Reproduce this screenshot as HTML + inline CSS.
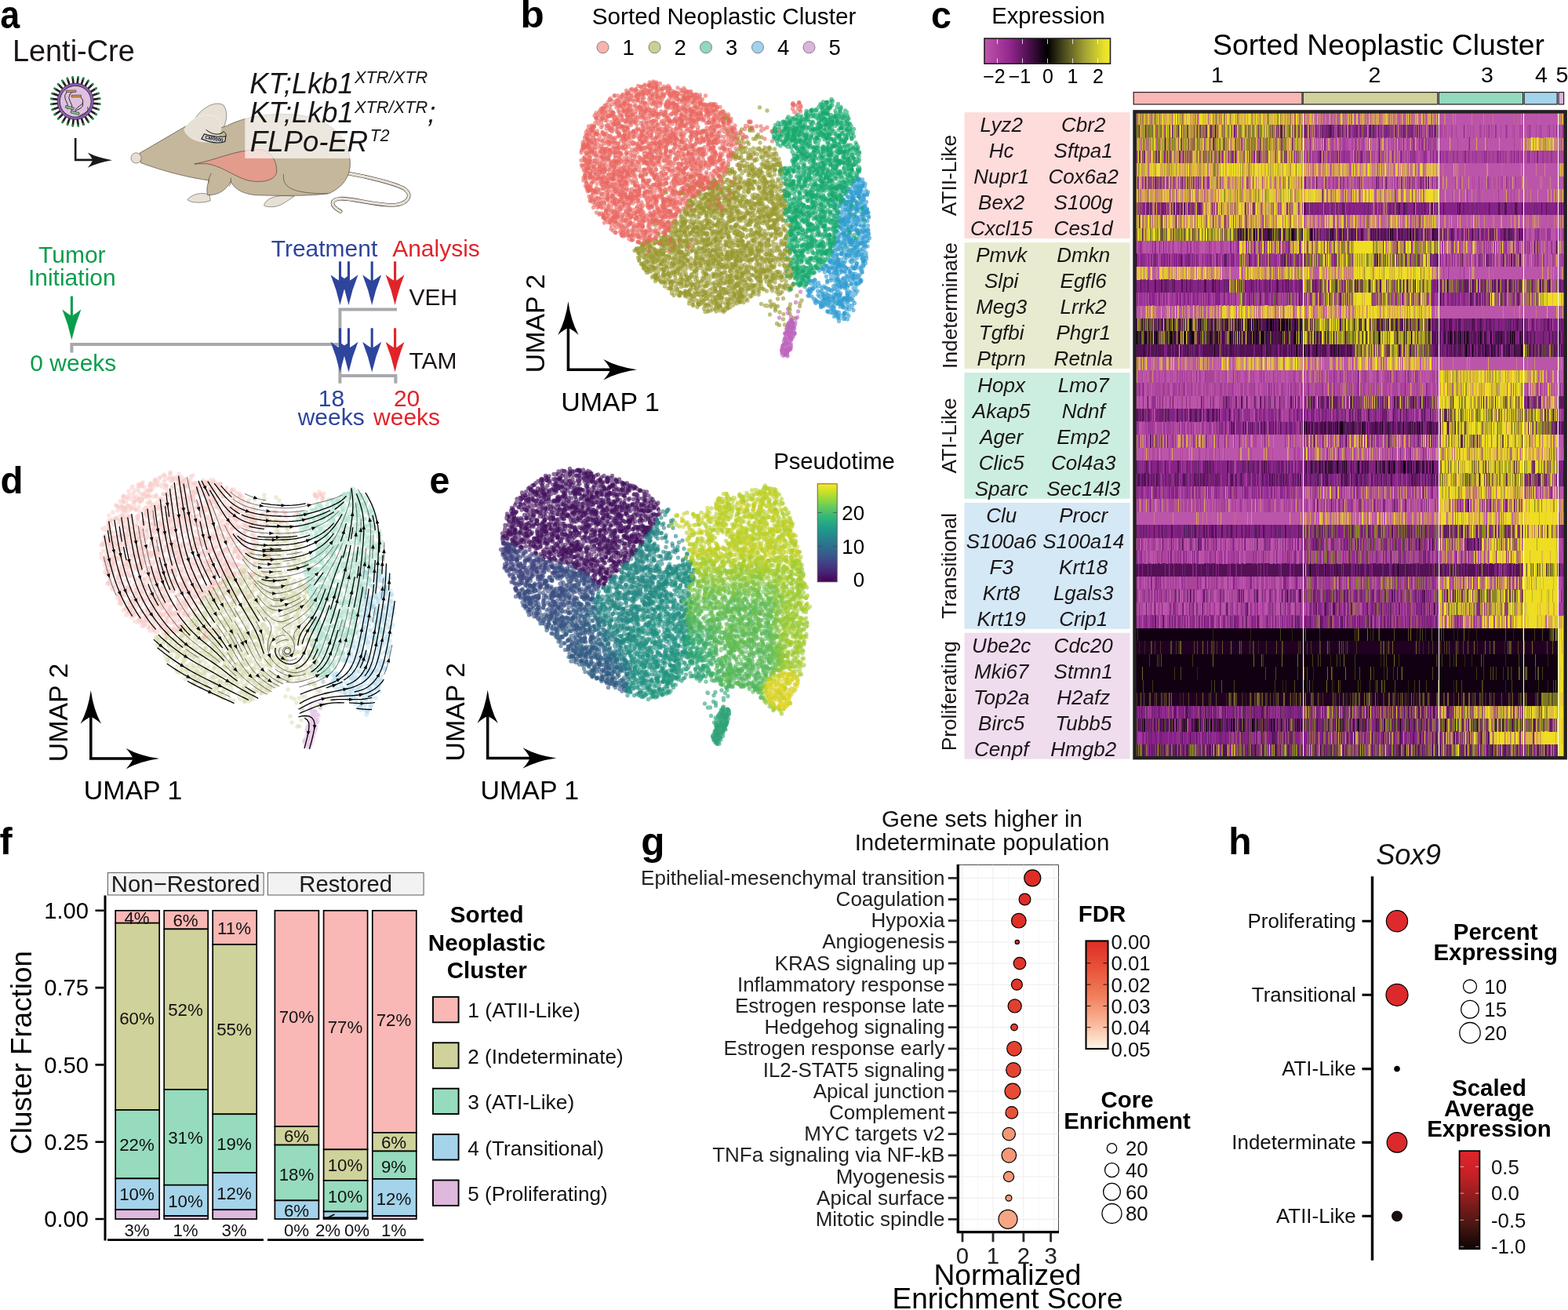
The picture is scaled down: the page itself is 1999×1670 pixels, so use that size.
<!DOCTYPE html>
<html lang="en"><head><meta charset="utf-8"><title>Figure</title>
<style>html,body{margin:0;padding:0;background:#fff}body{width:1999px;height:1670px}svg{display:block;font-family:"Liberation Sans",sans-serif}</style></head>
<body>
<svg width="1999" height="1670" viewBox="0 0 1999 1670">
<rect width="1999" height="1670" fill="#fff"/>
<g id="pa"><text transform="translate(0.2 35.6) scale(0.9 1)" font-size="49.8" font-weight="bold">a</text><text x="15.9" y="78.2" font-size="37.9" fill="#1a1416">Lenti-Cre</text><path d="M120.1 131.9L127.2 132.7M118.9 137.2L125.7 139.5M116.5 142.0L122.7 145.8M113.2 146.2L118.3 151.3M109.0 149.6L112.9 155.7M104.2 151.9L106.6 158.7M98.9 153.1L99.8 160.3M93.6 153.2L92.8 160.3M88.3 152.0L86.0 158.8M83.5 149.6L79.7 155.8M79.3 146.3L74.2 151.4M75.9 142.1L69.8 146.0M73.6 137.3L66.8 139.7M72.4 132.0L65.2 132.9M72.3 126.7L65.2 125.9M73.5 121.4L66.7 119.1M75.9 116.6L69.7 112.8M79.2 112.4L74.1 107.3M83.4 109.0L79.5 102.9M88.2 106.7L85.8 99.9M93.5 105.5L92.6 98.3M98.8 105.4L99.6 98.3M104.1 106.6L106.4 99.8M108.9 109.0L112.7 102.8M113.1 112.3L118.2 107.2M116.5 116.5L122.6 112.6M118.8 121.3L125.6 118.9M120.0 126.6L127.2 125.7" stroke="#231f20" stroke-width="2.7" stroke-linecap="round" fill="none"/><path d="M126.3 132.6L127.6 132.8M124.8 139.2L126.0 139.7M121.9 145.4L123.0 146.1M117.7 150.7L118.6 151.6M112.4 154.9L113.1 156.0M106.3 157.9L106.7 159.1M99.7 159.4L99.8 160.7M92.9 159.4L92.7 160.7M86.3 157.9L85.8 159.1M80.1 155.0L79.4 156.1M74.8 150.8L73.9 151.7M70.6 145.5L69.5 146.2M67.6 139.4L66.4 139.8M66.1 132.8L64.8 132.9M66.1 126.0L64.8 125.8M67.6 119.4L66.4 118.9M70.5 113.2L69.4 112.5M74.7 107.9L73.8 107.0M80.0 103.7L79.3 102.6M86.1 100.7L85.7 99.5M92.7 99.2L92.6 97.9M99.5 99.2L99.7 97.9M106.1 100.7L106.6 99.5M112.3 103.6L113.0 102.5M117.6 107.8L118.5 106.9M121.8 113.1L122.9 112.4M124.8 119.2L126.0 118.8M126.3 125.8L127.6 125.7" stroke="#1f9a4a" stroke-width="2" stroke-linecap="round" fill="none"/><circle cx="96.2" cy="129.3" r="23.2" fill="#8c5eb5" stroke="#231f20" stroke-width="0.7"/><circle cx="96.2" cy="129.3" r="19.9" fill="#dfc1df" stroke="#231f20" stroke-width="0.8"/><g fill="none" stroke="#1f1a1c" stroke-width="0.9"><path d="M85.2 117.30000000000001q-4 4 -2 9q4 6 3 13"/><path d="M95.2 116.80000000000001q-4 0.5 -6 3q-3 5 0 9q4 5 2 12"/><path d="M102.7 123.80000000000001q5 4 2 9q-8 5 -9 8"/><path d="M105.2 130.3q2 5 -3 8q-5 2 -7 4"/><path d="M111.7 136.3q2 5 -4 8q-4 2 -7 4"/></g><g stroke="#1f1a1c" stroke-width="0.6"><rect x="84.60000000000001" y="115.10000000000001" width="12.2" height="2.4" fill="#e3a24e" transform="rotate(-1 90.2 116.30000000000001)"/><rect x="91.2" y="121.30000000000001" width="12.2" height="2.5" fill="#e3a24e" transform="rotate(-1 97.2 122.30000000000001)"/><rect x="83.4" y="135.9" width="10.8" height="2.7" fill="#7fd09b" transform="rotate(14 89.2 137.3)"/><rect x="90.2" y="142.3" width="10.8" height="2.7" fill="#7fd09b" transform="rotate(14 95.2 143.60000000000002)"/></g><path d="M96.2 176V203.9H120" stroke="#1a1a1a" stroke-width="2.6" fill="none"/><path d="M143 204.2Q124 207.4 111.8 213.8Q116.5 208.3 118.2 204.2Q116.5 200 111.8 194.6Q124 201 143 204.2Z" fill="#1a1a1a"/><path d="M443.8 221.0 C469.7 225.5 501.2 233.3 514.7 240.1 C528.2 249.1 519.2 260.4 501.2 261.5 C476.4 261.5 449.4 252.5 433.7 253.2 C420.1 254.7 421.3 262.6 434.1 269.4 " fill="none" stroke="#3a3530" stroke-width="4.6" stroke-linecap="round"/><path d="M443.8 221.0 C469.7 225.5 501.2 233.3 514.7 240.1 C528.2 249.1 519.2 260.4 501.2 261.5 C476.4 261.5 449.4 252.5 433.7 253.2 C420.1 254.7 421.3 262.6 434.1 269.4 " fill="none" stroke="#e7e0d4" stroke-width="3.4" stroke-linecap="round"/><path d="M246.8 154.6 C255.8 136.5 276.1 127.5 285.1 134.3 C291.8 143.3 288.5 159.1 281.7 168.1 C267.1 165.8 255.8 161.3 246.8 154.6 Z" fill="#e7e0d4" stroke="#3a3530" stroke-width="0.5"/><path d="M336.9 260.4 C341.4 251.4 352.6 248.0 375.1 250.2 C366.1 255.9 359.4 262.6 348.1 263.7 C341.4 263.7 335.7 263.7 336.9 260.4 Z" fill="#e7e0d4" stroke="#3a3530" stroke-width="0.5"/><path d="M238.9 254.7 C244.6 246.9 258.1 244.6 267.1 248.0 L268.2 255.9 C258.1 259.2 244.6 259.2 238.9 254.7 Z" fill="#e7e0d4" stroke="#3a3530" stroke-width="0.5"/><path d="M178.1 195.1 C201.8 181.6 224.3 168.1 240.0 159.1 C258.1 165.8 276.1 165.8 289.6 160.2 C312.1 148.9 341.4 143.7 375.1 146.0 C408.9 148.9 433.7 164.7 442.7 188.3 C450.5 210.8 447.2 233.3 420.1 246.4 C397.6 250.2 352.6 249.6 325.6 248.7 C307.6 246.9 298.6 240.1 294.1 231.1 C289.6 240.1 280.6 249.1 264.8 248.7 C262.6 240.1 264.8 233.3 267.1 230.0 C240.0 226.6 206.3 217.6 179.3 207.5 Z" fill="#c5b79c" stroke="#3a3530" stroke-width="0.6"/><path d="M361.6 222.1 C359.4 237.8 370.6 246.9 417.9 246.9 " fill="none" stroke="#3a3530" stroke-width="0.6"/><path d="M269.3 221.0 C267.1 225.5 265.9 228.8 265.3 233.3 " fill="none" stroke="#3a3530" stroke-width="0.6"/><path d="M294.1 226.6 C295.2 231.1 294.1 233.3 292.3 237.8 " fill="none" stroke="#3a3530" stroke-width="0.6"/><path d="M247.9 209.0 C276.1 204.1 296.3 191.7 330.1 190.6 C345.9 191.7 353.7 206.3 352.6 219.8 C350.4 231.1 330.1 234.5 312.1 228.8 C294.1 222.1 280.6 210.8 262.6 208.6 Z" fill="#e39b8c" stroke="#3a3530" stroke-width="0.6"/><circle cx="173.6" cy="201.4" r="6.6" fill="#e7e0d4" stroke="#3a3530" stroke-width="0.5"/><path d="M235.1 165.8 C240.0 150.0 262.6 143.3 276.1 148.9 C285.1 156.8 282.8 170.3 273.8 179.3 C260.3 183.8 240.0 179.3 235.1 165.8 Z" fill="#e7e0d4" stroke="#f4f0ea" stroke-width="0.8"/><path d="M260.3 170.8 C269.3 173.7 278.3 175.3 287.8 173.7 L286.9 180.4 C278.3 183.4 267.1 181.6 256.9 177.1 Z" fill="#c9cbcd" stroke="#111" stroke-width="1.1"/><path d="M262.6 165.4 C271.6 172.6 280.6 172.6 285.1 167.6 C288.5 170.3 288.5 172.6 287.8 173.7 " fill="none" stroke="#111" stroke-width="1"/><text x="272.7" y="178.9" font-size="6.2" font-weight="bold" text-anchor="middle" transform="rotate(10 272.7 178.9)" fill="#111">CM0000</text><rect x="312.3" y="100" width="134.7" height="101.9" fill="#fff" fill-opacity="0.68"/><text x="318.2" y="118.5" font-size="36.3" font-style="italic" fill="#1a1416">KT;Lkb1</text><text x="452" y="105.9" font-size="21.3" font-style="italic" fill="#1a1416" textLength="93.3" lengthAdjust="spacingAndGlyphs">XTR/XTR</text><text x="318.2" y="156.3" font-size="36.3" font-style="italic" fill="#1a1416">KT;Lkb1</text><text x="452" y="143.7" font-size="21.3" font-style="italic" fill="#1a1416" textLength="93.3" lengthAdjust="spacingAndGlyphs">XTR/XTR</text><text x="545.2" y="156.3" font-size="36.3" font-style="italic" fill="#1a1416">;</text><text x="318.8" y="192.8" font-size="36.3" font-style="italic" fill="#1a1416" textLength="150.5" lengthAdjust="spacingAndGlyphs">FLPo-ER</text><text x="471.8" y="180.2" font-size="21.3" font-style="italic" fill="#1a1416">T2</text><path d="M91.4 449.4V438.9H433.4M433.4 488.8V394.4H506M433.4 479.1H504.4V488.8" stroke="#a7a9ac" stroke-width="4" fill="none"/><text x="91.8" y="334.5" font-size="30" text-anchor="middle" fill="#0a9d4c">Tumor</text><text x="91.8" y="363.8" font-size="30" text-anchor="middle" fill="#0a9d4c">Initiation</text><text x="93.3" y="472.5" font-size="30" text-anchor="middle" fill="#0a9d4c">0 weeks</text><path d="M91.4 377.6V403.9" stroke="#0a9d4c" stroke-width="3.1" fill="none"/><path d="M91.4 433.4Q87.2 414 79.4 394.6Q86 399.9 91.4 402.9Q96.8 399.9 103.4 394.6Q95.6 414 91.4 433.4Z" fill="#0a9d4c"/><path d="M433.5 333.3V359.5" stroke="#2e459d" stroke-width="3.1" fill="none"/><path d="M433.5 389Q429.3 369.6 421.5 350.2Q428.1 355.5 433.5 358.5Q438.9 355.5 445.5 350.2Q437.7 369.6 433.5 389Z" fill="#2e459d"/><path d="M444.5 333.3V359.5" stroke="#2e459d" stroke-width="3.1" fill="none"/><path d="M444.5 389Q440.3 369.6 432.5 350.2Q439.1 355.5 444.5 358.5Q449.9 355.5 456.5 350.2Q448.7 369.6 444.5 389Z" fill="#2e459d"/><path d="M474.2 333.3V359.5" stroke="#2e459d" stroke-width="3.1" fill="none"/><path d="M474.2 389Q470 369.6 462.2 350.2Q468.8 355.5 474.2 358.5Q479.6 355.5 486.2 350.2Q478.4 369.6 474.2 389Z" fill="#2e459d"/><path d="M503.6 333.3V359.5" stroke="#e1242a" stroke-width="3.1" fill="none"/><path d="M503.6 389Q499.4 369.6 491.6 350.2Q498.2 355.5 503.6 358.5Q509 355.5 515.6 350.2Q507.8 369.6 503.6 389Z" fill="#e1242a"/><path d="M433.5 418.3V445" stroke="#2e459d" stroke-width="3.1" fill="none"/><path d="M433.5 474.5Q429.3 455.1 421.5 435.7Q428.1 441 433.5 444Q438.9 441 445.5 435.7Q437.7 455.1 433.5 474.5Z" fill="#2e459d"/><path d="M444.5 418.3V445" stroke="#2e459d" stroke-width="3.1" fill="none"/><path d="M444.5 474.5Q440.3 455.1 432.5 435.7Q439.1 441 444.5 444Q449.9 441 456.5 435.7Q448.7 455.1 444.5 474.5Z" fill="#2e459d"/><path d="M474.2 418.3V445" stroke="#2e459d" stroke-width="3.1" fill="none"/><path d="M474.2 474.5Q470 455.1 462.2 435.7Q468.8 441 474.2 444Q479.6 441 486.2 435.7Q478.4 455.1 474.2 474.5Z" fill="#2e459d"/><path d="M503.6 418.3V445" stroke="#e1242a" stroke-width="3.1" fill="none"/><path d="M503.6 474.5Q499.4 455.1 491.6 435.7Q498.2 441 503.6 444Q509 441 515.6 435.7Q507.8 455.1 503.6 474.5Z" fill="#e1242a"/><text x="413.5" y="327" font-size="30" text-anchor="middle" fill="#2e459d">Treatment</text><text x="556" y="327" font-size="30" text-anchor="middle" fill="#e1242a">Analysis</text><text x="521.5" y="389" font-size="30" fill="#1a1416">VEH</text><text x="521.5" y="470.3" font-size="30" fill="#1a1416">TAM</text><text x="422.5" y="518.1" font-size="30" text-anchor="middle" fill="#2e459d">18</text><text x="422.2" y="541.6" font-size="30" text-anchor="middle" fill="#2e459d">weeks</text><text x="518.6" y="518.1" font-size="30" text-anchor="middle" fill="#e1242a">20</text><text x="518.6" y="541.6" font-size="30" text-anchor="middle" fill="#e1242a">weeks</text></g>
<g id="pb"><text transform="translate(663.6 35.4) scale(1.03 1)" font-size="48" font-weight="bold">b</text><text x="923" y="31.3" font-size="29.7" text-anchor="middle">Sorted Neoplastic Cluster</text><circle cx="768.5" cy="60.3" r="7.5" fill="#f8b3ae" stroke="#808080" stroke-width="1"/><text x="793.5" y="70" font-size="27.5">1</text><circle cx="834.5" cy="60.3" r="7.5" fill="#cdcf92" stroke="#808080" stroke-width="1"/><text x="859.5" y="70" font-size="27.5">2</text><circle cx="900" cy="60.3" r="7.5" fill="#90d9bb" stroke="#808080" stroke-width="1"/><text x="925" y="70" font-size="27.5">3</text><circle cx="966" cy="60.3" r="7.5" fill="#9fd2ee" stroke="#808080" stroke-width="1"/><text x="991" y="70" font-size="27.5">4</text><circle cx="1031.5" cy="60.3" r="7.5" fill="#ddb4de" stroke="#808080" stroke-width="1"/><text x="1056.5" y="70" font-size="27.5">5</text><g fill="none" stroke-linecap="round" stroke-width="5.3" stroke-opacity=".6"><path d="M928 153.5h0m28 9h0m4 4h0m3.5 10.5h0m2-2.5h0m2 .5h0m-23.5 15.5h0m7-2h0m24-.5h0m-41.5 9h0m20.5 2h0m22-.5h0m.5-3h0m-37.5 4.5h0m4 1.5h0m3.5 3h0m18-2h0m.5 1h0m6-2.5h0m2 3h0m12.5 0h0m-40 7.5h0m10 1h0m3-3h0m14.5-.5h0m1.5 0h0m1.5 4.5h0m1-6.5h0m1.5 2.5h0m.5 0h0m6.5.5h0m4.5-.5h0m1.5-1.5h0m2 1h0m1 2h0m-61 4.5h0m3.5 4h0m14.5-2h0m5-1.5h0m4.5-2.5h0m.5 6h0m8-4.5h0m2.5 5h0m7-4h0m3-2.5h0m13.5 2h0m1.5-1h0m-73.5 8.5h0m7.5-1.5h0m23 2h0m10-2h0m4.5 5.5h0m2.5-2h0m3.5 0h0m6.5-3h0m.5 1.5h0m12.5-1h0m-82.5 10h0m11 0h0m9.5-1h0m2 1h0m9 .5h0m2 .5h0m9.5-1.5h0m7-.5h0m13.5 1.5h0m0-4.5h0m13.5 5h0m-99.5 1h0m17 5.5h0m4-3.5h0m5.5-1h0m14 2.5h0m7.5-2.5h0m2.5 0h0m2.5 1.5h0m1.5 2h0m.5-2.5h0m2.5 2h0m2.5 1.5h0m5-4.5h0m1 5.5h0m1-6h0m2.5 1h0m1 3.5h0m9 1.5h0m7-5.5h0m3.5 2.5h0m6.5.5h0m2.5-2h0m-125 10h0m44 1.5h0m14.5 0h0m6.5-5h0m7.5 3.5h0m5-2h0m1-3h0m0 .5h0m12 .5h0m.5 2.5h0m15-1.5h0m6.5 5h0m1-1h0m4.5-1h0m1-1.5h0m.5-3h0m-97.5 8.5h0m9 4h0m6-2h0m1.5 3h0m7.5-6h0m3 5.5h0m.5.5h0m12-2h0m3.5.5h0m10 .5h0m3.5-4.5h0m8.5 0h0m9-1h0m.5 4.5h0m0-.5h0m6-1h0m.5-2.5h0m0 4h0m3.5-2h0m6.5 1h0m8-3.5h0m11 6h0m3.5-5.5h0m-120 7h0m1 0h0m1.5 5h0m1.5 0h0m5.5-.5h0m5-3h0m19.5 0h0m7 1.5h0m2.5-.5h0m1 2.5h0m3-2h0m1 2h0m5 0h0m0-4h0m2.5 4h0m2.5-1h0m6-4h0m9.5.5h0m4.5 0h0m1.5-1h0m10.5 4.5h0m4 0h0m8.5-3h0m1.5 0h0m10 1h0m2.5 1.5h0m-128 9h0m5.5-1h0m4-4h0m8 5h0m8-3.5h0m4.5-1h0m.5 0h0m5.5-.5h0m1.5-.5h0m1.5 3h0m2-4h0m1.5 4.5h0m2-4h0m4 .5h0m2 2h0m4-1.5h0m4 1h0m2.5 4h0m1-4h0m2 2h0m5 2.5h0m2-6.5h0m11.5 2h0m11 3h0m10.5-1.5h0m6.5-3h0m5 4.5h0m2.5-1.5h0m2-1h0m13-1.5h0m.5 1.5h0m-132.5 9h0m.5 1.5h0m4-5.5h0m3 .5h0m4 4.5h0m11.5.5h0m1.5-3h0m1.5-2.5h0m6 5h0m6.5-1.5h0m14-2h0m5.5-.5h0m5-1h0m2 2.5h0m6.5-1.5h0m8.5.5h0m5.5-.5h0m2.5 1.5h0m2.5-3h0m.5 6h0m.5-.5h0m13-.5h0m2-2.5h0m9.5 1.5h0m5-.5h0m1.5 1.5h0m3-.5h0m-142.5 8.5h0m10-1h0m12.5 0h0m8-1.5h0m9.5 2.5h0m9-3h0m3 3h0m0-1.5h0m7.5-4h0m5 3h0m3.5.5h0m3 1h0m7.5-5h0m3.5 1.5h0m1 1h0m8-.5h0m.5 2.5h0m3-4.5h0m3 0h0m1.5 6h0m6.5-2h0m4.5-2h0m8-2h0m.5 5.5h0m1.5-1h0m3.5-.5h0m5.5.5h0m0-5h0m6 4h0m4.5-1.5h0m7 1h0m-144 8.5h0m2.5 0h0m3.5-3.5h0m7.5 2h0m3-3.5h0m2.5 3.5h0m.5-3h0m10.5.5h0m12 4h0m3-.5h0m5.5 2h0m5.5-2.5h0m4-1.5h0m.5-1h0m8 2.5h0m1 0h0m3.5-3h0m9.5 4.5h0m1.5-2h0m.5-1h0m6 4h0m7.5-5.5h0m4.5 2h0m8.5 0h0m2 1.5h0m15 2h0m1 0h0m4-4h0m-131.5 10h0m5.5-5h0m4 3.5h0m1.5 0h0m6 2h0m7.5.5h0m5-5h0m1 3.5h0m2-4h0m.5 2.5h0m3.5 2h0m1-2.5h0m6-3h0m1.5 6.5h0m1 .5h0m8.5-1.5h0m1 1h0m.5-1.5h0m8.5-.5h0m6-4h0m4.5 3.5h0m3-4h0m.5 3.5h0m0-.5h0m24 3.5h0m0-4h0m6.5 3h0m4 1h0m20-5h0m3 1.5h0m1.5-2h0m3 5.5h0m2.5-4.5h0m8 2.5h0m.5 1.5h0m-159 4h0m.5 3h0m5.5-.5h0m8-2.5h0m3.5 3h0m9-2.5h0m.5 3h0m16.5-6h0m10 3.5h0m2 .5h0m15 2h0m1 0h0m10-1h0m1.5 1h0m9-4.5h0m20.5-.5h0m8.5 1h0m4-2h0m1.5 5.5h0m.5-4h0m9-1.5h0m7-.5h0m4.5 2.5h0m-172.5 11.5h0m5-2h0m8-4h0m0 4h0m8.5-2.5h0m4.5.5h0m5.5 0h0m1 1h0m3.5-2h0m1 4.5h0m15-3h0m.5 3.5h0m4.5-2.5h0m.5-2.5h0m6.5 3h0m9-4.5h0m2.5 0h0m3 0h0m.5 5h0m2 .5h0m2.5 0h0m6-6h0m1 2.5h0m2.5 3.5h0m3-5h0m9.5 3h0m14.5 1.5h0m3.5-2.5h0m12-1.5h0m12 4h0m9-4h0m18.5 3h0m1 1.5h0m1-5h0m1.5 3h0m-190 8.5h0m1.5-.5h0m6-1.5h0m5.5 2.5h0m1.5-3h0m8 2.5h0m13-.5h0m3-5h0m11.5 3h0m4.5-.5h0m3 0h0m8-1h0m0 1h0m.5.5h0m7 2.5h0m11.5 0h0m2.5-3h0m20 3.5h0m7.5-4.5h0m11-.5h0m4.5.5h0m3.5-.5h0m0 6h0m3.5-4.5h0m0 2.5h0m3-3.5h0m25.5 0h0m3-.5h0m.5-.5h0m22.5 4h0m-194 3.5h0m6.5 2.5h0m.5 3h0m3-1h0m1-5h0m3 6.5h0m2.5-6.5h0m11 3h0m5-1.5h0m1 3h0m2.5 1h0m.5-1h0m21-1.5h0m3-.5h0m6 3.5h0m7-6h0m5.5 3.5h0m2-3h0m7 1.5h0m2.5-2h0m7.5 6.5h0m1.5-6.5h0m4.5 0h0m3.5 5.5h0m.5 0h0m3-.5h0m8-2.5h0m3.5 3h0m2-5h0m7.5.5h0m.5 0h0m3.5 0h0m9.5 2h0m.5-.5h0m2 2.5h0m.5-1h0m2.5-4h0m5.5.5h0m2 4h0m0 1.5h0m3.5-4.5h0m6.5 3.5h0m4-4.5h0m2 2h0m1 4h0m9.5-.5h0m3-2h0m6.5-3.5h0m-190 9h0m0 0h0m1 2.5h0m7.5-2h0m.5-2.5h0m6.5 1.5h0m9 2.5h0m2.5-1.5h0m2.5-3h0m.5 5h0m2-3.5h0m2 4h0m11.5-1.5h0m15-2h0m14-2.5h0m6.5 5h0m8.5 0h0m1.5-1h0m1 0h0m.5.5h0m5.5 1h0m4.5-5h0m3.5 5h0m6-1.5h0m1-3.5h0m1 1.5h0m6.5 1h0m4 3h0m2-5h0m0 2.5h0m4 3.5h0m1.5-2h0m5.5 1h0m1-5.5h0m4.5 5h0m6.5-2h0m9 .5h0m4 1h0m1.5.5h0m8 .5h0m8-2.5h0m7.5-2.5h0m5 4h0m-186 5.5h0m1 2.5h0m3-4.5h0m7.5 0h0m11 2.5h0m6.5 2.5h0m1-2.5h0m9 1.5h0m3.5.5h0m1 0h0m1.5-4.5h0m7.5 2.5h0m.5.5h0m3.5-4h0m2 5h0m2 0h0m6.5-2.5h0m14.5-2.5h0m3 5.5h0m2-3h0m2.5-2h0m6 2.5h0m14-2h0m4 3h0m3.5 0h0m7-3h0m27.5.5h0m.5 4h0m5.5-5h0m.5-.5h0m3 0h0m2 5.5h0m5-.5h0m.5-3h0m1-1.5h0m5 4h0m13-4h0m-184 10.5h0m1-1h0m6 3h0m3.5-5.5h0m10.5 2.5h0m1.5 2h0m1-5h0m.5 3.5h0m13-2h0m1.5 2h0m3 0h0m0-1h0m5-.5h0m7-1.5h0m4.5 2h0m5.5 3h0m18.5-3h0m16-2h0m2.5 0h0m7.5 5.5h0m3.5-4.5h0m10 1.5h0m8-1.5h0m1.5-2h0m0 6.5h0m1.5-3h0m2.5-1h0m3 0h0m9.5 1h0m3.5.5h0m5.5-1h0m6.5-1.5h0m5.5 5.5h0m10-2h0m3-2.5h0m.5-1.5h0m-178 6.5h0m9.5 5h0m9-2.5h0m.5 2h0m3-.5h0m3.5-4h0m2 5.5h0m0-3.5h0m3 0h0m2-2h0m8.5 6.5h0m7-1h0m11.5.5h0m13.5-3.5h0m.5-.5h0m8.5 4h0m0-4h0m5 1h0m.5.5h0m.5 1h0m2 .5h0m3.5-3.5h0m.5 3.5h0m5.5-.5h0m5 .5h0m2.5-4.5h0m3.5-.5h0m2 1.5h0m6.5 2h0m13.5 0h0m4.5-4h0m3.5.5h0m2 5.5h0m2.5-4.5h0m3-1h0m0 3h0m2 3h0m12.5-1.5h0m19.5 0h0m-172.5 4h0m3 1h0m3 2h0m3 1.5h0m8.5-1h0m5 1h0m11.5-3.5h0m16 .5h0m3 3h0m6-5.5h0m1.5 2h0m2.5 2h0m15-2.5h0m2.5 3.5h0m2-4.5h0m0 5h0m7-2h0m2-2.5h0m.5 3h0m3-4h0m.5-1h0m8 2h0m2.5-1h0m7.5 5h0m4.5-5h0m1 2h0m9-1.5h0m4 3h0m13.5 1.5h0m.5 0h0m3-4.5h0m2.5-1h0m0 6h0m8.5-2.5h0m2.5-2.5h0m3 3.5h0m-138.5 3h0m5 4h0m0-3.5h0m6.5 2.5h0m4-1h0m1.5 1h0m7 1.5h0m2-1h0m.5-.5h0m.5-.5h0m8.5 1h0m1.5-2.5h0m0-2h0m5.5 1h0m3.5 1h0m1 5h0m13.5-6.5h0m15.5 1h0m1.5 0h0m2-1.5h0m.5 5.5h0m3-3h0m1 4h0m3.5-6h0m5.5 2h0m6.5.5h0m17-1h0m1 1.5h0m19 2.5h0m2-4.5h0m-147.5 5.5h0m8.5 6.5h0m.5-6h0m0 1h0m0 1h0m2.5 2.5h0m7 1h0m5.5-2h0m2.5-3h0m4 4.5h0m3-3.5h0m1.5 1.5h0m0-2h0m2 2h0m1 1h0m3-2.5h0m1.5 1h0m11-3h0m2.5 4.5h0m2-3.5h0m.5 3h0m6-2.5h0m.5-1h0m5 6h0m1-4h0m15.5 1.5h0m2.5-2h0m5-2h0m4.5 1.5h0m7 3.5h0m7.5-.5h0m1-4h0m15 .5h0m1 2h0m7.5-1h0m5 2.5h0m-138 4.5h0m6.5-.5h0m8.5-.5h0m7 4.5h0m16-3h0m3-2h0m0 6h0m1-1h0m13-2h0m0 2h0m4.5-4h0m1 4h0m1-2.5h0m9-3h0m7.5.5h0m5 5h0m.5-4h0m1.5-1h0m.5 0h0m3 3.5h0m44 2.5h0m1-6h0m23.5 2h0m-125.5 10h0m24 1h0m3-1.5h0m.5-4h0m10.5 5h0m2-3.5h0m2 .5h0m1.5-1.5h0m5 4h0m1.5-2h0m.5-3h0m4 2h0m25.5 3.5h0m11.5-3.5h0m-65 10h0m1-3h0m57.5-1.5h0m2.5.5h0m10.5 3.5h0m3-3h0m-78.5 6.5h0m5-1h0m63.5 5h0m17.5-.5h0m-.5 6.5h0m-5 7.5h0" stroke="#96962a"/><path d="M828 105h0m5.5.5h0m2 0h0m1-.5h0m.5.5h0m-26.5 8.5h0m16.5-5h0m5.5 3.5h0m3.5-1h0m7 2h0m3-3h0m2.5.5h0m5 2h0m16.5 2.5h0m2-3h0m-78 8h0m16.5-2h0m1.5 3h0m2-.5h0m9.5-2h0m3-1.5h0m4.5 4.5h0m3.5-2.5h0m12 1h0m13-2h0m3.5 4h0m7.5-.5h0m3.5-3.5h0m3.5 2.5h0m2 0h0m3.5 0h0m3.5-.5h0m-99 7.5h0m10.5.5h0m0-5.5h0m2.5 5.5h0m6-2h0m2-2h0m.5 2.5h0m2 1h0m2.5-3.5h0m5.5 1.5h0m2-1h0m8-.5h0m8.5-1h0m4 1h0m14.5.5h0m2.5-2h0m13 .5h0m.5 3.5h0m1.5-2.5h0m2.5 4.5h0m4.5-6.5h0m4.5 4h0m4-3.5h0m3 3.5h0m1.5 2.5h0m-120.5 5h0m6.5-.5h0m5-.5h0m2.5 0h0m1 3h0m2.5-4h0m4 4h0m.5-4h0m7 2h0m2 .5h0m5 1h0m12-5h0m10.5 2.5h0m17.5 2.5h0m4.5-.5h0m5.5-3.5h0m1 4.5h0m1-.5h0m4.5 1h0m8-1h0m12-.5h0m7.5-2.5h0m1.5.5h0m6.5 2.5h0m5-3h0m4.5 3h0m102.5-1.5h0m8 2.5h0m-252 1.5h0m.5-.5h0m2 5.5h0m14.5-6h0m2 1h0m5.5-.5h0m.5 3.5h0m6 1.5h0m4-3h0m11-3h0m2 3h0m7.5 1h0m3.5-1.5h0m20.5 4.5h0m15-3h0m4.5 0h0m.5-3.5h0m0 4h0m7 1.5h0m.5-5h0m3 4h0m1 .5h0m3.5 0h0m17.5-4h0m1.5 5h0m3.5-1.5h0m3.5-1h0m2-3h0m10 5h0m91 0h0m8-.5h0m-262.5 5.5h0m2 1h0m1.5-2h0m2.5-2.5h0m5 4h0m0-3.5h0m.5-1h0m9.5 3.5h0m1.5-.5h0m0-2h0m1.5-.5h0m22 6.5h0m1.5-2.5h0m4.5-2.5h0m3.5 4h0m2.5-2h0m.5-1.5h0m1.5 2h0m11.5.5h0m2.5-1h0m4-2h0m.5 2h0m4.5-2h0m5 1h0m4.5 3h0m5.5-4.5h0m4.5 0h0m7.5 1h0m12.5-.5h0m5.5 2.5h0m2 .5h0m0-3.5h0m5 0h0m25-.5h0m5 5.5h0m2-2.5h0m3.5 1h0m86-4.5h0m-252.5 9.5h0m4.5 2h0m2-5h0m5.5 3.5h0m10.5 2h0m1.5 1.5h0m.5-2.5h0m1-2.5h0m6 .5h0m5.5 0h0m5 1.5h0m4.5-3.5h0m1 .5h0m0 5h0m3-3h0m11.5 3.5h0m7-2h0m12 2h0m3.5-3.5h0m1.5-1h0m5 1.5h0m1-.5h0m5.5.5h0m3.5 2.5h0m4-5h0m3 3h0m9-2.5h0m4 .5h0m.5 0h0m2 .5h0m0 0h0m4-.5h0m2.5-1.5h0m2.5 0h0m9 4.5h0m1 .5h0m5-1.5h0m0-4h0m12 4h0m.5 0h0m0-2h0m1 2.5h0m6-.5h0m3 1h0m22.5-.5h0m-199 6.5h0m12.5-1.5h0m5 4h0m3.5-.5h0m5-5h0m12 3h0m5.5 0h0m20.5-.5h0m4 1h0m2.5 1h0m1 1h0m11.5-5.5h0m.5 4.5h0m2 1h0m1-6h0m15 0h0m10.5 3.5h0m1.5-3.5h0m3.5 3h0m7.5-3h0m1.5 4h0m24 .5h0m2 1h0m3.5-1.5h0m10.5 0h0m2.5.5h0m2 1.5h0m6.5 0h0m18-3.5h0m2 0h0m17.5.5h0m-220.5 4.5h0m1 0h0m2-.5h0m1 0h0m1.5 1.5h0m6 4h0m12-.5h0m14-1.5h0m2.5 2h0m7-3.5h0m0 4h0m7-.5h0m3 .5h0m2-1h0m4.5-5h0m4.5 3h0m4-2h0m4 1.5h0m24.5-2h0m12-.5h0m27 5h0m.5-4h0m3.5 1.5h0m0 1.5h0m3.5-1.5h0m6 4h0m3-5.5h0m.5 5h0m.5-5h0m0 1.5h0m.5 4h0m.5 0h0m2.5-4.5h0m15.5-2.5h0m9 4.5h0m49.5-1.5h0m0 0h0m-238.5 11h0m0-3.5h0m.5 1h0m2.5-3h0m7.5 4h0m.5-1h0m0-.5h0m19 2h0m1.5-2.5h0m.5-1.5h0m1 0h0m2 2.5h0m1.5.5h0m7-3.5h0m.5-.5h0m4 4.5h0m3-1.5h0m.5 2h0m3.5-1.5h0m18 .5h0m.5 1h0m0-2.5h0m12.5.5h0m16-1.5h0m.5 4.5h0m1.5-3.5h0m3 .5h0m2-1h0m2.5-2.5h0m1 5.5h0m.5-5h0m1.5 3h0m1 2.5h0m7.5-4.5h0m11.5.5h0m14 2h0m2.5 2h0m5-6h0m1.5 4.5h0m8.5 2h0m11.5-4h0m5.5-3h0m-180 8h0m2.5 1h0m4.5 0h0m2.5-2h0m.5 4.5h0m11.5-3.5h0m6.5 0h0m3.5 2.5h0m2.5-.5h0m13-1h0m3 3.5h0m.5-4.5h0m4-.5h0m1.5.5h0m2 1.5h0m.5 3h0m11.5-2h0m9.5 1h0m2.5 0h0m3.5-.5h0m1-.5h0m.5-1h0m.5 2.5h0m22.5-2.5h0m2.5 4h0m.5-5h0m8 1h0m1.5-.5h0m0 .5h0m4 4.5h0m5-1.5h0m8-3h0m.5-1h0m.5-1.5h0m6.5 2h0m2.5-.5h0m4.5-1h0m7.5 1h0m1.5 1.5h0m11.5-2h0m6 5h0m6-5.5h0m3 4.5h0m4.5-1h0m-199 4h0m.5 2.5h0m5.5-3h0m1.5 2.5h0m3.5 1.5h0m0-2.5h0m1 3.5h0m11-4.5h0m6.5 2.5h0m2.5 3.5h0m9-3h0m9-2.5h0m19.5-.5h0m1 .5h0m3 1h0m1 .5h0m3.5 0h0m8 2.5h0m10-4.5h0m7 0h0m13.5 2.5h0m9.5 1.5h0m8.5-1h0m2 1h0m3-.5h0m0-3.5h0m2.5 5.5h0m4.5 0h0m0-2h0m1.5.5h0m7-3h0m8.5 1.5h0m3-1h0m8 1h0m5 1h0m7.5 1h0m7.5-1.5h0m-197 5h0m6.5.5h0m3.5-1h0m9 5.5h0m5-5.5h0m1 4.5h0m.5-5.5h0m2.5 2.5h0m.5-2.5h0m5.5-.5h0m2.5 5.5h0m.5-5.5h0m6.5 6.5h0m.5-3.5h0m4.5-.5h0m16.5 2h0m2-3h0m1.5 4h0m3-4h0m14.5 2h0m2 1h0m.5 1.5h0m1.5-3h0m.5 1h0m3-4h0m2.5 1.5h0m.5-1h0m17 3.5h0m1-3h0m2 1h0m4.5 3h0m2.5-3h0m5.5-1.5h0m2.5 5h0m4.5 1h0m1-5.5h0m4 4h0m.5 0h0m10-1h0m.5-1.5h0m3 2.5h0m0 1.5h0m12-3h0m3 1.5h0m1.5 0h0m6-2h0m10 3.5h0m-183 4h0m2.5 2.5h0m1-1h0m12.5-4.5h0m0 2h0m9-1.5h0m0 3.5h0m1 1.5h0m15.5-.5h0m9 1h0m4-.5h0m4-6h0m12 5h0m.5-3h0m2.5 2h0m2 3h0m7-6.5h0m2 3.5h0m.5-3.5h0m3.5 1h0m3-.5h0m1.5 5.5h0m2.5-4.5h0m9.5 2h0m.5-2.5h0m27-1.5h0m2 6.5h0m5-3.5h0m5.5.5h0m16.5-.5h0m4 .5h0m.5-2.5h0m5.5 3.5h0m21-4.5h0m20 2.5h0m-216.5 8.5h0m.5 0h0m7 2h0m2.5-5.5h0m4.5 5h0m1-4h0m1.5 2h0m3.5-1.5h0m3 3h0m2.5-4h0m1.5 2h0m10 .5h0m1 2h0m.5-2h0m2.5 2.5h0m0-5.5h0m15.5 0h0m12 3h0m3-3h0m10.5 0h0m1.5 2h0m.5-1.5h0m2 2h0m1 1.5h0m.5-2.5h0m1.5 5h0m19-6h0m4 2h0m.5-2.5h0m1.5 0h0m9 1.5h0m0 5h0m2.5-2h0m6.5-3h0m.5-.5h0m1.5 5h0m5-2.5h0m8-3.5h0m4.5.5h0m0 4h0m5.5-1.5h0m10-2h0m3 2h0m7.5 0h0m9-.5h0m-184 8h0m2.5 0h0m.5-2h0m12 .5h0m1.5 3.5h0m1-4.5h0m3 1h0m.5 4h0m4.5-4.5h0m2 1h0m5.5-.5h0m4 2.5h0m0 0h0m9.5 1.5h0m.5-6h0m2 5.5h0m3-3.5h0m13.5 1h0m7 2.5h0m5.5-3.5h0m6.5 1.5h0m7.5-1.5h0m6.5 4h0m11-5.5h0m1 2h0m2.5 4h0m10-4h0m3 2.5h0m1.5.5h0m1.5-4.5h0m8 .5h0m2.5-2h0m.5.5h0m3 1h0m23.5 2.5h0m6-.5h0m9.5 1.5h0m1.5-2h0m-176 5h0m0 6h0m5 0h0m0-1.5h0m1.5-3.5h0m5-1h0m3.5 5.5h0m14.5 0h0m.5-6.5h0m5.5 2h0m0 0h0m4-.5h0m2 5.5h0m7.5-5.5h0m7 3h0m8-1h0m2.5-1.5h0m0-1.5h0m13 0h0m2.5 5.5h0m4-4h0m2.5 3h0m4.5-2h0m11-.5h0m4 4.5h0m11-6h0m6.5 0h0m1 .5h0m3 1h0m8-1h0m4 5.5h0m6-1.5h0m17.5-2h0m-173 6h0m2.5.5h0m7.5 3h0m4.5-5h0m14 5.5h0m1.5-4.5h0m.5 1.5h0m.5 0h0m2.5-3h0m12.5 3h0m5 0h0m11-1h0m14 0h0m8 0h0m12.5.5h0m.5-2.5h0m0 6.5h0m6.5-.5h0m.5-4.5h0m1 3.5h0m7 .5h0m4-4.5h0m3.5 4.5h0m9-1h0m3 1.5h0m1.5-5h0m14 5h0m3-4.5h0m2 2h0m3-2h0m3-2h0m.5 5h0m5.5 1h0m-159 5.5h0m.5-.5h0m3.5-2.5h0m16 4.5h0m.5-2h0m3 2.5h0m2.5-3.5h0m3 .5h0m6.5 2h0m0-5h0m2 5.5h0m.5-3.5h0m3.5-.5h0m5-1.5h0m2 0h0m12.5 2h0m2 2h0m1.5 1.5h0m7-1.5h0m11.5-3h0m2 5h0m2.5-6h0m0 1h0m9.5 0h0m8.5 3h0m1.5 0h0m1.5.5h0m2.5-3h0m11 3.5h0m1.5 1.5h0m1-6.5h0m1 .5h0m6 4.5h0m2-.5h0m2 1h0m2-5.5h0m3.5 1.5h0m3.5-1.5h0m1.5 0h0m.5 1h0m1.5 3h0m.5-1.5h0m1-1h0m1-.5h0m9-1h0m1 5h0m23.5-4h0m7.5 2.5h0m-190 4.5h0m8.5-1h0m1.5 4h0m1.5-3.5h0m.5-.5h0m11.5 0h0m12.5 3h0m5 3.5h0m2-2.5h0m3.5 0h0m1.5-4.5h0m10.5 1.5h0m14.5.5h0m4.5 1.5h0m3.5-.5h0m0 0h0m2 3.5h0m1.5-5h0m0 1h0m8.5-1h0m1.5 4h0m.5-.5h0m4-1.5h0m2-3.5h0m4 1.5h0m3 5h0m8-1h0m3.5-2.5h0m7.5-1h0m2 1h0m10 0h0m2 3.5h0m17.5-2.5h0m-158 5h0m4.5 2.5h0m15-2h0m1.5 0h0m3 2.5h0m15.5-4.5h0m2 4.5h0m6-2.5h0m4 1.5h0m4-3.5h0m4.5 1.5h0m.5.5h0m5.5-1.5h0m3 0h0m9 4.5h0m.5-2.5h0m.5-2.5h0m1-.5h0m5 7h0m2-3h0m10 1.5h0m3 1h0m19 0h0m10-2h0m33-2.5h0m-159 6h0m2 1.5h0m1-1.5h0m1.5 4.5h0m8.5-2.5h0m3.5 0h0m13-2h0m0 2.5h0m6-2h0m5.5.5h0m1.5 1.5h0m1 1.5h0m7-4.5h0m9-.5h0m12.5 3.5h0m6 2.5h0m13 .5h0m2-6h0m0 0h0m1.5 5h0m2.5-5h0m.5-.5h0m.5 5.5h0m3.5-4h0m0 1h0m2-1.5h0m4 3h0m2-2.5h0m51 3.5h0m15-5h0m-156 12.5h0m2.5-.5h0m20-4.5h0m1 0h0m4 3.5h0m11.5-3h0m.5 6h0m4-.5h0m0-1h0m11-5h0m6.5 6h0m4.5-1.5h0m7.5-.5h0m1-1h0m12.5 0h0m21-3.5h0m-112.5 12h0m5.5 0h0m9-1.5h0m1 2.5h0m3-5.5h0m6 6h0m4-3h0m3 1h0m1.5 0h0m4.5 1h0m4.5-2.5h0m1 3.5h0m4.5-4.5h0m.5 2h0m2.5-1.5h0m2.5 3h0m11.5-1h0m9.5 1.5h0m2-5.5h0m1.5 5.5h0m7.5-5.5h0m3 3h0m6-2h0m-90.5 7.5h0m10.5-1.5h0m11 4.5h0m2 .5h0m2-1.5h0m4.5-.5h0m1.5 3.5h0m6.5-5.5h0m2 1h0m2.5 1.5h0m7.5-1h0m2.5 1h0m2.5 1h0m5 1.5h0m1-1h0m1 .5h0m6.5 0h0m8-5.5h0m10 5h0m1-5h0m1 2.5h0m-59 7.5h0m7 2.5h0m2-1h0m2.5-2.5h0m28.5-1.5h0m2.5 5h0m.5-3.5h0m2 0h0m1.5.5h0m4 3.5h0m-73 2h0m15.5 5h0m6.5-2.5h0m6 1h0m.5-2h0m12 1.5h0m2 1.5h0m13.5-1.5h0m11.5 2h0m1-3h0m-52.5 7h0m7 0h0m5-1h0m3.5 1h0m1-1h0m1.5-.5h0m3.5 1.5h0m2-1.5h0m3 2h0m6.5 2h0m2.5-5.5h0m5 4h0m3.5-1h0m-37 3.5h0m2 1h0m9.5 3h0m7.5-2h0m4.5 2.5h0m3-2.5h0m.5.5h0m2.5-1h0m20.5 5h0m-7 1.5h0" stroke="#e9645e"/><path d="M1061.5 129h0m-17.5 7h0m10.5-5.5h0m-20 10.5h0m6.5 0h0m.5-2h0m7.5 3h0m1.5 1h0m1.5-.5h0m.5-.5h0m1.5 0h0m4.5-4.5h0m19 3.5h0m2 2h0m-66.5 7h0m2.5-1.5h0m12-2h0m10.5 1.5h0m5.5-1.5h0m12-2h0m7.5 4h0m1.5 1h0m1-5h0m4.5-.5h0m3.5 4.5h0m-81.5 8h0m7-1.5h0m5 2.5h0m2.5-3.5h0m9-3h0m4.5 5.5h0m.5-.5h0m4.5-3.5h0m8 3h0m10-5h0m3.5 3.5h0m2.5 0h0m1-1h0m.5 1.5h0m.5-2h0m3-.5h0m3.5 1h0m1.5-.5h0m2 .5h0m5.5 3.5h0m6 .5h0m0 .5h0m6.5-2h0m-87 3h0m9 6h0m1.5-5h0m1.5 3h0m7 .5h0m2-3.5h0m1.5 0h0m0 4h0m1-.5h0m.5-4.5h0m7 4.5h0m13 1h0m2 .5h0m3.5-1.5h0m2.5-5h0m1 5.5h0m2.5-2h0m2.5-1h0m.5 3h0m5-5.5h0m2.5 6h0m1-1h0m1.5-1h0m4-3.5h0m.5 2h0m7 2.5h0m5.5-2h0m1.5 3h0m1-2.5h0m0-1.5h0m-93.5 7h0m4.5 0h0m.5-2h0m5 2.5h0m9 1h0m2-4h0m5 1.5h0m1.5.5h0m3.5 1.5h0m1 2.5h0m.5.5h0m1-1.5h0m2.5-4h0m0 1h0m0 2h0m33.5 1.5h0m2 1h0m3-4h0m8-1h0m10.5-.5h0m3 4h0m3 1.5h0m-93 6h0m4.5-5.5h0m5 1h0m1.5 2.5h0m1 2.5h0m4.5.5h0m1-6h0m1.5 1h0m4.5 2.5h0m2.5.5h0m2 1.5h0m6-3.5h0m0-1h0m1 2.5h0m14.5.5h0m5-3.5h0m1 .5h0m2-.5h0m4.5 3h0m4.5 2h0m7.5-2.5h0m4-2h0m0 2h0m6.5-1h0m.5-1h0m1.5 2h0m.5 1.5h0m5.5-2.5h0m-93.5 10h0m8-3h0m1.5-.5h0m11.5-1h0m2 3h0m10-3h0m5.5 4.5h0m27 1h0m14.5-3.5h0m.5-1.5h0m.5 0h0m2 1h0m3-1h0m14.5 4.5h0m-88 2.5h0m1.5 0h0m7-1.5h0m3 3.5h0m6.5-2h0m10.5 1h0m4.5 1h0m4.5-.5h0m3 .5h0m3.5 1.5h0m1.5-.5h0m.5-2h0m.5-1h0m4.5 2h0m1 3h0m.5-5.5h0m1 4.5h0m4-4.5h0m3 0h0m3.5 2h0m9-1h0m6 3h0m4.5-.5h0m2-3h0m3.5 3.5h0m-76.5 6h0m2.5-3h0m3 3h0m1 1.5h0m10 .5h0m0-2h0m4-2.5h0m0 0h0m1 0h0m1 5h0m18.5-1h0m10-4h0m2 .5h0m0-1h0m3.5 0h0m2.5 0h0m.5 5.5h0m1.5-6h0m9 4.5h0m9-3.5h0m-84.5 9.5h0m3 .5h0m5-3.5h0m2.5 2.5h0m1-2.5h0m1 2h0m1.5 1.5h0m3.5-3h0m4 2.5h0m4.5-1.5h0m10-2h0m18.5 4h0m3.5 1h0m2.5 0h0m5-4h0m4 3.5h0m0-2h0m12.5 3.5h0m1.5 0h0m.5-6.5h0m.5 4.5h0m-77.5 9.5h0m7-1.5h0m20.5-4h0m2.5 0h0m1.5 2.5h0m11.5-2h0m9 0h0m4.5-1h0m7.5 4h0m3.5.5h0m4-5.5h0m0 3h0m-93 9h0m5-4h0m3 4h0m0-2.5h0m7 1h0m.5 1.5h0m9 2h0m9-6.5h0m1.5 1.5h0m2 1.5h0m3-2.5h0m.5 3.5h0m4.5-2h0m8-.5h0m12 .5h0m20-2h0m2 1.5h0m2.5 0h0m7.5 1.5h0m2.5-1h0m-99.5 6.5h0m.5 4.5h0m1.5-1.5h0m2.5-2.5h0m7.5 1.5h0m9.5 1.5h0m2 0h0m4-2h0m2.5-.5h0m1-1.5h0m0 4.5h0m1-4.5h0m3.5-1h0m1.5 5.5h0m8-4h0m1.5-1.5h0m2 2.5h0m2 3h0m6-3h0m0 3h0m1.5-1h0m1.5 0h0m11-5h0m1 1h0m9.5 0h0m2.5 4.5h0m2.5-2.5h0m1.5-2h0m2.5 5.5h0m-84 3h0m8.5 3h0m.5-1.5h0m8 1.5h0m1-4.5h0m7 3.5h0m10.5 2h0m1-3h0m0-.5h0m8-2h0m.5 3h0m3-2h0m.5 2.5h0m2 2h0m3.5-3.5h0m3.5-.5h0m5-2h0m4 6h0m1-2.5h0m4.5.5h0m.5 2h0m.5 0h0m9-3h0m1.5-3h0m0 .5h0m-84.5 6h0m4.5 1h0m3.5.5h0m1-1h0m8 0h0m7.5-.5h0m12.5.5h0m10.5 2.5h0m15 1.5h0m2 1.5h0m1-5.5h0m7 2h0m.5.5h0m.5 2h0m11-4.5h0m-83 12h0m10-3h0m6 3h0m9-4h0m1.5 2.5h0m4-3.5h0m1 6h0m22.5-5.5h0m15 2.5h0m0-3h0m3.5 5.5h0m-69.5 1h0m1 5h0m5.5 0h0m7.5 1.5h0m6-4.5h0m2 1.5h0m1.5 2h0m5.5-2h0m4.5-2.5h0m1 3.5h0m7-1h0m2.5-1.5h0m3 3h0m1.5 0h0m2.5-1.5h0m2.5-1.5h0m1-1h0m4.5 1.5h0m1.5-.5h0m2 3h0m3.5.5h0m.5-3.5h0m14 3h0m8-3h0m-94.5 5.5h0m5.5 5h0m11.5-4h0m.5 5.5h0m5-2.5h0m2 1.5h0m11.5-4h0m1.5 3h0m2.5-3.5h0m6.5 4h0m10.5-1.5h0m4-.5h0m2 2h0m8-4.5h0m1-.5h0m1.5 1.5h0m-70 9h0m12 1h0m1.5-1h0m3.5 2h0m4-5.5h0m5 1.5h0m3 2h0m4.5-2h0m1.5 1h0m25.5 2.5h0m-60.5 2.5h0m8.5 1.5h0m3 2h0m3-1.5h0m3.5-2h0m1.5 4.5h0m4.5 1h0m4.5-1h0m7-3h0m1 .5h0m7 .5h0m0-2.5h0m2 3h0m1.5-1.5h0m1.5-.5h0m10 3.5h0m39-5h0m-100 11.5h0m8.5-.5h0m3.5-2.5h0m12 2h0m1-3.5h0m1 5h0m12-4h0m4.5 4h0m6.5-5h0m2.5 4.5h0m12.5-2h0m.5 1h0m8.5-1h0m-63.5 7.5h0m1-2.5h0m1 1.5h0m.5 2h0m4-2.5h0m12.5 1.5h0m4-.5h0m2.5 1.5h0m2.5 2h0m3-6h0m.5 5.5h0m4.5-6h0m3.5 4.5h0m2 1.5h0m0-1.5h0m11.5-2.5h0m3 2.5h0m-56.5 6h0m3.5-2h0m4-1h0m9.5 4h0m0 1h0m3.5-3.5h0m3.5.5h0m0 1h0m2-2h0m8 4h0m8.5-1h0m3-2.5h0m5.5 0h0m4 4h0m1.5-2.5h0m-64.5 9.5h0m7-5h0m20.5 4h0m28-3.5h0m6 4h0m.5-4h0m25.5 4.5h0m-78.5 4h0m3 .5h0m17-2h0m0 3.5h0m6-1h0m2-1.5h0m8 0h0m8.5 2h0m2-2.5h0m1 4.5h0m-55 3h0m5.5-2h0m2 6.5h0m1-3h0m15 2h0m0-4h0m2.5 3h0m6-5h0m9 .5h0m2 .5h0m3.5 2h0m11-1h0m2.5-1.5h0m-48.5 11.5h0m3-4h0m4 3h0m.5 2h0m1-5h0m12.5 3h0m.5 0h0m6-1.5h0m9.5 1.5h0m.5-1h0m1.5-2h0m0 2.5h0m2.5-2h0m0 1.5h0m0 1.5h0m4.5-3h0m25.5-1h0m-74.5 12.5h0m5.5-.5h0m1.5-4h0m2 4h0m2 .5h0m2-4h0m2 2.5h0m7-1h0m5-.5h0m3.5 3h0m-31 2h0m2 1h0m2.5-1.5h0m0 4h0m17 .5h0m7 1.5h0m2-5h0m3 0h0m-41.5 11.5h0m8-2.5h0m4.5-3h0m0 .5h0m.5 5.5h0m1.5-2h0m4-4h0m1 5.5h0m2-5.5h0m9.5 2h0m7-1h0m5 0h0m-31 10.5h0m3 1h0m0-5.5h0m3 5h0m5-1.5h0m1 1h0m2.5 1h0m1-3h0m1 2h0m.5-4h0m-14.5 12.5h0m0-3.5h0m1 1h0m1.5.5h0m.5-1.5h0m1 1.5h0m2.5-.5h0m-8 3.5h0m2.5 3h0m1.5-3.5h0m2 2.5h0" stroke="#10a669"/><path d="M1099 234h0m1-.5h0m.5 1h0m-30 3h0m19.5 1.5h0m.5.5h0m.5-2h0m4.5-.5h0m-17 11h0m2-3h0m2-.5h0m3 1.5h0m.5-2h0m1.5 2.5h0m3.5-2h0m.5 0h0m2-1.5h0m2 2.5h0m0 5h0m6 4h0m0-5.5h0m-23.5 11h0m3.5-3h0m1.5 4.5h0m3-5.5h0m1.5 0h0m5.5 4h0m-8.5 3.5h0m1 4h0m1.5-3h0m1.5 2h0m.5-.5h0m4.5-2h0m.5 1h0m7-.5h0m0 4.5h0m3.5-3h0m1 .5h0m-33 4h0m6.5 3.5h0m5.5 0h0m5-1h0m10.5.5h0m6.5-2h0m1 4.5h0m-37.5 2h0m1 2.5h0m1.5 2h0m5 0h0m.5-4h0m2 3.5h0m12-3.5h0m1.5 0h0m5.5.5h0m7 2.5h0m-35 7h0m2.5-3h0m1 0h0m2.5 1h0m4.5 2h0m.5 1.5h0m3.5-1h0m12-1h0m4-1.5h0m-28 6h0m1.5 4h0m2.5-2.5h0m3.5-1h0m1 1.5h0m4-1h0m5.5-1h0m4.5 1.5h0m3 3h0m5.5-3.5h0m2 0h0m.5.5h0m-38 9.5h0m6.5 1h0m19.5-5h0m7 2.5h0m1.5-1h0m5 2.5h0m-40 4.5h0m4.5 2h0m10-4h0m2.5 1.5h0m5 1.5h0m7 1h0m3 0h0m-16 8h0m8-3h0m7.5 2h0m.5-.5h0m0-4.5h0m1.5 5.5h0m.5-5.5h0m1 2h0m-42.5 10h0m6 1h0m5.5-1.5h0m6.5 2h0m4.5 0h0m8.5-4.5h0m7 4h0m-12 4.5h0m4-3.5h0m0 0h0m13.5.5h0m-52.5 12h0m5.5-4.5h0m7 2h0m3.5-1h0m3 4h0m3 .5h0m3.5-6.5h0m15 3h0m10-3.5h0m-52 8.5h0m5.5 4.5h0m0-3h0m5.5-1.5h0m2.5 4.5h0m1 .5h0m1-1.5h0m7-4.5h0m4 6h0m2-4h0m5 3.5h0m6.5-3.5h0m-27.5 5.5h0m33 3h0m3-3.5h0m-62.5 11.5h0m2.5-1.5h0m27.5-1.5h0m.5 2h0m2.5 1.5h0m9.5 0h0m1.5-2h0m0-1h0m7.5-2.5h0m4 0h0m3 1h0m2 5h0m-57.5 1.5h0m3.5 4h0m2-.5h0m27.5-1h0m4.5 1h0m2 1.5h0m1-.5h0m.5.5h0m7.5 1.5h0m3-2.5h0m-57 7h0m.5-3h0m19 4.5h0m10.5-5h0m7.5 5.5h0m8.5-3h0m2.5.5h0m8.5-2h0m2 1.5h0m-63 6h0m21-1.5h0m3.5 6h0m2 0h0m6.5-5.5h0m.5-1h0m1.5 3.5h0m1.5-2.5h0m.5 5.5h0m.5-1.5h0m2.5-1h0m9.5 1.5h0m1-4h0m-37 8.5h0m3 3.5h0m3.5-4.5h0m0 1.5h0m5-2.5h0m1-.5h0m.5 0h0m1 2.5h0m12.5-2h0m4 .5h0m.5 3h0m.5-5h0m3 .5h0m1 4.5h0m2.5-3.5h0m3.5-1.5h0m-38 10h0m1.5-1.5h0m7-.5h0m.5.5h0m6 .5h0m.5 4h0m20-5.5h0m-27.5 8h0m11 5.5h0m1-5h0m9.5 2.5h0m-13 3.5h0m6.5 3.5h0m-.5 2.5h0" stroke="#2a99d0"/><path d="M1020.5 372h0m-6 13.5h0m-6 23.5h0m-5 7h0m2-4h0m2-2h0m4 2.5h0m2 2h0m-10 6.5h0m3-3.5h0m1 2h0m0 1h0m.5 2.5h0m3-4.5h0m.5 2.5h0m.5-2.5h0m-10 10h0m0-4h0m2.5 5h0m.5-1.5h0m3-.5h0m.5-1.5h0m1-1h0m2 1h0m1-2h0m-10.5 13h0m2.5-5.5h0m3.5.5h0m2-1.5h0m-12.5 11.5h0m1-1.5h0m4-.5h0m0 2.5h0m1-4h0m2 .5h0m0 2.5h0m2-1h0m-10.5 7.5h0m2-1h0m.5 4h0m0-1h0m3.5-4.5h0m2.5 1h0m1-.5h0m-6 6h0" stroke="#bb60bb"/><path d="M945.5 165h0m-5 12.5h0m4.5 2.5h0m8 1h0m-10.5 9.5h0m.5-2h0m36.5.5h0m-40 4h0m0 2h0m5.5.5h0m9 0h0m4 1.5h0m.5 1h0m1.5-4h0m1 2.5h0m26.5-.5h0m-50 6.5h0m16.5-.5h0m8.5 2h0m27.5 0h0m-50 6.5h0m9.5 2.5h0m9-2h0m14.5 1.5h0m14.5 0h0m2.5-5.5h0m-56 12h0m8.5-4h0m12 5.5h0m4.5-5.5h0m5 1h0m5.5 4.5h0m12-6.5h0m7 2h0m-71.5 8.5h0m10.5-3.5h0m17 6h0m16-2h0m12.5 1h0m6.5-2.5h0m-70.5 9.5h0m8.5-2h0m2.5 0h0m17.5 3h0m2-6h0m9.5 3.5h0m7.5 3h0m22.5-2h0m5-.5h0m-104.5 7.5h0m23 0h0m0-.5h0m7.5-3h0m6 2.5h0m4.5 2.5h0m14.5-4.5h0m7.5 2.5h0m2 0h0m6-3.5h0m2.5 1.5h0m12.5-2h0m1.5 5h0m7-3h0m7.5-1.5h0m4.5 1.5h0m5 1h0m5-1h0m-148 8.5h0m21.5 0h0m23.5 0h0m7.5 2h0m4.5 0h0m3.5-3.5h0m8.5 3h0m3-2h0m4.5-2h0m4-.5h0m.5 5.5h0m1.5-5h0m1.5.5h0m1.5 1.5h0m20.5 0h0m.5-3h0m.5 2h0m7 4h0m9.5-1.5h0m3.5-3.5h0m3 2h0m5-1.5h0m-97 8.5h0m4.5-2.5h0m1.5 1.5h0m.5-2.5h0m3 5h0m1.5-5h0m.5 1h0m9.5 2h0m1 2h0m0-2.5h0m.5 2.5h0m6.5-5h0m6 3.5h0m.5.5h0m13 .5h0m.5-3.5h0m1.5 4.5h0m1.5-1h0m8 .5h0m1.5-2h0m18-2.5h0m.5 1.5h0m.5-1.5h0m4.5 4h0m.5-.5h0m4.5.5h0m4-4h0m3 5h0m.5-2h0m1-3h0m6.5 0h0m.5 6h0m1.5-.5h0m.5-1h0m2-1.5h0m4.5-2h0m4.5-1.5h0m-127 7.5h0m2 0h0m3 1h0m9.5 5h0m5-2h0m4-.5h0m1-2.5h0m3 0h0m5.5 1.5h0m3 3h0m15.5-3.5h0m0 3h0m8.5-4.5h0m4-.5h0m2.5.5h0m0 3h0m6.5.5h0m1-1h0m4-2.5h0m3.5 3h0m2 0h0m4 1.5h0m.5-.5h0m.5 1h0m1.5-2.5h0m.5 3.5h0m.5 0h0m2-4.5h0m15 3h0m4 0h0m2.5-1.5h0m3 2h0m0-5.5h0m6 5.5h0m-126.5 3.5h0m10.5 2h0m10.5-1h0m1.5 3.5h0m4.5-6h0m2.5 1.5h0m1 1h0m3.5 2.5h0m5.5 0h0m4.5-6h0m2 6.5h0m5.5-.5h0m7.5-3.5h0m1.5.5h0m2-1h0m2.5 4.5h0m7-6h0m4.5 0h0m2 5h0m4-5.5h0m.5 2.5h0m8-2.5h0m2.5 5h0m7.5-2h0m1 3h0m10-1h0m.5-1h0m2-1.5h0m1 .5h0m8.5 3h0m2 .5h0m4.5-2.5h0m-131.5 9.5h0m3-3.5h0m7 0h0m1-1h0m.5-1.5h0m2.5 5.5h0m8-3.5h0m6 1h0m1-1.5h0m0-1h0m3.5 5h0m.5-3.5h0m8.5-2h0m5.5 5h0m9-2h0m1-2h0m0 3.5h0m0 .5h0m7 1h0m2-.5h0m10.5.5h0m4.5-4.5h0m1 0h0m14-.5h0m0 2h0m1.5 1.5h0m8-1h0m0-2h0m.5 4h0m5-3.5h0m1 0h0m.5-1h0m2-.5h0m.5 2.5h0m.5-3.5h0m7.5 7h0m3.5-4.5h0m1-2h0m-164.5 11.5h0m51-.5h0m2.5-3.5h0m5 6h0m7-5h0m1 3h0m2.5.5h0m10.5-1h0m15.5.5h0m1.5-1h0m1.5 0h0m8-2h0m3 2.5h0m1.5-4h0m3 1.5h0m6 5h0m2-.5h0m4-1.5h0m3.5 1.5h0m.5-5.5h0m2.5 1.5h0m13 2h0m5 1.5h0m2-1.5h0m3.5-1h0m5.5 1h0m-161.5 6.5h0m26.5-2h0m6.5-2h0m.5 5h0m3.5-3.5h0m0 5.5h0m4-1h0m3.5-3.5h0m1 3.5h0m2-2.5h0m4.5 3h0m.5-1h0m.5.5h0m.5-3.5h0m3.5-1h0m3 4.5h0m2.5-1h0m3.5-3h0m5 3h0m1-1.5h0m5 0h0m4.5 2.5h0m.5-.5h0m7.5-2.5h0m6.5 2.5h0m.5 1.5h0m5-2h0m16-2h0m9.5 2.5h0m4.5-4.5h0m16.5 4h0m3-1.5h0m11.5 1.5h0m4-4h0m2 2.5h0m-151.5 6.5h0m1-1.5h0m3.5-.5h0m4 4h0m3.5.5h0m4.5 0h0m3-.5h0m11-2h0m1-1.5h0m14 5.5h0m8.5-4h0m1-1.5h0m8 4.5h0m4.5-4h0m5.5-.5h0m11 4.5h0m6.5.5h0m5-4.5h0m1 0h0m2.5 1h0m5 0h0m4.5 3.5h0m18.5-5.5h0m5-1h0m3 0h0m7 7h0m6.5-3.5h0m-155 8.5h0m6.5 2h0m0-1.5h0m1 .5h0m0-2h0m1.5-1.5h0m9.5.5h0m4-.5h0m4.5-.5h0m11.5 3h0m4-5h0m.5 1.5h0m10.5 0h0m1 .5h0m6.5-2h0m5.5 6.5h0m5-4.5h0m2 2.5h0m2.5-2.5h0m.5 2h0m4.5-2.5h0m8.5-1.5h0m4.5 1.5h0m4.5 3h0m8.5-2h0m3-1h0m4 2h0m5.5-3.5h0m0 0h0m1 0h0m16 3.5h0m5-3h0m13.5 5h0m.5.5h0m1-2h0m-164 7h0m2 2h0m1.5-2.5h0m.5 2.5h0m6-5.5h0m6 6h0m1.5-5h0m2.5 1h0m1 2.5h0m2-3.5h0m4 2.5h0m.5-.5h0m.5 2h0m2-3h0m0-1h0m3 4.5h0m1.5-2.5h0m2 2.5h0m1-5h0m9.5-1h0m12 2h0m1 4h0m3.5-4.5h0m4.5 3.5h0m2.5-2.5h0m1 1h0m5.5-2h0m9.5 3h0m1.5 2h0m6-1.5h0m7.5-3h0m5.5 3.5h0m8.5 0h0m6.5-4.5h0m1.5 2h0m5 1.5h0m.5 2h0m6 .5h0m1.5-1.5h0m19.5 1h0m-183.5 6.5h0m2.5.5h0m1.5 0h0m2.5-2.5h0m.5-3h0m.5 2.5h0m2.5 3.5h0m7-2.5h0m14.5 0h0m.5-4.5h0m2.5 2h0m4.5 2.5h0m4 .5h0m2-2h0m1.5 4h0m2.5-6.5h0m5.5 5h0m1.5-5.5h0m1 0h0m1.5 3h0m2.5-1.5h0m1.5 0h0m1 4.5h0m1.5-.5h0m6-2.5h0m8.5 1h0m10.5-2.5h0m2.5 5.5h0m25.5-4.5h0m4.5 2h0m7-2.5h0m3.5 2.5h0m.5-1.5h0m3-.5h0m.5 3.5h0m.5-1.5h0m2-2.5h0m4.5 3.5h0m4-2.5h0m12-.5h0m19.5 1.5h0m10-4h0m-187.5 10h0m.5 1h0m14-3h0m7 5h0m1.5-5.5h0m.5 6h0m11-5h0m4.5 0h0m2.5-1h0m5.5 0h0m2.5 4.5h0m2.5-1.5h0m6.5 3.5h0m5.5-1.5h0m5-4.5h0m5 2.5h0m12.5-1.5h0m4 0h0m3.5-1h0m3.5-.5h0m8.5 2h0m7.5 3.5h0m6-3h0m0 0h0m2 3.5h0m2.5-4h0m5.5 2h0m.5-4.5h0m4 3.5h0m2.5-2.5h0m6.5 3h0m0-1h0m7 3h0m5-5h0m7 5h0m1 0h0m6.5 1h0m7.5-6h0m4 1h0m.5 3h0m6-1.5h0m0-2.5h0m5.5 1.5h0m-191 7h0m0-.5h0m11.5 1.5h0m4.5-3.5h0m3.5 3.5h0m3 2.5h0m12-5h0m1 5h0m2.5-3.5h0m9-2h0m0 6h0m2-1h0m2.5-5h0m0 0h0m8 5h0m11 .5h0m3.5-.5h0m15.5-4h0m1.5 5h0m3.5-4.5h0m5-1h0m1 .5h0m7.5-.5h0m5.5 3.5h0m3-.5h0m.5-2.5h0m.5-1h0m5 2.5h0m.5 3.5h0m2-5.5h0m4.5 5.5h0m1.5-4.5h0m1.5 3h0m3.5-4h0m6.5 5.5h0m5.5-5h0m19.5 1h0m2.5 3h0m0-1.5h0m1-1h0m-169 8h0m2.5.5h0m1-2h0m4 3h0m1.5-5h0m4.5 5h0m2-4h0m4-1h0m7.5 0h0m9.5 2.5h0m5 1.5h0m4.5-3.5h0m2.5 0h0m6.5 5.5h0m0-4.5h0m.5 4h0m.5-.5h0m15.5-3h0m4 1h0m5.5-2.5h0m4 4h0m2.5-5h0m4.5 3.5h0m0-3h0m7.5 2h0m11 3.5h0m6.5-.5h0m2.5-4.5h0m1.5 3.5h0m1.5-3.5h0m16 1h0m11 2.5h0m2 1h0m13-3.5h0m17.5 3h0m4.5.5h0m-176 5.5h0m0 1.5h0m7.5-3.5h0m9.5 1.5h0m1.5 3h0m11 0h0m16.5-1.5h0m11 1.5h0m1-6h0m.5 0h0m.5 3h0m1 2.5h0m4-4h0m3 .5h0m6 1h0m12-3.5h0m3.5.5h0m4 .5h0m3 5h0m2.5-4.5h0m4.5 4.5h0m1-.5h0m11.5-3.5h0m5.5 0h0m5 4.5h0m4-6h0m0 0h0m10.5 0h0m1 6h0m4-3h0m.5 3.5h0m3-2h0m1.5-.5h0m3-.5h0m0 2.5h0m2.5-5.5h0m6 6h0m11-6.5h0m6 3h0m3 0h0m.5-1h0m-175.5 9h0m3 2h0m1-2.5h0m.5 0h0m8.5-.5h0m5-.5h0m7.5-3h0m6.5 3h0m8-.5h0m1 3.5h0m5.5-2h0m7-1.5h0m11 0h0m5 2.5h0m19-4.5h0m7.5 4h0m7.5 1h0m1.5 0h0m0 1.5h0m5-7h0m1 7h0m1-3.5h0m1-2.5h0m4.5 3h0m2.5-2.5h0m7 3.5h0m2 1.5h0m7.5-6h0m6 5.5h0m0 .5h0m3-5h0m5 3h0m8-1.5h0m.5 1.5h0m2.5.5h0m7-2h0m.5 3h0m-172 1h0m4 5h0m7.5 1.5h0m4.5-.5h0m9-.5h0m11-3h0m7 2h0m2 0h0m.5-4.5h0m18 4h0m26-2h0m1.5 0h0m1.5 4.5h0m0-3h0m6.5 2h0m0 .5h0m4-1.5h0m13-1h0m8.5-1.5h0m10 0h0m2 0h0m9 3.5h0m4-1.5h0m3.5-2h0m1-1h0m21.5 0h0m-145.5 11h0m7-5h0m7 3h0m2.5-2h0m5 4h0m2-2.5h0m0 4h0m14.5-2h0m2.5-4.5h0m10 2.5h0m1 1.5h0m15 2h0m2.5.5h0m.5 0h0m6.5-1h0m1-4.5h0m1.5 1h0m0 .5h0m.5 1h0m12.5 3.5h0m2.5-.5h0m4.5-2.5h0m34-1h0m5.5.5h0m11.5-1h0m-154.5 11h0m0-2h0m2-1.5h0m3-2h0m2 .5h0m3.5 3.5h0m7-.5h0m3.5-.5h0m34-1.5h0m6 2.5h0m0 1.5h0m5.5-5.5h0m3.5 4.5h0m3-5h0m12.5 5.5h0m3 1h0m15-1.5h0m12-5h0m29.5 0h0m7 0h0m-130 6.5h0m1.5 1.5h0m4.5 2h0m14-1h0m6.5-1h0m6.5 3h0m3 1h0m1-.5h0m1-3h0m1 .5h0m1 2.5h0m2.5.5h0m11 1h0m3.5-4h0m.5 2.5h0m6.5 2h0m2-3.5h0m22.5-2.5h0m-88 8h0m4.5 2h0m3.5-3h0m2.5 3.5h0m5-3.5h0m5.5 5.5h0m3-.5h0m2.5-3h0m.5 0h0m5.5-2.5h0m3 5h0m7-1.5h0m6 1h0m.5 1.5h0m12-6h0m13 1h0m-62 5.5h0m6.5 5h0m14.5.5h0m1-4.5h0m3 3h0m2-2h0m4 3h0m5.5-.5h0m55.5-4.5h0m-58.5 7h0m64 .5h0m12 18h0" stroke="#96962a"/><path d="M822 108h0m15-1h0m4.5-.5h0m-37.5 8h0m9.5-5h0m9.5 4.5h0m.5-5.5h0m4.5 0h0m7 3h0m1.5 2h0m12-1h0m15.5-.5h0m-71 10h0m7-3h0m5 2h0m7 1h0m1.5-1h0m1.5 1h0m1.5-.5h0m3-4h0m0 2.5h0m8.5-4h0m3.5 5.5h0m13-1.5h0m1.5 1.5h0m5.5-4.5h0m2 4h0m2.5 1h0m2.5-4h0m1-1h0m7.5 3h0m10-3h0m1.5 5h0m2.5-4h0m1 3.5h0m10.5-.5h0m-112.5 7h0m10-2.5h0m4 1.5h0m2.5-1.5h0m1 1.5h0m5-1.5h0m4.5 3.5h0m12-4h0m15 3.5h0m1.5-2.5h0m7.5-1.5h0m1 2.5h0m8.5.5h0m13 1h0m3 .5h0m4-4.5h0m4 1.5h0m2 3h0m5 0h0m3.5-4.5h0m1.5 1h0m7 1h0m-120.5 4h0m8.5 0h0m8.5 4.5h0m5-3h0m.5 2.5h0m1.5-2h0m.5 2.5h0m.5-2.5h0m10 1h0m6.5-3h0m17-1h0m5 1h0m4.5 1h0m5.5 2h0m3 3h0m2-4.5h0m5 1h0m2.5 0h0m2 .5h0m3.5-3.5h0m7.5 1h0m4 3h0m5-4h0m4 6.5h0m5-5h0m8 2h0m9 .5h0m.5-1.5h0m101.5 1.5h0m6 .5h0m1.5-2h0m2 2h0m-254 4h0m1.5 2h0m4.5-1.5h0m2.5 3h0m2 1h0m19-1h0m2.5 1h0m2-5h0m1 5h0m1.5-3.5h0m3 1h0m8-3.5h0m3.5.5h0m2.5 3h0m10 2.5h0m6.5-1h0m10.5 1h0m17.5-4.5h0m1 2h0m8-1.5h0m5.5 1h0m6 2h0m4.5-5h0m7 3h0m5 3h0m11-3h0m1.5-3.5h0m96.5 2h0m-246 9.5h0m2.5-2h0m2.5-1h0m2.5-1h0m0 6h0m1.5-1.5h0m3.5-2h0m.5-.5h0m5.5 3h0m1 1h0m3 0h0m3-3h0m3 .5h0m6.5 1.5h0m4.5-3h0m2.5-.5h0m14 2.5h0m.5 2h0m1-5h0m4 2.5h0m1 3h0m12.5-1h0m7.5-2h0m2.5-1.5h0m2 1h0m15 3.5h0m2.5-3h0m11 .5h0m2.5-3.5h0m6 3h0m5.5-1.5h0m3.5 2.5h0m3.5-4.5h0m1.5 1h0m2 .5h0m17 3h0m1 1.5h0m3-1.5h0m0-1h0m3-1.5h0m-168.5 5h0m7.5 0h0m12 4.5h0m3.5-2.5h0m2-2.5h0m3.5 6.5h0m9-1h0m2.5-2h0m4 3h0m3-1.5h0m10 1h0m10-2.5h0m9.5 1.5h0m7-1h0m10 1.5h0m10.5-2h0m4 3h0m2-5h0m3.5-1h0m2.5.5h0m1 3.5h0m3-2h0m1.5.5h0m1.5.5h0m2-1h0m1.5 2.5h0m1.5-1h0m2-2.5h0m5 1h0m2 .5h0m14 1.5h0m7-2.5h0m1 0h0m3 4h0m8-2h0m26 1h0m1-.5h0m-206.5 6h0m1.5 1h0m3 .5h0m1.5 2h0m1-3h0m5.5-3.5h0m3.5 4.5h0m7-2.5h0m1 0h0m1.5-.5h0m5 4.5h0m2.5-5.5h0m9.5 2.5h0m3.5 2.5h0m2.5.5h0m13 0h0m1.5.5h0m4-6.5h0m13 5.5h0m1.5 0h0m14.5-5h0m0-.5h0m2 4.5h0m4-1.5h0m9 3h0m3.5 0h0m2-4.5h0m3-.5h0m3 1h0m8.5 1h0m2 .5h0m24-.5h0m.5-3.5h0m6.5 3h0m21 3h0m22.5 1h0m20-2h0m-229 8.5h0m3 0h0m3-4.5h0m4 4h0m9-2h0m17.5-2.5h0m2.5 3.5h0m11-1.5h0m1 2.5h0m7.5-3h0m11-.5h0m11.5-1.5h0m6.5 2.5h0m2.5-2h0m1.5 5.5h0m7.5-2h0m10-3.5h0m1 5h0m5.5-1.5h0m2.5 2h0m2-4h0m11 0h0m4.5 1h0m1.5 3h0m1-2.5h0m5.5.5h0m3-2h0m4 1.5h0m0-2h0m17.5 1h0m2.5-1.5h0m4 1.5h0m.5-2.5h0m3.5 1h0m2.5-.5h0m.5 2h0m13.5 0h0m41-1h0m-237.5 7.5h0m16-2.5h0m.5 2h0m0 2h0m.5 1.5h0m.5-5h0m1.5 5.5h0m4-6h0m1 3h0m.5-.5h0m12.5 1h0m6-3h0m3 2h0m2-1.5h0m.5 5.5h0m6.5-3.5h0m12.5 1.5h0m3.5-4.5h0m5.5 2h0m1-2h0m1.5 1h0m3 0h0m8 2.5h0m3.5 1.5h0m3.5-3.5h0m0 3.5h0m5 .5h0m2.5.5h0m1.5-6h0m3.5 4h0m2.5 2h0m.5-3.5h0m2.5-3h0m1 5.5h0m6 .5h0m12 .5h0m1-5h0m.5-.5h0m3 1h0m2-.5h0m.5 3.5h0m8 1.5h0m2.5-1h0m3-5.5h0m13 5h0m1-2h0m21.5.5h0m37.5 2h0m-231 8h0m3-.5h0m1-.5h0m2.5-5h0m3.5 3h0m22.5 1h0m0-1h0m7.5.5h0m11 1.5h0m17.5-.5h0m.5 2h0m7.5-4h0m2-1.5h0m13.5 3h0m3.5-1h0m2.5 2.5h0m2-3h0m4-.5h0m2.5 3h0m0-.5h0m4-4h0m11.5 5h0m3.5-3.5h0m13.5 4h0m9.5-3h0m10 2h0m2-3.5h0m0 0h0m3 1h0m2 3.5h0m3.5-2.5h0m1-3.5h0m2 2h0m5 3.5h0m.5-1h0m11 .5h0m-189.5 3h0m5 1h0m2 1.5h0m3.5 2h0m4.5-4h0m.5 0h0m9 2h0m1 0h0m9 1.5h0m5-2h0m6-1h0m1 1h0m6 1h0m6-3h0m13-1h0m.5 3.5h0m2 1.5h0m8.5-2h0m3 1.5h0m9.5.5h0m2.5 0h0m.5-3.5h0m8 4.5h0m0-3.5h0m0-1h0m10 2.5h0m6.5 2.5h0m1.5-1.5h0m6.5-2h0m1 1h0m4.5-3h0m3.5-1h0m10 4h0m2-.5h0m11.5 0h0m2.5 1.5h0m14.5-2h0m1 1h0m-176.5 8h0m4.5-5h0m3 1.5h0m10-1.5h0m5.5 2.5h0m1-2.5h0m5 4.5h0m4.5-2.5h0m10.5-.5h0m7.5.5h0m8 4h0m2 0h0m12-3h0m2 3h0m2-4h0m3.5 0h0m7-2h0m6 1h0m7 0h0m6.5-.5h0m12 2h0m1.5 2.5h0m2 1h0m7-2h0m3-.5h0m17-3.5h0m14.5 2h0m5 3h0m2 1h0m12.5-4h0m-186.5 10h0m.5-5h0m1 4h0m1-3.5h0m4.5 3.5h0m.5-3.5h0m6 4h0m9-4.5h0m1 .5h0m3.5.5h0m2 2h0m2.5 2h0m13.5 1h0m3-2h0m3-2.5h0m2.5-1.5h0m14 6.5h0m2 0h0m0-6.5h0m1 1.5h0m7.5.5h0m.5-2.5h0m3.5 5h0m1-.5h0m3.5 2h0m1.5-6h0m1 4h0m0-1.5h0m12.5 2h0m2.5 0h0m5-3.5h0m0-1h0m6.5 2.5h0m9-1.5h0m0 1h0m1.5-1h0m9 2h0m1.5 1.5h0m2-1.5h0m21 1.5h0m0-3.5h0m2.5 5.5h0m1.5-1.5h0m3.5 1h0m4.5-1.5h0m12 1.5h0m.5-4.5h0m2.5 1.5h0m-181 7h0m7 2.5h0m7-.5h0m3-2h0m5 0h0m3.5 2h0m2-5h0m2 6h0m4.5-6.5h0m1.5 5h0m2-4.5h0m4.5-.5h0m3.5 4.5h0m7.5 1.5h0m1.5-4h0m18-2h0m1 1.5h0m2 2h0m5-1.5h0m1.5 0h0m.5 0h0m6.5 0h0m1.5 1.5h0m16.5 1h0m11-1.5h0m.5 1h0m8 .5h0m2.5-3h0m2 1h0m3.5-1.5h0m14.5-.5h0m4.5 5h0m0-4.5h0m16.5 1.5h0m21.5 2h0m-192 3.5h0m4.5 3.5h0m12.5-1h0m.5-2.5h0m3 4h0m12 1h0m1-3.5h0m.5 3.5h0m4-1.5h0m12 0h0m0 2h0m3-5.5h0m2 3.5h0m1.5-1h0m.5-2.5h0m4-1h0m15 2h0m0 4h0m3-3h0m.5 2h0m1.5-1.5h0m3 1h0m.5 1.5h0m1.5-3h0m11.5-1h0m3-1h0m3 3.5h0m10-4h0m7.5 5h0m0-3.5h0m20 1.5h0m9.5 2.5h0m3-5h0m6.5 4h0m6-4h0m1.5 1.5h0m1.5-.5h0m3.5 2.5h0m2.5-3h0m-179.5 8h0m.5 2.5h0m6 .5h0m1-3h0m9.5 3h0m7.5-.5h0m4 .5h0m2-3h0m6.5-.5h0m6 0h0m.5 5h0m5.5-3.5h0m3-.5h0m6-.5h0m1 .5h0m4.5-.5h0m1 1h0m7 1.5h0m14-3h0m5 0h0m0 4h0m2.5-.5h0m6 1h0m2-3h0m2.5-2.5h0m14 4h0m1.5-2.5h0m2 1.5h0m.5-3h0m1 5h0m5-1.5h0m1.5-2.5h0m7 3h0m4-1h0m1.5-4h0m6.5 3h0m4 3.5h0m9-5.5h0m12 5h0m-171 7h0m9-2.5h0m.5-3.5h0m4 1h0m7.5 4h0m5.5.5h0m7-4.5h0m1.5 0h0m6.5.5h0m3 1h0m.5-2h0m3.5 5.5h0m1.5-1h0m.5.5h0m8 0h0m1.5-.5h0m12.5-3h0m3.5 4h0m3.5-3h0m8.5-2h0m1.5 4.5h0m8.5-5.5h0m12.5 3.5h0m1.5 1h0m0-2.5h0m1 0h0m13-1h0m12 2h0m.5 0h0m.5 1.5h0m4 .5h0m.5-1h0m.5-4h0m2 5.5h0m3-4.5h0m6 2h0m8.5-1h0m4 3h0m5-4h0m12 3.5h0m-185.5 5h0m4.5-.5h0m1 3h0m1-1h0m1 3h0m6.5-2h0m8 .5h0m2.5-1h0m9-4h0m3.5 5.5h0m3-.5h0m3.5-5.5h0m4.5 4h0m1-3.5h0m3.5 4h0m0 .5h0m1 2h0m15-.5h0m.5-1h0m0-2.5h0m2.5 0h0m9.5 1h0m9-2.5h0m2-1h0m1.5 3.5h0m1-3h0m1 2h0m18 1.5h0m9.5 1h0m10 0h0m1-1h0m2-.5h0m.5 3h0m9.5-3.5h0m4.5 2h0m6-1h0m1-1.5h0m4 2h0m6 1.5h0m6.5-6.5h0m-170.5 7.5h0m0 0h0m7 1.5h0m2 .5h0m6.5-2.5h0m6.5 4h0m2.5 1h0m10-2.5h0m6 1h0m1.5-2.5h0m1 6h0m.5-6h0m8.5 0h0m1.5 4.5h0m6 0h0m0-3.5h0m5.5 3.5h0m.5-2h0m6 3h0m3.5-3h0m4.5 0h0m29-2.5h0m2.5.5h0m4.5 2.5h0m2.5-3h0m6.5 4.5h0m.5-2h0m3.5 0h0m0 2.5h0m1.5 0h0m1.5-1h0m2-4.5h0m5 2.5h0m1.5-1.5h0m6.5-1h0m-144.5 13h0m1.5-4.5h0m11.5 1.5h0m9.5 1.5h0m6-1.5h0m.5-2.5h0m8.5 5h0m7-5.5h0m2 5h0m3-3h0m2 .5h0m2 2h0m6.5-4h0m13 3h0m9-1h0m1-.5h0m1 2.5h0m1.5-4h0m6 0h0m2.5 4h0m3 1h0m12-1h0m14.5-4.5h0m7.5 1.5h0m20.5 4.5h0m32-2.5h0m-183.5 3.5h0m9.5 5.5h0m1.5-1.5h0m2.5-.5h0m11-2h0m2-.5h0m3.5-.5h0m1.5-.5h0m2 4.5h0m2.5-5h0m8 5h0m6-.5h0m8.5-3.5h0m.5-1h0m1.5.5h0m13 1.5h0m.5 4.5h0m0-4.5h0m9.5 1.5h0m1.5-1.5h0m8.5-1h0m.5 5h0m4.5-5.5h0m3.5.5h0m5 5.5h0m8.5-2h0m48.5-3.5h0m-159.5 8h0m5.5 0h0m.5-1.5h0m13-.5h0m13.5 4h0m12.5-2h0m2.5 2h0m5 1h0m2.5-2h0m1 1.5h0m4 0h0m10-4.5h0m0 2h0m4-.5h0m16 3.5h0m1 0h0m4.5 1h0m1 1h0m68-6h0m-160.5 7.5h0m4 1h0m2 0h0m9.5 3.5h0m6 .5h0m.5-3h0m1 0h0m1-3h0m4 5.5h0m.5-3h0m1-1h0m4 2h0m7-.5h0m9.5-2h0m5-.5h0m2.5 4h0m12 .5h0m10.5-5.5h0m9 1h0m3 4.5h0m2-5h0m.5.5h0m2.5 4.5h0m4.5-2h0m4-3h0m-95.5 7.5h0m7 5.5h0m.5-2.5h0m0-3.5h0m4 4.5h0m1.5-4h0m1 5.5h0m14-1.5h0m13-4.5h0m7 5.5h0m.5-5h0m13.5 1h0m1 0h0m10 4h0m1.5-5.5h0m-74.5 7h0m5-.5h0m8.5 3h0m3.5-2h0m1.5.5h0m2.5.5h0m1 4h0m0-2h0m15 1.5h0m10.5-4.5h0m0 2h0m1.5 2.5h0m27.5-1h0m3.5-1h0m1-3h0m-61 11.5h0m3-2.5h0m1.5 0h0m17.5 4.5h0m2-2.5h0m4.5 1h0m5.5 0h0m10-1.5h0m1-1.5h0m.5 4.5h0m9-1h0m4.5-4.5h0m2.5 2h0m-48.5 6h0m9.5-1.5h0m1 2.5h0m0 1h0m2.5 1.5h0m4-5h0m1 3.5h0m.5 2h0m0-1.5h0m0-2h0m16.5-2.5h0m9 .5h0m-32.5 10h0m7-3h0m1.5 0h0m.5-.5h0m5 1.5h0m11.5 4h0m14-5h0m11.5 1.5h0m17-.5h0m-28.5 14h0" stroke="#e9645e"/><path d="M1059 129.5h0m-9.5.5h0m9.5 4h0m9.5-1.5h0m3.5 4h0m-37 5.5h0m5-1.5h0m7.5-3.5h0m5 3.5h0m1 .5h0m1.5-3h0m1 2.5h0m14.5-2h0m0 1.5h0m-65.5 9h0m15.5 1h0m7-5h0m1.5 4h0m5.5-.5h0m2-4h0m0-.5h0m9.5 4.5h0m3.5-3h0m1-1.5h0m4 1h0m4 4.5h0m5.5.5h0m6-1h0m5-3.5h0m5.5 4.5h0m-82.5 5.5h0m9 2h0m2-6.5h0m1.5 4.5h0m6-3h0m1.5 4.5h0m4.5-4.5h0m1 3.5h0m1-4h0m2.5 2.5h0m3.5-2h0m5.5 2.5h0m8 2h0m3-4.5h0m4.5-1.5h0m8 5.5h0m3-2h0m2.5-4h0m1.5 3h0m5.5 3.5h0m2.5-.5h0m2.5-5h0m1 5h0m-89.5 3h0m6-1h0m.5-1h0m1.5.5h0m5 5.5h0m0-4.5h0m12.5 5h0m1-.5h0m4.5-4h0m4 2h0m4 1h0m6.5-4h0m8 .5h0m.5 2.5h0m3-1.5h0m1 3.5h0m6.5-4.5h0m2.5-1.5h0m7 0h0m8.5 6h0m6-5.5h0m3.5.5h0m-94.5 11.5h0m.5 1.5h0m1-7h0m1 2.5h0m8 .5h0m5-.5h0m1.5.5h0m8 1.5h0m2.5-1.5h0m12 3.5h0m1-6h0m1 0h0m9.5 5h0m.5-4.5h0m0-.5h0m5 1h0m.5 3.5h0m4-2.5h0m1-.5h0m2 1.5h0m1.5-2h0m2.5 4h0m2.5-1.5h0m1-3.5h0m2.5 5.5h0m2-4h0m1 1h0m1.5 3h0m0-1h0m11-3.5h0m7.5 1h0m-95.5 8h0m1-3h0m5.5 1h0m.5 5.5h0m7-.5h0m.5-3.5h0m1-3h0m1.5 3h0m2 .5h0m7-3h0m0 3.5h0m10.5-1.5h0m2.5-1.5h0m2 1h0m0 4.5h0m1-1.5h0m5-1.5h0m3.5 2.5h0m3.5-2h0m2.5-3h0m8 2.5h0m3.5 1h0m1-2h0m12.5-1.5h0m7.5 5.5h0m2.5-2.5h0m7 1.5h0m2.5-3h0m-81.5 9.5h0m3.5-3.5h0m4 .5h0m6-1.5h0m.5 3.5h0m1.5-1h0m3.5 1h0m1-2.5h0m12 .5h0m16 0h0m1 .5h0m7-1.5h0m1.5-.5h0m16.5 6h0m-66 3.5h0m4 2.5h0m5.5-2h0m9-3.5h0m5 2h0m2 4h0m15.5-3.5h0m4.5.5h0m3.5-2.5h0m9 1.5h0m20 3h0m0-.5h0m-72 3.5h0m4 5h0m.5-2.5h0m1.5-2h0m2-1h0m14 1h0m6.5-.5h0m5.5-1h0m1 5h0m1 .5h0m3.5 0h0m0-4.5h0m1.5 1.5h0m2 4h0m4-3h0m2-2h0m.5-.5h0m.5 1h0m6-1h0m5 5.5h0m8-4h0m1-1h0m-78.5 12h0m3.5-4.5h0m10.5.5h0m1.5 2h0m0-3h0m9.5 3.5h0m6-2h0m4.5 3.5h0m.5-1h0m1.5-4.5h0m2.5 5h0m1.5-.5h0m4-1.5h0m.5-1.5h0m9.5 3.5h0m6.5 1h0m2-6h0m5 1h0m6.5.5h0m-70.5 9h0m15-4h0m3.5 2.5h0m1 3h0m0-4h0m6 1h0m2 3.5h0m4.5-6.5h0m.5 2.5h0m2.5 1h0m5.5-1.5h0m.5-.5h0m3.5 5h0m2.5-1h0m1-.5h0m1 .5h0m3.5-2.5h0m9.5-2.5h0m2 0h0m6.5 3.5h0m-87.5 9h0m0-1h0m5.5 0h0m0 .5h0m.5-5h0m2 3h0m2.5 2h0m4-5.5h0m3 3.5h0m15-2h0m.5 3h0m.5 2.5h0m.5-1h0m5-3h0m1.5-1.5h0m2 3h0m2-2h0m3 1h0m2-2.5h0m3 5.5h0m1.5-3h0m12-1.5h0m3.5 3h0m8 1h0m2.5-1h0m.5 1.5h0m5-4h0m8.5 2.5h0m-92.5 2.5h0m4 2h0m.5 4h0m13.5-2h0m4.5-2h0m14 2h0m8-.5h0m2.5-3h0m1.5.5h0m2.5 3h0m4 2h0m2-4h0m9-2.5h0m2 .5h0m.5 5h0m2 .5h0m1.5 0h0m6.5-3.5h0m12 .5h0m-86.5 6.5h0m6 1h0m5.5-.5h0m.5 2.5h0m0-3.5h0m8 2.5h0m4.5-3.5h0m1.5 1h0m13.5 1h0m3 1.5h0m8.5-.5h0m2-1.5h0m1 4h0m2-1h0m13.5-4.5h0m1.5 3h0m2.5-1.5h0m9 1h0m0-1.5h0m-83 5.5h0m2.5-.5h0m5 1h0m0 4h0m1.5-1h0m1-1.5h0m1-1h0m5.5 1h0m.5 4h0m2.5-4h0m10.5 1h0m2.5-1.5h0m4 .5h0m3.5 1.5h0m4-.5h0m1 2.5h0m7-4h0m2.5 1.5h0m1 2h0m2.5-2.5h0m4 .5h0m3 0h0m1.5-1.5h0m6 3.5h0m4 .5h0m-81.5 2.5h0m5.5 3.5h0m2-.5h0m11.5-.5h0m5-2.5h0m1 1.5h0m4 3.5h0m0-.5h0m5-3h0m1 1.5h0m2-4h0m4.5 0h0m14.5 6h0m4.5-2h0m2.5 1h0m1-1.5h0m2.5-2.5h0m7.5.5h0m3.5-.5h0m-77.5 9.5h0m17.5-.5h0m5.5-.5h0m10.5-2h0m1 5h0m4-5h0m2 3h0m4 3h0m1.5-1.5h0m0-2.5h0m.5.5h0m1 2.5h0m3.5-2.5h0m6 3h0m5-1.5h0m0 .5h0m3.5-1h0m2.5 1.5h0m2.5-.5h0m4.5.5h0m-67 5.5h0m16.5 2h0m10-3h0m1.5 0h0m0 1h0m8 0h0m2.5 1h0m5-5h0m1.5 1.5h0m5 5h0m17.5-6.5h0m2 3.5h0m2.5-2h0m-73.5 5.5h0m6 5h0m1.5-3.5h0m2.5.5h0m12-1.5h0m4 1h0m1.5-2h0m6.5.5h0m8.5 4.5h0m1.5-3.5h0m4.5 3.5h0m7.5-3h0m4.5-.5h0m17 1h0m-82 9h0m11.5-4h0m1.5 6h0m5-5.5h0m4 3h0m6-2.5h0m1 .5h0m.5 4h0m4-4h0m6 5h0m10-2h0m6.5-3h0m-54 9h0m1-2h0m2.5 2h0m2.5-2.5h0m0 4.5h0m1-2h0m2-1h0m1 1.5h0m1-4.5h0m8 4h0m2.5 3h0m1.5-3.5h0m19.5-2h0m5 1.5h0m1.5 3h0m1.5 0h0m2-5.5h0m2 4.5h0m7.5 2h0m2-.5h0m-50.5 2h0m.5 5.5h0m0-5.5h0m11 .5h0m1 3h0m6-1.5h0m7.5 3h0m1.5-6h0m.5 3.5h0m2.5-4h0m.5 4h0m.5 1.5h0m1.5-.5h0m0-2.5h0m.5-.5h0m7.5-1.5h0m3 3.5h0m2.5 2h0m2.5-4.5h0m-62.5 12.5h0m8.5-5.5h0m.5-1h0m3 4h0m6.5-1.5h0m6.5-1.5h0m2 .5h0m5.5 0h0m1-1h0m5.5-.5h0m19.5 5h0m3.5-1.5h0m-59 5h0m4 2h0m2 3h0m1-3.5h0m8-1.5h0m11.5 1.5h0m7-2.5h0m4 0h0m2.5.5h0m4 2h0m0 0h0m3.5 3h0m2.5-4.5h0m.5 3.5h0m.5 1h0m4-3.5h0m2.5 2h0m-55.5 3.5h0m9.5.5h0m5.5-1.5h0m8.5 6h0m3-5.5h0m6 2.5h0m7.5 2h0m11.5 1.5h0m2.5-3.5h0m-52.5 10h0m2-3.5h0m1-1.5h0m2.5.5h0m6-.5h0m9 0h0m4 1h0m6-1h0m0 .5h0m3.5-.5h0m1 2h0m1.5-1h0m10 4h0m20-3.5h0m8-2.5h0m-78.5 7h0m0 0h0m6.5 1.5h0m6.5-.5h0m4.5.5h0m5.5 1h0m5-2h0m.5.5h0m2.5 3h0m9.5-4h0m.5 5h0m4.5-1.5h0m2-2.5h0m-38.5 12.5h0m0-5.5h0m19 2h0m12 3h0m8-4h0m-40 7h0m7-1h0m7.5-1.5h0m2.5 1h0m2 5.5h0m6 .5h0m3.5-3h0m3.5 0h0m0-1h0m2 1.5h0m-33 6.5h0m7.5 2.5h0m9.5 0h0m1 0h0m1.5-1.5h0m5.5-2.5h0m-37.5 10h0m5 0h0m5-4h0m2 1.5h0m9 3h0m5.5-5.5h0m7.5 1h0m-24 6.5h0m2 1.5h0m15.5 3h0m-14 3h0m3.5 0h0m7 1h0m.5-2.5h0" stroke="#10a669"/><path d="M1089 234h0m4.5-5.5h0m1 .5h0m7 4.5h0m1.5 1h0m-15.5 3.5h0m1-3.5h0m4.5 1.5h0m2 1h0m1.5 3h0m0-1h0m.5-.5h0m0 3h0m5.5-4h0m-10 8.5h0m2.5-2.5h0m1 3h0m9.5 2h0m-21.5 5.5h0m1.5-4h0m3 2.5h0m7-1.5h0m-10.5 6h0m.5 3h0m6 1h0m1.5 1.5h0m-28 1.5h0m12.5 3h0m7.5-.5h0m1.5-3h0m2 .5h0m3.5 2.5h0m6.5-1.5h0m6.5 2h0m-35.5 4h0m14.5.5h0m20.5-.5h0m-27.5 12.5h0m.5-2.5h0m4.5 2.5h0m0-5.5h0m7 2.5h0m2 1.5h0m1-5.5h0m3.5 6h0m3-.5h0m3.5-1.5h0m-31.5 9.5h0m2-5.5h0m2.5 3h0m4.5 1h0m7.5-2h0m5 0h0m3.5 0h0m5 2h0m-24.5 7h0m1.5-5h0m6 5h0m9.5.5h0m8-2.5h0m2 3.5h0m3.5-4.5h0m-35.5 8.5h0m1.5-1.5h0m3.5 2h0m5-1h0m21.5 1.5h0m5-3.5h0m-39 9h0m9.5-2h0m.5-.5h0m5.5 4h0m0-4.5h0m.5 5h0m0-3.5h0m15.5 3h0m.5-4.5h0m2 2.5h0m2 .5h0m-35.5 9.5h0m2.5-3.5h0m6.5-1.5h0m2.5 2h0m8 2h0m1 0h0m5.5-4h0m1.5 6h0m5-4h0m-40 7h0m4.5-2h0m6.5 4.5h0m1-.5h0m14.5 0h0m5 1.5h0m2-3h0m-32.5 5h0m6 4h0m14.5-4h0m16.5 4h0m-40.5 3h0m7 1.5h0m2.5 1h0m3.5 3h0m1.5-4h0m28-1.5h0m2 2h0m-51 10h0m12 .5h0m2-5h0m15.5 1.5h0m5.5-1h0m7-.5h0m2.5 2.5h0m-45.5 3.5h0m2 5.5h0m5.5-2.5h0m3.5 3h0m1-4h0m0-1.5h0m3-.5h0m7-.5h0m5.5 5h0m5-3.5h0m4 3.5h0m2 1.5h0m2.5-.5h0m1.5-.5h0m-55.5 5h0m16 1h0m0 2h0m5-5h0m.5-.5h0m11 5h0m4-4.5h0m2.5 0h0m15-1.5h0m3 5.5h0m1.5 0h0m-53.5 1.5h0m19 4.5h0m4.5 0h0m.5-1h0m2.5 1h0m8.5-2h0m7-.5h0m6.5-1h0m3-1h0m-63.5 10h0m.5 2.5h0m5-5.5h0m16 0h0m4 1h0m20.5-1h0m7.5 5.5h0m4.5-1.5h0m1.5 3h0m-56 3.5h0m9.5 0h0m1 .5h0m2 1.5h0m3 1h0m4-4.5h0m1.5 1.5h0m1 0h0m5.5 2h0m4-5h0m4.5 1.5h0m4 4h0m5 .5h0m.5-5h0m5.5 4h0m2-3h0m-48 9.5h0m1.5-2h0m4 1.5h0m11 2h0m2-1h0m.5-2.5h0m3 1.5h0m1.5-2h0m3.5 3.5h0m2-2.5h0m1-.5h0m2.5 0h0m.5 2h0m9.5-4h0m-36 8.5h0m14-1h0m10.5 1h0m4 1h0m0-1h0m4 3h0m7-2.5h0m.5-2h0m-29.5 8.5h0m2.5.5h0m0-2.5h0m6.5 3.5h0m0 2.5h0m5 0h0m-2.5 3h0m0 .5h0m6.5-2.5h0m3 3.5h0m2.5.5h0m1.5-4h0" stroke="#2a99d0"/><path d="M1004.5 394h0m3.5 14h0m6.5-2h0m-9 8h0m2-2h0m.5-1.5h0m.5 3.5h0m2 1h0m0 .5h0m3.5-4.5h0m-8 12h0m.5-6h0m2.5 1h0m3.5.5h0m-12 6.5h0m1-.5h0m3 .5h0m0-1.5h0m1 0h0m1 3.5h0m0-1.5h0m1 4.5h0m.5-4.5h0m2.5 1h0m1 2h0m1.5-3h0m-12.5 6h0m1 6h0m6.5-4.5h0m0 1.5h0m.5-2.5h0m-8.5 6.5h0m2.5 0h0m3.5 5.5h0m1 0h0m-10.5 2.5h0m1-.5h0m5.5 1h0m1-.5h0m0-2h0m-2 8h0m1 .5h0m.5 0h0m0-1.5h0m.5 2.5h0" stroke="#bb60bb"/><path d="M968.5 137h0m-46 13.5h0m5.5 17h0m28-1h0m4.5 10.5h0m4-3h0m-16 8h0m20.5 0h0m-24.5 4h0m2 2h0m21 2h0m4.5 2h0m9-4h0m6.5 2h0m-52.5 8h0m12.5-4.5h0m14.5 1.5h0m3.5 1.5h0m5 3h0m0-5.5h0m4.5 1.5h0m4.5-1.5h0m0-.5h0m1.5 4.5h0m3.5-1.5h0m-39.5 3.5h0m4 4.5h0m5-3h0m3-1h0m5 4.5h0m10.5-5.5h0m5.5 5.5h0m10-2h0m-60 9.5h0m14-3.5h0m3-1.5h0m0 2.5h0m4 1h0m5 2.5h0m17-4h0m5 1h0m2 2h0m8-1.5h0m8.5-3.5h0m.5 4.5h0m-63 6.5h0m11.5-3.5h0m11-.5h0m2.5 5.5h0m1.5-4h0m5.5 4.5h0m3.5-2h0m2 .5h0m9 1h0m3.5-1h0m2-1.5h0m.5-2h0m3 2h0m7 2h0m.5-2h0m0 1.5h0m2.5 1h0m-76 5.5h0m14.5-4.5h0m23.5.5h0m3.5-.5h0m4.5 2h0m0 .5h0m20-1h0m-82 11h0m5-2h0m15.5.5h0m2 1.5h0m.5-4h0m1.5 2.5h0m5.5 0h0m1 .5h0m6 0h0m10.5 0h0m.5 0h0m2 .5h0m0-3.5h0m5.5 3.5h0m0-2h0m7.5.5h0m1-1h0m2 2.5h0m0 .5h0m.5-1.5h0m3.5-3h0m.5 3.5h0m.5 1h0m6.5-2.5h0m2.5-1h0m7 .5h0m2.5 3.5h0m1-1.5h0m6.5 2h0m-109.5 3h0m3.5 3h0m9 .5h0m5-3.5h0m5-1.5h0m0 3.5h0m4-2h0m2.5 1.5h0m6 .5h0m2.5-2h0m12 2h0m10-4.5h0m6-.5h0m9.5 4h0m6 3h0m3.5-1h0m7-4.5h0m1.5 5h0m3-1.5h0m5 1h0m-102.5 5h0m7.5 3h0m4.5-1.5h0m1-2h0m4-3.5h0m7.5 4.5h0m2-2.5h0m.5-2h0m1.5 2.5h0m4 4h0m7.5-2h0m6.5-1h0m10.5-.5h0m24.5 4h0m1.5-3.5h0m2.5 3h0m5.5-3.5h0m1 1h0m.5-1.5h0m.5.5h0m5.5 0h0m0-2h0m-106.5 8h0m15 1.5h0m.5-2h0m.5.5h0m6.5 3h0m4 .5h0m2 0h0m5-1.5h0m6-3.5h0m4 6h0m5-3h0m5-1h0m8.5-1.5h0m15.5 2.5h0m7.5 3h0m11 .5h0m.5-2h0m8.5 0h0m4.5-4.5h0m0 5h0m-112.5 2h0m1 6h0m2-1.5h0m8-2.5h0m.5.5h0m1 1h0m6.5-1h0m4.5 1.5h0m1 .5h0m0-4h0m12 2.5h0m12.5 2.5h0m16.5.5h0m1.5-4.5h0m1.5 2.5h0m1-2h0m2-1.5h0m1.5 2h0m6.5 3.5h0m2-2h0m3.5-.5h0m5 0h0m14.5-.5h0m3 .5h0m1.5 2.5h0m8-1h0m-120.5 7.5h0m2 .5h0m0-6h0m1 3h0m7 1h0m2-4h0m1 6.5h0m3.5-3.5h0m3.5 0h0m.5 2h0m6.5-1h0m11-1.5h0m5 2.5h0m4.5 0h0m6-3h0m1.5 1.5h0m2.5-1.5h0m7.5 4h0m15.5-4.5h0m4 1h0m5.5 3h0m0-1h0m6 .5h0m.5-1h0m5-1.5h0m2.5 1h0m1.5 2h0m3-2.5h0m1.5 1h0m3-2h0m4 4h0m4-5h0m2.5-1h0m-127.5 6.5h0m3.5 4h0m1.5-4h0m6.5 6h0m15.5-4.5h0m4.5-1h0m6 0h0m8.5 4h0m14-3h0m9.5 1.5h0m11-.5h0m6-.5h0m2.5 3h0m0-1h0m0 1h0m15 2h0m.5-3h0m1.5-2h0m2.5.5h0m4.5 0h0m-116 8h0m5 1.5h0m4 .5h0m.5.5h0m18.5-1h0m3 .5h0m19-4h0m8 4.5h0m1 0h0m7.5-3h0m1-.5h0m2.5 1h0m4.5-1.5h0m3.5-1.5h0m9 0h0m0 2.5h0m1 3h0m6.5-2h0m1 3h0m.5-5h0m8-1.5h0m5 1h0m3.5 1h0m1 1h0m5.5 3h0m6.5-4.5h0m-131.5 5.5h0m4 6.5h0m3.5-6.5h0m0 1h0m14-1.5h0m3 6.5h0m3-.5h0m3-3.5h0m9-1h0m5-1h0m4 3h0m2.5 3h0m3-4.5h0m4.5 4h0m16-1.5h0m3 1h0m12.5-2.5h0m1.5-2h0m8 2h0m8.5-2h0m1 0h0m3 0h0m2.5 2h0m.5 1h0m1 2.5h0m2-1.5h0m1.5-.5h0m-123 9.5h0m3.5-4h0m3 0h0m6 3h0m.5-3h0m2-2.5h0m7 4h0m1-2.5h0m7 3h0m3-1h0m1 .5h0m1.5-3h0m.5 5.5h0m1.5 0h0m7-6h0m3.5 4h0m6 2h0m2-2h0m2.5 1h0m2-5.5h0m4 .5h0m.5 3.5h0m.5 2h0m2.5-.5h0m11-2.5h0m3 2h0m4.5-5h0m16 6h0m5.5-5h0m2 .5h0m19 1h0m3.5-1.5h0m7.5 0h0m-160.5 6h0m3.5 5h0m14.5-1.5h0m2.5-3h0m19.5.5h0m13.5 2h0m3-3.5h0m5.5 0h0m6.5 2.5h0m1.5 2h0m2 0h0m8-4h0m.5 4h0m8-.5h0m.5 2h0m9.5-1h0m1-3h0m5 1.5h0m2 0h0m0-3h0m18 3.5h0m2 1.5h0m5.5-2.5h0m3.5.5h0m.5.5h0m0-2.5h0m7.5 1h0m5.5 2h0m3.5-2h0m10 .5h0m-182 11h0m4.5-1h0m8 .5h0m8-1h0m1.5-4h0m1 4h0m2.5.5h0m2-3h0m6 .5h0m3-1.5h0m9 3.5h0m.5-4.5h0m.5 4h0m5-1.5h0m2.5-.5h0m1 .5h0m3 3h0m2.5-6h0m9.5 3h0m2.5 1.5h0m2-2h0m1 3h0m1 0h0m8-5.5h0m0 0h0m2 .5h0m5 5h0m.5-4.5h0m18 1.5h0m10.5 1.5h0m4-2.5h0m15.5 0h0m11-1h0m5.5 4h0m.5-3h0m2 2h0m.5-3.5h0m5.5 3h0m10.5-1h0m-173 8h0m4.5-2.5h0m2.5 1.5h0m24 3.5h0m0-5h0m1 .5h0m4 2.5h0m3 2h0m.5-3h0m.5 1h0m1.5 2.5h0m1.5-6h0m9.5 2.5h0m14.5 2.5h0m4.5-.5h0m7.5 2h0m.5-.5h0m.5-6.5h0m11 3h0m0-1.5h0m.5.5h0m9.5 4.5h0m1.5-6h0m5 3h0m1-1.5h0m.5-1h0m9-.5h0m12 .5h0m1.5 2h0m10.5 1.5h0m3.5-4h0m2.5 1h0m1 5.5h0m-161 0h0m12 5h0m3-.5h0m2 .5h0m1-1.5h0m4 2h0m2 0h0m0-5h0m0 4.5h0m2-1h0m2 2.5h0m1-5.5h0m2.5 0h0m.5 0h0m1.5 4.5h0m1 0h0m8 1h0m4.5-5h0m8.5 2h0m2-1h0m1.5 2.5h0m9-3h0m1.5 0h0m6-.5h0m1.5 4h0m2.5 0h0m3 .5h0m4.5-2h0m3 2.5h0m3.5-2.5h0m4-3.5h0m3 5.5h0m2-.5h0m1.5-2h0m0-2.5h0m11 2h0m7 2h0m1 0h0m4-4h0m1 1.5h0m5 1.5h0m.5 2.5h0m11.5-6h0m1 5h0m1.5-1.5h0m.5-2h0m7-1h0m.5 5h0m4-6h0m11 6h0m17.5 0h0m5-4h0m2.5 3.5h0m-175 6h0m2-1h0m1-3h0m5.5 1h0m17.5 3h0m.5 2h0m9.5-4.5h0m1 1.5h0m1.5 3.5h0m0-6.5h0m2 1.5h0m8.5 2h0m.5 0h0m6.5-2h0m3.5 1.5h0m4.5 1h0m16.5 1h0m3 1.5h0m.5-4.5h0m4 2h0m6.5-3h0m2 .5h0m2 2.5h0m13-3h0m16.5 3.5h0m5.5 2h0m3.5-4.5h0m2.5.5h0m8.5 2.5h0m12-.5h0m2 1.5h0m3.5-3h0m5 1.5h0m-187 2h0m3 4.5h0m24.5 0h0m3-.5h0m10.5 2.5h0m.5 0h0m1 0h0m.5-4h0m10-2.5h0m1 6h0m1-2.5h0m8-3h0m2.5 2h0m5 1.5h0m3 3h0m3-4.5h0m1.5 3.5h0m7 .5h0m.5-2h0m1-1h0m1-2h0m13 3h0m1-3h0m0 3.5h0m3-.5h0m2.5 1h0m3-2h0m12.5 3h0m1-6h0m11 4.5h0m4-5h0m13.5 4.5h0m7.5-3h0m3 5h0m29.5-1h0m-186.5 4h0m3 2.5h0m.5-2h0m2.5.5h0m5-2.5h0m2.5 4h0m3-2h0m2.5 3.5h0m1.5-3h0m5.5 1.5h0m4-3h0m0 1.5h0m13.5.5h0m.5 3h0m.5-4.5h0m39.5 2h0m1-1h0m11.5 1h0m13.5-3h0m6 0h0m.5 1h0m3 4h0m10.5-1h0m10.5-2h0m2.5 2.5h0m0-4h0m11 4.5h0m4.5-1h0m8-4.5h0m-151.5 13h0m1-6h0m10 6h0m15-6h0m3 .5h0m18 1.5h0m0 3h0m13.5-5.5h0m1 2h0m.5 4h0m.5-2.5h0m12 2h0m.5-2.5h0m7 1.5h0m2-2.5h0m5.5-1.5h0m2.5 5.5h0m2 .5h0m8-.5h0m5.5-2.5h0m.5-1h0m.5 2.5h0m3-.5h0m1.5-3.5h0m9 2.5h0m10 1h0m16 1h0m2.5-2h0m2.5 1.5h0m4.5-5h0m1.5 0h0m2 5.5h0m3.5-3.5h0m7 1.5h0m-169 4h0m3 2.5h0m1-3.5h0m4 .5h0m6.5 1.5h0m2 5h0m6.5-6.5h0m15 3.5h0m3-3h0m9.5-.5h0m1.5 4.5h0m1 1h0m21 .5h0m3.5.5h0m3-3h0m11.5 1h0m3 .5h0m4-5h0m4 6.5h0m0-6h0m2.5 1h0m3 .5h0m3.5 2h0m1.5-2.5h0m6.5 2.5h0m11.5 1.5h0m6-4.5h0m14 0h0m3-1h0m-145 11h0m1-3.5h0m3.5 6h0m3-1.5h0m.5-2.5h0m.5 3h0m10-4.5h0m2-1h0m14.5 1h0m9.5 3h0m10-1h0m8-3.5h0m1 6.5h0m4.5-5h0m.5 2h0m1.5.5h0m13-3.5h0m5.5 3h0m2 0h0m3.5 0h0m8.5 0h0m5 2h0m4.5-.5h0m0-2h0m10.5-.5h0m.5 2h0m14 2h0m4-.5h0m6-1.5h0m3 1h0m14.5-3.5h0m-143.5 11h0m5.5 0h0m3.5.5h0m10.5 0h0m6.5-.5h0m1.5-2h0m4 1.5h0m21.5 1h0m1-5.5h0m12 4.5h0m1-5.5h0m9 1h0m1 2.5h0m.5-2.5h0m10.5 0h0m5 3h0m.5 0h0m3.5-3.5h0m1 2h0m0-.5h0m11 1.5h0m17.5 3h0m12-5.5h0m-141 8.5h0m8.5-.5h0m4-1.5h0m5 2.5h0m2-1.5h0m0 1.5h0m1-1.5h0m4-.5h0m2-1h0m3 1h0m12.5-.5h0m9 1.5h0m1 3.5h0m1-.5h0m12-.5h0m1.5-1h0m6.5-1.5h0m.5 2.5h0m4.5-4.5h0m1.5 5h0m1-1.5h0m10-1.5h0m0 1.5h0m5.5-3h0m36.5 5.5h0m-120 6.5h0m4-5h0m.5 6.5h0m7-.5h0m5-2.5h0m.5-1h0m1-.5h0m14 1h0m0 1.5h0m2.5-2.5h0m14 0h0m1.5-1.5h0m14.5 3h0m-44.5 4.5h0m3.5 1h0m1.5-1.5h0m12.5 1h0m2-1h0m4 6h0m5.5-3.5h0m.5 1h0m60.5-2.5h0m18 1.5h0m13-1.5h0m-117 6.5h0m3-1h0m88.5 2h0m13 2h0m4.5 5.5h0m-21 7h0" stroke="#96962a"/><path d="M829 108h0m2-2.5h0m2-1.5h0m2 2.5h0m-36.5 9h0m19-4.5h0m.5 0h0m10 3h0m1-3.5h0m2-1.5h0m0-.5h0m5.5 1.5h0m15.5-.5h0m-69 12.5h0m15-2.5h0m2.5.5h0m1-.5h0m3 3h0m3-6.5h0m5.5.5h0m2.5 1h0m.5-1h0m2.5-1h0m1.5 5h0m7 .5h0m11-5h0m.5 5h0m4.5-.5h0m1-5h0m10 4h0m2-4h0m5.5 2.5h0m2.5 1h0m8.5-.5h0m4-1.5h0m7.5 4.5h0m15.5.5h0m-122.5 5.5h0m9 .5h0m14.5-4.5h0m2 4h0m10.5-1h0m0 1.5h0m17.5 0h0m8-4.5h0m.5 0h0m7 0h0m12.5 6h0m3.5-3h0m1-4h0m.5 3.5h0m5 .5h0m3.5-1.5h0m2 1.5h0m1-1.5h0m1.5-1h0m1.5 1h0m.5 1h0m8.5 0h0m.5 3h0m-110.5 7h0m9.5-4h0m1.5 3h0m1.5-5.5h0m5.5 2h0m24-1h0m3 3h0m1.5 1h0m2 1h0m0-3.5h0m3-1h0m2.5.5h0m2.5-1.5h0m2.5 3h0m2.5 2.5h0m3-1h0m0-2h0m8-1.5h0m4.5-.5h0m3 1h0m4 2.5h0m10-1h0m1.5 0h0m10-2h0m6-1.5h0m.5 5.5h0m1-2h0m2.5.5h0m3.5-1h0m1 0h0m1 1h0m5 .5h0m0 0h0m1.5 2h0m5.5-2h0m100.5-1h0m8.5-2h0m-254.5 10h0m4-3h0m13 5h0m13.5-3.5h0m4 0h0m5 3.5h0m.5 0h0m6-1h0m8.5 0h0m4.5 0h0m1-.5h0m.5-3.5h0m4 2.5h0m3-.5h0m11 2h0m11-4.5h0m4.5 6h0m.5-6.5h0m1 4.5h0m2.5-4.5h0m7.5 1h0m4.5 3.5h0m6 1h0m.5-3h0m8-2.5h0m3.5 6h0m2-6h0m5.5.5h0m0 4.5h0m1.5-4h0m.5 4.5h0m5-6h0m2.5 6h0m4-2.5h0m1-3h0m2 6h0m101-4h0m2 1h0m-259.5 10h0m0-6h0m14.5 4.5h0m4-1h0m3.5-3.5h0m8-.5h0m1.5 2h0m7.5 1.5h0m2 1h0m15.5-4h0m.5 5.5h0m.5.5h0m1-.5h0m13-4h0m2.5-1.5h0m1.5 2.5h0m2.5-1h0m9.5.5h0m8.5 0h0m6 3.5h0m.5-4.5h0m10.5 3h0m17-2.5h0m.5-1h0m10 2h0m9.5-1h0m3 1.5h0m.5-1.5h0m1.5.5h0m.5 4h0m5.5-5h0m-155 7.5h0m1-1.5h0m4.5 2.5h0m13 1h0m3.5 2h0m7.5-3.5h0m2.5 1h0m0 1h0m12.5.5h0m9 1h0m2-2h0m2.5 2h0m9-2.5h0m4-2h0m16-.5h0m.5 2.5h0m5 .5h0m1.5-2h0m1 2.5h0m7-4h0m1.5 4.5h0m5.5 1.5h0m5.5-1h0m.5-5.5h0m0 1.5h0m2 4.5h0m7.5-5h0m7 1h0m3 4.5h0m2.5-6.5h0m.5 6h0m7.5-3.5h0m5 2.5h0m1.5-4h0m5 5.5h0m1.5-6h0m6 2h0m26.5 3h0m-199 5h0m22.5 2h0m6-2.5h0m2 1h0m4 0h0m8.5 1h0m11.5-3.5h0m14 4h0m.5-3h0m4.5 2h0m.5-1.5h0m1.5-1.5h0m.5 2.5h0m4.5-2h0m10 5h0m2.5-4.5h0m4.5 4h0m8-4h0m2.5 2.5h0m2.5 1h0m8 1h0m30-.5h0m.5.5h0m7.5-5.5h0m3 1.5h0m12-2.5h0m1 3.5h0m2.5.5h0m4.5-2h0m21.5 3.5h0m15.5 1h0m-227 6h0m.5-2.5h0m3 1.5h0m2-2h0m1-2h0m6 4.5h0m9-1h0m2.5 2.5h0m6-6h0m3.5 2h0m15-.5h0m7.5 2h0m4-1h0m0 0h0m5 2.5h0m6 0h0m.5 1h0m2.5-1h0m11.5-4h0m11.5 1.5h0m7-2h0m6 3.5h0m12 1h0m12.5 0h0m1.5-2h0m4.5 0h0m2 .5h0m5.5.5h0m4.5-1.5h0m2-1h0m6 3h0m1-2h0m1.5-1h0m0-1h0m6 3.5h0m17.5-2.5h0m2 2h0m3.5.5h0m5.5 0h0m5-5h0m21 2h0m24 0h0m-245.5 11.5h0m1 0h0m8.5 0h0m18-4.5h0m2 2h0m2 1h0m14-3h0m1.5 2.5h0m11-2h0m0 .5h0m3.5-2.5h0m1.5 1.5h0m3.5 3h0m.5-1h0m.5-2.5h0m0 5h0m7-.5h0m1.5-1.5h0m1.5 0h0m1-1.5h0m.5 0h0m2.5-3h0m1.5 7h0m4.5-3.5h0m17.5 1h0m4.5-4.5h0m2.5 5h0m11-4.5h0m0 0h0m9 3.5h0m13.5-3.5h0m6 2h0m3 4.5h0m4-5h0m4.5 3h0m0-2.5h0m2.5 3h0m.5-3h0m17 .5h0m15-3h0m5 3.5h0m-207.5 8.5h0m5 .5h0m1 1h0m.5-5.5h0m22 3h0m3.5 2h0m1.5-3h0m1.5-.5h0m4.5-2h0m3.5 4h0m1 1.5h0m19-2h0m12.5-2h0m14 1.5h0m6.5 0h0m1-1.5h0m3 2h0m2-4h0m.5 2.5h0m3.5 0h0m.5 3h0m2.5-2.5h0m1-1h0m6 3.5h0m6-4h0m19.5 5h0m18-1.5h0m5-1.5h0m1.5-2.5h0m.5-.5h0m3 3h0m18.5-2.5h0m1.5 5.5h0m10 .5h0m40.5-5.5h0m-241.5 9.5h0m2-2.5h0m1.5.5h0m24 2.5h0m11-3h0m4.5.5h0m.5-1.5h0m1 4.5h0m10.5-.5h0m7.5 1h0m5.5 0h0m7-1h0m4-2h0m4-2h0m3.5 1h0m8 2h0m3-1h0m9 3h0m14-4h0m9.5 1h0m1 1.5h0m10-1.5h0m.5 1.5h0m0 1h0m1-5h0m7.5 6h0m4.5 0h0m5.5-.5h0m.5-1.5h0m2.5-1h0m3.5.5h0m11 0h0m12-3h0m-181.5 10h0m3-1.5h0m.5-1h0m4.5 2h0m0 1h0m14-.5h0m11.5-2.5h0m1.5 1h0m6.5 2.5h0m5.5-1.5h0m23.5-2.5h0m21.5 4.5h0m4-1h0m.5 2h0m1-.5h0m1.5-5.5h0m22 4h0m6-2h0m6-.5h0m3 .5h0m3-2h0m5 .5h0m.5 4.5h0m0-2h0m1.5 2h0m0-4h0m14 4h0m.5-4.5h0m.5 3h0m9 1h0m2.5-4.5h0m4.5 5.5h0m.5-2.5h0m4 3h0m-191.5 6h0m3-2.5h0m2.5 2h0m5 1h0m17-1h0m1.5-1.5h0m4.5-2.5h0m1.5 2h0m6.5 3h0m4 .5h0m3-5h0m9 5.5h0m2.5-.5h0m5.5-.5h0m12.5-1.5h0m4-3.5h0m1-.5h0m6.5 6h0m1-5h0m6.5 1.5h0m2 4h0m0-2h0m1-3h0m5 4h0m.5-4.5h0m5-.5h0m9 4h0m1.5-2h0m1.5-2h0m11.5 4h0m4.5-1h0m2.5-.5h0m5 3h0m17-2.5h0m2.5 0h0m0-2h0m1 5h0m.5-3.5h0m3-2h0m6.5.5h0m1 3h0m-173 7h0m2-2h0m3.5-2h0m14 6h0m6 .5h0m12.5-1.5h0m5-5h0m1 2h0m6 4h0m3.5-5.5h0m1 3h0m1.5-3h0m3.5 2.5h0m10 1h0m7.5-4h0m11 3h0m19-1h0m0 0h0m12.5 0h0m3.5.5h0m10-3h0m4.5 6.5h0m2-6h0m2 4.5h0m5-2h0m.5 2.5h0m.5-5.5h0m1 3h0m2.5 0h0m2-2h0m1 .5h0m5 3h0m2-1h0m2-1h0m6.5-2.5h0m6 7h0m2-5h0m2 3.5h0m0 0h0m-177 3.5h0m0 2.5h0m.5.5h0m2-4.5h0m5 4h0m2-2h0m.5 3.5h0m5-3.5h0m4.5 2.5h0m2-2.5h0m1.5 4h0m13-3h0m4.5 1h0m6 .5h0m1.5-1h0m7-1.5h0m1.5 2.5h0m1 1h0m1-1h0m1 2h0m6-3.5h0m1.5-2.5h0m5.5 2h0m7-2h0m16.5-.5h0m1.5 5h0m7-3.5h0m0 .5h0m5.5 1.5h0m8.5-.5h0m3.5.5h0m1.5 2.5h0m2.5-6h0m8 1.5h0m11 3h0m3-4h0m18 0h0m2 2h0m1-.5h0m.5 1.5h0m1 .5h0m3.5 2h0m3-3.5h0m1 2h0m-182 8h0m1 0h0m1-3h0m0 1.5h0m6.5-.5h0m.5-4h0m27 6.5h0m0-5h0m2 4h0m1-3h0m2-1h0m.5 3.5h0m6.5-1.5h0m.5-3.5h0m5 5.5h0m2.5-5.5h0m.5 1h0m2 3h0m14-.5h0m2.5.5h0m2.5-3h0m1.5 0h0m12 3h0m0 2h0m0 .5h0m8.5-6.5h0m0 1h0m5.5 0h0m3 5h0m8-2.5h0m3-1.5h0m1.5-.5h0m15.5 4h0m1.5-1.5h0m0 1h0m3.5-2h0m1-1h0m6 1h0m6.5 3h0m10-.5h0m4.5-5h0m2.5 4h0m0-1h0m1.5-.5h0m19.5 3.5h0m-188.5 6.5h0m7-1h0m9-5h0m2 4h0m2-2h0m0-.5h0m2 3.5h0m3.5 1h0m9.5-6h0m15 4.5h0m11 .5h0m2-4h0m8.5 5.5h0m.5-3.5h0m4.5 3.5h0m14-4.5h0m11.5 4.5h0m9-4.5h0m.5-1.5h0m2 1.5h0m1.5 4.5h0m1-6h0m0 4h0m2.5 2h0m.5-3.5h0m.5-.5h0m2.5 3.5h0m3.5-5.5h0m.5 1h0m9 3h0m7-.5h0m5.5 1h0m1.5-3h0m6 4h0m10-1.5h0m5-2.5h0m-169.5 7.5h0m18.5-1.5h0m7.5 2.5h0m7.5 1h0m12-2.5h0m11.5 4.5h0m4-4.5h0m4 .5h0m2 3.5h0m5.5-4.5h0m1 2h0m3-2h0m4.5 5h0m4-5.5h0m5 4h0m3-5h0m6.5 6.5h0m11.5-6h0m4.5-.5h0m12 1.5h0m9.5 1.5h0m.5-1.5h0m7.5 5.5h0m2-7h0m2.5 7h0m5.5-3h0m1.5-3.5h0m2 2h0m0 2h0m4-3.5h0m7.5 5.5h0m-169.5 2h0m.5 1h0m4.5-2h0m2 6h0m1-1.5h0m2-2.5h0m3.5 1h0m4.5 2.5h0m9-4.5h0m7.5-.5h0m3 1.5h0m0 0h0m1.5 4h0m9.5-.5h0m8.5-3h0m5.5-.5h0m1.5 3.5h0m1-2.5h0m7.5 0h0m5-1.5h0m15-2h0m1.5 5.5h0m14.5-2h0m1.5-.5h0m9.5 2h0m.5-1h0m1.5 1h0m.5-4h0m4.5 5.5h0m1 0h0m1-6h0m4.5 1.5h0m2 2.5h0m46 .5h0m-176 8.5h0m4.5-.5h0m2.5-1.5h0m3.5 1h0m3 .5h0m3 1h0m3-1h0m1.5-4.5h0m5.5 0h0m3 3h0m9.5-2h0m7 2.5h0m2-2.5h0m4.5 3.5h0m1-4h0m23 3.5h0m2-3h0m3 4h0m0-3.5h0m5-2.5h0m4 5h0m7.5-3h0m2 3h0m4.5 1h0m15-5.5h0m1 3h0m12-3.5h0m39 2h0m-162 8.5h0m6-3h0m1 4h0m9 2h0m1.5-5.5h0m6 3h0m2 1.5h0m3 .5h0m1 0h0m.5-2.5h0m8.5 2.5h0m5-3h0m7 .5h0m4 2.5h0m2 0h0m17-.5h0m9-3.5h0m1.5.5h0m1-2h0m7 4h0m.5-3.5h0m4 1.5h0m14.5-2h0m2.5 5h0m29.5 0h0m-143 1.5h0m3 .5h0m5.5 2h0m4 .5h0m.5-3h0m2 2.5h0m1.5 2.5h0m.5 1h0m5-4.5h0m1.5-1h0m4.5.5h0m1 2h0m33-3.5h0m2.5 3.5h0m.5-.5h0m1-2h0m2 .5h0m7 2.5h0m6.5-1.5h0m4-1h0m0 0h0m4.5 5.5h0m9.5-2h0m.5-2h0m7.5 0h0m10.5 2h0m38.5-.5h0m-156 6.5h0m5.5 2h0m3-5h0m11 6h0m3.5-4h0m11.5-2.5h0m3.5 3.5h0m1.5-2h0m1-1.5h0m.5 6.5h0m20-2h0m3.5-3h0m2 2.5h0m4-.5h0m5-2h0m8.5 0h0m0-.5h0m13 2h0m-91.5 5h0m.5 0h0m9.5 3h0m7.5-3.5h0m3.5 2.5h0m3-2h0m1.5 2.5h0m4-3h0m16 5.5h0m4-.5h0m.5 0h0m3.5-6h0m9 4h0m1.5 1.5h0m2-5.5h0m1.5 6.5h0m1-2.5h0m5 1h0m3.5 1h0m2.5-6h0m4.5 1h0m-76 6h0m7 0h0m4 3h0m4.5 1.5h0m10-2.5h0m5-.5h0m6.5 5h0m1.5-4.5h0m.5 3.5h0m1.5 0h0m1.5-1.5h0m8.5-1.5h0m0 3.5h0m4.5-3.5h0m3.5-1.5h0m3 0h0m2.5 4.5h0m5.5.5h0m7.5-3.5h0m2 0h0m-72 10.5h0m8.5-2.5h0m4-3h0m.5 5h0m2-4.5h0m6 2h0m1 3.5h0m0-2h0m5-1.5h0m12 4h0m.5-2.5h0m2 1h0m4-2.5h0m18.5 1.5h0m1-4h0m1 2h0m-58 6.5h0m6.5-1h0m9 1h0m16.5-1.5h0m2.5 4h0m-21.5 4h0m19.5 2h0m0 .5h0m1-3h0m5.5 0h0m.5-.5h0m27.5 5.5h0m-2 5.5h0m21-1h0" stroke="#e9645e"/><path d="M1048 133.5h0m5-1.5h0m.5-1.5h0m0 5.5h0m0-5.5h0m6 5h0m1.5-1.5h0m-33 7.5h0m7-1.5h0m1.5 0h0m13.5-3h0m2.5.5h0m4 .5h0m15 4h0m.5-3.5h0m-42.5 9.5h0m.5.5h0m1-1.5h0m6.5 1h0m2-1.5h0m1 3.5h0m4.5-.5h0m3.5-4.5h0m2.5-1h0m2 0h0m5 6.5h0m1.5-4h0m1 2h0m5 0h0m2.5 2h0m0-1.5h0m1.5-2.5h0m7.5 1h0m-76.5 9.5h0m.5-.5h0m6-.5h0m4-4.5h0m10 1.5h0m7.5-2h0m.5 2h0m7.5 3.5h0m.5.5h0m6-5h0m1 4h0m4-4h0m1.5-1h0m1 6h0m2.5-4h0m6 .5h0m2 1h0m6.5.5h0m0 .5h0m.5-3.5h0m3 1h0m1 0h0m8.5 1h0m2 3.5h0m-95 6h0m1 0h0m10.5-4.5h0m.5 5h0m2.5-2h0m4-3h0m1 3h0m1-2h0m2.5 2h0m1 0h0m5.5 1.5h0m3-1h0m4.5-2h0m7 2.5h0m.5 1h0m3-4.5h0m13 0h0m5-1.5h0m.5 3.5h0m.5 1.5h0m4-1.5h0m2.5-3h0m7.5 0h0m5.5 4.5h0m6.5 1h0m2-1h0m1-5h0m1 6.5h0m-78.5 2.5h0m0 1h0m4.5-1h0m3.5 1h0m.5 2.5h0m4 1h0m2-3.5h0m0 1h0m3.5 2h0m5.5-1h0m4.5-5h0m4-.5h0m1.5.5h0m2 2.5h0m.5 1.5h0m2.5-4.5h0m3 4.5h0m3 2h0m3-5.5h0m20.5 4h0m14 0h0m-99 7.5h0m2.5-1.5h0m5.5-1.5h0m8 0h0m.5-1.5h0m1 1h0m4.5.5h0m3 4.5h0m8.5-7h0m5.5 3.5h0m1.5 1.5h0m3.5 1h0m1.5-3h0m5.5 2.5h0m1-3h0m4 4.5h0m9.5-2h0m3-5h0m2 5h0m10.5-2.5h0m3 3.5h0m6-.5h0m3-5h0m4 4.5h0m-86.5 6h0m2.5 2.5h0m2.5-3h0m.5-2.5h0m3.5-.5h0m10.5 1.5h0m7.5 5h0m4-.5h0m.5-1.5h0m2-1h0m7.5-.5h0m3 1h0m.5-3.5h0m19.5.5h0m3 3h0m3.5.5h0m7-2h0m-81.5 4.5h0m14 2.5h0m2.5-2h0m5.5 6h0m6-2h0m.5 1h0m12.5-3.5h0m1 .5h0m1 3.5h0m4.5-6.5h0m7 3.5h0m1.5.5h0m2.5-1h0m0 1.5h0m8.5-3.5h0m1-1h0m3 6.5h0m.5-6.5h0m4.5 4h0m5.5-4h0m2 5.5h0m1.5-5h0m1.5 5h0m6.5-2.5h0m-76 10h0m5.5 1h0m0-7h0m4 4h0m1-2.5h0m4.5 2.5h0m1.5 3h0m4-1.5h0m2.5-.5h0m2.5 1.5h0m9.5-1.5h0m1.5 2h0m1-4h0m0 2h0m3.5-4h0m1.5 4h0m1-2.5h0m3.5 1h0m13.5-3.5h0m2.5 3.5h0m5.5-1.5h0m5.5 3.5h0m1 1.5h0m6-3h0m2.5-1.5h0m-85.5 10.5h0m5-2.5h0m1.5-.5h0m6.5-1h0m14 3.5h0m19-2.5h0m1 1h0m2.5 1h0m4.5-.5h0m3-3.5h0m4 5h0m3.5-5.5h0m0 1.5h0m7 1.5h0m2 2.5h0m6-3h0m.5 2.5h0m2.5-2.5h0m1 2h0m-82 4h0m1 2.5h0m8.5-4h0m3 3h0m10 2.5h0m5.5-3.5h0m6 4.5h0m3-6h0m1.5 3.5h0m9.5-.5h0m6-.5h0m.5 2.5h0m1.5-4.5h0m4.5-1h0m4 1h0m5 2.5h0m2.5-2h0m3.5 1.5h0m1.5 0h0m3-3.5h0m0 2.5h0m-95 7h0m4-1.5h0m4 5h0m1 .5h0m7.5-2.5h0m10.5-4h0m2.5 4.5h0m12 2.5h0m1-2.5h0m2 0h0m1 2h0m0-2h0m5 0h0m1 1.5h0m7.5 0h0m2 0h0m7.5-4.5h0m6 3.5h0m3.5.5h0m.5-.5h0m1-4h0m0 3.5h0m10-1h0m9.5 1.5h0m-94 9h0m14-2.5h0m1.5-4.5h0m4.5 6.5h0m10-2h0m6.5-4h0m15 4h0m0 2h0m1-1.5h0m6-3.5h0m1.5 2.5h0m1-3.5h0m3.5 6h0m6-3h0m.5-1.5h0m0 2.5h0m11 0h0m.5 0h0m7.5-.5h0m1.5-3.5h0m-93 12.5h0m1.5-4.5h0m6.5 1.5h0m2 .5h0m1 .5h0m7.5-.5h0m6.5-1.5h0m1.5 0h0m.5 0h0m21.5 4h0m12-4h0m20 2.5h0m1.5-4.5h0m-78.5 9.5h0m3.5-.5h0m3.5 3.5h0m1-5h0m10.5 4.5h0m.5-1h0m7-1h0m0-1h0m10-1h0m7 1.5h0m.5 3.5h0m5-3h0m2.5 2h0m4-.5h0m3.5 2h0m4.5-.5h0m.5-1h0m7.5.5h0m3-3h0m1.5-1.5h0m-77.5 12.5h0m3-2.5h0m1.5 2.5h0m6.5 0h0m4-5h0m2 1.5h0m1.5 3h0m8.5-.5h0m5-2.5h0m.5-.5h0m2.5 1.5h0m5 2.5h0m2.5-5.5h0m5 0h0m11 0h0m1 3.5h0m.5 2.5h0m.5-4.5h0m4 3h0m9.5-3.5h0m2.5 2h0m-74.5 5h0m.5-1.5h0m1.5 1h0m8.5 1h0m3.5 3.5h0m2.5-1.5h0m0-3.5h0m12 2.5h0m3-1h0m10-1.5h0m1 1.5h0m7 3.5h0m5.5.5h0m8-3h0m4.5-2.5h0m-67 7h0m7 3h0m3.5 1.5h0m2-4h0m4 2h0m8.5-3h0m20 3h0m7 2h0m5.5 1h0m3.5-1h0m7-3h0m4-2h0m-69.5 13.5h0m0-4.5h0m4 3h0m1.5-2.5h0m3.5 2h0m6-2.5h0m5 3.5h0m1.5-2.5h0m2.5-2h0m5 2h0m2-1.5h0m7 2h0m2 .5h0m3.5-4h0m.5 6.5h0m1.5-6.5h0m6.5 0h0m5.5 2h0m3.5 3.5h0m1 .5h0m-58 5.5h0m1-1h0m2.5-3h0m0 6h0m0-4.5h0m4-1.5h0m5 2h0m2.5-1.5h0m6 1h0m0-1.5h0m13.5 6h0m6 0h0m2-6.5h0m5 0h0m1-.5h0m4.5 4.5h0m4-3.5h0m.5 1.5h0m14-1.5h0m10-.5h0m-85.5 6.5h0m2 5h0m4-3.5h0m1.5 2.5h0m4.5-3.5h0m2.5 2.5h0m.5 0h0m8.5 3.5h0m.5-4.5h0m9.5-1.5h0m2 1.5h0m1.5 2h0m3.5-2.5h0m1.5 2.5h0m7.5-.5h0m6 1.5h0m.5-1.5h0m1.5-2.5h0m2.5 6h0m-58 5h0m0-2.5h0m6.5.5h0m2 3h0m3.5-1h0m11-1.5h0m2.5-1.5h0m17.5 2.5h0m12.5 1.5h0m0-6h0m-55.5 10h0m13 2h0m9-1h0m9-1.5h0m12-1h0m30 .5h0m-73.5 7h0m2-1h0m8-.5h0m3.5 6h0m2.5-6h0m3 4h0m3.5 1h0m5 .5h0m2-1h0m5-2.5h0m11.5 0h0m4 0h0m5 4.5h0m.5-1h0m13.5-4h0m17-2h0m-80.5 7.5h0m1.5-.5h0m13 3.5h0m1 2.5h0m5.5-3h0m4 1.5h0m0-2.5h0m8 4h0m12-1.5h0m0-1.5h0m4 2.5h0m-56 1.5h0m.5 3h0m2-2h0m0 1.5h0m13.5 1.5h0m3-1.5h0m.5-2.5h0m2 3h0m1.5.5h0m3.5-.5h0m11.5-1.5h0m5.5 2.5h0m7-3h0m2 3h0m-51.5 6.5h0m5.5-1h0m2.5 2h0m1-1h0m1.5 2.5h0m2 0h0m2-2.5h0m1 2.5h0m1-6h0m21.5 1.5h0m1.5 4.5h0m1.5-3.5h0m.5 1.5h0m1-3.5h0m4 4.5h0m-50 5.5h0m7 .5h0m2.5-2.5h0m10-1h0m8.5 3.5h0m5.5 2.5h0m4.5-6.5h0m0 6h0m2.5-2.5h0m4.5.5h0m-41 9h0m2.5.5h0m8-4h0m3-2h0m7 1.5h0m23-1.5h0m-39.5 7.5h0m4 2h0m1-.5h0m.5-2h0m1 6h0m6-1h0m4-3h0m1 .5h0m13.5-.5h0m-32.5 7h0m9-2h0m8.5 4.5h0m2.5-1h0m8-3.5h0m-24.5 6.5h0m10 2h0m0-.5h0m6.5-.5h0m-24 12.5h0m5-5.5h0m9-.5h0m7.5 1h0" stroke="#10a669"/><path d="M1094.5 230h0m0-2.5h0m1.5 1h0m3.5.5h0m-22 11h0m6 1h0m11-1.5h0m4.5-1.5h0m-13 8h0m3.5.5h0m5-1h0m3.5-1.5h0m2 4h0m2-2.5h0m2-2.5h0m1 4.5h0m-29.5 7.5h0m6-4h0m5.5-2.5h0m0 3h0m1 2h0m8.5.5h0m2.5 0h0m2-1.5h0m-38.5 4.5h0m13.5 3.5h0m1-3h0m3 0h0m4 3h0m.5-3h0m7.5 3h0m.5-2.5h0m5 3h0m.5-3.5h0m5 4h0m1.5-4h0m-24 10h0m1-4.5h0m9.5 1.5h0m3 3h0m1-.5h0m4.5-4.5h0m0 2.5h0m1 2h0m5 1.5h0m-39.5 7h0m7.5-1h0m.5 1h0m1-.5h0m5.5 1h0m2.5-2h0m14-4h0m1.5 5.5h0m1.5.5h0m2.5-4h0m4.5-1h0m-34 10.5h0m1-4h0m7 5.5h0m1.5-6h0m12 3.5h0m.5-3.5h0m-18 9h0m9 4.5h0m4-1h0m1-2.5h0m11.5 1.5h0m4-1h0m-24.5 5h0m1 .5h0m6-.5h0m4.5 1h0m3 2h0m7-1.5h0m3.5 3.5h0m-33.5.5h0m6.5 6h0m.5-3h0m3.5-1.5h0m1.5 3h0m13 0h0m7.5-.5h0m-38.5 8h0m2 1h0m2.5-3h0m4 0h0m5.5-1h0m.5 0h0m.5 1.5h0m5-1h0m4-1.5h0m3.5-1.5h0m.5 5.5h0m4-3.5h0m3 4.5h0m0-2h0m-28 8h0m5.5 1h0m8.5-6h0m1.5.5h0m1 3.5h0m-15 4h0m2.5 4.5h0m2.5-5h0m2 2h0m10.5-2h0m6 5.5h0m4.5-2.5h0m-47 9h0m5-1h0m1-1h0m3.5-1h0m13 0h0m10 4h0m3-3.5h0m5-3h0m1 3h0m5-.5h0m1 1.5h0m-51 9h0m.5 0h0m8.5-3h0m2.5 3.5h0m.5-4.5h0m.5-1h0m2 4.5h0m.5-5.5h0m2 4.5h0m5.5-2h0m8-2.5h0m7.5 4.5h0m.5-2h0m8-1h0m1 4.5h0m-52.5 4h0m8 2h0m0-1.5h0m3-1h0m6-1h0m1 3h0m4.5-1h0m3.5.5h0m3-3.5h0m0 6h0m1-4.5h0m8-2h0m2.5 1h0m9.5-1.5h0m-31.5 10.5h0m13.5 2h0m2.5-5h0m1 5h0m5.5-3h0m1.5.5h0m-23 6.5h0m7.5-1h0m11.5 0h0m3 2.5h0m.5.5h0m0 1h0m7.5-1.5h0m-61.5 9.5h0m3-1.5h0m8.5 1.5h0m5 0h0m12-4h0m7.5 2.5h0m3-5h0m1.5.5h0m8.5.5h0m8.5.5h0m-64.5 8h0m6.5-1.5h0m9.5 4h0m9.5-4.5h0m1.5 1.5h0m4.5 0h0m8 2.5h0m-37.5 5h0m11.5-1h0m6-1h0m2 5h0m3-1h0m3-2.5h0m3 1.5h0m2 1.5h0m3.5-4h0m2.5 2.5h0m2.5-1h0m6.5 4h0m6-3.5h0m-43 5h0m12 5.5h0m3-4.5h0m14.5 3h0m1.5 1.5h0m6.5-6h0m10 1.5h0m-40 5.5h0m26.5 1h0m8.5 4.5h0m-18 4.5h0m5-.5h0m6.5 1.5h0m4 0h0" stroke="#2a99d0"/><path d="M1009.5 408.5h0m7-4h0m-11.5 10.5h0m2.5.5h0m1.5 0h0m1-4h0m1 4.5h0m-8.5 3.5h0m2.5 3h0m0 0h0m1.5-5.5h0m.5 4h0m1.5 1.5h0m.5-1h0m-7.5 4.5h0m1-1h0m0 1.5h0m1.5 2h0m-4.5 6h0m0 1h0m1.5-3.5h0m1-1h0m1 4h0m1 1h0m0-2h0m.5-1.5h0m1 4.5h0m0-6h0m.5 6h0m.5-6.5h0m.5 0h0m-9 13h0m1.5-4.5h0m1.5 4h0m1-5h0m-5 13.5h0m4.5-3h0m0-3.5h0m1.5 2.5h0m1 .5h0m1-2h0m3-1h0m-9.5 8.5h0m5-1h0" stroke="#bb60bb"/><path d="M978 141h0m-50.5 9.5h0m28.5 14.5h0m10.5 6.5h0m-30 3h0m5.5-2h0m5 3h0m24-.5h0m-31.5 6.5h0m15 2h0m-6.5 5h0m8 2.5h0m4.5-2h0m4.5 1h0m3-1h0m1 2h0m5 .5h0m8-1.5h0m-47 7h0m.5-1.5h0m3 3h0m12-5h0m6 3.5h0m19-4h0m4 6h0m10-3.5h0m.5 2h0m-54.5 3h0m5-.5h0m1.5 1.5h0m38.5-1h0m4.5-.5h0m2.5 0h0m5.5 2.5h0m-40.5 6h0m.5 1.5h0m24 3.5h0m4-6h0m1 3.5h0m9-.5h0m1.5-1h0m-62 7h0m0 1h0m2.5 1h0m11-1.5h0m4.5 1.5h0m11-1h0m8-.5h0m0 0h0m2.5 1h0m10-3.5h0m7.5 1.5h0m7 3h0m.5-1.5h0m-114.5 8.5h0m56.5-1h0m0 2.5h0m5-3h0m4-3.5h0m10 2h0m3 2h0m3.5-2h0m3.5 1.5h0m.5 0h0m17 .5h0m-76.5 8h0m3.5-4h0m1 2.5h0m15-2.5h0m10.5-.5h0m7 .5h0m5 4.5h0m5-4h0m.5 3.5h0m2.5-3h0m1-.5h0m5 2h0m9-.5h0m1 .5h0m.5-4h0m4.5 4.5h0m14-3.5h0m-112.5 7.5h0m24 4h0m10-3h0m11 2.5h0m12 1.5h0m4.5-1h0m2-1h0m11.5-1h0m1 1.5h0m4 0h0m1 1h0m8.5-2h0m5.5.5h0m7.5-1h0m-111 8.5h0m29 1h0m4 1h0m6-2h0m1 1h0m0-2h0m.5-2h0m2-1.5h0m6 3h0m11-2.5h0m4.5 4.5h0m2-4.5h0m4.5 5.5h0m12-4.5h0m20 .5h0m11 1.5h0m11-2h0m5.5 1h0m-104.5 9.5h0m3-3h0m3 0h0m1 3h0m1-1.5h0m1-3.5h0m2.5 1h0m.5 0h0m3.5-.5h0m.5 3h0m3-3.5h0m.5 4.5h0m9.5-2.5h0m3.5-2h0m.5 0h0m1.5 4.5h0m5-2.5h0m1 .5h0m3 .5h0m6.5 2h0m4 1h0m12-2.5h0m10 2.5h0m5-1.5h0m6.5-4.5h0m0 3.5h0m1 2.5h0m4-4.5h0m7.5 1.5h0m.5-.5h0m-121 9.5h0m7.5-2h0m3.5-2.5h0m13 5.5h0m7.5-3.5h0m1-2h0m2.5 4.5h0m5.5-1h0m7-4h0m6 0h0m12.5 6.5h0m1-4h0m12.5 2.5h0m6.5 0h0m4-3.5h0m1.5-1.5h0m17.5 2h0m10.5 3h0m1 .5h0m1.5-2.5h0m3-2.5h0m-119.5 12h0m6.5-2.5h0m2-1.5h0m.5 0h0m1.5-.5h0m1-1h0m1 0h0m4 6h0m3-5.5h0m1.5 1.5h0m7.5-2h0m1.5 5h0m1 .5h0m.5-1h0m10 .5h0m16.5-2h0m18-.5h0m16-2h0m13.5 0h0m.5 4.5h0m1.5 1h0m3.5-5h0m-119 7.5h0m1 .5h0m6.5 2h0m2-.5h0m8.5-1.5h0m9 2.5h0m9-4.5h0m2.5 4h0m4-1.5h0m3.5-1.5h0m2.5 2.5h0m10 1h0m8.5-4.5h0m4 1.5h0m6.5 2.5h0m1.5-4h0m14 .5h0m3.5 1h0m1.5-1.5h0m3 6h0m4.5-1h0m2 .5h0m2-1.5h0m3.5-3.5h0m2-.5h0m3 1.5h0m.5 5h0m6.5-3.5h0m-139 10.5h0m.5-1.5h0m8-5.5h0m0 4.5h0m2-.5h0m2-1h0m0 2h0m1 .5h0m38-4h0m3.5-1.5h0m14 .5h0m1 2.5h0m.5-1h0m1.5 3.5h0m1.5-5.5h0m9 1h0m4 0h0m9 3.5h0m13-4.5h0m6.5 6h0m4 .5h0m13-2h0m-130 8h0m8 .5h0m2-5.5h0m7 5h0m5-3.5h0m3.5 4h0m14.5-4h0m14.5-2h0m5 1h0m6.5 3.5h0m2 1h0m8-1h0m0-.5h0m1-1h0m1.5-.5h0m10 2.5h0m18 2h0m10.5-3.5h0m4 3h0m3.5-1h0m1-4.5h0m3 3.5h0m1-2h0m16 1.5h0m-149 8.5h0m3 .5h0m7.5-5h0m2 2.5h0m6 1h0m.5-3.5h0m6 4h0m2-5h0m1.5 7h0m4-6.5h0m5.5 3h0m.5-1h0m4.5-2h0m11 5h0m1-1.5h0m3 2.5h0m1-1.5h0m1-1h0m7 2h0m12 .5h0m.5-3h0m3.5 1h0m8.5-3.5h0m.5-.5h0m15 3h0m1.5-2h0m1.5 5.5h0m.5-3.5h0m6.5.5h0m14 0h0m.5 2.5h0m-144.5 5.5h0m4.5-2h0m17 0h0m1 2h0m.5-2.5h0m9 .5h0m3-3h0m4.5 1h0m4.5 3.5h0m6.5-3h0m1-1h0m18 3.5h0m14 .5h0m1-1.5h0m14.5 3h0m3-3h0m.5-.5h0m4 2.5h0m5.5-2h0m12.5-.5h0m10-2h0m9 6h0m-171.5 6.5h0m8-3h0m10 2.5h0m1.5-3h0m6.5-.5h0m3.5.5h0m2.5 3.5h0m2-4h0m5.5-2h0m2.5 5h0m12-2.5h0m17-1.5h0m.5 1h0m.5 4h0m.5-1h0m4.5-5h0m.5 3.5h0m.5-.5h0m3-.5h0m3-.5h0m1-1h0m3.5 5.5h0m6-5.5h0m.5 1h0m6 2.5h0m7-1.5h0m10 2.5h0m.5-3h0m1.5 2h0m5-2.5h0m5 1h0m1 3h0m6-1.5h0m6-1.5h0m2.5 3.5h0m.5-6h0m6 6h0m0-.5h0m10.5-4h0m10 5h0m11.5-1h0m-185 6h0m3.5-4h0m9.5 1h0m.5 3h0m2 .5h0m13.5-4.5h0m13.5 3h0m1 1.5h0m24.5-5h0m11 6.5h0m2.5-1.5h0m0-1.5h0m4-3h0m5.5 1h0m5 1h0m4.5 2h0m1.5-1.5h0m3.5-2h0m3-.5h0m23-.5h0m2.5 2h0m0-.5h0m.5 3h0m2 0h0m5.5-4h0m0 5h0m7-2h0m.5 1.5h0m3-2.5h0m.5-2h0m8 3h0m1 1h0m2.5-3.5h0m5-.5h0m1.5 3.5h0m2 .5h0m4 2h0m0-3h0m4.5-3.5h0m-183.5 10.5h0m4.5-1.5h0m.5-1h0m9.5 1h0m3.5-1h0m6 3.5h0m1.5.5h0m3-4h0m1 1h0m1 2.5h0m.5-4.5h0m1 2.5h0m12 1h0m3.5 1h0m3-2.5h0m4 .5h0m5 3h0m1.5-3.5h0m18.5-.5h0m1-1.5h0m9.5 5.5h0m1.5-2h0m0 1.5h0m1.5 1.5h0m5.5-4h0m.5 1h0m7 2h0m9-3.5h0m4-1h0m1.5 3h0m2.5.5h0m1 .5h0m1.5.5h0m7-2h0m2.5 1.5h0m0-2h0m11.5 1h0m4.5-4h0m1 1h0m2.5-1h0m8.5 1.5h0m3 3.5h0m0-1.5h0m4-3.5h0m2.5 1h0m0 0h0m14-1h0m5.5.5h0m-185.5 8.5h0m3-1.5h0m1 5.5h0m2-6.5h0m4.5 1.5h0m0 0h0m.5 3h0m.5-2.5h0m0 1.5h0m0 2h0m8 1.5h0m6.5-1h0m3-5h0m.5.5h0m3.5 2h0m6-1.5h0m2.5 2h0m5.5 1.5h0m1-1h0m2.5-1h0m5.5 2.5h0m11.5-2.5h0m5.5-.5h0m.5 1.5h0m2-2.5h0m.5 3.5h0m0 0h0m.5-3.5h0m2-.5h0m11 2h0m4 3.5h0m4.5-6.5h0m4 5h0m4.5 0h0m2-5h0m3.5 1h0m3-.5h0m4 4h0m1.5-2h0m.5 2.5h0m2 .5h0m6-5.5h0m2.5.5h0m3 2h0m.5 3h0m3.5-.5h0m4-4h0m2.5 5h0m4.5-2h0m5.5 1h0m2.5-3.5h0m.5 0h0m.5 1h0m.5 0h0m4 3.5h0m6-3h0m7 1h0m.5-3h0m1 5.5h0m1.5-2h0m3 1h0m5 0h0m-186 7.5h0m5.5-5h0m2 5.5h0m5.5-4.5h0m1.5-1.5h0m3 5h0m4-2.5h0m4.5-3h0m9.5 2.5h0m3.5 0h0m6.5 1h0m2-3h0m1 2h0m.5.5h0m10 2.5h0m.5 0h0m4.5-5h0m0 2.5h0m8-3h0m.5 4.5h0m0-5h0m1.5 2h0m1 1h0m0-1h0m7 3.5h0m1-.5h0m5-1.5h0m10 3h0m0-1.5h0m3.5 1h0m3.5.5h0m6.5-2.5h0m2 2h0m3.5-1.5h0m1 2.5h0m3 0h0m3.5-1h0m18-1.5h0m17.5-3h0m2.5 5h0m16-.5h0m-179.5 2.5h0m6 .5h0m6.5 1.5h0m16.5-3h0m5.5 1h0m8 5h0m3.5-2.5h0m1-2.5h0m13.5-1h0m4.5 6h0m2.5-2h0m10 2h0m2-2h0m.5 0h0m8-4h0m5 5.5h0m1-2.5h0m11.5-3h0m5.5 2.5h0m1.5-.5h0m7 3h0m4-4h0m8.5 0h0m12.5 3.5h0m4.5-1h0m2.5 2.5h0m3-1h0m8 0h0m19.5-5h0m10 4.5h0m-188 3h0m8.5 4.5h0m3-1h0m9.5-1h0m5.5-1.5h0m2 2.5h0m4-3h0m3-.5h0m.5 3h0m9 0h0m1-3.5h0m1.5 3h0m28.5 0h0m9.5 1h0m3 .5h0m.5-5h0m0 3h0m4.5-1h0m14.5 3h0m.5.5h0m13.5-3.5h0m4.5-1.5h0m13 5.5h0m1-5.5h0m1.5 4.5h0m2 .5h0m1-2h0m9.5 3h0m6-4.5h0m10.5 5h0m12-1h0m.5-5h0m1.5 2.5h0m-174 4.5h0m11 4.5h0m3-2h0m7.5 1.5h0m4-.5h0m3 0h0m1.5 1.5h0m4.5-3.5h0m6 0h0m4-2.5h0m.5 5.5h0m13.5.5h0m6-5.5h0m4.5 2.5h0m23 3h0m4.5-3h0m7-3h0m6 6h0m21.5 0h0m3-5.5h0m1 3h0m0 1.5h0m10.5 0h0m3.5-.5h0m-130.5 3.5h0m2.5 2h0m15.5 1h0m1-.5h0m0-2.5h0m9.5 1.5h0m3.5-.5h0m10.5 1.5h0m20-1h0m1.5 1h0m3-2.5h0m6-1h0m2.5 3.5h0m3-.5h0m.5-1h0m4 3h0m1 0h0m15-2.5h0m9 1h0m5.5-1h0m13 .5h0m1.5 1h0m1.5.5h0m8 2h0m13-2.5h0m5 0h0m-154.5 3.5h0m16.5 6h0m1.5-1.5h0m.5-1.5h0m1 1.5h0m5-3h0m8.5-1.5h0m1 6h0m8.5-1.5h0m1 .5h0m.5.5h0m3-2h0m3-2h0m1 2.5h0m7-.5h0m5.5 1h0m.5-4.5h0m4 4h0m5 .5h0m3-1.5h0m3-3.5h0m.5 2.5h0m0-1h0m1.5 4h0m.5 0h0m1.5-2h0m6-1.5h0m1.5 0h0m4 2.5h0m1.5.5h0m9.5-4.5h0m13.5 1h0m16 3h0m16-2h0m-139 6.5h0m6.5 1h0m2.5 1h0m4-3h0m9.5 0h0m4 2.5h0m8.5 3h0m.5-2.5h0m1-1h0m5 2h0m1.5 0h0m6-3.5h0m10 5h0m1 .5h0m9.5-4h0m6 1h0m4-1h0m.5-.5h0m3-.5h0m1.5 4.5h0m0-5.5h0m6.5 2h0m-67 6h0m2.5 4h0m2.5-2h0m1.5-3h0m10.5-.5h0m.5 3h0m3.5.5h0m.5-1.5h0m13 4h0m4.5 0h0m7-3h0m6-.5h0m5 1h0m.5-2h0m.5 0h0m37.5 4.5h0m21 0h0m12.5-1.5h0m2-3.5h0m-138 6.5h0m5 2h0m11.5-2.5h0m6 1h0m2 4.5h0m4-2.5h0m1.5-.5h0m12 0h0m5 0h0m3-3h0m.5.5h0m48.5 2h0m24 4h0m-108 2.5h0m3.5-1.5h0m20 1.5h0" stroke="#96962a"/><path d="M805.5 113.5h0m5 .5h0m6.5-3.5h0m4.5-1h0m0 4h0m2 1.5h0m4.5-5.5h0m2-.5h0m2 2h0m6.5 1.5h0m.5-2h0m.5 1.5h0m5 1h0m8.5-.5h0m.5-.5h0m14.5 2.5h0m1 1h0m4.5-.5h0m-89.5 7h0m3.5 0h0m12.5-3h0m1.5-1h0m9.5 4h0m4.5-2h0m.5-1h0m3.5 0h0m.5-2h0m.5 2.5h0m4.5-1h0m5.5 0h0m0-2.5h0m1.5 6h0m4.5-4.5h0m1 5h0m0-4h0m2-3h0m10.5 3h0m1.5-3h0m2.5 3h0m3.5 1h0m3.5 1h0m2.5-2h0m11.5-1.5h0m5.5-.5h0m7.5 4h0m-110 5h0m0 1h0m14-3h0m21.5 4h0m14-1h0m4-1.5h0m7.5 3.5h0m2.5 1h0m9 0h0m4-7h0m6 1.5h0m2 1h0m2 1.5h0m5 2h0m3-2h0m0-4h0m6 2.5h0m4-.5h0m9.5-.5h0m-121 10.5h0m1 1h0m19-.5h0m5.5-3.5h0m.5 1.5h0m6 2h0m13 .5h0m3.5 0h0m3-4h0m12.5 0h0m1 3.5h0m13.5-.5h0m.5 2h0m3-5h0m.5.5h0m3 .5h0m6.5 1.5h0m23-3h0m7-1h0m4 4h0m7.5-.5h0m2 2.5h0m4-2.5h0m2-.5h0m5.5 3.5h0m93-5h0m7.5-1h0m-251 11h0m11-1.5h0m10 1.5h0m7.5 1h0m4-2.5h0m11.5-1.5h0m4 2h0m0 .5h0m0 0h0m6.5-3.5h0m.5 5h0m1-3h0m10.5 2h0m2-4h0m13.5 2.5h0m8.5-1.5h0m1.5 3.5h0m2.5.5h0m2-1h0m7.5-2.5h0m9.5-.5h0m2.5 3.5h0m0-4h0m2.5-.5h0m2.5 4h0m4.5-1.5h0m7.5-.5h0m2.5 3.5h0m2.5-3.5h0m3 2h0m.5.5h0m11.5 0h0m1.5 0h0m-146.5 5.5h0m1 1h0m4.5-1.5h0m0-3h0m1.5 5.5h0m.5 1h0m1-2h0m8.5.5h0m6-3h0m3 3.5h0m5-3h0m4.5 3.5h0m9.5-4.5h0m7.5-1.5h0m4.5 2.5h0m6.5-1h0m4-.5h0m26 1h0m1.5 1h0m2-3h0m2 3h0m1-.5h0m6 .5h0m2.5-.5h0m4-2.5h0m5.5 5h0m0-4h0m9.5 2.5h0m1-1h0m2-1.5h0m6 2h0m1.5 3.5h0m4-3.5h0m6.5-2.5h0m-165 12h0m25.5-5.5h0m6 3h0m12 3h0m1-.5h0m.5-5.5h0m3.5 2.5h0m15.5-2.5h0m6.5 5h0m1.5 1.5h0m2.5-3.5h0m16.5 0h0m.5-3h0m4.5 4h0m5.5-3h0m1.5.5h0m5 .5h0m2 .5h0m5.5-2h0m10.5 3.5h0m17.5 1.5h0m1-1h0m3-2.5h0m4-2h0m10.5.5h0m1.5 2h0m.5 4h0m4.5 0h0m1.5-4.5h0m3-1.5h0m-177.5 8.5h0m.5 4h0m1-1.5h0m18.5-2.5h0m2 1.5h0m6-3.5h0m5 5.5h0m.5-3h0m2-1.5h0m2.5 4.5h0m1 .5h0m2-2.5h0m9-2h0m15.5 2h0m15 .5h0m.5 1.5h0m8 .5h0m3-6h0m21 .5h0m4.5 1.5h0m3-.5h0m6.5 4h0m3-4h0m3 .5h0m1-1.5h0m.5 3.5h0m1 0h0m11 1h0m8.5-4.5h0m3 3.5h0m2 0h0m2.5-1h0m6-1h0m.5-2h0m35.5 4.5h0m5.5-1.5h0m-208 6.5h0m4.5 3.5h0m.5-4h0m8 4h0m9.5-4.5h0m10 2.5h0m11.5-4h0m7.5 2h0m3-.5h0m6-1.5h0m3.5.5h0m5.5 4h0m4-2h0m.5 1.5h0m7.5-4h0m1.5.5h0m2.5 3h0m4.5-2h0m1 1.5h0m2 3.5h0m.5-3h0m5 0h0m5.5 2.5h0m0-1.5h0m13.5-1h0m1-1.5h0m3.5-2.5h0m1.5 3h0m2 4h0m15-5h0m10.5 4.5h0m4-6h0m1.5 6h0m14 0h0m6.5-5h0m3.5-1h0m1 6h0m-189.5 6h0m.5 0h0m4 1h0m0-3.5h0m1.5-1.5h0m3.5-1h0m30.5 2h0m1-1h0m7 0h0m1.5 4.5h0m2-2.5h0m1-1.5h0m7 1h0m9-1h0m3 0h0m3 2.5h0m12.5 1h0m2-5.5h0m2 1.5h0m12.5-1h0m3 3h0m7 1h0m.5 1h0m8-4h0m.5 2h0m4 3.5h0m9-6h0m3.5.5h0m.5 4h0m4.5 1h0m3-1.5h0m7-2h0m3.5-.5h0m1 0h0m5 3.5h0m.5-5.5h0m6 1.5h0m10 1h0m0 2.5h0m2-1.5h0m1.5-1.5h0m.5-2h0m4 5h0m4 0h0m6.5-.5h0m3-2.5h0m-207 10h0m0-2.5h0m2 3h0m5 .5h0m5-2.5h0m4.5 1h0m1-2.5h0m1.5-1.5h0m.5-.5h0m.5 5.5h0m4.5-4h0m1.5 3h0m5.5-3h0m13.5 2.5h0m3.5-3.5h0m12 3.5h0m7 0h0m5 2h0m0-4.5h0m1 4.5h0m1.5-2h0m6.5-2h0m6 2h0m5 2h0m5-3.5h0m1.5 3h0m0 0h0m9-5h0m.5 2h0m4.5 1.5h0m4 1h0m1-1.5h0m7-3h0m4 5h0m.5-2h0m1.5 2.5h0m5.5-4.5h0m7.5 2.5h0m1-1h0m4.5-1.5h0m5-1.5h0m6 3.5h0m0 2.5h0m.5-3h0m3-3h0m.5 4h0m11.5-3h0m6 2h0m1 2h0m1-2h0m0-2h0m1.5.5h0m-187 11h0m4.5-4h0m.5-1h0m5.5 2h0m6.5 1.5h0m4-2h0m4.5 2h0m5 2h0m3-1.5h0m2.5.5h0m10.5-3h0m5 .5h0m3-1h0m1.5-.5h0m12 3h0m5-1h0m0-3h0m.5 3.5h0m1 .5h0m1-2.5h0m10 0h0m1-2h0m2.5 6h0m2-1.5h0m1 .5h0m.5-4h0m8.5 3h0m0 1.5h0m2-3h0m4.5.5h0m0 4h0m0-5h0m18.5 0h0m2 2h0m2.5.5h0m10-3.5h0m8.5 5h0m4.5-1.5h0m11 2h0m17-5h0m4.5 3.5h0m-181 3h0m1 1.5h0m8.5-2h0m1 4h0m1.5-.5h0m.5-3h0m2 4h0m6.5-3.5h0m10-1.5h0m0 .5h0m.5 1h0m4.5-.5h0m1 0h0m0 1h0m0-1h0m5 .5h0m1 5h0m1.5-2h0m9.5-2h0m2.5-.5h0m23 2h0m4.5-.5h0m7.5 2h0m4.5-2h0m6 1.5h0m0 0h0m.5.5h0m6-5.5h0m6 2.5h0m5 4.5h0m11-4h0m5.5 3h0m0-2h0m2 1.5h0m4.5-1h0m1.5-.5h0m5-.5h0m1 0h0m3.5 0h0m9-3.5h0m3 2h0m19.5 2h0m0 2.5h0m2.5-4.5h0m-182.5 5.5h0m1.5 5.5h0m3.5-.5h0m7 1h0m3-5h0m9 1.5h0m4 4h0m4-2h0m1 1h0m0-5.5h0m5 1h0m1.5 3.5h0m8.5-1.5h0m1 .5h0m4 1h0m5-1h0m11.5 2h0m.5-5.5h0m5 .5h0m.5 0h0m13 4.5h0m2-5h0m12 6h0m10-3.5h0m6.5 2h0m3.5-1.5h0m16.5-2.5h0m.5 1h0m5.5 2h0m9 3h0m.5-2.5h0m2-4.5h0m10 1h0m4 4h0m-179.5 8.5h0m.5-1.5h0m4-2.5h0m6-1h0m1.5 4.5h0m5.5-5.5h0m1 0h0m2.5 0h0m16.5 2.5h0m5-1h0m22 1.5h0m0-1.5h0m13-.5h0m5 .5h0m10.5 0h0m0 3h0m12.5.5h0m.5.5h0m11.5-4.5h0m10 0h0m4.5-1h0m13 2h0m4.5 3h0m8 0h0m8-4h0m1.5-1.5h0m12 6.5h0m1-6h0m-177.5 8h0m2 5h0m3.5-5h0m2.5-1h0m10.5 6h0m1-1h0m6.5-4h0m5 2h0m13-.5h0m0-1h0m1.5 2.5h0m2.5-2.5h0m1.5 3.5h0m.5-2h0m4.5 2h0m1-5h0m6 4.5h0m3-2.5h0m12 1h0m8.5 2.5h0m.5-.5h0m29.5-3.5h0m2.5 2h0m1-1h0m2-1.5h0m8-1h0m9.5 4.5h0m4-1.5h0m6-3h0m-146.5 11.5h0m3-4.5h0m.5 0h0m1 3.5h0m3.5 1h0m5-3.5h0m2.5 5h0m1.5-3h0m.5 2.5h0m4-4.5h0m1.5 3.5h0m2 1.5h0m4-4h0m1.5-1h0m2 4.5h0m3.5-3h0m8 1.5h0m2.5.5h0m4 2h0m2.5-5h0m20 3h0m4-3h0m8.5-2h0m2 4h0m27.5-.5h0m11 3h0m4-2h0m1.5-.5h0m3 1h0m9.5-1.5h0m.5 1h0m4.5-1h0m5.5-2h0m.5 3h0m1.5.5h0m6.5-1.5h0m4.5-3h0m-167 7h0m14 6h0m5-2.5h0m2-3.5h0m2 1.5h0m3.5 1.5h0m2.5-1.5h0m0 5h0m1-1h0m4.5-4h0m5.5 1.5h0m3 .5h0m4.5-2.5h0m3.5-1h0m0 1h0m2.5-1h0m1.5 2h0m10 3h0m10.5-2.5h0m1.5-.5h0m.5.5h0m1.5 3.5h0m17-3h0m6 2h0m1-5h0m14 2.5h0m3 3h0m2-3h0m2.5 1.5h0m.5 0h0m7.5-1.5h0m2 3h0m1.5-2h0m2-3h0m3 5.5h0m1-.5h0m1 1h0m2.5-6h0m7-.5h0m1 1.5h0m1 1.5h0m1.5 1.5h0m3-2h0m5.5 3h0m-163.5 6.5h0m4-.5h0m14.5-5h0m4.5.5h0m7 3h0m1.5-1h0m2.5-2h0m2.5-.5h0m6.5 0h0m.5 3.5h0m3.5 3.5h0m5-7h0m10.5 1h0m19.5 3h0m10.5-2h0m6-2h0m7.5 5h0m18 1.5h0m.5-1.5h0m2.5 1h0m1.5-3h0m1.5 4h0m4.5-4h0m2-1h0m.5-1.5h0m.5 5h0m0 1h0m2-5.5h0m4 1.5h0m3.5-2.5h0m4.5 5h0m12.5-4.5h0m-160.5 7.5h0m3 .5h0m1 0h0m0 2.5h0m11 1.5h0m1.5 0h0m7 .5h0m5-3.5h0m.5 2.5h0m2 1h0m8-2.5h0m.5-3h0m.5 4.5h0m1.5-4.5h0m1 4.5h0m9.5 1h0m1 .5h0m0-1.5h0m8.5-1h0m.5-.5h0m.5 3.5h0m1-5h0m7 3h0m19-3h0m1-2h0m5.5 1.5h0m8.5 5h0m2.5-4h0m2 1.5h0m1-1h0m4 2h0m1.5-1h0m11-1h0m9 2.5h0m3.5-2.5h0m-130 7.5h0m15.5-1h0m2.5.5h0m6 2h0m7.5-4.5h0m2 3.5h0m4.5-1h0m0-.5h0m4 1h0m1.5 1.5h0m.5-2h0m1 3h0m2.5-2h0m1.5-.5h0m4.5 1.5h0m8.5-2.5h0m1.5.5h0m0 2.5h0m0-5h0m1.5.5h0m.5 2h0m8 .5h0m7.5-.5h0m2.5 0h0m9 2h0m2 1h0m.5-1h0m0-.5h0m5-4h0m5.5 2h0m2 4h0m3-2h0m11.5-3.5h0m33.5 5h0m-157.5 3h0m2.5-1h0m.5 0h0m21.5 3h0m6-3h0m4.5-.5h0m.5 1h0m5.5 1h0m2.5-.5h0m2 .5h0m14 0h0m12-1h0m5 1.5h0m2.5-2h0m6 5.5h0m2-4h0m7.5 4h0m.5-.5h0m7-3.5h0m3.5.5h0m1-.5h0m2.5 0h0m5.5 1.5h0m-108 3.5h0m2.5 2h0m5 3.5h0m11 .5h0m7.5-5h0m0 3h0m0-1.5h0m6.5 3h0m3.5.5h0m2.5-1.5h0m10.5 2h0m2-4.5h0m1-2h0m1 2h0m12-2.5h0m7.5 2h0m4 1h0m5.5-.5h0m4 4h0m.5.5h0m3.5-1h0m3-5.5h0m.5 1h0m4.5-1h0m2.5 4.5h0m51-4h0m-146.5 8.5h0m3.5-.5h0m4.5 0h0m2.5-2h0m7 6h0m20.5-3h0m1.5-1h0m6 4.5h0m4-6.5h0m1 1.5h0m7.5 5h0m2.5-4h0m3 1.5h0m.5-3h0m4.5 1.5h0m1.5 3.5h0m3.5-5h0m1 3h0m5 0h0m5.5-.5h0m.5 3.5h0m4-1.5h0m2.5.5h0m-93 1.5h0m3.5 3.5h0m2-1.5h0m4 1.5h0m1.5 3h0m1-5h0m4 3h0m1.5-4.5h0m17.5.5h0m6 2h0m2.5-2h0m6.5 1h0m2.5 3.5h0m5.5-2.5h0m1 3.5h0m2-5h0m1 5h0m1.5.5h0m4-3.5h0m8-2.5h0m7.5 5.5h0m-72.5 4.5h0m5 3h0m5-.5h0m7.5-1.5h0m2-3.5h0m0 2h0m5-2h0m0-1.5h0m8.5 5h0m3-1.5h0m4 2h0m7-.5h0m.5-2.5h0m4-2.5h0m8 .5h0m4.5 3h0m4 0h0m0-.5h0m0-.5h0m7-2h0m-73 10h0m3.5 2.5h0m15.5 0h0m17-3.5h0m5.5 1h0m4.5-1.5h0m1 .5h0m9.5 3h0m2-3.5h0m13-1h0m-61 7h0m1 2h0m4-.5h0m0-1h0m2.5 1h0m5 1.5h0m.5 0h0m9 1h0m14.5-1.5h0m7.5 2h0m12-5.5h0m-41 7.5h0m0 .5h0m6 3h0m7 2h0m1.5-.5h0m20 0h0m12.5-4h0m-27 14h0" stroke="#e9645e"/><path d="M1060 126.5h0m-14 6h0m3.5 2.5h0m4.5-4.5h0m0 2.5h0m13 3.5h0m-36.5 6.5h0m2.5-1h0m.5-1h0m14.5-2h0m.5 4.5h0m8-6h0m8.5 3.5h0m-47.5 5.5h0m4.5 1.5h0m6 2h0m2-6.5h0m1.5 2h0m2-1h0m12 1h0m.5-1.5h0m3.5 5.5h0m3-3.5h0m3 0h0m10 1.5h0m10.5 2.5h0m4.5-2.5h0m-78 7.5h0m1-3.5h0m3.5 3.5h0m7-2h0m2 3.5h0m3.5-2h0m35.5.5h0m2 0h0m4 .5h0m6.5-1h0m.5 2.5h0m6.5-6.5h0m7.5.5h0m-88 11h0m8.5 1.5h0m2.5.5h0m14.5-6.5h0m.5 3h0m5 2h0m1.5-3.5h0m1 2.5h0m3 1h0m14.5-1h0m8-3h0m3.5 2h0m3-2h0m12.5 4.5h0m1-2.5h0m10.5-2.5h0m1.5 2.5h0m-95 8.5h0m1 1.5h0m2.5 1h0m6.5-2.5h0m5.5 2.5h0m5.5-5.5h0m1 5.5h0m.5-1.5h0m1-2.5h0m3.5-2.5h0m1 0h0m1 4.5h0m0-4h0m3 .5h0m12 1h0m.5-.5h0m1-.5h0m11 3.5h0m19 1.5h0m7.5-1h0m2 1h0m3.5 0h0m1.5-5h0m5.5-1h0m3-.5h0m-102 10.5h0m6.5-2.5h0m9 5.5h0m0-1h0m8 .5h0m2-2.5h0m6.5-2.5h0m10.5 0h0m5 0h0m8 3.5h0m3-4.5h0m4 3h0m.5-2.5h0m1.5 6h0m0-.5h0m2.5-2.5h0m.5-2.5h0m7.5 5h0m1.5 0h0m5-3.5h0m1.5-.5h0m.5 4h0m.5-5.5h0m-80 8h0m7 0h0m1 3.5h0m.5-2h0m16 3h0m3-4.5h0m0-1h0m2.5.5h0m1.5 2h0m1.5 1.5h0m3-4h0m1.5 3h0m4.5-2.5h0m22.5 3.5h0m.5-.5h0m6 2h0m4-1.5h0m.5 1.5h0m3.5-.5h0m4-4.5h0m2.5 2h0m8.5 3.5h0m6.5-3h0m-78.5 3.5h0m3 1h0m3.5 1.5h0m4 0h0m1 3h0m2 0h0m3.5-3.5h0m12 1h0m1 4h0m6.5-5.5h0m.5 3h0m1 0h0m6.5.5h0m1.5 0h0m11.5.5h0m.5-4h0m1.5 3.5h0m13-2h0m6 2.5h0m3-3.5h0m-84 6h0m1.5 2h0m4 3.5h0m7-2.5h0m4 1h0m0 0h0m1.5 1h0m.5-3h0m3.5 3.5h0m5.5-5.5h0m1.5 4h0m2-3h0m4.5 4.5h0m1-3h0m0-1h0m12 2h0m1-2h0m0 3h0m11-3h0m4.5-1.5h0m1 1.5h0m1.5.5h0m2 1h0m1-2.5h0m1.5-.5h0m3 .5h0m-72 8h0m.5 3.5h0m20.5-4h0m6 0h0m7.5.5h0m5 1.5h0m3.5 2h0m1-1h0m7-2h0m0 3h0m2.5-5h0m.5 5h0m2-.5h0m1 1h0m8-2h0m6-2h0m0 4h0m4-4.5h0m-76 10h0m0-3.5h0m3.5 0h0m10 1.5h0m11.5-3h0m.5 5h0m2 1h0m.5-1.5h0m4.5 1.5h0m6.5-4.5h0m1.5 0h0m1-1.5h0m4.5 4h0m4 2.5h0m5-2h0m10 .5h0m2.5-2h0m.5 0h0m4-1.5h0m.5 5h0m10 0h0m-100.5 4.5h0m9.5.5h0m6-4h0m0 1h0m1 1h0m8-1.5h0m5 2.5h0m2 2h0m.5-3h0m1.5-1.5h0m3.5 2.5h0m.5 2h0m17.5-5h0m.5 2h0m0 4.5h0m2.5-6h0m3.5 1h0m4 3h0m5.5-2h0m11-2h0m5 1h0m2.5-1h0m2 2h0m3 3.5h0m5-4.5h0m2-1.5h0m-93.5 7.5h0m28.5 4.5h0m.5 0h0m0-4h0m11.5-.5h0m.5 1h0m3 .5h0m9.5-2.5h0m.5 3.5h0m.5 3.5h0m6-6.5h0m2.5 3.5h0m4.5-3.5h0m1 0h0m1 0h0m12.5.5h0m1 2h0m2.5 2.5h0m2 1.5h0m-80 6.5h0m15.5-.5h0m1.5-2.5h0m1-3.5h0m2.5 1.5h0m5 0h0m4.5 4.5h0m3.5-5h0m3 1h0m2.5.5h0m.5 2.5h0m1.5-4.5h0m3 5.5h0m4-2.5h0m15 2h0m4-.5h0m7.5-.5h0m.5 1.5h0m0-2h0m2.5-.5h0m5.5-3h0m-89.5 13.5h0m3-1.5h0m2 0h0m2.5 1h0m0 .5h0m5.5-3.5h0m4.5.5h0m5-1.5h0m8-2.5h0m3 4h0m4 2.5h0m1-5h0m2 3h0m1 .5h0m1.5-3.5h0m0 4.5h0m8.5-2.5h0m3.5 2h0m2.5 0h0m0-4h0m3 3.5h0m3.5 1h0m2.5-4h0m2.5 3h0m0-2h0m2.5 1h0m4.5-1h0m2-2.5h0m-82 8h0m1.5 4.5h0m1.5-4.5h0m.5-.5h0m26 5.5h0m1-3h0m2.5 3h0m11-2h0m2-1h0m1.5-.5h0m.5-2h0m2.5 6h0m2-5.5h0m.5 0h0m6 4.5h0m3-2h0m19-2.5h0m-78 6h0m2 .5h0m5.5 6h0m2.5-1.5h0m25.5-3.5h0m6-.5h0m6 4.5h0m10.5 0h0m1.5-3.5h0m2.5 4.5h0m.5-5h0m1 5h0m5-7h0m2 7h0m.5-4h0m-62.5 10.5h0m.5.5h0m1.5-4h0m6 3h0m3 0h0m3 0h0m6-5.5h0m5 1.5h0m.5 5h0m3-4.5h0m1.5 2.5h0m6 0h0m9.5-4h0m10 3h0m5 1h0m15 1h0m5-5h0m-89.5 11h0m2.5 1.5h0m3.5-4.5h0m.5 4.5h0m6.5-2h0m2 2h0m7-2.5h0m17 2.5h0m5.5 0h0m0-4h0m.5 0h0m1.5 3h0m19 1.5h0m3.5-6.5h0m28.5 2.5h0m-98.5 6h0m2-2h0m6.5 1h0m9.5 5h0m3.5-5.5h0m6 2.5h0m.5-1h0m0 2.5h0m6.5 0h0m2-3.5h0m8 3h0m4-3h0m9 2h0m1-1h0m9 .5h0m1 4.5h0m19-.5h0m.5 0h0m-81.5 2h0m3.5 2.5h0m2.5-3h0m2.5 5.5h0m7-1h0m1 .5h0m6.5-1.5h0m7-2h0m3.5 0h0m6-.5h0m1-2h0m11 7h0m2-2.5h0m8.5-1h0m32.5-.5h0m-87.5 10.5h0m18-5h0m.5 2h0m9 2.5h0m.5-1.5h0m4-3.5h0m3.5 4h0m19 0h0m-61 7h0m.5-5h0m.5 5.5h0m3-3.5h0m.5 5h0m6 0h0m2.5-6h0m3 1h0m10-1.5h0m1.5 4h0m.5 2.5h0m7.5-3h0m8 3h0m1-3h0m0 2.5h0m5-5.5h0m5-.5h0m3 3.5h0m18 2h0m-75.5 7.5h0m.5-1.5h0m6 0h0m13.5-5h0m.5 2.5h0m6 2h0m11.5-2h0m0 0h0m1.5.5h0m2 2h0m5-3h0m3 4.5h0m0-3h0m32-1.5h0m2.5 4.5h0m-85.5 2.5h0m.5 1h0m5.5-3h0m5 5h0m7 2h0m10-5h0m1-1.5h0m1 6h0m11.5-.5h0m1.5-2h0m9 1h0m1.5.5h0m3.5-2.5h0m1.5 1h0m-56.5 8h0m7.5-2.5h0m1.5 0h0m4.5-1h0m7 4h0m.5-5.5h0m2 5.5h0m1.5-5.5h0m2.5 3h0m1.5-3h0m3.5 2.5h0m1.5 2h0m3.5-3h0m7-1h0m6.5 3.5h0m-45 4h0m8 3h0m21 0h0m0-3.5h0m4.5 3h0m3.5-.5h0m1.5 2h0m3.5-3.5h0m1.5 0h0m1.5 0h0m1 1h0m-41.5 7.5h0m3 1.5h0m.5-4h0m.5 2.5h0m11 2.5h0m7.5-3h0m3 4h0m2-1.5h0m7 .5h0m6-5h0m-49.5 9.5h0m21.5-.5h0m17-.5h0m2-1h0m-38.5 8.5h0m4 4h0m1-5.5h0m5 2h0m4-1.5h0m1 4h0m4-3.5h0m2.5 3h0m4-2.5h0m2.5-1h0m-23 7h0m3 4.5h0m0-1.5h0m.5.5h0m3.5-3.5h0m2 2.5h0m.5-1h0m2.5-2h0m.5 5.5h0m6-5h0m1 .5h0m-13.5 8h0m1 3.5h0m4-2h0m1.5-4h0m1-.5h0m2.5 3.5h0m-12.5 6.5h0m6.5 2h0m-18 3.5h0" stroke="#10a669"/><path d="M1090 231h0m4.5 1h0m1-3h0m1 2h0m-4.5 8.5h0m6 2h0m1.5-5h0m-14.5 8h0m5-2h0m16.5 2.5h0m-26 6h0m6.5.5h0m4.5-2.5h0m1.5 1h0m4 3h0m4-3h0m-29.5 12h0m16.5-6.5h0m9 3h0m2.5-1h0m3 5h0m-28 4.5h0m1-1.5h0m3-3h0m2 4.5h0m1 0h0m11 1h0m-16 2h0m7.5 4h0m1.5-.5h0m2 0h0m2 1.5h0m9.5-1.5h0m4 1h0m2-4.5h0m-34 13h0m4.5-2h0m1.5-2.5h0m6 1h0m2-.5h0m0 1h0m1 2.5h0m.5-2.5h0m.5.5h0m0 .5h0m2.5 2h0m13.5-.5h0m4.5-5.5h0m-22.5 11.5h0m7-4h0m-23.5 11.5h0m4-5h0m6 6h0m13.5-2.5h0m7.5-1.5h0m1 2.5h0m-31.5 4h0m7.5-.5h0m4.5 3h0m.5-1.5h0m12.5-2.5h0m-26.5 7h0m8 6h0m2-.5h0m5.5-1.5h0m.5-1.5h0m1 4h0m1.5-5.5h0m1 1h0m.5 1h0m6 1h0m4 1h0m9-3h0m-42.5 6h0m.5 4h0m2-2h0m1.5.5h0m.5 2h0m4-1.5h0m17.5-1h0m3-2.5h0m13 1.5h0m-42 9h0m3.5 1.5h0m4.5-5h0m1 4.5h0m0-5.5h0m6.5 6h0m2.5-4.5h0m3 3.5h0m1.5 0h0m2-1h0m0-3h0m.5 5h0m3-.5h0m2.5-2.5h0m.5 3.5h0m4-5h0m1 1h0m-41 10.5h0m4.5 1h0m4.5-2h0m3 1h0m1.5-.5h0m4-3h0m9 4h0m3.5-6.5h0m11.5 3.5h0m-46.5 10.5h0m6-4h0m10.5 2h0m1.5-4.5h0m4 6h0m10-4.5h0m5.5 4.5h0m9-1h0m0-5.5h0m-56 12.5h0m5-2h0m8.5-2.5h0m3 1h0m7-1.5h0m4 5.5h0m17-3h0m2-2.5h0m7 2h0m1 1.5h0m-41.5 3.5h0m10.5 5.5h0m.5-2.5h0m2-2h0m13.5 5h0m3.5-3.5h0m11.5-2.5h0m-68 13h0m3-1h0m1-.5h0m20.5 0h0m4-1h0m4.5 0h0m1.5 0h0m4.5-.5h0m3.5.5h0m4.5 2.5h0m6-2.5h0m3.5-1.5h0m9.5 1h0m-64 4h0m3 1h0m14.5 3h0m17.5-4h0m1 3.5h0m1-2.5h0m1.5 5h0m2-2h0m2-4h0m0 4.5h0m2-1h0m3.5-1h0m9.5-2h0m-59 11h0m1-4.5h0m.5 1h0m9.5 2h0m5-.5h0m1 2h0m11-1.5h0m7-1h0m.5-.5h0m13 4h0m-42.5 7.5h0m12-4.5h0m2 4.5h0m3.5-.5h0m7 0h0m15-1h0m4.5.5h0m-43 1.5h0m.5 3h0m9.5 0h0m4 1.5h0m6-4.5h0m4 2h0m2.5 2.5h0m2 .5h0m2.5-4h0m2 5h0m1.5-5h0m1-.5h0m6.5 2.5h0m9 2h0m-39.5 3.5h0m9.5 3h0m2 1.5h0m2-2.5h0m11.5-.5h0m5 0h0m-25 5.5h0m6.5 1.5h0m2-2.5h0m13.5 2.5h0m11-3h0m-19.5 7.5h0m7 3.5h0m1.5-1h0" stroke="#2a99d0"/><path d="M1004.5 399h0m13-2h0m-24 8h0m15-1h0m-3 8h0m1 4h0m2-5.5h0m.5 5h0m.5-5.5h0m1 1.5h0m.5 4h0m-7 2.5h0m5.5.5h0m0 4.5h0m-5.5.5h0m2.5.5h0m0 0h0m1 5h0m1-3.5h0m4.5-1h0m0 .5h0m-12 8.5h0m.5 2h0m2 0h0m4.5-4.5h0m1 1.5h0m-11 8h0m8 .5h0m1.5 0h0m.5-2h0m0 3h0m.5 0h0m0-3h0m0 0h0m-11.5 6.5h0m.5 3.5h0m2.5 1.5h0m.5-1h0m.5-3h0m.5.5h0m1 3h0m1-.5h0m3.5-4.5h0m-6.5 6.5h0" stroke="#bb60bb"/></g><path d="M724.4 414.2V471.2H781.9" stroke="#000" stroke-width="3.5" fill="none" stroke-linejoin="miter"/><path d="M724.4 384.2Q727.6 408.2 737.6 426.9Q730.4 420.2 724.4 417.9Q718.4 420.2 711.2 426.9Q721.2 408.2 724.4 384.2Z"/><path d="M811.9 471.2Q787.9 474.4 769.2 484.4Q775.9 477.2 778.2 471.2Q775.9 465.2 769.2 458Q787.9 468 811.9 471.2Z"/><text x="715.3" y="523.5" font-size="33.9">UMAP 1</text><text x="694.4" y="475.3" font-size="33.9" transform="rotate(-90 694.4 475.3)">UMAP 2</text></g>
<g id="pc"><text transform="translate(1187 36.3) scale(0.97 1)" font-size="48" font-weight="bold">c</text><text x="1336.5" y="30" font-size="29.2" text-anchor="middle">Expression</text><defs><linearGradient id="gex" x1="0" x2="1" y1="0" y2="0"><stop offset="0" stop-color="#c055ab"/><stop offset="0.2" stop-color="#93278f"/><stop offset="0.38" stop-color="#3f0c42"/><stop offset="0.5" stop-color="#000"/><stop offset="0.62" stop-color="#44441c"/><stop offset="0.8" stop-color="#a3a336"/><stop offset="0.95" stop-color="#e6e128"/><stop offset="1" stop-color="#f0e92e"/></linearGradient></defs><rect x="1255" y="49" width="160.5" height="32.2" fill="url(#gex)" stroke="#231f20" stroke-width="1.6"/><path d="M1271.5 50V56M1271.5 74.5V80.4M1303.5 50V56M1303.5 74.5V80.4M1335.5 50V56M1335.5 74.5V80.4M1367.5 50V56M1367.5 74.5V80.4M1399.5 50V56M1399.5 74.5V80.4" stroke="#fff" stroke-width="0.8" fill="none"/><text x="1267.5" y="105.5" font-size="25" text-anchor="middle">−2</text><text x="1300" y="105.5" font-size="25" text-anchor="middle">−1</text><text x="1336" y="105.5" font-size="25" text-anchor="middle">0</text><text x="1367.5" y="105.5" font-size="25" text-anchor="middle">1</text><text x="1400" y="105.5" font-size="25" text-anchor="middle">2</text><text x="1757.5" y="70" font-size="37.3" text-anchor="middle">Sorted Neoplastic Cluster</text><text x="1552" y="104.8" font-size="28.5" text-anchor="middle">1</text><text x="1752.5" y="104.8" font-size="28.5" text-anchor="middle">2</text><text x="1896" y="104.8" font-size="28.5" text-anchor="middle">3</text><text x="1965" y="104.8" font-size="28.5" text-anchor="middle">4</text><text x="1991.5" y="104.8" font-size="28.5" text-anchor="middle">5</text><rect x="1445.2" y="117.6" width="214.8" height="15.4" fill="#f9b8b5" stroke="#231f20" stroke-width="1.2"/><rect x="1661.2" y="117.6" width="171.6" height="15.4" fill="#cfd29a" stroke="#231f20" stroke-width="1.2"/><rect x="1834.3" y="117.6" width="107.3" height="15.4" fill="#94dabd" stroke="#231f20" stroke-width="1.2"/><rect x="1943.2" y="117.6" width="42.0" height="15.4" fill="#a4d4ec" stroke="#231f20" stroke-width="1.2"/><rect x="1987" y="117.6" width="6.6" height="15.4" fill="#dcb4de" stroke="#231f20" stroke-width="1.2"/><rect x="1229.5" y="143.2" width="211" height="160.8" fill="#fddcdb"/><text x="1219.5" y="223.6" font-size="26.3" text-anchor="middle" fill="#1a1416" transform="rotate(-90 1219.5 223.6)">ATII-Like</text><text x="1276.7" y="167.9" font-size="26" text-anchor="middle" font-style="italic" fill="#1a1416">Lyz2</text><text x="1381.2" y="167.9" font-size="26" text-anchor="middle" font-style="italic" fill="#1a1416">Cbr2</text><text x="1276.7" y="200.95" font-size="26" text-anchor="middle" font-style="italic" fill="#1a1416">Hc</text><text x="1381.2" y="200.95" font-size="26" text-anchor="middle" font-style="italic" fill="#1a1416">Sftpa1</text><text x="1276.7" y="234" font-size="26" text-anchor="middle" font-style="italic" fill="#1a1416">Nupr1</text><text x="1381.2" y="234" font-size="26" text-anchor="middle" font-style="italic" fill="#1a1416">Cox6a2</text><text x="1276.7" y="267.05" font-size="26" text-anchor="middle" font-style="italic" fill="#1a1416">Bex2</text><text x="1381.2" y="267.05" font-size="26" text-anchor="middle" font-style="italic" fill="#1a1416">S100g</text><text x="1276.7" y="300.1" font-size="26" text-anchor="middle" font-style="italic" fill="#1a1416">Cxcl15</text><text x="1381.2" y="300.1" font-size="26" text-anchor="middle" font-style="italic" fill="#1a1416">Ces1d</text><rect x="1229.5" y="309.1" width="211" height="160.8" fill="#e8ebcf"/><text x="1219.5" y="389.5" font-size="26.3" text-anchor="middle" fill="#1a1416" transform="rotate(-90 1219.5 389.5)">Indeterminate</text><text x="1276.7" y="333.8" font-size="26" text-anchor="middle" font-style="italic" fill="#1a1416">Pmvk</text><text x="1381.2" y="333.8" font-size="26" text-anchor="middle" font-style="italic" fill="#1a1416">Dmkn</text><text x="1276.7" y="366.85" font-size="26" text-anchor="middle" font-style="italic" fill="#1a1416">Slpi</text><text x="1381.2" y="366.85" font-size="26" text-anchor="middle" font-style="italic" fill="#1a1416">Egfl6</text><text x="1276.7" y="399.9" font-size="26" text-anchor="middle" font-style="italic" fill="#1a1416">Meg3</text><text x="1381.2" y="399.9" font-size="26" text-anchor="middle" font-style="italic" fill="#1a1416">Lrrk2</text><text x="1276.7" y="432.95" font-size="26" text-anchor="middle" font-style="italic" fill="#1a1416">Tgfbi</text><text x="1381.2" y="432.95" font-size="26" text-anchor="middle" font-style="italic" fill="#1a1416">Phgr1</text><text x="1276.7" y="466" font-size="26" text-anchor="middle" font-style="italic" fill="#1a1416">Ptprn</text><text x="1381.2" y="466" font-size="26" text-anchor="middle" font-style="italic" fill="#1a1416">Retnla</text><rect x="1229.5" y="475.0" width="211" height="160.8" fill="#cceee0"/><text x="1219.5" y="555.4" font-size="26.3" text-anchor="middle" fill="#1a1416" transform="rotate(-90 1219.5 555.4)">ATI-Like</text><text x="1276.7" y="499.7" font-size="26" text-anchor="middle" font-style="italic" fill="#1a1416">Hopx</text><text x="1381.2" y="499.7" font-size="26" text-anchor="middle" font-style="italic" fill="#1a1416">Lmo7</text><text x="1276.7" y="532.75" font-size="26" text-anchor="middle" font-style="italic" fill="#1a1416">Akap5</text><text x="1381.2" y="532.75" font-size="26" text-anchor="middle" font-style="italic" fill="#1a1416">Ndnf</text><text x="1276.7" y="565.8" font-size="26" text-anchor="middle" font-style="italic" fill="#1a1416">Ager</text><text x="1381.2" y="565.8" font-size="26" text-anchor="middle" font-style="italic" fill="#1a1416">Emp2</text><text x="1276.7" y="598.85" font-size="26" text-anchor="middle" font-style="italic" fill="#1a1416">Clic5</text><text x="1381.2" y="598.85" font-size="26" text-anchor="middle" font-style="italic" fill="#1a1416">Col4a3</text><text x="1276.7" y="631.9" font-size="26" text-anchor="middle" font-style="italic" fill="#1a1416">Sparc</text><text x="1381.2" y="631.9" font-size="26" text-anchor="middle" font-style="italic" fill="#1a1416">Sec14l3</text><rect x="1229.5" y="640.9" width="211" height="160.8" fill="#d4e8f5"/><text x="1219.5" y="721.3" font-size="26.3" text-anchor="middle" fill="#1a1416" transform="rotate(-90 1219.5 721.3)">Transitional</text><text x="1276.7" y="665.6" font-size="26" text-anchor="middle" font-style="italic" fill="#1a1416">Clu</text><text x="1381.2" y="665.6" font-size="26" text-anchor="middle" font-style="italic" fill="#1a1416">Procr</text><text x="1276.7" y="698.65" font-size="26" text-anchor="middle" font-style="italic" fill="#1a1416">S100a6</text><text x="1381.2" y="698.65" font-size="26" text-anchor="middle" font-style="italic" fill="#1a1416">S100a14</text><text x="1276.7" y="731.7" font-size="26" text-anchor="middle" font-style="italic" fill="#1a1416">F3</text><text x="1381.2" y="731.7" font-size="26" text-anchor="middle" font-style="italic" fill="#1a1416">Krt18</text><text x="1276.7" y="764.75" font-size="26" text-anchor="middle" font-style="italic" fill="#1a1416">Krt8</text><text x="1381.2" y="764.75" font-size="26" text-anchor="middle" font-style="italic" fill="#1a1416">Lgals3</text><text x="1276.7" y="797.8" font-size="26" text-anchor="middle" font-style="italic" fill="#1a1416">Krt19</text><text x="1381.2" y="797.8" font-size="26" text-anchor="middle" font-style="italic" fill="#1a1416">Crip1</text><rect x="1229.5" y="806.8" width="211" height="160.8" fill="#efddee"/><text x="1219.5" y="887.2" font-size="26.3" text-anchor="middle" fill="#1a1416" transform="rotate(-90 1219.5 887.2)">Proliferating</text><text x="1276.7" y="831.5" font-size="26" text-anchor="middle" font-style="italic" fill="#1a1416">Ube2c</text><text x="1381.2" y="831.5" font-size="26" text-anchor="middle" font-style="italic" fill="#1a1416">Cdc20</text><text x="1276.7" y="864.55" font-size="26" text-anchor="middle" font-style="italic" fill="#1a1416">Mki67</text><text x="1381.2" y="864.55" font-size="26" text-anchor="middle" font-style="italic" fill="#1a1416">Stmn1</text><text x="1276.7" y="897.6" font-size="26" text-anchor="middle" font-style="italic" fill="#1a1416">Top2a</text><text x="1381.2" y="897.6" font-size="26" text-anchor="middle" font-style="italic" fill="#1a1416">H2afz</text><text x="1276.7" y="930.65" font-size="26" text-anchor="middle" font-style="italic" fill="#1a1416">Birc5</text><text x="1381.2" y="930.65" font-size="26" text-anchor="middle" font-style="italic" fill="#1a1416">Tubb5</text><text x="1276.7" y="963.7" font-size="26" text-anchor="middle" font-style="italic" fill="#1a1416">Cenpf</text><text x="1381.2" y="963.7" font-size="26" text-anchor="middle" font-style="italic" fill="#1a1416">Hmgb2</text><g fill="none" stroke-width="16.76" shape-rendering="crispEdges"><path stroke="#da4" d="M1447 150.7h214m326 0h9M1943 183.7h43M1447 200.1h214M1447 216.6h107m108 0h172m153 0h9M1543 233h118M1447 249.5h107m0 0h107m326 0h9M1533 265.9h128M1447 282.4h214M1447 348.2h111m22 0h81m164 0h9M1662 397.6h64M1558 463.5h103M1987 661h9M1835 743.3h54M1835 792.7h54m80 0h17m1 0h9M1856 907.9h86M1943 940.8h22"/><path stroke="#b5a" d="M1662 150.7h172m1 0h107m1 0h43M1835 167.2h107m1 0h43m1 0h9M1662 183.7h172m1 0h107m45 0h9M1835 216.6h107m1 0h43M1662 233h172m1 0h107m1 0h43m1 0h9M1835 249.5h107m1 0h43M1662 282.4h172m1 0h107m1 0h43m1 0h9M1943 298.9h43m1 0h9M1447 315.3h133m255 0h107m1 0h43M1835 331.8h107m1 0h43m1 0h9M1558 348.2h22m82 0h64m109 0h107m1 0h43m1 0h9M1447 397.6h111m267 0h9m1 0h107m1 0h43m1 0h9M1447 463.5h111m104 0h64m99 0h9m1 0h107m1 0h43m1 0h9M1447 479.9h214m304 0h21m1 0h9M1943 496.4h43m1 0h9M1447 512.9h107M1447 562.2h107m0 0h107m326 0h9M1447 578.7h214m1 0h172m153 0h9M1987 628.1h9M1662 644.5h172m12 0h96M1447 661h214m1 0h172M1447 693.9h214M1987 743.3h9M1447 759.8h214m326 0h9M1447 776.2h214"/><path stroke="#882" d="M1447 167.2h214M1447 183.7h214M1447 298.9h128M1580 331.8h8m160 0h77M1726 364.7h99M1580 381.2h8m355 0h22M1662 414.1h64M1662 430.6h163M1726 447h99M1883 677.5h59M1977 809.1h9M1965 891.4h21M1835 924.4h107m1 0h43"/><path stroke="#828" d="M1662 167.2h172M1447 265.9h86m129 0h172m1 0h107m1 0h43m1 0h9M1835 298.9h107M1447 331.8h133m8 0h73m164 0h9M1447 364.7h120m21 0h73m1 0h64m99 0h9m1 0h107m1 0h43m1 0h9M1447 381.2h133m8 0h73m1 0h64m22 0h77m0 0h9m1 0h59m0 0h48M1825 414.1h9m1 0h107m1 0h43M1943 430.6h43M1447 529.3h107m0 0h107M1554 545.8h107M1447 595.2h214m53 0h120m153 0h9M1447 611.6h214m1 0h172m109 0h43m1 0h9M1447 677.5h214m1 0h172m1 0h48m104 0h9M1662 693.9h172M1662 759.8h172M1662 776.2h172M1662 792.7h172M1447 907.9h214m1 0h172m1 0h21M1662 924.4h172M1447 940.8h118m0 0h96m1 0h172M1943 957.3h43"/><path stroke="#a49" d="M1662 200.1h172m1 0h107m1 0h43m1 0h9M1447 233h96M1662 479.9h172M1447 496.4h214m1 0h172M1554 512.9h107M1987 529.3h9M1447 545.8h107M1662 562.2h172M1662 628.1h172m109 0h43M1447 644.5h214M1987 693.9h9M1447 710.4h214m1 0h172m1 0h64m88 0h9M1447 743.3h214M1987 776.2h9M1447 792.7h214"/><path stroke="#ed2" d="M1554 216.6h107M1662 249.5h17m0 0h138m0 0h17M1580 315.3h8m0 0h73m1 0h64m0 0h22m0 0h86M1662 331.8h64m0 0h22M1726 348.2h99M1726 381.2h22m217 0h21m1 0h9M1558 397.6h103m65 0h99M1726 463.5h99M1835 479.9h107m1 0h22M1835 496.4h107M1835 512.9h107M1835 529.3h24m0 0h83m1 0h43M1835 545.8h107m1 0h43M1835 562.2h107m1 0h43M1835 578.7h107m1 0h43M1835 595.2h107m1 0h43M1835 611.6h107M1835 628.1h32m0 0h75M1943 644.5h43M1835 661h107m1 0h43M1943 677.5h43M1835 693.9h32m22 0h53m1 0h43M1899 710.4h43m1 0h43M1943 726.8h43M1943 743.3h9m0 0h8m0 0h26M1835 759.8h107m1 0h43M1835 776.2h107m1 0h43M1889 792.7h53m1 0h26M1987 809.1h9M1987 825.6h9M1987 842.1h9M1987 858.5h9M1987 875h9M1987 891.4h9M1943 907.9h43m1 0h9M1987 924.4h9M1899 940.8h43m23 0h21m1 0h9M1987 957.3h9"/><path stroke="#515" d="M1575 298.9h86m8 0h165M1567 364.7h21M1447 414.1h128m0 0h86m65 0h99M1447 430.6h128m0 0h86m164 0h9m1 0h107m45 0h9M1447 447h214m1 0h64m99 0h9m1 0h32m0 0h75m1 0h43m1 0h9M1662 512.9h172m109 0h22m22 0h9M1662 545.8h172M1662 595.2h52M1447 726.8h214m1 0h172m1 0h107M1447 924.4h214M1835 940.8h64M1447 957.3h214m1 0h172m1 0h107"/><path stroke="#ba2" d="M1662 298.9h7"/><path stroke="#c86" d="M1987 315.3h9"/><path stroke="#727" d="M1987 414.1h9M1987 726.8h9"/><path stroke="#db4" d="M1965 512.9h21M1835 644.5h11"/><path stroke="#939" d="M1662 529.3h172M1447 628.1h214M1662 743.3h172m55 0h53"/><path stroke="#626" d="M1987 545.8h9M1867 693.9h22"/><path stroke="#c87" d="M1987 644.5h9"/><path stroke="#101" d="M1447 809.1h214m1 0h60m0 0h112m1 0h107m1 0h34M1447 842.1h214m1 0h172m1 0h107m1 0h43M1447 858.5h214m1 0h172m1 0h107m1 0h43M1447 875h214m1 0h172m1 0h107m1 0h43"/><path stroke="#202" d="M1447 825.6h214m1 0h172m1 0h107m1 0h43M1447 891.4h64m0 0h54m0 0h96m1 0h172m1 0h107m1 0h22"/><path stroke="#964" d="M1447 150.7h1m8 0h1m50 0h1m60 0h1m76 0h1m11 0h1M1462 167.2h1m12 0h1m2 0h1m44 0h1m18 0h1m3 0h1m11 0h1m28 0h2m40 0h1m30 0h1M1520 183.7h1m8 0h1m77 0h1M1493 200.1h1m24 0h1m50 0h1m76 0h1M1547 216.6h1M1451 249.5h1m75 0h1M1565 265.9h1m3 0h1M1466 282.4h1m12 0h1m115 0h1m1 0h1m47 0h1M1449 298.9h1m7 0h1m2 0h1m31 0h1m81 0h1M1765 447h2M1716 496.4h1m30 0h1M1906 644.5h1M1678 677.5h1m10 0h1m29 0h1m23 0h1m4 0h1m6 0h1m17 0h1m8 0h2m36 0h1M1690 693.9h1m42 0h1m36 0h1m10 0h1M1674 710.4h1m15 0h1m4 0h1m35 0h1M1697 743.3h1m21 0h1m43 0h1m3 0h1m6 0h1m30 0h1M1668 759.8h1m3 0h1m38 0h1m47 0h1m19 0h1m49 0h1M1726 776.2h1m6 0h1m21 0h1M1693 792.7h1m4 0h1m99 0h1m6 0h1M1460 907.9h1m40 0h1m162 0h1m2 0h1m9 0h1m9 0h1m78 0h1m3 0h1m14 0h2m14 0h1m14 0h1M1498 924.4h1m15 0h1m183 0h1m8 0h1m20 0h1m6 0h1m11 0h1m69 0h1m3 0h1M1572 940.8h1m8 0h1m31 0h1m21 0h1m6 0h1m26 0h2m1 0h1m14 0h2m4 0h2m43 0h1m16 0h1m9 0h1m16 0h1m13 0h1m11 0h1m15 0h1m8 0h1M1571 957.3h1m3 0h1m123 0h1m127 0h1m100 0h1"/><path stroke="#ed3" d="M1448 150.7h1m50 0h1m44 0h1m28 0h1m75 0h1M1472 183.7h1m149 0h1M1532 200.1h1M1466 216.6h1m1 0h1m7 0h2m46 0h1m16 0h1m14 0h3m46 0h1m18 0h1m161 0h1m32 0h1m5 0h1M1490 233h1m114 0h1m34 0h2M1457 249.5h1m7 0h1m27 0h1m48 0h1m67 0h1m68 0h1m4 0h1m106 0h1m34 0h1M1601 265.9h1M1488 282.4h1m107 0h1m1 0h1m38 0h1m9 0h2m104 0h1m75 0h1M1470 298.9h1m67 0h1M1771 315.3h1m24 0h1m5 0h1M1536 348.2h2m191 0h1m38 0h1m20 0h2m12 0h1M1740 381.2h1M1551 397.6h1m11 0h1m14 0h1m166 0h1m5 0h1m15 0h1m5 0h1m2 0h1m46 0h1M1461 463.5h1m70 0h1m77 0h2m121 0h1M1885 479.9h2m33 0h1m11 0h1m20 0h1M1837 496.4h1m35 0h1m54 0h1M1865 512.9h1m18 0h1m45 0h1m10 0h1M1845 529.3h1m12 0h1m60 0h1M1873 545.8h1m48 0h1M1728 562.2h1m9 0h1m98 0h1m79 0h2m65 0h1M1665 578.7h1m177 0h1m9 0h1m47 0h2m25 0h1M1845 595.2h1M1924 628.1h1M1914 644.5h2M1711 661h1m141 0h2m4 0h1m78 0h1m45 0h1M1951 677.5h1M1894 710.4h1M1894 743.3h2m59 0h1M1961 776.2h2M1953 792.7h1m3 0h2M1988 891.4h1M1990 907.9h1M1879 940.8h2"/><path stroke="#b69" d="M1449 150.7h1m44 0h1m198 0h2m17 0h2m9 0h1m29 0h1m20 0h1m6 0h1m21 0h1m131 0h1m26 0h1M1820 167.2h1M1464 183.7h1m119 0h1m87 0h1m34 0h1m59 0h1m20 0h1m17 0h1m26 0h1M1664 200.1h1M1540 216.6h1m156 0h1m2 0h1m40 0h1m9 0h1m12 0h1m5 0h1m1 0h1m27 0h1m8 0h1m4 0h2M1665 233h1m45 0h1m33 0h1m14 0h1m9 0h1m132 0h1m41 0h2M1458 249.5h1m1 0h1m2 0h1m43 0h1m35 0h1m264 0h1m40 0h1m12 0h1m18 0h1m35 0h1M1517 282.4h1m64 0h1m25 0h1m56 0h1m96 0h1m1 0h2m22 0h1m5 0h2m99 0h1M1512 348.2h1m28 0h1m361 0h1M1513 397.6h1m25 0h1m124 0h1m51 0h1m218 0h1M1707 463.5h1m243 0h1M1457 479.9h1m289 0h1m216 0h1M1893 562.2h1M1758 628.1h1M1546 661h1m160 0h1m36 0h1m30 0h1m152 0h1"/><path stroke="#a67" d="M1450 150.7h1M1545 167.2h1m65 0h1m126 0h1M1569 183.7h1m378 0h1M1493 233h1m10 0h1m4 0h1m82 0h1m33 0h1M1517 249.5h1M1465 265.9h1m56 0h1m48 0h1m61 0h1m13 0h1m21 0h1M1519 282.4h1M1681 298.9h1M1706 315.3h1m11 0h1m95 0h1M1845 331.8h1m4 0h1m12 0h1M1778 364.7h1M1631 381.2h1m62 0h1m204 0h1m54 0h2M1672 496.4h1M1773 512.9h1M1966 529.3h1M1677 578.7h1m133 0h1m113 0h1m54 0h1M1975 611.6h1M1536 628.1h1m147 0h1m61 0h1m187 0h1M1469 644.5h1m433 0h1M1873 677.5h1m82 0h1M1741 693.9h1M1846 710.4h1m14 0h1m15 0h1m55 0h1M1680 743.3h1m162 0h1m48 0h1m12 0h1M1798 759.8h1M1844 776.2h1m33 0h1m19 0h1M1885 792.7h2M1727 907.9h1m148 0h1m15 0h1M1759 940.8h1m88 0h2m34 0h1m10 0h1"/><path stroke="#db4" d="M1452 150.7h1m10 0h2m9 0h1m59 0h1m1 0h1m6 0h1m28 0h1m10 0h2m3 0h1m10 0h1m18 0h1m27 0h1m74 0h1m2 0h1m62 0h1m16 0h1m2 0h1M1571 167.2h1m59 0h1M1456 183.7h1m115 0h1m15 0h1m73 0h1m298 0h1m7 0h1M1454 200.1h1m5 0h1m117 0h2m62 0h1m15 0h1M1459 216.6h1m10 0h2m23 0h1m13 0h1m23 0h1m33 0h1m15 0h1m1 0h1m4 0h1m29 0h1m1 0h1m5 0h1m30 0h1m18 0h1m25 0h1m3 0h2m3 0h1m29 0h1m3 0h1m44 0h1m9 0h2m19 0h2M1449 233h1m50 0h1m28 0h1m20 0h1m10 0h2m5 0h1m16 0h1m2 0h1m13 0h1m10 0h1m9 0h1m20 0h1m5 0h1M1483 249.5h1m17 0h1m6 0h1m19 0h2m10 0h1m21 0h2m11 0h1m2 0h1m6 0h1m7 0h1m12 0h1m14 0h1m4 0h1m12 0h1m14 0h1m9 0h1m12 0h2m4 0h1m4 0h1m37 0h1m2 0h2m72 0h1m13 0h1m9 0h2M1535 265.9h1m4 0h2m14 0h1m1 0h1m11 0h1m11 0h1m21 0h1m11 0h1m2 0h1m8 0h1m5 0h1m2 0h3m2 0h1M1459 282.4h1m14 0h1m2 0h1m4 0h1m21 0h1m1 0h1m17 0h2m3 0h1m18 0h1m3 0h1m4 0h1m11 0h2m3 0h1m3 0h1m33 0h1m85 0h1m31 0h1m42 0h1m7 0h1M1585 315.3h1m33 0h1m2 0h1m24 0h1m12 0h1m1 0h1m7 0h1m37 0h1m48 0h1m173 0h1M1586 331.8h1m140 0h1m6 0h1m36 0h1m42 0h1M1462 348.2h1m20 0h2m11 0h1m3 0h1m47 0h1m7 0h2m71 0h2m26 0h1m4 0h1m1 0h1m19 0h2m11 0h1m25 0h1m6 0h1m17 0h1m2 0h2m8 0h2m8 0h1m1 0h1m25 0h1m19 0h1M1941 364.7h1m35 0h1M1711 381.2h1m16 0h1m7 0h1m49 0h1m10 0h1m5 0h1m175 0h1M1472 397.6h1m87 0h1m28 0h1m26 0h1m27 0h1m14 0h1m22 0h1m30 0h1m12 0h1m1 0h1m27 0h1m3 0h2m3 0h1m4 0h1m16 0h1m3 0h1m4 0h1m7 0h1m10 0h2M1750 447h1M1493 463.5h1m93 0h1m8 0h2m2 0h1m2 0h2m38 0h2m67 0h1m18 0h2m18 0h1m27 0h1m10 0h2m15 0h1m1 0h1m2 0h1M1840 479.9h1m1 0h1m8 0h1m13 0h1m6 0h2m1 0h1m7 0h2m10 0h1m15 0h1m12 0h1m14 0h1m18 0h1M1860 496.4h1m14 0h2m4 0h2m36 0h1m14 0h1m2 0h2m13 0h1M1666 512.9h1m31 0h1m95 0h1m37 0h1m13 0h1m40 0h1m12 0h1M1877 529.3h1m61 0h1M1850 545.8h1m1 0h1m38 0h2m32 0h2M1781 562.2h1m2 0h1m55 0h1m17 0h1m65 0h1m29 0h3M1680 578.7h1m151 0h1m41 0h1m49 0h1m7 0h1m15 0h1m34 0h1M1921 595.2h1m28 0h1M1882 611.6h2m45 0h1M1706 628.1h1m135 0h1m29 0h1m20 0h1m9 0h2m30 0h1m1 0h1M1884 644.5h1m3 0h1m34 0h1m21 0h1m11 0h1m4 0h1m8 0h1M1718 661h1m26 0h1m39 0h1m60 0h2m32 0h1m1 0h2m9 0h1m10 0h2m6 0h2m5 0h1m6 0h1m12 0h1M1880 677.5h1m57 0h1m11 0h1m3 0h1M1865 693.9h1m30 0h1m18 0h1m11 0h1m8 0h1M1852 710.4h1m33 0h1m21 0h1m3 0h1m2 0h2m48 0h2M1854 743.3h1m2 0h1m49 0h1m4 0h1m33 0h1m9 0h1m10 0h1M1835 776.2h2m24 0h1m10 0h1m2 0h1m28 0h1m2 0h2m15 0h2m17 0h2m15 0h1m12 0h1M1836 792.7h1m122 0h1m5 0h1M1838 907.9h2m1 0h1m26 0h1m10 0h1m15 0h2m21 0h2m8 0h1m2 0h1m19 0h1m18 0h1m3 0h6M1867 924.4h1m46 0h1m76 0h1M1775 940.8h1m70 0h1m18 0h1m27 0h1m8 0h1m1 0h2m24 0h1m5 0h1m10 0h2m2 0h1m39 0h1M1565 957.3h1m72 0h1m156 0h1m118 0h1m80 0h1"/><path stroke="#a85" d="M1453 150.7h1M1625 200.1h1M1447 216.6h1m81 0h1M1630 315.3h1M1913 562.2h1"/><path stroke="#992" d="M1454 150.7h1m20 0h1m141 0h1M1584 216.6h1M1601 249.5h1M1754 315.3h1M1649 331.8h1m152 0h1M1691 381.2h2m91 0h1m29 0h1M1710 414.1h1m81 0h1M1813 512.9h1M1954 529.3h1M1862 545.8h1M1962 562.2h1M1887 611.6h1M1865 677.5h1M1952 743.3h1M1912 907.9h1M1551 957.3h1"/><path stroke="#c87" d="M1457 150.7h1m181 0h1m74 0h1m64 0h1m53 0h1m153 0h1M1818 167.2h1M1470 183.7h1m65 0h1m113 0h1m22 0h1m86 0h1m7 0h1m212 0h1m1 0h2m9 0h1M1563 200.1h1m201 0h1M1473 216.6h1m36 0h1m23 0h1m142 0h1m9 0h1m5 0h1m17 0h1m57 0h1m23 0h2m4 0h1m17 0h2m12 0h1m24 0h1m112 0h1M1454 233h1m76 0h1m12 0h1m38 0h1m9 0h2m9 0h1m19 0h1m24 0h1m2 0h1m24 0h1m86 0h1m20 0h1m54 0h1m3 0h1m74 0h1m8 0h1m47 0h1M1474 249.5h1m5 0h1m14 0h1m30 0h1m19 0h1m36 0h1m66 0h1m45 0h1m22 0h1m21 0h1m24 0h2m2 0h1m24 0h1m8 0h1m71 0h1m83 0h1M1550 265.9h1M1450 282.4h1m46 0h1m88 0h1m4 0h1m34 0h1m25 0h1m26 0h1m13 0h2m4 0h1m27 0h1m26 0h2m68 0h1m5 0h2m81 0h1m27 0h1m17 0h1M1607 315.3h1m301 0h1M1906 331.8h1m45 0h1M1482 348.2h1m38 0h1m86 0h1m2 0h2m1 0h1m38 0h1m6 0h1m8 0h1m16 0h2m11 0h1m14 0h1m114 0h1m3 0h1m2 0h1m39 0h1M1716 381.2h1m49 0h1M1465 397.6h1m60 0h1m16 0h1m31 0h1m22 0h2m1 0h2m12 0h1m60 0h1m1 0h1m2 0h1m19 0h2m3 0h1m56 0h1m17 0h1M1468 463.5h1m23 0h1m17 0h1m6 0h1m7 0h1m19 0h1m16 0h2m5 0h1m31 0h1m10 0h2m6 0h1m30 0h1m18 0h1m7 0h1m1 0h2m16 0h1m39 0h1m38 0h1m19 0h1m15 0h2m3 0h2m10 0h1m39 0h1M1565 479.9h1m104 0h1m132 0h1m44 0h1m54 0h1m8 0h1m35 0h1m5 0h1m10 0h1M1698 496.4h1m163 0h1m2 0h1m11 0h1m78 0h2m9 0h1m8 0h2m1 0h1M1966 512.9h2m3 0h1m4 0h1M1535 562.2h1m48 0h1m103 0h1m31 0h1m57 0h1m1 0h1m103 0h1m11 0h1M1516 578.7h1m125 0h1m38 0h1m73 0h1m4 0h1m45 0h1m81 0h1m18 0h1m52 0h2m26 0h1M1724 628.1h1m81 0h1m143 0h1M1607 644.5h1m244 0h2m47 0h1M1495 661h1m94 0h1m71 0h1m29 0h2m16 0h1m3 0h1m23 0h1m44 0h1m2 0h1m6 0h1m7 0h1m4 0h3m7 0h1m11 0h1m3 0h2m17 0h1m11 0h1m35 0h1m31 0h2m58 0h1M1918 693.9h1m22 0h1M1768 743.3h1m71 0h1M1851 792.7h1m122 0h1"/><path stroke="#b94" d="M1458 150.7h1m62 0h1m103 0h1M1456 167.2h1m15 0h1m8 0h1m82 0h1m13 0h1m20 0h1M1449 183.7h1m50 0h1m15 0h1m11 0h1m107 0h1M1489 200.1h1m61 0h1m84 0h1M1455 216.6h1m74 0h1m60 0h1M1466 249.5h1M1596 265.9h1M1461 282.4h1m9 0h1M1560 298.9h1M1775 315.3h1M1604 348.2h1m37 0h1M1934 512.9h1M1869 545.8h1m26 0h1m1 0h1M1978 578.7h1M1850 595.2h1m13 0h1M1850 611.6h1M1961 644.5h1M1909 776.2h1M1937 907.9h1m23 0h1"/><path stroke="#ed2" d="M1459 150.7h1m16 0h1m4 0h1m14 0h2m2 0h1m1 0h1m7 0h2m1 0h1m1 0h2m12 0h4m5 0h1m6 0h1m13 0h1m2 0h1m1 0h2m5 0h1m17 0h1m2 0h2m7 0h1m6 0h2m11 0h1m4 0h1m3 0h2m3 0h1m4 0h1m11 0h1m72 0h1m69 0h1M1471 167.2h1m20 0h2m11 0h1m1 0h1m20 0h1m11 0h1m27 0h1m8 0h1m6 0h1m15 0h1m9 0h1m2 0h1m25 0h1m6 0h1m11 0h1M1468 183.7h1m30 0h1m3 0h1m9 0h1m20 0h1m18 0h1m13 0h1m75 0h1m102 0h1m205 0h2m2 0h1m2 0h2m11 0h1m1 0h1m5 0h1M1451 200.1h1m9 0h1m5 0h1m1 0h1m9 0h1m42 0h1m1 0h1m21 0h1m14 0h1m11 0h1m14 0h1m5 0h1m22 0h2m11 0h2m9 0h1m6 0h1M1450 216.6h1m23 0h2m2 0h1m4 0h1m8 0h1m12 0h1m6 0h1m2 0h1m6 0h1m156 0h1m11 0h1m2 0h1m15 0h1m12 0h1m2 0h1m5 0h1m11 0h2m19 0h2m44 0h2m8 0h1m7 0h1m2 0h1M1563 233h1m6 0h1m16 0h1m7 0h2m3 0h1m2 0h1m8 0h1m3 0h2m3 0h1m17 0h1M1449 249.5h1m9 0h1m22 0h1m3 0h1m2 0h1m8 0h1m22 0h2m28 0h1m2 0h2m3 0h1m4 0h1m5 0h1m20 0h1m4 0h1m5 0h1m4 0h2m11 0h1m1 0h1m1 0h1m13 0h1m1 0h2m1 0h1m4 0h2m7 0h1M1508 265.9h1m27 0h1m5 0h1m10 0h1m7 0h1m18 0h2m13 0h1m6 0h1m2 0h1m19 0h1m9 0h2m12 0h1m9 0h1M1454 282.4h2m7 0h2m5 0h1m12 0h1m1 0h1m6 0h1m22 0h2m1 0h1m2 0h1m5 0h1m2 0h1m9 0h2m16 0h1m8 0h2m2 0h1m1 0h1m2 0h1m7 0h2m33 0h1m8 0h2m1 0h4m5 0h1m12 0h2m5 0h1m28 0h1m2 0h1m10 0h1m7 0h1m14 0h1m14 0h1m32 0h1m17 0h1m28 0h1m114 0h1M1448 298.9h1m2 0h1m13 0h1m5 0h1m5 0h1m10 0h2m14 0h1m9 0h1m3 0h1m11 0h2m3 0h1m1 0h1m4 0h1m11 0h1m4 0h1m10 0h1m20 0h1m42 0h1m28 0h1M1837 315.3h1m16 0h1m23 0h1m27 0h1m8 0h1m11 0h1M1584 331.8h1m165 0h1m6 0h1m12 0h1m2 0h1m4 0h2m35 0h2m2 0h1M1447 348.2h1m2 0h1m1 0h1m4 0h1m1 0h1m7 0h1m13 0h1m3 0h1m1 0h1m15 0h1m5 0h1m3 0h1m12 0h2m1 0h1m19 0h1m4 0h1m25 0h2m10 0h1m2 0h2m52 0h1m15 0h1m1 0h2m14 0h1m11 0h1m15 0h1M1568 364.7h1m7 0h1m85 0h1m23 0h1m8 0h2m19 0h1m8 0h1m17 0h1m6 0h2m11 0h1m1 0h2m2 0h1m1 0h1m15 0h1m4 0h1m3 0h1m3 0h1m4 0h2m1 0h1m3 0h1m3 0h1m26 0h1m150 0h1M1582 381.2h1m97 0h1m12 0h1m11 0h1m7 0h1m53 0h1m30 0h1m12 0h2m2 0h1m1 0h1m82 0h1m1 0h3m46 0h1m10 0h2M1461 397.6h1m5 0h1m22 0h1m7 0h1m170 0h2m9 0h1m11 0h1M1483 414.1h1m27 0h1m10 0h1m62 0h1m88 0h1m8 0h2m1 0h1m1 0h1m6 0h2m1 0h1m4 0h1m2 0h1m6 0h1m2 0h2m12 0h1m11 0h3m3 0h1m22 0h1m17 0h1m24 0h2M1470 430.6h1m37 0h1m3 0h1m64 0h1m10 0h1m75 0h1m20 0h2m4 0h1m6 0h1m3 0h1m26 0h2m3 0h1m3 0h1m1 0h1m3 0h2m14 0h1m2 0h1m6 0h1m1 0h5m6 0h1m13 0h1m4 0h1m7 0h1m3 0h1m9 0h1M1728 447h1m8 0h1m4 0h1m10 0h1m7 0h3m9 0h1m4 0h1m1 0h1m6 0h1m4 0h1m1 0h1m148 0h1M1530 463.5h1m27 0h1m5 0h2m27 0h1m8 0h1m15 0h1m2 0h1m12 0h1m5 0h3m6 0h1m2 0h2M1967 479.9h1M1973 496.4h1M1720 512.9h1m28 0h1m20 0h1m14 0h1m194 0h1M1721 562.2h1m4 0h1m4 0h1m5 0h1m3 0h1m75 0h1M1724 578.7h1m56 0h1M1965 611.6h1m12 0h1m1 0h1m4 0h1M1742 628.1h1m210 0h1m2 0h1m23 0h1m2 0h1M1835 644.5h1m1 0h1m1 0h2m8 0h2m15 0h1m6 0h1m33 0h1m4 0h1M1736 661h1m19 0h1m6 0h1m2 0h1m11 0h1m32 0h1M1866 677.5h1m7 0h1m1 0h1m19 0h1m11 0h1m18 0h1m4 0h2m5 0h1M1879 710.4h1M1846 743.3h1m30 0h1m6 0h2m12 0h1m11 0h1m8 0h1m21 0h1M1837 792.7h1m7 0h2m126 0h1m6 0h2m10 0h2M1747 907.9h1m32 0h1m73 0h1m27 0h1m8 0h1m2 0h1m2 0h2m24 0h2M1846 924.4h1m10 0h1m41 0h1m3 0h1m81 0h1M1747 940.8h1m209 0h1M1570 957.3h1m2 0h1m44 0h1m53 0h1m36 0h1m49 0h1m6 0h1m73 0h1m17 0h2m11 0h1"/><path stroke="#a84" d="M1460 150.7h1m116 0h1m18 0h1m9 0h1m27 0h1m6 0h1M1448 167.2h1m39 0h1m58 0h1m11 0h1M1531 183.7h1M1501 200.1h1m4 0h1m5 0h1m39 0h1M1645 216.6h1M1482 233h1M1462 249.5h1m15 0h1M1552 265.9h1M1711 298.9h1M1785 315.3h1M1714 331.8h1M1575 364.7h1m131 0h1m213 0h1M1698 381.2h1M1514 414.1h1m6 0h1m163 0h1m118 0h1m14 0h1M1525 430.6h1m30 0h1m222 0h1m20 0h1m2 0h1M1755 447h1M1904 545.8h1M1874 611.6h1m32 0h1M1893 677.5h1M1843 759.8h1m10 0h1M1797 907.9h1m27 0h1M1870 924.4h1M1811 957.3h1m97 0h1"/><path stroke="#a93" d="M1461 150.7h1m15 0h2m26 0h1m2 0h1m40 0h1M1483 167.2h1m25 0h1m47 0h1m14 0h1m9 0h2m21 0h1m11 0h1m5 0h1m11 0h1m16 0h1M1489 183.7h1m20 0h2m105 0h1M1450 200.1h1m30 0h2m101 0h1m12 0h1m14 0h1M1458 216.6h1m160 0h1M1653 249.5h1M1487 282.4h1M1485 298.9h1m67 0h1m15 0h1M1722 315.3h2m86 0h1M1591 348.2h1M1573 364.7h1m309 0h1m75 0h1M1526 414.1h1M1596 430.6h1m73 0h1m55 0h1M1976 447h1M1856 479.9h1m13 0h1m25 0h1m1 0h1m1 0h1m1 0h1M1868 496.4h1m42 0h1M1913 512.9h1m19 0h1M1932 529.3h1M1888 545.8h1m62 0h1M1746 562.2h1m104 0h1m1 0h1m19 0h1m72 0h1M1857 578.7h1m69 0h1M1854 595.2h1m74 0h1m55 0h1M1842 611.6h1m75 0h2M1860 628.1h1m2 0h1M1761 743.3h1M1913 776.2h1m16 0h2M1943 907.9h1M1862 924.4h1M1855 940.8h1M1666 957.3h1m226 0h1"/><path stroke="#c77" d="M1462 150.7h1m17 0h1m75 0h1m6 0h1m92 0h1m11 0h1m3 0h1m12 0h2m2 0h2m17 0h1m26 0h1m4 0h1m5 0h2m29 0h2m6 0h1m14 0h1m1 0h1m8 0h1m15 0h1m14 0h1m12 0h1m47 0h1M1743 167.2h1M1605 183.7h1m61 0h1m18 0h1m7 0h1m244 0h1m6 0h1m41 0h1M1513 216.6h1m4 0h1m20 0h1m12 0h1m112 0h1m2 0h1m14 0h1m2 0h1m41 0h2m12 0h1m10 0h1m24 0h1m3 0h2m32 0h1m22 0h1m27 0h1M1471 233h1m66 0h1m62 0h1m104 0h1m27 0h1m28 0h1m99 0h1m77 0h1M1481 249.5h1m9 0h1m13 0h1m8 0h1m9 0h1m7 0h1m3 0h1m16 0h1m144 0h1m26 0h1m19 0h1m27 0h1m19 0h1m2 0h1m14 0h1m52 0h1m78 0h1m45 0h1M1460 265.9h1m50 0h1m31 0h1m3 0h1m12 0h1m33 0h1m183 0h1m43 0h1M1460 282.4h1m70 0h1m17 0h1m14 0h1m25 0h1m16 0h1m6 0h1m49 0h1m7 0h1m18 0h1m16 0h1m14 0h2m18 0h1m8 0h1m7 0h1m14 0h1m2 0h1m34 0h1m4 0h1m51 0h1m75 0h1m1 0h1m32 0h1m6 0h2M1815 298.9h1M1697 315.3h1m182 0h1m80 0h1m32 0h2M1944 331.8h1M1508 348.2h1m11 0h1m97 0h1m82 0h1m14 0h1m278 0h1M1454 397.6h2m18 0h1m47 0h1m144 0h1m18 0h1m271 0h1m35 0h1M1506 463.5h1m67 0h2m6 0h1m24 0h1m52 0h1m166 0h1m119 0h1M1523 479.9h1m49 0h1m90 0h1m18 0h1m90 0h2m184 0h1M1965 496.4h1M1453 562.2h2m5 0h1m4 0h1m50 0h2m78 0h1m53 0h1m6 0h1m23 0h1m58 0h1m212 0h1M1738 578.7h1m31 0h1m74 0h1m5 0h1M1705 644.5h1m43 0h1m56 0h1m24 0h1M1665 661h2m1 0h1m10 0h1m52 0h1m9 0h1m4 0h1m54 0h1m14 0h1m3 0h1m1 0h2"/><path stroke="#b93" d="M1465 150.7h1m109 0h1m19 0h1m32 0h1M1511 167.2h1m77 0h1M1466 183.7h1m12 0h1m8 0h1m4 0h1m15 0h1m52 0h1m69 0h1M1592 200.1h1m26 0h1M1488 216.6h1m10 0h1M1635 233h1M1600 249.5h1M1550 282.4h1M1452 298.9h1m8 0h1m55 0h1M1654 348.2h1M1945 364.7h1M1696 430.6h1m51 0h2M1933 479.9h1M1889 496.4h1M1935 512.9h1M1905 529.3h1m27 0h1M1870 545.8h1m86 0h1m10 0h1M1908 578.7h1M1905 595.2h1M1879 611.6h1m42 0h1M1918 628.1h1M1983 677.5h1M1887 776.2h2m7 0h2M1676 907.9h1m7 0h1m35 0h1m54 0h1m107 0h1m33 0h1m7 0h1M1939 924.4h1M1789 940.8h1M1745 957.3h1m106 0h1"/><path stroke="#c96" d="M1466 150.7h1m12 0h1m4 0h1m18 0h1m24 0h1m41 0h1m19 0h1m52 0h2m9 0h1m5 0h1m3 0h2m7 0h1m6 0h1m1 0h1m28 0h1m30 0h1m8 0h2m2 0h1m8 0h1m7 0h2m48 0h1M1629 183.7h1m26 0h1m27 0h1m60 0h1m69 0h1m16 0h1m60 0h1m17 0h1m42 0h1m7 0h1m8 0h1M1528 200.1h1m95 0h1m43 0h1m56 0h1m42 0h1m14 0h1M1480 216.6h1m30 0h1m34 0h1m142 0h2m8 0h1m3 0h1m1 0h1m6 0h1m4 0h2m16 0h3m8 0h1m5 0h1m4 0h1m5 0h1m3 0h1m22 0h1m29 0h1m9 0h1m65 0h1m93 0h2M1549 233h1m15 0h1m8 0h1m1 0h2m40 0h2m51 0h1m16 0h1m101 0h1m33 0h1m18 0h1m28 0h1m22 0h1M1475 249.5h1m21 0h1m4 0h1m27 0h1m6 0h2m5 0h1m88 0h1m2 0h1m10 0h1m61 0h1m52 0h1m11 0h1m17 0h1m60 0h1m134 0h1m2 0h1M1568 265.9h1m17 0h1M1543 282.4h1m43 0h1m30 0h1m3 0h1m44 0h1m22 0h1m30 0h2m63 0h1m6 0h1m31 0h1m16 0h1m7 0h1m34 0h1m40 0h1m27 0h1m6 0h1M1594 315.3h1m28 0h1m29 0h1m33 0h1m11 0h1m112 0h2m7 0h1m68 0h1m98 0h1M1876 331.8h1m58 0h1m4 0h1m25 0h1M1449 348.2h1m16 0h1m35 0h1m25 0h1m39 0h1m55 0h1m21 0h2m11 0h1m12 0h2m24 0h1m8 0h2m1 0h1m4 0h1m4 0h2m151 0h1m3 0h2m112 0h1M1688 381.2h1m68 0h1m55 0h1M1463 397.6h1m30 0h1m12 0h1m6 0h1m1 0h1m8 0h1m4 0h1m62 0h2m12 0h1m9 0h1m9 0h1m4 0h2m3 0h1m28 0h1m38 0h1m65 0h1m25 0h1m5 0h1m26 0h1m1 0h2m103 0h1M1459 463.5h2m17 0h2m15 0h1m15 0h2m53 0h1m21 0h1m16 0h2m12 0h1m25 0h3m10 0h1m12 0h2m22 0h2m12 0h2m34 0h1m29 0h1m41 0h1M1449 479.9h1m142 0h1m97 0h1m22 0h1m166 0h1m65 0h1M1714 496.4h1m135 0h1m111 0h1M1752 512.9h1m216 0h1m13 0h1M1486 562.2h1m108 0h1m82 0h1m25 0h1m22 0h1m116 0h1m118 0h1M1448 578.7h1m132 0h1m9 0h1m77 0h1m26 0h1m127 0h1m55 0h1m33 0h1M1539 628.1h1m151 0h1m73 0h1m16 0h1m2 0h1m115 0h1M1473 644.5h1m7 0h1m37 0h1m46 0h1m279 0h1m20 0h1m25 0h1m33 0h1m59 0h1M1527 661h1m24 0h1m42 0h1m93 0h1m9 0h1m28 0h1m40 0h1m6 0h1m11 0h1m23 0h1m17 0h1m34 0h1m40 0h1m1 0h1m20 0h2m63 0h1M1899 693.9h1M1866 710.4h1m3 0h1M1864 743.3h1m31 0h2m25 0h1M1849 792.7h1m127 0h1"/><path stroke="#b59" d="M1467 150.7h1m195 0h1m68 0h1M1681 167.2h1M1671 183.7h1m30 0h1M1696 216.6h1m101 0h1M1535 249.5h1m174 0h1m11 0h1M1670 282.4h1m127 0h1m10 0h1"/><path stroke="#b76" d="M1468 150.7h1M1535 167.2h1m82 0h1m35 0h1M1499 200.1h1m31 0h1m33 0h1m42 0h2m22 0h1m6 0h1M1477 233h1m326 0h1m124 0h1M1499 249.5h1M1453 265.9h1m15 0h1m143 0h1m6 0h2m24 0h1m116 0h1M1627 282.4h1m10 0h1M1674 298.9h1m106 0h1m21 0h1m10 0h1m90 0h1M1625 315.3h1m11 0h1M1719 364.7h1M1685 381.2h1m62 0h1m28 0h1m183 0h1M1982 529.3h2M1683 578.7h1M1665 628.1h1m14 0h1m85 0h1m107 0h1m9 0h1M1690 644.5h1m94 0h1M1931 677.5h1M1863 693.9h1M1873 710.4h1m48 0h2M1760 743.3h1m113 0h1m33 0h1M1863 776.2h1m36 0h2m10 0h1M1852 792.7h2m22 0h1m6 0h1m8 0h1m24 0h1m8 0h2M1843 907.9h1m40 0h1m19 0h1m2 0h2m5 0h1m5 0h1m43 0h1M1973 924.4h2M1751 940.8h1m99 0h1m25 0h2m39 0h1m25 0h1M1761 957.3h1m218 0h1"/><path stroke="#c86" d="M1469 150.7h1m28 0h1m168 0h1m80 0h2m11 0h1m43 0h1m35 0h1m10 0h1m86 0h1m48 0h2M1777 167.2h1M1492 183.7h1m24 0h1m107 0h1m25 0h1m48 0h1m30 0h1m162 0h1m68 0h1M1515 200.1h1m175 0h1m14 0h1m70 0h1M1456 216.6h1m6 0h1m89 0h1m113 0h1m12 0h1m7 0h1m30 0h1m68 0h1m69 0h1m80 0h1M1455 233h1m7 0h1m82 0h1m292 0h1m24 0h1m52 0h1M1456 249.5h1m54 0h1m246 0h1m12 0h1m29 0h1m134 0h1m14 0h1m32 0h1M1502 282.4h1m9 0h1m169 0h2m53 0h1m103 0h1m5 0h1m27 0h1m3 0h1m2 0h1m9 0h1m11 0h1M1668 315.3h1m177 0h1m75 0h1m42 0h1m2 0h1M1918 331.8h1M1546 348.2h2m3 0h1m15 0h1m120 0h1m28 0h1m180 0h1m78 0h1m2 0h1M1921 381.2h1M1464 397.6h1m45 0h1m34 0h2m62 0h1m81 0h1m85 0h1m16 0h1M1449 463.5h1m20 0h2m47 0h1m8 0h1m11 0h2m132 0h2m112 0h1m49 0h1m117 0h1m30 0h1m2 0h1M1448 479.9h1m14 0h1m5 0h1m190 0h1m15 0h1m84 0h1m188 0h2M1712 496.4h1m100 0h1m139 0h1m29 0h1M1742 512.9h1m231 0h1M1449 562.2h1m6 0h1m44 0h1m31 0h2m28 0h1m44 0h1m55 0h1m69 0h1m16 0h1m64 0h1M1478 578.7h1m68 0h1m44 0h1m91 0h1m43 0h1m8 0h1m67 0h1m1 0h1m137 0h1M1669 628.1h1m74 0h1m58 0h1m14 0h2m140 0h1M1567 644.5h1m27 0h1m29 0h1m43 0h1m12 0h1m6 0h1m60 0h1m66 0h1m107 0h1m6 0h1m62 0h1M1663 661h1m33 0h2m7 0h1m5 0h1m12 0h1m1 0h1m27 0h1m26 0h1m32 0h1m2 0h2m25 0h1m12 0h1m13 0h1m3 0h1m58 0h1M1846 693.9h1m11 0h1M1841 710.4h1m6 0h1m41 0h1M1750 743.3h1m19 0h1m31 0h1m30 0h1m55 0h1m1 0h1m24 0h1M1868 792.7h1m1 0h1m1 0h1"/><path stroke="#dc3" d="M1470 150.7h1m17 0h2m24 0h1m20 0h1m16 0h1m13 0h2m1 0h1m24 0h1m79 0h1m34 0h1m19 0h1M1524 167.2h1M1630 183.7h1m318 0h1M1510 200.1h1m124 0h1M1453 216.6h2m30 0h1m11 0h2m3 0h1m16 0h1m18 0h1m60 0h1m25 0h1m8 0h1m16 0h1m3 0h2m12 0h1M1523 233h1m121 0h1M1477 249.5h1m26 0h1m74 0h1m6 0h2m30 0h2m50 0h2m33 0h1m38 0h1m27 0h1M1491 265.9h1m21 0h1m35 0h1m42 0h2m17 0h1m12 0h1m25 0h2M1447 282.4h2m71 0h1m7 0h1m3 0h2m5 0h1m52 0h1m10 0h1m26 0h1m8 0h1m1 0h1m4 0h1m48 0h1m51 0h1m32 0h1m15 0h1m19 0h1M1726 331.8h1m20 0h1M1468 348.2h1m26 0h1m93 0h1m49 0h2m3 0h2m36 0h1m9 0h2m6 0h1m2 0h1m43 0h1m24 0h1m1 0h1m12 0h1m29 0h1M1727 381.2h1m9 0h1m256 0h2M1533 397.6h1m50 0h1m33 0h1m19 0h1m14 0h1m4 0h1m98 0h2m9 0h1m19 0h1m12 0h1m8 0h1m7 0h1M1456 463.5h1m80 0h1m41 0h1m35 0h1m15 0h1m7 0h1m15 0h1m84 0h1m37 0h1m21 0h1M1864 479.9h1m4 0h1m17 0h1m26 0h2m18 0h2m4 0h1M1855 496.4h1m59 0h1m14 0h1m10 0h1M1874 512.9h1m29 0h1M1897 545.8h1M1902 562.2h1m25 0h1m42 0h1m13 0h1M1791 578.7h1m77 0h1m8 0h1m6 0h2m8 0h1m19 0h2m56 0h1M1892 595.2h1m7 0h1m1 0h1M1894 611.6h1M1696 628.1h1m140 0h1m7 0h1m7 0h1m31 0h1m10 0h1M1928 644.5h2m29 0h1m16 0h1M1676 661h1m180 0h1m9 0h2m18 0h3m30 0h1M1943 677.5h1M1882 710.4h1m6 0h1m14 0h1m1 0h1M1870 743.3h1m49 0h1m42 0h1M1864 776.2h1m106 0h1m13 0h1M1840 792.7h1m59 0h1m11 0h1m20 0h2m12 0h2m15 0h1m2 0h1m15 0h2M1989 891.4h1M1707 907.9h1m134 0h1m29 0h1m42 0h1m23 0h1m15 0h2M1725 940.8h1m90 0h1m23 0h1m120 0h1M1547 957.3h1m5 0h1"/><path stroke="#993" d="M1471 150.7h1m51 0h1M1463 167.2h1m35 0h1m136 0h1M1462 183.7h1m19 0h1m129 0h1m36 0h1M1484 216.6h1m8 0h1M1582 249.5h1m31 0h1m1 0h1m15 0h1M1546 298.9h1M1764 348.2h1M1893 479.9h1M1840 578.7h1M1908 611.6h2M1936 628.1h1M1958 743.3h1M1939 776.2h1"/><path stroke="#a83" d="M1472 150.7h1m105 0h1M1648 167.2h1M1467 183.7h1m122 0h1m6 0h1M1471 200.1h1m138 0h1m43 0h1M1609 298.9h1M1902 512.9h1M1844 545.8h1m4 0h1M1969 595.2h1M1737 907.9h1m54 0h1m18 0h1M1904 957.3h1"/><path stroke="#882" d="M1473 150.7h1m27 0h1m44 0h1m3 0h1m3 0h1m5 0h1m68 0h1M1973 183.7h1m11 0h1M1547 200.1h1m5 0h1m74 0h1m31 0h1M1451 216.6h1m64 0h1m31 0h1m43 0h1m59 0h1M1581 233h1m56 0h1m3 0h1M1561 249.5h1m15 0h1m26 0h1m8 0h1m31 0h1M1576 298.9h1m9 0h2m5 0h1m1 0h1m4 0h1m7 0h1m15 0h2m9 0h1m3 0h4m2 0h1m7 0h1m2 0h1m1 0h1m3 0h1M1667 315.3h1m26 0h1m5 0h1m6 0h1m3 0h2m42 0h1m20 0h1m12 0h1m15 0h2m4 0h1m4 0h1m3 0h1m2 0h2M1631 331.8h1m33 0h1m4 0h2m4 0h1m6 0h1m20 0h1m2 0h1m11 0h1m10 0h1m5 0h1m5 0h3M1623 348.2h1m4 0h1m14 0h1m7 0h1m3 0h1m83 0h1m10 0h1m60 0h1m3 0h1M1580 364.7h2m88 0h1m13 0h1m12 0h5m10 0h1m9 0h1m125 0h1m7 0h1m44 0h1m10 0h1m9 0h1m6 0h1m1 0h1m23 0h1m27 0h1M1603 381.2h1m41 0h1m5 0h1m10 0h1m6 0h1m20 0h1m27 0h1m4 0h1m34 0h2m4 0h2m3 0h1m1 0h2m9 0h2m8 0h1m147 0h1M1451 414.1h1m5 0h1m5 0h1m23 0h1m4 0h1m7 0h2m6 0h1m4 0h1m21 0h1m1 0h2m8 0h1m3 0h1m3 0h1m4 0h1m5 0h2m4 0h2m81 0h1m71 0h1m4 0h1m6 0h1m14 0h1m22 0h2m3 0h1m8 0h1m18 0h3m4 0h1m6 0h1M1457 430.6h1m23 0h1m50 0h2m13 0h1m108 0h1M1975 447h1M1843 479.9h1m8 0h1m83 0h1M1845 496.4h1m6 0h1m16 0h1m37 0h1m24 0h1m7 0h1M1695 512.9h1m59 0h1m107 0h2m2 0h1m15 0h1m17 0h1m17 0h1M1851 529.3h1m1 0h1m1 0h1m3 0h1m3 0h2m3 0h1m4 0h1m7 0h2m1 0h1m12 0h2m1 0h1m30 0h1m24 0h1m7 0h2m11 0h1M1839 545.8h1m14 0h1m3 0h1m4 0h1m37 0h1m29 0h1m1 0h1m3 0h1m1 0h1m21 0h2m1 0h1m10 0h2m8 0h1M1846 562.2h2m2 0h1m8 0h1m6 0h2m2 0h1m4 0h2m2 0h2m27 0h2M1889 578.7h1m19 0h1m16 0h1m48 0h1m5 0h1M1849 595.2h1m26 0h2m7 0h1m7 0h1m17 0h2m10 0h1m1 0h1m5 0h1m11 0h1m2 0h1m14 0h1M1836 611.6h1m1 0h2m22 0h1m6 0h2m4 0h1m27 0h1m24 0h1m4 0h1m1 0h1m2 0h2m24 0h1M1847 628.1h1m11 0h1m28 0h1m10 0h1M1956 644.5h1m8 0h1M1663 677.5h1m4 0h2m17 0h1m10 0h1m14 0h1m7 0h1m6 0h2m1 0h2m9 0h1m9 0h2m7 0h1m1 0h2m36 0h1m6 0h1m29 0h1m19 0h1m85 0h1m19 0h1m20 0h1M1707 693.9h1m21 0h1m6 0h1m6 0h1m14 0h1m70 0h1m13 0h1m50 0h1m16 0h1m4 0h1m12 0h2M1668 710.4h1m8 0h1m20 0h1m10 0h1m69 0h1M1852 726.8h1m2 0h1m33 0h1m61 0h2m9 0h1m3 0h1m5 0h3m2 0h3M1667 743.3h1m2 0h1m44 0h1m13 0h1m10 0h1m1 0h1m1 0h1m8 0h1m25 0h2m27 0h1M1698 759.8h1m42 0h1m22 0h1m27 0h1m46 0h1m30 0h1m10 0h1m13 0h1m6 0h6m4 0h2m20 0h1M1853 776.2h1m3 0h2m47 0h1m15 0h1m17 0h1M1695 907.9h1m32 0h1m136 0h3m2 0h1m35 0h1m9 0h1m4 0h1m27 0h1m2 0h1m18 0h2M1477 924.4h1m56 0h1m48 0h1m54 0h1m7 0h1m22 0h1m33 0h1m59 0h1m2 0h2m4 0h2M1447 957.3h2m2 0h1m3 0h1m20 0h1m16 0h1m23 0h1m2 0h1m2 0h2m11 0h1m17 0h1m2 0h2m8 0h1m13 0h1m11 0h1m13 0h2m12 0h2m16 0h1m7 0h1m4 0h2m3 0h1m27 0h1m21 0h1m17 0h1m11 0h1m2 0h1m12 0h1m20 0h2m10 0h2m12 0h1m5 0h1m15 0h1m15 0h1m3 0h1m8 0h1m5 0h1m19 0h2m2 0h1m9 0h1m16 0h1m31 0h1m4 0h1m2 0h1m5 0h1m7 0h1"/><path stroke="#ec3" d="M1482 150.7h1m42 0h1m50 0h1m8 0h1m5 0h1m31 0h2m28 0h1m17 0h1m73 0h1m21 0h1M1501 183.7h1m118 0h1M1527 200.1h1m101 0h1M1448 216.6h1m12 0h1m7 0h1m31 0h1m35 0h1m16 0h1m32 0h1m8 0h2m12 0h2m18 0h1m10 0h1m5 0h2m91 0h1m38 0h1m4 0h1M1606 233h1m22 0h1m4 0h1m13 0h1M1503 249.5h1m69 0h1m41 0h1m12 0h1m15 0h1m174 0h1m9 0h1M1584 265.9h2M1508 282.4h1m302 0h1M1582 315.3h1m3 0h2m41 0h1m63 0h1m89 0h1m43 0h1m31 0h1M1478 348.2h3m17 0h1m2 0h1m12 0h1m8 0h2m9 0h1m5 0h1m47 0h1m18 0h1m81 0h1m95 0h1m9 0h1M1985 381.2h1M1554 397.6h1m84 0h1m64 0h1m5 0h1m23 0h1m20 0h1m58 0h1m4 0h1M1638 463.5h1m160 0h1m22 0h1M1863 479.9h1m15 0h1m17 0h1m54 0h1M1880 496.4h1m23 0h1m20 0h1M1841 512.9h1m50 0h1m38 0h1M1874 529.3h1M1923 545.8h1M1868 562.2h1m42 0h1m27 0h1m34 0h2M1758 578.7h1m99 0h1m71 0h1M1865 595.2h1m6 0h1m40 0h1m18 0h1M1840 611.6h1m4 0h1m13 0h1m74 0h1M1687 628.1h1M1845 644.5h1m92 0h1m38 0h1m1 0h1M1683 661h1m1 0h1m23 0h1m36 0h1m43 0h1m118 0h1m7 0h2m21 0h1m4 0h1m2 0h1m21 0h1m8 0h1M1958 677.5h1M1927 710.4h1M1891 776.2h1M1893 792.7h2m77 0h1M1890 940.8h1m26 0h1m3 0h1m44 0h1"/><path stroke="#cb2" d="M1485 150.7h1m141 0h1M1489 167.2h1M1569 216.6h1m51 0h1M1468 298.9h1M1758 315.3h2M1679 331.8h1m142 0h1M1786 348.2h1M1752 364.7h2m3 0h1m3 0h2M1450 414.1h1m218 0h1M1704 430.6h1m59 0h1m36 0h1M1807 447h1M1888 479.9h1M1849 496.4h1m3 0h1m24 0h1m26 0h1M1838 512.9h1m39 0h2m28 0h2m14 0h1M1861 529.3h1m72 0h1m25 0h2M1875 545.8h1m79 0h1M1936 562.2h1M1900 578.7h1M1844 595.2h1m21 0h1m43 0h1m16 0h1M1867 611.6h1m46 0h1M1912 677.5h1m61 0h1m6 0h2M1859 693.9h1m75 0h1m48 0h1M1975 726.8h1M1909 759.8h2m33 0h1m20 0h1m6 0h1M1860 776.2h1M1665 907.9h1M1900 924.4h1"/><path stroke="#c97" d="M1512 150.7h1M1817 282.4h1M1497 348.2h1M1807 381.2h1M1792 463.5h1M1965 578.7h1M1701 661h1"/><path stroke="#c95" d="M1517 150.7h1m102 0h1M1671 167.2h1m64 0h1m45 0h1M1748 183.7h1M1560 200.1h1m6 0h1m213 0h1M1452 216.6h1m70 0h1m3 0h1m142 0h1m21 0h1M1469 233h1m84 0h1m221 0h1M1520 249.5h1m20 0h1m153 0h1m68 0h1M1609 265.9h1M1458 282.4h1m37 0h1m102 0h1m4 0h1m44 0h1m19 0h1m3 0h1m55 0h1M1646 315.3h1m234 0h1m43 0h1M1673 331.8h1m74 0h1M1696 348.2h1M1898 364.7h1m45 0h1M1719 381.2h1M1696 397.6h1M1811 479.9h1M1711 512.9h1m80 0h1m166 0h1M1943 545.8h2M1532 562.2h1M1799 578.7h1M1954 611.6h1m18 0h1M1757 628.1h1m199 0h1M1839 677.5h1m38 0h1M1838 693.9h1m27 0h1M1934 710.4h1M1867 743.3h3m56 0h2M1867 759.8h2m39 0h1m6 0h1m10 0h1M1903 776.2h1M1835 792.7h1m53 0h1M1692 907.9h1m240 0h2M1898 924.4h1m59 0h2M1681 940.8h1m33 0h1m13 0h1m144 0h1M1624 957.3h1m56 0h1"/><path stroke="#b84" d="M1524 150.7h1m75 0h1M1517 167.2h1m47 0h1M1459 183.7h1m13 0h1m104 0h1m45 0h1m17 0h1M1447 200.1h1m42 0h1m92 0h1M1464 249.5h1m31 0h1m52 0h1M1473 282.4h1m10 0h1m104 0h1m11 0h1m14 0h1"/><path stroke="#a74" d="M1526 150.7h1m34 0h1M1483 200.1h1m51 0h1M1491 216.6h1M1494 249.5h1m44 0h1"/><path stroke="#b5a" d="M1527 150.7h1m462 0h1M1667 167.2h1m33 0h1m42 0h1m69 0h1m1 0h1m15 0h1M1474 183.7h1m3 0h1m125 0h1m26 0h1m312 0h1M1590 200.1h1m72 0h1m7 0h2m15 0h2m32 0h1m31 0h2m6 0h1m25 0h1m5 0h1m14 0h1m10 0h2m16 0h1m83 0h1m22 0h1m5 0h1m6 0h1M1464 216.6h1m208 0h2m20 0h1m11 0h1m12 0h3m2 0h1m23 0h1m5 0h2m4 0h1m15 0h1m26 0h2m1 0h2m178 0h1m6 0h1M1465 233h1m59 0h1m11 0h1m20 0h1m12 0h1m48 0h1m15 0h1m6 0h1M1473 249.5h1m18 0h1m7 0h1m15 0h1m8 0h1m48 0h1m17 0h1m34 0h1m23 0h1m39 0h2m4 0h1m4 0h1m11 0h2m2 0h1m4 0h1m4 0h1m3 0h1m1 0h1m1 0h1m15 0h3m25 0h2m4 0h1m27 0h2m174 0h1m4 0h1M1457 282.4h1m4 0h1m6 0h1m16 0h1m22 0h1m13 0h1m2 0h1m28 0h1m19 0h1m33 0h1m3 0h1m9 0h1m11 0h1M1838 298.9h1m6 0h1m10 0h1m9 0h1m19 0h1M1588 315.3h1m35 0h1m3 0h1m50 0h1m15 0h2m20 0h1m49 0h1m6 0h1m25 0h2m2 0h1m2 0h1m24 0h1m157 0h1m1 0h1M1462 331.8h1m6 0h1m76 0h1m1 0h2m6 0h1m17 0h1m81 0h1M1458 348.2h1m4 0h3m3 0h4m3 0h2m12 0h1m8 0h1m25 0h1m29 0h1m27 0h2m5 0h1m29 0h1m4 0h2m4 0h1m199 0h2M1960 364.7h1m20 0h1M1451 381.2h1m38 0h1m15 0h1m49 0h1m14 0h1m4 0h1m1 0h1m55 0h1m7 0h1m3 0h1m7 0h1m11 0h1m106 0h1m1 0h1m45 0h1m58 0h1m7 0h1m33 0h1m9 0h1m5 0h1M1566 397.6h1m9 0h1m11 0h1m15 0h1m21 0h1m2 0h1m5 0h2m12 0h2m1 0h1m4 0h1m7 0h1m8 0h2m3 0h1m7 0h2m1 0h1m12 0h1m4 0h2m9 0h2m4 0h1m33 0h1M1979 414.1h1M1567 463.5h2m2 0h3m10 0h1m4 0h1m9 0h1m8 0h1m5 0h1m10 0h1m1 0h2m25 0h1m74 0h1m14 0h1m2 0h2m7 0h1m3 0h2m1 0h2m2 0h1m14 0h1m2 0h1m1 0h1m8 0h1m13 0h2m9 0h1M1663 479.9h1m1 0h1m2 0h1m2 0h2m2 0h1m1 0h1m3 0h1m5 0h3m2 0h3m1 0h1m1 0h1m6 0h3m7 0h2m2 0h1m3 0h2m2 0h1m1 0h1m4 0h2m7 0h1m1 0h2m1 0h2m1 0h1m6 0h3m2 0h1m7 0h1m4 0h1m6 0h1m1 0h2m1 0h1m1 0h1m1 0h2m5 0h3m6 0h2m4 0h2m1 0h6m1 0h1m20 0h1m116 0h1M1455 496.4h1m3 0h3m3 0h1m1 0h2m1 0h1m9 0h1m5 0h1m4 0h4m6 0h1m3 0h1m5 0h2m4 0h1m3 0h2m2 0h2m4 0h3m2 0h1m4 0h1m1 0h2m1 0h1m4 0h1m1 0h1m5 0h1m4 0h1m8 0h1m2 0h2m1 0h2m3 0h2m4 0h2m8 0h4m2 0h2m2 0h1m1 0h1m2 0h2m2 0h1m2 0h1m3 0h1m3 0h3m5 0h1m1 0h2m1 0h2m2 0h1m8 0h2m5 0h1m1 0h1m4 0h1m3 0h2m11 0h2m3 0h1m9 0h1m8 0h1m3 0h1m2 0h1m6 0h1m11 0h1m3 0h1m1 0h1m5 0h1m8 0h1m3 0h1m6 0h1m4 0h1m7 0h3m16 0h1m2 0h1m6 0h2m1 0h4m6 0h2m4 0h2m19 0h1m57 0h1m11 0h1m4 0h1m2 0h1M1577 512.9h1m3 0h1m4 0h2m3 0h3m2 0h1m6 0h3m10 0h1m3 0h1m1 0h2m3 0h2m1 0h1m7 0h3m8 0h2m1 0h2m3 0h2m4 0h1m82 0h1m86 0h1m138 0h1m9 0h1m1 0h1M1471 529.3h1m43 0h1m40 0h1m13 0h1m13 0h1m14 0h1m35 0h1m61 0h1m28 0h1m46 0h1m29 0h1m5 0h1m15 0h1m6 0h1m162 0h1M1447 545.8h1m4 0h4m6 0h1m4 0h1m4 0h3m6 0h2m3 0h1m10 0h1m1 0h1m2 0h1m1 0h2m5 0h2m4 0h1m4 0h3m2 0h1m2 0h2m3 0h1m9 0h2m18 0h1m23 0h2m14 0h1m53 0h1M1683 562.2h3m4 0h1m7 0h2m13 0h1m9 0h1m5 0h1m5 0h1m11 0h1m10 0h1m6 0h1m2 0h1m4 0h1m2 0h1m8 0h2m39 0h1m4 0h2m68 0h1m47 0h2m29 0h2M1873 578.7h1m47 0h1m16 0h1m45 0h1M1649 595.2h1M1556 611.6h1m127 0h1m36 0h1m89 0h1M1448 628.1h1m56 0h1m117 0h1m21 0h1m14 0h1m1 0h2m17 0h1m4 0h1m1 0h3m2 0h1m6 0h1m10 0h2m5 0h2m18 0h4m7 0h1m4 0h1m7 0h1m1 0h1m9 0h1m12 0h2m2 0h2m14 0h1m3 0h1m10 0h1m4 0h2m1 0h1m124 0h1m5 0h1m5 0h1m16 0h1M1448 644.5h2m2 0h1m2 0h1m1 0h4m2 0h2m3 0h1m2 0h2m1 0h3m1 0h1m3 0h2m1 0h1m2 0h2m7 0h2m9 0h2m3 0h2m3 0h1m3 0h1m6 0h1m2 0h1m1 0h1m1 0h3m1 0h2m4 0h1m1 0h2m2 0h1m2 0h1m6 0h2m4 0h2m3 0h1m2 0h2m1 0h1m4 0h3m1 0h1m7 0h1m7 0h3m2 0h1m11 0h1m2 0h1m1 0h1m5 0h2m1 0h2m1 0h1m2 0h1m3 0h3m3 0h1m4 0h2m2 0h1M1844 661h1m7 0h1m2 0h1m36 0h1m1 0h2m14 0h2m2 0h1m72 0h2M1688 693.9h1m6 0h1m30 0h1m27 0h1m65 0h2m2 0h1m15 0h2m20 0h1m1 0h1m21 0h1m53 0h1m46 0h1m2 0h1m4 0h1M1451 710.4h1m4 0h1m1 0h1m2 0h2m3 0h4m1 0h2m1 0h1m4 0h1m10 0h1m4 0h1m10 0h2m5 0h1m2 0h1m1 0h2m1 0h1m2 0h1m3 0h4m1 0h2m5 0h1m9 0h2m7 0h2m2 0h2m9 0h1m4 0h3m3 0h3m14 0h1m3 0h1m8 0h1m3 0h4m2 0h2m2 0h2m2 0h1m13 0h1m5 0h3m7 0h1m5 0h1m15 0h2m10 0h1m7 0h1m56 0h1m18 0h1m46 0h1m7 0h3m1 0h1m12 0h1m10 0h1m10 0h1m4 0h1m3 0h2m101 0h1M1450 743.3h2m4 0h1m1 0h2m1 0h1m3 0h2m2 0h2m9 0h1m1 0h1m2 0h2m4 0h1m1 0h1m3 0h1m2 0h1m2 0h3m7 0h1m18 0h4m2 0h2m2 0h1m9 0h1m1 0h2m4 0h5m1 0h2m1 0h2m6 0h1m1 0h1m1 0h2m1 0h2m1 0h1m8 0h1m3 0h2m3 0h3m3 0h2m3 0h1m2 0h1m6 0h5m3 0h2m7 0h4m1 0h1m6 0h1m1 0h2m10 0h1m9 0h1m31 0h2m12 0h1m7 0h1m104 0h2m9 0h2m28 0h1m24 0h1m16 0h1M1684 759.8h1m61 0h1m6 0h1m52 0h1M1663 776.2h1m3 0h1m11 0h1m14 0h1m10 0h1m10 0h1m8 0h1m1 0h1m6 0h1m64 0h1m195 0h1M1456 792.7h1m21 0h1m7 0h1m25 0h1m2 0h1m8 0h1m5 0h1m3 0h1m7 0h1m6 0h1m5 0h2m49 0h1m1 0h1m22 0h1m1 0h1m4 0h1m42 0h1m25 0h1m7 0h1m24 0h1m17 0h1m84 0h1m25 0h1m101 0h1"/><path stroke="#cc2" d="M1533 150.7h1m5 0h1m58 0h1m3 0h1m30 0h1M1486 167.2h2m8 0h1m57 0h1m7 0h2m21 0h1M1652 183.7h1M1536 216.6h1m105 0h1M1617 249.5h1M1450 298.9h1m4 0h1m7 0h1m14 0h1m72 0h1m13 0h1m5 0h1M1698 315.3h1m53 0h1m20 0h1m52 0h1M1604 331.8h1m91 0h1m38 0h1m5 0h1m75 0h1M1621 348.2h1M1741 364.7h1m40 0h2m37 0h1m1 0h1m49 0h1m8 0h1m3 0h1m74 0h1M1725 381.2h1m243 0h1M1494 414.1h1m241 0h1m69 0h1M1655 430.6h1m17 0h2m36 0h1m10 0h1m16 0h1m65 0h1M1746 447h1m9 0h1M1899 496.4h1M1873 512.9h1M1892 529.3h1m13 0h1m19 0h1m22 0h1m12 0h1m8 0h1M1910 545.8h1m45 0h1M1860 562.2h1m51 0h1m22 0h1m31 0h1M1976 578.7h1M1874 595.2h1m32 0h2m39 0h1m14 0h1M1906 611.6h1m19 0h1M1858 628.1h1m71 0h1M1837 677.5h1m114 0h1m6 0h1M1898 693.9h1m10 0h2M1968 726.8h1M1847 759.8h1m32 0h1m13 0h1m19 0h1m7 0h2m3 0h1m9 0h1M1867 776.2h1m22 0h1m11 0h1m7 0h2m4 0h1M1693 907.9h1m251 0h2m10 0h1m22 0h1m2 0h1M1909 924.4h1m43 0h1m29 0h1M1710 957.3h1m145 0h1"/><path stroke="#da6" d="M1537 150.7h1m157 0h1m110 0h1M1645 183.7h1m330 0h2M1714 216.6h1m15 0h2m16 0h1m77 0h1M1557 233h1m2 0h1m66 0h1m23 0h1M1484 249.5h1m21 0h1m98 0h1m145 0h1m7 0h1m25 0h1M1653 265.9h1M1544 282.4h1m123 0h1m99 0h1M1756 315.3h1M1504 348.2h1m17 0h1m75 0h1m105 0h1M1694 397.6h2M1496 463.5h1m94 0h2m16 0h1m142 0h1M1892 479.9h1m78 0h1M1927 496.4h1M1744 512.9h1M1673 562.2h1m308 0h2M1896 578.7h1M1667 628.1h1M1841 644.5h1M1715 661h1m51 0h1M1895 693.9h1"/><path stroke="#b68" d="M1540 150.7h1m159 0h2m68 0h2m158 0h1M1714 167.2h1m48 0h1m44 0h1M1611 183.7h1m63 0h2m56 0h1m27 0h1m9 0h1m217 0h1M1753 200.1h1m13 0h1m4 0h1m17 0h1m34 0h1M1682 216.6h1m93 0h1m18 0h1M1461 233h2m35 0h2m75 0h1m49 0h1m40 0h1m20 0h1m33 0h2m48 0h1m29 0h1m36 0h1m68 0h1m79 0h1M1476 249.5h1m288 0h1m13 0h1m7 0h2m16 0h1m84 0h1m13 0h1m32 0h1M1455 265.9h1m36 0h1m97 0h1m96 0h1m68 0h1m66 0h1M1553 282.4h1m134 0h1m74 0h1m71 0h1m55 0h1m30 0h1m11 0h1m29 0h1m8 0h1M1931 298.9h1M1991 315.3h1M1973 331.8h1m11 0h1M1518 348.2h1m94 0h1m61 0h1m43 0h1m2 0h1m103 0h1M1722 381.2h1m203 0h1m20 0h1M1485 397.6h2m33 0h1m19 0h1m38 0h1m45 0h1m22 0h1m75 0h1m165 0h1M1462 463.5h1m10 0h2m161 0h2m25 0h1m72 0h1M1559 479.9h1m33 0h1m84 0h1m74 0h1m207 0h1M1709 496.4h1m36 0h1m12 0h1M1468 562.2h1m14 0h1m13 0h1m26 0h1m138 0h1m119 0h1m21 0h1m82 0h1M1503 578.7h1m181 0h1m53 0h1m2 0h1m2 0h1m30 0h1M1535 628.1h1m10 0h1m17 0h1m20 0h1m20 0h1m45 0h1m64 0h1m153 0h1m28 0h1m6 0h1m35 0h1m25 0h1m1 0h1m7 0h1M1545 644.5h1m279 0h1m52 0h1m8 0h1m3 0h1m32 0h1m6 0h1m9 0h1M1575 661h1m95 0h1m44 0h1m42 0h1m10 0h1M1855 693.9h1M1859 710.4h1m35 0h1M1666 743.3h1m5 0h1m58 0h1M1881 792.7h1"/><path stroke="#b77" d="M1551 150.7h1M1827 167.2h1M1580 200.1h1m197 0h1M1501 233h1m57 0h1m164 0h1m105 0h1M1490 249.5h1M1865 315.3h1m27 0h1M1978 331.8h1M1790 381.2h1m31 0h1m116 0h1M1680 479.9h1M1724 496.4h1m74 0h1M1705 562.2h1M1703 578.7h1M1481 628.1h1m40 0h1m21 0h1m156 0h1m167 0h1M1505 644.5h1m210 0h1m29 0h1M1893 693.9h1M1843 710.4h1m16 0h1m27 0h1M1836 743.3h1m23 0h2m40 0h1m12 0h1m22 0h1M1884 792.7h1"/><path stroke="#aa2" d="M1557 150.7h1M1512 167.2h1m88 0h2m13 0h1m28 0h1M1452 183.7h1m200 0h1M1543 200.1h1M1555 216.6h1m25 0h1m16 0h1m30 0h1M1560 249.5h1m8 0h1m10 0h1M1469 298.9h1m49 0h1m20 0h1m62 0h1m29 0h1m30 0h1M1724 315.3h1m103 0h1M1677 331.8h1m8 0h1m35 0h1m10 0h1m12 0h1m2 0h1m32 0h1m11 0h1m1 0h1M1802 348.2h1M1583 364.7h1m81 0h1m58 0h1m7 0h1m162 0h1m69 0h1M1703 381.2h1M1515 414.1h1m178 0h1m36 0h1m18 0h1m49 0h1M1484 430.6h1m79 0h1m98 0h1m23 0h1m7 0h1m9 0h2m28 0h2m13 0h1m34 0h1M1749 447h1M1835 479.9h1m26 0h1m96 0h1M1848 496.4h1m52 0h1m37 0h1M1724 512.9h1m39 0h1m133 0h2m39 0h1M1865 529.3h1m4 0h1m7 0h1m64 0h1m34 0h1M1866 545.8h1m14 0h1m11 0h3m4 0h1m10 0h4m15 0h1m32 0h1M1938 562.2h1M1837 578.7h1m41 0h1m13 0h1M1882 595.2h1m7 0h1m23 0h2m2 0h3m13 0h1m9 0h1m28 0h1m3 0h1m1 0h1M1851 611.6h1m25 0h2m2 0h1m14 0h2m18 0h2m6 0h2m26 0h1m14 0h1M1839 628.1h1m3 0h1m11 0h1m39 0h1M1949 644.5h1M1979 677.5h1M1959 693.9h1M1980 726.8h2M1869 759.8h1m17 0h1m4 0h1m23 0h1m57 0h1M1849 776.2h2m29 0h2m46 0h1M1698 907.9h1m202 0h1m34 0h1M1890 924.4h2m45 0h1M1734 957.3h1"/><path stroke="#dc4" d="M1558 150.7h1m15 0h1m6 0h1m32 0h1m4 0h1m90 0h1m19 0h1m81 0h1m10 0h1M1615 167.2h1M1538 183.7h1m224 0h1m187 0h1m27 0h1M1463 200.1h1m30 0h1M1514 216.6h1m73 0h1m18 0h1m24 0h2m32 0h1m87 0h1m25 0h2m19 0h1m4 0h1M1598 233h1m8 0h2m1 0h1M1518 249.5h2m38 0h1m52 0h1m22 0h2m1 0h1m35 0h1m16 0h1m44 0h1m12 0h2m66 0h1m13 0h2M1579 265.9h1m9 0h1m62 0h1M1451 282.4h1m41 0h2m6 0h1m9 0h1m99 0h1m24 0h1m60 0h1m18 0h1m109 0h1m51 0h1M1840 315.3h1m4 0h1m23 0h1m9 0h1M1456 348.2h1m4 0h1m80 0h1m74 0h1m30 0h1m14 0h1m48 0h1m14 0h1m10 0h1m2 0h1m21 0h1M1791 381.2h1M1501 397.6h1m60 0h1m14 0h1m2 0h1m59 0h2m4 0h1m91 0h1m67 0h1M1447 463.5h1m137 0h2m11 0h1m17 0h1m15 0h2m14 0h1m1 0h1m71 0h1m12 0h1m26 0h1m8 0h1m48 0h1M1908 479.9h1M1835 512.9h1M1852 529.3h1m51 0h1M1763 562.2h1m50 0h1m8 0h1m113 0h1m27 0h1M1836 578.7h1m11 0h3m40 0h1m39 0h1m9 0h1M1940 595.2h1M1695 628.1h1m116 0h1m38 0h1m63 0h2m31 0h1M1682 661h1m54 0h1m122 0h1m36 0h2m42 0h1M1858 710.4h1m73 0h1m50 0h1M1844 743.3h2M1845 776.2h1m77 0h1m21 0h2M1865 792.7h1m96 0h1m16 0h1M1989 858.5h1M1990 891.4h1M1910 907.9h1M1927 940.8h1m34 0h1"/><path stroke="#d96" d="M1586 150.7h1m88 0h1m104 0h1M1568 183.7h1M1675 216.6h2m85 0h1M1680 249.5h1M1478 282.4h1m266 0h1m168 0h1M1766 315.3h1m103 0h1M1553 348.2h1M1721 397.6h1m57 0h1M1662 463.5h1M1878 479.9h1M1677 562.2h1m274 0h1M1830 578.7h1m74 0h1M1876 628.1h1m37 0h1m7 0h1m18 0h1M1882 644.5h2M1702 661h1m71 0h1"/><path stroke="#da5" d="M1597 150.7h1m50 0h1m85 0h1M1693 183.7h1m47 0h1m20 0h1m184 0h1m27 0h1M1480 200.1h1M1525 216.6h2m157 0h2m38 0h1m2 0h1m47 0h1m15 0h1m30 0h1M1485 233h1m31 0h1m62 0h1m52 0h1m188 0h1M1461 249.5h1m220 0h1m100 0h1m23 0h1M1534 265.9h1M1579 282.4h1m3 0h1m141 0h1m46 0h1m11 0h1M1729 298.9h1M1597 315.3h1m73 0h1m89 0h1m96 0h1m53 0h1M1674 331.8h1m37 0h1M1451 348.2h1m1 0h1m37 0h1m107 0h1M1969 364.7h1M1667 381.2h1M1567 397.6h2m50 0h2m47 0h1m4 0h1m49 0h1M1448 463.5h1m173 0h2m113 0h1m8 0h1m10 0h1m36 0h1M1859 479.9h1m63 0h1M1830 512.9h1m154 0h1M1668 562.2h1m37 0h1m113 0h1m60 0h1m96 0h1M1679 578.7h1m9 0h1m132 0h1m136 0h1m11 0h2m1 0h1M1705 628.1h1m232 0h1M1877 644.5h1m3 0h1m40 0h1M1694 661h1m140 0h2m36 0h2M1856 693.9h1m44 0h1m32 0h1M1914 743.3h1m20 0h1M1839 792.7h1m26 0h1"/><path stroke="#cb3" d="M1607 150.7h1M1539 167.2h1m46 0h1m3 0h1m18 0h1M1472 216.6h1M1512 233h1M1512 249.5h1M1567 265.9h1M1476 282.4h1m306 0h1M1497 298.9h1m57 0h1m40 0h1M1821 331.8h1M1570 364.7h1m100 0h1M1595 414.1h1m125 0h1M1583 430.6h1m183 0h1M1804 447h1M1679 512.9h1m35 0h1m55 0h1m40 0h1M1893 529.3h2m30 0h1M1919 562.2h1M1905 611.6h1M1664 726.8h1M1740 907.9h1m19 0h1m43 0h1M1706 940.8h1m21 0h1m42 0h1M1927 957.3h1"/><path stroke="#c94" d="M1610 150.7h1m48 0h1M1465 183.7h1m57 0h1m32 0h1m71 0h1m31 0h1M1564 200.1h1M1482 216.6h1m152 0h1M1594 282.4h1"/><path stroke="#d95" d="M1612 150.7h1m9 0h1"/><path stroke="#c78" d="M1615 150.7h1m46 0h1m3 0h1m10 0h1m5 0h1m15 0h1m16 0h2m21 0h1m19 0h1m2 0h1m25 0h1m3 0h1m35 0h1m1 0h1m45 0h1m14 0h1m101 0h1M1675 167.2h1M1453 183.7h2m41 0h1m180 0h1m1 0h1m15 0h1m95 0h1m5 0h2m26 0h1m119 0h1m32 0h1m3 0h1M1472 200.1h1M1449 216.6h1m54 0h1m166 0h1m9 0h1m51 0h2m33 0h1m5 0h1m10 0h1m69 0h1m39 0h1m62 0h1m36 0h1M1486 233h1m65 0h1m11 0h1m4 0h1m45 0h1m16 0h1m43 0h1m14 0h1m106 0h1m128 0h1m35 0h1m1 0h1M1453 249.5h1m14 0h1m76 0h1m38 0h1m24 0h1m52 0h1m45 0h1m2 0h1m8 0h2m53 0h2m17 0h1M1495 282.4h1m40 0h2m9 0h1m17 0h1m89 0h1m20 0h1m1 0h1m56 0h2m13 0h1m15 0h1m20 0h1m2 0h2m35 0h1m129 0h1m26 0h1M1684 315.3h1m101 0h2m54 0h1m58 0h1M1474 348.2h2m18 0h1m36 0h3m4 0h2m3 0h3m14 0h1m21 0h1m3 0h2m45 0h1m1 0h2m13 0h1m15 0h1m3 0h2m9 0h1m8 0h2m21 0h1m165 0h1m112 0h2M1941 381.2h1M1460 397.6h1m9 0h1m16 0h1m27 0h1m11 0h2m26 0h1m8 0h1m17 0h1m7 0h1m14 0h2m70 0h1m6 0h1m22 0h1m19 0h1m14 0h1m42 0h1m23 0h1m2 0h1m16 0h1m86 0h1M1503 463.5h1m10 0h1m16 0h1m14 0h1m4 0h1m2 0h1m15 0h1m24 0h1m68 0h1m20 0h1m1 0h1m39 0h2m1 0h1m8 0h1m26 0h1m9 0h1m75 0h1m20 0h1m59 0h1m60 0h1M1830 479.9h1m75 0h1m48 0h1M1753 496.4h1m109 0h1M1507 562.2h1m6 0h1m24 0h1m83 0h1m18 0h1m57 0h1m17 0h1m56 0h1m13 0h1m87 0h1m54 0h1m24 0h1m8 0h1M1559 578.7h1m133 0h1m10 0h1m17 0h1m78 0h2m28 0h1m6 0h1m32 0h1m4 0h1m13 0h1m75 0h1m10 0h1M1664 628.1h1m55 0h1m31 0h1m46 0h1m8 0h1m142 0h1m18 0h1m3 0h1m6 0h2M1487 644.5h1m331 0h1m43 0h1m129 0h2M1471 661h1m61 0h1m4 0h1m147 0h1m52 0h1m11 0h1m29 0h1m40 0h1m8 0h1m53 0h2m20 0h1m19 0h1m62 0h1M1737 743.3h1m99 0h1m4 0h1m13 0h1m43 0h1m29 0h1M1844 792.7h1m125 0h1"/><path stroke="#973" d="M1616 150.7h1M1473 167.2h1m2 0h1m23 0h1m18 0h1m28 0h1M1486 183.7h1m28 0h1m10 0h1m36 0h1m27 0h1m1 0h1m5 0h2m18 0h1m19 0h1m19 0h1M1487 200.1h1m42 0h1m102 0h1M1480 298.9h1m60 0h1m135 0h1M1946 381.2h1M1691 677.5h1m62 0h1m38 0h1m38 0h1M1759 693.9h1m34 0h1m66 0h1M1707 710.4h1m89 0h1M1745 743.3h1m16 0h1m3 0h1m17 0h1m4 0h1M1670 759.8h1M1668 907.9h1m41 0h1M1706 924.4h1m53 0h2m67 0h1M1585 957.3h1m165 0h1m138 0h1"/><path stroke="#a75" d="M1632 150.7h1M1634 183.7h1m13 0h1M1551 216.6h1M1687 249.5h1M1456 282.4h1m41 0h1m4 0h1m50 0h1m253 0h1M1717 298.9h1m26 0h1M1672 315.3h1m5 0h1M1555 447h1M1868 512.9h1M1853 545.8h1M1479 562.2h1m402 0h1M1856 611.6h1"/><path stroke="#ba4" d="M1638 150.7h1M1460 183.7h1m97 0h1m28 0h1M1590 249.5h1M1783 348.2h1M1944 479.9h1m4 0h1M1935 529.3h1M1887 562.2h1M1954 578.7h1"/><path stroke="#ca4" d="M1642 150.7h1M1531 167.2h1M1585 183.7h1m8 0h1M1468 200.1h1m33 0h1M1462 216.6h1m153 0h1m43 0h1M1548 233h1M1508 298.9h1m48 0h1M1603 315.3h1m41 0h1m107 0h1m28 0h1M1617 331.8h1m143 0h2M1603 348.2h1M1764 364.7h1m26 0h1m116 0h1M1699 381.2h1m257 0h1M1841 479.9h1M1891 496.4h1M1826 512.9h1M1945 545.8h1M1676 578.7h1m205 0h1M1901 611.6h1M1705 743.3h1M1837 776.2h2m23 0h1m74 0h1M1833 907.9h1m3 0h1m18 0h3m21 0h2m6 0h1m33 0h1m35 0h1M1874 924.4h1M1922 940.8h1M1886 957.3h1m81 0h1"/><path stroke="#a57" d="M1650 150.7h1M1474 167.2h1m86 0h1m8 0h1m95 0h1M1526 200.1h1m116 0h1m5 0h1M1518 233h1m36 0h1m153 0h1M1451 265.9h1m27 0h1m9 0h1m54 0h1m46 0h1m39 0h1m11 0h1m12 0h1M1453 282.4h1M1771 298.9h1M1605 315.3h1m28 0h2m12 0h1m215 0h1m11 0h1M1660 331.8h1m188 0h1M1585 364.7h2M1923 381.2h2M1682 512.9h1m6 0h1m94 0h1M1972 529.3h1M1761 562.2h1M1664 578.7h1M1531 628.1h2m38 0h1m130 0h1m260 0h1M1926 644.5h1M1926 677.5h1m20 0h2m35 0h1M1924 693.9h1M1824 710.4h1m17 0h1m28 0h1M1752 743.3h1m33 0h1m66 0h1m71 0h1M1848 759.8h2m13 0h1m74 0h1M1889 776.2h1M1838 792.7h1m8 0h1m8 0h1m21 0h1m18 0h1m7 0h1M1755 907.9h1m74 0h1m5 0h1m3 0h1m37 0h1m10 0h1m15 0h1M1667 940.8h1m74 0h1m31 0h1m72 0h1m27 0h2m6 0h1m47 0h1m11 0h1M1501 957.3h1m227 0h1"/><path stroke="#975" d="M1651 150.7h1M1586 183.7h1m381 0h1M1751 512.9h1M1833 562.2h1M1839 578.7h1M1694 693.9h1m137 0h1m95 0h1M1734 710.4h1M1765 743.3h1"/><path stroke="#da4" d="M1669 150.7h2m8 0h1m23 0h1m14 0h2m16 0h3m11 0h1m3 0h1m1 0h2m5 0h1m1 0h2m1 0h2m28 0h1m14 0h1m2 0h1m3 0h2m4 0h1m4 0h1M1453 167.2h1m4 0h1m39 0h1m4 0h1m16 0h1m12 0h1m7 0h1m9 0h1m1 0h1m66 0h1m28 0h1m3 0h1m14 0h1m4 0h1M1450 183.7h1m29 0h1m6 0h1m19 0h1m16 0h1m8 0h1m5 0h3m1 0h1m1 0h1m5 0h1m12 0h1m1 0h1m3 0h2m1 0h1m2 0h1m4 0h1m19 0h2m5 0h2m30 0h2m2 0h1m1 0h1m8 0h1m1 0h1m16 0h1m12 0h1m17 0h1m37 0h1m37 0h1m22 0h1m43 0h1m33 0h1m109 0h1M1685 200.1h1m61 0h1m12 0h1m12 0h1M1562 216.6h2m8 0h1m2 0h1m2 0h1m7 0h1m2 0h1m3 0h3m8 0h1m3 0h1m3 0h2m9 0h1m2 0h1m4 0h1m8 0h1m2 0h2m208 0h1M1452 233h2m4 0h1m35 0h1m8 0h1m28 0h1m3 0h1m5 0h1m164 0h1m29 0h1m81 0h1m37 0h1m82 0h1M1668 249.5h1m24 0h1m9 0h1m2 0h1m9 0h2m22 0h1m14 0h3m10 0h2m12 0h1m6 0h1m7 0h1m1 0h1m6 0h1m3 0h1m1 0h1m29 0h1m17 0h1m7 0h1m51 0h1m52 0h1m3 0h1m3 0h1M1474 265.9h1m23 0h1m25 0h1m226 0h1m75 0h1M1666 282.4h1m4 0h1m5 0h1m24 0h1m4 0h1m1 0h2m21 0h1m15 0h2m1 0h1m6 0h2m16 0h2m1 0h1m22 0h1m3 0h1m8 0h1m7 0h1m8 0h1m25 0h1m2 0h1m69 0h1m24 0h1m35 0h2M1458 298.9h1m3 0h1m31 0h1m30 0h2m20 0h1m2 0h1m16 0h1m340 0h1M1620 315.3h1m30 0h1m13 0h1m9 0h2m8 0h1m5 0h1m12 0h2m3 0h1m5 0h1m44 0h1m7 0h1m1 0h1m1 0h1m11 0h1m45 0h1m13 0h1m21 0h1m126 0h1M1738 331.8h1m154 0h1m90 0h1M1709 348.2h1m8 0h1m6 0h1m7 0h1m3 0h1m20 0h1m16 0h1m18 0h1m3 0h1m5 0h1m8 0h1m7 0h1m144 0h1m6 0h1M1739 381.2h1m22 0h1m42 0h1m184 0h2M1468 397.6h2m10 0h1m7 0h1m13 0h1m39 0h1m1 0h1m2 0h1m8 0h1m16 0h1m9 0h1m11 0h2m13 0h1m1 0h1m9 0h3m3 0h1m13 0h1m2 0h1m5 0h1m78 0h1m1 0h2m2 0h2m5 0h1m2 0h1m3 0h1m13 0h1m4 0h1m2 0h1m1 0h2m7 0h1m6 0h1m2 0h1m8 0h1m4 0h1m3 0h1m5 0h1m3 0h2m149 0h1m11 0h1m7 0h1M1503 447h1M1451 463.5h3m26 0h2m6 0h2m12 0h1m32 0h1m21 0h1m107 0h2m17 0h1m12 0h1m5 0h3m2 0h1m10 0h2m20 0h1m7 0h2m7 0h2m5 0h1m2 0h1m1 0h1m3 0h1m18 0h1m1 0h1m2 0h1m3 0h2m1 0h2m1 0h1m6 0h1m81 0h1M1733 479.9h1m112 0h1m11 0h1m2 0h1m6 0h1m8 0h1m21 0h1m21 0h2m3 0h1m4 0h1m15 0h1m18 0h1m12 0h2m4 0h1M1693 496.4h1m39 0h1m27 0h1m36 0h1m36 0h2m3 0h2m4 0h2m8 0h1m4 0h1m9 0h1m2 0h1m10 0h4m3 0h1m9 0h2m13 0h1m37 0h1m18 0h1M1937 512.9h1m32 0h1m10 0h1M1847 529.3h1m69 0h1m19 0h1M1838 545.8h1M1471 562.2h1m10 0h1m19 0h3m3 0h1m3 0h2m11 0h1m2 0h3m16 0h2m23 0h1m15 0h1m28 0h1m25 0h1m47 0h2m2 0h1m5 0h1m40 0h1m10 0h1m36 0h2m4 0h1m15 0h1m26 0h1m14 0h1m17 0h1m12 0h1m58 0h1m27 0h1m3 0h1M1461 578.7h1m32 0h1m24 0h1m62 0h1m28 0h1m2 0h1m26 0h1m24 0h1m11 0h1m19 0h1m14 0h1m22 0h1m6 0h1m5 0h1m69 0h1m21 0h1m4 0h1m14 0h1m3 0h1m4 0h1m1 0h1m10 0h1m3 0h1m10 0h2m3 0h1m8 0h2m9 0h1m9 0h1m3 0h1m2 0h1m8 0h3m1 0h1m1 0h1m2 0h1m3 0h2m5 0h1m12 0h1m2 0h1m7 0h1M1855 595.2h1m33 0h1m19 0h1m18 0h1M1849 611.6h1m50 0h1m3 0h1M1468 628.1h1m93 0h1m165 0h1m7 0h1m35 0h1m20 0h1m52 0h1m14 0h2m5 0h1m1 0h1m6 0h1m1 0h1m1 0h1m10 0h1m5 0h1m9 0h1m4 0h1m11 0h1m1 0h1m4 0h2m5 0h1m6 0h1m15 0h1m2 0h1m7 0h1M1453 644.5h1m7 0h1m40 0h1m32 0h1m64 0h1m51 0h1m24 0h1m36 0h1m22 0h1m48 0h1m35 0h1m24 0h1m6 0h1m1 0h1m19 0h1m3 0h1m59 0h1m5 0h1m44 0h1M1525 661h1m30 0h1m87 0h1m13 0h1m5 0h1m5 0h1m13 0h1m5 0h2m12 0h2m7 0h1m3 0h1m1 0h1m1 0h1m11 0h1m7 0h1m6 0h1m8 0h1m2 0h2m9 0h1m5 0h1m2 0h1m8 0h1m10 0h1m28 0h1m19 0h1m29 0h1m1 0h1m8 0h2m4 0h1m3 0h2m31 0h2m8 0h1m18 0h1M1953 677.5h1M1839 710.4h1m4 0h1m38 0h1m7 0h1m4 0h1m6 0h1m1 0h1m15 0h1m6 0h2m8 0h1m1 0h1m9 0h1m25 0h1m8 0h1M1701 743.3h1m16 0h1m54 0h1m21 0h1m97 0h1m23 0h2m12 0h2m14 0h1m1 0h1m30 0h1M1840 776.2h1m29 0h2m21 0h1m40 0h2m2 0h1m24 0h1m10 0h1m5 0h2M1895 792.7h1m12 0h2m18 0h1m10 0h2m2 0h2m15 0h1M1990 809.1h1M1991 825.6h1M1993 875h1M1992 891.4h1M1844 940.8h1m5 0h1m9 0h1m7 0h1m2 0h1m28 0h1m6 0h1m3 0h1m7 0h1m6 0h1m8 0h1m47 0h1"/><path stroke="#db5" d="M1775 150.7h1m17 0h1M1530 183.7h1M1481 216.6h1m62 0h1m5 0h1m113 0h1m73 0h2m31 0h1m38 0h1m2 0h1M1543 233h1m3 0h1m51 0h1m54 0h1M1552 249.5h1m59 0h1m39 0h1m124 0h1M1545 282.4h1m59 0h1m45 0h1m44 0h1m15 0h1m87 0h1m18 0h1M1652 315.3h1m141 0h1m108 0h1m36 0h1M1511 348.2h1m4 0h2m187 0h1M1700 381.2h1M1521 397.6h1m16 0h1m159 0h1M1487 463.5h1m95 0h1m45 0h1m49 0h1m136 0h1M1908 496.4h1m1 0h1m2 0h1m35 0h1M1669 562.2h1m303 0h1M1702 578.7h1m8 0h1m19 0h1m14 0h1m192 0h1M1776 628.1h1m191 0h1M1894 644.5h1m39 0h2M1843 661h1M1903 743.3h1"/><path stroke="#c68" d="M1808 150.7h2m9 0h1M1758 216.6h1m155 0h1M1947 249.5h1M1563 282.4h1m175 0h1m162 0h1m27 0h1M1584 315.3h1M1473 348.2h1m153 0h1m217 0h1M1549 397.6h1m147 0h1m232 0h1M1507 463.5h2m40 0h1M1954 496.4h1m6 0h1M1973 512.9h1M1689 562.2h1M1458 578.7h1m5 0h1m49 0h1m345 0h1M1524 644.5h1m109 0h1m119 0h1m32 0h1m200 0h1M1573 661h1m126 0h1m215 0h1M1882 743.3h1"/><path stroke="#974" d="M1447 167.2h1M1548 183.7h1m421 0h1M1548 200.1h1M1644 282.4h1m125 0h1M1475 298.9h1M1713 315.3h2m65 0h1m36 0h1m13 0h1M1650 331.8h1m24 0h1M1619 348.2h1m38 0h1M1688 364.7h1m69 0h1m137 0h1m3 0h1m12 0h1m26 0h1m2 0h1m7 0h1M1664 381.2h1M1524 414.1h1m107 0h1m29 0h1m49 0h1M1478 430.6h1m4 0h1m88 0h1m80 0h1M1732 447h1m14 0h1m63 0h1m3 0h1m1 0h1m2 0h2M1857 479.9h1M1857 496.4h1M1741 512.9h1m133 0h1m27 0h1m21 0h1m34 0h1M1957 529.3h1m5 0h1M1835 545.8h1m11 0h1M1843 562.2h1M1934 578.7h1M1836 595.2h1m47 0h1M1835 611.6h1m28 0h1m46 0h1M1873 628.1h1M1746 693.9h1m30 0h1m13 0h1m55 0h1m12 0h1m60 0h1M1718 710.4h1M1963 726.8h1M1699 743.3h1M1897 924.4h1m48 0h1M1886 940.8h1M1744 957.3h1"/><path stroke="#855" d="M1450 167.2h1m75 0h1M1456 200.1h2m18 0h1m1 0h1m13 0h1m26 0h1m95 0h1m21 0h1M1526 233h1m260 0h1m21 0h1M1694 298.9h1m48 0h1m11 0h1m40 0h1m39 0h1M1615 331.8h1m90 0h1m14 0h1m69 0h1M1690 364.7h1m65 0h1m177 0h2M1636 381.2h1m77 0h1m9 0h1m83 0h1m7 0h1m77 0h1m20 0h2M1961 447h1M1761 512.9h1M1945 529.3h2m26 0h1M1549 562.2h1M1837 595.2h1m21 0h1m116 0h1M1885 611.6h1m16 0h1M1933 644.5h1M1722 677.5h1m75 0h1m5 0h2m27 0h1m96 0h1m35 0h1m6 0h1M1911 726.8h1M1703 743.3h1M1833 759.8h1m65 0h1m20 0h2m10 0h1m6 0h2M1694 907.9h1m68 0h1m88 0h1m21 0h1m51 0h1M1536 924.4h1m108 0h1m58 0h1m136 0h1m24 0h1m4 0h1M1674 957.3h2m32 0h1m93 0h2m51 0h1m42 0h1m23 0h1m24 0h1m3 0h1m5 0h1"/><path stroke="#515" d="M1452 167.2h1m49 0h1m3 0h1m42 0h1m24 0h1m57 0h2m30 0h1m4 0h1m16 0h1m8 0h2m3 0h1m5 0h1m4 0h1m23 0h1m1 0h1m9 0h1m9 0h1m72 0h1M1447 183.7h1m37 0h1m20 0h1m40 0h1m99 0h1M1459 200.1h1m145 0h1m34 0h1m42 0h1M1450 233h1m13 0h1m63 0h1m135 0h1m13 0h1m132 0h1m6 0h1M1454 265.9h1m27 0h1m13 0h2m11 0h2m18 0h1m132 0h3m47 0h1m64 0h1m5 0h2m4 0h2m11 0h2m12 0h1m8 0h2m13 0h1m17 0h1m1 0h2m36 0h1m11 0h2m6 0h3m10 0h3m6 0h1m24 0h1m5 0h1m18 0h1M1481 282.4h1m17 0h1m61 0h1m26 0h1m221 0h1M1447 298.9h1m8 0h1m24 0h1m355 0h1m3 0h1m1 0h1m6 0h2m24 0h2m21 0h1m17 0h3m3 0h2m11 0h2m1 0h1m1 0h1M1763 315.3h1m17 0h1m174 0h1m3 0h1m23 0h1M1449 331.8h1m56 0h1m55 0h1m29 0h1m25 0h1m18 0h1m115 0h1m1 0h2m26 0h1m8 0h1m37 0h1m1 0h1m31 0h1m20 0h1m9 0h1m30 0h1m3 0h1m7 0h1M1454 364.7h1m8 0h1m8 0h2m6 0h2m4 0h1m10 0h1m8 0h2m4 0h1m4 0h1m17 0h3m7 0h3m1 0h1m4 0h1m11 0h1m28 0h1m23 0h1m7 0h3m5 0h1m3 0h1m2 0h1m30 0h1m3 0h1m5 0h1m44 0h1m1 0h1m5 0h1m9 0h1m7 0h1m4 0h2m28 0h1m3 0h1m10 0h1m40 0h1m21 0h1m2 0h1m3 0h1m3 0h1m23 0h1m2 0h1m4 0h2m7 0h2m3 0h2m4 0h1m6 0h1m1 0h1m23 0h1m2 0h1m8 0h1m13 0h1M1592 381.2h1m13 0h1m49 0h1m38 0h1m12 0h1m127 0h1m37 0h2m10 0h1m11 0h1m36 0h1M1664 414.1h1m5 0h1m37 0h2m116 0h1m4 0h1m1 0h1m6 0h3m1 0h1m2 0h4m5 0h1m2 0h3m14 0h4m4 0h1m1 0h3m6 0h1m2 0h1m1 0h1m24 0h1m3 0h1m3 0h3m4 0h1m13 0h1m9 0h1m4 0h1m3 0h2m3 0h1m12 0h1M1667 430.6h1m4 0h1m5 0h3m2 0h2m15 0h1m2 0h1m11 0h1m30 0h1m70 0h1m128 0h2m3 0h1m4 0h1m10 0h1m7 0h1m3 0h1M1745 447h1m37 0h2m12 0h2m17 0h1M1463 512.9h1m99 0h1m18 0h2m5 0h1m17 0h1m4 0h1m18 0h1m13 0h2m4 0h1m200 0h1m32 0h1m5 0h1m3 0h1m10 0h1M1449 529.3h2m2 0h1m2 0h1m1 0h1m1 0h1m3 0h1m16 0h1m3 0h1m3 0h1m10 0h2m8 0h1m6 0h2m5 0h2m3 0h2m3 0h1m4 0h2m4 0h3m3 0h1m2 0h1m12 0h1m86 0h1m17 0h1m1 0h1m11 0h1m34 0h1m9 0h1m12 0h2m16 0h1m1 0h1m2 0h1m8 0h1m8 0h1m6 0h1m19 0h1m2 0h1m7 0h1m17 0h2m3 0h1m122 0h1m10 0h1M1570 545.8h1m1 0h2m11 0h1m2 0h1m2 0h1m1 0h1m2 0h1m7 0h1m3 0h1m2 0h2m5 0h1m4 0h1m2 0h1m5 0h1m6 0h1m18 0h1m1 0h1m175 0h1m8 0h2m8 0h1m92 0h1m34 0h2m2 0h1m3 0h2M1466 562.2h1m195 0h1m12 0h1m40 0h1m26 0h1m26 0h1m37 0h1m53 0h1m1 0h1m13 0h1m4 0h1m56 0h1M1461 595.2h1m14 0h1m8 0h1m15 0h2m31 0h1m1 0h1m2 0h1m2 0h1m3 0h1m17 0h2m3 0h1m21 0h1m5 0h1m4 0h1m1 0h1m4 0h1m1 0h2m1 0h1m2 0h1m12 0h1m3 0h1m8 0h1m86 0h1m6 0h1m1 0h2m3 0h1m17 0h1m5 0h1m4 0h3m2 0h1m4 0h1m1 0h4m7 0h3m7 0h1m1 0h3m11 0h1m56 0h1m14 0h1m61 0h1m36 0h1M1450 611.6h3m3 0h1m1 0h3m2 0h2m3 0h1m2 0h1m2 0h2m10 0h1m11 0h1m1 0h1m1 0h1m5 0h3m6 0h1m4 0h1m1 0h1m2 0h1m2 0h1m3 0h2m1 0h1m1 0h1m10 0h1m1 0h1m2 0h1m8 0h1m4 0h3m3 0h1m6 0h1m26 0h1m8 0h2m1 0h2m1 0h1m3 0h1m4 0h1m2 0h1m2 0h1m8 0h1m5 0h2m1 0h2m6 0h1m4 0h1m6 0h1m1 0h1m1 0h1m5 0h1m2 0h3m16 0h3m2 0h4m4 0h1m5 0h3m4 0h1m4 0h1m7 0h2m6 0h1m4 0h1m5 0h1m5 0h2m24 0h3m1 0h2m1 0h1m3 0h1m6 0h1m6 0h1m1 0h1m1 0h1m2 0h1m41 0h1m12 0h1m8 0h1m2 0h1m21 0h1m10 0h1m18 0h1m10 0h2m30 0h1M1679 644.5h1m17 0h1m173 0h2m22 0h1m4 0h1m29 0h1M1471 677.5h1m5 0h1m3 0h1m11 0h2m20 0h1m7 0h2m9 0h2m2 0h1m3 0h1m1 0h3m2 0h2m6 0h2m10 0h2m5 0h1m6 0h1m4 0h1m3 0h1m8 0h1m3 0h1m4 0h2m14 0h1m11 0h2m15 0h1m6 0h1m18 0h1m38 0h1m3 0h1m11 0h1m7 0h1m14 0h1m14 0h2m16 0h1m1 0h1m4 0h1m12 0h1m4 0h1m22 0h1m2 0h1m2 0h1m2 0h1m6 0h1m6 0h2m18 0h1m22 0h1m21 0h1m62 0h1m1 0h2M1482 693.9h1m24 0h1m10 0h1m8 0h1m8 0h1m140 0h1m39 0h1m13 0h1m15 0h1m30 0h1m30 0h2m11 0h1m3 0h1m43 0h2m7 0h2m3 0h2M1773 710.4h1m41 0h1m1 0h1M1960 726.8h1m10 0h1m15 0h1M1517 759.8h1m16 0h1m44 0h1m5 0h1m17 0h1m15 0h1m18 0h1m1 0h2m6 0h1m7 0h3m54 0h1m4 0h1m31 0h1m7 0h1m6 0h1m8 0h2m29 0h1m7 0h1m1 0h2m28 0h1m9 0h1m8 0h1m6 0h1m12 0h1m1 0h1M1472 776.2h1m23 0h1m36 0h1m56 0h1m87 0h1m10 0h2m8 0h3m20 0h1m20 0h1m39 0h1m28 0h1m3 0h1m5 0h1m5 0h2M1473 792.7h1m9 0h1m51 0h1m10 0h1m56 0h1m43 0h1m3 0h1m18 0h1m12 0h2m1 0h1m9 0h2m13 0h1m15 0h1m5 0h1m14 0h1m15 0h1m7 0h1M1455 907.9h1m21 0h1m19 0h2m12 0h3m16 0h1m13 0h1m17 0h1m32 0h1m3 0h1m8 0h2m5 0h1m32 0h1m17 0h1m4 0h1m34 0h1m6 0h1m9 0h1m10 0h1m26 0h1m21 0h1m11 0h2m11 0h2m2 0h1m11 0h1m2 0h2m16 0h2M1662 924.4h1m3 0h1m32 0h1m2 0h1m9 0h2m7 0h1m8 0h1m3 0h1m5 0h2m12 0h2m1 0h1m25 0h1m18 0h2m8 0h1m5 0h2m13 0h1m15 0h1m5 0h1m8 0h1m7 0h1m5 0h1m8 0h1m1 0h1m37 0h2m11 0h1m14 0h2m20 0h1m6 0h1M1507 940.8h1m9 0h1m7 0h1m57 0h1m38 0h2m1 0h1m11 0h1m72 0h1m7 0h1m35 0h1m8 0h1m21 0h2m15 0h1m8 0h1m14 0h1m3 0h2M1950 957.3h1m1 0h1m7 0h2m8 0h2m3 0h1"/><path stroke="#b85" d="M1454 167.2h1m139 0h1M1544 183.7h1M1542 200.1h1m38 0h1M1520 233h1M1449 265.9h1m20 0h2m23 0h1m152 0h1m155 0h1M1703 298.9h1m41 0h1m126 0h1M1613 315.3h1m49 0h1m158 0h1M1640 331.8h1M1672 364.7h1m32 0h1M1759 447h1M1889 545.8h1m30 0h1m44 0h1M1809 578.7h1M1841 611.6h1M1715 628.1h1M1727 644.5h1m69 0h1M1969 677.5h1M1932 693.9h1M1883 759.8h1m13 0h1M1851 776.2h1m80 0h1M1914 792.7h2M1663 907.9h1m154 0h1m128 0h1M1848 924.4h1m37 0h1M1862 940.8h1M1977 957.3h1"/><path stroke="#ba3" d="M1455 167.2h1m14 0h1M1656 200.1h1M1515 233h1M1525 265.9h1M1615 282.4h1M1566 298.9h1M1788 315.3h1M1706 364.7h1m65 0h1m198 0h1M1453 414.1h1m246 0h1m44 0h1m50 0h1m5 0h1M1500 430.6h1m136 0h1m27 0h1m47 0h1M1744 447h1M1866 512.9h1m61 0h1M1866 529.3h1m56 0h1M1730 562.2h1M1848 595.2h1m126 0h1M1915 677.5h1M1724 907.9h1M1873 924.4h1m61 0h1m8 0h1m18 0h1M1697 940.8h1m183 0h2M1669 957.3h1m197 0h1"/><path stroke="#873" d="M1457 167.2h1m78 0h1M1484 183.7h1m27 0h1m90 0h1M1585 200.1h1m61 0h1M1556 233h1M1524 298.9h1M1852 364.7h1m127 0h1M1801 381.2h1M1752 414.1h2M1754 447h1m191 0h1M1948 611.6h1M1833 693.9h1M1672 710.4h1m5 0h1m9 0h1M1820 743.3h1M1663 759.8h1M1856 776.2h1m11 0h1M1764 907.9h1m95 0h1M1647 924.4h1m100 0h1m43 0h1m158 0h1M1453 957.3h1m265 0h2"/><path stroke="#727" d="M1460 167.2h1m30 0h1m52 0h1m31 0h1m95 0h1m47 0h2m44 0h2m20 0h4m14 0h1m15 0h1m3 0h1m6 0h1M1453 200.1h1m57 0h1m223 0h1m23 0h1M1470 233h1m53 0h1m183 0h1m24 0h1m21 0h1M1467 265.9h1m12 0h1m4 0h1m19 0h3m8 0h1m3 0h1m5 0h1m145 0h2m3 0h1m1 0h2m7 0h2m15 0h1m19 0h1m24 0h1m28 0h1m12 0h1m18 0h1m1 0h2m2 0h1m10 0h1m13 0h1m25 0h1m7 0h2m15 0h1m5 0h1m12 0h1m2 0h1m8 0h1m48 0h1m1 0h1m7 0h1m3 0h1M1678 298.9h2m12 0h1m12 0h1m9 0h1m10 0h1m14 0h1m7 0h1m13 0h1m3 0h2m10 0h1m5 0h1m18 0h1m8 0h1m38 0h1m10 0h1m6 0h2m19 0h1m8 0h2m11 0h1m2 0h1m12 0h2M1612 315.3h1M1471 331.8h1m13 0h1m19 0h1m16 0h1m28 0h1m9 0h1m31 0h1m65 0h1m164 0h1m6 0h1m89 0h1M1457 364.7h1m6 0h1m22 0h1m21 0h1m18 0h1m1 0h1m9 0h1m9 0h1m42 0h1m7 0h1m4 0h1m7 0h2m24 0h2m3 0h2m27 0h1m102 0h1m49 0h3m6 0h1m23 0h1m4 0h1m5 0h1m4 0h1m17 0h1m2 0h1m8 0h1m2 0h1m8 0h1m8 0h1m40 0h1m23 0h1M1598 381.2h1m53 0h1m4 0h1m187 0h1m41 0h1M1851 414.1h1m2 0h2m6 0h1m8 0h1m11 0h1m5 0h1m6 0h1m4 0h1m3 0h1m12 0h2m12 0h1m5 0h1m7 0h2m5 0h1m4 0h1m3 0h1m22 0h1M1831 430.6h1m11 0h2m32 0h1m18 0h1m8 0h1m14 0h1m3 0h1m8 0h2m13 0h3m1 0h2m6 0h1m4 0h1m5 0h1m6 0h1m2 0h1m3 0h1M1506 447h1m9 0h1m4 0h1m10 0h1m41 0h1m2 0h1m20 0h2m21 0h1m12 0h1m13 0h1m23 0h1m8 0h1m2 0h1m6 0h2m15 0h1m7 0h1m54 0h1m18 0h1m31 0h1m2 0h2m1 0h1m8 0h1m4 0h1m5 0h1m3 0h1m26 0h1m19 0h2m7 0h1m2 0h1m13 0h2m1 0h2m32 0h1m2 0h1m8 0h1M1791 479.9h1M1546 512.9h1m18 0h1m118 0h1m5 0h2m7 0h2m2 0h1m4 0h1m16 0h2m2 0h1m13 0h1m1 0h1m37 0h1m2 0h1m2 0h2m13 0h1m9 0h1m146 0h2M1462 529.3h1m7 0h1m2 0h1m1 0h2m9 0h1m24 0h1m7 0h2m16 0h1m5 0h1m13 0h1m20 0h1m22 0h1m57 0h1m6 0h2m13 0h1m8 0h1m13 0h2m18 0h1m28 0h1m23 0h1m1 0h1m9 0h2m2 0h1m158 0h1m17 0h1m14 0h1M1558 545.8h1m8 0h1m8 0h1m1 0h1m5 0h1m17 0h1m11 0h1m4 0h3m11 0h1m6 0h1m29 0h2m2 0h2m14 0h1m7 0h1m31 0h1m26 0h1m5 0h3m15 0h1m5 0h1m2 0h2m1 0h1m11 0h1m5 0h1m4 0h1m4 0h1m4 0h1m6 0h1m145 0h1M1467 562.2h1m1 0h1m11 0h1m6 0h1m178 0h1M1453 595.2h1m2 0h1m46 0h1m13 0h1m4 0h2m20 0h1m33 0h1m11 0h1m4 0h1m17 0h1m5 0h2m2 0h1m4 0h2m3 0h1m1 0h1m11 0h1m3 0h1m5 0h2m20 0h2m7 0h1m3 0h1m10 0h1m4 0h1m1 0h1m6 0h1m5 0h2m17 0h1m4 0h1m2 0h1m1 0h2m4 0h1m2 0h1m17 0h1m20 0h2m10 0h1m11 0h1m5 0h2m160 0h1M1447 611.6h1m18 0h1m21 0h3m1 0h1m8 0h1m9 0h1m7 0h1m5 0h2m1 0h1m11 0h1m3 0h3m6 0h1m3 0h1m33 0h2m33 0h1m4 0h1m2 0h1m2 0h1m4 0h1m6 0h2m11 0h2m7 0h2m29 0h1m3 0h1m20 0h1m5 0h1m2 0h1m1 0h1m15 0h1m3 0h1m4 0h2m7 0h1m9 0h1m5 0h1m5 0h2m6 0h1m2 0h1m7 0h1m7 0h2m9 0h1m111 0h1m15 0h1m2 0h1M1723 644.5h1m196 0h1M1449 677.5h1m3 0h1m28 0h1m15 0h1m1 0h6m7 0h2m1 0h1m13 0h1m1 0h1m4 0h1m9 0h1m5 0h1m9 0h1m3 0h2m2 0h2m9 0h1m4 0h1m7 0h1m6 0h2m8 0h2m4 0h1m2 0h1m9 0h1m3 0h1m6 0h1m1 0h2m4 0h1m5 0h2m17 0h1m10 0h1m7 0h1m7 0h2m11 0h2m23 0h1m6 0h1m32 0h2m2 0h1m10 0h1m27 0h1m2 0h1m15 0h1m1 0h1m25 0h2m16 0h1m33 0h1M1572 693.9h1m71 0h1m39 0h1m35 0h1m21 0h1m46 0h2m5 0h2m10 0h1m3 0h1m2 0h1m9 0h1m2 0h1M1667 710.4h1m117 0h1m5 0h1m17 0h1m10 0h1M1463 726.8h1m43 0h1m13 0h1m16 0h1m14 0h1m11 0h1m9 0h1m6 0h1m20 0h1m3 0h1m7 0h1m33 0h1m30 0h1m15 0h1m2 0h1m33 0h1m5 0h3m31 0h1m31 0h1m20 0h1m17 0h1m25 0h1m17 0h1m1 0h1m14 0h2m3 0h1m9 0h2m5 0h1M1472 759.8h1m25 0h1m19 0h1m3 0h1m12 0h1m44 0h1m53 0h2m10 0h1m32 0h1m14 0h2m11 0h1m13 0h1m6 0h2m66 0h1m10 0h1m45 0h1m4 0h1m37 0h1M1491 776.2h1m97 0h1m61 0h1m18 0h1m3 0h2m26 0h1m4 0h2m4 0h2m34 0h2m2 0h1m6 0h1m6 0h1m11 0h1m16 0h1m9 0h1M1498 792.7h1m18 0h1m55 0h1m10 0h1m19 0h1m17 0h1m18 0h1m11 0h2m17 0h1m3 0h1m40 0h1m6 0h1m5 0h1m38 0h2m10 0h1m14 0h2m14 0h1m6 0h1m10 0h1M1452 907.9h1m5 0h1m12 0h1m13 0h1m7 0h1m12 0h1m1 0h2m5 0h2m12 0h1m4 0h1m4 0h2m12 0h1m5 0h1m1 0h1m9 0h2m3 0h1m3 0h1m10 0h1m13 0h2m11 0h1m4 0h1m16 0h1m4 0h1m8 0h1m23 0h3m4 0h1m10 0h1m41 0h1m35 0h1m24 0h1m2 0h1m20 0h1m24 0h1M1460 924.4h1m29 0h1m9 0h3m13 0h1m14 0h3m37 0h1m15 0h1m52 0h1m39 0h4m3 0h1m13 0h1m13 0h1m13 0h1m32 0h1m18 0h2m4 0h1m20 0h1m87 0h1m14 0h1M1479 940.8h1m25 0h1m27 0h1m3 0h1m47 0h2m14 0h1m9 0h1m28 0h1m36 0h1m29 0h1m8 0h2m28 0h1m9 0h1m20 0h2m16 0h1m1 0h1m17 0h1m40 0h2m14 0h1m12 0h1M1469 957.3h1m2 0h1m7 0h1m19 0h1m27 0h1m9 0h1m11 0h1m37 0h2m14 0h1m40 0h1m9 0h1m21 0h1m86 0h1m2 0h1m5 0h1m40 0h1m4 0h1m3 0h1m17 0h1m5 0h2m12 0h1m2 0h3m8 0h2m29 0h1m14 0h1m7 0h1m13 0h2m14 0h1"/><path stroke="#753" d="M1464 167.2h1M1514 183.7h1M1517 200.1h1m18 0h1M1627 298.9h1M1673 315.3h1M1751 331.8h1M1571 364.7h1m110 0h1m30 0h1m61 0h1m25 0h2m12 0h1m74 0h1M1452 414.1h1m36 0h2m61 0h2m119 0h1m77 0h1m8 0h1m2 0h1m4 0h1M1482 430.6h1m23 0h2m16 0h1m143 0h2M1793 447h1M1888 512.9h1m43 0h1M1850 529.3h1m99 0h1m28 0h1M1851 545.8h1m121 0h2M1955 595.2h1M1880 611.6h1M1772 677.5h1m18 0h1m23 0h1M1751 693.9h1M1976 726.8h1M1689 759.8h1M1528 924.4h1m144 0h1m14 0h1m33 0h2m9 0h1m110 0h1m49 0h1M1473 957.3h1m1 0h1m6 0h1m81 0h1m1 0h1m12 0h1m11 0h1m139 0h1m140 0h1m9 0h1m49 0h1"/><path stroke="#763" d="M1469 167.2h1m121 0h1M1626 183.7h1M1534 200.1h1M1510 298.9h1m5 0h1m39 0h1m6 0h1m19 0h1m83 0h1M1791 315.3h1M1718 331.8h1m57 0h1m8 0h1M1740 364.7h1m3 0h1m68 0h2m49 0h1m34 0h1m32 0h1m34 0h1M1625 381.2h1m71 0h1M1462 414.1h1m2 0h1m1 0h1m7 0h1m12 0h1m17 0h1m13 0h1m21 0h1m27 0h1m85 0h1m92 0h1m9 0h1m23 0h2m14 0h1m13 0h1M1447 430.6h1m47 0h1m66 0h1m56 0h1m51 0h1m47 0h1m22 0h1M1729 447h1m4 0h1m25 0h1m28 0h1m10 0h1m144 0h1m2 0h1m19 0h1M1670 512.9h1m157 0h1m31 0h1M1901 529.3h1m12 0h1m14 0h1M1859 545.8h1m49 0h1m59 0h1M1835 562.2h1M1897 595.2h1m8 0h1M1855 611.6h1m56 0h1m28 0h1m17 0h1M1704 677.5h1m22 0h1m10 0h1m32 0h1m7 0h1m8 0h1m1 0h1m37 0h1m50 0h1m18 0h1m41 0h1M1691 710.4h1M1914 726.8h1m23 0h1M1809 759.8h1M1703 907.9h1m102 0h1M1663 924.4h1m3 0h1m7 0h1m187 0h1m40 0h1m8 0h1m29 0h1m4 0h2m11 0h2M1454 957.3h1m7 0h1m42 0h1m12 0h2m60 0h1m122 0h1m85 0h1m70 0h1m12 0h1m62 0h1m12 0h1m16 0h1m11 0h1"/><path stroke="#bb2" d="M1477 167.2h1m37 0h2m1 0h1m48 0h1m44 0h1M1451 183.7h1m31 0h1m20 0h1m20 0h1m6 0h1M1455 200.1h1m167 0h1M1494 216.6h1m64 0h1m57 0h1M1628 233h1m31 0h1M1568 249.5h1m73 0h1M1453 298.9h2m19 0h1m74 0h1m54 0h1m63 0h1M1680 315.3h1m39 0h1m4 0h1m43 0h1m25 0h1m37 0h1M1728 331.8h1m3 0h1m6 0h1m80 0h1M1822 348.2h1M1567 364.7h1m141 0h1m29 0h1m8 0h1m50 0h1m75 0h1M1675 381.2h1M1682 414.1h1m18 0h1m2 0h1m32 0h2M1523 430.6h1m119 0h1m66 0h1m36 0h1m17 0h2m45 0h1M1854 479.9h1m27 0h1m24 0h1m2 0h1M1858 496.4h2M1842 512.9h2m7 0h1m1 0h1m8 0h1m27 0h1m2 0h2M1885 529.3h1m1 0h1m11 0h1m24 0h1M1860 545.8h1m11 0h1m9 0h2m24 0h1M1951 562.2h1M1847 578.7h1m70 0h1M1856 595.2h1m5 0h1m4 0h1m31 0h1m4 0h1m19 0h1m37 0h1m7 0h1m9 0h1M1860 611.6h1m11 0h1m3 0h1m99 0h2M1838 628.1h1M1859 677.5h1m37 0h1m82 0h1M1945 726.8h1m12 0h2M1835 759.8h1m20 0h2m7 0h1m8 0h1m15 0h1m42 0h1m19 0h1M1854 776.2h1M1959 907.9h1M1860 924.4h2M1793 957.3h1m30 0h1m3 0h1"/><path stroke="#956" d="M1480 167.2h1m27 0h1m138 0h1m8 0h1M1614 200.1h1m116 0h1M1492 233h1M1537 265.9h1M1756 381.2h1M1757 496.4h1M1747 512.9h1M1733 677.5h1M1662 693.9h1m45 0h1m94 0h1m7 0h1m2 0h1m98 0h1M1671 710.4h1m1 0h1m27 0h1m19 0h1m110 0h1M1682 743.3h1m114 0h1M1742 759.8h1M1721 776.2h1M1742 792.7h1m68 0h1M1554 907.9h1m19 0h1m116 0h1M1820 924.4h1M1570 940.8h1m5 0h1m20 0h1m61 0h1m16 0h1m24 0h1m7 0h1m27 0h1m69 0h1m4 0h1m7 0h2m3 0h1M1586 957.3h1m339 0h1m8 0h1"/><path stroke="#dc2" d="M1482 167.2h1m21 0h1m50 0h2m38 0h1m29 0h1M1471 183.7h1m85 0h1M1658 216.6h1M1557 249.5h1M1464 298.9h1m7 0h1m17 0h2m20 0h2m15 0h1m4 0h1m119 0h1M1683 315.3h1m2 0h1M1767 331.8h1m16 0h1M1615 348.2h1M1691 364.7h2m146 0h1M1823 381.2h1m87 0h1m59 0h1M1586 414.1h1m81 0h1m53 0h1M1505 430.6h1m281 0h1m6 0h2m20 0h1M1855 479.9h1M1922 512.9h1M1899 545.8h1m38 0h1M1855 562.2h2m72 0h2M1929 578.7h1M1873 595.2h1m13 0h1m13 0h1m43 0h1m21 0h1M1846 611.6h1m7 0h1m68 0h1M1856 628.1h1M1984 644.5h1M1877 677.5h1m67 0h1m30 0h1M1904 693.9h1M1983 726.8h1M1954 743.3h1M1873 759.8h1m4 0h1m85 0h1M1915 776.2h1"/><path stroke="#b66" d="M1484 167.2h1M1655 233h1M1448 265.9h1m38 0h1m16 0h1M1897 298.9h1M1750 628.1h1m39 0h1m103 0h1M1863 792.7h1M1885 907.9h1"/><path stroke="#828" d="M1485 167.2h1m8 0h1m19 0h1m19 0h1m17 0h1m20 0h1m30 0h1m25 0h1m20 0h1m7 0h1m175 0h1m30 0h1M1670 183.7h1m17 0h2m9 0h1m32 0h1m25 0h1m30 0h1m12 0h1m6 0h1m4 0h1m6 0h1m2 0h1M1466 200.1h1m17 0h2m2 0h1m2 0h1m17 0h1m4 0h1m39 0h1m3 0h1m7 0h1m3 0h1m27 0h2m2 0h1m23 0h1m42 0h1m11 0h2m4 0h1m6 0h1m4 0h1m4 0h2m7 0h1m16 0h1m3 0h1m23 0h1m2 0h1m24 0h1m11 0h1m3 0h1m13 0h1m10 0h1m3 0h1m3 0h1m3 0h1m27 0h2m3 0h1m19 0h1m1 0h1m14 0h1m20 0h1m4 0h1m23 0h2M1447 233h1m24 0h1m6 0h1m34 0h1m1 0h1m5 0h1m7 0h1m8 0h1m11 0h1m45 0h1m114 0h1m41 0h1m26 0h1m38 0h1m10 0h1m88 0h1M1548 265.9h1m2 0h1m5 0h1m16 0h1m12 0h2m8 0h3m8 0h1m20 0h1m10 0h2m13 0h1m4 0h1M1669 298.9h1m14 0h4m1 0h2m15 0h1m7 0h1m15 0h1m1 0h3m3 0h2m19 0h1m17 0h1m2 0h1m11 0h1m6 0h2m8 0h1m9 0h1m2 0h2m9 0h1m126 0h1m12 0h1M1454 315.3h1m17 0h1m5 0h1m4 0h1m11 0h1m73 0h1m8 0h1m10 0h1m8 0h2m6 0h1m14 0h1m4 0h1m4 0h1m10 0h2m12 0h1m181 0h1m12 0h1m53 0h1m29 0h1m5 0h1m36 0h1M1583 331.8h1m1 0h1m86 0h1m25 0h1m1 0h3m55 0h1m39 0h1m4 0h1m3 0h1m28 0h1m7 0h1m6 0h1m28 0h1m43 0h1m35 0h1m30 0h1M1727 364.7h1m3 0h1M1585 381.2h2m363 0h1m8 0h1M1992 414.1h1m1 0h1M1837 430.6h1m1 0h1m12 0h2m9 0h1m4 0h1m14 0h1m1 0h1m4 0h2m5 0h3m2 0h2m14 0h2m12 0h1m2 0h2m53 0h2m1 0h1M1462 447h1m4 0h1m16 0h2m1 0h1m5 0h1m13 0h1m20 0h1m28 0h1m52 0h1m1 0h2m15 0h2m10 0h1m28 0h2m21 0h2m40 0h1m16 0h1m4 0h1m27 0h1m19 0h1m27 0h1m1 0h1m2 0h1m1 0h1m2 0h1m2 0h1m19 0h1m4 0h1m2 0h2m6 0h2m4 0h1m3 0h1m14 0h1m4 0h1m2 0h2m1 0h1m33 0h2m3 0h1m2 0h1m19 0h1m7 0h2m4 0h1M1572 479.9h1m422 0h1M1452 496.4h1m4 0h1m51 0h1m107 0h1m50 0h1m17 0h1m14 0h1m29 0h1m59 0h1m26 0h1m145 0h1m24 0h1M1470 512.9h1m61 0h1m29 0h1m37 0h1m54 0h1m6 0h1m17 0h1m7 0h1m20 0h1m7 0h2m11 0h1m19 0h1m2 0h1m11 0h2m21 0h1m11 0h1m14 0h1m13 0h1m113 0h1m44 0h1m4 0h1M1662 529.3h2m14 0h1m3 0h1m1 0h1m3 0h2m1 0h1m1 0h1m5 0h2m2 0h1m7 0h2m2 0h1m9 0h1m4 0h1m1 0h1m9 0h1m8 0h1m2 0h1m2 0h1m1 0h2m2 0h1m1 0h1m3 0h1m11 0h1m12 0h2m3 0h1m1 0h1m15 0h1m6 0h1m4 0h1m161 0h1M1466 545.8h1m1 0h1m34 0h1m14 0h1m32 0h1m129 0h1m10 0h1m13 0h1m28 0h1m5 0h2m1 0h2m28 0h1m2 0h1m1 0h2m18 0h1m1 0h1m12 0h2m1 0h1m11 0h1m124 0h1m4 0h1m29 0h1M1452 562.2h1m32 0h1m45 0h1m29 0h1m18 0h1m31 0h1m31 0h1m51 0h1m11 0h1m6 0h1m20 0h1m2 0h1m5 0h1m10 0h1m49 0h1m18 0h1m4 0h1M1692 578.7h1m13 0h1m68 0h1m9 0h1m12 0h1m15 0h1M1662 595.2h2m2 0h2m2 0h1m3 0h1m12 0h1M1450 628.1h1m4 0h2m6 0h1m7 0h4m2 0h2m3 0h1m7 0h2m1 0h4m1 0h4m11 0h1m6 0h2m3 0h1m2 0h1m9 0h1m1 0h1m9 0h1m17 0h2m6 0h1m7 0h1m1 0h3m1 0h1m5 0h1m2 0h1m1 0h1m2 0h2m2 0h1m6 0h1m4 0h2m2 0h1m7 0h2m1 0h1m1 0h1m3 0h2m1 0h1m1 0h1m1 0h1m1 0h1m52 0h2m5 0h1m18 0h2m1 0h1m4 0h1m56 0h1m18 0h2m2 0h1m7 0h2m150 0h1M1466 644.5h1m232 0h1m32 0h1m18 0h2m22 0h1m5 0h1m9 0h1m127 0h1m1 0h1M1886 677.5h1m7 0h1m4 0h2m6 0h1m12 0h1m14 0h1m25 0h1m10 0h1m5 0h1M1452 693.9h1m2 0h1m49 0h1m23 0h1m17 0h1m8 0h1m60 0h1m20 0h1m8 0h1m3 0h1m3 0h1m4 0h1m191 0h1m1 0h1m12 0h2m8 0h2m3 0h2m24 0h1m22 0h1m1 0h1M1448 710.4h1m6 0h1m33 0h1m2 0h2m11 0h1m3 0h1m2 0h1m7 0h1m1 0h1m4 0h1m21 0h1m11 0h1m11 0h1m4 0h1m22 0h1m8 0h1m16 0h1m13 0h1m1 0h1m6 0h2m7 0h1m4 0h1m5 0h1m12 0h1m3 0h1m14 0h2m8 0h1m6 0h1m4 0h1m1 0h1m2 0h1m7 0h1m5 0h1m10 0h1m8 0h1m2 0h2m22 0h1m11 0h1m8 0h1m9 0h2m3 0h1m4 0h1m1 0h1m1 0h1m20 0h1m6 0h1m3 0h1m4 0h1m34 0h1m12 0h1m5 0h1m8 0h1M1451 726.8h1m4 0h1m28 0h1m4 0h1m5 0h1m23 0h1m4 0h1m24 0h1m17 0h1m7 0h1m34 0h1m21 0h1m10 0h2m19 0h1m22 0h1m21 0h1m11 0h1m1 0h1m1 0h1m19 0h1m2 0h1m21 0h1m60 0h1m2 0h1m11 0h1m18 0h1m14 0h2m14 0h1m9 0h1m4 0h2m4 0h2m8 0h1m11 0h2m48 0h2M1467 743.3h2m4 0h2m1 0h1m2 0h1m46 0h1m10 0h1m13 0h1m13 0h1m6 0h2m20 0h2m40 0h4m12 0h2m10 0h1m6 0h1m1 0h1m1 0h4m28 0h2m12 0h1m13 0h1m5 0h1m1 0h1m20 0h1m13 0h1m4 0h1m1 0h1m7 0h2m4 0h1m14 0h1m3 0h1m7 0h2m1 0h1m42 0h1m5 0h1m45 0h1m8 0h1m3 0h1m1 0h1m52 0h1M1480 759.8h1m32 0h1m7 0h1m33 0h2m20 0h1m5 0h1m37 0h1m29 0h1m189 0h1m2 0h1m7 0h1m24 0h1m20 0h1m32 0h1m58 0h1M1467 776.2h1m13 0h1m18 0h1m6 0h1m18 0h1m15 0h1m34 0h1m10 0h1m68 0h1m181 0h1m43 0h4m5 0h1m25 0h1m2 0h1M1447 792.7h1m4 0h1m6 0h1m1 0h2m3 0h1m1 0h3m5 0h1m13 0h2m5 0h1m4 0h2m3 0h1m2 0h1m2 0h1m8 0h1m2 0h1m3 0h1m1 0h1m1 0h1m3 0h1m1 0h2m2 0h1m9 0h2m4 0h3m3 0h1m4 0h1m4 0h4m16 0h3m1 0h2m31 0h1m4 0h1m1 0h1m3 0h1m12 0h2m1 0h1m195 0h1m1 0h2m3 0h1m1 0h1M1929 907.9h2m4 0h1m2 0h1M1450 924.4h1m2 0h1m7 0h1m3 0h1m1 0h1m2 0h1m2 0h2m11 0h1m10 0h1m5 0h1m1 0h1m9 0h1m1 0h2m10 0h1m16 0h1m12 0h1m14 0h1m19 0h1m5 0h1m21 0h1m3 0h2m1 0h1m1 0h1m4 0h2m19 0h1m207 0h1m3 0h1m25 0h1m6 0h1m17 0h1m8 0h1m15 0h1m14 0h1m7 0h1m6 0h1m2 0h1M1835 940.8h2m21 0h2m3 0h1m39 0h1m33 0h2m15 0h2M1463 957.3h2m1 0h2m39 0h1m2 0h1m5 0h1m8 0h1m3 0h1m4 0h1m5 0h1m11 0h1m2 0h2m11 0h2m2 0h1m3 0h1m21 0h1m7 0h1m10 0h1m2 0h1m2 0h1m34 0h2m2 0h2m1 0h1m5 0h1m8 0h1m8 0h2m9 0h1m10 0h1m1 0h1m9 0h1m4 0h1m12 0h1m7 0h1m27 0h1m1 0h1m8 0h1m5 0h1m1 0h1m12 0h1m19 0h2m12 0h1m40 0h2m6 0h1m1 0h2m16 0h2m19 0h1m3 0h3m1 0h1"/><path stroke="#654" d="M1495 167.2h1m125 0h1m22 0h1M1568 298.9h1M1841 364.7h1M1624 381.2h1M1589 414.1h1m174 0h2M1612 430.6h1m75 0h1m82 0h1m50 0h2M1786 447h1m14 0h2m163 0h1M1886 562.2h1M1788 693.9h1M1931 726.8h1M1875 924.4h1M1888 957.3h1"/><path stroke="#a66" d="M1510 167.2h1m129 0h1m152 0h1M1610 183.7h1m16 0h1m322 0h1M1533 200.1h1M1549 216.6h1M1594 249.5h1M1533 265.9h1m110 0h2M1475 282.4h1M1593 315.3h1m21 0h1M1589 331.8h1M1572 364.7h1m278 0h1M1611 381.2h1m17 0h1m46 0h1m231 0h1m22 0h1m16 0h1M1755 496.4h1M1972 545.8h1M1952 595.2h1M1518 628.1h1m128 0h1m85 0h1M1839 693.9h1M1765 710.4h1m21 0h1M1855 743.3h1M1719 759.8h1M1778 776.2h1m97 0h1m17 0h1M1852 924.4h1m127 0h2M1711 940.8h1m33 0h1m179 0h1M1577 957.3h1m380 0h1"/><path stroke="#745" d="M1513 167.2h1m195 0h1M1546 183.7h1m88 0h1M1473 200.1h1m130 0h1m62 0h1M1521 233h1M1685 249.5h1M1610 282.4h1m131 0h1M1816 298.9h1M1608 315.3h1M1836 529.3h1M1474 562.2h1m297 0h1M1936 595.2h1M1853 611.6h1M1889 644.5h1M1849 907.9h1m3 0h1M1845 940.8h1"/><path stroke="#854" d="M1525 167.2h1m1 0h1M1544 200.1h1M1597 298.9h1M1669 364.7h1m19 0h1M1734 414.1h1M1645 430.6h1m158 0h1m10 0h1M1854 529.3h1m28 0h1M1798 562.2h1M1847 677.5h1m13 0h1M1828 726.8h1M1751 907.9h1M1455 924.4h1m153 0h1m106 0h1m42 0h1m53 0h1m36 0h2m95 0h1M1632 940.8h1m17 0h1m51 0h1m5 0h1M1605 957.3h1m38 0h1m77 0h1m13 0h1"/><path stroke="#534" d="M1529 167.2h1m8 0h1M1474 200.1h1M1651 298.9h1M1799 315.3h1M1678 331.8h1M1703 364.7h2m5 0h1m34 0h1m123 0h1m84 0h1M1712 381.2h1M1474 414.1h1m48 0h1m5 0h1m46 0h1M1589 430.6h1m191 0h2m28 0h1M1671 512.9h1m14 0h1m231 0h1M1843 529.3h2m17 0h1M1863 562.2h1M1933 595.2h1M1683 677.5h1m123 0h1M1924 759.8h1M1459 957.3h1m37 0h1m8 0h1m208 0h2m63 0h1m202 0h1"/><path stroke="#644" d="M1530 167.2h1m88 0h1M1448 183.7h1m157 0h1M1634 200.1h1M1496 298.9h1m6 0h1m16 0h1m7 0h1m7 0h1m2 0h1m33 0h1m1 0h1m1 0h1m2 0h1m57 0h1M1701 315.3h1M1663 331.8h2m38 0h1m104 0h1M1734 364.7h1m46 0h1m3 0h1m128 0h1m23 0h1M1717 381.2h1m195 0h1M1459 414.1h1m6 0h1m1 0h1m3 0h1m5 0h2m17 0h2m6 0h1m4 0h1m14 0h1m5 0h4m5 0h1m5 0h1m61 0h1m37 0h1m19 0h1m5 0h1m20 0h1m79 0h1m21 0h1M1462 430.6h2m15 0h1m10 0h1m22 0h2m105 0h1m61 0h1m34 0h1M1730 447h1m39 0h1m52 0h2m131 0h1m21 0h1M1754 512.9h1m25 0h1m15 0h1m119 0h1M1835 529.3h1m3 0h1M1867 545.8h1m114 0h1M1846 595.2h1m121 0h1M1972 611.6h1M1785 677.5h1m1 0h1m62 0h1m44 0h1M1742 710.4h1M1839 726.8h1m19 0h1m24 0h1m61 0h1M1748 759.8h1m111 0h1m67 0h1M1669 907.9h1m44 0h1m3 0h1m98 0h1M1601 924.4h1m28 0h1m4 0h1m28 0h1m52 0h1m33 0h1m25 0h1m17 0h1m9 0h1m70 0h1m35 0h1m69 0h1M1522 957.3h1m88 0h1m18 0h1m20 0h1m40 0h4m37 0h1m22 0h2m95 0h1m8 0h1m17 0h1m19 0h1m4 0h1m9 0h1"/><path stroke="#635" d="M1532 167.2h1m144 0h1M1575 183.7h1M1452 200.1h1M1558 298.9h1m230 0h1M1688 315.3h1M1922 562.2h1M1699 677.5h1m102 0h1m24 0h1m17 0h1m8 0h1M1680 693.9h1M1747 759.8h1M1461 907.9h1m260 0h1m44 0h1m23 0h1M1744 924.4h1M1618 940.8h1M1628 957.3h1"/><path stroke="#744" d="M1537 167.2h1m12 0h1m86 0h1m12 0h1m4 0h1M1522 183.7h1M1719 315.3h1M1772 331.8h1m28 0h1M1879 364.7h1m11 0h1m70 0h1m21 0h1M1682 381.2h1M1715 414.1h1m104 0h1M1731 430.6h1M1726 447h2m39 0h2m43 0h1M1668 512.9h1m156 0h1M1907 529.3h1m40 0h1M1868 545.8h1m58 0h1M1972 595.2h1M1892 611.6h1m75 0h2M1855 644.5h1M1816 677.5h1m4 0h1m107 0h1M1683 693.9h1M1712 726.8h1m272 0h1M1677 759.8h1m10 0h1m7 0h1m36 0h1m6 0h1m3 0h1m11 0h1m38 0h1m123 0h1m5 0h1M1457 924.4h1m236 0h1M1568 940.8h1m25 0h1m15 0h1m132 0h1m26 0h1M1479 957.3h1m338 0h1"/><path stroke="#626" d="M1543 167.2h1m90 0h1m30 0h1m25 0h1m1 0h2m2 0h2m17 0h1m12 0h2m8 0h1m5 0h2m3 0h2m9 0h1m11 0h1m4 0h1m7 0h1m22 0h1m18 0h1M1633 183.7h1M1572 200.1h1m1 0h1m18 0h1m44 0h1m68 0h1M1460 233h1m12 0h1m33 0h1m26 0h1m155 0h1m66 0h1m9 0h1m18 0h1m10 0h1m16 0h1m6 0h1M1778 249.5h1M1462 265.9h3m1 0h1m34 0h2m18 0h1m5 0h1m139 0h1m2 0h1m27 0h1m4 0h1m7 0h1m8 0h1m23 0h1m26 0h2m8 0h2m26 0h1m2 0h1m8 0h1m2 0h1m40 0h2m60 0h1m6 0h1m21 0h1M1452 282.4h1m93 0h1M1683 298.9h1m4 0h1m6 0h1m14 0h1m36 0h1m4 0h1m12 0h1m24 0h1m44 0h1m17 0h1m10 0h1m19 0h1m4 0h1m12 0h2m10 0h1m7 0h1m2 0h1m8 0h1M1468 331.8h1m4 0h1m41 0h1m90 0h1m34 0h2m2 0h1m9 0h1m124 0h1m28 0h1m13 0h1m38 0h1m34 0h1m18 0h2m9 0h1m9 0h1M1448 364.7h1m10 0h1m16 0h1m1 0h1m5 0h2m2 0h2m4 0h2m17 0h1m5 0h1m32 0h1m7 0h2m2 0h1m37 0h1m2 0h1m6 0h2m4 0h1m33 0h1m5 0h2m134 0h1m38 0h1m10 0h1m16 0h1m15 0h1m6 0h1m4 0h1m3 0h1m70 0h1m11 0h1m18 0h1M1621 381.2h1m6 0h1m30 0h1m179 0h2m14 0h1m4 0h1m20 0h3m8 0h1m21 0h1m3 0h1M1827 414.1h1m8 0h3m27 0h5m1 0h3m5 0h1m9 0h1m8 0h1m3 0h2m5 0h2m2 0h1m5 0h1m1 0h1m3 0h1m14 0h1m1 0h2m22 0h1m4 0h1M1857 430.6h2m6 0h1m8 0h2m6 0h1m12 0h1m20 0h1m5 0h1m6 0h1m13 0h2m10 0h1m7 0h1m5 0h1m4 0h1m7 0h3M1448 447h1m17 0h1m2 0h1m2 0h1m39 0h1m5 0h2m2 0h2m37 0h1m3 0h2m12 0h1m43 0h1m18 0h1m11 0h2m2 0h1m5 0h1m1 0h1m28 0h1m19 0h1m7 0h3m43 0h1m66 0h1m4 0h1m9 0h1m4 0h3m4 0h3m14 0h1m90 0h1m11 0h2M1731 479.9h1M1472 512.9h1m22 0h1m35 0h1m28 0h1m14 0h2m22 0h1m6 0h1m10 0h1m1 0h1m28 0h1m38 0h1m14 0h1m18 0h1m1 0h1m32 0h2m2 0h1m1 0h1m19 0h1m27 0h1m5 0h1m14 0h1m114 0h2m6 0h1m32 0h1m3 0h1m3 0h1M1451 529.3h1m5 0h1m20 0h2m3 0h1m3 0h1m2 0h1m25 0h1m5 0h2m3 0h1m22 0h1m11 0h1m3 0h1m12 0h1m50 0h1m65 0h1m17 0h1m5 0h1m2 0h1m3 0h1m5 0h2m78 0h1m2 0h1m9 0h1M1562 545.8h1m6 0h1m17 0h1m19 0h1m38 0h1m4 0h1m68 0h1m8 0h1m1 0h1m15 0h1m20 0h1m14 0h1m1 0h2m31 0h2M1538 562.2h1m147 0h1m65 0h1m60 0h1m8 0h1M1448 595.2h2m12 0h1m4 0h2m6 0h1m49 0h1m11 0h2m1 0h1m2 0h1m40 0h3m1 0h1m5 0h1m4 0h1m8 0h1m27 0h1m2 0h2m27 0h2m5 0h1m8 0h1m15 0h1m14 0h1m2 0h1m10 0h1m25 0h1m1 0h1m2 0h1m11 0h1m19 0h1m32 0h1m3 0h1m124 0h1m35 0h1M1457 611.6h1m12 0h1m5 0h3m3 0h1m8 0h1m5 0h1m14 0h2m9 0h1m8 0h2m9 0h1m3 0h1m20 0h1m7 0h1m6 0h1m9 0h1m5 0h2m2 0h1m9 0h1m13 0h1m2 0h1m4 0h1m4 0h2m22 0h1m18 0h1m2 0h1m6 0h1m19 0h1m4 0h3m5 0h1m7 0h1m4 0h1m4 0h1m8 0h1m11 0h1m3 0h1m15 0h1m10 0h2m10 0h2m2 0h1M1734 644.5h1m28 0h1m1 0h1m11 0h1m14 0h1m55 0h1m13 0h1m76 0h1M1454 677.5h1m2 0h2m6 0h1m19 0h1m1 0h1m34 0h1m5 0h2m35 0h1m24 0h1m13 0h1m25 0h1m27 0h2m7 0h1m17 0h1m7 0h1m13 0h1m37 0h1m16 0h1m33 0h2m11 0h1m71 0h1m59 0h1m47 0h1M1493 693.9h1m9 0h1m4 0h1m22 0h1m55 0h1m14 0h1m12 0h1m58 0h2m2 0h2m70 0h1m29 0h1m25 0h1M1692 710.4h1m27 0h1m9 0h1m52 0h1M1467 726.8h1m23 0h1m18 0h1m20 0h1m14 0h1m59 0h1m23 0h1m1 0h1m34 0h1m10 0h1m50 0h2m32 0h1m15 0h1m12 0h1m7 0h1m5 0h1m2 0h1m12 0h1m17 0h2m14 0h1m37 0h1m21 0h1m20 0h1m1 0h1m48 0h1M1448 759.8h1m9 0h1m44 0h1m5 0h1m28 0h1m63 0h1m23 0h1m18 0h1m4 0h1m20 0h1m2 0h3m15 0h1m10 0h2m9 0h1m20 0h1m78 0h1m3 0h1M1461 776.2h1m36 0h1m9 0h1m12 0h1m33 0h1m7 0h1m58 0h1m9 0h1m44 0h1m10 0h1m4 0h1m1 0h1m22 0h1m4 0h1m30 0h1m6 0h1m10 0h1m41 0h1M1472 792.7h1m9 0h1m45 0h1m39 0h1m5 0h1m13 0h2m36 0h1m82 0h2m28 0h1m7 0h1m5 0h1m50 0h1m11 0h1M1449 907.9h1m3 0h1m14 0h1m72 0h1m6 0h2m8 0h1m14 0h1m11 0h3m5 0h1m8 0h1m7 0h2m20 0h1m2 0h1m2 0h1m5 0h1m1 0h1m28 0h1m14 0h1m24 0h1m5 0h1m49 0h1m5 0h1m1 0h1m10 0h1m2 0h1m4 0h1m14 0h1m15 0h1M1466 924.4h1m8 0h1m13 0h1m31 0h1m23 0h1m4 0h1m9 0h1m1 0h1m17 0h1m7 0h1m1 0h1m13 0h3m5 0h2m2 0h2m14 0h1m22 0h1m21 0h2m6 0h2m3 0h1m19 0h1m15 0h2m43 0h1m2 0h2m8 0h1m26 0h1m164 0h1M1464 940.8h1m2 0h1m5 0h1m6 0h1m81 0h1m28 0h1m10 0h1m5 0h1m12 0h1m2 0h1m1 0h2m16 0h4m20 0h1m9 0h1m6 0h2m35 0h2m25 0h2m1 0h1m16 0h1m31 0h1m8 0h1m30 0h2m21 0h1m31 0h1M1460 957.3h1m9 0h2m11 0h1m25 0h1m35 0h2m40 0h1m8 0h2m5 0h1m15 0h1m22 0h1m3 0h1m20 0h1m10 0h1m12 0h1m46 0h1m30 0h1m1 0h2m31 0h1m7 0h2m2 0h1m99 0h2m6 0h1m38 0h1m15 0h1m4 0h2"/><path stroke="#773" d="M1566 167.2h1M1527 183.7h1M1655 298.9h1M1710 315.3h1M1948 364.7h1M1460 414.1h1m93 0h1m165 0h1M1723 430.6h1M1787 512.9h1m133 0h1M1940 529.3h1M1842 595.2h1M1921 677.5h1M1848 726.8h1M1930 759.8h1M1859 924.4h1m21 0h1M1544 957.3h1m92 0h1m11 0h2m79 0h1m158 0h1m74 0h2"/><path stroke="#a92" d="M1575 167.2h1M1567 233h1M1581 249.5h1M1523 298.9h1M1750 315.3h1m27 0h1m24 0h1M1708 331.8h1m86 0h1M1687 364.7h1m102 0h1m7 0h1m8 0h1M1967 381.2h1M1728 414.1h2M1566 430.6h1m8 0h1m4 0h1m127 0h1m9 0h1m67 0h1M1866 479.9h1m52 0h1M1848 512.9h1M1891 529.3h1m26 0h1m22 0h1m39 0h1M1842 578.7h1M1865 611.6h2M1929 628.1h1M1960 644.5h1m19 0h2M1905 693.9h1M1874 776.2h1M1674 907.9h1m294 0h1m15 0h1M1838 924.4h1"/><path stroke="#864" d="M1581 167.2h1m40 0h1M1541 200.1h1m61 0h1m12 0h1M1733 249.5h1m26 0h1m39 0h1M1517 265.9h1M1566 282.4h1M1611 315.3h1M1608 331.8h1m1 0h1m71 0h1m71 0h1m4 0h2M1735 364.7h1m59 0h1m1 0h1m42 0h1m6 0h1M1599 381.2h1m195 0h1m22 0h2M1582 414.1h1m93 0h1m2 0h1m67 0h1M1635 430.6h1M1736 447h1m2 0h1m204 0h1M1712 512.9h1m90 0h1m45 0h2m29 0h1m45 0h1M1849 529.3h1m36 0h1m23 0h1m25 0h1m7 0h1m8 0h1M1958 545.8h1m11 0h2m5 0h1M1965 595.2h1m15 0h1M1844 611.6h1m76 0h1M1936 644.5h1M1760 677.5h1m15 0h1m29 0h1m60 0h1m57 0h1M1667 693.9h1m1 0h1m181 0h1M1700 710.4h1m98 0h1M1684 743.3h1m43 0h1m43 0h1m37 0h1M1709 759.8h1m78 0h1m8 0h1m40 0h1m3 0h1m57 0h1M1846 776.2h2m66 0h1M1709 907.9h1m93 0h1m71 0h1m14 0h1M1491 924.4h1m50 0h1m133 0h1m20 0h1m137 0h2m47 0h2m2 0h1m28 0h1M1852 940.8h1M1461 957.3h1m25 0h2m32 0h1m9 0h2m4 0h1m95 0h2m5 0h1m38 0h1m2 0h1m4 0h1m10 0h1m25 0h1m14 0h1m18 0h1m6 0h1m2 0h1m51 0h2m28 0h1m32 0h1m88 0h1"/><path stroke="#874" d="M1597 167.2h1M1540 200.1h1M1713 331.8h1m55 0h1M1717 364.7h2m231 0h1M1583 381.2h1m222 0h1m142 0h1m8 0h1m5 0h1M1956 611.6h1M1664 677.5h1m103 0h1m61 0h1M1756 693.9h1M1767 759.8h1M1696 924.4h1m22 0h1m23 0h1m62 0h2m19 0h1M1612 957.3h2m1 0h1m314 0h1"/><path stroke="#846" d="M1624 167.2h1M1538 200.1h1m116 0h1M1478 233h1M1830 265.9h1M1580 282.4h1M1619 331.8h2m46 0h2m97 0h1m10 0h1M1584 364.7h1m274 0h1M1584 381.2h1m164 0h2M1803 447h1m6 0h1M1748 512.9h1M1673 677.5h1m40 0h1m41 0h1m130 0h1M1665 693.9h1M1722 710.4h1M1791 743.3h1M1862 759.8h1M1962 907.9h1M1463 924.4h1m326 0h1m3 0h1m20 0h1m136 0h1M1486 957.3h1m161 0h1m129 0h1m36 0h1m21 0h1m1 0h1m133 0h1"/><path stroke="#947" d="M1627 167.2h1M1508 200.1h1M1467 233h1m6 0h2m4 0h1M1519 265.9h1m25 0h2m159 0h1m61 0h1M1879 298.9h1M1794 381.2h1M1666 496.4h1M1701 693.9h1M1696 710.4h1m240 0h1M1689 743.3h1m100 0h1M1776 759.8h1M1919 776.2h1M1679 792.7h1m36 0h1m5 0h1m32 0h1m6 0h1m79 0h1m7 0h1m3 0h1m49 0h1m15 0h2m3 0h1M1620 907.9h1m3 0h1m94 0h1m74 0h1m15 0h1m11 0h1m40 0h2m100 0h1M1469 924.4h1m358 0h1M1575 940.8h1m17 0h1m1 0h1m53 0h1m172 0h2m4 0h1M1504 957.3h1m242 0h1"/><path stroke="#847" d="M1628 167.2h1M1681 331.8h1m41 0h2m27 0h1m33 0h2m9 0h1M1835 364.7h1m21 0h2m64 0h1m12 0h1M1752 381.2h2m56 0h1M1970 447h1M1980 545.8h1M1953 595.2h1m20 0h1M1949 611.6h1M1672 677.5h1m1 0h1m20 0h1m30 0h1m87 0h1m16 0h1m70 0h1m8 0h1m25 0h1M1718 693.9h2M1715 710.4h1M1917 726.8h1M1792 743.3h1M1664 759.8h1m220 0h1M1771 776.2h1m101 0h1m8 0h1m37 0h1M1521 907.9h1m194 0h1m14 0h1m18 0h1m68 0h1m51 0h1m5 0h1m31 0h1m30 0h2M1448 924.4h1m126 0h1m16 0h1m125 0h1m231 0h1m16 0h1m11 0h1M1630 940.8h1m17 0h1M1494 957.3h1m16 0h1m82 0h1m21 0h1m14 0h1m3 0h2m33 0h1m46 0h2m23 0h2m10 0h2m6 0h1m7 0h1m64 0h1m84 0h1"/><path stroke="#ba2" d="M1641 167.2h1M1481 183.7h1m134 0h1M1582 200.1h1M1655 249.5h1M1533 298.9h1M1725 331.8h1m63 0h2M1777 348.2h1M1817 364.7h2m3 0h1M1673 381.2h2m21 0h1m269 0h1m5 0h1M1470 414.1h1m28 0h1m69 0h1m129 0h1m23 0h1m42 0h1M1662 430.6h1m3 0h1m94 0h1m46 0h1M1743 447h1M1874 479.9h1m81 0h1M1912 529.3h2M1899 611.6h1m32 0h1M1848 677.5h1M1846 759.8h1m35 0h1m96 0h1M1865 776.2h2M1887 907.9h1m44 0h1m27 0h1m2 0h1M1746 957.3h1m52 0h1"/><path stroke="#737" d="M1662 167.2h1m29 0h1m32 0h1m43 0h1m11 0h1m43 0h1M1800 200.1h1M1476 233h1m6 0h1m316 0h1m1 0h1m22 0h1M1878 298.9h1m41 0h1M1692 315.3h1m97 0h1m153 0h1M1472 331.8h1m46 0h1m24 0h1m351 0h1m4 0h1M1795 479.9h1M1457 512.9h1m76 0h1m8 0h1m23 0h1m56 0h2m43 0h1m6 0h1m29 0h1m120 0h1M1502 529.3h1m77 0h1m125 0h1m28 0h1m11 0h1m30 0h1M1779 562.2h1m47 0h1M1541 595.2h1M1703 611.6h1m55 0h1m58 0h1M1702 644.5h1m9 0h1m65 0h1M1450 693.9h1m177 0h1m6 0h1M1788 710.4h1M1499 759.8h1m14 0h1m28 0h1m16 0h1m40 0h1m7 0h1m126 0h1m66 0h1m26 0h1M1525 776.2h1m68 0h1m25 0h1m17 0h1m5 0h1m103 0h1m20 0h1m37 0h1m3 0h1M1521 792.7h1m280 0h1M1659 907.9h1"/><path stroke="#939" d="M1663 167.2h1m6 0h1m13 0h1m2 0h1m11 0h1m4 0h1m10 0h1m7 0h2m23 0h1m5 0h1m10 0h1m10 0h1m6 0h2m25 0h1m4 0h1m8 0h1m73 0h1m7 0h2m12 0h1m28 0h1m14 0h1m10 0h1m8 0h1m2 0h1m4 0h1M1708 183.7h1m4 0h1m14 0h1m8 0h1m9 0h1m9 0h1m1 0h1m34 0h1m1 0h1m15 0h2m3 0h1m8 0h1m2 0h1M1449 200.1h1m14 0h1m85 0h1m24 0h1m19 0h1m54 0h1m2 0h1m8 0h1m7 0h1m2 0h1m5 0h2m3 0h1m7 0h1m3 0h2m4 0h1m7 0h3m1 0h7m23 0h2m11 0h1m16 0h3m5 0h1m2 0h1m1 0h1m1 0h1m13 0h2m9 0h2m1 0h2m4 0h2m1 0h1m9 0h2m5 0h3m6 0h2m3 0h2m6 0h1m11 0h1m2 0h1m1 0h1m6 0h1m8 0h1m4 0h1m4 0h1m1 0h1m1 0h2m2 0h1m2 0h1m6 0h2m5 0h1m5 0h1m1 0h1m5 0h4m5 0h1m9 0h2m4 0h1m4 0h2M1456 233h2m29 0h1m1 0h1m5 0h1m1 0h1m4 0h1m37 0h2m48 0h1m18 0h1m89 0h1m4 0h1m13 0h1m8 0h1m34 0h1m3 0h1m10 0h1m16 0h1m90 0h1m10 0h2m28 0h1m5 0h1M1870 249.5h1M1854 298.9h1m5 0h1m1 0h1m12 0h1m6 0h1m27 0h2m31 0h2m12 0h2m2 0h2m12 0h2m8 0h1m1 0h1M1452 315.3h1m16 0h1m3 0h1m12 0h1m18 0h1m7 0h2m2 0h2m3 0h1m18 0h1m14 0h1m11 0h1m3 0h1m4 0h1m1 0h1m15 0h1m4 0h1m3 0h1m9 0h1m21 0h1m2 0h2m17 0h1m182 0h1m49 0h2m7 0h1m12 0h1m4 0h3m8 0h1m13 0h1m3 0h1m14 0h1m9 0h1m12 0h1M1447 331.8h1m5 0h1m4 0h1m5 0h2m1 0h1m6 0h1m7 0h1m15 0h1m10 0h2m13 0h1m1 0h1m9 0h3m1 0h2m12 0h1m9 0h2m9 0h2m11 0h1m1 0h1m6 0h1m23 0h4m1 0h1m2 0h1m21 0h1m5 0h2m31 0h1m134 0h1m3 0h1m9 0h1m3 0h1m3 0h1m6 0h1m3 0h1m15 0h1m23 0h2m3 0h1m9 0h3m13 0h1m1 0h2m1 0h1m22 0h1m9 0h2m3 0h1m6 0h1m9 0h1M1846 348.2h1m19 0h1M1609 364.7h1m348 0h1M1448 381.2h1m3 0h5m1 0h2m7 0h2m3 0h3m5 0h1m3 0h1m6 0h1m1 0h3m2 0h2m3 0h1m3 0h2m2 0h1m1 0h1m6 0h1m2 0h3m3 0h1m9 0h1m2 0h2m2 0h2m9 0h1m1 0h1m6 0h2m4 0h1m1 0h1m14 0h1m3 0h2m5 0h1m1 0h1m1 0h1m3 0h1m8 0h2m3 0h1m12 0h1m2 0h1m1 0h1m22 0h1m4 0h1m20 0h1m12 0h1m77 0h1m4 0h1m10 0h1m33 0h2m3 0h1m5 0h1m14 0h1m1 0h1m3 0h1m1 0h1m3 0h3m25 0h1m56 0h1M1961 414.1h1m3 0h1M1507 479.9h1m10 0h1m6 0h1m3 0h1m6 0h1m69 0h1m1 0h1m2 0h1m11 0h1m25 0h1m32 0h1m12 0h1m1 0h1m2 0h2m16 0h1m9 0h1m11 0h1m28 0h1m35 0h1m1 0h1M1456 496.4h1m26 0h1m6 0h1m4 0h1m1 0h1m5 0h1m14 0h1m37 0h1m14 0h1m11 0h1m15 0h1m11 0h1m6 0h1m1 0h1m3 0h1m9 0h1m7 0h1m2 0h2m4 0h1m7 0h1m36 0h1m26 0h1m6 0h1m7 0h1m15 0h1m64 0h1m127 0h1m12 0h1m17 0h1M1468 512.9h2m96 0h1m23 0h1m24 0h1m10 0h1m9 0h2m16 0h1m10 0h1m7 0h1m23 0h1m7 0h1m22 0h1m8 0h1m21 0h1m15 0h1m32 0h2m9 0h1m132 0h1m2 0h1m1 0h1m6 0h1m3 0h1M1468 529.3h1m29 0h2m28 0h1m3 0h1m2 0h1m17 0h1m4 0h1m4 0h1m8 0h1m4 0h1m3 0h2m2 0h2m1 0h2m1 0h1m1 0h1m2 0h1m6 0h1m3 0h1m5 0h2m1 0h1m2 0h1m7 0h1m8 0h1m8 0h2m1 0h1m4 0h1m1 0h1m1 0h2M1448 545.8h4m9 0h1m1 0h2m6 0h1m8 0h1m2 0h2m2 0h1m1 0h1m1 0h1m4 0h1m10 0h1m2 0h1m3 0h1m6 0h1m10 0h3m3 0h1m2 0h3m3 0h1m9 0h1m1 0h1m1 0h1m1 0h1m4 0h1m13 0h2m2 0h1m5 0h1m7 0h1m16 0h1m6 0h1m6 0h1m3 0h1m2 0h1m3 0h1m5 0h1M1462 562.2h1m31 0h2m2 0h1m7 0h1m2 0h1m11 0h1m51 0h1m18 0h1m45 0h1m43 0h1m49 0h1m21 0h1m2 0h1m11 0h1m1 0h1m2 0h1m19 0h1m7 0h2m5 0h1m1 0h1M1663 578.7h1m50 0h1m12 0h1m69 0h1m20 0h1M1452 595.2h1m1 0h1m2 0h1m8 0h1m23 0h1m35 0h1m6 0h1m16 0h1m38 0h1m11 0h1m19 0h1m15 0h2m5 0h1M1472 611.6h1m6 0h3m5 0h1m6 0h1m1 0h1m17 0h1m3 0h1m47 0h2m5 0h1m4 0h1m7 0h1m2 0h1m11 0h1m3 0h2m22 0h1m14 0h1m8 0h1m2 0h1m25 0h1m2 0h1m8 0h1m6 0h1m2 0h2m44 0h1m11 0h1m5 0h1m10 0h1m12 0h2m25 0h1M1673 628.1h1m2 0h2m4 0h1m42 0h3m19 0h1m15 0h1m7 0h1m5 0h1m5 0h1m16 0h1m3 0h2m9 0h1m8 0h1m124 0h1m28 0h1M1456 644.5h1m22 0h1m6 0h1m38 0h1m4 0h1m2 0h1m27 0h1m19 0h1m35 0h2m18 0h1m12 0h1m15 0h1m7 0h1m1 0h1m4 0h1m9 0h1m27 0h1m1 0h1m11 0h1m19 0h1m5 0h1m4 0h1m15 0h1m17 0h1m8 0h1m3 0h2m17 0h1m26 0h1m6 0h1m4 0h2m4 0h1m23 0h1m11 0h1m1 0h1m23 0h1M1463 693.9h1m6 0h1m1 0h1m14 0h1m8 0h1m19 0h1m22 0h1m4 0h1m26 0h1m1 0h1m12 0h1m32 0h1m6 0h1m15 0h1m16 0h1m16 0h1m5 0h1m20 0h1m1 0h1m6 0h1m3 0h1m20 0h1m10 0h1m4 0h1m6 0h1m7 0h1m10 0h1m22 0h1m15 0h1m17 0h1m32 0h1m121 0h1M1449 710.4h2m1 0h3m4 0h1m15 0h1m4 0h2m16 0h1m2 0h2m5 0h1m16 0h2m15 0h2m10 0h1m1 0h2m8 0h1m2 0h1m1 0h1m3 0h1m21 0h2m36 0h1m10 0h1m5 0h1m4 0h1m21 0h1m14 0h1m4 0h1m8 0h1m16 0h1m6 0h1m3 0h1m3 0h1m5 0h1m9 0h1m7 0h1m19 0h1m1 0h1m2 0h1m3 0h1m1 0h1m16 0h1m3 0h1m32 0h1m5 0h1m20 0h1m4 0h1m15 0h1m95 0h2M1447 743.3h1m1 0h1m3 0h1m10 0h1m13 0h1m4 0h1m8 0h1m6 0h1m6 0h2m2 0h1m3 0h1m12 0h1m2 0h1m5 0h1m4 0h1m34 0h1m1 0h1m14 0h1m8 0h1m5 0h1m1 0h1m4 0h1m9 0h1m15 0h2m8 0h1m196 0h1m16 0h1m17 0h1m106 0h1m4 0h1M1449 759.8h2m9 0h1m1 0h1m11 0h1m10 0h2m6 0h1m17 0h1m20 0h1m3 0h1m9 0h1m12 0h1m10 0h1m41 0h2m4 0h1m5 0h1m6 0h1m1 0h1m10 0h1m10 0h1m4 0h1m8 0h1m3 0h1m4 0h1m7 0h1m19 0h1m18 0h1m12 0h1m33 0h2m6 0h1m8 0h1m4 0h1m5 0h2m17 0h1m6 0h2m163 0h1M1452 776.2h1m39 0h1m19 0h1m5 0h1m16 0h1m12 0h1m19 0h1m1 0h2m10 0h2m11 0h1m3 0h2m1 0h1m6 0h1m7 0h1m7 0h1m15 0h3m14 0h1m6 0h2m2 0h1m2 0h1m12 0h2m25 0h1m2 0h1m1 0h1m21 0h2m18 0h1m3 0h2m1 0h1m1 0h1m6 0h3m2 0h2m21 0h1m16 0h1m11 0h1m156 0h1m2 0h1M1448 792.7h2m3 0h3m1 0h2m1 0h1m3 0h1m2 0h1m3 0h1m3 0h1m4 0h1m4 0h1m2 0h1m3 0h1m3 0h1m4 0h1m7 0h1m1 0h1m2 0h1m3 0h2m12 0h1m3 0h1m1 0h1m2 0h1m3 0h1m5 0h1m5 0h1m11 0h1m1 0h1m7 0h1m3 0h1m9 0h1m4 0h1m3 0h1m8 0h1m1 0h2m1 0h1m1 0h2m9 0h1m5 0h1m8 0h3m2 0h1m21 0h1m1 0h3m11 0h1m7 0h1m23 0h1m6 0h1m5 0h1m1 0h1m14 0h1m4 0h1m1 0h1m2 0h1m16 0h1m10 0h1m7 0h1m5 0h1m4 0h1m10 0h1m7 0h1m3 0h1m29 0h1m19 0h1m2 0h1m4 0h1M1454 907.9h1m8 0h1m2 0h1m15 0h1m1 0h1m2 0h1m2 0h1m4 0h1m31 0h1m10 0h1m13 0h1m4 0h1m24 0h1m13 0h1m16 0h1m13 0h2m1 0h1m5 0h1m10 0h1m1 0h1M1450 940.8h2m1 0h1m1 0h1m7 0h1m12 0h1m12 0h1m5 0h1m4 0h1m2 0h1m4 0h1m4 0h1m10 0h1m2 0h1m2 0h1m10 0h1m3 0h1m1 0h1m1 0h1m21 0h1m12 0h1m49 0h1m4 0h1m18 0h1m37 0h1m38 0h1m37 0h1m32 0h1m20 0h1"/><path stroke="#a58" d="M1676 167.2h1m33 0h1m6 0h1m44 0h1m9 0h1m1 0h1m38 0h1M1461 183.7h1m121 0h1m198 0h1m40 0h1M1668 233h1M1606 265.9h1m25 0h1m69 0h1m12 0h1M1562 282.4h1M1853 331.8h1M1763 381.2h1M1669 496.4h1m138 0h1m149 0h1M1748 578.7h1M1954 628.1h1M1761 710.4h1m13 0h2M1823 743.3h1M1666 759.8h1m123 0h1M1871 792.7h1"/><path stroke="#a49" d="M1679 167.2h1m32 0h1m9 0h1m8 0h2m22 0h2m1 0h1m1 0h1m26 0h1m15 0h1m7 0h1m7 0h1m17 0h2m2 0h1m1 0h1m6 0h2m4 0h1m14 0h1m2 0h1m3 0h1m7 0h3m3 0h1m2 0h1m1 0h1m3 0h1m11 0h1m5 0h1m1 0h1m8 0h1m6 0h1m1 0h1m1 0h1m5 0h1m3 0h1m6 0h1m3 0h1m10 0h1m6 0h1m8 0h1m1 0h1m1 0h1M1663 183.7h1m14 0h1m6 0h1m10 0h2m6 0h1m6 0h2m1 0h2m1 0h1m5 0h2m4 0h1m5 0h1m2 0h1m1 0h1m1 0h1m1 0h1m19 0h1m5 0h1m3 0h1m1 0h1m2 0h2m2 0h2m1 0h1m12 0h2m2 0h1m3 0h1m3 0h1m4 0h1m1 0h2m2 0h1m4 0h2m1 0h2m26 0h1m13 0h1m22 0h1m34 0h1M1458 200.1h1m3 0h1m7 0h1m36 0h1m21 0h1m15 0h1m11 0h1m18 0h1m34 0h1M1566 233h1m17 0h1m4 0h1m69 0h1m2 0h2m5 0h2m2 0h3m3 0h1m5 0h1m8 0h2m4 0h1m1 0h2m1 0h1m7 0h2m2 0h1m5 0h1m6 0h1m1 0h1m2 0h2m7 0h1m4 0h2m1 0h1m3 0h1m2 0h1m1 0h1m6 0h1m6 0h1m19 0h2m10 0h2m1 0h1m2 0h1m3 0h1m5 0h1m2 0h1m2 0h1m7 0h1m4 0h1m12 0h1m5 0h2m36 0h1m4 0h1m5 0h1m3 0h2m6 0h1m12 0h1m3 0h1M1835 249.5h1m16 0h1m10 0h1m20 0h1m1 0h1m23 0h1m11 0h1m3 0h1m3 0h1M1842 298.9h1m12 0h1m13 0h1m22 0h1m5 0h1m33 0h1m12 0h1m3 0h3m4 0h1m2 0h1m4 0h6m2 0h1m1 0h1m16 0h2M1447 315.3h1m5 0h1m1 0h2m5 0h1m3 0h1m1 0h1m1 0h1m9 0h1m8 0h3m10 0h1m3 0h2m1 0h1m14 0h5m8 0h1m1 0h1m2 0h3m4 0h1m7 0h2m5 0h1m10 0h2m19 0h1m21 0h1m13 0h1m5 0h1m2 0h1m2 0h1m132 0h1m72 0h1m1 0h2m1 0h1m4 0h2m13 0h1m7 0h1m1 0h3m1 0h1m4 0h2m1 0h2m3 0h1m4 0h1m3 0h1m2 0h1m2 0h1m3 0h1m1 0h1m6 0h1m1 0h3m1 0h1m9 0h1m17 0h1m2 0h1m9 0h1m4 0h2M1450 331.8h1m1 0h1m7 0h1m5 0h1m10 0h3m6 0h1m2 0h1m2 0h2m1 0h1m5 0h1m6 0h1m9 0h1m2 0h1m6 0h1m1 0h3m1 0h2m9 0h1m7 0h1m3 0h1m1 0h1m7 0h2m10 0h1m16 0h1m1 0h1m3 0h1m4 0h1m4 0h2m2 0h1m13 0h1m12 0h1m3 0h1m21 0h1m10 0h1m8 0h1m5 0h1m139 0h1m2 0h1m3 0h1m3 0h1m1 0h1m10 0h2m4 0h1m3 0h3m9 0h1m4 0h1m1 0h1m5 0h1m10 0h1m1 0h2m14 0h1m12 0h1m2 0h1m3 0h1m3 0h2m4 0h1m1 0h2m1 0h2m1 0h2m1 0h1m15 0h2m12 0h2M1840 348.2h1m20 0h1M1603 364.7h1m16 0h1m28 0h1m296 0h1m23 0h1m7 0h1M1449 381.2h1m7 0h1m2 0h2m1 0h2m10 0h2m2 0h1m1 0h2m2 0h2m1 0h1m3 0h1m3 0h2m14 0h1m3 0h1m1 0h2m8 0h1m1 0h1m1 0h2m1 0h2m1 0h1m5 0h2m2 0h1m9 0h1m3 0h3m3 0h2m3 0h1m3 0h1m1 0h1m8 0h1m7 0h1m4 0h1m3 0h1m3 0h2m8 0h2m2 0h1m8 0h1m4 0h1m11 0h2m2 0h1m1 0h1m16 0h1m4 0h1m3 0h1m69 0h1m24 0h1m12 0h1m9 0h2m3 0h1m24 0h1m2 0h2m4 0h1m3 0h2m4 0h1m12 0h1m11 0h1m5 0h1m11 0h1m3 0h1m1 0h1m11 0h1m7 0h1m10 0h1m14 0h1M1948 414.1h2m1 0h1m5 0h1m5 0h1M1456 479.9h1m5 0h1m1 0h1m1 0h2m3 0h1m1 0h1m4 0h1m2 0h1m2 0h3m5 0h1m1 0h1m5 0h2m2 0h2m4 0h1m1 0h2m8 0h1m1 0h1m5 0h1m6 0h11m3 0h1m1 0h2m3 0h1m1 0h1m1 0h2m10 0h1m2 0h2m1 0h1m7 0h2m4 0h2m1 0h1m17 0h1m2 0h1m6 0h1m2 0h1m1 0h1m1 0h1m5 0h1m4 0h1m1 0h1m1 0h1m2 0h2m4 0h3m315 0h1m12 0h1m6 0h1M1945 496.4h1m13 0h1m6 0h1m1 0h1m22 0h2M1452 512.9h1m18 0h1m4 0h1m2 0h1m1 0h1m10 0h1m8 0h1m4 0h1m9 0h2m8 0h1m12 0h1m7 0h2m145 0h1m12 0h1m8 0h1m2 0h1m11 0h1m1 0h1m2 0h1m1 0h1m28 0h1m1 0h1m4 0h1m4 0h1m17 0h1m8 0h2m16 0h1m120 0h1m29 0h1M1459 529.3h1m9 0h1m2 0h1m36 0h1m23 0h1m2 0h1m28 0h1m5 0h1m3 0h1m18 0h2m1 0h2m5 0h1m4 0h1m14 0h1m3 0h2m3 0h2m2 0h6m4 0h1m3 0h1m25 0h1m5 0h1m14 0h1m14 0h1m2 0h3m3 0h1m13 0h2m2 0h2m16 0h1m9 0h1m1 0h3m10 0h1m3 0h1m3 0h1m8 0h1m9 0h2m10 0h1m5 0h1m1 0h2m1 0h1M1555 545.8h1m4 0h1m5 0h1m7 0h2m39 0h2m11 0h1m23 0h1m1 0h2M1447 562.2h1m2 0h1m13 0h1m5 0h1m1 0h2m1 0h1m1 0h2m1 0h1m3 0h1m4 0h1m1 0h2m3 0h1m13 0h1m4 0h1m11 0h1m9 0h1m2 0h1m11 0h1m12 0h2m12 0h1m9 0h1m8 0h1m1 0h2m7 0h1m6 0h1m30 0h1m3 0h1M1447 578.7h1m9 0h1m7 0h1m3 0h1m1 0h1m3 0h2m3 0h1m9 0h1m13 0h1m8 0h1m14 0h2m7 0h1m4 0h1m1 0h1m1 0h1m2 0h1m4 0h1m5 0h1m18 0h1m15 0h1m21 0h1m31 0h3m2 0h1m1 0h1m3 0h1m6 0h2m2 0h1m3 0h1m12 0h1m1 0h1m10 0h1m3 0h1m10 0h1m6 0h1m10 0h1m9 0h1m9 0h1m1 0h2m4 0h1m3 0h1m1 0h2m2 0h1m4 0h1m1 0h1m7 0h1m5 0h1m1 0h2m3 0h1m14 0h3m5 0h1m1 0h1m3 0h1M1465 595.2h1m17 0h1m7 0h1m14 0h1m2 0h1m8 0h1m12 0h1m41 0h3m30 0h1m34 0h1m11 0h1M1448 611.6h1m146 0h1m112 0h1m36 0h1m1 0h1m33 0h1m5 0h1m42 0h1M1447 628.1h1m10 0h2m16 0h1m2 0h1m6 0h1m5 0h1m4 0h1m4 0h3m3 0h2m9 0h1m3 0h2m1 0h2m5 0h2m2 0h1m7 0h1m1 0h1m7 0h4m6 0h1m4 0h1m1 0h1m4 0h7m8 0h4m4 0h1m1 0h2m6 0h1m7 0h2m2 0h1m3 0h1m1 0h2m1 0h1m4 0h1m1 0h2m3 0h1m5 0h1m1 0h1m2 0h2m1 0h1m222 0h1m1 0h1m14 0h1m33 0h1m55 0h2M1662 644.5h1m1 0h2m7 0h1m6 0h1m2 0h3m1 0h1m4 0h1m1 0h3m4 0h1m6 0h1m2 0h1m1 0h1m1 0h1m1 0h2m1 0h1m1 0h1m1 0h1m11 0h1m2 0h2m2 0h2m2 0h2m6 0h1m1 0h1m10 0h1m4 0h1m2 0h1m2 0h1m4 0h1m3 0h3m8 0h1m1 0h1m3 0h1m7 0h1m18 0h2m24 0h2m1 0h1m3 0h1m13 0h1m6 0h1m5 0h1m5 0h1m5 0h1m11 0h1M1451 693.9h1m4 0h2m2 0h1m3 0h2m2 0h2m1 0h1m5 0h3m4 0h1m5 0h3m1 0h2m2 0h2m2 0h1m7 0h1m1 0h1m4 0h1m7 0h1m16 0h1m2 0h2m1 0h2m10 0h1m5 0h1m1 0h3m4 0h1m2 0h3m12 0h1m2 0h1m3 0h1m6 0h1m2 0h2m2 0h1m9 0h2m6 0h1m6 0h1m1 0h1m1 0h1m1 0h2m1 0h1m19 0h1m23 0h2m2 0h1m5 0h1m3 0h1m4 0h1m27 0h1m9 0h1m7 0h1m11 0h1m4 0h1m25 0h1m6 0h1m22 0h1m11 0h1m2 0h1m2 0h1m32 0h1m10 0h1m4 0h1m16 0h1M1668 743.3h1m19 0h1m7 0h1m3 0h1m1 0h1m3 0h1m2 0h1m3 0h1m8 0h3m1 0h2m2 0h1m5 0h1m11 0h1m5 0h2m31 0h2m7 0h1m1 0h1m1 0h2m13 0h1m9 0h1m2 0h1m1 0h2m19 0h2m5 0h1m3 0h1m3 0h1m8 0h1m23 0h1m1 0h1m4 0h1m80 0h1m6 0h1M1454 759.8h1m10 0h2m4 0h1m4 0h1m2 0h1m1 0h4m9 0h3m9 0h1m9 0h1m3 0h1m3 0h2m7 0h1m5 0h2m3 0h2m5 0h4m9 0h1m2 0h2m2 0h1m6 0h1m2 0h1m2 0h1m6 0h1m3 0h1m1 0h2m1 0h1m7 0h1m1 0h2m27 0h1m3 0h1m5 0h1m4 0h1m30 0h1m16 0h1m20 0h1m8 0h1m10 0h1m1 0h1m6 0h1m8 0h2m20 0h2m14 0h1m17 0h1m7 0h1m166 0h2M1449 776.2h2m4 0h2m7 0h2m5 0h1m4 0h3m10 0h1m3 0h2m2 0h1m4 0h1m2 0h1m8 0h1m2 0h1m1 0h1m8 0h1m1 0h1m1 0h1m5 0h3m6 0h1m8 0h2m4 0h1m6 0h1m5 0h2m2 0h1m1 0h1m2 0h3m4 0h1m18 0h2m4 0h1m2 0h1m3 0h1m2 0h1m6 0h1m1 0h3m1 0h1m5 0h1m4 0h1m1 0h4m3 0h2m3 0h1m3 0h1m4 0h1m13 0h1m8 0h2m11 0h1m10 0h1m9 0h1m5 0h1m7 0h1m1 0h1m38 0h1m2 0h2m2 0h2m7 0h1m2 0h1m8 0h1m3 0h2m4 0h2m1 0h1M1682 792.7h1m16 0h2m28 0h1m16 0h1m4 0h1m5 0h1m9 0h1m3 0h1m7 0h1m10 0h1m2 0h1m9 0h1m3 0h1m20 0h1m4 0h1m27 0h1m13 0h1m4 0h1m7 0h1M1464 907.9h1m2 0h1m26 0h1m15 0h1m34 0h1m9 0h2m6 0h1m14 0h1M1452 940.8h1m1 0h1m4 0h1m71 0h1m7 0h1m40 0h1m22 0h2m1 0h1m22 0h1m8 0h1"/><path stroke="#957" d="M1682 167.2h1M1497 200.1h1M1494 265.9h1m338 0h1M1715 282.4h1M1742 298.9h1m75 0h1M1692 331.8h1M1982 364.7h1M1824 381.2h1M1734 496.4h1M1704 693.9h1m27 0h1M1666 710.4h1m17 0h1m21 0h1m41 0h1m54 0h1M1665 743.3h1m8 0h1m39 0h1m60 0h1m1 0h1M1768 759.8h1M1729 776.2h1M1763 792.7h1M1689 940.8h1m77 0h1"/><path stroke="#736" d="M1683 167.2h1m111 0h1M1873 183.7h1M1780 265.9h1M1721 298.9h1"/><path stroke="#838" d="M1685 167.2h1m16 0h1m49 0h1m68 0h1M1582 183.7h1M1571 200.1h1M1466 233h1M1744 282.4h1m56 0h1M1840 298.9h1M1657 315.3h1M1456 331.8h1m435 0h1m7 0h1M1853 381.2h2m2 0h1m5 0h1m7 0h1m38 0h1M1708 479.9h1m47 0h1m23 0h1m23 0h1M1482 512.9h1m76 0h1m4 0h1m4 0h1m140 0h1m16 0h1m90 0h1m2 0h1M1526 529.3h1m98 0h1m103 0h1m18 0h1m35 0h1m42 0h1M1577 545.8h1m23 0h1m4 0h1m18 0h1m31 0h1M1461 562.2h1m60 0h1m30 0h1m155 0h1m1 0h1m38 0h1m67 0h1m5 0h1M1455 595.2h1m25 0h1m74 0h1m6 0h1M1505 611.6h1m10 0h1m48 0h1m110 0h1m1 0h1m91 0h1M1706 644.5h1M1520 693.9h1m19 0h1m42 0h1m29 0h1m4 0h1m52 0h1m37 0h1m20 0h1m14 0h1m9 0h1m36 0h1M1738 710.4h1m10 0h1m5 0h1m16 0h1m41 0h1M1487 759.8h1m154 0h1m24 0h1m42 0h1m26 0h1m25 0h1M1520 776.2h1m66 0h1m30 0h1m57 0h1m113 0h2m27 0h1M1505 792.7h1m146 0h1m38 0h1m46 0h1m34 0h1M1476 907.9h1m56 0h1m55 0h1m32 0h1m8 0h1m7 0h1M1660 940.8h1"/><path stroke="#a59" d="M1703 167.2h1M1519 233h1"/><path stroke="#c85" d="M1718 167.2h1M1475 200.1h1m10 0h1m208 0h1m75 0h1M1649 315.3h1m304 0h1M1793 381.2h1M1905 644.5h1M1869 776.2h1M1929 792.7h1"/><path stroke="#746" d="M1749 167.2h1M1686 249.5h1M1450 265.9h1M1572 282.4h1m141 0h1M1746 298.9h1m64 0h1"/><path stroke="#526" d="M1764 167.2h1M1503 200.1h1M1714 265.9h1m76 0h1m1 0h1M1682 298.9h1m36 0h2m4 0h1m159 0h1m40 0h2M1560 331.8h1m2 0h1m70 0h1m3 0h1m189 0h1M1569 364.7h1m27 0h1m87 0h1m160 0h1m21 0h1M1837 381.2h1M1829 414.1h2m92 0h1m7 0h1M1835 430.6h2m8 0h1M1475 447h1m5 0h1m14 0h1m50 0h1m6 0h1m32 0h1m37 0h1m366 0h1M1447 529.3h1m93 0h1M1701 545.8h1m12 0h3m55 0h2M1513 595.2h1m13 0h1m144 0h1m52 0h1M1453 611.6h1m1 0h1m125 0h1m15 0h1m12 0h1m4 0h1m16 0h1m42 0h1m13 0h1m33 0h1m67 0h1m28 0h1m4 0h1m163 0h1m2 0h1M1461 677.5h1m47 0h2m1 0h1m4 0h1m2 0h1m43 0h1m34 0h2m19 0h1m3 0h1m7 0h1m43 0h2m10 0h1m7 0h1m60 0h1m83 0h1m68 0h1M1723 726.8h1m184 0h1M1599 759.8h1m178 0h1M1494 792.7h1m160 0h1m8 0h1m78 0h2m79 0h1m6 0h1M1514 907.9h1m21 0h2m207 0h2m9 0h1M1485 924.4h1m22 0h1M1540 940.8h1m14 0h1m170 0h2m56 0h1m88 0h1m23 0h1M1495 957.3h2m334 0h2m30 0h1m33 0h1m25 0h1"/><path stroke="#938" d="M1780 167.2h1M1847 298.9h1m85 0h1M1772 512.9h1m18 0h1m159 0h1M1544 529.3h1m156 0h1M1546 562.2h1m127 0h1m113 0h1M1763 693.9h1M1682 710.4h1M1456 759.8h1m313 0h1M1719 776.2h1m66 0h1m8 0h1m19 0h1M1504 792.7h1m100 0h1m71 0h1m26 0h1m18 0h1M1592 907.9h1M1502 940.8h1"/><path stroke="#948" d="M1785 167.2h1m6 0h1m9 0h1M1615 183.7h1m185 0h1M1555 200.1h1m40 0h1m9 0h2m5 0h1m43 0h1m43 0h1M1488 233h1m17 0h1m203 0h1m20 0h1m59 0h1m20 0h1M1532 265.9h1m162 0h1M1799 282.4h1M1821 298.9h1m22 0h1m16 0h1m25 0h1m19 0h1m27 0h1M1779 315.3h1M1577 331.8h1m295 0h1m30 0h1m15 0h1M1872 381.2h1m12 0h1M1486 512.9h1m20 0h1m72 0h1m52 0h2m141 0h1M1461 529.3h1m22 0h1m98 0h1m31 0h1M1564 545.8h1M1511 562.2h1m14 0h1m143 0h1m5 0h1m48 0h1m18 0h1M1511 595.2h1M1503 611.6h1M1738 644.5h1m17 0h1m59 0h1M1485 693.9h1m52 0h1m131 0h1m148 0h1M1757 710.4h1m55 0h1M1928 743.3h1M1489 759.8h2m11 0h1m54 0h2m14 0h1m127 0h1m52 0h1m67 0h1M1731 776.2h1M1617 792.7h1m44 0h1m49 0h1m15 0h1m60 0h1M1835 907.9h1"/><path stroke="#735" d="M1797 167.2h1M1504 200.1h1M1829 315.3h1"/><path stroke="#728" d="M1799 167.2h2M1835 265.9h1m50 0h1M1810 298.9h1M1887 331.8h1M1483 364.7h1M1993 414.1h1M1838 430.6h1m155 0h1M1497 447h1m31 0h2m174 0h1M1799 512.9h1M1495 529.3h1m310 0h1M1727 545.8h1M1451 595.2h1m146 0h1m49 0h1m345 0h1M1449 611.6h1m17 0h1m263 0h2m13 0h1M1707 644.5h1M1484 677.5h1m265 0h1m185 0h1M1530 693.9h1m273 0h2m17 0h1M1524 726.8h1m398 0h1m69 0h1M1464 759.8h1m117 0h1m107 0h2M1784 776.2h1M1703 792.7h1M1546 907.9h1m78 0h1m152 0h1M1566 924.4h1m1 0h1m181 0h1M1619 940.8h1m268 0h1M1664 957.3h1m37 0h1m98 0h1"/><path stroke="#965" d="M1805 167.2h1M1559 200.1h1m92 0h1M1700 249.5h1M1495 298.9h1m208 0h1m35 0h1m105 0h1M1958 315.3h1M1666 331.8h1m32 0h1m15 0h1M1715 381.2h1m45 0h1m19 0h1m125 0h1m4 0h1M1689 496.4h1m32 0h1m33 0h1M1758 512.9h1M1777 562.2h1M1881 595.2h1M1745 644.5h1M1724 693.9h1m68 0h1m4 0h1m51 0h1M1689 710.4h1m38 0h1m4 0h1m10 0h1m26 0h1m22 0h1M1832 743.3h1M1720 759.8h1m3 0h1M1680 792.7h1m69 0h1m48 0h1M1583 907.9h1m86 0h1M1731 940.8h1m106 0h2m51 0h2M1727 957.3h1m183 0h1"/><path stroke="#b67" d="M1831 167.2h1M1709 183.7h1M1505 200.1h1m7 0h1m308 0h1M1491 233h1m16 0h1m18 0h1m63 0h1m19 0h1m103 0h1M1868 315.3h1m55 0h1M1710 331.8h1m150 0h1m10 0h1m37 0h1m14 0h1M1957 364.7h1m21 0h1M1669 479.9h1M1773 496.4h1m36 0h1M1782 562.2h1m32 0h1M1710 578.7h1m50 0h1M1699 628.1h1M1500 644.5h1m359 0h1M1850 710.4h2M1769 743.3h1m110 0h2m40 0h1"/><path stroke="#b4a" d="M1847 167.2h1m55 0h1m24 0h1m9 0h1m11 0h1M1666 183.7h1m49 0h1m1 0h1m73 0h1M1784 200.1h1m12 0h1m9 0h2m19 0h1m4 0h1m128 0h1M1496 233h1m196 0h1m183 0h1m11 0h1m16 0h1m6 0h1m4 0h1m2 0h1m15 0h1M1983 298.9h2M1450 315.3h2m59 0h2m34 0h2m10 0h2m1 0h1m392 0h1M1476 331.8h1m46 0h1m5 0h1m98 0h1m248 0h1m44 0h1m5 0h1M1489 381.2h1m12 0h1m88 0h1M1451 479.9h1m20 0h1m3 0h2m25 0h1m5 0h1m22 0h1m43 0h1m9 0h2m10 0h2m10 0h1m88 0h1m50 0h1m13 0h1m13 0h1m34 0h1m2 0h1M1472 496.4h1m101 0h2m32 0h2m70 0h1m10 0h1m12 0h1m37 0h1m27 0h1m1 0h1m14 0h1m4 0h1m2 0h1m30 0h1M1504 512.9h1m32 0h1m4 0h1m35 0h1m9 0h1m58 0h1m30 0h1M1457 545.8h2m60 0h1m16 0h2M1493 562.2h1m42 0h1m60 0h1m1 0h1m80 0h1m16 0h1m5 0h1m83 0h1M1470 578.7h1m20 0h1m101 0h1m61 0h1m41 0h1m17 0h1m76 0h1m15 0h1m3 0h1M1588 611.6h1m70 0h1M1630 628.1h1m22 0h1m31 0h1m49 0h1m20 0h1M1454 644.5h1m87 0h2m27 0h1m6 0h1m8 0h1m4 0h1m15 0h1m22 0h1m17 0h1m59 0h2m18 0h2m84 0h1M1467 693.9h1m15 0h1m51 0h1m15 0h2m6 0h1m1 0h1m96 0h1m127 0h1m150 0h1m50 0h1M1460 710.4h1m26 0h2m43 0h1m19 0h2m4 0h1m9 0h1m62 0h2m77 0h2m33 0h1m28 0h1m79 0h1m137 0h1M1511 743.3h1m59 0h1m14 0h1m30 0h1m270 0h1m45 0h1m54 0h1M1477 759.8h1m52 0h1m59 0h1m2 0h2m9 0h1m12 0h1M1553 776.2h1m18 0h1m23 0h2m3 0h1m4 0h2m48 0h1m5 0h1m35 0h1m12 0h1m23 0h1m46 0h1m47 0h1M1487 792.7h1m124 0h1m8 0h1m38 0h1m114 0h1m84 0h1"/><path stroke="#883" d="M1455 183.7h1"/><path stroke="#754" d="M1491 183.7h1M1538 282.4h1M1487 298.9h1m17 0h1m55 0h1m82 0h1M1639 331.8h1m57 0h1M1767 364.7h2M1925 381.2h1M1577 414.1h1m64 0h1m24 0h1M1530 430.6h1m247 0h1M1748 447h1m2 0h1M1920 512.9h1M1895 529.3h1m15 0h1m26 0h1M1890 545.8h1m75 0h2M1891 595.2h1M1752 693.9h1m34 0h1M1751 776.2h1m5 0h1M1678 792.7h1m95 0h1M1704 907.9h1M1494 924.4h1m146 0h1m149 0h1m129 0h1m32 0h1M1763 957.3h1"/><path stroke="#837" d="M1502 183.7h1m32 0h1M1742 200.1h1M1712 249.5h1M1505 282.4h1m194 0h1M1652 331.8h1m9 0h1m226 0h1M1600 364.7h1M1630 381.2h1m27 0h1m274 0h1M1955 414.1h1M1691 479.9h1m80 0h1M1478 512.9h1m12 0h1m20 0h1m201 0h1m20 0h1m86 0h1M1709 529.3h2m17 0h1m23 0h1M1627 545.8h1M1719 562.2h1m46 0h1M1570 595.2h1M1757 611.6h1M1675 644.5h1m12 0h1m132 0h1m46 0h1M1851 677.5h1M1524 693.9h1m37 0h1m40 0h1m77 0h1m40 0h1m60 0h1m32 0h1M1693 710.4h1M1751 743.3h1M1475 759.8h1m2 0h1m18 0h1m94 0h1m122 0h1M1565 776.2h1m37 0h1m80 0h1m21 0h1m91 0h1m3 0h1m28 0h1M1520 792.7h1m181 0h1m17 0h1m63 0h1m30 0h1M1465 907.9h1m85 0h1m65 0h1m118 0h1M1737 924.4h1M1592 940.8h1m81 0h1m20 0h1m17 0h2M1798 957.3h1"/><path stroke="#b58" d="M1508 183.7h1m192 0h1m103 0h1M1729 200.1h1m11 0h1m8 0h1M1796 496.4h1M1610 644.5h1m120 0h1"/><path stroke="#634" d="M1542 183.7h1m17 0h1M1477 200.1h1M1818 331.8h1M1676 364.7h1m93 0h1M1930 381.2h1M1469 414.1h1m205 0h1m93 0h1m28 0h1m17 0h1m1 0h1M1476 430.6h2m67 0h1m168 0h1M1972 447h2m5 0h1M1805 512.9h1m130 0h1M1935 545.8h1m42 0h1M1915 562.2h1M1930 595.2h1M1868 611.6h1M1723 677.5h1m65 0h1m29 0h1m98 0h2m3 0h2M1691 693.9h1m5 0h1m101 0h1M1857 726.8h1m96 0h1M1941 759.8h1M1773 776.2h1m20 0h1M1741 792.7h1M1741 907.9h1M1449 924.4h1m164 0h1m138 0h1m2 0h1m200 0h1M1609 940.8h1m162 0h1M1449 957.3h1m27 0h1m13 0h1m86 0h1m122 0h1m79 0h2m50 0h1m76 0h1"/><path stroke="#984" d="M1574 183.7h1M1800 331.8h1M1536 430.6h1M1788 447h1m125 0h1M1767 562.2h1m106 0h1m56 0h1M1984 595.2h1M1868 924.4h1"/><path stroke="#a68" d="M1580 183.7h1M1677 315.3h1m73 0h1M1591 331.8h1M1634 348.2h1M1905 381.2h1m39 0h1M1977 562.2h1M1854 578.7h1M1857 693.9h1"/><path stroke="#865" d="M1595 183.7h1M1525 200.1h1m42 0h1M1480 282.4h1M1684 331.8h2m113 0h1M1667 364.7h2m12 0h1m167 0h2M1639 381.2h1m67 0h1m70 0h1M1741 447h1M1795 512.9h1M1974 529.3h1M1953 545.8h1M1878 628.1h1M1680 677.5h1m49 0h1m10 0h1m71 0h1m89 0h1M1689 693.9h1m31 0h1m40 0h1m156 0h1M1778 710.4h1M1732 743.3h1m83 0h1M1769 759.8h1m21 0h1m39 0h1m19 0h1m14 0h1m24 0h1M1788 907.9h1M1513 924.4h1m177 0h1m88 0h1m44 0h2m52 0h1m44 0h1M1489 957.3h1m84 0h1m93 0h1m36 0h2m147 0h1m76 0h1m21 0h1"/><path stroke="#ca3" d="M1658 183.7h1M1498 200.1h1m128 0h1m31 0h1M1465 282.4h1m140 0h1m221 0h1M1459 298.9h1M1578 364.7h1m84 0h1M1772 414.1h1M1606 430.6h1M1940 512.9h1M1893 611.6h1M1904 677.5h2M1730 940.8h1"/><path stroke="#a48" d="M1727 183.7h1M1516 200.1h1m186 0h1M1505 233h1M1623 265.9h1m125 0h1m9 0h1m4 0h1"/><path stroke="#b78" d="M1755 183.7h1m22 0h1"/><path stroke="#955" d="M1448 200.1h1m100 0h1M1700 677.5h1m85 0h1m85 0h1M1771 693.9h1m1 0h1M1827 710.4h1M1734 743.3h1m41 0h1M1712 759.8h1M1724 776.2h1m31 0h1m5 0h1m58 0h1M1778 792.7h1m4 0h1m48 0h1M1489 907.9h1m38 0h1m65 0h1m17 0h1m86 0h1m29 0h1m27 0h1m7 0h1m6 0h1m32 0h1M1504 924.4h1m72 0h1m71 0h1m15 0h1m80 0h1M1567 940.8h1m32 0h1m11 0h1m62 0h1m27 0h1m30 0h1m18 0h1m14 0h1m10 0h1m1 0h1m1 0h1m10 0h1m34 0h1M1714 957.3h1m6 0h1"/><path stroke="#b86" d="M1523 200.1h1m13 0h1m113 0h1M1489 216.6h1M1576 265.9h2m25 0h1m13 0h1m4 0h1m7 0h1m134 0h1m1 0h1M1718 298.9h1m105 0h1m14 0h1M1933 331.8h1M1664 364.7h1M1754 381.2h1m13 0h1M1764 447h1M1457 562.2h1M1672 628.1h1m87 0h1m28 0h1m96 0h1m30 0h1M1869 677.5h1m14 0h2m23 0h1m55 0h1M1925 693.9h1M1887 743.3h1m48 0h1M1933 776.2h1M1896 792.7h1m13 0h2m20 0h1M1873 907.9h1m29 0h1M1901 924.4h1M1843 940.8h1m25 0h1m70 0h1"/><path stroke="#966" d="M1562 200.1h1M1792 710.4h1M1685 743.3h1m127 0h1M1731 759.8h1m96 0h1"/><path stroke="#856" d="M1586 200.1h1m87 0h1M1720 331.8h1m42 0h1m29 0h1m10 0h1m8 0h1M1854 364.7h1m73 0h1M1647 381.2h1m62 0h1m195 0h1M1799 447h1M1713 512.9h1m26 0h1M1943 611.6h1m22 0h1M1697 677.5h1m39 0h1m27 0h2m43 0h2m40 0h2M1725 693.9h1m18 0h1m56 0h1m118 0h1M1824 743.3h1M1683 759.8h1m204 0h2M1879 776.2h1m19 0h1M1697 907.9h1M1689 924.4h1m2 0h1m75 0h3m69 0h1m4 0h1m46 0h1m17 0h1M1817 957.3h1m50 0h1m56 0h1"/><path stroke="#726" d="M1727 200.1h1M1666 315.3h1m282 0h1M1893 381.2h1M1656 512.9h1M1748 562.2h1M1468 759.8h1"/><path stroke="#627" d="M1736 200.1h1M1739 265.9h1m26 0h1m40 0h1m63 0h1m10 0h1m76 0h1M1701 298.9h2m55 0h1m49 0h1m59 0h1m4 0h1m54 0h1M1591 315.3h1M1496 364.7h1m30 0h1m35 0h1m92 0h2m174 0h1m141 0h1M1876 381.2h2M1894 414.1h1m42 0h1m14 0h1m36 0h2M1945 430.6h1m34 0h1M1486 447h1m22 0h1m135 0h1m5 0h1m306 0h1M1683 512.9h1m139 0h1M1465 529.3h1m40 0h2m258 0h1M1554 545.8h1m1 0h1m87 0h2m18 0h1m96 0h1m70 0h1m148 0h1M1447 595.2h1m15 0h1m107 0h2m10 0h1m8 0h1m34 0h1m73 0h1m36 0h1m256 0h1M1473 611.6h1m57 0h1m17 0h1m64 0h1m36 0h2m27 0h1m14 0h1m1 0h1m44 0h1m17 0h1m194 0h1M1818 644.5h1M1629 677.5h1M1528 693.9h1m21 0h1m61 0h1m41 0h1m58 0h1m53 0h1M1540 726.8h1m26 0h1m180 0h1m13 0h1m9 0h1m18 0h1m53 0h1m7 0h1m8 0h2M1777 759.8h1M1516 776.2h1m47 0h1M1544 792.7h1m70 0h1m18 0h1m125 0h1M1503 907.9h1m13 0h1m46 0h1m19 0h1m12 0h1m35 0h1m8 0h1m12 0h1m1 0h2m46 0h1m36 0h2m70 0h1M1539 924.4h1m21 0h1m63 0h1M1557 940.8h1m133 0h2m46 0h1m97 0h1M1485 957.3h1m44 0h1m125 0h1m29 0h1m9 0h1m51 0h1"/><path stroke="#ca5" d="M1533 233h1M1614 265.9h1M1848 315.3h1m28 0h1M1721 381.2h1M1772 447h1M1982 611.6h1M1683 628.1h1m132 0h1M1885 644.5h1m16 0h1M1900 693.9h1M1940 743.3h1M1867 940.8h1"/><path stroke="#cb4" d="M1545 233h1M1739 512.9h1"/><path stroke="#a76" d="M1631 233h1M1454 249.5h1M1602 315.3h1m205 0h2m5 0h1M1603 331.8h1m206 0h2M1985 364.7h1M1950 512.9h1M1767 628.1h1M1840 759.8h1M1895 776.2h1"/><path stroke="#b49" d="M1803 233h1m75 0h1M1867 298.9h1M1454 479.9h1m60 0h2M1658 496.4h1m109 0h1m24 0h2M1494 512.9h1m40 0h1m141 0h1M1507 578.7h1m114 0h1m59 0h1M1523 644.5h1m79 0h1M1562 710.4h1M1452 743.3h1m75 0h1M1545 776.2h1"/><path stroke="#b95" d="M1600 265.9h1M1601 315.3h1M1950 496.4h1M1662 578.7h1M1849 693.9h1M1879 759.8h1M1905 776.2h1M1879 957.3h1"/><path stroke="#653" d="M1479 298.9h1m29 0h1m12 0h1M1720 364.7h2m62 0h1m162 0h1M1461 414.1h1m203 0h1m128 0h1M1758 447h1m59 0h2M1734 512.9h1M1848 529.3h1m72 0h1m5 0h1M1916 562.2h1M1901 677.5h1M1751 759.8h1M1515 957.3h1m10 0h2m54 0h2m30 0h1m229 0h1"/><path stroke="#313" d="M1578 298.9h1m2 0h2m5 0h2m28 0h2m3 0h1m25 0h1m85 0h1m28 0h1m33 0h1m3 0h1M1448 414.1h1m37 0h1m94 0h1m11 0h2m48 0h1m6 0h1m3 0h1m2 0h1m1 0h1m110 0h1m8 0h1m21 0h1M1453 430.6h2m36 0h1m10 0h1m1 0h1m24 0h1m1 0h1m17 0h1m19 0h1m20 0h2m1 0h2m16 0h1m18 0h1m1 0h1m3 0h1m9 0h1m2 0h1m10 0h1m31 0h1m66 0h1m86 0h1m23 0h1m17 0h1m4 0h1m19 0h2m6 0h1M1569 447h1m38 0h1m5 0h1m5 0h1m25 0h1m5 0h1m9 0h1m6 0h1m26 0h1m12 0h1m157 0h2m1 0h1m1 0h1m37 0h1m29 0h2M1669 545.8h1m24 0h1m9 0h1m8 0h1m10 0h1m1 0h1m12 0h2m12 0h2m27 0h1m1 0h1m21 0h1m6 0h1m6 0h1m1 0h2M1665 595.2h1m7 0h1m19 0h1m2 0h2m24 0h1m8 0h1m4 0h1m6 0h1m15 0h1m3 0h3m47 0h3m3 0h1m7 0h1M1704 726.8h1m16 0h1m54 0h1m16 0h1m39 0h1M1454 924.4h1m4 0h1m47 0h1m11 0h1m10 0h1m4 0h1m62 0h2m33 0h1m5 0h1m8 0h1m30 0h1m13 0h1m44 0h1m26 0h1m12 0h1m14 0h1m113 0h1"/><path stroke="#321" d="M1592 298.9h1m50 0h1M1495 414.1h2m47 0h1m181 0h1M1459 430.6h1m9 0h1m39 0h1m33 0h1m82 0h1m48 0h1m114 0h1m30 0h1M1546 809.1h1m47 0h1m152 0h1m58 0h1m10 0h1m40 0h1m13 0h1m9 0h1M1696 842.1h1m63 0h1m106 0h1m8 0h1m42 0h1m53 0h1M1526 858.5h1m147 0h1m89 0h1m21 0h1m140 0h1M1635 875h1m3 0h1m33 0h1m60 0h1m27 0h1m94 0h1m61 0h1m53 0h1M1906 924.4h1m8 0h1m22 0h1"/><path stroke="#212" d="M1598 298.9h1m17 0h2m130 0h1m26 0h1m51 0h1M1626 414.1h1m8 0h1m8 0h1M1475 430.6h1m105 0h1m20 0h2m30 0h1m106 0h1m16 0h1m91 0h1m8 0h1m9 0h1m16 0h2m50 0h1M1458 447h1m9 0h1m194 0h1m37 0h1m20 0h1m207 0h1M1672 545.8h1m35 0h1m60 0h1m30 0h1M1682 595.2h1m31 0h1M1537 924.4h2m30 0h2m137 0h1m16 0h1m10 0h1m59 0h1"/><path stroke="#101" d="M1599 298.9h1m47 0h2m11 0h1m10 0h2m26 0h1m72 0h1m24 0h1M1456 414.1h1m7 0h1m26 0h1m24 0h3m11 0h1m47 0h1m12 0h1m7 0h1m2 0h2m11 0h2m2 0h3m1 0h1m6 0h2m2 0h1m1 0h1m3 0h2m9 0h1m141 0h1m28 0h1M1448 430.6h2m10 0h2m3 0h1m5 0h1m1 0h2m17 0h3m1 0h1m6 0h1m6 0h2m7 0h3m20 0h1m1 0h1m6 0h1m16 0h1m7 0h1m18 0h1m1 0h2m2 0h1m5 0h4m31 0h1m7 0h2m2 0h1m82 0h1m61 0h1m49 0h1m4 0h1m12 0h1m3 0h1m28 0h1m24 0h1m2 0h1m1 0h1M1548 447h1m104 0h1m24 0h1m27 0h1m162 0h1m7 0h1m15 0h1m7 0h1m15 0h1m21 0h1M1665 545.8h1m23 0h1m15 0h1m3 0h3m25 0h1m24 0h1m26 0h1m19 0h1M1671 595.2h1m32 0h2m10 0h1m15 0h1m21 0h1m15 0h2m5 0h1m11 0h3m7 0h1m5 0h1m1 0h1m18 0h1M1670 726.8h1m111 0h1M1978 809.1h1m2 0h1M1456 924.4h1m1 0h1m33 0h1m2 0h1m3 0h1m9 0h1m2 0h1m14 0h1m15 0h2m10 0h1m16 0h2m8 0h1m13 0h2m23 0h1m2 0h1m29 0h1m1 0h1m2 0h1m45 0h1m26 0h1m52 0h1m56 0h1m40 0h1"/><path stroke="#414" d="M1605 298.9h1m103 0h1m116 0h1M1447 414.1h1m6 0h1m57 0h1m35 0h2m8 0h1m2 0h1m30 0h1m4 0h1m8 0h2M1467 430.6h1m80 0h1m29 0h1m3 0h1m17 0h1m3 0h1m17 0h1m10 0h1m206 0h2m34 0h1m15 0h1m8 0h1m5 0h1m29 0h1M1473 447h1m216 0h1m211 0h1m35 0h1M1662 545.8h2m20 0h2m7 0h1m31 0h1m30 0h1m3 0h1m14 0h2m21 0h1m8 0h1M1686 595.2h1m7 0h2m45 0h1m34 0h1m25 0h1m15 0h1m4 0h1M1711 726.8h1M1447 924.4h1m4 0h1m95 0h2m73 0h1m4 0h1m135 0h1m72 0h1m5 0h1m14 0h1"/><path stroke="#872" d="M1622 298.9h1M1588 414.1h1M1466 430.6h1M1973 891.4h1m1 0h1"/><path stroke="#542" d="M1626 298.9h1m2 0h2M1604 414.1h1m170 0h1M1468 430.6h1m104 0h1m233 0h1M1727 809.1h1m49 0h1m17 0h1m14 0h1m26 0h1m81 0h1m46 0h1M1504 825.6h1m17 0h1m3 0h1m12 0h1m5 0h1m51 0h1m84 0h1m27 0h1m1 0h1m4 0h1m45 0h1m72 0h1m7 0h1m2 0h1m17 0h1m59 0h2m8 0h1m7 0h1m28 0h1M1505 858.5h1m120 0h1m106 0h1m34 0h1m12 0h1m44 0h1m118 0h1m11 0h1m2 0h1M1650 875h1m127 0h1m110 0h1M1465 891.4h1m6 0h1m42 0h1m52 0h2m23 0h1m5 0h2m12 0h1m5 0h1m28 0h1m1 0h1m22 0h1m33 0h1m16 0h2m50 0h2m7 0h1m5 0h1m10 0h1m37 0h2m48 0h1m13 0h1m9 0h1m8 0h1m50 0h1M1484 924.4h1m71 0h1m50 0h1m101 0h1m76 0h1m52 0h1m90 0h1"/><path stroke="#772" d="M1628 298.9h1M1489 430.6h1m191 0h1m27 0h1m88 0h1M1980 891.4h1"/><path stroke="#432" d="M1652 298.9h1M1583 414.1h1m183 0h1M1464 430.6h1m36 0h1m291 0h1M1985 809.1h1M1468 825.6h1m3 0h1m6 0h1m19 0h1m44 0h1m6 0h1m41 0h1m4 0h1m15 0h1m20 0h1m19 0h1m1 0h1m8 0h1m4 0h1m11 0h1m10 0h1m34 0h1m38 0h1m40 0h1m11 0h1m19 0h1m63 0h1M1449 891.4h1m41 0h1m16 0h1m16 0h1m40 0h1m5 0h1m34 0h1m6 0h2m10 0h2m30 0h1m3 0h1m23 0h1m14 0h1m19 0h1m6 0h1m14 0h1m4 0h1m14 0h2m10 0h1m17 0h1m11 0h1m7 0h1m7 0h2m8 0h1m21 0h1m9 0h1m14 0h1m8 0h1m1 0h1m11 0h1m37 0h1m17 0h1m2 0h1M1547 924.4h1m60 0h1m6 0h1m95 0h1m170 0h1m51 0h1"/><path stroke="#213" d="M1696 298.9h1m59 0h1M1658 414.1h1m74 0h1m1 0h1M1517 430.6h2m27 0h1m24 0h1m42 0h1m3 0h1m2 0h1m35 0h2m92 0h1m90 0h1m18 0h2m47 0h1M1697 447h1m225 0h2M1697 545.8h1M1689 595.2h2M1483 924.4h1m118 0h1m7 0h1m120 0h1"/><path stroke="#636" d="M1700 298.9h1"/><path stroke="#314" d="M1766 298.9h1M1528 414.1h1m10 0h1m24 0h2m9 0h1m20 0h1m8 0h1m8 0h1m18 0h1m187 0h1M1450 430.6h1m7 0h1m100 0h1m130 0h1m157 0h1m68 0h1M1553 447h1m146 0h1m16 0h1m176 0h2m9 0h1m26 0h1M1702 545.8h1m94 0h1m27 0h1M1711 595.2h1m82 0h2M1487 924.4h1m91 0h1m5 0h2m237 0h1m91 0h1"/><path stroke="#949" d="M1909 331.8h1M1462 512.9h1m12 0h1m477 0h1M1836 562.2h1M1599 693.9h1M1575 759.8h1m146 0h1M1453 776.2h1M1636 792.7h1"/><path stroke="#b87" d="M1687 381.2h1M1898 710.4h1"/><path stroke="#a39" d="M1844 381.2h1M1786 496.4h1M1509 545.8h1M1829 644.5h1"/><path stroke="#ec4" d="M1714 397.6h1"/><path stroke="#662" d="M1455 414.1h1m101 0h1m218 0h1M1455 430.6h1m233 0h1m106 0h1M1970 891.4h1M1779 924.4h1m73 0h1m79 0h1"/><path stroke="#552" d="M1509 414.1h1m150 0h1M1486 430.6h1m50 0h2m2 0h1m183 0h1M1664 809.1h1m93 0h1m66 0h1m115 0h1M1467 825.6h1m25 0h1m88 0h1m44 0h1m136 0h1m93 0h1m40 0h1m22 0h1m56 0h1M1480 842.1h1m407 0h1M1903 858.5h1m18 0h1m21 0h1m16 0h1M1557 875h1m111 0h1m139 0h1m173 0h1M1458 891.4h1m7 0h1m7 0h1m5 0h1m62 0h1m6 0h1m25 0h1m94 0h2m56 0h1m14 0h1m26 0h1m166 0h1m20 0h1m18 0h2M1801 924.4h1m123 0h1"/><path stroke="#762" d="M1536 414.1h1m61 0h1M1456 430.6h1m96 0h1m11 0h1m93 0h1m37 0h1M1731 809.1h1m11 0h1m54 0h1m67 0h1m113 0h1M1505 825.6h1m27 0h1m35 0h1m10 0h1m111 0h1m14 0h1m52 0h1m9 0h1m4 0h1m29 0h1m50 0h1m22 0h1m13 0h1m10 0h1m19 0h1m28 0h1M1546 842.1h1m51 0h1m9 0h1m25 0h1m19 0h1m58 0h1m63 0h1m78 0h1m100 0h1M1456 858.5h1m205 0h1m29 0h1m4 0h1m17 0h1m31 0h1m39 0h1m148 0h1m9 0h1M1691 875h1m14 0h1m48 0h1m5 0h1m71 0h1M1454 891.4h1m31 0h1m3 0h1m2 0h1m39 0h1m33 0h1m5 0h2m27 0h4m3 0h1m19 0h1m6 0h2m14 0h1m4 0h1m6 0h1m15 0h1m18 0h1m12 0h1m14 0h1m11 0h1m5 0h2m6 0h1m16 0h1m16 0h1m11 0h1m20 0h1m11 0h2m11 0h2m12 0h1m5 0h2m5 0h2m6 0h1m18 0h1m43 0h1m1 0h1m22 0h1m3 0h1m11 0h2M1832 924.4h1"/><path stroke="#202" d="M1637 414.1h1M1884 430.6h1M1668 447h1M1689 726.8h1M1524 924.4h2"/><path stroke="#332" d="M1645 414.1h1M1451 430.6h2m304 0h1M1584 924.4h1"/><path stroke="#442" d="M1714 414.1h1m94 0h1M1676 430.6h1m16 0h1M1813 809.1h1M1492 825.6h1m333 0h1M1475 842.1h1m204 0h1m83 0h1M1900 858.5h1M1457 875h1m115 0h1m406 0h1M1541 891.4h1m132 0h1m107 0h1m153 0h1M1506 924.4h1m86 0h1m286 0h1"/><path stroke="#652" d="M1805 414.1h1M1534 430.6h1m117 0h1m127 0h1M1984 809.1h1M1547 825.6h1m10 0h1m75 0h1m236 0h1M1484 891.4h1m109 0h1m50 0h1m86 0h2m8 0h1m66 0h2m3 0h2m70 0h1m41 0h1m53 0h1"/><path stroke="#982" d="M1480 430.6h1"/><path stroke="#525" d="M1872 430.6h1M1933 447h1M1481 924.4h1m171 0h1m177 0h1M1671 940.8h1"/><path stroke="#415" d="M1615 447h1M1581 924.4h1"/><path stroke="#755" d="M1876 529.3h1m25 0h1M1871 611.6h1"/><path stroke="#946" d="M1665 677.5h1m18 0h1m92 0h1M1813 693.9h1M1741 710.4h1m54 0h1m13 0h1M1692 743.3h1M1703 776.2h1m24 0h1m3 0h1m12 0h1m28 0h1m22 0h1m2 0h1M1721 792.7h1m23 0h1m39 0h1M1535 907.9h1m98 0h1m37 0h1m52 0h1m4 0h1m13 0h1m24 0h1m14 0h1M1578 924.4h1m10 0h1M1605 940.8h1m8 0h1m42 0h1m15 0h1m24 0h1m20 0h2M1602 957.3h1m26 0h1m216 0h1m60 0h1"/><path stroke="#958" d="M1681 710.4h1"/><path stroke="#431" d="M1450 809.1h1m281 0h1m17 0h1m89 0h1m115 0h1m18 0h1M1465 842.1h1m11 0h1m42 0h1m89 0h1m51 0h1m20 0h1m43 0h1m103 0h2m5 0h1m52 0h1M1497 858.5h1m156 0h1m43 0h1m28 0h1m48 0h1m105 0h1m24 0h1m18 0h1m10 0h1M1469 875h1m74 0h1m80 0h1m40 0h1m31 0h1m9 0h1m37 0h1m56 0h1m14 0h1m37 0h1m33 0h1"/><path stroke="#441" d="M1632 809.1h1M1673 842.1h1m30 0h1m62 0h1m168 0h1M1613 858.5h1m52 0h1m299 0h1M1548 875h1m182 0h1m33 0h1m97 0h1m63 0h1"/><path stroke="#221" d="M1647 809.1h1m205 0h1m75 0h1M1700 875h1m94 0h1m57 0h1"/><path stroke="#331" d="M1682 809.1h1m46 0h1m27 0h1m224 0h1M1708 842.1h1m74 0h1m64 0h1m4 0h1M1751 858.5h1m139 0h1m24 0h1M1753 875h1m10 0h1m196 0h1"/><path stroke="#322" d="M1452 825.6h1m6 0h1m42 0h2m100 0h1m110 0h1m98 0h1m68 0h1m34 0h1M1481 891.4h2m21 0h1m58 0h1m11 0h1m7 0h2m3 0h1m6 0h1m12 0h1m15 0h1m3 0h1m15 0h1m10 0h1m7 0h1m18 0h1m19 0h2m10 0h1m1 0h2m13 0h1m24 0h1m21 0h2m8 0h1m6 0h1m11 0h1m59 0h1m8 0h2m10 0h1m4 0h2m10 0h1m18 0h2m1 0h1m18 0h1m14 0h1M1552 924.4h1m115 0h1"/><path stroke="#422" d="M1623 891.4h1"/><path stroke="#643" d="M1595 924.4h1m48 0h1m94 0h1m64 0h1m5 0h1"/><path stroke="#543" d="M1776 924.4h1"/></g><path d="M1661.5 142.5V965.5M1834.5 142.5V965.5M1942.5 142.5V965.5M1986.5 142.5V965.5" stroke="#fff" stroke-width="1" fill="none" shape-rendering="crispEdges"/><rect x="1446.5" y="142.4" width="549.2" height="823.8" fill="none" stroke="#231f20" stroke-width="4.4"/></g>
<g id="pd"><text transform="translate(0.6 629.3) scale(1 1)" font-size="47.5" font-weight="bold">d</text><g fill="none" stroke-linecap="round" stroke-width="5.4" stroke-opacity=".35"><path d="M325 637h0m12-1h0m19 2h0m-30 12h0m-7 5h0m31 11h0m1-3h0m-12 8h0m14 4h0m12-2h0m-13 4h0m3 4h0m12-3h0m8 2h0m-34 7h0m11 2h0m12-5h0m4 4h0m4-2h0m4 3h0m-31 7h0m8-3h0m1-3h0m6 1h0m3-1h0m3 6h0m11 0h0m7-2h0m-48 3h0m15 4h0m2 1h0m7 0h0m7-1h0m1 0h0m12-4h0m-64 10h0m6 1h0m18 1h0m3 0h0m10-5h0m2 0h0m1 6h0m17-5h0m2 4h0m2-5h0m10 2h0m-70 7h0m0 0h0m10 3h0m5-2h0m3 2h0m11-1h0m3-2h0m2 1h0m7 3h0m9 0h0m5-6h0m5 3h0m3 3h0m1-3h0m10 3h0m-101 6h0m33-3h0m0 0h0m3-1h0m0 1h0m3-2h0m15 3h0m4 2h0m3-5h0m1 0h0m0 0h0m2 4h0m0-4h0m22 5h0m1-4h0m13-1h0m-103 11h0m2-4h0m18 2h0m3 3h0m1-3h0m10 4h0m28-3h0m1 3h0m1-4h0m5 3h0m3 1h0m11-4h0m7-1h0m-91 12h0m6-1h0m2 0h0m3-4h0m4 3h0m5-4h0m0 6h0m2-4h0m4 2h0m7 2h0m1-2h0m7 1h0m4-3h0m7 4h0m4-1h0m3-2h0m3 3h0m0-4h0m3 4h0m11-1h0m6-1h0m-133 5h0m49 2h0m1-1h0m1 0h0m2-3h0m2 1h0m0 1h0m8 2h0m1-4h0m1 0h0m2 3h0m7 0h0m0 1h0m3-2h0m0-1h0m4 3h0m3 0h0m6-1h0m2-3h0m1 4h0m4 0h0m3-3h0m0 3h0m2-3h0m7 1h0m4 3h0m8-3h0m3 2h0m1-4h0m6 4h0m9-3h0m1 2h0m7-3h0m-113 8h0m9 4h0m0-1h0m10-4h0m3 0h0m0 0h0m3 1h0m1 3h0m11 1h0m7-2h0m11-2h0m9 4h0m6-3h0m3-1h0m3 1h0m9 3h0m4-2h0m6 0h0m5 3h0m11-2h0m0 1h0m1-4h0m5 1h0m1 1h0m-128 6h0m7 3h0m2-3h0m0 1h0m1 0h0m2 3h0m4-2h0m1-3h0m8 2h0m8 2h0m2 0h0m1 1h0m6-5h0m0 4h0m2-4h0m6-1h0m1 1h0m2 1h0m4 4h0m0 0h0m2-4h0m3-1h0m11 0h0m8 2h0m1-2h0m3 1h0m1 4h0m2-5h0m2 5h0m7-3h0m1 1h0m7 1h0m5-5h0m5 3h0m1 2h0m7 0h0m8-3h0m-150 5h0m20 2h0m1 3h0m1-2h0m5 1h0m1 0h0m6 0h0m4-3h0m7 3h0m9-3h0m4 5h0m1-3h0m11 1h0m6-1h0m3-2h0m3 5h0m4-1h0m1-3h0m4-2h0m1 3h0m4 2h0m2-3h0m10 1h0m2 2h0m3 1h0m9-3h0m3-3h0m2 3h0m2-3h0m3 5h0m1-4h0m6-1h0m1 3h0m7-3h0m-131 9h0m10 0h0m3 1h0m1 2h0m5-3h0m6 4h0m6-1h0m2-2h0m1 2h0m3-2h0m1 1h0m4-3h0m12 1h0m8 2h0m2-4h0m0 4h0m1-1h0m7-1h0m9-1h0m5 3h0m2-2h0m6 4h0m3-3h0m1-2h0m3 0h0m4 2h0m10-1h0m2 2h0m2 2h0m0-4h0m5 1h0m8-3h0m1 6h0m1-6h0m2 2h0m-129 6h0m4 5h0m2-6h0m5 0h0m5 1h0m1 0h0m7 3h0m5 1h0m15 1h0m1-3h0m5 0h0m3 0h0m1-3h0m4 1h0m4 0h0m6 4h0m5-5h0m1 2h0m2 0h0m2 1h0m3-3h0m2 6h0m0 0h0m0 0h0m4-6h0m16 0h0m0 3h0m4 2h0m3-3h0m3 1h0m4-3h0m1 4h0m-147 4h0m12 2h0m5 0h0m7 2h0m2-4h0m1 2h0m7 0h0m9-2h0m4-1h0m3 0h0m13 4h0m1-4h0m4 2h0m3 4h0m13-1h0m1-4h0m2 5h0m2-6h0m11 2h0m2-2h0m2 6h0m17-5h0m7 5h0m1-6h0m2 5h0m10-1h0m2-1h0m2 2h0m1-2h0m0-3h0m0 3h0m15 2h0m-154 8h0m3-2h0m3-3h0m0 4h0m0-4h0m2 3h0m6-4h0m2 3h0m1-2h0m0 1h0m12 0h0m4 2h0m2-2h0m1 1h0m1 2h0m4-1h0m3-1h0m1-1h0m0 4h0m0-1h0m3-3h0m21 0h0m2 0h0m1 0h0m5 0h0m3-2h0m4 0h0m3 3h0m7-3h0m20 5h0m5 0h0m1-1h0m2-4h0m16 0h0m1 5h0m-148 8h0m14-3h0m0-2h0m1 5h0m2-2h0m0 1h0m0-5h0m9 5h0m5-4h0m22 2h0m6-3h0m1 2h0m1-1h0m1 1h0m1 3h0m1 1h0m5-4h0m1-2h0m11 1h0m1 4h0m1 1h0m0-5h0m13 3h0m3 0h0m3-3h0m1 0h0m2 2h0m2 3h0m12-1h0m2 1h0m12-1h0m1-4h0m3 4h0m6-5h0m3 4h0m1 2h0m8-1h0m-180 7h0m6 1h0m3-2h0m8 0h0m9 1h0m0-4h0m0 5h0m3-6h0m5 6h0m0-3h0m0-1h0m4 0h0m1 0h0m3 3h0m3-2h0m2 1h0m0-3h0m1 0h0m14 2h0m4 2h0m1-5h0m2 1h0m1 4h0m1-3h0m1 3h0m1-2h0m6 3h0m3-3h0m2-1h0m2 1h0m1-2h0m3 3h0m3 1h0m1-5h0m4 0h0m1 6h0m6 0h0m1-1h0m2 1h0m6-3h0m6-3h0m12 5h0m0-5h0m3 5h0m9-1h0m1-3h0m3-1h0m3 1h0m0 4h0m2-1h0m1-1h0m6 1h0m12-2h0m1 4h0m6-4h0m11 3h0m-199 5h0m1 2h0m0 0h0m3-1h0m7-4h0m1 4h0m3-2h0m4 3h0m1 1h0m12-4h0m4-2h0m0 2h0m5-1h0m8 2h0m3 3h0m9-2h0m6-1h0m0 0h0m1-1h0m0 4h0m1-2h0m0 2h0m9-4h0m1 0h0m8 0h0m9-2h0m2 3h0m11-2h0m2 0h0m3 4h0m3-4h0m2 1h0m1-1h0m2 1h0m1 0h0m2 1h0m5 0h0m1-1h0m1 4h0m5-6h0m1 5h0m4 1h0m4-2h0m2-2h0m7-1h0m3 5h0m0-1h0m14-2h0m1 1h0m4 0h0m5-3h0m2 0h0m-183 12h0m2-3h0m3 3h0m3-1h0m2-4h0m4 3h0m2 0h0m11-1h0m6-1h0m1 1h0m6 2h0m21-2h0m10 2h0m1-1h0m0-4h0m3 2h0m1 4h0m4-3h0m1-3h0m4 0h0m4 2h0m4-2h0m3 4h0m0-3h0m5 3h0m7 2h0m1-6h0m1 0h0m2 4h0m2-4h0m4 4h0m8 2h0m2-2h0m4-4h0m11 1h0m2 1h0m6-1h0m2-1h0m13 0h0m2 5h0m5-3h0m0-2h0m2 2h0m1-2h0m10 2h0m5-2h0m3 2h0m3 1h0m1 1h0m0-3h0m1 0h0m-197 8h0m5-2h0m1 4h0m7-4h0m10 0h0m3 4h0m3-4h0m2 0h0m4 0h0m0 0h0m4 5h0m2-1h0m4 1h0m3 1h0m5-3h0m7 0h0m1 3h0m6 0h0m0-1h0m4-4h0m4 2h0m3-3h0m12 4h0m1-1h0m1 3h0m0-2h0m1 2h0m1-1h0m2 0h0m0-4h0m14 0h0m5-1h0m3 5h0m1 0h0m5 0h0m5-3h0m0 1h0m2-1h0m2-1h0m8 2h0m0-2h0m1 0h0m4 2h0m11 1h0m1-1h0m9 3h0m1-2h0m1-2h0m0 0h0m1 0h0m4 4h0m12-2h0m-177 9h0m3-3h0m0-2h0m0 5h0m2-1h0m1-3h0m1 4h0m2-6h0m5 1h0m4 0h0m0 4h0m6 0h0m1-4h0m6 4h0m13-2h0m2 3h0m0 0h0m1-1h0m3-5h0m2 0h0m3 2h0m1 4h0m1-2h0m1 0h0m2-3h0m3 3h0m2 1h0m1-3h0m1 1h0m1-1h0m5 2h0m2 2h0m1 0h0m1-3h0m4-1h0m2 1h0m11-2h0m3 3h0m4 2h0m0-2h0m4-2h0m2 0h0m11 4h0m1-5h0m0 4h0m4 1h0m6 0h0m10 0h0m1-6h0m1 5h0m8 1h0m2-2h0m3 2h0m4 0h0m1-5h0m3 2h0m3-1h0m5-1h0m3 2h0m0-1h0m2-1h0m8 0h0m0-1h0m4 1h0m-186 9h0m2 1h0m7 2h0m4-5h0m10 5h0m2-3h0m10-3h0m2 0h0m5 0h0m8 0h0m9 6h0m0-2h0m1-4h0m5 2h0m2-1h0m0 4h0m1-2h0m2-3h0m12 5h0m1-4h0m0-1h0m14 6h0m2-4h0m2 2h0m0 2h0m1-3h0m3 3h0m2-4h0m9-1h0m4 4h0m10 1h0m2-3h0m3 2h0m7-4h0m4 2h0m0-1h0m5-1h0m1 5h0m24-4h0m8 1h0m1-2h0m-171 11h0m7-3h0m0 4h0m2-1h0m2 1h0m10-1h0m7 0h0m1-5h0m20 0h0m10 6h0m1-2h0m1-4h0m2 1h0m1 5h0m1-5h0m8 3h0m3 2h0m0-4h0m1 1h0m0 0h0m4 2h0m3-3h0m1 2h0m3 0h0m12 2h0m4-2h0m2-1h0m9 1h0m3-3h0m2 3h0m8 2h0m1-3h0m5 0h0m0 0h0m0-1h0m1-2h0m1 4h0m1-1h0m1-1h0m1-2h0m7 3h0m6 2h0m1 1h0m1-1h0m3 1h0m13-1h0m6-2h0m-177 8h0m4 2h0m1 0h0m8-2h0m13 1h0m5-5h0m7 4h0m4 1h0m5-2h0m0 3h0m1-5h0m5 4h0m5-4h0m0 3h0m2-2h0m3 4h0m6-4h0m1-1h0m3 2h0m1 2h0m3 0h0m5-3h0m2 0h0m4 4h0m3-1h0m5-4h0m2 4h0m3-4h0m1 0h0m16 2h0m1-2h0m16 4h0m6-4h0m6 3h0m0 2h0m2-1h0m1-1h0m4-3h0m3-1h0m0 0h0m0 2h0m2 2h0m4 2h0m10-1h0m-163 4h0m10 2h0m3 2h0m0-2h0m4-4h0m3 4h0m1-2h0m4-2h0m11 5h0m3 0h0m1-2h0m4-2h0m0 1h0m2 1h0m2-2h0m5 2h0m5 0h0m6-3h0m1 2h0m5 2h0m2 1h0m3-4h0m2 1h0m3 3h0m9 0h0m7 0h0m1-5h0m3 1h0m0 1h0m1 1h0m2 1h0m1 2h0m8-6h0m1 1h0m9 4h0m6-1h0m4 2h0m1-2h0m6-1h0m1 0h0m2-2h0m4 0h0m8 5h0m5-4h0m2 0h0m1-1h0m-150 12h0m5-5h0m0 4h0m1-2h0m0-3h0m9 4h0m0-2h0m2 2h0m9 2h0m1-1h0m5-1h0m2 0h0m8 2h0m3-1h0m4-3h0m5-1h0m2 4h0m14-3h0m4-2h0m3 3h0m1 3h0m6 0h0m0-5h0m1 3h0m1 0h0m5-2h0m12 0h0m3-1h0m1 3h0m5-4h0m8 3h0m4-2h0m7 1h0m2 0h0m15 4h0m3-2h0m-149 3h0m6 4h0m9-1h0m9 3h0m2-1h0m2 0h0m18-4h0m1-1h0m7 3h0m5 1h0m2-1h0m2-1h0m13 4h0m1-5h0m8 1h0m0 4h0m2-2h0m2-2h0m1 4h0m3-5h0m0 0h0m2 0h0m0 2h0m1 3h0m7-4h0m49-1h0m-135 6h0m7 0h0m1 0h0m7 5h0m4-3h0m20 2h0m4-4h0m2 5h0m2-1h0m0 2h0m2-5h0m5 3h0m2-3h0m4-1h0m2 2h0m5 3h0m2-1h0m6-1h0m26-3h0m35 0h0m6 2h0m8 3h0m-138 3h0m27 1h0m1 0h0m0 3h0m3 1h0m6-1h0m2-3h0m4 3h0m1-5h0m1 5h0m0-4h0m48 2h0m4 2h0m14-3h0m-77 5h0m5 1h0m67 2h0m1 9h0m0-2h0m23-3h0m0 2h0m-36 19h0m7 5h0" stroke="#c6c88a"/><path d="M217 602h0m-19 9h0m7-3h0m5-1h0m1 2h0m0 2h0m0-2h0m1 1h0m4-2h0m4 4h0m1-2h0m6 1h0m4-3h0m1 2h0m3 1h0m7 0h0m1-1h0m0-2h0m26 4h0m3 0h0m-95 5h0m5-2h0m9 4h0m1-3h0m7 0h0m4 2h0m2 0h0m2 1h0m4 0h0m14-1h0m2-1h0m4-2h0m3-1h0m1 5h0m4 0h0m1-2h0m3-2h0m0 3h0m5-2h0m8 2h0m5-3h0m4 0h0m0 3h0m0 1h0m3-2h0m2-3h0m7 4h0m4-1h0m-113 5h0m1-2h0m3 5h0m4-2h0m4-3h0m1 0h0m7 5h0m4 0h0m3-5h0m11 0h0m4 2h0m1 0h0m1 1h0m0-3h0m6 4h0m1-2h0m15 1h0m0 1h0m2-3h0m0 0h0m3 0h0m0 0h0m4 0h0m1 5h0m3 0h0m1-1h0m3-3h0m7 0h0m2-2h0m1 2h0m5 3h0m1-4h0m0-1h0m1 6h0m4-2h0m8-1h0m9-1h0m7 3h0m-139 7h0m0 0h0m26-2h0m5 2h0m2 1h0m9 0h0m10-3h0m5-3h0m1 0h0m1 4h0m14-4h0m17 5h0m0-1h0m5-3h0m2-1h0m1 1h0m2 4h0m6-3h0m3-1h0m0 3h0m1 0h0m2-1h0m1 2h0m8 0h0m1-3h0m5 4h0m8-5h0m1-1h0m8 1h0m5 4h0m95-2h0m1 2h0m4 0h0m0 0h0m1-5h0m0 0h0m2 4h0m-252 7h0m1 1h0m0 0h0m3-4h0m1-1h0m8 0h0m2 4h0m5-2h0m2 3h0m2-3h0m6-2h0m4 5h0m14-3h0m0 2h0m22-4h0m7 2h0m0 0h0m3 2h0m5 2h0m0-6h0m1 1h0m0 3h0m1-1h0m2-3h0m0 2h0m3 4h0m17-2h0m4-1h0m2 0h0m0 3h0m6-1h0m9 0h0m10-2h0m0 1h0m2-3h0m5 4h0m107-4h0m-263 9h0m3 2h0m5 0h0m2 1h0m1 0h0m2 0h0m0-6h0m2 4h0m2 0h0m4 1h0m2 1h0m0-2h0m0 1h0m0-3h0m6 3h0m9 1h0m2-6h0m6 6h0m1-4h0m8 3h0m1 0h0m2-1h0m6 1h0m7-3h0m7 0h0m3 1h0m4 1h0m0-1h0m3 0h0m16 3h0m2-6h0m1 3h0m1 0h0m2 2h0m9-4h0m9 0h0m0 4h0m0-1h0m8-1h0m3 1h0m3-1h0m5 3h0m2-6h0m1 1h0m0-1h0m5 5h0m7-3h0m2 3h0m4-5h0m7 6h0m-166 4h0m5 1h0m2-2h0m2-2h0m0 2h0m7-1h0m3 0h0m2 3h0m5-3h0m1 0h0m1 5h0m2-3h0m6 0h0m6-1h0m4-1h0m28-1h0m1 3h0m3 3h0m0-2h0m3-4h0m2 6h0m1-4h0m1-1h0m14 0h0m1-1h0m0 2h0m1-1h0m1 1h0m2-1h0m1 1h0m0-1h0m4 1h0m1 2h0m4-4h0m0 4h0m9-2h0m1 4h0m7-1h0m1 1h0m3-5h0m0 1h0m2 1h0m4 1h0m1 2h0m3-3h0m0-2h0m1-1h0m19 5h0m0-3h0m30 2h0m-204 9h0m8-5h0m0 5h0m0-6h0m1 4h0m2-4h0m2 4h0m1-1h0m5 0h0m8 2h0m2-3h0m10-1h0m4 5h0m1-4h0m2 3h0m3-5h0m1 0h0m2 2h0m14 1h0m4 0h0m1-3h0m11 5h0m1 0h0m1-3h0m1 2h0m1 0h0m0-2h0m4 0h0m0 2h0m1-3h0m0 5h0m3 0h0m3-2h0m4-1h0m7-3h0m1 2h0m8 4h0m3-4h0m0 4h0m6-5h0m5 4h0m1-4h0m14 1h0m3-1h0m2 5h0m4-1h0m10 0h0m3-3h0m0 4h0m4-3h0m2-2h0m2 5h0m1-4h0m2 2h0m0 2h0m5 0h0m4-6h0m4 4h0m18-1h0m5-1h0m2 3h0m11-3h0m-238 11h0m4-4h0m9 1h0m1-1h0m5 0h0m18 0h0m4 2h0m2 0h0m3 0h0m5 1h0m0 0h0m13-1h0m1 1h0m2 1h0m9 0h0m2-4h0m1 0h0m3-2h0m7 0h0m2 4h0m2-2h0m4 1h0m4-3h0m2 2h0m3 0h0m9 0h0m4-2h0m8 4h0m2-1h0m2-2h0m3 5h0m8-5h0m1 1h0m10 2h0m2-2h0m7-2h0m3 0h0m9 5h0m7-3h0m1 1h0m2 2h0m2-5h0m1 1h0m1 0h0m17 1h0m45 0h0m-248 9h0m5-4h0m13 4h0m7-1h0m9 0h0m1-1h0m2 2h0m4-4h0m2 0h0m10 0h0m0 0h0m4 2h0m11-1h0m1 0h0m1 4h0m10 0h0m2 1h0m2-2h0m4-2h0m0 0h0m5-2h0m12 1h0m5-1h0m4 1h0m1 1h0m0-1h0m0 0h0m2 2h0m1-2h0m15 4h0m2 1h0m3-3h0m1 0h0m4 3h0m2-4h0m4-2h0m0 2h0m7 2h0m0-4h0m1 5h0m6-2h0m2 0h0m4-3h0m5 2h0m3 0h0m13 4h0m3-6h0m4 2h0m4-2h0m-202 8h0m0 2h0m5 0h0m6-1h0m4 0h0m1 3h0m0-4h0m2 4h0m2-1h0m5-4h0m5 5h0m7-1h0m4-3h0m1 5h0m1-1h0m5-4h0m8 4h0m0-5h0m5 1h0m9 3h0m0-2h0m8-1h0m4 5h0m1-3h0m9 1h0m5-2h0m3-2h0m32 4h0m1 2h0m2 0h0m8 0h0m29-1h0m0-2h0m1-2h0m-178 6h0m1 6h0m5 0h0m4-4h0m2 1h0m2 3h0m0-5h0m4 0h0m1 0h0m7 1h0m0 1h0m2-3h0m1 0h0m0 3h0m1 2h0m9-3h0m1 0h0m1 3h0m1-2h0m9 2h0m0 1h0m5-4h0m4 4h0m6-3h0m12 0h0m14-3h0m3 1h0m0-1h0m9 2h0m10 0h0m2 1h0m5 2h0m2 1h0m3-5h0m1 0h0m1-1h0m1 6h0m0 0h0m0-2h0m0 0h0m3-4h0m3 0h0m2 4h0m3-4h0m0 1h0m7 5h0m1-2h0m3 0h0m6 0h0m1 0h0m5 2h0m10 0h0m3-2h0m14-4h0m2 2h0m-195 9h0m7-2h0m0-1h0m1 3h0m3 0h0m4-3h0m3 3h0m2-4h0m2 2h0m4 2h0m0 0h0m6-1h0m4-3h0m6 1h0m6 4h0m3-2h0m0-3h0m1 0h0m10 3h0m1-2h0m9 0h0m2 0h0m11 0h0m4 3h0m0-3h0m2 5h0m1-6h0m2 6h0m3 0h0m1 0h0m2 0h0m3-2h0m7-1h0m1-2h0m6 3h0m3-1h0m2 1h0m4 0h0m7-4h0m1 4h0m8-1h0m1-1h0m5 3h0m10-3h0m6 0h0m12-2h0m1 2h0m3-1h0m12 5h0m0-6h0m2 5h0m3-1h0m-187 9h0m0-5h0m2 2h0m1-2h0m6 3h0m3-1h0m1 0h0m5 2h0m1-2h0m5 0h0m2 3h0m10-6h0m3 4h0m2 2h0m1-4h0m3 2h0m13-3h0m1 4h0m2-3h0m1 1h0m2 0h0m1 2h0m3 0h0m2-5h0m3 0h0m1 5h0m1-2h0m5-2h0m2 4h0m4 0h0m1-1h0m2-4h0m3 6h0m8 0h0m4-3h0m2-2h0m5 3h0m9 1h0m2-4h0m4 4h0m1-4h0m1 3h0m2-2h0m3-1h0m7-1h0m4 4h0m3-1h0m11 3h0m0-3h0m1-2h0m1 4h0m3 0h0m12-2h0m3 2h0m3 0h0m-193 4h0m9 4h0m1 0h0m3 0h0m1-1h0m5-5h0m5 5h0m1 0h0m15-1h0m0-4h0m4 3h0m2-3h0m5 4h0m4 1h0m5-4h0m1 1h0m2 3h0m2-4h0m2 0h0m4 3h0m2-3h0m17 4h0m1-3h0m2 1h0m0-3h0m4 0h0m1 2h0m3 4h0m6-4h0m2 0h0m16-1h0m1 1h0m1 4h0m4-2h0m0-3h0m1-1h0m5 0h0m7 6h0m3-5h0m3 3h0m1-4h0m1 2h0m3 2h0m6-4h0m6 4h0m3-4h0m5 1h0m1 2h0m2-1h0m4 4h0m9-3h0m19-3h0m3 2h0m-213 5h0m4 5h0m0-4h0m3 3h0m7 0h0m0-4h0m4 0h0m2 2h0m2-2h0m6 5h0m7-1h0m11-4h0m4 0h0m1 6h0m3-2h0m9 2h0m4-1h0m5 1h0m8-5h0m2 1h0m3-1h0m6 5h0m6-4h0m0 0h0m0 4h0m1-6h0m1 5h0m1 1h0m3-1h0m9 0h0m1 0h0m0-4h0m0 2h0m0 3h0m3-4h0m1 0h0m0 2h0m3-2h0m9 1h0m8 1h0m6-1h0m1-3h0m6 6h0m1-4h0m1 1h0m6 2h0m4 1h0m5-6h0m7 0h0m1 0h0m9 4h0m1 0h0m9-3h0m22 2h0m-207 6h0m1 0h0m3 1h0m3-3h0m0 4h0m1-2h0m9 1h0m3 0h0m3-1h0m1 3h0m1-1h0m1-3h0m1 0h0m0 2h0m2 1h0m2 0h0m0-1h0m3 1h0m2 2h0m3-2h0m0-2h0m1 2h0m1 0h0m0-1h0m0-1h0m0 0h0m2 2h0m0-4h0m8 6h0m2-1h0m1 1h0m16 0h0m11-1h0m3 1h0m7 0h0m2 0h0m1-6h0m4 2h0m3 2h0m3 2h0m5-6h0m7 6h0m3-6h0m3 0h0m1 3h0m1-1h0m1 0h0m2 0h0m3 4h0m1-6h0m2 5h0m7-3h0m1 3h0m5-4h0m2 0h0m2 1h0m8 2h0m1-3h0m3 1h0m3 1h0m5 0h0m-174 8h0m2-1h0m0 1h0m2 0h0m1-1h0m1 1h0m5-1h0m2-2h0m5 2h0m4-3h0m6 6h0m13-6h0m4 2h0m7 2h0m4-4h0m3 5h0m5-3h0m0-1h0m0 2h0m4 2h0m0-2h0m2-1h0m2-1h0m6 4h0m1-4h0m1 5h0m3-2h0m4-2h0m3 0h0m7 0h0m22 1h0m10 1h0m5-2h0m2 0h0m4-1h0m1 4h0m3-2h0m2 0h0m6 3h0m1 0h0m3-4h0m0 1h0m1-3h0m2 0h0m0 0h0m15 6h0m-158 6h0m0-3h0m1 0h0m4-1h0m8 1h0m3 0h0m5 1h0m17 1h0m0 2h0m0 0h0m4-1h0m4-1h0m4 0h0m0 2h0m4-3h0m1 3h0m1-1h0m16 1h0m2-4h0m9 2h0m11-2h0m0 1h0m3-1h0m8 1h0m5 0h0m1-3h0m6 1h0m7 2h0m2-3h0m8 0h0m0 1h0m8-1h0m0 2h0m4 1h0m0-1h0m1-1h0m0 0h0m2-1h0m0 1h0m20-1h0m6 0h0m-188 12h0m2-1h0m0 2h0m1-5h0m0 3h0m13 0h0m4 2h0m15-6h0m11 0h0m0 1h0m0 2h0m1-1h0m3-1h0m1 1h0m7-1h0m2 4h0m1 0h0m1-2h0m9-2h0m1 4h0m4-5h0m2 3h0m2-1h0m4 2h0m2 2h0m7 0h0m4-2h0m6-4h0m4 0h0m2 0h0m3 4h0m12 2h0m10 0h0m1-3h0m2 1h0m0 1h0m12-4h0m19 3h0m1-4h0m0 5h0m-163 7h0m3-2h0m1 2h0m5-5h0m2 0h0m0 3h0m1 1h0m7-1h0m2 3h0m2-2h0m6 2h0m5-3h0m1-1h0m6 0h0m3 3h0m1-2h0m0 2h0m3-3h0m2 3h0m4 1h0m4-5h0m4 4h0m2-1h0m1 2h0m7 0h0m4-3h0m0-3h0m1 1h0m4 2h0m0-2h0m9 2h0m5-3h0m10 3h0m3-2h0m3 2h0m5-2h0m7 3h0m5-2h0m1 2h0m5-4h0m2 0h0m-129 11h0m0-1h0m2 1h0m4 1h0m3-2h0m2 3h0m0-1h0m1-1h0m3-2h0m7 0h0m1 3h0m3-5h0m3 0h0m0 2h0m2 1h0m11 1h0m2-3h0m2 5h0m10 0h0m11-5h0m4-1h0m7 5h0m3-4h0m4 1h0m2-1h0m0 0h0m5 0h0m12 2h0m5-1h0m3 0h0m1 0h0m12 3h0m2 1h0m18-6h0m10 3h0m8 2h0m-163 4h0m2 2h0m1 0h0m2-2h0m14 4h0m3 0h0m0-3h0m1 1h0m1-1h0m4 1h0m3 0h0m5 2h0m4-5h0m2 4h0m2-2h0m5 2h0m2-1h0m7-4h0m4 2h0m2-1h0m1 4h0m3 0h0m20-2h0m10-3h0m1 2h0m9-2h0m15 4h0m11-4h0m33 0h0m-165 9h0m3 2h0m0-4h0m4 0h0m3 2h0m5-1h0m3 3h0m9 1h0m4-4h0m0-1h0m3 2h0m3-1h0m2 1h0m2 3h0m0 1h0m1-2h0m3-2h0m2 0h0m4 3h0m6-3h0m18 1h0m1 1h0m4-1h0m3-2h0m2 0h0m0 4h0m10-4h0m9-1h0m-99 11h0m4-3h0m2 0h0m1 5h0m3-1h0m1-5h0m14 6h0m5-5h0m1 3h0m3 1h0m5-2h0m0-3h0m2 2h0m9-1h0m6 5h0m1-1h0m2 0h0m1-4h0m1-1h0m6 6h0m5-3h0m1-1h0m7 2h0m10 2h0m2-2h0m3-2h0m-84 11h0m1-3h0m1-3h0m16 2h0m1-2h0m0 1h0m0 3h0m5-1h0m1 3h0m3-3h0m7-1h0m2 1h0m3 0h0m6 3h0m1-6h0m4 1h0m1 3h0m1-2h0m1 2h0m1 0h0m4 0h0m1-3h0m11 3h0m2-4h0m-69 11h0m3 1h0m2 0h0m1-4h0m1 4h0m0-3h0m5 2h0m2-4h0m1 3h0m8-2h0m1 5h0m9-2h0m0-1h0m0 0h0m2 1h0m5 0h0m8-2h0m2 3h0m8-2h0m0-1h0m5 3h0m-51 4h0m5 3h0m7 0h0m0 1h0m1-2h0m4-4h0m1 1h0m2 4h0m3-5h0m1 3h0m3 1h0m0-4h0m10 6h0m8-2h0m3-2h0m1-2h0m17 2h0m11 0h0m-64 7h0m0-2h0m1 2h0m1 2h0m1-2h0m1 1h0m9-3h0m1 6h0m2-3h0m5-3h0m0 0h0m6 1h0m41 3h0m0-3h0m-54 12h0m49-5h0" stroke="#f3aea9"/><path d="M435 633h0m4-3h0m5-1h0m4 4h0m1-6h0m1 3h0m1 0h0m5 1h0m0 1h0m2 1h0m2-2h0m1 2h0m-43 6h0m1-2h0m3 1h0m8 0h0m2 1h0m5-5h0m1 4h0m5 0h0m1-4h0m7 4h0m3-1h0m3 1h0m6-2h0m3-2h0m0 6h0m2-2h0m0-2h0m-63 6h0m3 3h0m0-2h0m2 3h0m15-3h0m1 4h0m6-4h0m2-2h0m2 6h0m3-3h0m1 3h0m6-2h0m3-3h0m4-1h0m2 4h0m2-4h0m3 2h0m3 4h0m1-6h0m1 5h0m1-4h0m6 4h0m-82 7h0m7-3h0m5-1h0m11 5h0m6 0h0m5-1h0m3-5h0m8 6h0m1-5h0m2 1h0m1-1h0m7 3h0m1 0h0m1 1h0m3-5h0m5 4h0m3-4h0m5 5h0m5 0h0m2 1h0m3-4h0m-95 9h0m2-3h0m1 4h0m1-1h0m7-4h0m2 4h0m4 0h0m2-1h0m7 1h0m1 2h0m2-2h0m1 1h0m1-1h0m0-3h0m0 2h0m1-1h0m1 1h0m1 2h0m4-5h0m3 6h0m2-6h0m1 3h0m0-1h0m4 0h0m6-2h0m6 2h0m3-2h0m1 0h0m1 6h0m2-6h0m2 0h0m2 1h0m7 1h0m4 4h0m3 0h0m11-1h0m-94 3h0m12 3h0m1-2h0m1 3h0m5-5h0m5 6h0m2-1h0m15-4h0m3 0h0m6 4h0m3 1h0m7-5h0m5-1h0m0 0h0m15 6h0m12-5h0m2-1h0m-91 13h0m4 0h0m2-5h0m2 2h0m1 0h0m4-3h0m3 4h0m0-4h0m0 4h0m3-2h0m6 3h0m14 0h0m1-2h0m2 3h0m3-6h0m1 3h0m6 1h0m5-3h0m6 2h0m1-1h0m1 0h0m0 2h0m2-4h0m3 0h0m0 2h0m0 1h0m2-1h0m7 3h0m1-1h0m2-2h0m5-1h0m3 0h0m1 1h0m2 0h0m-91 5h0m5 4h0m13 1h0m3-3h0m1 0h0m3 4h0m0-4h0m2 2h0m2-1h0m1-2h0m7 0h0m1 1h0m10 3h0m2 1h0m0-3h0m1 0h0m14 0h0m5 3h0m2-6h0m0 6h0m5 0h0m3-4h0m4-1h0m6 1h0m3-2h0m2 3h0m-72 5h0m9 1h0m5 3h0m3-3h0m5-2h0m3 4h0m2-3h0m0 4h0m6-5h0m1 0h0m1 1h0m8 1h0m4 1h0m0 2h0m4-1h0m1-1h0m0 1h0m8-1h0m3 2h0m0-2h0m10-2h0m2 3h0m-79 5h0m0 3h0m1-5h0m3 4h0m8-1h0m2 2h0m1-5h0m1 3h0m7-3h0m1 0h0m2 5h0m1 0h0m8-4h0m4-1h0m0 4h0m12 0h0m2-4h0m1 1h0m6 1h0m3 3h0m2 0h0m1 1h0m1-2h0m0-4h0m7 3h0m4-1h0m0 1h0m-80 9h0m7-2h0m0 3h0m4-6h0m1 1h0m3 0h0m2 5h0m1 0h0m0-5h0m1 1h0m2 3h0m0 1h0m2-6h0m2 0h0m4 1h0m27 4h0m1 0h0m15-3h0m5-1h0m3 5h0m-87 4h0m1 2h0m7-1h0m0 2h0m2 0h0m0-3h0m1-2h0m2 0h0m2-1h0m4 6h0m1-6h0m4 1h0m2 3h0m0 1h0m4-3h0m9 2h0m2-2h0m3 0h0m6-1h0m1 2h0m6 0h0m4-2h0m2 0h0m11 3h0m3-3h0m8 2h0m-90 10h0m4 0h0m3-3h0m3 2h0m8-2h0m1 3h0m0-5h0m9 4h0m17-2h0m0-3h0m5 0h0m1 1h0m2 2h0m4 2h0m2-2h0m4-2h0m4 3h0m1 2h0m3-4h0m1 2h0m3-2h0m19-1h0m-96 11h0m0 0h0m1 0h0m0-4h0m8 5h0m14-4h0m1 1h0m4 3h0m7-4h0m1 0h0m0 0h0m5 0h0m7 2h0m0-3h0m2-1h0m6 6h0m0-1h0m3 0h0m6-4h0m7 0h0m1 5h0m2-5h0m1 1h0m0 0h0m0 1h0m0-1h0m2-2h0m4 6h0m3-3h0m2 3h0m5-5h0m-92 10h0m4-2h0m0 3h0m1-5h0m3 2h0m5 0h0m2 2h0m0-4h0m4 0h0m3 0h0m3 4h0m2-2h0m4-1h0m5 4h0m3-5h0m3 4h0m8-1h0m3-3h0m0 6h0m9-6h0m0 6h0m2-5h0m4 2h0m2-1h0m0 1h0m1 1h0m0 0h0m5-1h0m3 3h0m-71 5h0m1-2h0m0-2h0m8 4h0m3 0h0m1 1h0m3 1h0m6-6h0m2 0h0m1 0h0m16 6h0m1-4h0m3-1h0m1 5h0m4-4h0m6 4h0m1-5h0m2 5h0m1-5h0m4 3h0m1 2h0m0-1h0m0-1h0m9 1h0m8-5h0m1 2h0m-87 11h0m2-6h0m3 0h0m3 1h0m4 1h0m2-1h0m0-1h0m16 0h0m2 2h0m6 4h0m1 0h0m15-4h0m1 3h0m0-5h0m0 0h0m11 1h0m1 5h0m2-6h0m0 0h0m4 4h0m1 1h0m5-4h0m-80 10h0m1 0h0m2-4h0m3 5h0m0-2h0m0 0h0m2-1h0m2 2h0m6-2h0m2 0h0m2-1h0m2 4h0m6-3h0m0 0h0m2 1h0m7 3h0m4-5h0m2-1h0m7 1h0m8 2h0m1-1h0m4 2h0m2-2h0m1 0h0m2-1h0m4 4h0m1 0h0m1 1h0m-65 5h0m1-1h0m8 3h0m6-6h0m1 4h0m1 1h0m0 0h0m0 1h0m7-3h0m3 1h0m1 2h0m0-3h0m14-2h0m1 0h0m1 3h0m0 1h0m0 1h0m6-5h0m7 2h0m3-1h0m1-2h0m3 3h0m27-3h0m-96 8h0m1 4h0m6-1h0m2-1h0m0 1h0m4-1h0m2 2h0m3-2h0m2 2h0m2-4h0m4-1h0m4 3h0m3 1h0m1-2h0m0-2h0m20 3h0m5 0h0m4 3h0m0-6h0m0 5h0m-56 2h0m1 5h0m0 0h0m7-3h0m24 0h0m1 0h0m0 1h0m2-1h0m1-2h0m5 1h0m3 0h0m8 4h0m4-2h0m0-2h0m1 4h0m1 0h0m9-2h0m3 2h0m-75 5h0m2 3h0m0-1h0m6-3h0m5 4h0m0-5h0m5 5h0m1-2h0m2 1h0m1-2h0m4-2h0m0 4h0m0 0h0m0-2h0m7 3h0m11-1h0m8-1h0m0 2h0m6-3h0m2 2h0m2-3h0m14-2h0m-82 11h0m13 1h0m2-3h0m1 3h0m10-4h0m2 2h0m0-2h0m4 2h0m1-3h0m3 5h0m3-4h0m1 2h0m0-1h0m0 0h0m1 3h0m4-5h0m10 6h0m0-5h0m4 4h0m1-5h0m2 2h0m1 3h0m2-1h0m1 0h0m9-1h0m-69 10h0m4-4h0m4 4h0m0-1h0m12-3h0m1-1h0m4 0h0m3-1h0m3 4h0m0-4h0m7 4h0m1-3h0m10 5h0m5-6h0m1 6h0m30-1h0m-83 3h0m4-1h0m0 3h0m7 0h0m0 3h0m7-3h0m6 0h0m3-1h0m2 2h0m7-4h0m2 2h0m3 4h0m13-1h0m10 0h0m19 0h0m-83 2h0m6 0h0m0 3h0m3 0h0m4 3h0m1-6h0m6 2h0m8 1h0m5-1h0m5 4h0m1-4h0m4 4h0m1-1h0m1-2h0m3 3h0m1-4h0m2 3h0m2 0h0m1-3h0m-48 6h0m1 5h0m2-3h0m0 0h0m1-2h0m6 1h0m0 1h0m1-1h0m0 4h0m1 0h0m0 0h0m0-1h0m5-5h0m4 2h0m0 4h0m2-4h0m6-2h0m2 1h0m3 4h0m0 0h0m2-2h0m4 2h0m1-1h0m3-3h0m26 4h0m6-2h0m-88 4h0m5 0h0m2 1h0m1 1h0m7 4h0m2-1h0m11-5h0m4 6h0m8-1h0m2-2h0m2-1h0m3-1h0m1 3h0m1-2h0m4 2h0m0-1h0m1 0h0m-45 6h0m2 3h0m2-2h0m0 3h0m4-3h0m1 1h0m0 1h0m0 1h0m3-2h0m10 0h0m4-3h0m2 5h0m10-6h0m6 0h0m1 1h0m-53 11h0m4-5h0m2 6h0m2-2h0m1-4h0m3 3h0m4 0h0m15 3h0m1-1h0m7-1h0m4-1h0m7-3h0m-34 10h0m5-1h0m-14 8h0m1-3h0m1 0h0m6 5h0m4 1h0m2-6h0m2 0h0m3 3h0m3 0h0m0 2h0m-27 2h0m3 5h0m4-2h0m5-1h0m6 4h0m0-3h0m3 0h0m1 0h0m0 3h0m-18 3h0m4 1h0m3 2h0m3-1h0m1-4h0m2 0h0m0 2h0m-2 9h0" stroke="#84d2b1"/><path d="M472 728h0m12 1h0m1 2h0m1-5h0m-2 9h0m6 3h0m7-1h0m-17 6h0m1-4h0m0 2h0m3-2h0m4 2h0m-28 6h0m2 5h0m11-5h0m2 0h0m3 4h0m3-3h0m6 4h0m3-2h0m1 1h0m1-4h0m-28 10h0m5 0h0m8-3h0m2 2h0m0 1h0m6 2h0m0-3h0m2-2h0m0 5h0m1-2h0m0 1h0m5-1h0m5-4h0m1 4h0m0 2h0m-43 7h0m7-6h0m4 4h0m2 1h0m2-3h0m1 2h0m6-4h0m1 1h0m3 3h0m1 0h0m4-2h0m1 3h0m10 1h0m1 0h0m-35 5h0m1-3h0m8 1h0m2 3h0m1 1h0m1 0h0m6-5h0m-19 9h0m3 0h0m5-2h0m1-1h0m0 1h0m2 2h0m2 1h0m1-2h0m0 4h0m0-6h0m1 1h0m3 1h0m8-2h0m5 5h0m4-1h0m2-3h0m-41 11h0m7-1h0m2 2h0m0-4h0m1 2h0m0-3h0m2 4h0m15-3h0m2 0h0m0 4h0m1-1h0m7-5h0m1 4h0m4-4h0m-42 13h0m1-5h0m1 4h0m3-3h0m0 2h0m1 1h0m1-1h0m5-1h0m1-1h0m3-1h0m1 2h0m2 3h0m3-6h0m6 2h0m4 0h0m1 0h0m-22 7h0m12-2h0m10 5h0m1 0h0m0-4h0m1 3h0m1-3h0m2 2h0m0 3h0m3-4h0m-43 7h0m6-2h0m16 6h0m6-6h0m3 4h0m1-1h0m4 3h0m2-2h0m-37 9h0m3-1h0m1-2h0m2-2h0m2 5h0m1-2h0m0-2h0m9-1h0m16 4h0m2 0h0m-44 6h0m9-4h0m6 4h0m1-1h0m3 1h0m10-4h0m4 3h0m3 1h0m1-4h0m9 1h0m-46 6h0m6 5h0m3-5h0m2 5h0m7-3h0m13 0h0m1 1h0m1 2h0m11-2h0m-50 9h0m3-3h0m7 3h0m0 1h0m0-3h0m5-2h0m3 3h0m3-3h0m3 3h0m22-3h0m1-1h0m1 0h0m2 1h0m0 5h0m1-6h0m-58 12h0m5-1h0m1 1h0m1 1h0m11-4h0m6 0h0m0 1h0m4 2h0m1-5h0m1 2h0m2-1h0m0 3h0m11 0h0m2 0h0m0-1h0m1 3h0m-31 2h0m4 3h0m1-1h0m1-1h0m2-1h0m7 4h0m5-3h0m2 0h0m1-1h0m10 3h0m0-4h0m2 3h0m2-3h0m-67 13h0m25-3h0m3 2h0m7 0h0m1-4h0m8 4h0m6-1h0m4 0h0m4 0h0m7-2h0m1 0h0m2 1h0m0-2h0m-67 8h0m4 4h0m2-5h0m2 5h0m4 0h0m6-5h0m3 4h0m2-1h0m2-1h0m12 2h0m1-3h0m2 0h0m4 3h0m5-5h0m-48 10h0m22-3h0m4 1h0m0 0h0m4-1h0m8 3h0m1-3h0m0 0h0m8 6h0m1-4h0m3 1h0m0 0h0m2 0h0m3-2h0m4 2h0m1 0h0m-62 4h0m2 0h0m9 2h0m11 1h0m0-2h0m3 1h0m0-1h0m1 5h0m8 0h0m2-2h0m12-1h0m0-3h0m6 6h0m0-6h0m1 6h0m0-5h0m4 3h0m-50 5h0m3 1h0m4 2h0m0-2h0m1-3h0m1 1h0m3-1h0m1 4h0m10-4h0m7 6h0m8-6h0m1 6h0m3-5h0m-31 11h0m4-3h0m6 2h0m9 1h0m1-4h0m3 4h0m1-4h0m11 3h0m-24 6h0m5 3h0m1-4h0m2-2h0m10 6h0m0-1h0m0-3h0m1 2h0m-16 5h0m14-1h0m-4 6h0" stroke="#95cce9"/><path d="M412 869h0m-15 27h0m14 1h0m-26 6h0m11-1h0m1 11h0m0-6h0m0 6h0m1-2h0m1-2h0m0-2h0m1 2h0m0 3h0m1-3h0m1-2h0m0 4h0m1-1h0m2 1h0m-11 4h0m3 4h0m1-4h0m0 2h0m1-1h0m1 4h0m0 0h0m1-4h0m0 3h0m0 1h0m0-2h0m1-1h0m2 1h0m1 2h0m0-2h0m-12 8h0m0-1h0m0 1h0m1-2h0m0-2h0m1-1h0m2 0h0m1 3h0m0-1h0m1 2h0m0 0h0m1 2h0m1-4h0m1 4h0m-11 6h0m0-2h0m1-1h0m0 0h0m0 2h0m2 1h0m4 0h0m0-2h0m0 3h0m3-1h0m0-1h0m0 1h0m1-3h0m0-1h0m-9 8h0m1 3h0m1 1h0m1 0h0m1 0h0m2-2h0m-11 6h0m1 0h0m0-3h0m1 0h0m0 1h0m1 3h0m1 2h0m0-2h0m0 0h0m1-3h0m0 5h0m0 0h0m2-5h0m0 4h0m0-5h0m1 1h0m1 2h0m0 3h0m0-3h0m0 1h0m-5 4h0m2-1h0m1 3h0" stroke="#d9a5da"/><path d="M337 631h0m-20 7h0m35-4h0m-11 26h0m-16 5h0m13 1h0m8-1h0m1 1h0m4 0h0m4-2h0m1 4h0m10 0h0m-6 2h0m6-1h0m1 4h0m-33 7h0m21-2h0m-15 9h0m3-2h0m3 1h0m2 3h0m11-5h0m3 4h0m2-1h0m1 2h0m4-6h0m-42 13h0m3-1h0m5 1h0m12-2h0m8 0h0m21 1h0m-54 8h0m21-4h0m4 4h0m1-3h0m3 3h0m1-3h0m5 1h0m0-4h0m7 6h0m18-4h0m-64 8h0m4-3h0m8 4h0m5 1h0m2-2h0m2-1h0m4 3h0m2-5h0m3 0h0m12 4h0m18-3h0m-65 7h0m21 1h0m6-2h0m6 3h0m1-1h0m0 0h0m13-2h0m0 1h0m14 3h0m8-2h0m4 4h0m2-6h0m-75 10h0m0 3h0m4-5h0m0 2h0m7 2h0m9-3h0m20 0h0m4 1h0m11-1h0m2 2h0m5-1h0m5 1h0m9-4h0m3 4h0m-128 5h0m43-1h0m1 2h0m3-2h0m0 3h0m1-2h0m2-2h0m12 2h0m1 4h0m4-1h0m1-3h0m1 3h0m3-1h0m5 0h0m1 0h0m15 2h0m7-2h0m7-2h0m5-2h0m-118 9h0m32 3h0m1 1h0m23-5h0m0 4h0m3-1h0m4 0h0m9-2h0m7 4h0m1-5h0m2 0h0m3 1h0m15 2h0m11 0h0m-88 7h0m1 0h0m2-2h0m4 4h0m2-3h0m2-3h0m1 0h0m3 1h0m2-1h0m2 1h0m8 5h0m3-5h0m13 2h0m1 3h0m4-3h0m5 0h0m0 3h0m3 0h0m0-3h0m3 0h0m4 0h0m3 0h0m4-1h0m5-1h0m7 4h0m1-2h0m1 0h0m2-1h0m5 3h0m11 0h0m-132 4h0m23 3h0m4-1h0m4 2h0m2-2h0m3 0h0m3 1h0m10-1h0m2 2h0m3 0h0m1 0h0m2-6h0m6 3h0m1-1h0m1 2h0m1-2h0m1-2h0m0 1h0m5 2h0m2 1h0m1 2h0m5-3h0m2 0h0m17 0h0m11 3h0m0 0h0m3-1h0m3-5h0m3 2h0m1-2h0m13 4h0m3-3h0m1 2h0m0 3h0m2-6h0m-138 9h0m13 4h0m5-2h0m15 0h0m2 0h0m0-2h0m3-2h0m3 1h0m3 0h0m0 5h0m0-3h0m1-1h0m4 4h0m0-6h0m1 1h0m1-1h0m5 1h0m1-1h0m6 0h0m6 3h0m0-2h0m9 4h0m3-1h0m4-2h0m1 2h0m1-4h0m6 2h0m2 0h0m5-2h0m3 2h0m5 2h0m2-4h0m1 6h0m2-1h0m5-5h0m2 6h0m2-3h0m2-2h0m1 3h0m4-1h0m10-1h0m-132 9h0m10-1h0m1 1h0m2 0h0m4-1h0m4 2h0m1-4h0m1 3h0m12-4h0m5 6h0m13-5h0m4 1h0m2-1h0m2 0h0m5 4h0m5-2h0m0 2h0m8-1h0m12 0h0m2 2h0m5-4h0m1 2h0m1 1h0m2-4h0m1 0h0m1 1h0m4 1h0m2 3h0m2-5h0m1 0h0m1 4h0m5 0h0m2-4h0m8 0h0m1 2h0m-132 6h0m2 4h0m4-3h0m3 1h0m0-1h0m1 1h0m1-4h0m0 3h0m3-2h0m5 0h0m6 1h0m6 0h0m8-1h0m1 5h0m1-6h0m4 1h0m4 3h0m0-1h0m5 2h0m3-4h0m3 1h0m1 1h0m8-1h0m3-2h0m13 0h0m2 5h0m9-2h0m4 3h0m2 0h0m5-2h0m7-2h0m7 3h0m2 0h0m1-5h0m2 5h0m1-5h0m3 6h0m4-6h0m3 6h0m3-6h0m0 6h0m-149 4h0m10-3h0m2 6h0m3 0h0m2-5h0m0-1h0m5 4h0m1-1h0m4 1h0m7 1h0m3-5h0m7 2h0m0-1h0m3 3h0m5-4h0m13 2h0m4 3h0m1-4h0m2 1h0m5 4h0m1-4h0m3-1h0m3 4h0m4-3h0m3 2h0m0-2h0m6 3h0m0-5h0m1 2h0m2 1h0m2 2h0m9-3h0m5 0h0m5 3h0m4-2h0m6 2h0m4-3h0m3 1h0m1 0h0m5 1h0m3-1h0m1-1h0m-179 8h0m22 0h0m11 1h0m2 1h0m7 1h0m0-1h0m3-3h0m2 4h0m6-4h0m1 2h0m4-3h0m1 3h0m0 2h0m3-5h0m9 5h0m6-4h0m1 2h0m5-1h0m2-3h0m2 0h0m7 5h0m2-5h0m0 2h0m0 1h0m1-2h0m3 5h0m6 0h0m1-1h0m2-1h0m2-4h0m0 2h0m10-1h0m0-1h0m3 3h0m3 0h0m2-3h0m5 6h0m13-4h0m4 3h0m7 1h0m4-3h0m11-1h0m-146 8h0m1-1h0m0 2h0m5 0h0m2 2h0m1-2h0m1 2h0m1-2h0m1 0h0m3-1h0m1 0h0m4 3h0m6 0h0m7-5h0m4 5h0m1-1h0m2 1h0m7-2h0m4-3h0m1 2h0m1 1h0m2-1h0m10 2h0m14 1h0m1-1h0m1-5h0m3 2h0m2 2h0m8-2h0m6 1h0m2 2h0m2-5h0m0 1h0m1 5h0m3-5h0m1-1h0m3 5h0m5 1h0m3-1h0m0 1h0m1-5h0m1 4h0m3-4h0m13-1h0m0 2h0m1 4h0m1-4h0m-151 8h0m3 3h0m7-2h0m1-2h0m2 1h0m6-3h0m3 4h0m4 1h0m4 0h0m8 1h0m6-4h0m3-2h0m5 2h0m1-1h0m1 5h0m4-4h0m4 4h0m2-3h0m0 3h0m1-3h0m17 2h0m0 0h0m0 0h0m10-2h0m2 3h0m8-5h0m1 4h0m0-2h0m21-1h0m0 4h0m1-2h0m3-2h0m10-1h0m5 5h0m7 0h0m6-6h0m-176 13h0m16-3h0m4 0h0m0-2h0m9 1h0m1-2h0m10 6h0m1-5h0m2 0h0m4-1h0m1 3h0m3-3h0m6 5h0m6-4h0m2 3h0m0-4h0m16 4h0m2 2h0m0-3h0m4-2h0m0 0h0m2 3h0m4-3h0m3 3h0m4-1h0m0 2h0m11-2h0m2 0h0m6 3h0m1-5h0m6 0h0m2-1h0m0 1h0m2 4h0m2 0h0m16 0h0m1-3h0m6 2h0m9-2h0m0-2h0m3 4h0m15-3h0m-194 12h0m0-2h0m4 2h0m8-2h0m3 1h0m5 1h0m2-3h0m1 3h0m6 0h0m1-3h0m0 3h0m2-6h0m6 6h0m1-6h0m2 4h0m6 2h0m4-3h0m6 3h0m0-2h0m2 1h0m1-4h0m2 2h0m2-1h0m5 2h0m3 1h0m6-4h0m10-1h0m4 3h0m7 2h0m3-2h0m6 2h0m3-5h0m2 3h0m0 0h0m2-3h0m1 3h0m4-3h0m0 0h0m0 5h0m4-5h0m1 4h0m4 2h0m3-5h0m1 5h0m1-3h0m9-3h0m2 1h0m6 2h0m2 3h0m11-4h0m4 2h0m2 1h0m3-1h0m4-4h0m3 6h0m1-6h0m10 0h0m1 4h0m-191 4h0m7 1h0m10-1h0m0 4h0m2-4h0m2 2h0m13 2h0m2-2h0m3 1h0m5 1h0m2-4h0m3 2h0m5 0h0m2 1h0m5-3h0m8 4h0m4-1h0m1 0h0m1 2h0m2-3h0m3-1h0m11-2h0m0 2h0m4 3h0m2-4h0m0 0h0m1 3h0m8-2h0m1 2h0m2-1h0m7 1h0m3 1h0m4 0h0m9 0h0m10 0h0m10 0h0m0-2h0m1 3h0m6-4h0m3-2h0m11 0h0m1 5h0m4 0h0m1-5h0m2 4h0m2-3h0m-170 6h0m2 5h0m0-3h0m3 4h0m3-6h0m0 2h0m0 4h0m1-2h0m6 0h0m3-3h0m0 0h0m4-1h0m1 4h0m9-2h0m3 1h0m12 0h0m9-3h0m0 6h0m2-2h0m1-1h0m13 0h0m8 1h0m3 0h0m4-2h0m1 4h0m1-5h0m0 1h0m1 4h0m5-1h0m0-5h0m7 3h0m1-1h0m3-1h0m7-1h0m1 0h0m7 4h0m4 2h0m3-6h0m0 2h0m3 0h0m6 1h0m3 3h0m9-5h0m3 2h0m6-2h0m14 2h0m0 1h0m0 2h0m11-6h0m4 5h0m-176 6h0m1-3h0m6 2h0m1-2h0m4 4h0m1-3h0m5 1h0m6-1h0m4 0h0m4-2h0m4 3h0m1 1h0m4 2h0m1-3h0m8-3h0m1 0h0m4 0h0m1 0h0m1 0h0m1 6h0m7-3h0m3-2h0m4 2h0m0 1h0m6-2h0m4 4h0m6-3h0m9 2h0m0-3h0m1 2h0m1 2h0m10-4h0m10 3h0m9 1h0m7-1h0m1 0h0m1 0h0m9 0h0m3-1h0m2-1h0m2-1h0m15 0h0m-178 7h0m10 0h0m1-2h0m7 2h0m0 3h0m11-5h0m1 4h0m0-1h0m2-3h0m2 6h0m2 0h0m1-2h0m2 2h0m4-1h0m11-4h0m1 4h0m1 0h0m1-3h0m4 3h0m4-1h0m4-4h0m1 5h0m8 1h0m1-6h0m2 4h0m4-3h0m20 5h0m10-3h0m5-3h0m3 6h0m6-3h0m3-1h0m2 3h0m1 1h0m4 0h0m2-1h0m1-2h0m2 2h0m4-3h0m1 2h0m14-1h0m10 3h0m12-4h0m3 4h0m-190 1h0m17 3h0m8 2h0m3-2h0m2 0h0m8-2h0m0 5h0m8 0h0m2-5h0m4 5h0m7-5h0m1 5h0m0-5h0m3 0h0m9 4h0m5 1h0m10-3h0m6 1h0m1 1h0m3-3h0m4 1h0m3-1h0m6-2h0m2 2h0m10 3h0m6-3h0m1 1h0m3-2h0m6 4h0m2-4h0m10 0h0m13 5h0m9-2h0m4 1h0m-163 8h0m4-4h0m2 2h0m4-2h0m5-1h0m0 4h0m0-5h0m3 6h0m1-1h0m0-5h0m2 4h0m1-2h0m3 3h0m6-2h0m4 0h0m2 0h0m9-3h0m5 0h0m11 0h0m6 5h0m3-4h0m1 5h0m3 0h0m1 0h0m3-3h0m3 3h0m4-2h0m9-1h0m1 2h0m0-4h0m9 1h0m0 3h0m11 1h0m14-5h0m3 4h0m5-4h0m2 4h0m4 0h0m5-1h0m4-4h0m9 6h0m3-2h0m3 2h0m3-6h0m-160 9h0m4 3h0m4-5h0m2 4h0m1-2h0m6 4h0m0-5h0m0 4h0m1-3h0m5 3h0m0-4h0m8 5h0m2-1h0m7 0h0m7-1h0m9 1h0m2-4h0m5 2h0m0 3h0m3-5h0m4 3h0m1 1h0m0-3h0m1-2h0m5 0h0m3 1h0m2 2h0m4 1h0m5 1h0m4-3h0m2-2h0m5 2h0m1 3h0m4-2h0m0 3h0m7-2h0m11 2h0m8-4h0m3 1h0m4-3h0m10 2h0m0 0h0m16 1h0m0 0h0m-168 5h0m11 5h0m4-4h0m4 1h0m3-1h0m2 3h0m9 1h0m0-5h0m1 1h0m0-2h0m1 5h0m1-5h0m2 6h0m6-3h0m1 3h0m2-1h0m2 1h0m7-6h0m6 3h0m10 2h0m1-2h0m7 1h0m1-2h0m3 0h0m3 3h0m9 1h0m4-2h0m3-1h0m16 0h0m4 2h0m9-4h0m14-1h0m3 2h0m-127 8h0m4-1h0m1-1h0m10-1h0m3 5h0m1-2h0m2-2h0m6 3h0m1 2h0m0-5h0m3-1h0m3 5h0m2-5h0m0 5h0m7-5h0m10 5h0m3-4h0m14 1h0m3 3h0m1-4h0m1 4h0m1-2h0m7 2h0m4-1h0m4-4h0m45 0h0m6 0h0m1 0h0m3 6h0m-134 3h0m2 1h0m1 1h0m5 0h0m6-1h0m6-2h0m1 5h0m1-3h0m4-3h0m12 4h0m1-3h0m2 0h0m3 4h0m0-1h0m2 1h0m3-5h0m8 1h0m1 0h0m5 3h0m6-3h0m3 0h0m-59 9h0m0-2h0m1 3h0m2-1h0m7 2h0m19-2h0m7 0h0m0 3h0m1-2h0m44-2h0m17 2h0m4-2h0m17-1h0m17 5h0m-121 1h0m14 2h0m66 1h0m36 2h0m-12 2h0m-32 13h0m14 5h0m-2 8h0" stroke="#c6c88a"/><path d="M209 605h0m8-1h0m11 0h0m-25 6h0m13 1h0m1 1h0m2-1h0m1-2h0m2 3h0m1 0h0m2-4h0m3 3h0m0-2h0m0 1h0m8 2h0m10-6h0m13 6h0m-83 7h0m3 0h0m2-2h0m11 0h0m3 0h0m2-4h0m3 6h0m1-6h0m8 1h0m2 4h0m1 1h0m6-6h0m10 2h0m5-1h0m1 4h0m5 1h0m1-5h0m7 3h0m1 2h0m2-3h0m3 2h0m3 0h0m0-1h0m0 2h0m1-4h0m1 4h0m2-3h0m2 2h0m2-4h0m2 2h0m6-1h0m2 0h0m2 2h0m2 1h0m2 1h0m1-2h0m-117 9h0m20-5h0m6 4h0m1-5h0m3 4h0m26-4h0m8 4h0m1-1h0m1-1h0m5-2h0m17 0h0m0 0h0m0 4h0m9 2h0m7-2h0m3-3h0m0 0h0m3 5h0m1-1h0m4-4h0m3 5h0m6 0h0m8-2h0m2 0h0m-139 9h0m6-2h0m0-1h0m5-1h0m3 4h0m4-6h0m1 1h0m3 3h0m3 2h0m1-6h0m1 4h0m2 0h0m1-4h0m1 5h0m0-3h0m5 4h0m4-2h0m9-1h0m3 0h0m5 2h0m5-3h0m2 0h0m7-2h0m2 3h0m0 3h0m1 0h0m0-6h0m2 3h0m0 2h0m3-1h0m1 2h0m4-4h0m1 3h0m2 0h0m0-5h0m4 1h0m11 2h0m1 2h0m10 0h0m10-3h0m3 4h0m2-6h0m6 6h0m1-4h0m1 3h0m10 1h0m0-4h0m1 3h0m1 0h0m95-1h0m0 1h0m1-1h0m6-1h0m4-1h0m-260 10h0m4 1h0m0-6h0m7 2h0m2 0h0m4 4h0m4-2h0m2-2h0m1-1h0m1 5h0m3-3h0m0 1h0m22-2h0m4 1h0m3 0h0m1 0h0m1 3h0m6-3h0m4-1h0m3-1h0m2 1h0m2 4h0m2 0h0m2-1h0m1-5h0m1 1h0m7 1h0m6 2h0m14 2h0m4-5h0m0 4h0m6-3h0m1 3h0m2-5h0m22 0h0m10 6h0m2-6h0m1 4h0m94-3h0m7 3h0m1-4h0m-263 11h0m5 2h0m1-5h0m3 5h0m6-2h0m27 0h0m0-4h0m1 3h0m6 3h0m2-6h0m1 2h0m0 4h0m2 0h0m5 0h0m3-5h0m6 2h0m2-2h0m5 4h0m2-4h0m11 0h0m6 3h0m1-1h0m6 3h0m2-3h0m10 2h0m1-1h0m2-3h0m1 5h0m1-2h0m1-2h0m8-2h0m1 5h0m1 1h0m18-1h0m3-3h0m13 4h0m-168 6h0m6-2h0m1-3h0m3 1h0m5 2h0m0-1h0m1-2h0m8 0h0m5 2h0m13 1h0m2-3h0m1 4h0m2 1h0m5-3h0m10 2h0m10-4h0m2 2h0m1 2h0m3-2h0m7 1h0m3 3h0m0-6h0m10 5h0m4-5h0m1 4h0m10 0h0m4 0h0m22 2h0m1-2h0m6-4h0m2 5h0m8-3h0m3 3h0m1-2h0m2-1h0m1 3h0m1-2h0m3 1h0m6-3h0m32 3h0m13 0h0m2 2h0m15-1h0m-240 4h0m9 3h0m4 1h0m1-3h0m3 0h0m9 3h0m0-3h0m1 1h0m9-1h0m1 3h0m0-1h0m9-4h0m2 3h0m9 0h0m9-3h0m0-1h0m3 0h0m2 0h0m3 1h0m1 3h0m1-4h0m7 5h0m1-4h0m1 2h0m4 2h0m5-4h0m1 4h0m4-5h0m2 3h0m1 2h0m2-3h0m6 2h0m2-1h0m2-1h0m9 2h0m2 1h0m0-2h0m22-1h0m5 4h0m1-3h0m5 2h0m12-1h0m5-2h0m0 4h0m7 0h0m2-3h0m10 0h0m5 2h0m6-5h0m7 0h0m30 2h0m-242 10h0m0-2h0m0 2h0m0-4h0m1 2h0m3-3h0m9 0h0m4 5h0m3 1h0m1-2h0m0-4h0m1 2h0m1-2h0m0 6h0m1-6h0m3 5h0m2-3h0m1-1h0m0 4h0m14-3h0m0 3h0m11 0h0m3-4h0m1 3h0m0-4h0m7 0h0m0 5h0m1-1h0m2 0h0m1-4h0m3 2h0m4-1h0m0-1h0m1 4h0m1 0h0m3 2h0m1-6h0m1 3h0m3 3h0m2-3h0m0 0h0m11-3h0m3 2h0m4 2h0m3 2h0m3-2h0m2-1h0m3 1h0m12-2h0m3 0h0m2-2h0m8 6h0m3-5h0m5 5h0m1-3h0m0 3h0m4-2h0m6-3h0m0 5h0m0-1h0m1-5h0m4 1h0m14 4h0m0-2h0m4 0h0m3 3h0m18-4h0m12 1h0m3-1h0m-229 10h0m2 1h0m1-2h0m1 2h0m3 0h0m1-4h0m13-2h0m0 0h0m5 2h0m4 2h0m4 0h0m4 1h0m4-5h0m6 5h0m0 0h0m3 0h0m1 0h0m5-2h0m1 1h0m4 2h0m5-6h0m0 1h0m0 2h0m1 3h0m5-4h0m0 1h0m1 0h0m0-3h0m5 4h0m6-2h0m3 2h0m1-1h0m11 1h0m1 2h0m3-3h0m5-3h0m2 5h0m2 1h0m9-5h0m6 0h0m1 3h0m1-3h0m6 1h0m1 1h0m1-1h0m0-2h0m9 4h0m8-4h0m4 5h0m3 1h0m4-2h0m4-3h0m0-1h0m1 1h0m0 0h0m2 2h0m8-2h0m4 1h0m3 1h0m2 3h0m5-5h0m7 2h0m-192 6h0m20 4h0m2-4h0m0 3h0m2-1h0m4-3h0m3 4h0m3-3h0m4 1h0m8-3h0m1 5h0m6-4h0m4-1h0m1 3h0m3-2h0m4 2h0m2-3h0m1 1h0m3-1h0m1 5h0m5-2h0m0-3h0m26 4h0m1 1h0m2-2h0m2-1h0m4 2h0m0-3h0m1 0h0m1 2h0m1 1h0m8-1h0m13 2h0m1-5h0m0 5h0m9-5h0m3 0h0m1 5h0m3-5h0m1 4h0m4 2h0m4-1h0m2-2h0m7-1h0m3-2h0m6 5h0m2-2h0m-190 7h0m5 0h0m7-1h0m8-2h0m4 0h0m0 4h0m2 2h0m1-3h0m2-3h0m8 2h0m1 2h0m4 1h0m3-3h0m5-1h0m3 2h0m1-3h0m7 3h0m4 1h0m0 1h0m5-1h0m4 2h0m2-5h0m0 4h0m3-3h0m1 1h0m12 2h0m1-1h0m18 2h0m2-2h0m0-2h0m1 3h0m4 1h0m0-2h0m4-1h0m10-2h0m2 1h0m1 1h0m1 0h0m2-2h0m2 3h0m4-4h0m1 5h0m6-5h0m5 3h0m3-1h0m4-1h0m3 2h0m7 2h0m2-3h0m4 3h0m10-1h0m3 0h0m-196 8h0m2 0h0m0-3h0m8 2h0m1-3h0m1 3h0m4-2h0m1 4h0m3-1h0m4-1h0m7-4h0m0 4h0m1-2h0m7-1h0m3 5h0m8-6h0m13 5h0m2-4h0m0 4h0m2-3h0m0 3h0m2-5h0m8 4h0m7 1h0m4-5h0m5 2h0m9 1h0m1 3h0m7-2h0m0 1h0m9-1h0m4-4h0m1 3h0m2-3h0m1 0h0m3 4h0m3-3h0m17 0h0m3 3h0m7-4h0m6 6h0m6-5h0m9 4h0m2 1h0m2-2h0m13-3h0m-195 11h0m5-2h0m1 3h0m6-5h0m7 1h0m4 0h0m7-2h0m3 0h0m5 2h0m0-2h0m3 4h0m1 2h0m0-6h0m1 6h0m1-2h0m5-2h0m1 0h0m1-2h0m8 1h0m6 4h0m2-2h0m0-2h0m0 1h0m1 4h0m9 0h0m0-1h0m3-5h0m0 0h0m7 5h0m0-4h0m5-1h0m5 1h0m2 0h0m9 1h0m3-1h0m4 0h0m6 0h0m13 4h0m1-1h0m3 1h0m3 1h0m3-5h0m9 4h0m3-2h0m4 1h0m7 2h0m1-3h0m0 2h0m0 1h0m2-5h0m2 0h0m1 3h0m2 2h0m4-1h0m4-1h0m10-2h0m-189 8h0m0 2h0m0-4h0m2 0h0m1-1h0m7 6h0m2-5h0m0 5h0m6 0h0m2-2h0m2 1h0m8-1h0m4 0h0m5 1h0m2-2h0m0-2h0m1 3h0m2-2h0m4 3h0m2-2h0m4-1h0m0-2h0m2 0h0m2 5h0m1-2h0m3 0h0m0-2h0m5 1h0m2 2h0m12-4h0m7 2h0m1-2h0m4 0h0m1 1h0m0 4h0m3-2h0m1 0h0m6 3h0m6-6h0m7 2h0m0 2h0m5-4h0m6 3h0m1-2h0m3-1h0m10 4h0m3-3h0m4-1h0m0 0h0m5 6h0m13-1h0m14-4h0m-183 9h0m0-1h0m4 4h0m3-4h0m5 3h0m6-3h0m3-1h0m13 3h0m1-4h0m3 3h0m9 0h0m5 3h0m2-5h0m0-1h0m2 4h0m11-1h0m0-2h0m1 0h0m1 1h0m3 0h0m3 2h0m7 0h0m1 0h0m1 2h0m8-4h0m2-2h0m1 4h0m7-3h0m2 1h0m13 2h0m3-1h0m8 2h0m6-1h0m0-2h0m1 1h0m0-1h0m5 0h0m1 1h0m6 1h0m3-3h0m5 5h0m2-4h0m4 3h0m10-5h0m4 1h0m31 0h0m5 1h0m-211 8h0m4 1h0m2-1h0m2 3h0m0 0h0m1-5h0m9 5h0m8-4h0m2-2h0m2 2h0m3-1h0m6 5h0m1-3h0m1 2h0m2-4h0m4 1h0m2 2h0m0-4h0m7 6h0m5-4h0m6 3h0m1-1h0m1 1h0m0-4h0m2 2h0m0-1h0m11 2h0m2-1h0m2-3h0m8 0h0m15 1h0m3 2h0m1 0h0m2 2h0m2-3h0m1 0h0m2 1h0m0 1h0m1 0h0m2 0h0m7 2h0m1-5h0m5 3h0m14-1h0m2-1h0m6-2h0m5 2h0m1 0h0m2 4h0m4-5h0m20-1h0m-188 7h0m4 3h0m3-1h0m9 2h0m4 1h0m5-4h0m0 4h0m2 1h0m3-4h0m0-2h0m3 3h0m7-1h0m2-1h0m5 4h0m7 0h0m0-5h0m3 0h0m1 6h0m4 0h0m3-2h0m1 0h0m0 2h0m1 0h0m4 0h0m3-2h0m8-1h0m3 2h0m1-3h0m2 3h0m7-2h0m2 2h0m2 0h0m0-5h0m0 3h0m4 3h0m3 0h0m1-6h0m0 2h0m2 3h0m3-2h0m7-2h0m0 1h0m3-2h0m3 2h0m4 0h0m2 2h0m9 2h0m3-3h0m4-3h0m1 4h0m4-3h0m4 4h0m1-3h0m5 3h0m5 0h0m9-1h0m25 1h0m-201 2h0m4 5h0m4-4h0m7 5h0m1-1h0m0-3h0m6-1h0m8 1h0m14-1h0m1-1h0m3 6h0m13-3h0m2 3h0m3-5h0m4 1h0m0 2h0m1-2h0m1-2h0m2 6h0m1-1h0m2-2h0m10-2h0m1 0h0m7-1h0m1 6h0m2 0h0m3-2h0m10 2h0m1-6h0m2 4h0m2-1h0m1 1h0m2 1h0m12-1h0m4 2h0m1-3h0m2 0h0m11-2h0m3 0h0m4 2h0m0-1h0m27 3h0m4-4h0m-185 10h0m7 0h0m4-2h0m5 2h0m6-3h0m5 2h0m9-3h0m2 1h0m1 0h0m1 4h0m0-2h0m4 3h0m11-6h0m8 1h0m3-1h0m14 2h0m4 0h0m2-2h0m2 4h0m2 2h0m1-1h0m4 1h0m4-2h0m1-3h0m9 0h0m2 1h0m2 3h0m17 0h0m1-3h0m2 0h0m1 3h0m1-3h0m3 2h0m0 1h0m5-1h0m42 0h0m-180 4h0m2 0h0m17 2h0m4 3h0m0-2h0m5-4h0m3 4h0m9-1h0m1-3h0m2 5h0m12-4h0m7 4h0m3-4h0m9 2h0m11-2h0m2 2h0m4 2h0m0-2h0m1-2h0m2 0h0m3 4h0m2-2h0m2 2h0m5-4h0m1 5h0m4-6h0m1 6h0m3-1h0m4-1h0m4 1h0m0-3h0m2 1h0m4 3h0m9-4h0m4 1h0m-134 10h0m2-6h0m3 0h0m5 1h0m12 2h0m8-2h0m4 3h0m7-2h0m9-1h0m2 5h0m1-1h0m3 1h0m2-2h0m2-2h0m10-1h0m6 5h0m2-6h0m9 3h0m4 3h0m2-3h0m4-1h0m6 2h0m2-4h0m12 3h0m22 0h0m2-3h0m-139 11h0m2-4h0m0 3h0m1-3h0m9 6h0m3-2h0m0-2h0m0 2h0m9-4h0m3 2h0m3 4h0m1-5h0m1 2h0m7-3h0m4 1h0m1 5h0m1-3h0m2-2h0m4 1h0m0 3h0m6-4h0m5 5h0m9-6h0m2 6h0m2-2h0m4 2h0m1-1h0m5 1h0m5-3h0m1 0h0m4-3h0m5 1h0m5 1h0m26 1h0m14 3h0m3-2h0m-147 5h0m12 2h0m7-4h0m1 5h0m2-5h0m20 5h0m3 0h0m1-4h0m1 3h0m5-1h0m3-3h0m1 4h0m4 0h0m0-4h0m3 5h0m4 0h0m5 1h0m1-1h0m6-5h0m2 4h0m5-2h0m2 1h0m0-2h0m2 2h0m6 2h0m1-4h0m5 1h0m-96 7h0m1 0h0m3 0h0m2 3h0m0 0h0m1-2h0m2-2h0m4 1h0m8 3h0m7-1h0m5-2h0m3 0h0m1 2h0m1 1h0m1 1h0m1-2h0m4 0h0m1-2h0m4-2h0m1 1h0m4 0h0m0 1h0m3 2h0m11-2h0m3 2h0m2-2h0m5-2h0m-77 10h0m1-3h0m2 2h0m4 1h0m2-1h0m1-1h0m0 3h0m2-2h0m5-1h0m0 4h0m2-5h0m3 6h0m3-2h0m1 0h0m5-3h0m5 4h0m4 0h0m3-4h0m4 2h0m1-2h0m1 0h0m3-1h0m1 3h0m5-3h0m3 2h0m3-1h0m2 0h0m7 3h0m0-3h0m8 2h0m-65 6h0m2 1h0m1 1h0m3 1h0m4-3h0m2 4h0m9-4h0m4-2h0m10 0h0m2 4h0m4 2h0m4 0h0m1-1h0m2-3h0m1 1h0m13-1h0m-58 8h0m1 0h0m3-2h0m5-1h0m1 5h0m2-2h0m12 0h0m4-3h0m3 6h0m12-4h0m5 0h0m1 1h0m0 3h0m1-3h0m38 3h0m-78 3h0m2 0h0m3-1h0m10-1h0m7 1h0m1 5h0m7-3h0m0-2h0m5-1h0m35 6h0m2-3h0m-5 10h0m4-3h0m-31 5h0" stroke="#f3aea9"/><path d="M449 623h0m2 1h0m-12 6h0m1 0h0m5-1h0m3 3h0m7-4h0m1 1h0m3 3h0m1-1h0m0 1h0m-36 5h0m3 2h0m5-2h0m0 2h0m8-5h0m7 1h0m2 1h0m1-2h0m8 6h0m1-4h0m-55 10h0m4-1h0m9-1h0m6 3h0m0 0h0m2-4h0m1 0h0m2 3h0m2-3h0m1 2h0m3-3h0m0 2h0m12-1h0m5 3h0m4-4h0m1 3h0m0 2h0m6-4h0m0 0h0m2 1h0m1-2h0m-80 11h0m6 0h0m8-2h0m5-3h0m1 2h0m3 1h0m1-2h0m2 1h0m2-1h0m0 0h0m6-1h0m4 1h0m4 5h0m2-2h0m8-2h0m15 2h0m1 1h0m4-1h0m4-3h0m6 1h0m3 1h0m5 2h0m0-1h0m-91 6h0m0 1h0m16 2h0m6-3h0m4 3h0m0-2h0m0-2h0m1 3h0m1-5h0m1 5h0m0-1h0m4-2h0m7 3h0m1 1h0m7-4h0m1-2h0m7 5h0m5-1h0m5 2h0m2-1h0m1 0h0m1-4h0m3 4h0m1-3h0m2 2h0m1 1h0m9-5h0m1 0h0m2 2h0m3 0h0m2 0h0m0 2h0m-100 5h0m32-2h0m1 2h0m1-2h0m7 2h0m3 4h0m4-2h0m1 0h0m9-4h0m1 5h0m0-1h0m5-2h0m3 1h0m11 3h0m0-6h0m1 3h0m1 3h0m1-6h0m1 0h0m0 0h0m1 0h0m5 0h0m6 5h0m2-4h0m-92 7h0m1-1h0m4 3h0m2-3h0m1 3h0m1-1h0m7 4h0m1-2h0m5-3h0m2 2h0m2 3h0m3-3h0m2-1h0m5-1h0m2 5h0m7 0h0m0-2h0m10-3h0m3 4h0m3 0h0m2 1h0m11 0h0m3 0h0m0 0h0m2-1h0m1 0h0m4-3h0m2-1h0m0-1h0m5 1h0m4 2h0m-92 8h0m11 2h0m1-6h0m4 0h0m1 6h0m1-3h0m11-2h0m4 4h0m0 0h0m7-2h0m4-3h0m4 1h0m8-1h0m2 0h0m1 0h0m2 5h0m0-2h0m3-3h0m1 1h0m3 0h0m1 2h0m2-1h0m5-1h0m2 1h0m1 4h0m5-6h0m2 0h0m3 2h0m10-1h0m1 5h0m-90 4h0m5-1h0m3 0h0m1 0h0m5 2h0m5 2h0m1-6h0m0 1h0m2 4h0m9-1h0m5-1h0m1-1h0m4 4h0m1 0h0m0-2h0m5-1h0m15-2h0m1 3h0m8-2h0m3-2h0m4 6h0m0-5h0m-67 12h0m6-3h0m3 0h0m10-2h0m0 4h0m2 1h0m6 0h0m0-5h0m2 0h0m4 4h0m9-3h0m2-1h0m8 1h0m3 2h0m2 1h0m5-5h0m0 0h0m5 1h0m0 5h0m6 0h0m6-3h0m2-2h0m1 5h0m-82 7h0m3-2h0m1-1h0m2-2h0m3 3h0m1 1h0m2-5h0m5 6h0m3-5h0m1 2h0m8 0h0m0-1h0m3 3h0m3-5h0m1 0h0m19 2h0m7 0h0m6 1h0m2 0h0m4 0h0m6-3h0m-81 9h0m3 1h0m2-2h0m7 2h0m6-2h0m2 3h0m1 2h0m13-2h0m3-2h0m10 2h0m0-3h0m2 1h0m1-2h0m3 2h0m1 1h0m0-2h0m2 4h0m0-4h0m3-1h0m1 5h0m9 0h0m3 1h0m1-2h0m1-3h0m9 4h0m1-5h0m-92 11h0m5-3h0m1 4h0m3 1h0m2-3h0m1 3h0m2-2h0m7 2h0m5-3h0m0 3h0m5 0h0m3-5h0m1 5h0m18-5h0m2 3h0m3-4h0m9 0h0m0 4h0m5-4h0m3 5h0m0-3h0m3 0h0m7 1h0m0-3h0m-95 11h0m1-3h0m8 5h0m17-1h0m3 1h0m1-1h0m0-2h0m3 1h0m1-1h0m2 0h0m1-2h0m5 5h0m6 0h0m1-1h0m0-4h0m3 4h0m2-5h0m0 0h0m2 6h0m1-6h0m5 3h0m3 0h0m4 1h0m2-3h0m1-1h0m3 5h0m2-3h0m1 2h0m3-4h0m6 6h0m1-6h0m1 6h0m4-4h0m0-1h0m5 2h0m-92 8h0m5-3h0m1 1h0m4-1h0m10 4h0m0-2h0m13-1h0m2 4h0m2-3h0m1-1h0m7 2h0m2 0h0m1-4h0m1 2h0m7 3h0m1-1h0m1 0h0m9 2h0m0-6h0m2 5h0m4-1h0m4 0h0m3-2h0m1 3h0m0-5h0m2 0h0m1 5h0m6-3h0m2 4h0m-95 2h0m4 1h0m1-2h0m0 3h0m5-3h0m8 4h0m1 1h0m3-4h0m1 4h0m7-1h0m1 1h0m4-1h0m2-3h0m13 3h0m1-3h0m4 0h0m0 0h0m3 1h0m3 4h0m9-5h0m6-1h0m0 3h0m2 1h0m1 1h0m-77 3h0m4 5h0m2-5h0m1 5h0m3-5h0m3-1h0m5 1h0m7 3h0m0 2h0m4-6h0m0 3h0m4 0h0m3-2h0m5 1h0m4 1h0m2 0h0m1 3h0m14-1h0m3-2h0m5 2h0m9-5h0m-76 11h0m4-4h0m8 3h0m1-2h0m4 3h0m1-2h0m4 1h0m3 1h0m3 1h0m4 1h0m5-3h0m6-3h0m1 2h0m2-1h0m2 2h0m5 0h0m2-3h0m7 6h0m3 0h0m1-4h0m1-1h0m4-1h0m9 1h0m15 4h0m2-2h0m-98 5h0m1 3h0m1-3h0m2 5h0m0-4h0m2-1h0m1-1h0m1 3h0m2-2h0m0 3h0m6-2h0m0 3h0m5 1h0m1-2h0m4 1h0m4-3h0m2 1h0m0-1h0m2 1h0m0 3h0m1-3h0m6 3h0m0-3h0m14 0h0m11-1h0m1 4h0m1-6h0m2 0h0m-66 12h0m1-2h0m2 0h0m3-3h0m2 1h0m1 1h0m4 3h0m3-3h0m3 3h0m1 0h0m2-5h0m0 5h0m15 1h0m3-3h0m1 0h0m1 2h0m2-2h0m6 2h0m9-5h0m2 4h0m5 0h0m17 0h0m-87 9h0m3-4h0m1-2h0m4 4h0m5 2h0m0-3h0m4 1h0m1-3h0m0 4h0m16 0h0m5-3h0m5 0h0m4-1h0m0 0h0m0 4h0m3-5h0m1 4h0m3-3h0m0 4h0m3-4h0m2 4h0m5-5h0m16 6h0m13-1h0m-85 4h0m1-1h0m6 2h0m8-1h0m0-1h0m3 1h0m4 4h0m2-4h0m9-1h0m1 3h0m0-2h0m4-1h0m0 1h0m8-2h0m1 5h0m9 0h0m22 1h0m7-4h0m-92 11h0m1-6h0m0 3h0m0 3h0m27-2h0m3-2h0m6-2h0m0 4h0m2 0h0m3-1h0m3 0h0m1-2h0m2 1h0m4-1h0m1 0h0m0 0h0m1-1h0m3 6h0m0 0h0m1-5h0m26 2h0m-84 8h0m7-2h0m3 1h0m1 0h0m7-1h0m2 3h0m4 0h0m2-3h0m8-2h0m1 5h0m8 0h0m5-4h0m6 0h0m2 2h0m-54 8h0m3 2h0m0-6h0m3 0h0m3 3h0m0 3h0m2-5h0m6 4h0m1 1h0m5-2h0m4-1h0m1 2h0m5-5h0m2 5h0m5-1h0m12-2h0m1-1h0m4 1h0m31 4h0m5-5h0m-100 8h0m6-1h0m3 3h0m1-2h0m2-1h0m0 4h0m5-1h0m3 1h0m5-4h0m10 1h0m1 4h0m3 0h0m3 0h0m0-1h0m2-3h0m8 2h0m0 1h0m1-1h0m0-4h0m3 5h0m1-4h0m7 4h0m17-4h0m13 3h0m-83 8h0m1-3h0m4 4h0m2-6h0m2 3h0m3 0h0m3 2h0m1-4h0m11 3h0m0-3h0m2 1h0m5 4h0m3-4h0m0 0h0m2-2h0m9 1h0m37 0h0m-83 8h0m2 0h0m6-2h0m5 5h0m1-1h0m2-2h0m2 3h0m1-3h0m3 0h0m3 1h0m1 1h0m1 2h0m2-3h0m14-1h0m4-2h0m-53 7h0m2 2h0m1-2h0m4 1h0m2-1h0m11 4h0m0 0h0m3 2h0m1 0h0m2-1h0m3-4h0m3 4h0m2 1h0m1-4h0m11-1h0m1 1h0m-51 11h0m11-5h0m8 1h0m3 0h0m5-1h0m4-1h0m6 4h0m3-3h0m3 1h0m7 2h0m0-2h0m-42 9h0m1 2h0m5-6h0m10 1h0m1-1h0m1 5h0m7 1h0m5-3h0m0 2h0m2-1h0m4-3h0m2 1h0m-33 11h0m6-4h0m6 0h0m7 1h0m-23 9h0m4-5h0m4 4h0m0 0h0m1 0h0m1-1h0m6-3h0m0 1h0m0 5h0m1 0h0m7-6h0m0 0h0m-19 9h0m1 1h0m4 1h0m2-3h0" stroke="#84d2b1"/><path d="M472 722h0m-6 8h0m8-3h0m14 1h0m4 3h0m-28 1h0m4 5h0m17-2h0m6 0h0m0 2h0m-20 7h0m8-5h0m4 0h0m0 1h0m3 1h0m6-1h0m1 0h0m-7 9h0m1 1h0m4-1h0m-12 10h0m7-1h0m0-2h0m3 0h0m2-1h0m1-1h0m7 4h0m-30 4h0m0 4h0m0-4h0m5-1h0m2 1h0m0 0h0m4-2h0m7 0h0m0 3h0m5-3h0m2 5h0m1 0h0m-28 2h0m0 4h0m1-4h0m2 1h0m0 3h0m5 0h0m1-3h0m1 1h0m5 0h0m9 3h0m4-2h0m0 2h0m2-1h0m1-4h0m0 5h0m3-2h0m-34 8h0m1 1h0m3-3h0m6-2h0m2 1h0m7 4h0m4-2h0m2-3h0m2 1h0m7 1h0m-38 9h0m1-4h0m1 1h0m11 0h0m3 1h0m5-1h0m0 4h0m1-1h0m1-3h0m3 2h0m4-1h0m4 2h0m2-1h0m-34 9h0m5-5h0m2 1h0m7 4h0m3-4h0m1 2h0m0 3h0m5-6h0m0 6h0m1-5h0m8 2h0m-35 9h0m2-1h0m1-1h0m12 3h0m1-3h0m3-1h0m1 3h0m15 0h0m-35 5h0m3 3h0m1-1h0m6-3h0m2 3h0m10-1h0m5-1h0m-32 7h0m4 0h0m5 2h0m7-2h0m1 1h0m1-3h0m1-1h0m4 4h0m8 1h0m4-2h0m3 0h0m3-3h0m-42 10h0m2 3h0m0-4h0m10 1h0m2-1h0m8 1h0m1-2h0m3 5h0m1-2h0m7 1h0m2-2h0m1-1h0m2-2h0m-43 11h0m1-2h0m26 4h0m8-5h0m7 3h0m4-3h0m-51 11h0m9-4h0m10 4h0m1 0h0m9-3h0m1 1h0m5 2h0m0-5h0m4 3h0m6-1h0m4 0h0m-56 11h0m8-6h0m2 0h0m2 3h0m7 1h0m1-4h0m3 3h0m5 3h0m2-4h0m5 0h0m7-2h0m6 5h0m-39 8h0m0-6h0m8 2h0m3-1h0m1 2h0m1 3h0m0-1h0m1-1h0m1 1h0m10 0h0m8-4h0m2 5h0m0-4h0m5-2h0m4 0h0m-46 7h0m9 5h0m8-1h0m5 0h0m4-3h0m1 5h0m6-3h0m0-1h0m4 2h0m3-4h0m4 1h0m-65 11h0m0-1h0m2-4h0m1 5h0m4-2h0m0 2h0m12-3h0m2 4h0m1 0h0m1-2h0m4 0h0m0-4h0m10 3h0m0-2h0m6 4h0m2-2h0m2-3h0m3 6h0m0-5h0m2-1h0m4 4h0m4 0h0m-61 5h0m1 1h0m1 1h0m0 1h0m1-4h0m1 4h0m5 0h0m7 0h0m3 1h0m4-6h0m1 5h0m2-4h0m2 3h0m13-1h0m10 3h0m3-5h0m0 1h0m3 3h0m3-4h0m-63 6h0m3 3h0m3 2h0m0-4h0m4 5h0m6-1h0m6 0h0m2 1h0m1-6h0m1 3h0m1 3h0m8-6h0m0 4h0m4-3h0m2-1h0m5 5h0m0-3h0m3 3h0m1 1h0m8-6h0m1 5h0m1-2h0m1-3h0m0 1h0m-52 7h0m0 0h0m2 0h0m3-1h0m4 5h0m7 1h0m0-6h0m1 2h0m4 3h0m1 0h0m2-4h0m1 2h0m2 3h0m4-2h0m6 0h0m6 0h0m6-4h0m4 2h0m-36 5h0m3 4h0m8-4h0m1 0h0m6 5h0m7-1h0m1-1h0m1-1h0m-22 9h0m7 1h0m5 1h0m-8 4h0m3-3h0m0 5h0m5 0h0m4 1h0m4-6h0m-6 11h0m1-1h0" stroke="#95cce9"/><path d="M406 883h0m-4 11h0m5 2h0m-8 10h0m10-3h0m-12 10h0m0 0h0m1-6h0m2 3h0m0-3h0m1 0h0m1 0h0m0 3h0m0 1h0m3 1h0m0 0h0m0 0h0m1 0h0m-10 8h0m3-5h0m0 2h0m1 1h0m0-2h0m2-2h0m0 6h0m1-1h0m0-2h0m1-2h0m0 5h0m-12 7h0m2-1h0m0 1h0m1-1h0m2-1h0m0-3h0m0 2h0m1 2h0m1-1h0m1 0h0m0-4h0m1 0h0m1 0h0m1 5h0m0-5h0m-11 9h0m0 1h0m2 1h0m1 2h0m2-4h0m0 3h0m0-4h0m0 3h0m1-2h0m0 1h0m1 0h0m0 2h0m1 0h0m0-3h0m0-1h0m1 0h0m1 0h0m-11 9h0m2 1h0m1-3h0m2 0h0m2 5h0m1 0h0m1-4h0m-12 8h0m1-1h0m0 4h0m2-2h0m2 2h0m0-5h0m1 5h0m0-5h0m1 0h0m0 4h0m1 1h0m1-5h0m0 0h0m1 1h0m0-1h0m-8 7h0m0 1h0m0-2h0m1 2h0m2 2h0m2-4h0" stroke="#d9a5da"/></g><path d="M380.5 913.8L384.8 912.9L389.1 912.5L393.5 912.9L397.4 914.9L400.0 918.4L401.1 922.7L401.0 927.1L400.3 931.4L399.4 935.7L398.4 940.0L397.3 944.3L396.2 948.5L395.0 952.8L394.5 954.9M200.7 825.7L204.1 828.5L207.6 831.2L211.1 833.9L214.6 836.5L218.2 839.1L221.8 841.6L225.4 844.1L229.1 846.6L232.7 849.0L236.5 851.3L240.3 853.6L244.1 855.8L247.9 857.9L251.8 860.0L255.7 862.0L259.6 864.0L263.6 866.0L267.5 867.9L271.4 869.9L275.4 871.8L279.3 873.8L283.3 875.7L287.2 877.7L291.1 879.7L295.1 881.6L299.0 883.6L303.0 885.5L306.9 887.5L310.9 889.4L314.8 891.3L316.8 892.3M382.8 885.2L386.8 883.5L390.9 881.9L395.1 880.4L399.2 879.0L403.4 877.6L407.6 876.3L411.8 874.9L415.9 873.5L420.1 871.9L424.1 870.2L428.1 868.3L432.0 866.2L435.6 863.8L439.1 861.1L442.2 858.0L445.0 854.6L447.4 850.9L449.4 847.0L451.2 842.9L452.7 838.8L454.0 834.6L455.2 830.4L456.3 826.1L457.3 821.8L458.3 817.6L459.2 813.2L460.1 808.9L460.9 804.6L461.7 800.3L462.5 796.0L463.3 791.6L464.1 787.3L464.9 783.0L465.7 778.7L466.4 774.3L467.2 770.0L467.9 765.6L468.7 761.3L469.4 757.0L470.0 752.6L470.3 750.4M222.2 615.1L222.7 619.4L223.3 623.8L223.9 628.1L224.5 632.5L225.1 636.9L225.7 641.2L226.3 645.6L226.9 649.9L227.6 654.3L228.2 658.6L228.9 663.0L229.6 667.3L230.4 671.7L231.1 676.0L231.9 680.3L232.8 684.6L233.7 688.9L234.6 693.2L235.6 697.5L236.7 701.8L237.9 706.0L239.2 710.2L240.5 714.4L242.0 718.6L243.5 722.7L245.1 726.8L246.9 730.8L248.6 734.9L250.5 738.9L252.4 742.8L254.4 746.8L256.4 750.7L258.4 754.6M187.9 648.6L188.5 653.0L189.0 657.3L189.6 661.7L190.2 666.1L190.8 670.4L191.5 674.8L192.2 679.1L192.9 683.5L193.6 687.8L194.5 692.1L195.3 696.4L196.2 700.7L197.1 705.0L198.1 709.3L199.1 713.6L200.2 717.9L201.3 722.2L202.4 726.4L203.7 730.6L205.0 734.8L206.4 739.0L207.9 743.1L209.5 747.2L211.2 751.3L213.0 755.3L215.0 759.2L217.0 763.1L219.1 767.0L221.4 770.8L223.7 774.5L226.0 778.2M252.9 613.1L254.6 617.2L256.3 621.2L258.0 625.3L259.6 629.4L261.2 633.5L262.8 637.6L264.2 641.8L265.6 645.9L267.0 650.1L268.3 654.3L269.5 658.5L270.7 662.8L271.9 667.0L273.1 671.3L274.3 675.5L275.4 679.7L276.7 684.0L277.9 688.2L279.3 692.4L280.7 696.5L282.2 700.6L283.9 704.7L285.6 708.8L287.4 712.8L289.2 716.8L291.1 720.8L293.0 724.7L295.0 728.7L296.9 732.6L298.9 736.5L300.9 740.5L302.9 744.4L305.0 748.3L307.0 752.2L309.1 756.0L311.3 759.9L313.5 763.7L315.7 767.5L317.9 771.3L320.2 775.1L322.4 778.8L324.7 782.6L327.0 786.3L329.3 790.1L330.5 792.0M203.1 710.3L204.2 714.6L205.3 718.8L206.5 723.1L207.7 727.3L209.0 731.5L210.4 735.7L211.8 739.8L213.4 743.9L215.1 748.0L216.8 752.0M351.2 826.0L350.7 830.3L351.8 834.6L354.0 838.3L357.1 841.5L360.7 844.0L364.7 845.8L369.0 846.7L373.4 846.4L377.5 844.9L381.0 842.3L383.9 838.9L386.2 835.2L388.2 831.3L389.9 827.2L391.4 823.1L392.9 819.0L394.5 814.9L396.2 810.8L398.1 806.8L400.0 802.9L402.0 799.0L404.0 795.0L405.9 791.1L407.8 787.1L409.6 783.1L411.2 779.0L412.9 774.9L414.4 770.8L415.8 766.6L417.2 762.4L418.6 758.3L420.0 754.1L421.3 749.9L422.7 745.7L424.0 741.5L425.5 737.4L426.9 733.2L428.4 729.1L430.0 725.0L431.5 720.8L433.1 716.7L434.6 712.6L436.0 708.4M201.7 808.9L204.8 811.9L208.1 814.9L211.4 817.8L214.7 820.7L218.1 823.4L221.6 826.2L225.1 828.8L228.6 831.4L232.2 834.0L235.9 836.4L239.6 838.8L243.3 841.2L247.0 843.5L250.8 845.7L254.7 847.8L258.5 850.0L262.4 852.1L266.2 854.2L270.1 856.4L273.9 858.5L277.7 860.7L281.5 863.0L285.3 865.2L289.0 867.5L292.8 869.8L296.6 872.1L300.4 874.3L304.1 876.5L307.9 878.8L311.8 880.9L315.6 883.1L319.5 885.2L323.4 887.2L327.3 889.3L329.2 890.3M250.4 620.5L251.7 624.7L253.0 628.9L254.3 633.1L255.5 637.3L256.7 641.6L257.8 645.8L258.9 650.1L259.9 654.4L261.0 658.7L261.9 662.9L262.9 667.2L263.9 671.5L264.9 675.8L265.9 680.1L267.0 684.3L268.2 688.6L269.5 692.8L270.8 697.0L272.3 701.1L273.9 705.2L275.6 709.3L277.4 713.3L279.2 717.3L281.0 721.3L282.9 725.3L284.8 729.3L286.7 733.2L288.7 737.2L290.7 741.1L292.7 745.0L294.7 748.9L296.7 752.8L298.8 756.7L300.8 760.6L303.0 764.5L305.1 768.3L307.3 772.1L309.5 775.9L311.7 779.7L314.0 783.5L316.2 787.3L318.4 791.1L320.6 794.9L322.8 798.7L324.9 802.6L326.8 806.6L328.6 810.6L330.2 814.7L331.6 818.9L332.9 823.1L334.3 827.2L335.8 831.4L336.6 833.4M428.2 862.4L431.5 859.4L434.4 856.1L436.9 852.5L439.1 848.7L440.9 844.7L442.5 840.6L443.9 836.4L445.2 832.2L446.4 828.0L447.6 823.7L448.6 819.4L449.6 815.2L450.6 810.9L451.5 806.6L452.4 802.3L453.3 798.0L454.2 793.7L455.1 789.3L455.9 785.0L456.8 780.7L457.6 776.4L458.5 772.1L459.3 767.7L460.1 763.4L460.9 759.1L461.6 754.7L462.3 750.4L462.7 748.2M297.0 680.7L299.7 684.2L302.5 687.6L305.5 690.8L308.7 693.8L312.3 696.4L316.1 698.5L320.2 700.1L324.5 701.2L328.8 701.8L333.2 702.3L337.6 702.5L342.0 702.6L346.4 702.5L350.8 702.4L355.2 702.3L359.6 702.0L364.0 701.7L368.3 701.3L372.7 700.7L377.1 700.0L381.4 699.1L385.6 698.1L389.8 696.8L394.0 695.2L398.0 693.5L401.9 691.6L405.8 689.4L409.5 687.0L413.1 684.5L416.4 681.7L419.6 678.6L422.6 675.4L425.4 672.0L428.1 668.5L430.5 664.8L432.9 661.1L435.1 657.3L436.2 655.4M273.1 616.1L275.8 619.6L278.5 623.1L281.2 626.5L284.0 629.9L286.9 633.2L290.0 636.4L293.2 639.4L296.6 642.2L300.2 644.7L304.0 647.0L307.9 648.9L312.0 650.6L316.1 652.1L320.3 653.3L324.6 654.4L328.9 655.3L333.3 656.0L337.6 656.6L342.0 657.1L346.4 657.5L350.8 657.8L355.1 658.0L359.5 658.2L363.9 658.3L368.3 658.3L372.7 658.1L377.1 657.7L381.5 657.2L385.8 656.5L390.1 655.6L394.4 654.5L398.7 653.4L402.9 652.1L407.1 650.8L411.2 649.4L415.4 647.9L419.5 646.3L423.5 644.6L427.5 642.7L431.4 640.6L435.1 638.3L438.5 635.5L441.5 632.3M197.0 643.9L197.6 648.2L198.1 652.6L198.7 657.0L199.2 661.3L199.9 665.7L200.5 670.0L201.2 674.4L201.9 678.7L202.7 683.1L203.5 687.4L204.3 691.7L205.2 696.0L206.1 700.3L207.1 704.6L208.1 708.9L209.2 713.2L210.3 717.4L211.5 721.7L212.7 725.9L214.0 730.1L215.4 734.3L216.9 738.4L218.4 742.5L220.1 746.6L221.9 750.6L222.9 752.6M218.8 725.3L220.2 729.5L221.7 733.7L223.3 737.8L224.9 741.8L226.7 745.8L228.6 749.8L230.6 753.7L232.7 757.6L234.8 761.5L237.0 765.3L239.3 769.0L241.6 772.8L244.0 776.5L246.4 780.2L248.9 783.8L251.4 787.4L254.0 790.9L256.7 794.4L259.5 797.9L262.3 801.2L265.2 804.5L268.2 807.8L271.2 811.0L274.1 814.3L277.0 817.6L279.8 821.0L282.5 824.4L283.8 826.2M225.9 781.5L228.4 785.1L231.0 788.6L233.7 792.1L236.5 795.5L239.3 798.9L242.2 802.2L245.3 805.4L248.4 808.5L251.6 811.5L254.9 814.4L258.3 817.2L261.7 820.0L265.1 822.8L268.5 825.6L271.8 828.5L275.0 831.4L278.2 834.5L281.3 837.6L284.3 840.8L285.8 842.4M138.7 664.3L139.4 668.7L140.0 673.0L140.7 677.4L141.4 681.7L142.1 686.1L142.9 690.4L143.7 694.7L144.5 699.1L145.3 703.4L146.2 707.7L147.2 712.0L148.2 716.3L149.2 720.5L150.4 724.8L151.6 729.0L152.8 733.2L154.1 737.4L155.5 741.6L157.0 745.8L158.6 749.9L160.3 753.9L162.0 758.0L163.9 762.0L165.8 765.9L167.9 769.8L170.0 773.7L172.2 777.4L174.5 781.2L176.9 784.9L179.4 788.5M382.0 896.9L385.8 894.7L389.7 892.7L393.7 890.9L397.8 889.2L401.9 887.7L406.1 886.3L410.3 885.1L414.6 884.0L418.9 883.0L423.2 882.1L427.5 881.2L431.8 880.3L436.1 879.4L440.4 878.5L444.7 877.5L448.9 876.3L453.1 874.8L457.1 873.0L461.0 871.0L464.6 868.5L468.0 865.6L471.0 862.4L473.6 858.9L475.9 855.2L478.0 851.3L479.7 847.2L481.1 843.0L482.3 838.8L483.4 834.5L484.4 830.3L485.3 826.0L486.1 821.6L487.0 817.3L487.8 813.0L488.6 808.7L489.4 804.3L490.1 800.0L490.8 795.7L491.6 791.3L492.3 787.0L493.0 782.6L493.6 778.3L494.3 773.9L494.9 769.6L495.5 765.2L496.1 760.9L496.6 756.5L496.9 754.3M495.5 752.6L495.8 748.2L496.1 743.8L496.4 739.4L496.6 735.0L496.8 730.6M465.0 861.9L467.6 858.4L469.9 854.6L471.8 850.6L473.4 846.5L474.8 842.4L476.0 838.1L477.0 833.9L478.0 829.6L478.9 825.3L479.7 820.9L480.5 816.6L481.3 812.3L482.1 808.0L482.9 803.6L483.6 799.3L484.4 794.9L485.1 790.6L485.8 786.3L486.5 781.9L487.1 777.6L487.8 773.2L488.4 768.9L489.0 764.5L489.6 760.1L490.1 755.8L490.5 751.4L490.9 747.0L491.2 742.6L491.5 738.2L491.8 733.8L492.0 729.4L492.2 725.0L492.4 720.6L492.5 718.4M238.9 868.3L242.8 870.4L246.7 872.4L250.6 874.4L254.6 876.3L258.5 878.2L262.5 880.1L266.5 881.9L270.5 883.8L274.5 885.6L278.5 887.4L282.5 889.3L286.5 891.1L290.5 892.9L294.5 894.7L298.5 896.6M441.9 873.2L446.0 871.5L449.9 869.5L453.5 867.1L456.9 864.2L459.9 861.0L462.5 857.5L464.8 853.7L466.8 849.8L468.4 845.7L469.8 841.5L471.0 837.3L472.1 833.0L473.0 828.7L473.9 824.4L474.8 820.1L475.6 815.8L476.4 811.5L477.2 807.1L478.0 802.8L478.7 798.5L479.4 794.1L480.2 789.8L480.9 785.5L481.6 781.1L482.3 776.8L483.0 772.4L483.3 770.2M451.2 774.7L452.1 770.3L452.9 766.0L453.8 761.7L454.6 757.4L455.5 753.1L456.2 748.7L457.0 744.4L457.6 740.1L458.3 735.7L458.9 731.4L459.4 727.0L460.0 722.6L460.4 718.2L460.9 713.9L461.4 709.5L461.8 705.1L462.2 700.7L462.6 696.3L463.0 692.0L463.3 687.6L463.5 683.2L463.7 678.8L463.8 674.4L463.7 670.0L463.5 665.6L463.1 661.2L462.6 656.8L461.8 652.5L460.8 648.2L459.6 644.0L458.3 639.8L456.8 635.7L455.2 631.6L454.4 629.5M162.7 659.3L163.4 663.7L164.0 668.0L164.7 672.4L165.3 676.7L166.1 681.0L166.8 685.4L167.5 689.7L168.3 694.0L169.2 698.4L170.0 702.7L170.9 707.0L171.9 711.3L172.9 715.6L174.0 719.8L175.1 724.1L176.2 728.3L177.5 732.6L178.8 736.8L180.2 740.9L181.7 745.1L183.3 749.2L185.0 753.2L186.8 757.2L188.7 761.2L190.7 765.1L192.9 768.9L195.1 772.7L197.4 776.5L199.8 780.2L202.3 783.8L204.9 787.4L207.5 790.9L210.2 794.4L213.0 797.8L215.9 801.1L218.8 804.3L221.9 807.5L225.0 810.6L228.2 813.6L231.5 816.6L234.8 819.4L238.3 822.2L241.7 824.9L245.3 827.5L248.9 830.0L252.5 832.5L256.2 834.9L259.9 837.2L263.6 839.6L267.3 842.0L271.0 844.4L274.6 846.9L278.2 849.5L281.7 852.1L285.2 854.8L288.7 857.5L292.2 860.2L295.6 862.9L299.1 865.6L302.7 868.2M377.1 852.4L381.2 851.0L384.9 848.7L388.2 845.7L391.1 842.4L393.5 838.7L395.6 834.9L397.5 830.9L399.2 826.8L400.8 822.7L402.3 818.6L403.9 814.5L405.5 810.4L407.1 806.3L408.8 802.2L410.4 798.1L412.1 794.1L413.7 790.0L415.3 785.9L416.8 781.7L418.2 777.6L419.6 773.4L420.3 771.3M264.8 613.7L267.2 617.4L269.6 621.1L272.0 624.8L274.4 628.4L276.9 632.1L279.4 635.7L281.9 639.3L284.5 642.9L287.2 646.3L290.1 649.6L293.2 652.7L296.6 655.6L300.1 658.2L303.8 660.7L307.6 662.8L311.6 664.7L315.7 666.2L319.9 667.5L324.2 668.6L328.5 669.4L332.9 670.1L337.2 670.6L341.6 671.0L346.0 671.3L350.4 671.5L354.8 671.7L359.2 671.7L363.6 671.7L368.0 671.6L372.4 671.4L376.8 671.0L381.1 670.4L385.4 669.6L389.7 668.6L394.0 667.5L398.2 666.1L402.3 664.7L406.4 663.0L410.4 661.3L414.4 659.3L418.3 657.2L422.0 654.9L425.7 652.5M227.6 606.7L228.2 611.1L228.8 615.4L229.5 619.8L230.1 624.1L230.8 628.5L231.4 632.9L232.1 637.2L232.8 641.5L233.5 645.9L234.2 650.2L234.9 654.6L235.6 658.9L236.3 663.3L237.1 667.6L237.9 671.9L238.7 676.2L239.6 680.6L240.5 684.9L241.5 689.2L242.5 693.4L243.6 697.7L244.8 701.9L246.2 706.1L247.6 710.3L249.1 714.4L250.7 718.5L252.4 722.6L254.1 726.6L255.9 730.6L257.8 734.6L259.7 738.6L261.6 742.5L263.6 746.5M445.0 895.8L449.4 896.1L453.8 896.4L458.1 896.6L462.5 896.7L466.9 896.5L471.3 896.3L475.7 895.8L477.9 895.4M145.9 662.5L146.5 666.8L147.2 671.2L147.9 675.5L148.6 679.9L149.3 684.2L150.0 688.5L150.8 692.9L151.6 697.2L152.5 701.5L153.4 705.8L154.3 710.1L155.3 714.4L156.3 718.7L157.5 722.9L158.6 727.2L159.9 731.4L161.2 735.6L162.6 739.8L164.1 743.9L165.7 748.0L167.3 752.1L169.1 756.1L171.0 760.1L173.0 764.0L175.0 767.9L177.1 771.8L179.3 775.6L181.6 779.3L184.0 783.0L186.5 786.7L189.0 790.3L191.6 793.8L194.4 797.3L197.2 800.6L198.6 802.3M216.5 622.9L217.0 627.3L217.6 631.6L218.1 636.0L218.7 640.4L219.3 644.7L219.9 649.1L220.5 653.5L221.1 657.8L221.8 662.2L222.5 666.5L223.2 670.8L223.9 675.2L224.7 679.5L225.5 683.8L226.3 688.2L227.2 692.5L228.2 696.8L229.2 701.0L230.3 705.3L231.5 709.5L232.7 713.8L234.0 718.0L235.5 722.1L237.0 726.3L238.6 730.4L240.3 734.4L242.0 738.4L243.9 742.4L245.8 746.4L247.8 750.3L249.8 754.2L251.9 758.1L254.0 762.0L256.2 765.8L258.4 769.6L260.7 773.4L262.9 777.1L265.3 780.9L267.6 784.6L270.1 788.2L272.5 791.9L273.8 793.7M381.8 909.5L385.9 907.7L389.9 906.0L393.9 904.3L398.0 902.6L402.1 901.0L406.3 899.6L410.5 898.5L414.8 897.5L419.2 896.7L423.5 896.2L427.9 895.9L432.3 895.7L436.7 895.8L438.9 895.9M154.8 659.4L155.4 663.8L156.1 668.1L156.7 672.5L157.4 676.8L158.1 681.2L158.9 685.5L159.6 689.9L160.4 694.2L161.2 698.5L162.1 702.8L163.0 707.1L163.9 711.4L164.9 715.7L166.0 720.0L167.1 724.2L168.3 728.5L169.5 732.7L170.8 736.9L172.2 741.1L173.6 745.2L175.2 749.4L176.8 753.4L178.6 757.5L180.5 761.4L182.4 765.4L184.5 769.3L186.7 773.1L189.0 776.9L191.3 780.6L193.8 784.2L196.3 787.8L198.9 791.4L201.6 794.9L204.4 798.3L207.2 801.6L210.2 804.8L213.3 808.0L216.4 811.1L219.6 814.1L222.9 817.0L226.2 819.9L229.6 822.7L233.1 825.4M307.8 656.2L311.8 657.8L316.0 659.2L320.2 660.4L324.5 661.4L328.8 662.2L333.2 662.9L337.6 663.4L341.9 663.8L346.3 664.2L350.7 664.4L355.1 664.7L359.5 664.8L363.9 664.8L368.3 664.7L372.7 664.5L377.1 664.2L381.5 663.6L385.8 662.8L390.1 661.9L394.3 660.8L398.6 659.6L402.7 658.2L406.9 656.7L411.0 655.1L415.0 653.4L419.0 651.5L421.0 650.6M396.7 856.7L400.4 854.1L403.7 851.3L406.7 848.1L409.4 844.6L411.7 840.9L413.7 836.9L415.5 832.9L417.1 828.8L418.6 824.7L420.0 820.5L421.4 816.3L422.7 812.1L424.0 807.9L425.3 803.7L426.6 799.5L427.9 795.3L429.1 791.1L430.4 786.9L431.6 782.6L432.7 778.4L433.3 776.3M188.8 744.3L190.4 748.4L192.1 752.5L193.9 756.5L195.7 760.5L197.7 764.4L199.8 768.3L202.0 772.1M421.3 795.1L422.6 790.9L424.0 786.8L425.3 782.5L426.5 778.3L427.8 774.1L429.0 769.9L430.1 765.6L431.3 761.4L432.4 757.1L433.5 752.9L434.6 748.6L435.7 744.4L436.8 740.1L437.9 735.8L438.9 731.6L440.0 727.3L441.1 723.0L442.1 718.7L443.1 714.5L444.1 710.2L445.0 705.9L445.9 701.6L446.7 697.2L447.1 695.1M426.6 649.5L430.2 646.9L433.6 644.1L436.9 641.2L438.4 639.7M302.5 682.9L305.8 685.8L309.3 688.5L313.1 690.6L317.2 692.3L321.5 693.5L325.8 694.2L330.2 694.7L334.6 695.0L339.0 695.1L343.4 695.1L347.8 695.1L352.2 695.0L356.5 694.9L360.9 694.6L365.3 694.3L369.7 693.9L374.1 693.3L378.4 692.5L382.7 691.6L387.0 690.6L391.2 689.3L395.3 687.8L399.4 686.0L403.3 684.1L407.2 682.0L410.9 679.7L414.5 677.1L417.9 674.4L421.2 671.4L424.2 668.2L425.7 666.6M267.5 624.8L269.7 628.6L271.9 632.4L274.1 636.2L276.2 640.1L278.4 643.9L280.6 647.7L282.9 651.5L285.2 655.2L287.7 658.8L290.3 662.4L293.0 665.9L295.8 669.2L298.8 672.5L302.0 675.5L305.4 678.3L309.0 680.7L312.9 682.8L317.0 684.5L321.2 685.8L325.5 686.7L329.8 687.3L334.2 687.7L338.6 687.9L343.0 688.1L347.4 688.2L351.8 688.2L356.2 688.2L360.6 688.0L365.0 687.8L369.4 687.5L373.8 687.1L378.1 686.5L382.4 685.7L386.7 684.7L391.0 683.5L395.1 682.1M380.5 904.3L384.4 902.2L388.2 900.1L392.2 898.1L396.1 896.2L400.2 894.5L404.3 893.0L408.5 891.7L412.8 890.6L417.1 889.7L421.4 888.9L425.8 888.3L430.2 887.9L434.5 887.5L438.9 887.3L443.3 887.0L447.7 886.8L452.1 886.5L456.5 886.0L460.8 885.3L465.1 884.3L469.2 882.8L473.2 880.8L477.0 878.7L480.5 876.0L483.8 873.0L486.7 869.8L489.3 866.2M438.1 867.1L441.8 864.8L445.3 862.1L448.5 859.1L451.3 855.7L453.7 852.0L455.8 848.1L457.6 844.1L459.1 840.0L460.4 835.8L461.6 831.5L462.6 827.3L463.6 823.0L464.5 818.7L465.4 814.4L466.2 810.0L467.0 805.7L467.8 801.4L468.6 797.1L469.3 792.7L470.1 788.4L470.8 784.0L471.6 779.7L472.3 775.4L473.0 771.0L473.7 766.7L474.4 762.3L475.1 758.0L475.7 753.6L476.2 749.3L476.7 744.9M210.6 645.2L211.1 649.5L211.7 653.9L212.3 658.3L212.9 662.6L213.6 667.0L214.3 671.3L215.0 675.6L215.7 680.0L216.5 684.3L217.4 688.6L218.3 692.9L219.2 697.2L220.2 701.5L221.3 705.8L222.4 710.0L223.6 714.3L224.9 718.5L226.2 722.7L227.7 726.8L229.2 731.0L230.8 735.0L232.6 739.1L234.4 743.1L236.3 747.1L238.3 751.0L240.3 754.9L242.4 758.7L244.6 762.6L246.8 766.4L249.1 770.1L251.4 773.9L253.7 777.6L256.1 781.3L258.5 785.0L261.0 788.6L263.6 792.2L266.2 795.7L268.9 799.2M444.0 689.9L444.9 685.6L445.7 681.2L446.4 676.9L447.1 672.6L447.8 668.2L448.4 663.8L448.9 659.5L449.4 655.1L449.7 650.7L449.9 646.3L449.9 641.9L449.7 637.5L449.4 633.1L448.9 628.8L448.3 624.4L448.0 622.2M211.8 628.4L212.3 632.7L212.8 637.1L213.4 641.5L213.9 645.8L214.5 650.2L215.1 654.6L215.7 658.9M379.7 822.8L380.3 818.4L381.1 814.1L382.5 809.9L384.5 806.0L387.0 802.4L389.6 798.9L392.4 795.4L395.0 791.9L397.6 788.3L400.0 784.7L402.2 780.9L404.3 777.0L406.2 773.0L408.0 769.0L409.7 765.0L411.3 760.9L412.8 756.7L414.4 752.6L415.1 750.6M312.5 704.9L315.9 707.6L319.6 710.0L323.7 711.7L327.9 712.7L332.3 713.3L336.7 713.5L341.1 713.5L345.5 713.4L349.9 713.2L354.3 712.9L358.7 712.6L363.0 712.2L367.4 711.7L371.8 711.1L376.1 710.3L380.4 709.4L384.7 708.3L388.9 707.0L393.0 705.4L397.0 703.7L400.9 701.7L404.7 699.4L408.4 697.0L411.9 694.4L415.3 691.5L418.4 688.5L421.4 685.2L424.1 681.8L425.4 680.0M478.7 756.7L479.2 752.3L479.7 747.9L480.1 743.6L480.4 739.2L480.8 734.8L481.0 730.4L481.3 726.0L481.6 721.6L481.8 717.2L482.0 712.8L482.2 708.4L482.4 704.0L482.6 699.6L482.7 695.2L482.8 690.8L482.9 686.4L482.8 682.0L482.5 677.7L482.1 673.3L481.5 668.9L480.6 664.6L479.7 660.3L478.5 656.0L477.3 651.8L475.8 647.7L474.2 643.6L472.3 639.6L470.3 635.7L468.2 631.9L465.9 628.1M265.9 752.8L268.0 756.6L270.0 760.5L272.2 764.4L274.3 768.2L276.5 772.1L278.7 775.9L279.8 777.8M152.2 671.1L152.9 675.4L153.6 679.8L154.3 684.1L155.0 688.4L155.4 690.6M333.0 641.3L337.3 642.1L341.6 642.7L346.0 643.3L350.4 643.7L354.8 644.0L359.2 644.3L363.6 644.4L368.0 644.4L372.4 644.2L376.7 643.8L381.1 643.3L385.5 642.7L389.8 641.9M204.3 636.5L204.8 640.9L205.3 645.3L205.8 649.6L206.4 654.0L207.0 658.4L207.6 662.7L208.2 667.1L208.9 671.4L209.6 675.8L210.3 680.1L211.1 684.4L211.9 688.8L212.8 693.1L213.7 697.4L214.6 701.7L215.6 706.0L216.7 710.2L217.8 714.5L218.9 718.7L219.6 720.9M483.6 704.2L483.8 699.8L483.9 695.4L484.0 691.0L484.0 686.6L483.9 682.2L483.6 677.8M451.7 882.0L456.0 881.1L460.2 879.9L464.3 878.3L468.2 876.2L471.7 873.6L475.0 870.7L477.9 867.4L480.6 863.9L482.9 860.1L484.9 856.2L486.6 852.2L488.0 848.0L489.3 843.8L490.3 839.5L491.3 835.2L492.2 830.9L493.1 826.6L494.0 822.3L494.8 818.0L495.6 813.6L496.4 809.3L497.2 805.0L497.9 800.7L498.7 796.3L499.4 792.0L500.1 787.6L500.8 783.3L501.4 778.9L502.1 774.6L502.7 770.2L503.3 765.9M468.9 888.1L473.1 886.8L477.1 884.9L480.9 882.6L484.4 880.0M434.4 690.2L435.8 686.1L437.2 681.9L438.4 677.7L439.6 673.5L440.8 669.2L441.4 667.1M234.0 616.7L234.8 621.1L235.5 625.4L236.3 629.8L237.0 634.1L237.7 638.4L238.5 642.8L239.2 647.1L240.0 651.4L240.8 655.8L241.5 660.1L242.3 664.4L243.1 668.8L244.0 673.1L244.8 677.4L245.7 681.7L246.7 686.0L247.7 690.3L248.8 694.5L250.0 698.8L251.3 703.0L252.8 707.1L254.3 711.3L255.9 715.3L257.6 719.4L259.4 723.4L261.2 727.4L263.1 731.4L265.0 735.4L266.9 739.3L268.9 743.3L269.9 745.2M212.8 846.0L216.4 848.5L220.1 851.0L223.8 853.4L227.5 855.7L231.3 858.0L235.0 860.3L238.9 862.4L242.7 864.5L246.6 866.6L250.5 868.6L254.5 870.5L258.4 872.5L262.4 874.3L266.4 876.2L270.4 878.1M416.1 876.8L420.3 875.4L424.5 874.0L428.6 872.6L432.7 870.9L436.7 869.1M334.2 700.3L338.6 700.4L343.0 700.4L347.4 700.3L351.8 700.2L356.2 700.0L358.4 699.9M317.5 671.0L321.7 672.0L326.0 672.9L330.4 673.6L334.7 674.2L336.9 674.4M486.9 731.8L487.1 727.4L487.3 723.0L487.5 718.6L487.7 714.2L487.9 709.8L488.0 707.6M455.2 737.1L455.9 732.7L456.6 728.4L457.2 724.0L457.4 721.8M478.3 676.1L477.9 671.7L477.2 667.3L476.4 663.0L475.4 658.7L474.9 656.6M133.0 682.6L133.7 686.9L134.5 691.2L135.3 695.6L136.1 699.9L137.0 704.2L138.0 708.5L139.0 712.8L140.0 717.0L141.1 721.3L142.3 725.5L143.5 729.8L144.8 734.0L146.1 738.2L147.5 742.3L149.0 746.5L150.6 750.6L152.3 754.7L154.0 758.7L155.8 762.7L157.8 766.6L159.8 770.6L161.9 774.4L164.1 778.2L166.4 782.0L168.8 785.7M192.5 721.5L193.6 725.7L194.8 730.0L196.1 734.2L197.5 738.4L199.0 742.5L200.5 746.6L202.2 750.7L204.0 754.7L205.8 758.7L207.8 762.6L209.9 766.5L211.0 768.4M167.7 655.1L168.3 659.4L168.9 663.8L169.6 668.2L170.2 672.5L170.9 676.8L171.6 681.2L172.3 685.5L173.1 689.9L173.9 694.2L174.8 698.5L175.6 702.8L176.5 707.1L177.5 711.4L178.5 715.7L179.6 720.0L180.7 724.2L181.3 726.4M447.5 687.4L448.2 683.0L448.9 678.7L449.5 674.3L449.8 672.1M454.3 903.1L458.7 903.6L463.0 904.0L467.4 904.3L471.8 904.5L474.0 904.5M476.2 742.5L476.6 738.1L477.0 733.7L477.3 729.3L477.6 725.0L477.9 720.6L478.2 716.2L478.3 714.0M255.0 664.6L255.9 668.9L256.8 673.2L257.8 677.5L258.7 681.8L259.8 686.1L260.8 690.3L262.0 694.6L263.3 698.8L264.0 700.9M444.3 773.8L445.3 769.5L446.2 765.2L447.2 760.9L448.1 756.6L449.0 752.3L449.9 748.0L450.7 743.7L451.5 739.4L452.3 735.1M195.9 815.1L199.1 818.1L202.4 821.0L205.8 823.8L209.2 826.6L212.7 829.3L216.2 832.0M388.2 915.3L391.8 917.9L393.8 921.8L394.0 926.2L393.6 930.5L392.8 934.9L391.8 939.2L390.8 943.4L389.7 947.7L388.6 952.0L388.0 954.1M421.3 776.7L422.7 772.5L423.9 768.3L425.2 764.0L426.4 759.8L427.6 755.6L428.8 751.3L430.0 747.1L431.1 742.9M257.0 612.8L259.0 616.7L261.0 620.6L263.0 624.5L264.9 628.5L266.8 632.4M265.8 704.9L267.4 709.0L269.1 713.1L270.9 717.1L272.7 721.1L274.6 725.1L276.5 729.1L278.4 733.0L280.4 737.0M181.0 652.6L181.6 656.9L182.2 661.3L182.7 665.7L183.4 670.0M333.4 738.4L337.6 739.7L342.0 740.3L346.4 740.5L350.8 740.3L355.2 740.0L359.5 739.6L363.9 738.9L366.1 738.6M400.5 745.8L403.1 742.3L405.7 738.7L408.3 735.1L410.8 731.6L412.1 729.8M385.1 821.1L386.3 816.8L387.8 812.7L389.7 808.7L391.8 804.9L394.1 801.1L396.5 797.4L398.8 793.7L401.1 789.9L403.3 786.1M137.4 676.1L138.1 680.4L138.8 684.8L139.6 689.1L139.9 691.3M328.4 684.0L332.8 684.4L337.2 684.6L341.5 684.8L345.9 684.9L350.3 685.0L354.7 684.9L359.1 684.9L363.5 684.7L367.9 684.5L372.3 684.1L376.7 683.6L378.9 683.3M437.1 711.2L438.4 707.0L439.6 702.8L440.7 698.5L441.8 694.3M421.5 892.4L425.9 892.0L430.3 891.7L434.7 891.6L439.1 891.6L443.5 891.6L447.9 891.7L452.3 891.7L456.7 891.7L461.1 891.5L465.4 891.0L469.8 890.2L474.1 889.3M270.4 800.6L273.2 804.0L275.9 807.5L278.6 811.0L281.2 814.5L283.8 818.1L286.2 821.7L288.7 825.4L291.0 829.1M230.4 797.1L233.3 800.4L236.2 803.7L239.2 806.9L242.3 810.0M366.0 727.0L370.4 726.3L374.7 725.5L379.0 724.6L383.2 723.4L387.4 722.1L391.5 720.5L393.5 719.6M454.1 716.5L454.7 712.1L455.2 707.7L455.8 703.4L456.3 699.0L456.6 696.8M157.5 697.0L158.3 701.4L159.2 705.7L160.2 710.0L161.1 714.3M312.5 875.5L316.2 877.8L320.0 880.2L323.8 882.4L325.7 883.5M398.8 840.8L400.9 837.0L402.9 833.0L404.6 829.0L405.4 826.9M293.1 646.2L296.5 649.0L300.0 651.6L303.7 654.0L305.6 655.1M404.3 857.0L407.8 854.3L410.9 851.3L413.8 847.9L416.2 844.3L418.4 840.4L420.2 836.4L421.8 832.3L423.3 828.2L424.7 824.0L426.1 819.8L427.4 815.6L428.7 811.4L429.9 807.2L431.1 803.0M281.7 619.3L284.6 622.6L287.6 625.9L290.6 629.1L293.7 632.1L295.3 633.6M459.1 851.5L461.0 847.5L462.7 843.5L464.1 839.3L465.4 835.1L466.5 830.8L467.0 828.7" fill="none" stroke="#000" stroke-width="1.3" stroke-linejoin="round"/><path d="M364.9 826.5L362.2 829.8L364.1 833.5L368.3 833.6L370.5 829.9L368.4 826.3L364.1 826.6L361.8 830.2L364.0 833.9L368.2 834.1L370.9 830.7L370.4 826.5L366.5 824.6L362.4 826.0L360.0 829.6L361.0 833.8L364.4 836.4L368.7 836.7L372.4 834.4L374.6 830.6L375.5 826.3L375.3 821.9L374.1 817.7L372.1 813.8L369.4 810.3L366.3 807.2L362.9 804.4L360.7 801.8L360.2 800.9L360.0 800.6L363.7 798.2L367.4 795.9L371.2 793.6L375.0 791.3L378.7 789.0L382.4 786.6L385.9 784.0L389.3 781.1L392.5 778.1L395.4 774.8L398.1 771.3L400.5 767.7L402.7 763.9L404.7 760.0L406.6 756.0L408.5 752.0L410.3 748.0L412.1 744.0L414.0 740.0L415.9 736.0L417.9 732.1L419.9 728.2L422.0 724.3L424.0 720.4L426.1 716.5L428.1 712.6L430.0 708.6L431.8 704.6L433.6 700.6L435.2 696.5L436.6 692.4M286.5 669.9L288.5 673.8L290.5 677.7L292.6 681.6L294.7 685.4L296.9 689.2L299.2 693.0L301.5 696.7L304.0 700.4L306.5 704.0L309.1 707.5L311.9 710.9L314.9 714.2L318.1 717.2L321.6 719.8L325.5 721.9L329.7 723.3L334.0 724.0L338.4 724.3L342.8 724.3L347.2 724.1L351.6 723.8L355.9 723.4L360.3 723.0L364.7 722.4L369.0 721.8L373.4 721.0L377.7 720.0L381.9 718.9L386.1 717.5L390.2 716.0L394.3 714.3L398.2 712.3L402.0 710.1L405.7 707.7L409.2 705.1L412.6 702.3L415.9 699.3L418.9 696.1L421.8 692.8L424.4 689.3L426.9 685.6L429.1 681.8L431.1 677.9L433.0 673.9L434.7 669.9L436.4 665.8L438.0 661.7L439.6 657.6L441.2 653.5L442.7 649.4L444.1 645.2L445.3 641.0L446.2 636.7L446.8 632.3L447.1 627.9L447.1 623.5M267.0 636.8L268.8 640.8L270.4 644.9L272.1 649.0L273.6 653.1L275.2 657.2L276.7 661.4L278.2 665.5L279.6 669.7L281.1 673.8L282.6 677.9L284.1 682.1L285.6 686.2L287.2 690.3L288.9 694.4L290.6 698.4L292.4 702.5L294.2 706.5L296.1 710.4L298.1 714.4L300.1 718.3L302.1 722.2L304.1 726.1L306.2 730.0L308.3 733.9L310.4 737.7L312.5 741.6L314.7 745.4L316.9 749.2L319.2 753.0L321.5 756.7L323.8 760.5L326.1 764.2L328.5 767.9L331.0 771.5L333.6 775.1L336.3 778.5L339.2 781.9L342.3 785.0L345.6 787.9L349.2 790.4L353.2 792.2L357.5 792.8L361.9 792.0L366.0 790.5L370.0 788.7L374.0 786.8M223.7 758.9L225.8 762.8L228.0 766.6L230.3 770.3L232.6 774.1L235.0 777.8L237.5 781.4L240.0 785.0L242.6 788.6L245.2 792.1L247.9 795.5L250.8 798.9L253.7 802.2L256.7 805.4L259.8 808.5L263.0 811.6L266.2 814.6L269.3 817.7L272.5 820.8L275.5 824.0L278.4 827.2L281.3 830.6L284.1 834.0L286.9 837.4L289.6 840.8L292.4 844.2L295.2 847.6L298.0 851.0L300.9 854.3L303.9 857.5L307.0 860.7L310.1 863.7L313.4 866.7L316.8 869.5L320.2 872.3L323.7 874.9L327.4 877.4L331.0 879.8L334.8 882.1L338.6 884.3L340.6 885.3M465.2 763.1L465.9 758.8L466.6 754.4L467.2 750.1L467.8 745.7L468.3 741.4L468.8 737.0L469.3 732.6L469.7 728.2L470.1 723.8L470.4 719.5L470.8 715.1L471.1 710.7L471.4 706.3L471.7 701.9L471.9 697.5L472.2 693.1L472.4 688.7L472.5 684.3L472.6 679.9L472.5 675.5L472.3 671.1L471.9 666.7L471.3 662.4L470.5 658.1L469.5 653.8L468.4 649.5L467.0 645.3L465.4 641.2L463.6 637.2L461.7 633.3L459.6 629.4L457.4 625.5L456.4 623.6M338.2 786.9L340.9 790.3L343.5 793.8L345.5 797.8L345.9 802.1L345.0 806.4L343.7 810.6L342.4 814.8L341.6 819.1L341.3 823.5L341.6 827.9L342.4 832.2L343.9 836.4L346.1 840.2L348.7 843.7L351.8 846.8L355.2 849.6L358.8 852.1L362.7 854.2L366.7 855.9L371.0 857.1L375.4 857.6L379.7 857.2L384.0 856.2L388.1 854.5L391.9 852.3L395.4 849.7L398.6 846.7L401.5 843.4L404.0 839.8L406.2 835.9L408.2 832.0L409.9 828.0L411.5 823.9L413.0 819.7L414.5 815.6L415.9 811.4L417.4 807.3L418.8 803.1L420.2 798.9L420.9 796.8M355.5 785.9L359.8 785.1L364.0 783.7L368.1 782.1L372.2 780.4L376.1 778.5L380.0 776.4L383.7 774.0L387.2 771.4L390.6 768.5L393.6 765.3L396.4 761.9L398.9 758.3L401.2 754.6L403.4 750.8L404.5 748.9M281.9 735.1L283.8 739.1L285.8 743.0L287.8 746.9L289.8 750.8L291.9 754.7L293.9 758.6L296.0 762.5L298.1 766.3L300.3 770.2L301.4 772.1M294.0 627.2L297.4 630.1L300.9 632.7L304.6 635.1L308.5 637.2L312.5 639.0L316.6 640.6L320.8 641.9L325.0 643.1L329.3 644.1L333.6 644.9L338.0 645.6L342.3 646.2L346.7 646.7L351.1 647.1L355.5 647.4L359.9 647.6L364.3 647.7L368.7 647.7L373.1 647.4L377.4 647.0L381.8 646.4L386.1 645.6L390.4 644.7L394.7 643.8L399.0 642.8L403.3 641.7L407.6 640.6L411.8 639.5L416.1 638.4L420.3 637.1L424.5 635.8L428.6 634.4L432.7 632.7L436.6 630.7M309.0 712.7L311.5 716.3L314.2 719.8L317.0 723.2L319.9 726.5L323.2 729.4L326.7 732.0L330.6 734.1L334.8 735.5L339.1 736.2L343.5 736.5L347.9 736.4L352.3 736.1L356.7 735.6L361.0 735.1L365.4 734.4L369.7 733.6L374.0 732.7L378.3 731.6L382.5 730.3L386.6 728.8L390.6 727.0L394.5 725.0L398.4 722.8L402.0 720.4L405.6 717.8L408.9 715.0L412.2 712.0L415.3 708.9L418.3 705.6L421.1 702.2L423.7 698.7L425.0 696.9M176.2 670.3L176.9 674.6L177.6 679.0L178.3 683.3L179.1 687.7L179.9 692.0L180.7 696.3L181.6 700.6L182.5 704.9L183.5 709.2L184.5 713.5L185.5 717.8L186.6 722.0L187.7 726.3L188.9 730.5L190.2 734.7L191.6 738.9L193.0 743.1L194.6 747.2L196.3 751.2L198.1 755.3L200.0 759.2L202.0 763.1L204.1 767.0L206.3 770.8L208.6 774.5L211.0 778.2L213.5 781.9L216.0 785.5L218.7 789.0L221.4 792.5L224.1 795.9L226.9 799.3L229.8 802.6L232.8 805.8L235.9 808.9L239.1 812.0L242.3 815.0L245.7 817.8L249.1 820.6L252.6 823.3L256.1 825.9L259.7 828.4L263.3 831.0L266.9 833.5L270.4 836.2L273.9 838.9L277.3 841.7L280.6 844.5M238.3 607.9L239.2 612.2L240.1 616.5L241.0 620.9L242.0 625.2L242.9 629.5L243.8 633.8L244.6 638.1L245.5 642.4L246.3 646.7L247.2 651.0L248.0 655.4L248.8 659.7L249.7 664.0L250.5 668.3L251.4 672.6L252.3 676.9L253.2 681.2L254.2 685.5L255.2 689.8L256.3 694.1L257.5 698.3L258.9 702.5L260.3 706.6L261.9 710.8L263.5 714.8L265.2 718.9L267.0 722.9L268.9 726.9L270.8 730.9L272.7 734.8L274.6 738.8L276.6 742.7L278.6 746.7L280.6 750.6L282.6 754.5L284.6 758.4L286.7 762.3L288.8 766.1L290.9 770.0L293.1 773.8L295.3 777.6L297.5 781.4L299.7 785.2L300.8 787.1M299.2 792.0L301.4 795.8L303.6 799.6L305.7 803.4L307.8 807.3L309.9 811.2L311.9 815.1L313.9 819.0L315.8 823.0L317.8 826.9L319.7 830.9L321.8 834.8L323.9 838.6L326.1 842.4L328.6 846.1L331.2 849.6L334.0 853.0L337.1 856.1L340.4 859.1L343.8 861.8L347.4 864.4L351.1 866.8L354.9 869.0L358.9 870.9L360.9 871.7M336.6 838.9L339.2 842.4L342.1 845.8L345.2 848.9L346.8 850.4M436.1 773.7L437.2 769.4L438.3 765.2L439.3 760.9L440.4 756.6L441.3 752.3L442.3 748.0L443.3 743.8L444.2 739.5L445.1 735.1L446.0 730.8L446.9 726.5L447.7 722.2L448.5 717.9L449.3 713.5L450.0 709.2L450.7 704.9L451.4 700.5L452.0 696.2L452.6 691.8L453.1 687.4L453.7 683.1L454.1 678.7L454.5 674.3L454.8 669.9L455.0 665.5L455.1 661.1L455.0 656.7L454.7 652.3L454.3 647.9L453.7 643.6L453.4 641.4M381.4 875.9L385.6 874.7L389.8 873.3L394.0 872.0L398.2 870.6L402.3 869.1L406.4 867.4L410.4 865.6L414.3 863.6L418.0 861.2L421.4 858.5L424.5 855.3L427.3 851.9L429.6 848.2L431.6 844.2L433.3 840.2L434.9 836.1L436.4 832.0L437.7 827.8L439.0 823.5L440.2 819.3L441.3 815.1L442.4 810.8L443.5 806.5L444.5 802.2L445.5 798.0L446.5 793.7L447.5 789.4L448.4 785.1L449.4 780.8L450.3 776.5M328.1 759.0L330.7 762.6L333.3 766.1L336.2 769.4L339.4 772.4L342.9 775.1L346.9 776.9L351.2 778.0L355.6 778.3L359.9 777.7L364.2 776.6L368.3 775.2L372.4 773.5L376.4 771.6L380.2 769.5L383.9 767.1L387.4 764.5L389.1 763.0M311.9 629.3L315.9 631.2L320.0 632.9L324.1 634.4L328.3 635.6L332.6 636.7L336.9 637.6L339.1 638.0M276.4 796.4L278.9 800.0L281.4 803.6L283.9 807.3L286.2 811.0L288.6 814.7L290.8 818.5L293.0 822.3L295.2 826.2L297.4 830.0L299.5 833.8L301.8 837.6L304.0 841.4L306.4 845.1L308.9 848.7L311.4 852.3L314.2 855.7L317.0 859.1L319.9 862.4L323.0 865.5L326.3 868.5L329.7 871.2L333.2 873.9L336.8 876.4L340.6 878.7L344.4 880.9L346.4 881.9M315.3 728.4L317.9 732.0L320.5 735.5L323.3 738.9L326.2 742.2L329.3 745.4L332.5 748.4L335.9 751.2L339.6 753.6L343.6 755.4L347.8 756.4L352.2 756.6L356.6 756.2L360.9 755.4L365.2 754.3L369.4 753.0L373.5 751.5L377.6 749.8L381.6 748.1L385.6 746.1L389.3 743.8L393.0 741.3L396.5 738.7L399.8 735.8L403.0 732.7L406.1 729.6L409.0 726.4L411.9 723.0L414.7 719.7L417.4 716.2L420.1 712.7L422.6 709.1L425.0 705.4L427.3 701.6L429.4 697.8L431.4 693.8M332.9 728.6L337.3 729.1L341.7 729.3L346.1 729.1L350.5 728.9L354.9 728.5L359.2 728.0M260.7 758.8L262.9 762.6L265.0 766.4L267.2 770.2L269.5 774.0L271.7 777.8L274.0 781.6L276.4 785.3L278.7 789.0L281.1 792.7L283.5 796.4L285.8 800.1L288.2 803.8L289.3 805.7M236.7 827.4L240.2 830.0L243.9 832.4L247.5 834.9L251.2 837.2L253.1 838.4M271.3 748.6L273.3 752.5L275.4 756.4L277.4 760.3L279.5 764.2L281.7 768.0L283.8 771.9L286.0 775.7L288.2 779.5L290.4 783.3L292.7 787.1L294.9 790.9L296.0 792.8M486.2 763.1L486.8 758.7L487.3 754.3L487.7 750.0L488.1 745.6L488.4 741.2L488.7 736.8M298.5 775.4L300.7 779.2L303.0 783.0L305.2 786.8L307.4 790.6L309.6 794.4L311.8 798.2L313.9 802.1L316.0 806.0L318.0 809.9L320.0 813.8L321.9 817.7L323.8 821.7L325.6 825.7L327.5 829.7L329.4 833.7L331.5 837.5L332.7 839.4M357.4 825.0L355.5 828.9L355.8 833.3L358.0 837.0L361.4 839.9L365.4 841.7L369.8 842.1L374.1 841.2L378.0 839.2M363.7 810.1L359.3 809.9L355.1 811.0L351.2 813.2L347.9 816.1L345.4 819.7L343.9 823.8L343.5 828.2L343.7 830.4M463.0 738.4L463.5 734.0L464.0 729.6L464.4 725.3L464.9 720.9L465.3 716.5L465.7 712.1L466.0 707.7L466.4 703.3L466.7 699.0M307.5 672.8L311.5 674.6L315.7 676.1L319.9 677.2L324.2 678.1L328.6 678.7L333.0 679.2L337.3 679.5L341.7 679.8L346.1 679.9L350.5 680.0L354.9 680.0L359.3 680.0L363.7 679.8L368.1 679.7L372.5 679.3L376.9 678.9L381.2 678.2L385.6 677.4L389.8 676.3L394.0 675.1L398.2 673.6L402.3 672.0L406.3 670.2L410.2 668.2L414.1 666.0L417.8 663.7L421.3 661.1L424.8 658.3L428.1 655.4L431.2 652.4L432.8 650.8M475.0 793.9L475.7 789.6L476.4 785.2L477.1 780.9L477.8 776.5L478.2 774.4M291.7 807.6L293.8 811.4L296.0 815.2L298.0 819.1L300.1 823.0L302.1 826.9L304.2 830.8L306.3 834.7L308.4 838.5L310.6 842.4M324.4 744.1L327.2 747.5L330.0 750.9L332.9 754.1L336.0 757.3L339.4 760.1L343.1 762.5L347.0 764.5L351.3 765.5L355.7 765.6L360.0 765.0L364.3 764.0L368.5 762.6L372.6 761.0L376.6 759.2L380.5 757.1L384.2 754.9L387.8 752.3L391.3 749.6L394.5 746.6L396.1 745.1M132.0 708.9L133.0 713.2L134.1 717.5L135.2 721.7L136.4 726.0L137.6 730.2L138.9 734.4L140.3 738.6L141.7 742.8L143.2 746.9L144.8 751.0L146.4 755.1L148.1 759.1M182.2 673.6L182.9 677.9L183.6 682.3L184.3 686.6L185.1 690.9L186.0 695.2L186.8 699.5L187.8 703.9L188.7 708.1L189.7 712.4L190.7 716.7L191.8 721.0M326.2 792.0L328.3 795.8L330.4 799.7L332.2 803.7L333.8 807.8L334.9 812.1L335.7 816.4L336.4 820.7M458.9 690.7L459.3 686.4L459.6 682.0L459.9 677.6L460.1 673.2L460.2 668.8L460.2 664.4L460.1 662.2M489.1 715.5L489.3 711.1L489.5 706.7L489.6 702.3L489.8 697.9L489.9 693.5L489.9 691.3M365.1 869.3L369.4 869.9L373.8 870.0L378.2 869.7L382.6 868.9L386.8 867.9L391.1 866.6L395.2 865.2L399.3 863.6L403.3 861.8L407.2 859.7L411.0 857.4L414.5 854.8L417.7 851.8L420.5 848.4L423.0 844.8L425.1 840.9L427.0 836.9L428.6 832.8L430.1 828.7L431.4 824.5L432.7 820.3L433.9 816.1L435.1 811.8L436.3 807.6L437.4 803.3L438.6 799.1L439.6 794.8L440.7 790.6L441.8 786.3L442.8 782.0L443.8 777.7L444.3 775.6M318.8 704.8L322.9 706.3L327.2 707.2L331.6 707.7L336.0 707.9L340.4 708.0L344.8 708.0L349.2 707.9L353.6 707.7L358.0 707.4M297.2 636.4L300.8 638.9L304.5 641.2L308.4 643.2L312.5 644.9L316.6 646.4L320.8 647.7L325.1 648.8L329.4 649.7L333.7 650.5L338.1 651.2L342.5 651.7L346.8 652.1L351.2 652.5L355.6 652.8L360.0 652.9L364.4 653.0L368.8 652.9L373.2 652.7L377.6 652.3L382.0 651.8L386.3 651.0L388.5 650.6M328.7 718.3L333.0 719.0L337.4 719.3L341.8 719.3L346.2 719.2L350.6 719.0L355.0 718.7L357.2 718.5M350.7 853.0L354.3 855.5L358.2 857.7L362.1 859.5L366.3 861.0L370.6 861.9L375.0 862.0L379.4 861.7L383.7 860.9L387.9 859.7L390.0 858.9M432.3 804.5L433.5 800.3L434.7 796.0L435.8 791.8L436.4 789.6M474.7 712.0L475.0 707.6L475.2 703.2L475.5 698.8L475.7 694.4L475.9 690.0L476.0 685.6L476.0 681.2M375.1 815.5L374.5 811.2L375.3 806.9L377.6 803.2L380.3 799.7L383.4 796.5L386.6 793.5L389.7 790.4L392.7 787.2L394.2 785.5M312.2 839.2L314.4 843.0L316.8 846.8L319.3 850.4L321.9 853.9L324.8 857.2L327.8 860.4L331.0 863.5L334.3 866.4L337.8 869.1L341.3 871.7L345.0 874.0L348.8 876.2L350.8 877.2M328.3 740.1L331.8 742.8L335.5 745.1L339.6 746.8L343.9 747.8L348.2 748.2L352.6 748.1L357.0 747.6L361.4 746.9L365.7 746.0L369.9 745.0L374.2 743.8L378.4 742.4L382.5 740.9L386.5 739.2L390.5 737.2L394.2 735.0M344.7 771.7L349.0 773.0L353.3 773.2L357.7 772.6L362.0 771.5L366.2 770.2L370.3 768.7L374.3 766.9L378.2 764.9L382.0 762.7L383.9 761.5M489.4 860.1L491.2 856.1L492.7 852.0L494.0 847.8L495.2 843.6L496.2 839.3L497.2 835.0L498.1 830.7L499.0 826.4L499.8 822.1M194.9 650.8L195.4 655.1L196.0 659.5L196.6 663.8L197.2 668.2L197.5 670.4M280.9 781.2L283.2 785.0L285.5 788.7L287.8 792.5L290.1 796.3L292.3 800.0L294.5 803.8L296.7 807.7L298.8 811.6L300.8 815.4L302.8 819.3L304.8 823.3L306.8 827.2L308.8 831.1M277.5 881.0L281.5 882.8L285.5 884.7L289.5 886.6L293.4 888.4M338.6 669.8L343.0 670.2L347.4 670.4L351.8 670.6L356.2 670.7L360.6 670.7L365.0 670.7L369.3 670.6L373.7 670.3M327.6 777.3L330.1 781.0L332.5 784.6L335.0 788.3L337.5 791.9M343.3 749.3L347.7 749.9L352.1 749.9L356.5 749.5L360.8 748.9M199.4 688.1L200.2 692.4L201.1 696.8L202.0 701.1L202.5 703.2M365.2 707.0L369.5 706.5L373.9 705.8L378.2 705.0L382.5 704.1L384.6 703.5M368.3 816.1L364.0 815.6L359.7 816.5L355.7 818.4L352.0 820.7M302.7 807.2L304.7 811.1L306.7 815.0L308.7 819.0L310.7 822.9L312.6 826.8L314.6 830.8L316.6 834.7M360.8 715.3L365.2 714.8L369.5 714.2L373.9 713.5L378.2 712.7M286.3 848.2L289.5 851.3L292.7 854.3L295.9 857.3L299.2 860.3L300.8 861.7M348.5 762.8L352.9 763.5L357.3 763.3L361.6 762.5L363.7 762.0M343.3 854.5L346.7 857.3L350.2 859.9L353.9 862.3L357.7 864.5L361.7 866.4L365.8 867.8L368.0 868.4M290.2 832.3L292.7 836.0L295.1 839.6L297.6 843.2L300.2 846.8M334.3 860.3L337.6 863.2L341.1 865.9L344.6 868.4L348.3 870.8L352.2 873.0L356.2 874.8M250.7 636.5L251.7 640.8L252.7 645.0L253.7 649.3L254.6 653.6L255.5 657.9L256.0 660.1" fill="none" stroke="#000" stroke-width="0.55" stroke-linejoin="round"/><path d="M374.3 832.3L372.2 838.0L368.8 834.9ZM404.1 761.4L403.4 767.4L399.4 765.2ZM334.6 724.2L328.7 725.5L329.4 721.0ZM424.8 688.8L423.3 694.7L419.6 691.9ZM400.7 929.9L398.9 924.1L403.5 924.5ZM235.1 850.5L229.2 849.4L231.6 845.5ZM283.8 876.0L277.8 875.5L279.8 871.4ZM289.1 695.0L284.8 690.6L289.1 688.9ZM328.9 768.4L323.9 765.0L327.7 762.4ZM434.4 864.8L430.7 869.6L428.4 865.6ZM461.8 799.7L463.1 805.6L458.5 804.8ZM228.7 661.4L225.5 656.2L230.1 655.5ZM241.4 717.1L237.5 712.5L241.8 711.0ZM194.1 690.5L190.9 685.5L195.4 684.6ZM208.8 745.7L204.7 741.3L209.0 739.7ZM273.2 671.8L269.5 667.0L274.0 665.8ZM302.2 743.0L297.6 739.0L301.7 736.9ZM209.8 734.2L206.0 729.5L210.3 728.1ZM389.3 828.7L389.1 834.8L384.9 832.9ZM418.1 759.8L418.5 765.8L414.2 764.4ZM240.0 839.2L234.1 838.0L236.6 834.2ZM293.3 870.1L287.3 869.2L289.7 865.2ZM255.6 804.3L250.1 801.7L253.5 798.6ZM302.8 856.4L297.3 853.8L300.7 850.7ZM268.3 689.2L264.6 684.4L269.1 683.2ZM308.7 774.5L303.9 770.8L307.9 768.5ZM470.5 718.9L472.3 724.6L467.7 724.3ZM470.8 659.6L474.0 664.8L469.4 665.5ZM446.0 829.5L446.7 835.5L442.2 834.2ZM456.9 780.1L458.1 786.1L453.6 785.2ZM340.4 702.6L334.7 704.7L334.9 700.1ZM406.3 689.1L402.6 693.9L400.3 689.9ZM318.8 652.9L312.7 653.4L314.1 649.0ZM392.9 654.9L387.9 658.4L386.9 653.9ZM202.0 679.3L198.8 674.2L203.3 673.4ZM212.2 724.4L208.5 719.6L212.9 718.3ZM234.0 760.1L229.3 756.2L233.4 754.0ZM262.7 801.7L257.3 798.9L260.8 795.9ZM257.0 816.2L251.3 814.3L254.3 810.8ZM145.9 706.1L142.5 701.1L147.0 700.2ZM161.3 756.5L157.1 752.3L161.3 750.5ZM443.1 877.9L438.2 881.3L437.2 876.8ZM487.9 812.4L489.1 818.3L484.6 817.5ZM496.4 738.8L498.4 744.5L493.8 744.3ZM345.1 838.9L340.6 834.8L344.8 832.9ZM403.2 841.1L401.6 847.0L398.0 844.2ZM387.8 771.1L384.6 776.3L381.9 772.6ZM480.3 818.2L481.5 824.1L476.9 823.2ZM489.7 759.5L491.2 765.4L486.7 764.8ZM271.0 884.0L265.0 883.7L266.9 879.6ZM293.2 757.2L288.5 753.3L292.6 751.2ZM467.9 847.2L467.7 853.3L463.5 851.4ZM478.1 802.2L479.4 808.1L474.8 807.3ZM336.4 645.4L330.5 646.7L331.3 642.2ZM397.5 643.1L392.5 646.7L391.5 642.2ZM459.2 728.6L460.8 734.4L456.2 733.8ZM463.7 669.4L466.1 675.0L461.5 675.0ZM344.1 736.6L338.4 738.5L338.6 734.0ZM397.0 723.7L393.1 728.4L391.0 724.3ZM190.4 735.3L186.5 730.6L190.9 729.3ZM233.2 806.2L227.7 803.7L231.1 800.6ZM179.6 739.4L175.7 734.8L180.1 733.4ZM240.5 823.9L234.6 822.3L237.5 818.7ZM250.2 666.7L246.9 661.7L251.4 660.8ZM274.9 739.3L270.3 735.3L274.5 733.3ZM404.9 811.9L405.0 817.9L400.8 816.3ZM302.4 659.8L296.5 658.5L299.1 654.7ZM375.2 671.2L369.7 673.9L369.4 669.3ZM234.6 653.0L231.4 647.8L236.0 647.1ZM247.0 708.8L243.1 704.2L247.5 702.7ZM315.1 821.5L310.6 817.6L314.7 815.5ZM337.5 856.6L331.9 854.2L335.2 851.0ZM465.3 896.6L459.8 899.0L459.7 894.4ZM154.4 710.7L151.0 705.7L155.5 704.7ZM175.2 768.5L170.6 764.6L174.7 762.4ZM445.7 732.4L446.8 738.4L442.3 737.4ZM454.2 678.1L455.9 683.9L451.3 683.4ZM224.8 680.1L221.5 675.0L226.1 674.2ZM247.0 748.9L242.5 744.9L246.6 742.9ZM413.3 897.8L408.4 901.4L407.3 896.9ZM420.3 859.6L417.0 864.7L414.4 860.9ZM442.0 812.4L442.8 818.4L438.4 817.2ZM165.6 718.4L162.1 713.5L166.5 712.4ZM195.3 786.5L190.3 783.2L194.1 780.6ZM360.5 777.7L355.3 780.7L354.7 776.2ZM328.9 635.8L322.9 636.4L324.2 632.0ZM295.5 826.7L290.7 822.9L294.7 820.7ZM321.8 864.4L316.3 862.0L319.6 858.8ZM344.7 664.1L339.0 665.9L339.3 661.3ZM390.7 661.8L385.7 665.2L384.7 660.7ZM421.6 815.8L422.0 821.8L417.6 820.4ZM196.0 761.0L191.5 756.9L195.7 755.0ZM430.9 762.9L431.6 768.9L427.2 767.7ZM441.2 722.4L442.1 728.4L437.6 727.3ZM341.8 695.2L336.1 697.3L336.2 692.7ZM395.9 687.6L391.4 691.7L389.8 687.3ZM293.3 666.3L288.1 663.3L291.7 660.5ZM352.4 688.2L346.8 690.5L346.8 685.9ZM415.5 889.9L410.6 893.4L409.5 889.0ZM463.6 884.8L458.5 888.2L457.6 883.6ZM461.2 833.1L461.8 839.1L457.4 837.8ZM471.3 781.3L472.6 787.2L468.1 786.4ZM219.4 697.8L215.9 692.8L220.4 691.9ZM242.7 759.3L238.0 755.5L242.0 753.3ZM449.6 652.3L451.4 658.1L446.8 657.7ZM214.0 646.4L211.0 641.2L215.6 640.6ZM352.8 756.7L347.1 758.8L347.3 754.2ZM406.5 729.2L404.2 734.8L400.9 731.6ZM348.9 729.0L343.4 731.6L343.2 727.0ZM400.3 784.2L399.2 790.1L395.3 787.6ZM276.7 785.8L271.7 782.3L275.7 779.8ZM285.2 774.3L280.4 770.6L284.4 768.3ZM350.5 713.2L345.0 715.8L344.8 711.2ZM399.5 702.5L395.5 706.9L393.5 702.8ZM481.9 714.4L483.9 720.1L479.3 719.9ZM480.1 661.9L483.5 666.9L479.0 667.8ZM488.0 747.2L489.7 753.0L485.2 752.5ZM274.6 768.8L269.9 765.0L273.9 762.7ZM318.3 810.4L313.7 806.5L317.8 804.4ZM363.8 841.4L357.8 840.3L360.2 836.5ZM346.1 818.2L348.1 812.5L351.5 815.5ZM364.2 644.4L358.5 646.6L358.6 642.0ZM210.8 682.9L207.6 677.7L212.1 677.0ZM484.0 688.2L486.3 693.8L481.7 693.8ZM484.3 857.7L483.5 863.7L479.5 861.4ZM497.7 802.2L499.0 808.1L494.4 807.3ZM465.3 715.9L467.1 721.7L462.5 721.3ZM348.9 680.0L343.3 682.1L343.4 677.5ZM402.9 671.8L398.5 676.0L396.8 671.7ZM302.4 827.4L297.8 823.5L301.8 821.4ZM362.8 764.5L357.7 767.8L356.8 763.3ZM439.2 675.0L439.9 681.0L435.4 679.7ZM139.8 737.1L135.9 732.4L140.3 731.0ZM241.2 658.5L238.0 653.4L242.5 652.6ZM254.5 711.8L250.4 707.4L254.7 705.8ZM187.0 700.1L183.6 695.1L188.1 694.2ZM243.3 864.8L237.2 864.2L239.4 860.1ZM334.0 808.4L329.9 803.9L334.2 802.3ZM429.2 872.4L424.7 876.4L423.2 872.1ZM350.2 700.3L344.6 702.7L344.5 698.1ZM487.6 715.8L489.7 721.5L485.1 721.3ZM460.1 672.6L462.2 678.3L457.6 678.1ZM140.2 717.6L136.6 712.7L141.1 711.6ZM154.2 759.3L149.9 755.0L154.1 753.2ZM489.7 699.5L491.8 705.2L487.2 705.1ZM407.8 859.5L403.9 864.1L401.7 860.1ZM434.7 813.4L435.4 819.4L431.0 818.1ZM201.6 749.2L197.4 744.9L201.6 743.2ZM341.0 708.1L335.3 710.2L335.4 705.6ZM345.2 652.0L339.4 653.7L339.9 649.1ZM174.0 694.8L170.7 689.7L175.3 688.9ZM346.8 719.2L341.2 721.6L341.2 717.0ZM373.4 862.2L367.5 863.8L368.1 859.2ZM477.7 724.4L479.6 730.1L475.0 729.8ZM259.9 686.6L256.4 681.7L260.8 680.7ZM475.7 693.8L477.7 699.5L473.1 699.3ZM449.1 751.8L450.2 757.7L445.7 756.8ZM208.0 825.6L202.2 823.8L205.1 820.2ZM383.8 796.1L381.5 801.7L378.2 798.5ZM392.2 937.6L391.1 931.7L395.6 932.6ZM331.4 863.9L325.8 861.7L329.0 858.4ZM427.2 757.1L427.8 763.1L423.4 761.9ZM263.2 625.1L258.7 621.1L262.8 619.0ZM364.1 746.4L359.0 749.7L358.2 745.2ZM368.8 769.3L364.2 773.3L362.8 768.9ZM496.3 838.7L497.3 844.7L492.8 843.6ZM273.9 723.7L269.5 719.5L273.6 717.6ZM353.6 740.2L348.1 742.8L347.8 738.2ZM297.0 808.2L292.2 804.4L296.2 802.2ZM394.4 800.6L393.4 806.6L389.5 804.2ZM357.5 684.9L352.0 687.3L351.9 682.7ZM450.7 891.7L445.0 894.0L445.1 889.4ZM359.0 670.7L353.3 672.9L353.4 668.3ZM282.9 816.7L277.7 813.6L281.4 810.9ZM383.8 723.3L379.0 727.0L377.8 722.5ZM422.8 829.7L423.0 835.8L418.7 834.1ZM310.9 823.4L306.4 819.5L310.5 817.4ZM465.0 836.6L465.4 842.7L461.1 841.3ZM358.2 864.8L352.2 864.0L354.5 860.0ZM347.0 870.0L341.0 868.8L343.6 865.0ZM254.3 652.1L250.8 647.1L255.3 646.1Z" fill="#000"/><path d="M115.8 910.1V967.1H173.3" stroke="#000" stroke-width="3.5" fill="none" stroke-linejoin="miter"/><path d="M115.8 880.1Q119 904.1 129 922.8Q121.8 916.1 115.8 913.8Q109.8 916.1 102.6 922.8Q112.6 904.1 115.8 880.1Z"/><path d="M203.3 967.1Q179.3 970.3 160.6 980.3Q167.3 973.1 169.6 967.1Q167.3 961.1 160.6 953.9Q179.3 963.9 203.3 967.1Z"/><text x="106.7" y="1019.4" font-size="33.9">UMAP 1</text><text x="85.8" y="971.2" font-size="33.9" transform="rotate(-90 85.8 971.2)">UMAP 2</text></g>
<g id="pe"><text transform="translate(547.6 628.6) scale(0.97 1)" font-size="48" font-weight="bold">e</text><g fill="none" stroke-linecap="round" stroke-width="5.3" stroke-opacity=".6"><path d="M733.5 629h0m18 9h0m-48 14.5h0m116.5-1.5h0m-31.5 5h0m8.5-.5h0m-127 17.5h0m114 6.5h0m7-2.5h0m5.5 15.5h0m-42.5 19.5h0m34 4h0" stroke="#3f014d"/><path d="M706 604.5h0m3 0h0m10-4h0m7 .5h0m.5 4h0m12.5-5.5h0m0 1.5h0m5.5 3h0m1.5.5h0m1.5-2.5h0m2-1.5h0m0 4h0m2.5-3h0m-61.5 9h0m6.5 2h0m16-3h0m4-3h0m21-.5h0m6 3h0m13-1h0m3-2h0m5 6.5h0m13.5-3h0m1 .5h0m5.5 2.5h0m-95.5 3h0m11.5-.5h0m7 2h0m18 .5h0m13-.5h0m10.5 0h0m5-4h0m24-.5h0m0 0h0m1 .5h0m.5 1.5h0m1.5 3h0m0 .5h0m5-4h0m8.5 2h0m3.5 0h0m1 0h0m4.5 3h0m-127.5 5.5h0m0-1h0m3.5 3h0m12.5-3h0m1.5 2h0m3.5.5h0m9.5-1.5h0m9.5-4h0m15.5 2h0m4.5 2.5h0m6.5-.5h0m7-2h0m8 3.5h0m4-1h0m2.5 1h0m5.5-5h0m3 2h0m4-3h0m3.5-.5h0m2 4h0m.5-.5h0m4 2h0m14 0h0m1.5.5h0m.5-4h0m5.5.5h0m1-1.5h0m7 4.5h0m-146 2h0m5 2h0m9-1h0m1 4h0m1.5 1h0m5.5-4h0m.5-2h0m.5 2h0m0-2.5h0m1 5.5h0m2-4h0m3.5 5h0m18.5-1h0m0-4h0m8.5 1h0m3-2h0m3.5 4h0m1-2h0m4.5-.5h0m6 4h0m9 0h0m5.5-1.5h0m2.5-4.5h0m5 .5h0m1 4h0m5 1.5h0m1-2h0m0 3h0m4.5-4.5h0m.5 0h0m1 0h0m7 2h0m9 .5h0m3.5-3h0m8.5 2h0m3 0h0m2 1.5h0m8.5-2h0m3 1.5h0m2.5.5h0m-168 4h0m10.5-1.5h0m4.5 1.5h0m0 3h0m0-3h0m4.5-.5h0m8 .5h0m3 2h0m.5 2h0m9.5-6h0m7 5.5h0m1.5-1h0m3-3h0m3 1h0m14.5-1.5h0m3.5 5h0m5 0h0m7.5-5h0m.5 2.5h0m5-1.5h0m7-2.5h0m4.5 7h0m8-1h0m3-3h0m13 4h0m5-3h0m0 1.5h0m12-3.5h0m11.5-.5h0m8-.5h0m2 3h0m3.5 1h0m1.5-1.5h0m1-1.5h0m4 4.5h0m-176 1h0m6 2.5h0m18 1h0m37-1h0m7.5 3.5h0m4.5-1h0m3.5-5.5h0m1 4.5h0m1 2h0m1.5-1h0m4 .5h0m13-3.5h0m11-2h0m1 5h0m1.5-4h0m2.5-1h0m2 6h0m6-4h0m5.5.5h0m5 3h0m10-2.5h0m1 1h0m5.5-2h0m11.5.5h0m4 .5h0m11-1h0m-181 8h0m.5 1h0m4.5 2.5h0m8.5-4.5h0m.5-.5h0m5.5 1h0m.5-.5h0m7.5 1.5h0m4.5 0h0m4 1h0m.5 0h0m1.5 1.5h0m6-5.5h0m10-.5h0m4 3h0m3 2.5h0m.5-3.5h0m5.5 3.5h0m1-3.5h0m1 1.5h0m12 2.5h0m1-2h0m3-1.5h0m2.5 3.5h0m3.5 0h0m4 0h0m6.5.5h0m1-2h0m5.5.5h0m8-1.5h0m1 2.5h0m2.5-4h0m.5.5h0m3 0h0m5.5 1h0m.5 0h0m4.5-1.5h0m1.5 4h0m2-5h0m4 1.5h0m1.5-3h0m7.5 2.5h0m12.5.5h0m4-.5h0m4.5 3h0m3.5-1h0m13.5-2h0m-193 5h0m9 4h0m2.5 2.5h0m12.5-1h0m2-4h0m7 .5h0m.5-2h0m12.5 4.5h0m1-4h0m12 2h0m5-2h0m4.5 3h0m6.5-1.5h0m1 .5h0m2.5-.5h0m4 2.5h0m1.5-4.5h0m1 6h0m0-5.5h0m20.5 4h0m8.5 1.5h0m7.5-6h0m2 5.5h0m3.5-2h0m1.5-3h0m4.5 4.5h0m8-3.5h0m3 1.5h0m1.5 2.5h0m11.5-2h0m2.5 0h0m4.5-4h0m3 2.5h0m2 .5h0m17-1h0m4.5 0h0m.5.5h0m3.5-2h0m-186.5 11h0m6.5-.5h0m4.5-3h0m.5 1h0m11-1h0m.5 1h0m6 3.5h0m1-4h0m1 4.5h0m6-1.5h0m3-1.5h0m11.5-2.5h0m2.5 5.5h0m2.5 1h0m6-1h0m2.5-6h0m9 6h0m3.5-2.5h0m5-2.5h0m12 2.5h0m10-2.5h0m1 5.5h0m.5-2h0m1.5.5h0m.5 1h0m23.5-1h0m15.5-3h0m2 2.5h0m2-4.5h0m1.5 5.5h0m12-3.5h0m16.5-1h0m-182.5 9.5h0m3 2h0m0-5h0m3 .5h0m5.5 3h0m1.5 0h0m3-1.5h0m.5 2.5h0m2-4.5h0m4 1h0m14.5 5.5h0m3.5-3h0m1.5-2h0m.5 5h0m4.5-6.5h0m3 4.5h0m8-.5h0m9 1h0m.5-2.5h0m0-1h0m.5 3h0m8.5-1.5h0m3.5 0h0m2 3.5h0m3.5-3.5h0m2.5 1.5h0m.5-1.5h0m1.5-1h0m1 1.5h0m5-2.5h0m21 5h0m1-4h0m7.5-.5h0m9 1h0m1.5 3h0m3-4.5h0m8 3h0m7 1.5h0m7-2h0m.5-1h0m4 4h0m.5-4.5h0m1.5 3.5h0m2.5-1h0m1.5 1.5h0m5.5-3h0m-182 7h0m3 2h0m2.5-3h0m3 1h0m6.5.5h0m4.5 2h0m4 .5h0m22.5-5h0m1.5 1.5h0m1.5 2h0m2-.5h0m4.5 1.5h0m1.5-1.5h0m5.5.5h0m0-2.5h0m1-2.5h0m5 6h0m11-2h0m5.5-3.5h0m14 3h0m11 2.5h0m7-4h0m.5 4h0m7-2h0m8.5-1h0m3 .5h0m2-3h0m6.5.5h0m23.5 5h0m4.5.5h0m4-2h0m-184 6.5h0m1-2h0m6-1.5h0m1.5 0h0m19 6h0m18.5-3.5h0m1 1h0m0 0h0m2.5-.5h0m.5-3h0m5 1.5h0m2.5-.5h0m1.5 3h0m1.5 2h0m9.5-3.5h0m13-2.5h0m1 1.5h0m18.5 3.5h0m3.5-2.5h0m0-1.5h0m3.5 1.5h0m15.5-1.5h0m1.5 2h0m1.5-2.5h0m1.5 2h0m14-.5h0m.5 3h0m3-4h0m8-1h0m2 2h0m2.5 1h0m12.5 2.5h0m-158.5 2h0m3 2.5h0m10.5-1.5h0m13.5 5h0m1.5-5.5h0m3-1h0m2.5.5h0m7 1.5h0m12.5 1h0m2 2.5h0m.5.5h0m2-4.5h0m17 2.5h0m2-1h0m3.5 3.5h0m.5-5h0m8 2h0m2.5-3.5h0m8.5.5h0m8.5 1.5h0m1-2h0m2 1h0m2.5-.5h0m3-.5h0m1.5 4h0m9.5-2.5h0m1 0h0m1.5 1.5h0m23 3h0m3-5h0m5.5.5h0m.5-.5h0m1.5 2.5h0m1-2.5h0m-144 10h0m22-3.5h0m6 0h0m4 5h0m.5-1.5h0m.5-2.5h0m.5 4.5h0m.5-1h0m6 1h0m2-.5h0m2.5-4.5h0m1 4.5h0m8 .5h0m3.5-.5h0m.5-4h0m1.5-1.5h0m.5 4h0m4.5 0h0m2-3.5h0m5.5 1h0m2.5 1h0m13 0h0m2 2h0m4-2h0m4-3h0m5.5 6h0m2.5-4.5h0m27 1h0m.5-1h0m2 3h0m-127 3h0m9 4.5h0m9-5h0m16.5 3h0m4.5 3h0m2.5-5h0m3 1h0m1 2h0m35.5-1h0m10-1.5h0m3.5 0h0m2.5 5h0m2-5.5h0m7 .5h0m8.5 3h0m1-3.5h0m6.5-.5h0m5 0h0m-109 7h0m6 .5h0m9.5 2.5h0m2.5-3h0m1 6h0m2-1h0m8.5 1h0m.5.5h0m5-6.5h0m2.5 5h0m1-3.5h0m10 2.5h0m29-1.5h0m5.5 3h0m-47.5 3.5h0m4-1h0m5-.5h0m3.5 4.5h0m5.5-3.5h0m5-2h0m1 3.5h0m1.5-1h0m8 4h0m12-3.5h0m7-2h0m-46.5 8h0m4 1.5h0m4 1.5h0m3.5-4.5h0m1 1.5h0m5.5 3.5h0m2.5-1.5h0m2.5-2h0m10 4.5h0m1-5.5h0m1.5 2.5h0m3.5-2.5h0m1.5 2.5h0m4-1h0m2.5-.5h0m-40 5.5h0m8.5 2h0m.5-2h0m0 0h0m.5 2.5h0m0 3.5h0m11.5-1h0m6.5.5h0m3-2.5h0m-16.5 6.5h0m0 5.5h0m1-1.5h0" stroke="#400e5a"/><path d="M641.5 689h0m-.5 1h0m3.5 5.5h0m2.5-2.5h0m13.5 9.5h0m-19.5 5h0m10.5-2h0m7.5-1.5h0" stroke="#3e3476"/><path d="M650 696h0m6-1h0m-.5 6h0m8.5 2h0m0-5h0m.5 2.5h0m-22.5 5h0m3.5 0h0m2.5-1.5h0m4 5h0m4.5-1.5h0m2.5 2h0m8.5-3.5h0m-22.5 6h0m6.5 3.5h0m.5-.5h0m7-2.5h0m4-1.5h0m6 4.5h0m4.5-2h0m5.5 2h0m5.5-2h0m2.5-1h0m5.5 0h0m3.5 4h0m5-2.5h0m-58 10h0m9-6.5h0m3 2h0m4.5.5h0m4 3.5h0m1-1.5h0m1-1h0m2 2.5h0m11-4.5h0m.5.5h0m9 4.5h0m2.5-3h0m2.5-1h0m12.5.5h0m7 3.5h0m2-4.5h0m-63 6h0m7.5 2.5h0m4 0h0m10 2.5h0m4.5-4h0m7 1.5h0m.5-2.5h0m21.5 5h0m10.5-2h0m-60.5 9.5h0m6-1.5h0m2-3.5h0m2 0h0m1 4h0m.5-1h0m10-1.5h0m7.5 1h0m28-.5h0m-59.5 7h0m9.5-2.5h0m2.5 3.5h0m16 1h0m-25.5 6.5h0m.5-.5h0m.5 1.5h0m8.5-.5h0m10-4.5h0m21.5 1h0m-28.5 8h0" stroke="#3a407c"/><path d="M695.5 723.5h0m1-2.5h0m7.5 1.5h0m4.5 1.5h0m-15 5h0m10.5 1.5h0m5-1.5h0m11.5-1h0m3.5 0h0m0-1h0m5 2h0m1 2h0m5 .5h0m7-3h0m1 2h0m.5 0h0m-64.5 4h0m25 3.5h0m.5-3.5h0m7.5 0h0m6.5-1.5h0m4 2h0m2.5-1h0m15-.5h0m2 4.5h0m1.5 0h0m1-1h0m7-1h0m-79.5 5h0m24.5-1h0m21.5 2.5h0m.5 2h0m6.5-3h0m3.5-2h0m8 3.5h0m1 1.5h0m2.5-4h0m6 3.5h0m1-2.5h0m1-.5h0m-75.5 6.5h0m22 3h0m3-2h0m11.5 2h0m3.5 0h0m2.5-1h0m10 1h0m4 0h0m2.5-.5h0m1 0h0m0-3h0m6 5h0m11.5-4.5h0m1.5 1h0m4-2.5h0m1.5.5h0m.5 5.5h0m-82.5 3.5h0m6-2h0m1.5-1h0m21.5 5.5h0m.5-2.5h0m10.5 1.5h0m.5 1.5h0m1.5-5h0m1 4.5h0m3.5-5h0m4 5h0m8.5-5.5h0m1 1.5h0m11 3.5h0m6-3h0m-88.5 7.5h0m6.5 4h0m2-1.5h0m0-.5h0m1-1.5h0m0 3.5h0m2-1h0m3.5-2h0m5-2h0m2.5 1.5h0m10-1h0m7 .5h0m3-1.5h0m4.5 5h0m2.5-6h0m1 3.5h0m6.5-2h0m3-1.5h0m19.5 1.5h0m1.5-1h0m.5 1.5h0m5 1.5h0m3 1.5h0m3.5-1.5h0m-84.5 7.5h0m0-1.5h0m3.5.5h0m2-3h0m.5 2.5h0m2 3.5h0m5-6h0m1.5 3h0m.5 2h0m6.5.5h0m5.5-4h0m8.5 3h0m2.5-4h0m2 6h0m2-3h0m1.5 1h0m1.5-3.5h0m13.5 3.5h0m8.5-1h0m-69 5.5h0m2.5 1h0m1 1h0m11-.5h0m1 0h0m7-2h0m7 1.5h0m2 3.5h0m2-4h0m3.5 4h0m17-2h0m-40.5 7.5h0m6.5-1.5h0m13-2h0m2.5 0h0m5 0h0m-18 9.5h0m1-2h0m10-1.5h0m2.5 4h0m3.5-3h0m-15 6.5h0m4.5.5h0m16 3.5h0m-5 4h0" stroke="#364b7f"/><path d="M750.5 751h0m-6.5 7.5h0m-12.5 6h0m16.5-4h0m7 3.5h0m-20.5 9h0m13.5-2h0m3 0h0m5-3.5h0m.5 6h0m-49 7h0m27.5 0h0m1-7h0m3.5.5h0m6 2h0m-43 6h0m23-.5h0m6 3h0m3-3h0m1.5 3h0m3 1h0m-23.5 8.5h0m4-4h0m6 1.5h0m.5.5h0m2.5-2h0m11 1h0m8 2h0m1 1h0m-45 7.5h0m11.5-7h0m2 4h0m0-2h0m.5 5h0m3-6h0m8.5 0h0m5 1.5h0m1.5 1h0m8 0h0m3-3.5h0m-42.5 13h0m24.5-3h0m5.5 2.5h0m.5-4h0m5 5h0m.5 0h0m3-1.5h0m2.5 1h0m1.5-5h0m3.5 0h0m-41.5 9.5h0m3-.5h0m.5 0h0m1 2.5h0m4-1.5h0m4-3.5h0m3.5 6.5h0m.5-1h0m2.5-3.5h0m2.5-.5h0m2 3h0m8.5 0h0m-27 2h0m1 3h0m4 1.5h0m15-.5h0m2-2h0m9.5 0h0m-25 11h0m6.5-1.5h0m.5-4h0m7 2.5h0m12 2.5h0m.5 0h0m6 .5h0m2.5-1.5h0m4-1.5h0m-29.5 4h0m1 7h0m3-6.5h0m13.5 2h0m7 0h0m3 3.5h0m2.5-1.5h0m-33 3.5h0m1-.5h0m6.5 2.5h0m1 1h0m4 2h0m7-5.5h0m15 1.5h0m2.5-1.5h0m-13 10h0m11-.5h0m10-1h0m3 3h0m-19 5.5h0m7.5-1h0m1 2.5h0m-13 3.5h0m10.5 5h0m4.5-6.5h0m8.5 2.5h0m1.5 9h0m3.5-3h0m-2.5 6h0m6.5 1.5h0" stroke="#325581"/><path d="M756 778.5h0m2.5-3.5h0m1 1.5h0m-18 9.5h0m7-2h0m0 0h0m8 14.5h0m-4 5h0m5.5 0h0m5 5.5h0m-5.5 10h0m.5-.5h0m4.5 1h0m1-3.5h0m1 5.5h0m1-2.5h0m-10 8h0m12-4h0m-33 10.5h0m4-4h0m9 4h0m4.5-2.5h0m6.5 2.5h0m12 8h0m4.5-3.5h0m1.5 4h0m-42 2.5h0m8 3.5h0m.5-2.5h0m5 2h0m6-2.5h0m0-1h0m10 1.5h0m15 3h0m2.5 1h0m4.5 1h0m-13.5 1h0m1.5-1h0m9 5h0m0-4.5h0m7 5.5h0m-21.5 6h0m-.5 3h0m5.5 5.5h0m20.5-2.5h0m1.5 3h0m1 1h0m0 2h0" stroke="#2d6083"/><path d="M752.5 784.5h0m3.5-.5h0m.5-1h0m2.5 3h0m2.5 4.5h0m8 21.5h0m-1.5 8.5h0m6 7h0m8 6.5h0m5 15h0m2.5-.5h0m-3.5 2.5h0m6 1.5h0m3.5 11.5h0m4-1.5h0m-4 2.5h0m0 0h0m3.5 5.5h0" stroke="#296983"/><path d="M768.5 792.5h0m1.5 0h0m-2 13.5h0m1-3.5h0m.5 5.5h0m2.5-2.5h0m-.5 5.5h0m11 22.5h0m1.5-3.5h0m1 6h0m2.5 0h0m9 9.5h0m0 2h0m2.5 5h0m0 6.5h0" stroke="#257283"/><path d="M764 762h0m12.5 38h0m-2 4h0m4 4h0m-1.5 3.5h0m1.5-1h0m8.5-1h0m-2.5 10h0m.5-3h0m3.5 0h0m-5 6.5h0m.5 1.5h0m6 4h0m7 6.5h0m-2 4h0m1-1.5h0m0 3h0m3.5 5h0m4 2.5h0" stroke="#227b82"/><path d="M845 652h0m-5.5 14.5h0m6.5 1h0m12-4.5h0m-21 6h0m.5 2.5h0m.5 4h0m-8.5 2h0m3 1.5h0m6.5-2.5h0m-10.5 13h0m0-5h0m10 2h0m9.5-1h0m-15 9.5h0m-19 7h0m11.5-4h0m3.5 1h0m9.5-2.5h0m.5 4h0m10-3h0m13.5 4h0m-53.5 4h0m9 3h0m1.5-1.5h0m9-.5h0m.5-2.5h0m1 .5h0m12 4.5h0m7-4.5h0m0 4h0m1-.5h0m3-2.5h0m-48.5 7h0m7.5 2h0m0-1.5h0m3.5-.5h0m0 1h0m8-1.5h0m10 3h0m16-3.5h0m-54 12.5h0m6-2h0m2 2.5h0m7-6.5h0m.5 4.5h0m4-4h0m0 3.5h0m3-3.5h0m.5 1h0m3.5 4.5h0m15.5-3h0m1 3.5h0m13.5-1.5h0m21.5-3.5h0m-78 11.5h0m3.5-6h0m13 4.5h0m2-2.5h0m.5 2h0m.5-1.5h0m13.5 0h0m2-.5h0m.5 0h0m3 .5h0m2.5-1h0m2-1h0m19.5 5h0m5.5.5h0m9 0h0m-90 6.5h0m0-2h0m8.5 1.5h0m.5-1.5h0m.5.5h0m0 1h0m8.5-3.5h0m7.5 3h0m21.5-4.5h0m0 4.5h0m4.5-.5h0m6.5-.5h0m23.5.5h0m-85.5 3.5h0m4.5 4.5h0m8.5-2h0m11-1h0m4 0h0m3.5 1.5h0m5.5-3.5h0m3 .5h0m1 3h0m2.5-1.5h0m3-.5h0m7 1.5h0m13 2h0m4-5h0m-79.5 9h0m6 3h0m13.5-3.5h0m3 .5h0m5.5 0h0m6 4h0m0-1.5h0m5-2h0m3 1h0m5 2h0m2.5-5.5h0m2 0h0m2 2.5h0m4-.5h0m.5 4h0m1-1h0m11 1h0m-67.5 1h0m3.5.5h0m5 4.5h0m8.5-1.5h0m8.5 1.5h0m1-.5h0m3-2.5h0m6 2.5h0m.5-5h0m5 4.5h0m1.5-2.5h0m1.5-1.5h0m7 0h0m3 5.5h0m1.5 0h0m.5-6h0m4 6.5h0m11-3h0m-81 4.5h0m14 3h0m10.5-1h0m2 .5h0m1-2h0m4.5 1.5h0m1.5-2.5h0m1 3h0m8 1.5h0m2.5-2h0m2-3h0m12 3.5h0m9-3h0m10 1h0m3.5 5h0m-76 6h0m0-2h0m2 0h0m.5 0h0m11 1.5h0m3.5-.5h0m23.5-3.5h0m7.5 5.5h0m6-3.5h0m4.5 3h0m1.5-2h0m.5-1h0m-63.5 8.5h0m7.5.5h0m1-2.5h0m5-.5h0m5.5 3.5h0m4-3.5h0m7 1h0m14.5-1.5h0m6.5 1.5h0m11.5 0h0m4-.5h0m.5.5h0m-59.5 7.5h0m.5 3h0m.5-1h0m6.5 0h0m6-4.5h0m4 5.5h0m1-.5h0m4-2.5h0m4 3h0m2.5-5.5h0m.5 4.5h0m2-5h0m2.5 1.5h0m26 1.5h0m-63 7h0m2.5 2h0m2.5 1h0m5-3.5h0m13-1.5h0m6.5 3.5h0m1.5 1.5h0m4.5-3h0m.5-2h0m2 4.5h0m6-4h0m6.5 1h0m-46 4.5h0m5 3.5h0m5.5-.5h0m.5-1h0m3.5 1h0m7-.5h0m.5 1.5h0m4 0h0m.5 1.5h0m-18 3h0m.5-2h0m2 .5h0m1.5 0h0m21.5 1h0m6.5 0h0m-18 12.5h0m4.5-1.5h0m8.5-3h0m-11.5 14h0" stroke="#208480"/><path d="M872 699.5h0m4.5 7h0m-4 17h0m0-.5h0m3-1.5h0m-28.5 8h0m8-4h0m6.5 1h0m12.5 0h0m.5 4.5h0m.5-5.5h0m3.5 3h0m0-2h0m-35 12h0m21.5-6h0m2 1.5h0m0-2.5h0m12.5 6h0m3.5-3.5h0m-34.5 9h0m8-2h0m5.5-1.5h0m1-.5h0m7.5 2h0m10-.5h0m-41.5 9.5h0m1.5 1h0m6.5.5h0m12-5.5h0m16 1.5h0m-39.5 7h0m20.5 3.5h0m22-2h0m-44 4.5h0m17 2h0m2.5 3.5h0m3 0h0m4 0h0m12.5-1.5h0m5-4.5h0m2 3.5h0m-52 6.5h0m12.5 1h0m18 2h0m10.5-5.5h0m6.5 2h0m-65 5.5h0m.5-1h0m12.5 4.5h0m1.5 0h0m9-.5h0m7-2h0m6.5.5h0m12 4h0m-52 4h0m14.5 1.5h0m4.5-.5h0m1-.5h0m1.5-3.5h0m6 1h0m4.5 4h0m1.5-3h0m7 0h0m3-2h0m11 3.5h0m2.5-3h0m1 3h0m1 1h0m1-1h0m3.5 1h0m2-4h0m-61 11h0m20-1h0m12 .5h0m9.5.5h0m.5.5h0m4 .5h0m2-5.5h0m5 .5h0m.5 5.5h0m6-2.5h0m-47.5 4.5h0m2.5 5h0m1-6.5h0m6.5 1h0m6.5-1h0m4.5 3.5h0m15-2.5h0m1 4.5h0m2.5-4.5h0m6 2.5h0m.5 1h0m-69.5 2h0m13.5 1.5h0m2 2.5h0m4.5-.5h0m1.5-.5h0m9 1h0m.5-2.5h0m2 5.5h0m2-3h0m.5-3.5h0m2 5.5h0m10-.5h0m4.5-3h0m14.5 0h0m0-1h0m5 4.5h0m-69.5 3.5h0m1-1h0m2 4.5h0m9-5h0m4.5 3.5h0m21 .5h0m5-4h0m2.5 5h0m.5 0h0m0-.5h0m1-3.5h0m3 .5h0m2.5 1h0m2.5 0h0m1.5 1.5h0m1 1h0m17.5-4.5h0m-83 6.5h0m8.5 2.5h0m.5-2.5h0m9.5 5h0m5-1.5h0m4.5-2h0m2.5 0h0m12 .5h0m2 3h0m3.5-1h0m4-4.5h0m3.5 2h0m1-1h0m9 2.5h0m.5.5h0m13.5-3h0m3-.5h0m-59 10h0m2.5-3h0m3 2h0m2.5 2h0m4.5 0h0m2-1.5h0m10.5 0h0m0-3h0m3.5.5h0m10.5 4.5h0m8-4.5h0m1.5 0h0m-64 8h0m1.5 4.5h0m5-5.5h0m0 5h0m5-5h0m8.5 3h0m1 0h0m1.5 1.5h0m2 1h0m13-2.5h0m2 2h0m.5 0h0m14-5h0m8 3h0m3 2h0m1.5-3.5h0m7.5 1h0m-70.5 5.5h0m2.5-.5h0m.5.5h0m6 4h0m1.5-4h0m11 2.5h0m9-4.5h0m3 4.5h0m8-3.5h0m2.5 1.5h0m.5-1.5h0m3 2h0m2.5.5h0m4.5 2.5h0m2.5-4h0m2-1.5h0m1 2.5h0m-59 10h0m3.5-5.5h0m.5 4.5h0m4.5-4.5h0m1.5.5h0m1.5 4h0m4.5.5h0m3.5-4.5h0m1 2h0m1.5 1h0m.5 2.5h0m6.5-5h0m1.5 4.5h0m2-2.5h0m21 3h0m-54 2h0m0 2h0m4.5 2.5h0m10.5.5h0m0-6h0m1.5 5.5h0m8.5-2h0m15-1.5h0m12.5 1.5h0m2.5 2.5h0m-54.5 4.5h0m2.5 0h0m3.5-2.5h0m5-1h0m1 1h0m2.5 0h0m3 0h0m3.5.5h0m11.5 5h0m7.5-3.5h0m-32.5 10h0m4-1h0m1 1.5h0m1-6h0m1.5 2h0m11.5 3.5h0m12-2h0m10 1.5h0m-53.5 7h0m11.5-.5h0m2.5-4.5h0m2 1h0m8 3h0m4.5-3.5h0m4.5 2h0m-20.5 9.5h0m1.5-1.5h0m1.5-1h0m12.5-.5h0m.5 2h0m2-1h0m13-1h0m-36.5 5h0m9 1.5h0m18 1h0" stroke="#1d8e7f"/><path d="M875.5 824h0m-1 8h0m9.5 5h0m-23 11h0m0 0h0m4-1.5h0m8-1.5h0m-28.5 7h0m15 1.5h0m1.5-1h0m4 1h0m.5-2.5h0m6 2h0m4.5-.5h0m-25.5 11.5h0m2.5-1h0m3-5h0m6.5 6.5h0m3-3h0m3.5-3.5h0m-38 10.5h0m6-2.5h0m10.5-1h0m21.5 3h0m-33 6h0m10.5 4h0m-25.5 5.5h0m6.5-4h0m9.5 2h0m1.5 1h0m2.5-2.5h0m8.5 2.5h0m-23 9h0m7-4.5h0m10.5-1h0" stroke="#22977a"/><path d="M877.5 821.5h0m19.5-1h0m-14 4h0m-5.5 9h0m11 1.5h0m5-3h0m-3.5 4.5h0m1 .5h0m-11.5 7h0m7 9.5h0m7 1h0m-9.5 7.5h0m0-.5h0m4.5 1.5h0m3-5h0m10.5 25h0m.5.5h0m0 18.5h0m3 0h0m15 3h0m1.5 1.5h0m.5-1.5h0m.5-.5h0m0 .5h0m3.5-.5h0m.5 0h0m.5 1.5h0m-12 6.5h0m2-.5h0m0 1h0m0-3.5h0m0 0h0m2-1.5h0m0-1h0m.5 2h0m1.5 0h0m5.5 2h0m.5.5h0m0 1h0m-14 5.5h0m2-.5h0m1-2h0m1.5 4.5h0m0-2h0m1 0h0m1.5-1h0m3-2.5h0m.5 5h0m2.5-2h0m-14 7.5h0m3-3.5h0m0-.5h0m.5 1.5h0m1 0h0m2 2.5h0m0 .5h0m1.5-.5h0m.5-1.5h0m0 0h0m4 1h0m1-2.5h0m-15 11.5h0m1.5-2.5h0m1-3h0m5.5 6h0m3-1h0m0-2h0m.5-2h0m-11.5 12.5h0m1-5.5h0m2 1h0m.5-1.5h0m1 .5h0m-2 9.5h0m2.5 3h0m1-.5h0m2-5h0" stroke="#29a075"/><path d="M887 806h0m-9.5 8.5h0m14-3h0m1.5 2h0m-11 6.5h0m1-3.5h0m7-.5h0m14 5h0m-16.5 5h0m8 2h0m-14 3.5h0m8 11h0m.5-2h0m4.5-3h0m5 3.5h0m1.5.5h0m-3 7.5h0m-1.5 3h0m6-1h0m.5 4.5h0m.5-.5h0m1 2.5h0m-12.5 10.5h0" stroke="#31a86f"/><path d="M878.5 791.5h0m-1 8.5h0m3.5-1h0m0-2.5h0m11 .5h0m4.5 2.5h0m9-1h0m-26.5 6.5h0m2.5 2h0m11.5-5h0m1.5 2h0m8 0h0m8 1.5h0m-29 5h0m22.5 2.5h0m2.5-.5h0m-.5 7h0m1.5 2h0m-1.5 6h0m3 1h0m1-2h0m1.5 0h0m-4.5 5.5h0m3-2h0m48.5 10h0m10.5 1h0m-54.5 7.5h0m0 1h0m4.5-5h0m1 2h0m11 2.5h0m15 6h0m-38 5h0m14-.5h0m1 .5h0m11.5 4h0m4.5 0h0m28-5.5h0m-50 10h0m12.5 6h0m1.5-.5h0m18 .5h0m3-2h0m16.5 5.5h0m-2 4.5h0" stroke="#44b064"/><path d="M915 756h0m-40 9h0m.5 1h0m35-2h0m24-3.5h0m29 5h0m16-3h0m-105.5 8h0m17 1h0m7-3.5h0m15 1h0m14 1.5h0m6-2h0m2 2h0m18.5-.5h0m9.5.5h0m8-1h0m2.5-1.5h0m1.5 2h0m5.5 1h0m-107 8h0m2.5-4h0m3 1h0m8 3h0m5-5h0m16.5 0h0m4 0h0m23 1h0m7 0h0m5.5 1.5h0m9.5 3.5h0m25-.5h0m-104 3h0m5.5 3.5h0m7.5-3h0m16.5.5h0m7 0h0m0 3.5h0m28-5h0m20.5.5h0m5.5-1h0m14.5-.5h0m-105.5 8h0m.5 2h0m1-2.5h0m3.5 3.5h0m7-1h0m1.5 2h0m10 1h0m1.5-2h0m7.5-.5h0m6.5.5h0m26.5-2h0m12.5.5h0m1.5 1h0m5.5-3h0m3 0h0m1 2h0m4.5 0h0m-86.5 5.5h0m30.5 3.5h0m0-3h0m1.5 4.5h0m.5-6h0m16.5 3.5h0m4.5 1h0m21-4.5h0m-60.5 6.5h0m11 .5h0m1.5 1h0m1.5 2.5h0m3.5-.5h0m0-2.5h0m1.5 3.5h0m2.5.5h0m3.5 1.5h0m5.5.5h0m9.5-3.5h0m9.5 2h0m3 1h0m7.5-.5h0m3.5-5h0m-55 9.5h0m4-1.5h0m0 4.5h0m17-3.5h0m2.5 0h0m2 3.5h0m.5-6h0m4 1.5h0m3.5 0h0m5.5-2h0m7.5 5h0m0-3.5h0m25.5 4.5h0m3-4.5h0m-69.5 7.5h0m8.5 2.5h0m6-2.5h0m4.5 4h0m1.5-2h0m4.5 1.5h0m4-1h0m2.5-2h0m1.5 4.5h0m1-1.5h0m10.5-1.5h0m.5-3h0m4 5h0m11-2h0m-48 3.5h0m10.5 4h0m3.5 1h0m2-3.5h0m2 5h0m3.5-6h0m10 1h0m2.5-1.5h0m5.5 1h0m5.5 1h0m0 4h0m3.5.5h0m7-3.5h0m1.5 2.5h0m.5-1h0m0 1h0m-71.5 7h0m2.5-1h0m15-4h0m.5 1.5h0m18 1.5h0m9 1h0m3 0h0m8-4.5h0m6.5 5.5h0m1-3h0m7.5 3.5h0m1.5-1h0m1-4h0m.5 1h0m-47 8h0m3.5-2.5h0m14 5.5h0m21-5.5h0m3 .5h0m-58 10.5h0m7 1h0m3-1.5h0m8-4h0m10.5 3h0m3.5-1.5h0m10.5 2.5h0m11 .5h0m2.5 1.5h0m6.5-4h0m-56.5 8h0m4-1.5h0m0 .5h0m10.5 2h0m12.5-.5h0m11.5-2h0m10.5-.5h0m6 1h0m-59 6.5h0m8 4h0m8-2.5h0m5.5 3.5h0m7.5-3h0m13-3h0m3 2.5h0m8 1h0m-57.5 5.5h0m9.5 0h0m7-.5h0m.5 4h0m19 0h0m.5 0h0m8.5-4.5h0m5.5 2.5h0m1 .5h0m-50.5 3.5h0m9.5.5h0m15 .5h0m1.5 0h0m1.5 1.5h0m0-1h0m7.5 1h0m4-2.5h0m0 2h0m4.5 2.5h0m2.5-1.5h0m-6 6h0m8-1h0m1-1.5h0" stroke="#57b859"/><path d="M908.5 743.5h0m-18.5 3h0m3.5 1h0m5.5 3.5h0m9.5 0h0m13 .5h0m6.5-1.5h0m25 0h0m9.5 1.5h0m16-5h0m1.5 1h0m-80.5 8h0m4.5 2h0m3.5-2h0m16-2.5h0m11.5 2.5h0m5 1h0m13.5 3h0m6-6h0m.5 5h0m7-2.5h0m10 2h0m2.5-3h0m-100 7.5h0m6 0h0m3-2h0m9 2h0m11 .5h0m.5-3h0m11.5 3.5h0m5.5 2h0m22-2h0m1 0h0m2-3.5h0m18.5 1.5h0m10.5 3.5h0m-97 2.5h0m4 6h0m0-4.5h0m1 2h0m10 1.5h0m7-1h0m20 2h0m21.5-4h0m9.5 1.5h0m27-4.5h0m4 1.5h0m3.5 1h0m-96 10.5h0m23-5.5h0m6.5 4h0m2.5-3h0m9 1.5h0m7.5 0h0m1 0h0m5.5 2.5h0m1.5-5h0m9.5 0h0m2 4h0m1.5-2.5h0m-85.5 7.5h0m11-.5h0m28 3.5h0m3.5-4h0m13.5.5h0m2.5-.5h0m27 3h0m4.5-2.5h0m5 1.5h0m10 2.5h0m6.5-4h0m-51.5 6.5h0m4 5h0m13-2h0m8.5 1.5h0m.5-.5h0m3.5-2h0m11.5 2.5h0m7-1h0m1-.5h0m-70.5 7.5h0m18 1.5h0m14.5-3h0m5-3h0m32.5 0h0m1-.5h0m1 3h0m-55 5.5h0m1.5-1.5h0m10 3h0m9.5 3.5h0m6.5-5.5h0m2 2h0m20-2.5h0m.5 1h0m3.5 5h0m-55.5 1.5h0m28.5 3h0m20.5-3.5h0m3.5 6h0m.5-6.5h0m-58 8.5h0m9 .5h0m2.5 0h0m.5 0h0m10.5 1.5h0m4-1.5h0m30.5 1.5h0m2.5 1h0m-53.5 8.5h0m13-2.5h0m34.5 1h0m5.5 1h0m3-1.5h0m-58.5 6h0m51 3h0m-22 7.5h0m30-3.5h0m2.5-.5h0m-47 6.5h0m36-.5h0m6-1h0m3 6.5h0m-43.5 4.5h0m40.5-3.5h0m-57 7.5h0m44.5 9h0m-3.5 7.5h0m15 30h0" stroke="#6cbf4d"/><path d="M891 729h0m42-.5h0m18-1h0m2 3h0m25.5-4.5h0m-44.5 11h0m23-4h0m6 2h0m2.5 0h0m4 1.5h0m-84 2h0m4 4.5h0m5.5-2h0m8 1h0m17.5-2.5h0m7 5.5h0m16.5-5.5h0m2.5 4h0m4 1h0m10-2h0m10 2h0m5 0h0m44.5 1h0m-141 1.5h0m38.5 2h0m5 2h0m11-4.5h0m.5 2h0m20-3h0m5.5 3.5h0m1.5-3h0m1 6h0m6-4h0m10.5-2.5h0m5 2h0m4 0h0m4 5h0m7.5-5h0m23.5.5h0m-138 10.5h0m60.5-3h0m4-2.5h0m5 0h0m32.5 9h0m1 2.5h0m1.5 0h0m5-4h0m2.5 3.5h0m1-1.5h0m15.5-2.5h0m-24 13h0m1.5 0h0m2-6.5h0m9 1h0m-10 8.5h0m2.5 4h0m-4.5 1.5h0m7.5 1h0m-9.5 11.5h0m4-4.5h0m2.5 2.5h0m2-1h0m-6 8.5h0m5-3h0m25.5-1.5h0m-28 10h0m25-.5h0m1.5-1h0m2 .5h0m4-1.5h0m-35 9h0m12-2.5h0m-8.5 13.5h0m2 6.5h0m1.5-1.5h0m18-3h0m1 3.5h0m-26 2.5h0m3.5 5.5h0m.5-4.5h0m4 1.5h0m-7 4.5h0m2 2.5h0m2.5-2.5h0m-3.5 8h0m-6.5 11.5h0m5.5-3.5h0m-12 12h0m-7 19.5h0m2.5 7h0m2 4h0" stroke="#85c43d"/><path d="M987.5 625.5h0m.5 24h0m-34 18h0m13 4h0m33.5 3.5h0m4.5.5h0m-11.5 9h0m-51 6.5h0m-46.5 8.5h0m115 2h0m-17 9h0m14.5-5.5h0m-125.5 12.5h0m1-3h0m111.5 2h0m3-4.5h0m11.5 4.5h0m4-1h0m5.5 1h0m-125 2.5h0m3.5.5h0m9.5 4.5h0m.5-3h0m2 2h0m23.5 0h0m2-2h0m7.5-2h0m3 4h0m20.5 1h0m10-4.5h0m9.5 1.5h0m26 3h0m-127.5 2.5h0m3-1.5h0m1 4.5h0m10 .5h0m15.5-4.5h0m6.5 5.5h0m3.5-3.5h0m2.5 3.5h0m3-3.5h0m2 3.5h0m13.5-5.5h0m9.5 2.5h0m0-1.5h0m4.5 2.5h0m4-1h0m2-3.5h0m6 3.5h0m4-2.5h0m3 2.5h0m2.5-1.5h0m.5 4.5h0m.5-2.5h0m3-.5h0m0 .5h0m3.5-.5h0m7-3h0m2 4.5h0m12 1h0m.5-2h0m4.5-3h0m7 4h0m-124 2.5h0m2.5 0h0m4 2h0m25 2.5h0m10.5-1.5h0m2.5 1h0m20-3.5h0m6.5 1h0m2 1.5h0m1-2h0m14-1h0m3.5 0h0m5 4.5h0m9 .5h0m4-2h0m11.5-2.5h0m6.5 0h0m-113.5 7.5h0m88.5 4h0m8.5-1h0m3.5-4h0m4 4.5h0m6-3.5h0m-25.5 11h0m13.5-1h0m6.5-2.5h0m1.5 4.5h0m3.5-5.5h0m7.5 2.5h0m-29 4.5h0m5.5 3.5h0m1.5-2.5h0m9 4h0m.5-1.5h0m2-3h0m1 .5h0m-22.5 8.5h0m13 .5h0m2 .5h0m16-1.5h0m-23.5 9.5h0m10.5 1.5h0m5-2.5h0m-20 7.5h0m7.5-3.5h0m7 .5h0m1-1h0m9.5 3h0m3 3h0m2-4.5h0m-29 5h0m4.5 4h0m1.5 0h0m3.5 2h0m3.5 0h0m3.5-.5h0m-8.5 2.5h0m1.5 3.5h0m17.5-4.5h0m-28.5 10.5h0m5-2.5h0m9 2.5h0m11.5-2.5h0m3.5 3h0m-16.5 2.5h0m-14 9.5h0m1-2h0m1 4h0m3.5-2.5h0m12.5 1h0m6-.5h0m1 2h0m1.5 2h0m1-4h0m-27.5 5.5h0m5.5 1h0m5.5 1h0m5.5 0h0m2-1h0m9 4h0m-30.5 6h0m8-3.5h0m2-1h0m14 .5h0m3 1.5h0m1.5 4h0m-5 3h0m-21 10.5h0m.5-2.5h0m18-2h0m1.5-1.5h0m6 3h0m-28 8h0m5 1.5h0m9.5-4h0m7 4.5h0m3-2h0m-25 7.5h0m6.5-4h0m5 1.5h0m0-1h0m-32 24.5h0m0 1h0m-1 12.5h0" stroke="#9dca2e"/><path d="M971 626.5h0m3-2h0m.5-2.5h0m0-.5h0m1.5 3h0m2.5-1.5h0m-17.5 7h0m8-3h0m6.5 1.5h0m12.5 1.5h0m-68.5 9.5h0m28-4.5h0m19.5 1.5h0m3 .5h0m.5 1.5h0m1-.5h0m9.5 2h0m9-3.5h0m0-.5h0m6.5 0h0m-83.5 8h0m2.5.5h0m1-.5h0m9 3h0m2.5-4.5h0m1.5 1.5h0m3.5 1.5h0m.5-2h0m6-.5h0m5.5-2.5h0m15.5 2.5h0m8.5 3.5h0m18.5-4.5h0m1.5.5h0m5 1.5h0m-92 7.5h0m11.5-2.5h0m12.5 2.5h0m17-3h0m17 2.5h0m14 .5h0m2.5 3h0m1.5-1h0m2.5-2h0m2 1h0m4 1h0m0-2h0m5.5 1h0m5-2h0m4-2.5h0m1.5 2h0m-141 7.5h0m1.5-1h0m6.5 4.5h0m20.5-3.5h0m10.5 1h0m17.5 2h0m4-5h0m1.5 5.5h0m16-5.5h0m1.5-.5h0m12 3h0m3-2h0m7.5-1h0m4.5-.5h0m5 5.5h0m25.5-4.5h0m9 5h0m-137.5 2.5h0m26 3.5h0m18-.5h0m0-1.5h0m2 2h0m22 1h0m17-2.5h0m13.5 2h0m6 .5h0m10-3.5h0m13 1h0m3.5 1.5h0m7.5 1.5h0m-117.5 1h0m9 1h0m0 1h0m5.5 4h0m13.5.5h0m1-6h0m16 1h0m10 2.5h0m17.5-.5h0m3.5 1h0m4.5-1.5h0m4.5 2.5h0m1.5-2h0m.5-2h0m22.5 3.5h0m-125 5h0m14.5.5h0m4.5 0h0m22-3.5h0m11 2.5h0m4 2h0m9.5-4h0m3-.5h0m7-.5h0m13 6h0m5-4h0m2 2.5h0m1 1.5h0m.5-1h0m2 1h0m5-1.5h0m2-2.5h0m3-1.5h0m.5-.5h0m.5 5.5h0m11.5 1.5h0m.5-.5h0m3 0h0m.5-5.5h0m5 4.5h0m2-4h0m-113.5 12.5h0m14.5-6h0m2.5 2h0m19-1h0m2.5 0h0m.5 2h0m2 .5h0m0-3.5h0m1 .5h0m4 1.5h0m1.5 3h0m6.5-2h0m2.5-.5h0m19.5-2h0m23.5 2.5h0m4.5 0h0m2 2h0m6.5-4h0m1.5 5h0m-129 4.5h0m19.5-2.5h0m6.5-1h0m7.5 2.5h0m19.5 2h0m3-3h0m1 3h0m2.5-1h0m8.5-4h0m13 6.5h0m4.5-2.5h0m1.5-1h0m0-1h0m13 2h0m5-3h0m27 4h0m2.5-2.5h0m-134.5 9.5h0m3.5 1h0m1-6h0m3.5 1.5h0m18 3h0m18.5-2.5h0m3.5 1.5h0m1.5-1h0m10 3h0m.5-5.5h0m2.5 2.5h0m1.5 1.5h0m4-.5h0m3-2.5h0m8 2h0m5.5 0h0m2 1h0m2-4h0m3.5 4h0m0 .5h0m11-4h0m4.5 2h0m5.5.5h0m4.5 2.5h0m2 .5h0m10.5-1.5h0m7 1h0m-121.5 1h0m3 2h0m4.5 1.5h0m10 0h0m11 1.5h0m3.5-4h0m4.5 3.5h0m13.5-2h0m1 1.5h0m1.5.5h0m9 0h0m0-4h0m13.5 6h0m17-6h0m10 6.5h0m1.5-.5h0m0-5h0m19 0h0m0 2.5h0m2-4h0m-138.5 13.5h0m13-5h0m1.5 5h0m3-3.5h0m2.5 2.5h0m3-2h0m0 0h0m6.5 2h0m8-5.5h0m6 6.5h0m1-6.5h0m20.5.5h0m2.5 4.5h0m9.5 1h0m3.5-.5h0m5-4.5h0m1 1h0m1-1.5h0m0 .5h0m1.5 3.5h0m3.5-2h0m4 2h0m9.5-4h0m11.5 2.5h0m1.5 0h0m2.5.5h0m9 3.5h0m7.5-4.5h0m-132.5 5h0m6.5 4h0m.5-3.5h0m7.5 0h0m.5 0h0m8 5.5h0m9.5-.5h0m2-6h0m21 1h0m10.5 3h0m1.5-2h0m2 2.5h0m17.5.5h0m18-2h0m17.5-1.5h0m10.5 0h0m-130.5 7h0m28-1.5h0m21 5.5h0m39.5-4.5h0m4.5 5h0m8.5.5h0m18-2h0m12.5-4.5h0m-14 7.5h0m-4.5 8h0m26.5 29.5h0m-16 4h0m-6 16h0m12.5 3h0m-16.5 25.5h0m0 19h0m6 19.5h0m4.5 0h0m1-1h0m-15.5 3h0m-16 7h0m-7 16h0m2.5 12.5h0m1.5 1h0" stroke="#b6ce27"/><path d="M926 629.5h0m41.5 2h0m12.5-2h0m-63 5.5h0m10 5.5h0m42-.5h0m2.5 0h0m-31 .5h0m20.5 4.5h0m-40 8.5h0m1.5-5h0m18 0h0m1.5.5h0m9.5 0h0m8.5 0h0m26.5 2h0m9-1.5h0m-110.5 9.5h0m11 1h0m11-.5h0m40 .5h0m12-1h0m-89.5 5.5h0m55.5 3.5h0m4-6.5h0m41 2h0m2.5 0h0m-101.5 8h0m71 .5h0m1.5-2h0m8 4h0m6.5-3.5h0m.5 0h0m41.5-1.5h0m-53.5 10.5h0m38.5-3h0m26.5 4.5h0m-108 5.5h0m39-3.5h0m5 6.5h0m16-2.5h0m10-2h0m33.5 1.5h0m-130 3h0m69 1h0m-60.5 13h0m4-.5h0m26.5-4h0m29.5 3.5h0m43.5-6h0m19.5 5.5h0m-119 6.5h0m41-2.5h0m45 0h0m2.5-2h0m25.5 13h0m-7.5 140.5h0m-3.5 4.5h0m2 0h0m1-3h0m8.5 4.5h0m.5-2.5h0m3-1h0m3-1h0m6 4h0m-30.5 4.5h0m.5-.5h0m15.5 4h0m7.5-4h0m6-2h0m1.5 2.5h0m-33.5 9h0m22.5-4.5h0m3 5.5h0m-32 5h0m23-2.5h0m8.5-1h0m0 2.5h0m.5-.5h0m5-1.5h0m-32.5 6.5h0m2.5 3.5h0m6.5-3.5h0m2 5.5h0m3.5-5.5h0m3.5 1h0m7 3h0m-20 3h0m16.5.5h0m1.5 3.5h0m1.5-3h0m-12.5 6.5h0m.5 3.5h0m7.5-3h0" stroke="#d0d124"/><path d="M997.5 877.5h0m18.5-2.5h0m-28.5 5h0m4.5.5h0m8-1.5h0m.5 0h0m-9.5 8h0m4.5 4h0m4.5 0h0m4.5 1h0m2-5.5h0" stroke="#e9d522"/><path d="M681 628h0m2.5 3h0m-3 6h0m-7 10h0m48-2.5h0m21.5 3.5h0m-79 22.5h0m-14.5 10h0m31.5 6h0m37.5 12.5h0m57 2.5h0" stroke="#3f014d"/><path d="M726.5 597.5h0m-15 7.5h0m4-1h0m1-4h0m4 1h0m4 3h0m3.5-3.5h0m3.5.5h0m6-2h0m1.5 1.5h0m-47.5 11.5h0m4-5.5h0m1.5 5.5h0m2-1.5h0m9 1h0m5-1h0m1-2.5h0m7-2h0m.5 3h0m4-2h0m9.5-1h0m4 5.5h0m1.5-1.5h0m7.5-2h0m1 3.5h0m1.5.5h0m2.5-5h0m1 3.5h0m2.5 1h0m9-.5h0m1.5-2.5h0m6.5 1.5h0m-93 8.5h0m10.5 0h0m.5-6h0m6.5 6.5h0m10.5-5h0m1 5.5h0m2 0h0m8.5-6.5h0m1.5 4h0m1-3.5h0m9 1.5h0m5.5-1h0m8-.5h0m1.5 2h0m8-2h0m5 2h0m2 3.5h0m1-6.5h0m1 .5h0m0 5.5h0m.5-3.5h0m2 2h0m7-4.5h0m1.5 1.5h0m7 4.5h0m14-1.5h0m-122 6h0m4.5.5h0m4.5 2.5h0m6.5-1h0m2.5.5h0m1-3h0m3.5-1h0m12 4.5h0m1-6.5h0m2.5 3h0m9 2h0m7-3h0m6.5 3h0m1.5-1h0m.5.5h0m1.5 1h0m.5-1h0m5 1h0m5.5-5h0m0 6.5h0m9-5h0m5.5-1.5h0m6 .5h0m1 3h0m6.5-1.5h0m8.5-.5h0m6 5h0m1.5-2.5h0m8-3h0m6.5-1.5h0m2.5 2h0m6.5 4h0m-150.5 2.5h0m.5 1.5h0m3.5 2h0m4.5 1.5h0m17-5h0m3 1.5h0m27 1.5h0m13-4.5h0m5.5 3.5h0m6 0h0m0 1h0m2 .5h0m.5-4h0m.5 2h0m6.5 4h0m6-5.5h0m12 3.5h0m4-3.5h0m7 2h0m2.5 3.5h0m5-5.5h0m6 0h0m11.5 2h0m3 0h0m10 2h0m-159 2.5h0m1.5 2h0m25.5 3h0m6-2.5h0m10 1h0m.5.5h0m3.5-.5h0m.5-4h0m0 3h0m1.5-3h0m0 4h0m8.5-3.5h0m1.5 5.5h0m4-.5h0m14-3.5h0m9 1h0m12.5-.5h0m14-2h0m7.5 4.5h0m3-1.5h0m10 1.5h0m16.5-1h0m-160 9.5h0m8.5-1h0m2-4h0m21-.5h0m1 2h0m2 2.5h0m2.5-3.5h0m2-2.5h0m12.5 4.5h0m5.5-2h0m1.5-1.5h0m2.5 1.5h0m3-1h0m6.5.5h0m0 5h0m3-3.5h0m.5 2h0m1.5-4.5h0m.5 3.5h0m2.5 0h0m26-4h0m10 4h0m2.5-3h0m5.5 4.5h0m.5-4.5h0m1.5 0h0m5.5 2.5h0m1 2h0m9-5h0m1 1.5h0m13 0h0m3 4h0m2.5-5.5h0m0 5.5h0m2-4h0m4 2h0m4-4h0m.5 0h0m6 4h0m1.5-4.5h0m.5 3.5h0m3 3h0m3 0h0m2-5h0m.5-1h0m-181.5 12h0m13.5-2h0m13.5 0h0m12.5-3h0m2.5 0h0m22 0h0m10.5 5h0m1.5-4.5h0m2 2h0m2.5-.5h0m7.5 2h0m5-3.5h0m5.5 2h0m6.5-3h0m4 6.5h0m3-4.5h0m1 4.5h0m2-.5h0m4.5-4h0m2 3.5h0m1-3.5h0m.5-2h0m17.5 6h0m1.5-6h0m11.5 1.5h0m16 2.5h0m11.5-3.5h0m-189 10.5h0m3 1.5h0m.5-2.5h0m2.5 1.5h0m0-4h0m5 6h0m45-.5h0m5.5-5h0m5.5 1h0m1.5 5h0m5-4.5h0m.5.5h0m16.5 3h0m1-2h0m6.5 0h0m0-1.5h0m7.5-1h0m1 .5h0m.5 4.5h0m4-4.5h0m2 2.5h0m11.5-3h0m2 5h0m8 0h0m.5-6h0m6.5 5h0m1-3h0m34 4.5h0m7.5-6.5h0m-184.5 10h0m1.5 3h0m4-4.5h0m3.5.5h0m3 3h0m8.5 1.5h0m15-5h0m7 4h0m3.5-5h0m4 5.5h0m11.5-5h0m17 0h0m16 3h0m4-3.5h0m2.5-.5h0m6.5 5h0m1-1h0m5 2.5h0m4.5-6h0m2.5 2.5h0m1 3h0m3-4h0m7 2h0m2.5 2.5h0m5-.5h0m1 .5h0m7-4h0m5 0h0m1.5 3.5h0m.5-1.5h0m3.5-4.5h0m8.5 1.5h0m13.5 3.5h0m-180.5 2.5h0m6 2.5h0m7.5-3h0m8.5 2h0m.5-1.5h0m1 3h0m6-2h0m2.5 1h0m5 3.5h0m5.5-6h0m5 1h0m3 4h0m0-4.5h0m2 1.5h0m7-2h0m3.5 6h0m13-5h0m3 1.5h0m6 3.5h0m8-1.5h0m5-2h0m2 3.5h0m2-2.5h0m6 3h0m16-6.5h0m8 0h0m21 2.5h0m7.5 1.5h0m1-1.5h0m1.5 0h0m2 1.5h0m1-.5h0m1 1.5h0m5-3.5h0m1.5 2h0m2 0h0m.5 2.5h0m4.5-2h0m-188 7h0m7 1.5h0m3-4.5h0m6 2.5h0m1-4h0m5.5 2h0m7.5 3.5h0m4-1.5h0m0 3h0m1-5h0m0 2h0m0 1h0m.5-1.5h0m.5 2h0m9-1.5h0m3 2h0m5.5-5.5h0m2 1.5h0m7 3h0m4.5-4h0m.5-.5h0m3.5 0h0m4 1h0m6 4.5h0m14.5-2.5h0m6.5-2.5h0m13 6h0m1.5-4h0m1.5-1h0m6.5-.5h0m6-.5h0m11 4h0m1.5-3.5h0m9 .5h0m4-1h0m6-1h0m5.5 5h0m4.5 2h0m8-4.5h0m2 1h0m.5-2h0m.5 0h0m0 3.5h0m1.5-2h0m1 2h0m1-.5h0m2-3.5h0m-188 7h0m5 3h0m6.5 1.5h0m4.5-3h0m4 1.5h0m1-2.5h0m3 5.5h0m4.5-6.5h0m11 3.5h0m5.5 3h0m3.5-6.5h0m.5 0h0m5.5 6h0m8.5-5h0m7.5 1.5h0m2 2.5h0m3-1.5h0m8 1.5h0m2-3.5h0m1-.5h0m5 1h0m1-2h0m8.5 2.5h0m1.5 0h0m1.5 0h0m2 2h0m3-1h0m3-3.5h0m7.5 4.5h0m3.5-4.5h0m32.5 2h0m1.5-2h0m1 0h0m3 5h0m1-1.5h0m3 2.5h0m.5-3.5h0m5.5 1h0m1.5-4h0m1.5.5h0m4 2h0m2-1h0m-167 6h0m4 3h0m3.5-3h0m9 6.5h0m4-5h0m1 5h0m5-5.5h0m2.5 3.5h0m3.5-3.5h0m11.5 1h0m6-1.5h0m11.5 1h0m1.5 3h0m13 1.5h0m7-1h0m1-4h0m10.5-1h0m10.5-.5h0m15.5 6.5h0m1-6.5h0m5 4h0m3.5-1.5h0m5.5-2h0m6 5h0m.5 0h0m6.5-.5h0m5.5-3.5h0m4-.5h0m-134.5 6h0m9 1.5h0m2.5-1h0m15.5 5h0m10-3.5h0m1.5 4.5h0m.5-5.5h0m7.5 2.5h0m5 3h0m.5-1.5h0m3.5.5h0m3-3h0m4 1h0m0 2h0m7.5-2h0m1.5-3h0m.5 2h0m4.5-2.5h0m3.5 1h0m1.5 1.5h0m5-2h0m5.5 2.5h0m1.5 1.5h0m2.5 2.5h0m10-4.5h0m1-.5h0m0-1.5h0m.5 5.5h0m2-5.5h0m10 1.5h0m8 3.5h0m.5.5h0m-122 3h0m16-.5h0m12.5 1.5h0m0 1.5h0m3-2.5h0m1 1h0m3.5 4h0m.5-3h0m0-2h0m3.5 4h0m.5-5.5h0m2.5 4.5h0m6 1.5h0m10-5.5h0m5-.5h0m19.5 6h0m0-3h0m1 1h0m1-2.5h0m1-1.5h0m3 6.5h0m9-1.5h0m5.5-4h0m.5 0h0m1.5 5h0m1-.5h0m3.5-3h0m4 4h0m1.5-3.5h0m2.5 3.5h0m-93 4h0m7.5-1.5h0m24.5-1h0m5 2h0m4 3h0m6-4h0m15.5 4.5h0m7-5.5h0m1 2h0m9.5 1h0m6.5-1.5h0m2.5 3.5h0m-73.5 1.5h0m11 1.5h0m8.5 2h0m2.5-1.5h0m4-2h0m2 3h0m1-1.5h0m1 .5h0m2 .5h0m26.5 3.5h0m.5-7h0m3 4h0m10.5-3.5h0m-57 9h0m7.5 4.5h0m2 0h0m.5-6.5h0m14 3h0m.5-2.5h0m9.5.5h0m12 2h0m-20.5 5h0m1 5h0m0-4.5h0m5 2h0m1.5-3.5h0m-15 8h0m4.5 3.5h0m1.5-1.5h0m.5 2h0m5.5-.5h0m1.5-2.5h0" stroke="#400e5a"/><path d="M642 692.5h0m4 2.5h0m9.5 1.5h0m1-1h0m-11.5 5.5h0m2-3.5h0m-1.5 12.5h0" stroke="#3e3476"/><path d="M650 694.5h0m6.5 0h0m-8.5 8h0m3 .5h0m.5-1.5h0m5 1.5h0m6.5-3h0m1-1.5h0m-13.5 8.5h0m0-3h0m.5 4h0m8.5-4h0m9 1h0m2-1h0m4.5 5h0m12 1.5h0m-44 .5h0m2.5 3.5h0m9.5-1.5h0m3.5-.5h0m.5 2h0m10.5-.5h0m2.5 0h0m3.5-.5h0m1 2h0m0 1h0m5.5 1h0m4-1h0m6.5-3.5h0m-47.5 9h0m18.5-3.5h0m15 5.5h0m5-1.5h0m0-2h0m0 2.5h0m20-.5h0m11.5.5h0m-66 4.5h0m1.5-1.5h0m5 1h0m2 3h0m5.5-1.5h0m15-3.5h0m.5 6.5h0m1.5-2.5h0m3 .5h0m8.5-2h0m3-2.5h0m2.5 0h0m8 5h0m-50.5 8h0m0-6.5h0m7 2h0m2.5 4h0m1-3.5h0m1.5 3h0m5.5.5h0m1.5-3h0m1.5 3h0m7-5.5h0m2 .5h0m5 5h0m1.5-2.5h0m-33 9h0m5 1h0m7.5.5h0m1.5-5.5h0m23 3.5h0m-18.5 3h0m13.5 2h0m-11 6.5h0" stroke="#3a407c"/><path d="M710.5 720h0m13 4h0m6-2h0m-37.5 7.5h0m.5.5h0m1-4h0m.5 3.5h0m0-3h0m17.5 2.5h0m5.5-2.5h0m4.5 3.5h0m2-5.5h0m9 6.5h0m6.5-2.5h0m-51 9h0m3-3.5h0m17-.5h0m2.5 4h0m6.5-5h0m3 0h0m5.5 1h0m5 1h0m.5.5h0m6-.5h0m3-2h0m4.5 4h0m2-2h0m1-1.5h0m-53.5 7h0m2 2.5h0m6-3h0m12 4.5h0m1.5-.5h0m12.5.5h0m25.5-4.5h0m2 4h0m-97.5 7.5h0m15.5 1h0m2.5-2h0m3 2h0m6-6.5h0m.5 7h0m0-6h0m1 .5h0m1.5 3.5h0m2-4h0m7-1h0m4 4h0m15.5-1.5h0m2.5 3.5h0m1 .5h0m3.5-5.5h0m1-.5h0m6 1h0m1.5-1h0m.5.5h0m0 .5h0m1 1.5h0m5 3.5h0m9-2.5h0m-89.5 3.5h0m4 4h0m6.5 1h0m19.5-2h0m5.5 3.5h0m11-4.5h0m1.5-1.5h0m0 2h0m8 4h0m1.5-5.5h0m1 2h0m1 3h0m0-4h0m2 2.5h0m.5-.5h0m12-2h0m15-2.5h0m7 0h0m1 3.5h0m1 .5h0m-93 3h0m4 4h0m5.5-1.5h0m3 4.5h0m1.5-4.5h0m2.5-1h0m7.5 1h0m6 1h0m11-3.5h0m7 .5h0m4 4h0m0-1h0m4.5.5h0m7-1h0m4.5 2.5h0m2.5 1.5h0m1.5-1.5h0m7.5-3.5h0m7-2h0m4.5 4.5h0m-88 4h0m2-1h0m.5 3.5h0m6-2.5h0m2.5 2h0m6.5 1.5h0m9-2h0m8.5 1h0m1 .5h0m2 .5h0m1-4.5h0m.5 0h0m1 3.5h0m.5 0h0m1.5-1h0m18.5-1h0m2 5h0m2.5-4h0m5.5-2h0m-62 11h0m12.5 0h0m0-.5h0m.5 1.5h0m21.5-2.5h0m.5.5h0m1-2.5h0m.5 2h0m8.5 2.5h0m5-5.5h0m3 6h0m-47.5 1h0m4.5.5h0m24.5 5h0m2.5 0h0m10.5.5h0m-22.5 3h0m10 0h0m3.5-2.5h0m-1 9.5h0" stroke="#364b7f"/><path d="M745 764h0m1.5-2.5h0m-8.5 8h0m1 0h0m2.5 1h0m7.5-1h0m-32 9.5h0m19.5 0h0m2.5-1.5h0m9-4h0m-50 11.5h0m5 .5h0m7.5-2.5h0m26.5-2h0m3 2.5h0m-26 7h0m.5 1.5h0m1.5 1h0m14-2h0m3 3h0m.5-5h0m11 2h0m.5-1.5h0m-46.5 10.5h0m9-5.5h0m11 2.5h0m0 0h0m1-.5h0m4.5-1.5h0m1 4.5h0m4-.5h0m4 2.5h0m2.5-4h0m4.5 4h0m1.5-7h0m2.5 4h0m1-3.5h0m6.5 3.5h0m-42.5 9.5h0m1 .5h0m15-5h0m6-1.5h0m8-.5h0m1 .5h0m2 0h0m1 5h0m1-4h0m6.5 2h0m-35.5 7.5h0m1.5-1h0m4.5-2h0m1-1h0m12 4h0m2.5 2h0m0-1.5h0m4 2h0m5.5-1h0m6.5 1.5h0m3-4.5h0m-31.5 5.5h0m8 4.5h0m1.5-3.5h0m1.5 1h0m.5 1.5h0m4-3.5h0m1.5.5h0m3 1h0m-20 9.5h0m4.5-3.5h0m2 4.5h0m9-2.5h0m2 0h0m13-1.5h0m-16 10.5h0m1.5 1.5h0m8-4.5h0m2.5 1h0m1 0h0m-23.5 10h0m1.5-6h0m2 3h0m0 3h0m10.5-.5h0m5-.5h0m3-4.5h0m9-.5h0m7 1.5h0m.5 0h0m-10 7.5h0m0 2.5h0m8.5-4h0m4 3h0m.5.5h0m5.5-.5h0m-16.5 4h0m11 4.5h0m7-4.5h0m-22.5 9.5h0m3.5-3h0m11.5 5h0m4-1.5h0m1 2.5h0m3-5.5h0m-10 10h0m14-3.5h0m3.5 6h0" stroke="#325581"/><path d="M750.5 777h0m1 1h0m7-3.5h0m-15 11h0m2 0h0m4-1.5h0m0 6h0m.5-2h0m6 3.5h0m-5 3.5h0m6.5 4h0m-2.5 9.5h0m-.5 2h0m3 3h0m7.5 7.5h0m-23.5 8.5h0m1.5-5.5h0m16 0h0m1-1h0m1 4h0m-19 6h0m7.5-2.5h0m-24.5 7h0m9.5 3h0m2.5-3.5h0m11 6h0m11.5-4.5h0m5 2.5h0m12.5-2h0m1.5-2.5h0m-26 10h0m-2 10.5h0m2 0h0m5.5-4h0m17 4.5h0m8-6.5h0m1.5 6h0m2.5-3h0m-31.5 8h0m1-2h0m25.5 3h0m7-1.5h0m-8.5 6.5h0m5.5 5h0m9.5 5h0m2-1.5h0m1-4h0m-1 7h0" stroke="#2d6083"/><path d="M759 783.5h0m.5-.5h0m1 5.5h0m2.5 12.5h0m.5-3.5h0m3 17.5h0m1-5.5h0m4 6.5h0m3.5 5.5h0m1.5 7.5h0m3.5 3.5h0m2.5 4h0m-1.5 3.5h0m4 3.5h0m2 1h0m-.5 6.5h0m.5 0h0m13.5 15h0" stroke="#296983"/><path d="M765.5 793.5h0m.5 6h0m4-2.5h0m0 6h0m2 2h0m2 14h0m1.5 1.5h0m2 5h0m8 6.5h0m1 9h0m8.5 9h0m2 3h0m1.5 7h0m4-1.5h0" stroke="#257283"/><path d="M761.5 764h0m11 43.5h0m1-.5h0m8.5.5h0m-1 3.5h0m5 4.5h0m1 1.5h0m2 5.5h0m2-4h0m0-1h0m-3.5 6h0m5 3h0m-2 8.5h0m2.5 0h0m-.5 3.5h0m.5 3h0m1.5-3h0m3.5 4.5h0m3.5 8h0" stroke="#227b82"/><path d="M838.5 667.5h0m17-3.5h0m-19.5 5h0m10.5 4h0m6-2.5h0m5.5 2.5h0m-31.5 8h0m2.5-4.5h0m1.5-1h0m5 2.5h0m0 3h0m2.5-1h0m5.5-.5h0m-19 5h0m.5 3h0m.5-5h0m2.5 5h0m1.5 1.5h0m19-4h0m-29 9.5h0m3-4.5h0m1 6.5h0m2.5-3h0m.5 2.5h0m1-4.5h0m2 4h0m28 .5h0m8-4.5h0m-52 8.5h0m3.5 3.5h0m0-4h0m7 1h0m4.5 2h0m4.5-2.5h0m1.5 3h0m3.5-3.5h0m7.5 4h0m18.5-6.5h0m-55.5 11.5h0m3-4h0m6.5 5.5h0m6.5-1h0m18 .5h0m11.5 1h0m1-1h0m6-5.5h0m-41.5 11h0m14-2h0m11 0h0m4-1h0m1.5 0h0m20.5 1.5h0m4-3h0m-78.5 10h0m.5 3.5h0m3-5.5h0m9 1.5h0m9.5 3h0m5.5.5h0m1.5-.5h0m1.5-2h0m27.5 1h0m-61 7.5h0m.5-4h0m6.5-.5h0m11 1h0m8.5.5h0m5.5 5h0m1-5h0m1-1h0m9-1h0m2 4h0m1-.5h0m1.5-.5h0m3 2.5h0m7.5-3.5h0m5.5-1.5h0m12 2h0m-87.5 8.5h0m10.5 2h0m2-2.5h0m7.5-1.5h0m4 4h0m2 0h0m0-5h0m.5 3.5h0m4.5.5h0m6.5-.5h0m6.5-3h0m8.5 2h0m2 2.5h0m.5-2h0m4-3h0m1.5-.5h0m-64 11.5h0m4-4.5h0m12 2h0m23-.5h0m3-.5h0m8.5 2h0m1.5-1h0m1 3h0m9.5-2.5h0m11 .5h0m9.5 3h0m-87 3h0m12.5 2.5h0m1-4.5h0m11.5-.5h0m7 2h0m11.5-.5h0m2 1h0m4.5-.5h0m11.5 4.5h0m1.5-3.5h0m10 4h0m0-6.5h0m2.5 1.5h0m-85.5 6.5h0m9-.5h0m16 1.5h0m11.5.5h0m1 1h0m0-1.5h0m11 .5h0m4.5-2.5h0m7 5h0m13.5-3h0m1 2h0m1-.5h0m-81.5 8h0m5.5-4h0m4.5 0h0m1 3h0m3-2.5h0m2 0h0m1.5 0h0m5.5 5.5h0m7.5-5.5h0m0-1h0m2 3h0m10.5-1.5h0m1 2h0m4-.5h0m.5 1h0m1.5 0h0m8.5-3.5h0m0 1h0m11.5 2.5h0m13.5-2.5h0m-81.5 8h0m4-2.5h0m1.5.5h0m4.5 2.5h0m8.5 2.5h0m2.5.5h0m0-3h0m2-1h0m.5-.5h0m2.5 5h0m5-4.5h0m2 1h0m5-1.5h0m1.5 4h0m7-6h0m16 1h0m4.5 2h0m5-1h0m-66 6h0m1 2.5h0m5.5-3.5h0m12 0h0m4.5 1h0m1 0h0m0-1h0m1.5 1h0m2 4h0m1.5-1.5h0m10.5 0h0m7-3h0m.5 6.5h0m1.5-6.5h0m1 3.5h0m-51 5h0m7 2.5h0m18-2h0m3.5-.5h0m5-1.5h0m2.5 2h0m11 3.5h0m12-5.5h0m-50 10.5h0m3-3.5h0m3 3h0m0 .5h0m6.5 1.5h0m2-2h0m6.5 0h0m3.5.5h0m4 .5h0m5.5-4h0m2.5 1.5h0m19 4h0m-37.5 5h0m18-.5h0m13.5-1.5h0m-35 8.5h0m6-3h0m5.5.5h0m5.5 2.5h0m8.5-3.5h0m-14 8h0m2 4h0m2 1h0m6.5-2h0m-11.5 12h0" stroke="#208480"/><path d="M864.5 711h0m12.5 5.5h0m-7 4h0m8.5 2.5h0m-17.5 5.5h0m1-1h0m10 3.5h0m2.5-.5h0m9-.5h0m1-3.5h0m-32.5 5h0m20 7h0m4.5-.5h0m1-1.5h0m-33.5 7.5h0m3.5-1.5h0m1-2h0m18.5-1.5h0m6.5 3h0m5-2h0m-35.5 10.5h0m17 1.5h0m2-4h0m4 2h0m1.5-3.5h0m7.5 0h0m-44.5 12h0m7.5-.5h0m16-1.5h0m-24 9h0m6 1h0m.5-3.5h0m5.5-.5h0m1.5 3.5h0m1.5 0h0m2.5-6h0m12 4h0m6-4h0m3 6.5h0m1.5-4.5h0m-27 7h0m6 2h0m10.5-2.5h0m.5.5h0m3 2h0m0-1h0m-43 7h0m19-3h0m10 5.5h0m2-6h0m7 1h0m10.5 2h0m-31 10h0m2.5-2h0m13.5-1.5h0m5 3.5h0m3-.5h0m1.5-1.5h0m1.5-2.5h0m7 2.5h0m6.5 3h0m-67 1h0m11 .5h0m11-1h0m9 3h0m10-1.5h0m1-.5h0m1.5-1h0m.5 0h0m.5 3.5h0m3.5-3.5h0m15.5 5.5h0m-82 5.5h0m11 1h0m26.5-2h0m17.5-2.5h0m3.5 4h0m0-3.5h0m1-1.5h0m3 5.5h0m5.5-1.5h0m-70.5 5.5h0m.5-2.5h0m20 2.5h0m1.5.5h0m2.5-.5h0m3.5 2.5h0m11.5-2h0m.5-1.5h0m1 3h0m0 0h0m1.5 0h0m1-1.5h0m0 3.5h0m2.5-1h0m4-2h0m7-3h0m0 3.5h0m10.5-3.5h0m5 3h0m1.5-3h0m0 .5h0m2 3.5h0m3.5-1h0m6-1h0m-85 7h0m12-1h0m1.5 1h0m2 2.5h0m3 1h0m18.5 0h0m5-4h0m16 4h0m3.5-4.5h0m.5 1.5h0m9.5 2.5h0m5.5-1h0m1 1h0m3.5-1.5h0m3.5 2.5h0m-81.5 3h0m5-.5h0m.5 0h0m6-1h0m6 3.5h0m2 2h0m0 0h0m8.5.5h0m12.5-1h0m1-3h0m5.5-1h0m12 3h0m0-2.5h0m12 4.5h0m8.5-1h0m-69.5 2.5h0m0 5.5h0m1-3h0m1.5-2h0m.5 2.5h0m1 0h0m1-1.5h0m6 0h0m6.5 3h0m1-1h0m3.5 1.5h0m1-3h0m13-1.5h0m1.5 0h0m6.5 5h0m0-5h0m1 .5h0m1.5 1.5h0m5-1h0m.5-.5h0m3.5 0h0m-57 5.5h0m9 2.5h0m4 .5h0m4.5.5h0m2-2.5h0m3.5 4h0m5-4.5h0m1 .5h0m10.5 3.5h0m6-4h0m0 3.5h0m9-1h0m2 2.5h0m1-6.5h0m4.5 3.5h0m9 0h0m-68.5 5h0m2 4.5h0m25-5h0m3 4h0m8.5 1.5h0m19 .5h0m-56 1h0m5.5 5h0m1.5-6h0m1.5 4.5h0m0-3.5h0m.5 0h0m4 1h0m.5-1.5h0m4 .5h0m11 .5h0m1 1h0m2.5 3.5h0m7-4h0m10.5 3.5h0m-46.5 3h0m0-.5h0m1.5-.5h0m1.5 3h0m1-3.5h0m4.5 6h0m6.5-.5h0m7.5-5h0m3 3h0m7.5 1h0m1.5-3h0m18 1h0m-55 4.5h0m1.5 2h0m5-1.5h0m5.5 6h0m18-2h0m12-4h0m4 2.5h0m8.5 3h0m-54.5 6.5h0m1.5-5h0m.5 4.5h0m.5 1h0m.5-4.5h0m3 3h0m2.5-1h0m2-3h0m.5 2.5h0m4.5.5h0m4 1.5h0m11-4h0m2.5 4.5h0m5-1h0m1-3.5h0m.5 2.5h0m5.5.5h0m-50.5 5h0m1 4.5h0m1.5-3.5h0m4.5 2.5h0m4-1.5h0m11-3.5h0m2.5 3.5h0m13.5 1.5h0m1-4h0m10-1h0m-51 8.5h0m3.5.5h0m12.5 1.5h0m.5-3h0m1 1h0m15 1h0m-12.5 6.5h0m0 .5h0m13-.5h0" stroke="#1d8e7f"/><path d="M876.5 814.5h0m-4.5 6h0m-2 14h0m-15 14h0m3 .5h0m7.5-3h0m13 2.5h0m-35.5 8h0m7 .5h0m1.5-1.5h0m0 0h0m3-1.5h0m14 1.5h0m6-2h0m3-2.5h0m-28 10.5h0m3 1h0m2 1.5h0m4-1h0m5.5-5h0m9 6h0m1.5-4h0m-37.5 8.5h0m1-2h0m17.5.5h0m1.5-1h0m8 .5h0m-14 11h0m6-4h0m1.5-.5h0m-27.5 11.5h0m.5-1h0m9.5-5h0m11.5 3h0m-29 4.5h0" stroke="#22977a"/><path d="M883 817h0m-9.5 10.5h0m1.5 4.5h0m5.5 2h0m.5 10h0m5.5 8.5h0m4.5-1h0m4.5 0h0m.5 5h0m-16 1.5h0m2.5 3.5h0m4.5 0h0m3.5-2.5h0m.5 2.5h0m5.5 0h0m28 22h0m2.5-3.5h0m-28.5 17h0m30.5 9h0m-9 7h0m2-6h0m0 4h0m1-3h0m.5 3h0m3 2h0m1-2.5h0m2-1.5h0m-17.5 6h0m7.5 4.5h0m.5-5.5h0m2.5 6h0m0-5.5h0m2 0h0m0 3h0m1.5 0h0m1.5 2h0m1-3.5h0m-16 6.5h0m1.5 3h0m0-1.5h0m4.5 1.5h0m2.5-2h0m.5 2h0m.5-3h0m0-.5h0m2.5.5h0m0 4.5h0m1-2.5h0m-11 3.5h0m1 4.5h0m0-1h0m.5 0h0m1 2.5h0m0-3.5h0m3 2h0m1.5-1h0m2.5-2h0m-15.5 9.5h0m.5-1.5h0m0 .5h0m2-.5h0m.5 4h0m1-5.5h0m3 5.5h0m.5-3.5h0m0-1.5h0m.5 4.5h0m1-1.5h0m0-1h0m2-2h0m2 2h0m-11 5h0m1.5 3h0m0-1.5h0m2 2h0m0 1h0" stroke="#29a075"/><path d="M876 813.5h0m12-2.5h0m4 0h0m-12.5 8h0m3 1h0m2 .5h0m9-2h0m4.5 3.5h0m2-.5h0m-21 5.5h0m15.5 5.5h0m7 1h0m.5 2.5h0m-20 5.5h0m12.5 1h0m4.5-5.5h0m-10.5 6.5h0m7.5 5h0m6.5-1.5h0m1.5-1.5h0m-1 12h0m4 1.5h0m.5 8h0" stroke="#31a86f"/><path d="M882.5 790h0m11 4.5h0m-15 5.5h0m12.5-.5h0m-12 8h0m6-1.5h0m5.5 1h0m1-3.5h0m-8.5 5h0m8.5 3.5h0m.5 2.5h0m5-4h0m5 .5h0m4.5 0h0m3.5 2h0m-9 4h0m14 1h0m21 11.5h0m21.5-1h0m-51 5.5h0m5.5-1h0m-6.5 9h0m6.5 0h0m41.5-.5h0m-34.5 4h0m-3.5 10h0m2.5.5h0m1.5-1.5h0m25.5-1.5h0m21 4h0m7.5-3.5h0m-66.5 7.5h0m44.5-1h0m.5-2h0m14.5 6.5h0m-50 .5h0m3 2.5h0m28.5 0h0m16.5-3h0m2 6.5h0m-48 1h0m8 5h0m7.5-1.5h0m13-3.5h0m13.5 3.5h0" stroke="#44b064"/><path d="M912 762.5h0m20 2h0m12 .5h0m39-1h0m-104.5 3.5h0m11 3h0m30.5-2h0m18.5 4h0m1.5-.5h0m13-5h0m15 5.5h0m3-3h0m7.5.5h0m-103 9h0m5-4.5h0m15 1h0m1 .5h0m2.5 0h0m3.5.5h0m6.5-1h0m17.5 1h0m3.5 2h0m9-3.5h0m2.5 4.5h0m3.5-2.5h0m1 0h0m5.5-1h0m2-.5h0m11 0h0m0-1.5h0m13 2.5h0m.5 0h0m6 3h0m-108.5 6h0m4 1.5h0m1.5-5h0m19 3.5h0m15.5-2.5h0m9-1h0m.5 3.5h0m26-2h0m18.5-1h0m11.5 2h0m0-4h0m-105 10h0m3.5 3h0m4.5-2h0m1.5 0h0m12.5-3.5h0m1 3.5h0m8.5-3.5h0m1 4.5h0m2 2h0m2-4.5h0m18 0h0m36.5-.5h0m13 .5h0m2-1h0m-74 10h0m2.5-1.5h0m3.5 3.5h0m2 0h0m21-4h0m12-1.5h0m2.5.5h0m3-1h0m0 1.5h0m2.5 1h0m9.5-2.5h0m12.5 1.5h0m1 2h0m-66.5 6.5h0m26.5-2h0m2 2h0m6.5 2.5h0m6-1h0m0-3h0m7.5-2h0m.5 2.5h0m5-1.5h0m7.5 2h0m2.5 1h0m1.5 3h0m-58.5 5.5h0m4-5h0m4.5 3h0m9.5 0h0m1.5-.5h0m6-2.5h0m19.5 4h0m10 1.5h0m1-4.5h0m4.5 2h0m4-1.5h0m2.5 3h0m-76.5 4h0m2 3h0m3-2h0m13 1h0m15-2h0m10.5 4.5h0m3.5-6h0m3.5 3h0m5.5 2.5h0m5.5-.5h0m10-4h0m-70 8.5h0m18-1h0m3 4h0m6-5h0m11.5 1.5h0m0 1h0m21.5-1h0m3.5-1h0m1 5h0m5-5.5h0m2 .5h0m-52 8.5h0m20.5-1h0m4.5 1h0m4-.5h0m4.5 0h0m2-1h0m6 1h0m-52.5 6.5h0m4.5-1.5h0m10.5.5h0m2.5 3h0m10-3h0m2 2.5h0m3.5-2h0m16 .5h0m10 2.5h0m2 0h0m1.5 1h0m-64 5.5h0m22-1h0m5 .5h0m3 0h0m.5 2.5h0m2.5 0h0m4.5-5h0m3 2.5h0m5.5-1h0m6.5-1h0m.5 3.5h0m-49.5 9h0m4.5-3.5h0m2 0h0m0-2.5h0m7 5h0m4-1.5h0m5-2.5h0m3-1h0m9 5h0m.5-5h0m2.5 1.5h0m.5 1.5h0m15-4h0m3.5 2h0m5-1h0m-70.5 13h0m8-2h0m2-1.5h0m3-2.5h0m1.5 2h0m.5-.5h0m8 1h0m8 3.5h0m1-2.5h0m8-.5h0m15 2h0m7.5-5.5h0m-57.5 9h0m3-2h0m.5.5h0m3 1h0m3.5 2h0m10 2.5h0m2.5.5h0m18-.5h0m12-.5h0m1.5-4h0m-52 6h0m1 .5h0m8 .5h0m1 2h0m3-.5h0m13.5-1.5h0m3.5-1h0m8.5 0h0m2 3.5h0m2.5-1.5h0m6 15h0" stroke="#57b859"/><path d="M883.5 752h0m17.5-1h0m9 1h0m25.5-2h0m.5 0h0m.5.5h0m0-4.5h0m5 6.5h0m40-3.5h0m-91 7h0m1.5-1.5h0m6 4h0m1.5-4.5h0m6.5 1h0m11 1h0m.5 1h0m.5-4h0m.5 4.5h0m7-3h0m3 1.5h0m11 2.5h0m2-2.5h0m8.5.5h0m1.5 0h0m3 0h0m.5.5h0m0-.5h0m4.5 2.5h0m6.5-3.5h0m20-2h0m-98 10.5h0m8.5-.5h0m0 3h0m5.5-3.5h0m7-.5h0m1.5-2h0m2.5 5.5h0m8.5-4h0m11 0h0m3.5 2h0m.5 1h0m7-5h0m4 6h0m11.5-2h0m.5-.5h0m7-2h0m.5.5h0m1 2h0m2.5-.5h0m10.5 0h0m-103.5 5.5h0m2.5 4.5h0m3.5-4h0m17.5-1h0m10 .5h0m1.5 4.5h0m2-7h0m.5 1.5h0m.5-1h0m1 2h0m43-2h0m15 3.5h0m3 .5h0m9-1.5h0m-104 4.5h0m10.5 5.5h0m9-6h0m5.5 5h0m22 .5h0m3.5 1.5h0m7-3.5h0m10.5 2h0m1-3.5h0m5.5 4h0m5.5-5.5h0m3 6.5h0m6-1h0m-46.5 2h0m10.5 5h0m8-2h0m5 1h0m6.5-3h0m4.5 3h0m2.5-2.5h0m-47.5 7h0m20.5 2h0m5-2.5h0m6 1h0m22 4h0m2-3.5h0m-38 8.5h0m.5-1.5h0m5-2.5h0m4 2h0m11.5 1.5h0m18-1h0m9 2h0m2.5-2h0m.5 3h0m-56.5 3h0m5.5.5h0m14.5.5h0m17.5 0h0m2-1h0m5.5 0h0m3 3h0m0-2h0m-44.5 7.5h0m28 3h0m26-4h0m6 0h0m-49 9h0m7.5-1.5h0m1.5 2.5h0m2.5-3h0m-20.5 8.5h0m25.5 0h0m19.5 0h0m5.5-.5h0m8 0h0m-4.5 8.5h0m3.5-3.5h0m3.5 4h0m-71.5 3h0m23.5 3h0m25 6h0m18.5 1h0m-1 5h0m-26 6.5h0" stroke="#6cbf4d"/><path d="M900.5 727.5h0m29 1.5h0m2.5 0h0m42 0h0m0-.5h0m46.5 1h0m-102.5 4.5h0m6.5 4h0m12-.5h0m4-2h0m9.5 1h0m9.5-2h0m12 3.5h0m37-3.5h0m-117.5 8.5h0m6-3h0m3.5 3.5h0m2 0h0m5.5-3h0m13 3h0m2.5-5h0m17 6h0m1.5-5.5h0m17 3h0m4 3.5h0m.5-.5h0m16.5-1.5h0m2.5.5h0m7-4h0m28-1.5h0m-125 7.5h0m1 .5h0m8.5 3.5h0m2.5-3h0m7-.5h0m18.5 1.5h0m9.5-1h0m.5-1h0m2.5 1.5h0m2.5-1h0m1.5 1.5h0m2 .5h0m19.5 3.5h0m10.5.5h0m2.5-6h0m39-.5h0m-140.5 7.5h0m22 1.5h0m15.5-1.5h0m50.5 3.5h0m22-2h0m-54.5 6h0m52-1h0m1 3h0m5.5-2.5h0m5 11h0m1.5-3h0m5.5-1h0m-14 12h0m2.5-2h0m-7.5 9h0m2 4h0m5.5-1h0m2.5 4h0m4.5.5h0m4-4h0m4.5-1h0m-18.5 11.5h0m8-3h0m2.5 8h0m4.5 1h0m-15.5 4.5h0m8-2.5h0m-4.5 10.5h0m3-3h0m2 6h0m2.5-.5h0m6.5 1h0m-14 5h0m1.5 0h0m-4.5 8h0m7.5-.5h0m-6 8.5h0m3 4h0m1.5 2.5h0m.5-5.5h0m.5 1.5h0m-2 6h0m-11 6h0m-13.5 24h0m3.5 12h0" stroke="#85c43d"/><path d="M987.5 641h0m-73 27.5h0m71 6h0m2.5 20.5h0m30.5 9h0m-119 12h0m7.5-1.5h0m42 1.5h0m32-1h0m7 .5h0m20.5-5h0m.5 2.5h0m8.5 2h0m-108.5 4.5h0m13 1.5h0m9.5-3h0m6.5 4.5h0m14 0h0m12.5-2h0m19-.5h0m16 3.5h0m10.5-1h0m4.5-3.5h0m-127 8.5h0m4.5 3h0m17-2h0m2.5-1.5h0m2 1.5h0m3.5 0h0m7.5-2h0m4 2.5h0m4.5-1.5h0m2-.5h0m.5 1.5h0m6-2.5h0m2 5h0m1.5-4h0m.5.5h0m12.5 1.5h0m.5-1.5h0m8.5 2.5h0m10.5-1h0m2.5-1h0m10.5-3h0m2 3h0m6-3.5h0m.5 2.5h0m17.5 0h0m.5 1.5h0m5.5-3h0m1 4.5h0m-142 6h0m15-1h0m11.5-1h0m0 2h0m12 2h0m6.5-6h0m3 4.5h0m10-2h0m5.5-3h0m12.5 1h0m1.5 4h0m36.5-.5h0m1.5-1.5h0m4.5.5h0m3.5 1.5h0m5.5-4.5h0m9.5 3.5h0m-105.5 5h0m2 .5h0m70 .5h0m2-.5h0m4 2.5h0m1-4.5h0m1.5 2h0m2 2h0m13-4h0m7.5 2.5h0m1.5-1.5h0m2 4h0m-4.5 6h0m7.5-4.5h0m-26 10h0m0 3.5h0m1 0h0m2-.5h0m8.5 0h0m.5-3.5h0m7 3.5h0m1-5.5h0m-12.5 11h0m.5-4h0m3 4.5h0m4.5-2.5h0m5.5 1.5h0m-21 9h0m3-1.5h0m4 1h0m1.5 1h0m1-1h0m.5 1h0m.5.5h0m6.5-2h0m2.5-2h0m.5 0h0m2 1h0m0 0h0m2 3h0m-20 6h0m.5-3h0m2.5.5h0m4-2.5h0m3.5-1h0m10.5 3h0m.5 1.5h0m.5 0h0m0 1.5h0m-9.5 5.5h0m-15.5 4.5h0m4.5-.5h0m7.5 1h0m10.5 3.5h0m3.5-3.5h0m3.5 3.5h0m-26.5 6h0m7.5-2h0m-10 4h0m2.5 0h0m8 7h0m6.5-1h0m7.5-5.5h0m-29.5 7h0m5.5 5h0m20.5-1h0m6-1.5h0m-23.5 4h0m6 3h0m11 2h0m1 1h0m3.5-2h0m-11 6h0m2.5-2h0m4 5.5h0m.5-5h0m-22.5 5.5h0m1.5 6h0m2.5 0h0m3.5-4.5h0m5 4h0m0-5.5h0m6 2.5h0m3-1.5h0m-14.5 10.5h0m6 1h0m2 1h0m-12 7h0m1-6.5h0m1.5 6h0m3.5-2.5h0m0-1.5h0m1 3.5h0m3-2.5h0m.5 3.5h0m7-6h0m-35 16h0m13 50h0" stroke="#9dca2e"/><path d="M975.5 619h0m-2.5 5h0m9-1.5h0m0 2.5h0m-59.5 4.5h0m3.5 0h0m16.5 2h0m2 1h0m25-5h0m2.5 5h0m3-4.5h0m0 1h0m1.5 4.5h0m.5-2.5h0m10.5 2h0m1-5h0m0 .5h0m.5 3.5h0m-71 4.5h0m8-1.5h0m9-.5h0m1.5.5h0m9 1.5h0m2.5 2h0m4 0h0m6-3.5h0m1 2h0m5.5 0h0m11.5-1.5h0m11-1h0m1.5 5h0m-72 7.5h0m3 .5h0m1-7h0m0 6h0m5 .5h0m2.5-3h0m1.5-1h0m7.5 3.5h0m15.5-.5h0m.5-2.5h0m9-1.5h0m0 0h0m23.5 2h0m1-1h0m-110.5 10.5h0m28.5 0h0m2.5-5.5h0m10.5 1.5h0m24.5 1h0m.5 2.5h0m3-.5h0m3.5-2.5h0m1 2.5h0m3.5-2h0m.5 3.5h0m12-.5h0m1.5-2h0m1.5.5h0m2-2.5h0m17-1.5h0m2 1.5h0m.5 5h0m10.5-5h0m-137.5 8h0m38.5-2h0m14.5 5h0m1-4.5h0m25 4.5h0m12.5-3.5h0m2.5-1h0m.5 4h0m.5-4h0m5-.5h0m1 5.5h0m8.5-6.5h0m1.5 6.5h0m6-2h0m-90.5 5h0m.5-2h0m12 1.5h0m4 2h0m2-3h0m8 6h0m3-.5h0m2.5-1.5h0m18-2.5h0m5-1h0m1.5 2h0m15.5 1.5h0m7.5-2h0m1.5-1h0m1 2.5h0m1.5-1h0m1.5-2.5h0m0 0h0m12 1h0m5.5 3h0m7-.5h0m1.5-.5h0m5.5 1.5h0m-128 5.5h0m38.5 1h0m7-2h0m2-2.5h0m1.5 6.5h0m12-6h0m5-.5h0m5 4h0m3 2h0m7.5-6h0m.5 3h0m31 .5h0m1.5-1.5h0m5-2h0m3.5 6h0m.5-2h0m1-1h0m3.5 0h0m3.5-2h0m-108.5 9.5h0m0-1.5h0m6-1.5h0m13 0h0m6 5h0m1-3.5h0m18.5 0h0m5.5.5h0m.5 3h0m.5-5.5h0m7.5 1.5h0m4.5 3.5h0m8 0h0m2.5 0h0m3.5-1h0m11.5-2.5h0m15 3.5h0m1.5-3.5h0m-117 9h0m4-.5h0m11.5 1h0m3.5-2h0m24.5-2h0m1 5h0m6.5-5.5h0m3.5 4.5h0m2-4h0m3 4.5h0m4.5-3.5h0m.5-1h0m5 2.5h0m8-2.5h0m0 4h0m9.5 0h0m21-3h0m1.5 4h0m9.5-3.5h0m2.5 3h0m-124.5 5.5h0m2.5-3.5h0m14 2.5h0m6-2.5h0m20.5 5h0m8-5h0m1.5.5h0m9 2h0m9-1.5h0m.5-1h0m12 4h0m8.5-2.5h0m1.5 5.5h0m.5-6h0m2.5 3.5h0m16.5 1.5h0m10.5-3.5h0m3.5 2.5h0m.5.5h0m1.5-5h0m-137 11h0m24.5.5h0m2-2h0m7.5 1h0m.5-.5h0m25-1h0m2-.5h0m3.5 2.5h0m28.5-2h0m3.5 1.5h0m2.5.5h0m12-1.5h0m7-2.5h0m3.5-.5h0m1 1h0m8 6h0m-124 3h0m5 1.5h0m9.5-4h0m2 2.5h0m5 2h0m1.5-4.5h0m1.5 2h0m3 1h0m2 2h0m0 .5h0m16.5-3.5h0m1.5 2h0m2.5-.5h0m7.5-1h0m.5-.5h0m13.5 4h0m4.5-1.5h0m6-3.5h0m8-1h0m1 4.5h0m34.5-.5h0m3 1h0m-130.5 4.5h0m14 0h0m15.5 1.5h0m3-1.5h0m.5-2h0m6 2h0m7 1h0m7-.5h0m1.5 1h0m1.5-2h0m.5 0h0m3-1h0m13 2.5h0m.5-2.5h0m4-1h0m2.5 3.5h0m3.5-2h0m13 2h0m11-2.5h0m2.5 3h0m10-4h0m7.5 2.5h0m3.5.5h0m.5-.5h0m.5 0h0m-126.5 4.5h0m37 0h0m20 5h0m2-5.5h0m.5 3.5h0m.5-1.5h0m6.5 1h0m10.5-1.5h0m2.5 0h0m2.5 3.5h0m12.5-2h0m11-.5h0m-37 8h0m6.5-2h0m11 5h0m17.5-6.5h0m32.5 10.5h0m-20 4h0m18 29h0m-15.5 33h0m21.5 11h0m-21 7h0m13 26h0m-13 7.5h0m-15 9h0m-9.5 4.5h0m-6 10.5h0m0 1h0m2 15h0m3.5 4.5h0m4 4h0m13 3h0" stroke="#b6ce27"/><path d="M964 629h0m-48.5 11h0m30.5-5.5h0m-32 9.5h0m37 0h0m23-1.5h0m8.5 2.5h0m-37 3h0m15.5 1.5h0m20-1.5h0m-109 7h0m17.5 2.5h0m10.5.5h0m20-2h0m46 1h0m17.5 3h0m-89 3.5h0m83 3.5h0m-62.5 5h0m8-3h0m14 3h0m32 .5h0m14.5 2.5h0m6.5-4h0m11 0h0m8.5 1h0m-117 7h0m38-3h0m10 3.5h0m35.5 2h0m10-.5h0m-107 4.5h0m25 3h0m51.5-4h0m26 4.5h0m-98 5.5h0m31 0h0m13.5-2.5h0m8-2h0m34.5 2.5h0m12 3h0m-90.5 6h0m21-2h0m1.5-1.5h0m20.5 3h0m12.5 0h0m21-2.5h0m11-1.5h0m37 0h0m-129.5 7.5h0m6.5 1.5h0m38.5.5h0m12-1.5h0m1.5 1h0m12.5-1.5h0m1-1h0m22.5 1h0m13.5 5h0m10.5-5.5h0m-18.5 157.5h0m11 1h0m3.5-4.5h0m4 1h0m5.5 4h0m2.5-.5h0m-25.5 3.5h0m4.5 5.5h0m1-5h0m9 0h0m0 4h0m5-.5h0m-26 7.5h0m0-2h0m1.5-3.5h0m6.5 0h0m10 4.5h0m12.5 1.5h0m1.5-6h0m1.5.5h0m-34.5 9h0m2.5-2h0m4.5.5h0m11.5 2.5h0m12.5-1h0m-28.5 9.5h0m15-3h0m-15 8h0m3.5 2h0m9.5-3.5h0m2.5 3.5h0m5.5.5h0m-11 2h0m0 2.5h0" stroke="#d0d124"/><path d="M985.5 870h0m2-2h0m10 .5h0m9-2h0m-14 10.5h0m4-4.5h0m-16.5 6.5h0m.5 8.5h0m7.5 2h0m-3 6.5h0m10.5 3h0" stroke="#e9d522"/><path d="M739.5 623h0m38.5-2h0m-96.5 47h0m122-4h0m-6 10h0m-124.5 10h0m132.5-1.5h0m-82.5 22h0m63 0h0m-16.5 10h0m2 23h0" stroke="#3f014d"/><path d="M712 601h0m15 2h0m9-3.5h0m3.5.5h0m4-1h0m3.5 4.5h0m15.5 1.5h0m-73 6.5h0m3-.5h0m6.5-3h0m1-1h0m5.5 4h0m2.5-1h0m6 1h0m.5-.5h0m15.5 0h0m6.5 1h0m0 .5h0m1-1.5h0m7.5-1h0m1 1.5h0m4-2.5h0m6.5-1h0m8.5 3.5h0m10-2.5h0m.5 2.5h0m5-4.5h0m-102 12.5h0m26.5-1h0m12-4.5h0m4.5 3.5h0m4-4h0m1.5 1h0m1 2h0m10.5-3h0m9-.5h0m2.5 1h0m9.5 1.5h0m9.5.5h0m5.5-1h0m5.5 4h0m4-1.5h0m2-4.5h0m6.5 2.5h0m1 3h0m3.5-.5h0m-122 4h0m1.5 3h0m9-2h0m0 1h0m15 1.5h0m5-2h0m4.5-2.5h0m2-1h0m.5 1.5h0m1.5 1.5h0m2-1.5h0m0 4.5h0m5.5-3h0m1.5-1h0m2.5-1.5h0m6.5 5h0m8.5-1h0m14 0h0m.5 1h0m1-3.5h0m16.5 3.5h0m21-.5h0m3.5-1.5h0m4.5 1h0m3-2h0m3 1h0m-141 9.5h0m13-.5h0m.5-4.5h0m2.5 2h0m1.5-1h0m5 4h0m2.5-1h0m3 1h0m.5-1.5h0m.5 1h0m3-1.5h0m.5 1.5h0m1.5-3.5h0m2.5 1h0m2.5-1.5h0m2 .5h0m2-1.5h0m2.5 6h0m5 0h0m3.5-4.5h0m12 2.5h0m1 2.5h0m4-4h0m4.5 3.5h0m7.5-2h0m1.5-3.5h0m.5 5.5h0m2-2.5h0m7.5-2h0m.5 2.5h0m1.5 2h0m1.5-3.5h0m.5-1h0m2 1.5h0m4-3.5h0m5.5 1.5h0m.5 1.5h0m6 2.5h0m11-1h0m30.5-4h0m-158 7.5h0m4.5 3.5h0m2.5-1h0m6.5 2h0m4.5-1h0m9.5-2.5h0m5.5.5h0m8.5 2h0m4.5-.5h0m6 1.5h0m4-2h0m2 2h0m16.5-4h0m7.5 2.5h0m4 2h0m.5-1.5h0m.5-1.5h0m4 2h0m3 2h0m7-3.5h0m1.5 2h0m7 1h0m1-2h0m6.5 2.5h0m13.5-6h0m14.5 0h0m10 4h0m10.5-1h0m0-1h0m-170 10h0m5.5-3.5h0m0 3.5h0m2-.5h0m18.5-4h0m3 2h0m1 3h0m1-4.5h0m3 4.5h0m3-4.5h0m30 4.5h0m.5-2.5h0m4.5 2.5h0m8.5-5h0m.5 3h0m4-3.5h0m3 2h0m6.5 0h0m7 1.5h0m2-2h0m.5-1.5h0m1 0h0m13 1h0m6 4h0m4.5-2.5h0m3 3h0m3-4h0m2.5 3.5h0m.5-.5h0m4.5 1h0m3-3h0m2-2h0m1.5 2h0m7.5-1.5h0m8.5 3h0m.5-3.5h0m9.5 1h0m-182 7.5h0m32.5 3h0m5.5-3h0m1.5.5h0m19.5-3h0m3.5 6.5h0m1-4h0m.5-1h0m11.5 4.5h0m10-2h0m3.5 2h0m6-4h0m5 2.5h0m7 .5h0m11.5-3.5h0m7.5 1.5h0m2.5-.5h0m1.5-2h0m2 1h0m11.5 2h0m1.5 3h0m4-3h0m11.5-3.5h0m2.5 2.5h0m6.5-2h0m.5 2h0m1.5 1h0m2.5-1h0m1.5-1.5h0m1-1h0m2.5 0h0m-184.5 10.5h0m3-3h0m12.5 5h0m7 .5h0m4-.5h0m4.5-2.5h0m9-3.5h0m6.5 3h0m3.5 2.5h0m4.5-.5h0m17-2h0m3-2h0m12.5 5h0m7-3h0m1-2h0m5.5 5.5h0m9.5-6.5h0m9 6h0m4-4h0m2 1h0m11 2h0m1.5 2h0m2-3.5h0m1-2.5h0m10 1h0m8.5-.5h0m1.5 3h0m8-1.5h0m5 .5h0m3.5 0h0m.5 2h0m2.5-2h0m1.5-1.5h0m8.5-.5h0m-190.5 7h0m2.5 2h0m3-2h0m0 4.5h0m2-1h0m7 .5h0m2 1h0m8-1h0m21.5-4.5h0m8 3h0m.5-2.5h0m8-1h0m0 2h0m1.5 1.5h0m6.5 2h0m21-4h0m2 1h0m3-1h0m1.5 2h0m4-3h0m3 .5h0m.5-1h0m6 4h0m2 2h0m1.5-4.5h0m2.5 2.5h0m10 2h0m6.5-4.5h0m2 3h0m.5-1.5h0m2.5 1.5h0m2.5 1h0m4-3.5h0m0-.5h0m3 2h0m5-1.5h0m7.5 0h0m.5 1h0m5.5.5h0m1.5-3.5h0m.5 4h0m11-2h0m4 4h0m4.5-6h0m-193 7.5h0m0 4h0m8-2h0m20 2.5h0m3 .5h0m12.5-3.5h0m2-2h0m2.5-.5h0m.5 2.5h0m0 4h0m2.5-3h0m12.5 0h0m5-.5h0m.5-1.5h0m3.5 2h0m1 .5h0m0 2h0m15.5-1.5h0m10.5 1h0m3-5.5h0m.5 4h0m6-3.5h0m7 3.5h0m15.5 2h0m2.5-5h0m13.5 0h0m3 3.5h0m7.5-.5h0m11 1h0m4-2.5h0m2 .5h0m6.5 1h0m-182 3.5h0m3 0h0m0 .5h0m1.5.5h0m5 3h0m3-4h0m5.5 3h0m10 0h0m.5 3.5h0m5-2h0m7.5-2.5h0m.5 3.5h0m6-3h0m0-2.5h0m3 1h0m9.5-1.5h0m7.5 1.5h0m8 4.5h0m7-5h0m4 5h0m2-2.5h0m1.5-3.5h0m5.5 4h0m8 0h0m6.5.5h0m.5-2.5h0m4 .5h0m9-2h0m3 5h0m3.5-5.5h0m3 2.5h0m3-1.5h0m4.5-.5h0m6 1.5h0m3-.5h0m6.5 1h0m22-.5h0m1.5.5h0m-180 5.5h0m13.5 1.5h0m0 4h0m.5-3h0m8 2h0m19.5.5h0m0-2.5h0m1.5 2h0m14.5 0h0m1-.5h0m1.5-2.5h0m0 3.5h0m3-5.5h0m4.5 2.5h0m1.5-1.5h0m3 5.5h0m.5-2h0m7.5 1.5h0m15.5-6.5h0m6.5 1.5h0m8 4h0m1.5-2.5h0m.5 3h0m2 .5h0m1.5-3.5h0m4.5 2h0m4.5 1.5h0m1 0h0m1.5-2.5h0m4.5 1h0m3.5-4h0m3.5 5h0m2-4.5h0m11.5-.5h0m5 1.5h0m5.5-.5h0m4.5 0h0m4.5 2.5h0m1 .5h0m-155.5 8h0m3-1h0m13.5 0h0m2-3.5h0m9.5 3h0m0-3.5h0m8 2.5h0m15.5 3h0m9.5-1.5h0m3.5-2.5h0m3.5 1.5h0m3.5-.5h0m2.5 2.5h0m1.5-5h0m3 4h0m3.5 2h0m15.5-.5h0m7-2h0m13-2.5h0m1 2.5h0m3-4.5h0m3 1.5h0m2.5 4.5h0m2.5-5.5h0m3 2h0m1 .5h0m5 1h0m2.5 2h0m1.5-3.5h0m.5-1.5h0m7.5 0h0m-145 7h0m.5.5h0m16-.5h0m.5-.5h0m.5 2h0m22 0h0m1 2.5h0m15 .5h0m4-3.5h0m3 3h0m4-1h0m5.5-2h0m1 1.5h0m25 1h0m2.5 1h0m7.5-3h0m3 .5h0m1 2.5h0m2-2.5h0m2 2.5h0m2.5-.5h0m4.5-3h0m.5-2h0m4 6h0m.5 0h0m2.5-3h0m2.5 2.5h0m12.5-.5h0m-128 4h0m10-2h0m2 3.5h0m1.5-2h0m5 1.5h0m.5-1.5h0m4.5 2h0m6.5 1h0m4 .5h0m0 .5h0m16 .5h0m3-3.5h0m1.5 1h0m4.5 2.5h0m6 .5h0m1-5h0m1.5.5h0m22 4.5h0m4.5-6.5h0m23 0h0m5 3h0m1-3h0m-106.5 7h0m3 2h0m11 4h0m1-3h0m1.5 0h0m6.5 2h0m0-1h0m.5 2.5h0m3-5h0m1.5 4.5h0m.5-4h0m7 4.5h0m9.5 0h0m2.5-3.5h0m4.5 2h0m4-.5h0m3-2.5h0m3.5 2.5h0m3 0h0m.5-2h0m2 0h0m15 4h0m8-.5h0m5.5-5h0m1 4.5h0m3.5-1h0m-68.5 4h0m1.5 4h0m5.5.5h0m15-4.5h0m3 5.5h0m9-1h0m3.5-6h0m.5 1h0m9 3h0m5.5-1.5h0m1.5-.5h0m6.5 0h0m1.5.5h0m-57.5 4.5h0m7 .5h0m10.5 3h0m2-.5h0m3.5-2h0m5 5.5h0m1-2.5h0m4-2.5h0m.5 3h0m10 1h0m-13.5 2.5h0m2.5 3.5h0m3.5.5h0m-15.5 4.5h0m5.5 1h0m7 3h0" stroke="#400e5a"/><path d="M641.5 693h0m1.5-1h0m4 1.5h0m-1.5 6h0m2-2.5h0m.5 5.5h0m-7 2h0" stroke="#3e3476"/><path d="M646.5 700h0m3.5 1h0m5 2h0m14.5-.5h0m-21 8h0m5-.5h0m13-1.5h0m11.5-2.5h0m-29.5 7.5h0m1.5.5h0m9.5 0h0m13.5 0h0m8 1h0m7.5-1h0m.5 1h0m8 2h0m2-1h0m4.5 0h0m-59.5 7h0m2.5-3.5h0m5 2.5h0m0-3.5h0m1.5 2h0m0 .5h0m7.5-.5h0m.5.5h0m6 1h0m1.5-1h0m10 1.5h0m1.5-3h0m1 3.5h0m8-3h0m6 0h0m0 1h0m5.5 1h0m3 1h0m-57.5 3.5h0m.5-1h0m8 0h0m8 3h0m4 3h0m0-1h0m4-4h0m2 3h0m1-1h0m8-3.5h0m2-.5h0m1 4.5h0m23-.5h0m0-3.5h0m7 2h0m-65 5h0m5.5 4h0m6-1.5h0m.5-1h0m4 1h0m11 2.5h0m10.5-2h0m14 1h0m-36 7.5h0m7.5.5h0m18.5-5.5h0m4 2.5h0m-35 5h0m21 4h0m7.5-2h0m-30 4.5h0m3.5 4.5h0m10.5-3.5h0m.5 5.5h0m-4 3h0" stroke="#3a407c"/><path d="M713.5 723.5h0m2.5-5.5h0m15 4.5h0m-14.5 5h0m3.5-2h0m1.5 4h0m0-1h0m3.5 2h0m0-2.5h0m4-.5h0m2-.5h0m2 3h0m.5-5.5h0m7 4.5h0m-48 5.5h0m7.5 1.5h0m12.5-1.5h0m4 .5h0m7.5 3h0m5-2.5h0m1.5.5h0m2-1.5h0m12.5-2.5h0m1 4.5h0m-75 6.5h0m26-2h0m7-.5h0m23 1h0m3-2.5h0m4 .5h0m10.5 5.5h0m.5-4.5h0m5.5 2h0m7 2.5h0m-87.5 1.5h0m5.5-.5h0m3.5 2.5h0m2-3h0m.5 5.5h0m17.5-4.5h0m4 1.5h0m10.5 4h0m2-1.5h0m6.5-3h0m.5-1.5h0m3.5 6.5h0m2.5-5.5h0m1.5 0h0m8 2.5h0m0 .5h0m4 1h0m10.5-4h0m-83.5 10h0m1-2h0m.5-.5h0m12-1h0m.5 6h0m2.5 0h0m7-4h0m9.5 2.5h0m3.5-3h0m0 2h0m3.5 2h0m1-3h0m0 1.5h0m3.5 1.5h0m3-2h0m0-2.5h0m1-1h0m1 4h0m2.5 1.5h0m2.5-3.5h0m0-2h0m4.5-.5h0m1.5 6h0m10-2.5h0m6.5-4h0m1 4h0m-89.5 4h0m12.5 4h0m5 .5h0m0 0h0m4.5-.5h0m1-3h0m5 0h0m1.5-1.5h0m7 5.5h0m5.5-3.5h0m1 .5h0m3.5 4h0m9.5-6.5h0m6 6.5h0m2 0h0m.5-7h0m2.5 5.5h0m0 .5h0m1-3h0m7-.5h0m1.5 1h0m7-2h0m6.5 0h0m1.5 0h0m3 3h0m-82.5 9h0m5 .5h0m4.5-7h0m3.5 1.5h0m1.5 2h0m17 1.5h0m5.5-3.5h0m.5 4h0m2 0h0m9.5-1h0m3-1h0m1.5-1h0m3-1.5h0m6 .5h0m-59 12h0m4.5-5.5h0m8.5 0h0m6.5 0h0m4.5 3.5h0m15.5-3h0m0-1h0m2 4.5h0m.5-2h0m-39 4h0m1.5 2.5h0m3.5 3h0m.5-.5h0m3.5-2.5h0m17.5 2h0m-15 4h0m14 .5h0m25-1.5h0m-30 11.5h0m3.5-5h0m9.5 5.5h0m10-2.5h0" stroke="#364b7f"/><path d="M760.5 751h0m-7 4h0m-6 8h0m7.5-.5h0m-14 8.5h0m7-3.5h0m2.5 2h0m-19 8h0m5-.5h0m4 0h0m4-3h0m2 3.5h0m-45 8.5h0m13.5-4h0m11.5 0h0m4.5 4.5h0m2.5 0h0m0-3.5h0m-35.5 6.5h0m11.5 5h0m4.5-5h0m3 1h0m1-2.5h0m3.5 0h0m.5 6h0m-30.5.5h0m11 3.5h0m11 3h0m2-3.5h0m2.5 3.5h0m11-6h0m.5 1.5h0m4 1h0m2 2h0m3 1h0m9-4h0m-50.5 7h0m.5-1h0m11-.5h0m2.5 5h0m2.5-4.5h0m4.5 2h0m1.5-1.5h0m.5 5h0m6.5-3.5h0m10-.5h0m1.5 3h0m1.5-4.5h0m.5 6h0m7-2.5h0m4 1.5h0m-40.5 5.5h0m5.5-1.5h0m22.5-1h0m.5-1.5h0m6.5 4h0m0-1h0m8 .5h0m1 1h0m2-.5h0m-29 2.5h0m1 4.5h0m9.5 0h0m1-2h0m14.5 1h0m-38.5 4.5h0m9.5.5h0m6.5 4h0m1.5-2.5h0m.5 3h0m10-1h0m4.5-3h0m9 1h0m-27 10h0m3-3.5h0m7 4.5h0m6-1h0m15.5-.5h0m3-4.5h0m-33 6h0m10 6.5h0m12.5-.5h0m.5-3.5h0m8.5 0h0m6 0h0m-17.5 11h0m7 0h0m6-3.5h0m8.5 3.5h0m-3 4h0m.5 0h0m-13 7.5h0m18-3h0m3.5.5h0m2 0h0m-14 7h0m1.5.5h0m4.5 2h0m1-1.5h0m8.5 4h0m.5-5.5h0m1.5 2h0m-5.5 4h0m15 5h0m-3.5 2h0m3 2.5h0" stroke="#325581"/><path d="M749.5 779h0m6-3h0m-6.5 7h0m1.5-2h0m4 10h0m-2 9h0m-12 22h0m12.5-4h0m7 1h0m-12.5 7.5h0m8-4h0m3 7h0m12-.5h0m-28.5 2h0m1.5 5h0m7-3h0m14 1.5h0m7.5.5h0m.5 4h0m3 4h0m1.5-3.5h0m.5 0h0m.5 3.5h0m-30.5 1h0m3 5h0m14-1h0m9.5-3.5h0m5 1h0m1 1h0m-35.5 6h0m1.5 4h0m8-2h0m1 1.5h0m21-2.5h0m6 3h0m0-.5h0m-15 7.5h0m9-5.5h0m11.5 1h0m-27 6h0m5.5 1h0m13.5 1.5h0m6 3h0m4.5-2h0m1.5-1h0m3 6.5h0m1 1h0m3 1.5h0" stroke="#2d6083"/><path d="M763.5 791h0m0 1.5h0m-5.5 5.5h0m3.5-3h0m0 1.5h0m-1 5.5h0m4 5.5h0m7 8.5h0m.5 7h0m5.5 11h0m5.5 2.5h0m2 7h0m1-1.5h0m1 8.5h0m4 3h0m1.5 1.5h0m5.5 17h0" stroke="#296983"/><path d="M768.5 791h0m-5.5 4.5h0m1 2h0m6.5 11.5h0m1 1h0m1.5 4h0m.5-1.5h0m1.5 1h0m9.5 21h0m1 6h0m4.5-.5h0m1 6.5h0m5 9h0m1.5-2h0" stroke="#257283"/><path d="M785.5 736h0m-15 60.5h0m5 11.5h0m1-1.5h0m.5-2.5h0m5.5 3h0m2 0h0m-7 3h0m7.5 4.5h0m-4 1h0m10 3.5h0m-3.5 10h0m3-4h0m1 9.5h0m1-3.5h0m5 10.5h0m-1.5 4.5h0m4 1.5h0m.5.5h0" stroke="#227b82"/><path d="M850 651.5h0m2-2h0m-4 7h0m-10 6.5h0m18 4.5h0m-28.5 13.5h0m4.5.5h0m1-1h0m-8 5h0m5-1.5h0m14 2h0m5-3.5h0m12.5 1h0m8.5 5.5h0m-49 5h0m1.5.5h0m3 1h0m1.5 0h0m1-5.5h0m6 4.5h0m23-1.5h0m-38 10h0m7.5-2h0m8.5-1h0m23 3h0m-42.5 4h0m2.5-1h0m1.5.5h0m1.5-.5h0m4.5 2.5h0m1-1h0m1.5.5h0m23-.5h0m-38.5 7.5h0m1.5 1h0m6 .5h0m.5 0h0m5.5-2h0m4 0h0m1.5-3h0m7.5 5.5h0m2.5-1h0m12.5-4h0m16.5 3.5h0m-76.5 7h0m2.5-2.5h0m1.5-.5h0m1.5 4.5h0m6-2.5h0m5 1h0m12.5 1.5h0m0-1.5h0m4 1h0m2 0h0m8.5-2.5h0m3.5 0h0m3-2.5h0m10 4.5h0m6-1h0m7-.5h0m12 0h0m-86.5 8h0m10 0h0m2-2h0m4 4h0m1-2h0m3.5-1.5h0m4-1.5h0m2-1h0m3-.5h0m7 4.5h0m21-1h0m5.5 2.5h0m3-2h0m4.5-2.5h0m2-1.5h0m-84.5 13.5h0m13-2.5h0m2.5.5h0m6.5-3.5h0m1.5 2h0m1-3.5h0m15 4.5h0m10.5 1h0m1.5.5h0m12.5-2h0m2 0h0m4.5 2h0m2.5 0h0m1-5.5h0m1-.5h0m10 4.5h0m-82.5 2.5h0m.5 2h0m19-1.5h0m3 4.5h0m8.5-3.5h0m.5 5h0m4-4h0m4.5 2.5h0m1.5 1.5h0m7.5-2h0m.5 1.5h0m15-1h0m1.5-2h0m5.5 3h0m7-1h0m-91.5 6h0m6.5-1h0m10 2h0m3.5-2.5h0m.5 0h0m2.5 1h0m20.5 1.5h0m10-3.5h0m5.5 0h0m2.5 4h0m3 .5h0m5.5-3h0m4.5-2.5h0m-82 11.5h0m12 .5h0m.5-5h0m1.5 6h0m8.5-1.5h0m0-1.5h0m5.5-.5h0m5.5 1.5h0m2-.5h0m4-1h0m4.5.5h0m1-.5h0m2-1.5h0m.5 2h0m1.5 2.5h0m5-2h0m12-1h0m3-1h0m.5-.5h0m0 1.5h0m3-3h0m14 6.5h0m.5-4.5h0m-82.5 10h0m6 2h0m3.5-6.5h0m1.5 6.5h0m2 0h0m15.5-4.5h0m4 2.5h0m9 .5h0m1.5-4.5h0m8.5 4.5h0m6.5-3h0m2 .5h0m22 0h0m-87.5 7.5h0m.5-2.5h0m5 3.5h0m9.5-3h0m6 4.5h0m16-4.5h0m5.5 5h0m2.5-1h0m2.5.5h0m2 0h0m10-2h0m6-3.5h0m6 2h0m11 2h0m-82.5 2.5h0m4 1.5h0m.5 0h0m6 1.5h0m17-.5h0m5 0h0m10 1.5h0m1.5-2.5h0m20.5 4.5h0m8-2h0m-70.5 3.5h0m2 5.5h0m.5 0h0m9-2.5h0m.5-1.5h0m.5-1h0m5.5 1h0m7.5 5h0m7-.5h0m11.5-4.5h0m0 2.5h0m2.5.5h0m1.5-2h0m7 1.5h0m8.5 1.5h0m-49.5 6h0m12.5-5h0m0 4.5h0m1.5.5h0m5.5-.5h0m2.5 1h0m1.5-2.5h0m-23.5 6h0m1.5 3h0m3 0h0m3.5-1.5h0m5-3h0m1.5-.5h0m3.5.5h0m7.5 6.5h0m4.5-1h0m5.5-4.5h0m-25.5 6.5h0m4 8.5h0m10.5-2.5h0m4.5 2.5h0" stroke="#208480"/><path d="M864 701.5h0m11.5 4.5h0m-1.5 6h0m-11 12.5h0m7.5-4h0m-29.5 8.5h0m7.5.5h0m11.5-3.5h0m1 5h0m18-5.5h0m-28 6.5h0m.5 2.5h0m8.5 1.5h0m.5-2h0m3.5.5h0m5-2.5h0m4 4.5h0m4-2h0m4-3h0m-40 13.5h0m10-.5h0m17-5h0m6.5 3.5h0m2.5-1h0m1.5 1.5h0m1.5-.5h0m2.5-.5h0m-59 7.5h0m.5 1.5h0m10-2h0m4.5-1.5h0m6-2h0m22.5 2.5h0m.5-2.5h0m10.5 3h0m-46.5 6h0m12.5 4h0m4.5-4h0m1.5 1.5h0m5.5 2.5h0m6.5-5.5h0m10 0h0m2-.5h0m.5.5h0m.5 1.5h0m-48 8h0m2.5 3h0m17.5-6h0m4 4.5h0m5-3.5h0m-34 9h0m6.5 1h0m2.5-1h0m20-2h0m6.5 0h0m7.5 3.5h0m2 1.5h0m4-.5h0m3.5-2.5h0m-54.5 5.5h0m2.5-1.5h0m8.5 2h0m4.5 4h0m1.5-2.5h0m3-2.5h0m2.5 3.5h0m1-3h0m1-1h0m6-.5h0m12.5 1.5h0m11 1.5h0m1-.5h0m-62.5 10h0m8-4h0m4.5 4h0m18 .5h0m5-.5h0m3-3.5h0m6 2h0m4.5-1.5h0m5.5-.5h0m2.5 3.5h0m-59 3.5h0m4 1h0m9.5 3.5h0m6.5-5.5h0m8 .5h0m3 .5h0m7 2h0m6-4.5h0m13 4h0m.5-3.5h0m2.5 4h0m5.5-1.5h0m-62 6h0m4.5 4.5h0m8-3.5h0m6 0h0m23-2.5h0m1.5.5h0m7 3.5h0m4.5-2.5h0m3.5-2h0m1.5 1.5h0m1.5 1h0m-79.5 11h0m.5-1.5h0m6 1.5h0m3-3h0m8 1.5h0m4.5-4h0m15 3.5h0m3.5.5h0m14.5-4h0m2.5 2.5h0m13 3h0m3.5-6h0m.5 1h0m0 3.5h0m1.5-1h0m4.5-1.5h0m-82.5 11h0m20 0h0m2 0h0m0-3h0m9 3h0m2-6.5h0m11.5 2.5h0m1.5.5h0m7.5 1h0m6.5-2.5h0m2 3.5h0m2-3h0m7.5-1.5h0m8 3h0m1 2.5h0m-70 1.5h0m12.5 2h0m3 4h0m4.5-2.5h0m1.5-2h0m6 1.5h0m3.5 3h0m3-1h0m0 1h0m2.5-4h0m2-1h0m0 5h0m16-3.5h0m1 3.5h0m1.5-5h0m-59 10h0m.5-3.5h0m7 2.5h0m.5-2.5h0m6-1h0m27 1h0m13.5 2h0m1.5 3h0m.5-3h0m1.5 2h0m-56.5 6.5h0m0-3.5h0m.5 4.5h0m13.5-4.5h0m7.5 6h0m.5-1h0m.5-4.5h0m10.5 5.5h0m1.5-5h0m11.5 1h0m.5 2.5h0m5.5-4.5h0m1 .5h0m1 1.5h0m4.5-.5h0m.5-2.5h0m8.5 1h0m-66 11h0m3.5-1.5h0m2 1h0m4.5-4h0m3.5 0h0m1 1h0m3.5 3.5h0m10-1h0m15-1.5h0m2.5-1.5h0m2.5 3h0m2.5-1.5h0m0 .5h0m0-2.5h0m5.5 4.5h0m3.5.5h0m-55.5 2.5h0m11.5 0h0m1 3.5h0m1.5-4.5h0m9.5 3.5h0m2 3h0m4-3h0m.5-3h0m15 2h0m3.5 3h0m-51 8.5h0m3-6.5h0m4.5 6h0m1.5-2.5h0m1.5-.5h0m1 0h0m3.5-3.5h0m0 0h0m12.5 1h0m11 4h0m3 2h0m1-1h0m-41 7.5h0m0-6h0m8 3.5h0m6-1.5h0m1 1h0m2-1h0m6.5 0h0m8 2.5h0m12.5-2h0m4.5.5h0m-53 4h0m3.5 5.5h0m3.5-4h0m7.5 4.5h0m.5-.5h0m11-3.5h0m1-1h0m.5 1h0m5-2.5h0m14.5 4h0m-50.5 8.5h0m3-.5h0m22.5 2h0m15.5 0h0m10-4h0m-49 7.5h0m2 .5h0m30.5-2h0m8 3.5h0m2-5h0m-44.5 7.5h0m38 1.5h0" stroke="#1d8e7f"/><path d="M868.5 817.5h0m4 .5h0m.5 4h0m-9 6.5h0m-3 7.5h0m3-1.5h0m10 2h0m-5.5 5h0m9-4.5h0m5.5 6.5h0m-35.5 1h0m14 4.5h0m-5 5.5h0m3.5-2h0m1.5 4h0m2.5.5h0m1.5-6h0m.5 2h0m-27 4.5h0m24 5.5h0m-25 6.5h0m14-4h0m0 4.5h0m5-4h0m-29 12h0m30-3h0m.5 1.5h0m3-3.5h0m-37 10.5h0m1 .5h0m8-.5h0m12.5 1.5h0m7.5-2h0m1.5-2h0m-24.5 8h0" stroke="#22977a"/><path d="M881 827h0m9 1h0m-6 6.5h0m1 1h0m3.5-4h0m-8.5 11h0m.5-6h0m6 2.5h0m-4 6h0m.5-.5h0m-2.5 18h0m14 1h0m-6.5 1.5h0m22 21.5h0m18 1h0m-18.5 7h0m3 5h0m9 4.5h0m0-2h0m6 3h0m1 0h0m-22 7.5h0m10.5-1.5h0m2-1h0m3 3.5h0m1-2h0m2.5 0h0m1.5-1h0m.5-1h0m1.5 1h0m.5-3.5h0m0 3.5h0m-14 10h0m1-1h0m.5.5h0m1.5-5.5h0m1.5 5h0m4-3.5h0m0 0h0m0 1.5h0m1.5 0h0m-15 3.5h0m3.5 6h0m0-1.5h0m.5-2h0m2.5 3.5h0m.5-.5h0m0-1h0m1-4.5h0m1.5 0h0m0 5h0m1.5 1h0m0-3h0m2 2h0m0 .5h0m2-3h0m1-2h0m0 0h0m-13.5 11h0m.5-2.5h0m2.5 1.5h0m1 2h0m4-2.5h0m-12 8h0m0-.5h0m2-3h0m2 1h0m2 4h0m.5-2h0m1-3.5h0m.5 4h0m1 0h0m.5-3h0m3-1h0m-9 10.5h0m3.5-3h0" stroke="#29a075"/><path d="M876 815h0m5-1.5h0m8.5-3.5h0m0 1h0m-15 6.5h0m14.5 8.5h0m15.5 3h0m-20.5 3.5h0m4 .5h0m4-.5h0m11 3.5h0m1-2.5h0m1 1h0m-20 3h0m5.5 0h0m-2.5 9h0m9 3.5h0m1 3.5h0m3.5-2.5h0m0 5h0m2.5-2h0m9 4.5h0m-13 10.5h0" stroke="#31a86f"/><path d="M887 793h0m.5-3h0m2 2.5h0m-10.5 6h0m13.5-2h0m2 3.5h0m-17.5 3.5h0m7 1.5h0m5.5-2h0m6 4h0m8 1h0m2.5-4h0m3 2.5h0m-22.5 8.5h0m15-.5h0m1-5.5h0m-15 8h0m3.5 2h0m4.5-3h0m4.5 4.5h0m11-3.5h0m-14 6h0m2.5 3h0m13.5 2h0m52.5 0h0m-57.5 13h0m0-3h0m8.5 3h0m2.5 1.5h0m5.5-1.5h0m-19 3h0m1.5 1.5h0m15 4.5h0m8-4h0m19 3.5h0m-9 5h0m.5.5h0m-33 3h0m27 .5h0m-24.5 9.5h0m2.5-2h0m17.5 4.5h0m21.5-4.5h0m-23.5 8.5h0m35 .5h0" stroke="#44b064"/><path d="M899.5 764.5h0m38 1h0m-59.5 6.5h0m26-4.5h0m1 2.5h0m36-3h0m3.5 4h0m2-2.5h0m2.5 4h0m8-.5h0m4-4.5h0m2.5 2h0m8 0h0m-92 4.5h0m6.5 3.5h0m4.5 1h0m2.5.5h0m33.5-3h0m5.5 3.5h0m6.5-5.5h0m5 1h0m17.5 1h0m6 4h0m2-2.5h0m1-3.5h0m6 .5h0m6.5 1h0m.5-1.5h0m-106 11h0m5.5-2.5h0m.5 3.5h0m.5-2.5h0m1.5 3h0m6.5-3.5h0m26.5-2.5h0m0 3h0m7.5 4h0m7-1h0m9.5-3.5h0m2.5 4h0m11-5h0m12-1h0m10.5 3h0m5 1.5h0m-107 5h0m1.5-2.5h0m.5 0h0m25.5 2.5h0m4.5-1h0m6 0h0m7-1h0m1.5 0h0m7 2h0m4.5 1h0m6.5.5h0m1 2h0m5-4h0m.5-.5h0m5-1h0m4.5 4h0m3-.5h0m16.5 2.5h0m3.5-.5h0m-99 5.5h0m11.5.5h0m13-3.5h0m1 4h0m5-1.5h0m19.5-2h0m.5.5h0m2-1h0m19.5-1h0m.5.5h0m7.5-1h0m3 3h0m2 2h0m3.5-4h0m7.5-1h0m.5 4h0m-97.5 3.5h0m13.5-.5h0m12 0h0m1.5 6h0m12.5-2h0m3 0h0m9.5 0h0m2.5-3.5h0m22.5.5h0m2.5 3h0m5 .5h0m7.5 1h0m7-3.5h0m3.5 2h0m-75.5 4.5h0m.5 2h0m2-4h0m8.5 3h0m6 1h0m6.5 2.5h0m.5-2.5h0m1 1.5h0m16.5-3h0m12.5 4.5h0m4-6h0m-52.5 7h0m6.5 3.5h0m2.5-3.5h0m10.5 3h0m2 1.5h0m3-2.5h0m21-.5h0m21.5 3h0m-71 2.5h0m5 4.5h0m0 1.5h0m6-.5h0m.5-1.5h0m3.5-1.5h0m10 3h0m2 0h0m.5-5.5h0m19 .5h0m5.5 1h0m7.5 2.5h0m1.5 2h0m-40 3h0m2 3h0m.5-2.5h0m13.5-1.5h0m10.5 4h0m14.5-4h0m16 1.5h0m-69 7h0m7.5-1.5h0m2 5h0m1-5.5h0m2.5 4h0m5-4h0m19.5 3.5h0m17 2h0m9-1h0m1 .5h0m1.5-2h0m-63 2.5h0m4 5.5h0m3.5-3.5h0m3 1h0m26 0h0m21 3h0m-64.5 3.5h0m3.5 2h0m15 1h0m.5-5h0m.5 2h0m4.5-2h0m2 4.5h0m1.5-.5h0m3.5 2h0m8.5-4.5h0m4.5 4.5h0m1-3.5h0m15 4h0m-53 5.5h0m7.5-4h0m.5 4.5h0m5-5h0m2-.5h0m3 3h0m5-2.5h0m6.5 2h0m.5-1h0m4.5 2h0m2.5-1.5h0m7 4h0m8 .5h0m4-2h0m-50.5 6.5h0m4.5-.5h0m10.5 2h0m10-6h0m4.5 5.5h0m5.5-1h0m2-2h0m.5 0h0m-43 5h0m10.5 0h0m.5 2h0m13.5 1.5h0m11 3h0m6-6.5h0m6.5 5h0m-5.5 2h0m7.5 10h0" stroke="#57b859"/><path d="M883 745h0m24.5 4.5h0m1.5 2.5h0m15-5.5h0m16.5 6h0m11.5-6.5h0m10.5 5h0m14 0h0m12.5-1.5h0m-100.5 4h0m.5 2.5h0m.5 2h0m9-1h0m7 1.5h0m1.5-2.5h0m23.5 0h0m7.5.5h0m4-2h0m21 1h0m1.5 2.5h0m1-4h0m2 4.5h0m19.5-3h0m-99.5 8h0m10-1h0m25.5 2.5h0m1.5-1.5h0m6 3h0m5-5.5h0m6.5 3.5h0m7.5-1.5h0m24 1.5h0m-67 5.5h0m9-2.5h0m6.5 6h0m8-6h0m11.5 1.5h0m.5-2h0m15.5 5h0m3-5h0m7 1.5h0m6.5-2h0m1.5.5h0m5.5.5h0m7 4.5h0m-109 7h0m8-3h0m11-2h0m25.5 5h0m0 0h0m2.5-1h0m2.5 2.5h0m.5-7h0m5 3h0m2.5.5h0m12.5-.5h0m12 0h0m8.5 2h0m2-1h0m1 1.5h0m6.5-.5h0m7-1.5h0m-103.5 5.5h0m6.5 3.5h0m27-4h0m9.5 4h0m5.5-.5h0m4.5 1h0m25.5-4h0m19 1h0m-73 7h0m3.5-2.5h0m35.5 1.5h0m46 2h0m-72.5 8h0m6.5-4h0m6 3h0m14-3.5h0m9.5 4.5h0m13.5-1.5h0m13 1.5h0m1.5-1.5h0m2.5 1.5h0m0-1h0m-38 4.5h0m16 2h0m-36.5 9.5h0m1.5-2h0m0 1h0m13.5-1h0m11.5 3h0m29.5-2h0m5-4h0m.5 1h0m.5-.5h0m1.5 1.5h0m-63 9h0m1-2h0m6.5 0h0m.5 1.5h0m0 1.5h0m10.5-3h0m15 3h0m10-4h0m13 1.5h0m2.5-1h0m2 2.5h0m-59 3.5h0m5.5 5h0m.5-2.5h0m6-.5h0m44 1.5h0m3.5-4h0m-45.5 10.5h0m41.5-4h0m4 6h0m.5.5h0m2.5-1.5h0m1.5-3h0m-22.5 7.5h0m11-2h0m9.5 4.5h0m-35.5 2.5h0m15 5.5h0m16.5-3.5h0m-.5 8h0m-13 6h0m-1.5 29.5h0" stroke="#6cbf4d"/><path d="M949.5 730.5h0m18-1.5h0m51-.5h0m-133.5 7.5h0m27-.5h0m4-.5h0m21 3.5h0m19.5-.5h0m4.5-3h0m2.5 1h0m4.5 0h0m21.5-1.5h0m-107.5 10.5h0m3-4h0m9-1h0m3.5 1.5h0m2-3h0m3.5.5h0m9-.5h0m5 2h0m2-1h0m2.5 2.5h0m0 1h0m10-3.5h0m1 .5h0m.5 5h0m2 .5h0m.5-1h0m8.5 1h0m3-6.5h0m2.5 0h0m1.5 4.5h0m7.5-3h0m3.5-1.5h0m3.5 5h0m43.5.5h0m-129.5 4.5h0m31-2h0m3.5 2.5h0m4.5 1h0m5-1h0m14.5-1h0m7.5.5h0m.5 2h0m12-2h0m27.5-2h0m1 1h0m4 2.5h0m0-4.5h0m27 .5h0m-118.5 11h0m14.5-3h0m4 2.5h0m16.5-2.5h0m20.5 0h0m9 4h0m25.5-.5h0m.5-1.5h0m.5-3.5h0m0 6.5h0m.5-4h0m12.5 4h0m18.5 0h0m-122.5.5h0m95 0h0m2 1.5h0m.5 4.5h0m-6.5 3.5h0m5 2.5h0m1-4h0m2.5 7h0m3.5 0h0m-12 9.5h0m12 2h0m8-4.5h0m-20.5 6h0m14 6h0m13.5 4.5h0m-23 12.5h0m0 11.5h0m13-1.5h0m-16 3.5h0m5.5 1h0m.5-.5h0m-2 15h0m.5 4.5h0m-4 10h0m5-3.5h0m-18.5 15.5h0m-5 8h0m8 26h0" stroke="#85c43d"/><path d="M969 646h0m28.5 8.5h0m-69.5 4h0m-45 24h0m23-1.5h0m4.5-5.5h0m56.5.5h0m43.5 15.5h0m3 2.5h0m-85 15.5h0m-47.5 6.5h0m9-4h0m75 2.5h0m6-3h0m20-1h0m20 6.5h0m4-2h0m-132.5 3h0m13 0h0m3.5 0h0m1 5h0m0-1.5h0m3 1.5h0m7.5-3h0m12 2h0m20.5-2h0m2.5-.5h0m3 2h0m14.5-3h0m2 .5h0m.5 4h0m10.5-4h0m3 5.5h0m13.5-3.5h0m10.5 3.5h0m9.5-4h0m-121 4.5h0m7.5 5.5h0m4.5-4h0m8 1.5h0m3-3h0m2 5.5h0m4 0h0m1.5-3.5h0m15 .5h0m0-3h0m8.5 3h0m20-1.5h0m.5 3h0m2 0h0m4.5-1h0m2.5-.5h0m10.5 0h0m.5 3.5h0m2 0h0m2.5-2h0m1-3h0m10 3h0m1-1.5h0m3 1.5h0m2.5 0h0m8-4.5h0m-133.5 9.5h0m11-1.5h0m6.5.5h0m6.5.5h0m.5.5h0m9 3.5h0m2.5-3.5h0m15 1.5h0m.5 0h0m12-2.5h0m8.5 0h0m4 1h0m10 3h0m5-4.5h0m4 5h0m2.5-1h0m39 1h0m-123 1.5h0m56 .5h0m3.5 2h0m50 2h0m-16 3.5h0m5.5-.5h0m4.5 2.5h0m2.5-1h0m19-1h0m2 2.5h0m-17 6.5h0m3.5-1.5h0m8-1h0m.5 3.5h0m1.5-3.5h0m9.5 6h0m.5 0h0m-29.5 2.5h0m8.5 2.5h0m5.5 1.5h0m4-5h0m10 1h0m-24 5.5h0m5 3h0m4.5 0h0m1 2.5h0m.5-3.5h0m1 1.5h0m-11.5 9h0m18-4h0m3 1h0m-21.5 7.5h0m.5 1.5h0m6-4.5h0m.5 2h0m.5 1h0m4.5-1.5h0m-20 9.5h0m11-4h0m4.5-.5h0m1 0h0m3.5 5.5h0m6-5h0m7 5.5h0m-27 5h0m1-2h0m4.5 3.5h0m3-3.5h0m1.5 3.5h0m6-2.5h0m6.5-2h0m4.5 1.5h0m-34.5 6h0m14 1.5h0m2-3h0m.5 1.5h0m1.5.5h0m3.5-1h0m-19.5 9.5h0m15.5-2.5h0m2 3h0m2-2.5h0m3.5 2h0m8.5-4h0m-26 8.5h0m3.5-.5h0m8.5 3h0m4.5-1.5h0m-18 9h0m16.5-.5h0m-17.5 10h0m5.5-4h0m7-1h0m5.5 11.5h0m-16.5 1h0m.5 2h0m1.5-.5h0m2-1.5h0m6 5.5h0m2.5.5h0m7.5 0h0m-23 3h0m21 1h0m.5 2h0m2 3.5h0m-37.5 42h0m2 2h0" stroke="#9dca2e"/><path d="M958.5 625h0m4.5-.5h0m3 1h0m11.5-3h0m7.5 1h0m-41.5 9.5h0m6 0h0m2.5-4.5h0m5.5 2.5h0m3 1.5h0m6-5h0m9 1.5h0m6.5-1.5h0m1.5 1.5h0m3.5-2h0m6.5 3.5h0m-78.5 9.5h0m5.5-4h0m8 0h0m2 0h0m4 2.5h0m13.5 0h0m.5.5h0m6-3.5h0m1.5.5h0m17.5 2h0m1.5-3h0m4.5 5h0m2-3h0m13 2.5h0m-82 7.5h0m.5-5.5h0m16 2.5h0m0 3.5h0m1-3.5h0m25 .5h0m6.5 1h0m10.5-3.5h0m19.5-1.5h0m6 1.5h0m-80 10.5h0m8.5-.5h0m.5-2h0m3-.5h0m3-1.5h0m1 2h0m8 0h0m10.5.5h0m15 3.5h0m15-4h0m2.5 1.5h0m-100.5 4h0m5 3h0m1.5.5h0m12-1.5h0m2 4h0m9-6.5h0m8 0h0m3 1.5h0m2 3.5h0m6-4h0m0-1h0m6 3h0m2 2.5h0m2.5.5h0m6-3.5h0m8 1h0m5.5 1h0m5.5-3h0m1 1.5h0m4.5 3h0m6-1.5h0m6 1h0m7-2h0m6.5 2.5h0m5-5.5h0m1.5 5h0m-101 5h0m8.5 0h0m9-1.5h0m0 3.5h0m2.5-4.5h0m4-.5h0m5 6h0m5.5-5h0m4.5 1h0m19.5 2h0m5.5-2h0m1 1.5h0m6.5-4h0m1.5 5.5h0m15.5-3h0m11-2h0m4 2h0m2.5 3h0m-120.5 1h0m21 1.5h0m24 3h0m11 .5h0m9.5-3.5h0m3 5h0m6.5-6.5h0m22 1h0m11 .5h0m-116 5.5h0m1.5 3.5h0m2 .5h0m8.5-1.5h0m18-2.5h0m9.5 3h0m8.5-2.5h0m12.5 5h0m1.5-1h0m1.5-3h0m4.5 3h0m.5-2h0m10 1h0m8 1.5h0m13-5h0m7 1.5h0m1.5-.5h0m0-.5h0m3 1h0m5 2h0m6.5 3h0m6.5.5h0m-135 5h0m2-2h0m17.5 3h0m.5-1.5h0m7.5-4h0m2 2.5h0m2 3h0m32.5-1h0m3.5-1.5h0m4-1.5h0m3.5 4.5h0m12-2h0m5-1h0m10.5-3h0m4.5 0h0m0 5.5h0m2-3h0m1-2.5h0m3.5 5.5h0m2-2h0m1.5-2h0m16 4h0m.5-5h0m3.5 6h0m-125.5 5.5h0m1-4h0m4 2.5h0m1 .5h0m8.5-4.5h0m23.5 0h0m6.5 3h0m6 3h0m5.5-4h0m8.5 1h0m3 1.5h0m2.5 2h0m19-1h0m8.5-5h0m4.5.5h0m11.5 2.5h0m.5-3h0m.5 5.5h0m4.5 1h0m4.5-6h0m-118.5 11h0m12.5-1.5h0m3 0h0m2 1h0m4.5-3.5h0m6.5 2h0m20 2h0m8 .5h0m11.5-3h0m0 1h0m1.5-2.5h0m9.5 3h0m1.5 2h0m14-5h0m.5-.5h0m7.5 2h0m1 1.5h0m3-3h0m7 2.5h0m4.5 2h0m1 1h0m-129 2.5h0m8 2.5h0m5.5-3.5h0m5.5 5.5h0m5.5-5h0m1.5 3h0m4.5-2.5h0m1 4h0m10-.5h0m2-2h0m20 2h0m1 1h0m2-2.5h0m5 0h0m1-3.5h0m1 4h0m.5 0h0m8.5-2.5h0m.5 3.5h0m20.5-4h0m22 5.5h0m5.5-4h0m7.5 3.5h0m-139.5 1h0m22 4.5h0m2.5-2h0m8 2h0m3-4h0m13 .5h0m2 3.5h0m2-1h0m18.5-1.5h0m2-2.5h0m.5 2h0m12.5 2h0m0 1.5h0m2.5-3h0m3-2h0m6.5 4h0m9.5-2h0m1.5 1h0m1.5 2h0m2-2.5h0m15.5.5h0m.5-3h0m6.5 6.5h0m1-2h0m-129.5 5h0m7 1h0m41-2h0m11-1h0m10-.5h0m1.5 4h0m14.5-4h0m6-.5h0m0 4h0m13 2h0m7-1.5h0m4 1.5h0m4.5-4h0m3 4h0m6-3.5h0m6 0h0m-73 5h0m20.5 2h0m47.5-.5h0m8 17.5h0m1.5 2h0m-1 15h0m-1.5 78.5h0m-3 5h0m-10 11.5h0m-24 5h0m-10 9h0m4.5-4.5h0m-5.5 11h0m1-3.5h0m27 12h0m-5 5h0m8 6.5h0m-19 6.5h0m5 1.5h0" stroke="#b6ce27"/><path d="M981.5 624.5h0m-11.5 3.5h0m7.5 5h0m-61 2.5h0m41 0h0m16.5-.5h0m-52.5 5.5h0m3 3.5h0m23.5-3.5h0m21.5 1h0m-55 6.5h0m36.5 4h0m-65.5 5.5h0m19 3.5h0m9.5.5h0m40-2h0m3.5-2h0m-81 8.5h0m40.5 0h0m24-2.5h0m27.5 1.5h0m18-2.5h0m14.5 1.5h0m-116.5 5.5h0m49.5 4.5h0m34-2.5h0m2 3.5h0m12-1h0m9-4.5h0m3 6h0m-114.5.5h0m2 4h0m2-2.5h0m17-.5h0m46 0h0m29.5 3h0m7.5-3h0m-46.5 11h0m2 0h0m18-4h0m2 4.5h0m2-5.5h0m16 3.5h0m14.5.5h0m15.5-4h0m-92 13.5h0m34.5-1h0m11-3h0m10 3.5h0m-89.5 4.5h0m24.5-1.5h0m11 0h0m5-1.5h0m24 3.5h0m12.5.5h0m1 1h0m22-4h0m3 0h0m29 1h0m-123.5 10h0m41.5-5.5h0m50 4h0m20.5-4.5h0m13.5 5h0m-22 155h0m4-3.5h0m7.5 1h0m.5.5h0m4.5-1h0m-6 6.5h0m.5 4h0m13-4h0m-39 8h0m18.5-.5h0m5 3h0m-25 5.5h0m6 .5h0m4 1.5h0m4.5-3h0m2.5-.5h0m15.5 4h0m-29.5 2h0m6.5 1h0m1.5 1h0m9-3.5h0m2.5 4h0m-12.5 9h0m7.5-4h0m8 1.5h0m2.5 0h0m3 0h0m0 0h0m-15.5 4h0" stroke="#d0d124"/><path d="M1007 867h0m-26.5 5.5h0m2.5 2h0m5 2h0m15.5 7h0m-13.5 8.5h0m16.5-4h0m-12.5 11.5h0m1.5-3.5h0m8.5 2h0m-2 2.5h0" stroke="#e9d522"/><path d="M753.5 604h0m-50 20h0m84 12.5h0m-28 15h0m-8.5 18h0m19 4h0m-42 22h0m88-5.5h0m-62 17h0m4 7.5h0m15.5 15h0" stroke="#3f014d"/><path d="M730 601h0m5.5-1h0m5.5 3h0m2.5 1h0m4.5 0h0m2-1h0m4 2h0m0-1h0m0-.5h0m-57.5 5h0m15.5 2.5h0m2.5.5h0m16-6h0m4 1h0m4.5-.5h0m9 1.5h0m3.5 1h0m1-1h0m1 1h0m1-2.5h0m15.5.5h0m4 3.5h0m10.5 1h0m4.5.5h0m.5-.5h0m-108 7h0m.5-1h0m1.5-1.5h0m2.5-2h0m5.5 5h0m.5-2.5h0m7.5-2.5h0m1-.5h0m9.5 2.5h0m1-1h0m4.5.5h0m.5 3.5h0m.5-3h0m10-2.5h0m2.5 4h0m2 2h0m5.5 0h0m10.5.5h0m7.5-5h0m1-1.5h0m2 5h0m7.5-4.5h0m1 .5h0m2 .5h0m6-1h0m6.5 6h0m7.5-5h0m5.5 1.5h0m8.5 3h0m-113 4h0m18.5-3.5h0m2 4.5h0m.5-4.5h0m3 2.5h0m4.5-1.5h0m6.5 5h0m12-2h0m0-3h0m12 1.5h0m18.5-2h0m.5 0h0m0 4.5h0m3.5-2h0m5.5.5h0m12 .5h0m4 .5h0m2.5-2.5h0m0 4h0m6 0h0m11-3h0m1 1h0m3 2h0m-145.5 6h0m16-2.5h0m0-1.5h0m1.5 0h0m5-1h0m2.5 4.5h0m5-4h0m19 2h0m1.5 4h0m10-5h0m4-.5h0m9.5 5h0m6-6h0m4.5 2h0m7 0h0m0 4h0m5-2.5h0m7 0h0m3.5.5h0m1.5-.5h0m4-3.5h0m3.5 4h0m3.5 0h0m6 1.5h0m25-5.5h0m-157.5 13h0m1.5-5h0m.5 1.5h0m5.5 1.5h0m2 2.5h0m.5-1h0m4-2h0m6 2h0m9.5-5h0m3 5.5h0m4-1.5h0m4 1.5h0m7.5-.5h0m.5-3h0m4.5-2h0m9 .5h0m9.5 2.5h0m0-.5h0m13.5.5h0m.5 0h0m5.5 2.5h0m1-5h0m2-.5h0m8.5 3.5h0m1 0h0m9 .5h0m6.5 1.5h0m19.5-2.5h0m6-.5h0m6 2.5h0m5-3.5h0m3.5 1.5h0m-165.5 7h0m13-2h0m5-.5h0m.5 3.5h0m2 .5h0m.5-1.5h0m24 1.5h0m7.5 2h0m2.5-2h0m6-2h0m7 4h0m6-2.5h0m1 1h0m2-5.5h0m1.5 3.5h0m3-1.5h0m5 0h0m5 3.5h0m1-4.5h0m1.5 0h0m2 4h0m12 0h0m2.5 1.5h0m11-4.5h0m2 .5h0m6.5 3h0m5 .5h0m4-5h0m2.5 5.5h0m4.5-2.5h0m18.5.5h0m4.5 2h0m8.5-.5h0m-180.5 7.5h0m.5-5h0m4.5 3.5h0m10.5-3.5h0m5 3h0m4-4h0m1.5 2h0m5 3h0m6-4h0m1-1h0m5 4.5h0m5-3h0m1-2h0m3 6h0m6.5-3h0m4.5-.5h0m2 3h0m2-5h0m1 1.5h0m4-.5h0m2.5-.5h0m1 5h0m2.5-1.5h0m1.5.5h0m1.5-4.5h0m1.5 6.5h0m1-.5h0m4.5-2.5h0m4.5 2.5h0m3-4.5h0m.5 4h0m1.5-2.5h0m.5 1h0m.5-3.5h0m4.5 1h0m1 1h0m11.5 0h0m13 3h0m2-3h0m5 3.5h0m3.5-3h0m2.5-1.5h0m13.5.5h0m2.5-2.5h0m4 5h0m3.5-1.5h0m1 3.5h0m1-2.5h0m.5-1.5h0m1-1h0m7.5 1.5h0m-183.5 10h0m0-1.5h0m.5-1h0m.5.5h0m8 2h0m13.5-4.5h0m3 3.5h0m5-4h0m2-1.5h0m1 1h0m1-1h0m.5 2h0m7 2h0m2-.5h0m11 3.5h0m.5-6.5h0m.5 3.5h0m14 2.5h0m9-3h0m.5 1h0m7.5-3h0m3.5-1.5h0m1 5h0m4-1h0m3.5-2h0m12.5-1h0m2.5.5h0m9 4.5h0m.5-2h0m7.5.5h0m10.5 1h0m5-2.5h0m6-2.5h0m2.5 5.5h0m4.5-1h0m6.5-3.5h0m5.5 5.5h0m5.5-3h0m6 2h0m3.5.5h0m3.5-4.5h0m-175.5 7h0m4.5 3.5h0m10-.5h0m2-1h0m4.5-3.5h0m3 6h0m.5-4h0m8.5.5h0m0 0h0m12.5-2.5h0m2 5.5h0m22.5-4.5h0m0 .5h0m4 1.5h0m1-1h0m12 4h0m7.5-5h0m1.5.5h0m2.5 2.5h0m1.5-3.5h0m4 3h0m10.5-.5h0m0 0h0m9.5-1.5h0m2.5-1.5h0m4.5 2.5h0m9.5 1h0m22-2.5h0m5.5 2.5h0m1.5 3h0m2-4h0m2 1h0m-183.5 9h0m14.5 0h0m.5.5h0m.5.5h0m13.5-5.5h0m11.5 3.5h0m4.5-2.5h0m6 3.5h0m2-5.5h0m9.5 5.5h0m7.5-4h0m5.5 0h0m3.5 1.5h0m18.5-2.5h0m2 2.5h0m1 .5h0m2.5 2.5h0m.5 0h0m11 .5h0m2.5-5.5h0m2.5 0h0m7 5h0m12.5-1.5h0m4.5.5h0m3.5-2h0m3-.5h0m1.5-1h0m5.5 4.5h0m3-3h0m11.5.5h0m4.5 0h0m1 1.5h0m-182.5 6h0m4-4h0m4 6h0m3.5-6h0m1.5 4.5h0m7-1h0m5-1.5h0m2-2.5h0m6.5 3.5h0m9-1h0m4.5 2h0m1.5 1.5h0m1.5-2h0m1.5.5h0m0-2.5h0m9.5 3h0m1-4h0m.5 5.5h0m8.5-2h0m4-2h0m1 3.5h0m5.5 0h0m2.5-2h0m3.5-2h0m2 5h0m.5-5h0m.5 3h0m2.5-.5h0m8-3h0m2.5.5h0m10.5-.5h0m0 4.5h0m4.5-5h0m1 4.5h0m15 .5h0m18.5-2.5h0m11.5 3.5h0m3-2.5h0m.5-4h0m6 1h0m2.5-.5h0m2-.5h0m.5 5.5h0m3.5-5.5h0m-183.5 9h0m3 2h0m6.5.5h0m13 0h0m3.5-1.5h0m3.5 3h0m10-3h0m2.5-3h0m0 6h0m3.5-4.5h0m5 3h0m10.5.5h0m6-4.5h0m9.5 1.5h0m2-1h0m6.5 2.5h0m.5 0h0m.5 2h0m29.5 0h0m7-5h0m3 5h0m.5-2h0m.5-1.5h0m4 4h0m6.5-5h0m3 2h0m2.5 1h0m.5-.5h0m6 2h0m4-4.5h0m2 2.5h0m5 .5h0m0-3.5h0m3 5h0m4-3h0m-157.5 7.5h0m2.5-2.5h0m4 2h0m4-2h0m6.5.5h0m5.5-.5h0m4.5 5h0m10.5-3h0m.5-3h0m3.5.5h0m3.5 3h0m11 .5h0m1 .5h0m15.5-3.5h0m10.5 4.5h0m16.5-3.5h0m4-2h0m1 4h0m2-1h0m4.5 1.5h0m.5-1.5h0m2.5 2h0m3.5 2h0m1-7h0m2.5 4.5h0m2 1h0m0 1h0m2-6.5h0m2.5.5h0m21.5 0h0m2.5.5h0m1.5 0h0m3.5-.5h0m6.5 5h0m2-4h0m-154 6.5h0m20.5 1.5h0m4-2h0m3.5 5.5h0m1.5-1.5h0m.5 2.5h0m1-3h0m4 0h0m7 0h0m0-3.5h0m5.5 5.5h0m.5.5h0m1-2.5h0m.5-.5h0m5 1h0m1 1.5h0m1.5.5h0m0-2h0m4.5-1.5h0m6-1.5h0m3-1.5h0m.5 4.5h0m4.5-1h0m7.5 2.5h0m1-2h0m5.5.5h0m4 2.5h0m7.5-4h0m9-1.5h0m3.5 0h0m2-1h0m2 1.5h0m22 1h0m4-3h0m-119 10h0m3.5-1.5h0m1.5 2h0m1 3h0m7-3.5h0m16-.5h0m1.5-2.5h0m9 2h0m8.5 3h0m12 .5h0m1.5 1h0m9.5-1h0m12 1h0m3.5-4.5h0m10 1.5h0m6 1h0m5 1.5h0m7.5-2h0m1-.5h0m1.5-.5h0m-104 6.5h0m4-1.5h0m1 1.5h0m23.5-2.5h0m4 5h0m8-2h0m7.5-1.5h0m3 2h0m8.5 2.5h0m5.5-3h0m9 1.5h0m4 0h0m4.5-4h0m8.5 4.5h0m-61.5 3.5h0m2 3.5h0m4-2.5h0m9-1h0m14 1h0m4.5 1.5h0m1.5 1h0m0 1.5h0m17.5-1h0m.5-1h0m-39.5 5h0m11.5.5h0m3 4h0m5.5-1.5h0m6.5-1h0m1 1h0m12-3h0m-29.5 11h0m.5-2.5h0m.5-1h0m2.5-3h0m10 5.5h0m1-.5h0m7.5-2h0m-12 5.5h0m5 4h0m2-3.5h0" stroke="#400e5a"/><path d="M642 692h0m1 .5h0m9.5.5h0m-14 7.5h0m5-.5h0m1 2h0m7-3h0" stroke="#3e3476"/><path d="M642 700h0m4.5-.5h0m1.5 3.5h0m2-4.5h0m6 1.5h0m1.5 3.5h0m-14 3h0m4-2h0m13.5 4h0m19-1h0m3 1h0m-33 4h0m3.5 0h0m4 .5h0m.5 0h0m1 2.5h0m12-4.5h0m1 2h0m4-1.5h0m6.5 2.5h0m4-.5h0m.5 1.5h0m6 1h0m8-.5h0m-57.5 4h0m2.5-1h0m4 5.5h0m4-1.5h0m7.5-.5h0m2-3h0m6-1.5h0m.5 6h0m5 0h0m1.5-1.5h0m3.5.5h0m.5-2h0m8 3h0m5.5 0h0m1.5-5.5h0m7 2.5h0m-56.5 7.5h0m6.5-3h0m5.5 0h0m7-.5h0m2 5.5h0m2.5-1.5h0m3-3h0m5.5 5.5h0m3.5-5h0m5 3.5h0m13-2.5h0m6.5-2.5h0m-56 9.5h0m3.5 2.5h0m0-2.5h0m0 1h0m15.5-1.5h0m2 3.5h0m2.5 1.5h0m15.5-6h0m-37 9.5h0m4 2h0m9.5-4.5h0m22.5 2.5h0m3.5 2.5h0m-34 5h0m23-3h0m-20 11h0m2.5-4.5h0m-1 7.5h0" stroke="#3a407c"/><path d="M711.5 724h0m3-6.5h0m2 6h0m9.5-1.5h0m-16.5 8.5h0m.5-.5h0m3 0h0m4.5-4.5h0m4 2.5h0m9.5 3h0m3.5.5h0m4-2h0m-29.5 6h0m5.5 2.5h0m1-3h0m12.5 2h0m2.5-5.5h0m1.5 2.5h0m1.5-1.5h0m0 4h0m0-3.5h0m2 1.5h0m5.5-2.5h0m.5 4h0m3-4h0m5 3h0m-88 7.5h0m14-3h0m1 1h0m9-2h0m2.5 5.5h0m6.5 0h0m9-4h0m32-.5h0m3 4h0m3.5-3.5h0m.5-1.5h0m1.5.5h0m.5 4.5h0m0-1.5h0m1.5-2h0m3-1.5h0m1 1h0m1 1h0m4 0h0m1.5 3h0m3 1.5h0m-93.5 7h0m13.5-4.5h0m17 1.5h0m.5.5h0m6.5 1h0m3.5 1h0m6.5-2h0m5 1.5h0m9-1h0m1 2.5h0m0-1h0m6-6h0m.5 2h0m3-2h0m11 3.5h0m8.5-3h0m0 2h0m5 1h0m-97 7.5h0m5-2h0m.5 0h0m3 0h0m.5-1.5h0m12 6.5h0m9.5-.5h0m2-5.5h0m1.5 0h0m3.5 5.5h0m3-4h0m.5 4h0m3.5-1.5h0m0-2.5h0m2 4h0m4.5-5h0m14-.5h0m12 1h0m-74 6h0m.5 1.5h0m1 .5h0m5.5 0h0m7.5 3h0m.5-4.5h0m2.5 1.5h0m6.5 4h0m10.5-6.5h0m.5 2.5h0m1.5-2h0m20.5.5h0m8.5 1h0m1.5.5h0m-68.5 9.5h0m3.5 1.5h0m5-4.5h0m19.5 1h0m9 2.5h0m2-6h0m9 3.5h0m.5 1h0m4 0h0m0 1h0m5-3.5h0m-49 8.5h0m4-1h0m5 1h0m3-2.5h0m15.5 3h0m1 0h0m3 1.5h0m.5-2h0m5-2h0m2.5-.5h0m1.5 0h0m-42 9.5h0m9-2.5h0m2 .5h0m8 5h0m1-3.5h0m2.5 0h0m0 .5h0m7-2.5h0m2.5 1.5h0m10 3.5h0m7.5-5.5h0m6.5 6.5h0m-45 1h0m1-1h0m1.5 3.5h0m1-2h0m4.5 2h0m13.5-3.5h0m.5 6.5h0m10-1.5h0" stroke="#364b7f"/><path d="M755.5 758.5h0m0 0h0m-11 5h0m-10.5 8.5h0m1-2.5h0m4.5 3h0m-7.5 6h0m10.5 1.5h0m1-3h0m-47 9h0m21 1h0m-18 6.5h0m8.5-1h0m3-.5h0m12.5-4h0m0 1h0m1 1h0m4.5-.5h0m1-1h0m6.5 4.5h0m1-4h0m1.5 4.5h0m3.5 1h0m3-5h0m0 4h0m-56.5 1.5h0m9 3h0m1-2.5h0m6.5 3h0m8.5-1h0m.5 0h0m7 2.5h0m11-.5h0m4.5.5h0m2.5.5h0m.5-5.5h0m2.5 5h0m1 0h0m1-2.5h0m3.5-1h0m1.5-1h0m-46.5 12h0m2-5.5h0m2 0h0m2 2h0m12.5 1.5h0m1 1.5h0m9.5-5h0m14.5 1.5h0m-39.5 5.5h0m29.5.5h0m4.5 5.5h0m4.5-1h0m8-1h0m.5 2h0m-42 3h0m.5-1.5h0m7.5 3.5h0m3.5-3h0m6 3.5h0m0-2h0m13-1h0m4.5 1h0m-22.5 6h0m0 4h0m10.5-5.5h0m1 5h0m9-1h0m1-.5h0m7 3h0m8-1h0m-35 4.5h0m8.5-.5h0m3 2h0m.5-3h0m1.5 1.5h0m1.5 1h0m1.5-2h0m11 4.5h0m-25 .5h0m12.5 5.5h0m1.5-1.5h0m4-3.5h0m16 5h0m-24 4.5h0m5.5-1h0m1.5 1h0m15.5 0h0m2 3h0m10.5-6h0m-18 10.5h0m5.5 1.5h0m6.5-2h0m3.5 1h0m1.5-1h0m5-2h0m-17 12h0m12-4.5h0m6.5 3.5h0m.5-2h0m-7 7.5h0m3-3h0m0 11h0m6-4.5h0m1 1.5h0m7.5.5h0" stroke="#325581"/><path d="M753.5 774h0m7.5 4h0m-15.5 8h0m2-5h0m7 0h0m-2.5 21h0m3.5 3.5h0m2.5-2.5h0m3.5 9.5h0m1 2h0m2.5 7h0m2.5.5h0m-29 3h0m13-.5h0m1 3h0m11.5-.5h0m5.5-.5h0m-30 8h0m30.5-3.5h0m1.5 3.5h0m3 1.5h0m2.5 0h0m-22.5 2.5h0m11 3.5h0m7-1.5h0m5.5-.5h0m2.5 3.5h0m-33 1.5h0m19.5 2.5h0m6-4h0m-15 11.5h0m22.5-.5h0m-25.5 8.5h0m6.5 1.5h0m5.5-2.5h0m7-4h0m0 1.5h0m12.5 4h0m1-2.5h0m-12 9.5h0m12.5 0h0m3.5.5h0m1.5-4.5h0m2 1.5h0m-10.5 8.5h0m8-4h0m5.5 8.5h0" stroke="#2d6083"/><path d="M758.5 787.5h0m3 1.5h0m.5 2.5h0m0-3.5h0m1.5 6h0m-.5 10.5h0m1.5 3.5h0m7 17.5h0m3 3.5h0m3-1.5h0m-2 3.5h0m4.5 0h0m0 2h0m2.5 6h0m1.5 6.5h0m7 5.5h0m.5 3.5h0" stroke="#296983"/><path d="M765.5 788.5h0m9 26.5h0m-2.5.5h0m4 4.5h0m1-4h0m10 24h0m6 7.5h0m.5 3h0m2.5 0h0m0 0h0m.5-1.5h0m6 5.5h0m-3 5.5h0m1.5-1.5h0" stroke="#257283"/><path d="M768.5 749.5h0m-6.5 12.5h0m21 49.5h0m2.5 7.5h0m2-3h0m1 5h0m3-2h0m0 4h0m-2 9.5h0m6-2.5h0m.5 1h0m1.5-.5h0m.5 1.5h0m.5 0h0m-3 9h0m4 4h0m1-1h0m3.5 0h0m-1 8.5h0" stroke="#227b82"/><path d="M850 652.5h0m1-2h0m-8 9.5h0m-5.5 3h0m2.5 3.5h0m-7 7h0m1 .5h0m2.5.5h0m1.5 1h0m6-6.5h0m-13 9h0m1.5 1.5h0m1-.5h0m4.5 1.5h0m4.5-1h0m-17.5 4h0m11 .5h0m-1.5 9h0m15.5-2.5h0m-35.5 11.5h0m1.5-5h0m8 1h0m.5 2h0m6 0h0m1.5 0h0m1-2h0m3 4h0m.5 0h0m1.5 0h0m22.5-2h0m-49 10h0m1.5-2h0m1-1h0m4.5-3h0m1.5 6.5h0m4.5-.5h0m9.5-3h0m0 2h0m5.5 0h0m13.5-4h0m-41.5 7h0m5 3h0m8-3h0m10 2h0m45.5 2h0m-83 5h0m3-1.5h0m5.5 1.5h0m3.5 2h0m1-4h0m3.5 2.5h0m2 2h0m9.5 0h0m5-4.5h0m4 4h0m.5 0h0m2.5.5h0m15-1.5h0m1.5-3h0m9.5 3.5h0m-61.5 8h0m.5.5h0m2-6h0m5 2h0m2.5 3.5h0m8-5.5h0m.5 4.5h0m9.5-3h0m4-1h0m1 2.5h0m2-1h0m4.5-1.5h0m9 0h0m2.5 5.5h0m3-6h0m1.5 5.5h0m-73 3.5h0m14.5 1h0m.5-3h0m2.5 4.5h0m5 1.5h0m7.5-1.5h0m3 0h0m1-2.5h0m1 0h0m3.5-1h0m0 .5h0m4 3h0m5.5-2h0m2 1.5h0m11.5-2h0m-66 8h0m4.5 1h0m4 .5h0m2.5-2.5h0m.5 2.5h0m0-5h0m5 .5h0m1.5 6.5h0m.5-6.5h0m10 3h0m6 3.5h0m8-6.5h0m.5 2.5h0m1.5-2h0m1.5 4.5h0m1-.5h0m.5-2.5h0m2-.5h0m10 3.5h0m.5-1.5h0m9.5 1.5h0m-72.5 7h0m2.5-2h0m5-.5h0m1 0h0m11 3h0m3.5-1h0m3-3h0m3.5.5h0m5-1.5h0m18 2h0m11.5-1h0m4.5 2.5h0m-68.5 3h0m1 .5h0m6 5h0m3-3.5h0m3 3h0m3.5 1h0m3.5 0h0m8-3h0m4.5.5h0m.5-.5h0m3.5-1h0m2 2h0m.5 1h0m3-1h0m2.5 2.5h0m7.5-3.5h0m1-1h0m14.5 2.5h0m-69.5 8.5h0m4-1h0m1-3h0m.5 1.5h0m2-3.5h0m4.5 4h0m10 0h0m.5-2h0m.5-1h0m10.5.5h0m1.5 1h0m2 1h0m0-3h0m15 2.5h0m7.5-2.5h0m10.5 5.5h0m-85 2h0m10 5h0m5.5-4.5h0m7.5 1.5h0m1-1.5h0m2-.5h0m.5-1.5h0m1.5 4.5h0m2 1h0m16.5 1h0m13-6h0m3 4h0m1.5-1.5h0m1 1.5h0m-57 4.5h0m1 4h0m8.5-2.5h0m7.5-2h0m4.5 0h0m7 1h0m.5 3h0m3.5-.5h0m1 .5h0m5.5.5h0m6.5-2h0m26-3.5h0m-76 7h0m5.5.5h0m2 5.5h0m10.5-4.5h0m9.5-.5h0m2 1h0m1.5-2.5h0m5.5 1.5h0m3.5 1h0m8-.5h0m-30 7.5h0m4-1h0m8.5 1h0m5.5-2h0m1.5 2h0m3.5.5h0m0 1h0m.5 0h0m23 1.5h0m-50.5 2.5h0m.5.5h0m17.5 4.5h0m2 .5h0m-10.5 3.5h0m6.5 6.5h0m6.5 3.5h0m1.5-5.5h0m7.5 2h0m-13.5 9h0m2-4h0m12 .5h0" stroke="#208480"/><path d="M865.5 721h0m10.5-1.5h0m4.5-.5h0m-9 5.5h0m4.5 4h0m-33 9.5h0m8.5-4.5h0m4-.5h0m16 4h0m2-3.5h0m1 4.5h0m2-2h0m3.5-1h0m3.5.5h0m0 3h0m-37.5 7h0m1.5-3.5h0m9.5-.5h0m2.5 0h0m1 2.5h0m10-2h0m8-1h0m-37.5 5.5h0m15.5 0h0m7.5 3h0m-28.5 7h0m15.5 2h0m4.5.5h0m5-1h0m5-3h0m3.5-1.5h0m1.5 3.5h0m2.5 2h0m5.5-1h0m-55.5 3.5h0m8-1h0m10.5-.5h0m26.5 1.5h0m.5 4h0m2 0h0m.5-3.5h0m4.5-2h0m-65.5 13.5h0m12-6h0m10-1h0m4.5 7h0m4.5-6.5h0m7-.5h0m6.5.5h0m4.5 4.5h0m22.5-3.5h0m-70 10h0m7.5.5h0m18.5-4h0m1 .5h0m3-1h0m5 4.5h0m0-3h0m8 1h0m5 0h0m3.5 0h0m1 0h0m2 2h0m3-4.5h0m1.5 3.5h0m4.5.5h0m-60 9h0m18-2.5h0m1.5 3h0m6.5-1.5h0m1.5-3h0m10 2h0m5-1.5h0m1 3h0m6.5-5h0m3 5.5h0m4.5-4.5h0m-67 7h0m6 4.5h0m8-6.5h0m12 1h0m4 3.5h0m5.5-2.5h0m10.5 2h0m0-1.5h0m7.5 0h0m.5 0h0m8.5 3.5h0m6.5-2.5h0m-57.5 10h0m3-1.5h0m1 1.5h0m5-3h0m1.5-2h0m6 4.5h0m3-4.5h0m1 0h0m2-1.5h0m.5 3h0m10.5-1h0m14.5-1h0m3.5 0h0m.5 3h0m3.5 2h0m1.5-4h0m3.5-1h0m4.5 5.5h0m-74.5 5h0m12-1.5h0m3 3.5h0m3-1.5h0m5 1.5h0m.5-6h0m3.5 1h0m1 5.5h0m1.5 0h0m13.5-5h0m4.5 5h0m4.5-6h0m2 2.5h0m5-1h0m-68 10h0m14-4h0m7.5 3.5h0m13.5.5h0m1.5-3.5h0m14.5-1h0m1 1.5h0m2-.5h0m8 3h0m3-2.5h0m6.5 3h0m.5 1h0m1-3h0m7 .5h0m-84.5 7h0m11.5.5h0m1.5 0h0m3-2.5h0m1.5-.5h0m2 3.5h0m3.5 1.5h0m1.5-3h0m1.5 0h0m1.5-.5h0m.5-2h0m2 4h0m5-5h0m2 2.5h0m3.5 1.5h0m23-4h0m4.5 5h0m16.5-.5h0m-79.5 8h0m16.5-2h0m4-2h0m9.5 1h0m0 4h0m7-2h0m2 .5h0m11 1h0m3 .5h0m10.5-6h0m2 .5h0m9 5.5h0m-72 3.5h0m11 2h0m14.5 1h0m1.5-3h0m2 0h0m8-1h0m2 1h0m4.5 3.5h0m2.5-3.5h0m3 3.5h0m3.5-.5h0m3-3h0m3 1.5h0m10.5-2.5h0m10 1.5h0m-61 4.5h0m.5 2.5h0m4.5 2h0m3.5-1.5h0m3-3.5h0m0-.5h0m2 5h0m2 2h0m2-.5h0m8.5-2.5h0m14 1h0m.5-3.5h0m-42 9.5h0m2.5 1.5h0m0-1.5h0m2 1.5h0m6.5-2h0m2.5-3.5h0m10 5.5h0m4.5-5.5h0m8 4.5h0m-44.5 5.5h0m18-2.5h0m10.5-.5h0m19 4.5h0m-54 8.5h0m1-.5h0m3.5-2h0m10 3.5h0m2.5-1h0m2-6h0m0 4.5h0m1-2h0m3 2h0m8.5-3h0m.5-1h0m12 4h0m0-4h0m2 .5h0m-45.5 11h0m12-4.5h0m3.5 6h0m2.5-2.5h0m.5 0h0m2.5-1h0m6 0h0m14.5 1.5h0m3 .5h0m4 1.5h0m-49.5 7h0m3-4h0m.5.5h0m1 3.5h0m1-3.5h0m13 3h0m1-1h0m.5-4.5h0m5.5 2h0m-28.5 7h0m2.5-2.5h0m1.5 3.5h0m8.5 3h0m4-2h0m.5 1.5h0m1-.5h0m-3 2.5h0m6.5 1h0m1-1h0" stroke="#1d8e7f"/><path d="M871.5 810.5h0m.5 1.5h0m3 0h0m-4.5 12.5h0m-16 17h0m9-1.5h0m6-3h0m6.5 1h0m-28.5 10.5h0m1.5-3.5h0m17 2.5h0m1-.5h0m5-2h0m2.5 3h0m-32 13.5h0m4-3h0m10.5 4.5h0m1.5-1h0m7 1.5h0m-27 3h0m.5 2h0m7.5-2.5h0m6.5 3h0m3-.5h0m5.5-3.5h0m9.5 0h0m-22.5 10h0m-18.5 4h0m0 0h0m4 3.5h0m5 .5h0m5 2.5h0m6-1.5h0m1.5-2h0m-13.5 4h0" stroke="#22977a"/><path d="M880.5 836.5h0m6.5-.5h0m1-6h0m4 6h0m-14.5 2h0m4 5h0m10-2h0m3-2.5h0m.5 2.5h0m-12.5 5h0m7 4h0m7 0h0m-9 7h0m5-3.5h0m-2.5 8h0m1.5 2.5h0m.5-2h0m2 2.5h0m3-3.5h0m-3.5 4.5h0m18.5 17h0m8-2.5h0m2.5 10h0m-10 6h0m10-3.5h0m-3 12.5h0m0 .5h0m1.5.5h0m.5-2.5h0m.5 0h0m.5-2.5h0m5 3h0m-8.5 3h0m1 3h0m.5-3h0m.5 0h0m1.5 1h0m0 5h0m1.5-4h0m1.5 2h0m-10 3.5h0m0-.5h0m10 0h0m-10 12h0m4 1.5h0m0-5h0m2 1h0m0 3.5h0m.5 0h0m2-1.5h0m.5-1.5h0m1.5-1h0m.5-1h0m-15 9.5h0m1.5 0h0m.5-3.5h0m3 3h0m2.5 2h0m.5-4h0m1.5-.5h0m1.5 0h0m0 1h0m2.5.5h0m-15 11h0m.5-.5h0m3.5-3.5h0m1.5.5h0m.5 4h0m.5 0h0m2-1.5h0m-9 2h0m.5 1.5h0m3.5 2.5h0m.5 2h0m1.5-4.5h0m.5 2h0" stroke="#29a075"/><path d="M876.5 813h0m2 1.5h0m6.5.5h0m-1 5.5h0m6.5.5h0m4-5h0m4.5 3.5h0m-19.5 10h0m4.5-4.5h0m9.5 2h0m5-3.5h0m-17.5 11.5h0m0-4h0m16.5-.5h0m7 2.5h0m-9 7h0m2 2h0m12-3.5h0m-11.5 10.5h0m1.5 0h0m8-2h0m-8 15.5h0m7-.5h0" stroke="#31a86f"/><path d="M885 787h0m-5.5 9h0m5.5 5h0m5.5-3h0m-7 6h0m17-.5h0m1 3h0m1-3h0m3-1h0m0 11.5h0m-13.5 4.5h0m10 3h0m-3 4h0m5 7.5h0m1.5 2h0m0-.5h0m4-3.5h0m3.5.5h0m-14 5.5h0m62-.5h0m-48.5 8h0m3 0h0m36.5 4.5h0m7.5 0h0m-43 7h0m1-.5h0m3-3h0m14.5 1.5h0m6.5-1h0m-39 6.5h0m6.5-.5h0m4.5 3.5h0m1.5-2h0m1.5 2h0m14-3.5h0m12 1h0m19 2h0m2-1.5h0m-51 7h0m3.5-1.5h0m15.5 1.5h0m-6 8.5h0m16.5-3.5h0m25.5-.5h0m-2.5 7h0" stroke="#44b064"/><path d="M885.5 766h0m5-4h0m13-1.5h0m21 .5h0m10 4.5h0m5-2.5h0m12 1.5h0m-67.5 4.5h0m22.5-.5h0m21.5 4h0m2.5-4.5h0m44.5 5h0m-98.5 5h0m4-.5h0m0-3.5h0m3.5 5h0m6-4.5h0m16.5 6h0m6-5h0m9-.5h0m6 4.5h0m1.5-1h0m2-2h0m2.5-.5h0m6 2h0m2 1h0m7-5.5h0m7.5 1.5h0m2.5 3.5h0m.5-.5h0m3 1h0m-87 7h0m4-3.5h0m25.5.5h0m17.5 0h0m.5 1h0m13 3h0m12.5 0h0m5.5-1.5h0m2.5 0h0m1.5-2.5h0m17.5 1.5h0m5 .5h0m-104.5 4.5h0m3 1h0m4 4h0m2.5-3h0m.5-4h0m11 .5h0m6.5 5h0m2-2h0m3 2h0m8.5-3h0m3.5-2h0m34.5 1h0m21-1h0m1.5 5.5h0m-101 1h0m4.5 2h0m7 1.5h0m2.5-3h0m2 2.5h0m4 1.5h0m5.5-1h0m1.5 1.5h0m7-3h0m7-.5h0m13 4.5h0m14.5.5h0m0-6h0m16 6.5h0m8-3h0m6 .5h0m4.5-4.5h0m-71.5 7h0m6.5.5h0m11 3.5h0m8-2.5h0m3.5 1h0m9.5-1.5h0m13 5.5h0m3.5-1.5h0m8.5 1.5h0m4.5-1h0m2-2h0m3.5.5h0m-74 8h0m6.5 1.5h0m4-2h0m6.5 0h0m3.5-4.5h0m7 6h0m1-3h0m1 0h0m8.5 4h0m4-5.5h0m1.5-1.5h0m.5.5h0m5 6h0m7-3.5h0m1.5 3h0m0-.5h0m5.5 0h0m8.5-3.5h0m-67.5 7h0m6.5 2h0m20 0h0m0 2.5h0m7-5.5h0m4.5 2.5h0m2.5 2.5h0m4-4.5h0m3.5 0h0m12.5 0h0m1.5 5.5h0m-60 1h0m11.5 3.5h0m1-3.5h0m2.5-.5h0m1 0h0m2.5 1.5h0m2.5 2h0m2.5-3h0m1 1.5h0m4.5 3h0m27.5.5h0m8.5-4h0m3.5-1h0m-56 12.5h0m5.5-3h0m.5-2h0m4 4.5h0m12-4.5h0m11.5 1.5h0m3 .5h0m3-2h0m3 5h0m4.5-5h0m2.5 3h0m0 0h0m3.5 0h0m.5-4h0m-49 9.5h0m20.5-1.5h0m5 4h0m11.5.5h0m8 .5h0m1-3h0m2.5 0h0m7.5-.5h0m-71.5 9h0m4-3.5h0m5 .5h0m1-1.5h0m13 5h0m.5 1h0m14.5-4h0m1.5-1h0m.5 2h0m13 2.5h0m1-2.5h0m12-2.5h0m-64 12h0m10.5-3h0m2-1.5h0m4.5 3.5h0m9.5.5h0m13.5-4h0m.5-1.5h0m3.5 1h0m11.5-1h0m1 4h0m2.5 2h0m.5-.5h0m2.5.5h0m1.5-4.5h0m-56.5 8.5h0m3.5-1.5h0m4.5 4h0m23.5 1h0m.5-3.5h0m21-1h0m-36.5 11.5h0m3-5.5h0m0 2h0m1 1.5h0m2.5-3.5h0m-17.5 6.5h0m17 2.5h0m8.5-2.5h0m4 0h0m4 7.5h0m6.5-.5h0" stroke="#57b859"/><path d="M890.5 742h0m1.5 9h0m6.5 1.5h0m.5-5h0m3 2.5h0m41.5-2h0m13.5 2h0m1.5.5h0m15.5-1.5h0m9.5 2h0m-76.5 2.5h0m.5 3h0m1.5 1.5h0m.5-2.5h0m5.5-2h0m14.5-.5h0m5 4.5h0m5 2h0m1.5-1h0m0-.5h0m.5 1h0m1.5-1h0m1-.5h0m1.5 0h0m3.5-1.5h0m.5-3h0m16.5 4.5h0m0-4.5h0m3.5 6h0m3.5-4.5h0m1 .5h0m3 4h0m6.5-3.5h0m-112 11h0m9-4.5h0m2.5-1.5h0m9-.5h0m0 6.5h0m12-4h0m8.5-2h0m10-1h0m15.5 4.5h0m3 2h0m1-2.5h0m8 0h0m13.5 2.5h0m2-3h0m14-.5h0m3.5-.5h0m-104 8.5h0m6.5-1.5h0m2.5 3h0m17.5-1h0m12.5 1.5h0m3.5-1h0m7-3h0m14.5 4.5h0m31.5-2.5h0m5.5-3h0m1 1h0m5 1.5h0m1.5 1h0m-107.5 9h0m8-6h0m15.5 1h0m1-1.5h0m13 2.5h0m11 3h0m12.5-4.5h0m41.5 3h0m3-2h0m-79 5.5h0m3 4.5h0m11-4.5h0m.5 1.5h0m39.5-1.5h0m3.5 6h0m4-6h0m9 1.5h0m4.5 2.5h0m-37.5 6h0m12.5-2.5h0m21.5.5h0m8 5.5h0m2-5h0m-62 11.5h0m1.5-5h0m16.5 3.5h0m4-.5h0m11.5-.5h0m6.5 2.5h0m1-5h0m2.5 1.5h0m-42 4.5h0m5 1.5h0m18 1h0m1.5-2.5h0m37.5 1.5h0m-62.5 10.5h0m2.5-.5h0m2-.5h0m25-4h0m3.5.5h0m27 4h0m3.5-1.5h0m-50 10h0m1 0h0m5-6h0m18 6h0m4.5-1h0m2-5h0m13 5.5h0m-51.5 1h0m3 5.5h0m46.5-3.5h0m2 4.5h0m7-5h0m-6.5 5.5h0m3.5 4h0m-2.5 3.5h0m6.5 6.5h0m.5 3.5h0m-66 16h0m5 0h0m52-5.5h0m-42.5 13h0m29 13.5h0m.5-5.5h0" stroke="#6cbf4d"/><path d="M918 729h0m7.5-.5h0m18.5-4h0m-45.5 12.5h0m2-2h0m7.5 3h0m34.5-4.5h0m4 3.5h0m2 .5h0m16.5-2h0m4-3.5h0m24.5 4h0m-103.5 4.5h0m8-.5h0m2.5 3h0m9 1h0m0 1.5h0m5.5-1h0m.5 1h0m8-3.5h0m13 2.5h0m1-1.5h0m10.5-4.5h0m4.5 4.5h0m1.5 0h0m6 0h0m2 1.5h0m4.5 0h0m.5-3.5h0m2.5-1.5h0m3 1h0m9 2.5h0m0-2h0m6 0h0m-109.5 6.5h0m7.5 4h0m4-4.5h0m6 1.5h0m17-1.5h0m1-1h0m2.5 3.5h0m4.5-2.5h0m2.5 4.5h0m12.5-.5h0m8-5.5h0m6 1h0m18 2.5h0m17-1h0m2.5 0h0m15.5 0h0m-66.5 7.5h0m45 1h0m16 1.5h0m-7.5 7.5h0m.5 1h0m2.5-7h0m4 8.5h0m22.5 1h0m-103.5 5.5h0m72.5 4.5h0m1.5 1h0m2.5-6h0m3.5 5h0m-4.5 5h0m2.5-3h0m5 6h0m-9.5 7h0m11-5.5h0m12 5.5h0m-12.5 3h0m15.5 11.5h0m-20.5 6.5h0m3.5-6h0m14.5 1.5h0m-18.5 10h0m2 4.5h0m4-.5h0m-8.5 5h0m4 4.5h0m6 2.5h0m11.5-4h0m-17.5 7h0m.5-1.5h0m1 4.5h0m6.5-5.5h0m-11 17.5h0m-10.5 7h0m4.5-4h0m-15.5 18.5h0m.5 0h0" stroke="#85c43d"/><path d="M947.5 639.5h0m-16 10h0m57 1h0m-47.5 4.5h0m19 32.5h0m-64.5 24.5h0m9 4h0m16 0h0m8-.5h0m20-1.5h0m8-3h0m24 3.5h0m3.5-.5h0m18 1h0m-111 4h0m15.5-.5h0m4-.5h0m7 5.5h0m21.5-2h0m.5.5h0m7 .5h0m12-.5h0m11.5 2.5h0m.5-4.5h0m2.5 3.5h0m3.5-.5h0m23.5-1h0m11 0h0m3-2h0m6.5 1h0m-131 6.5h0m.5 2.5h0m1.5-.5h0m6-2.5h0m3 4h0m2-6.5h0m3.5 5h0m8 1h0m19.5-2h0m1 0h0m4-3.5h0m.5 5.5h0m4.5.5h0m1.5-2h0m7.5-3.5h0m1-1h0m8.5 4.5h0m0-2.5h0m29.5 1h0m.5 0h0m6.5 3.5h0m0-5h0m1-1h0m2.5 1h0m16.5-1h0m-136 9h0m10 .5h0m3-.5h0m37-2h0m4.5 0h0m12 6h0m4-1.5h0m15.5-4h0m5.5 2.5h0m4 0h0m8 0h0m.5 3h0m2-6h0m3.5 5.5h0m1-3.5h0m4 4h0m8.5-1.5h0m2.5-.5h0m6-4h0m6.5 3h0m.5 3h0m.5 0h0m1-4h0m-32.5 7.5h0m3.5-.5h0m6 3.5h0m11 0h0m.5-4.5h0m1.5 0h0m2 1.5h0m11 3.5h0m-27 3.5h0m6 3h0m7.5-1.5h0m5-3h0m1.5 3.5h0m3-4h0m3 2.5h0m-32 6h0m6.5-2.5h0m4.5 1.5h0m8 2.5h0m1.5.5h0m4 0h0m.5 0h0m1.5-2.5h0m.5-1.5h0m1.5 2h0m2-1.5h0m1.5 2h0m-12.5 6.5h0m10.5-.5h0m-16 7h0m1 2.5h0m10.5-2.5h0m10 2.5h0m-26.5 4.5h0m10.5 3h0m4.5.5h0m4-3h0m6-2.5h0m-21.5 11h0m1-2h0m8.5 0h0m6.5 5h0m-22 1.5h0m1.5 3h0m2-4h0m1.5 3.5h0m2 2h0m-7 7.5h0m10-2.5h0m3.5 0h0m3.5-4h0m2.5 3.5h0m-18.5 8h0m18.5 2h0m1.5-6h0m1 3.5h0m-18 4.5h0m18.5 1.5h0m-19 4.5h0m5 4h0m11-1h0m2.5 1.5h0m4.5-2.5h0m-9.5 9h0m3-3h0m-15.5 8.5h0m0-1h0m.5 2h0m.5 2.5h0m5-1.5h0m5.5-3.5h0m8 2h0m1-3h0m-26.5 8.5h0m15.5.5h0m.5 2.5h0m.5-2h0m-15.5 8h0m1 2h0m1-.5h0m4-5h0m2.5 1.5h0m0 4h0m9.5-3.5h0m8.5 2h0m-30.5 6h0m25 6h0m-44.5 13h0" stroke="#9dca2e"/><path d="M975 621.5h0m2.5.5h0m1 .5h0m10.5 2h0m-62 8.5h0m16-3h0m3.5 3h0m7.5-1h0m12-2.5h0m4.5 0h0m3.5 4h0m8-4.5h0m2 2h0m6.5-3h0m0 4.5h0m.5-3h0m-76 7.5h0m9.5 1.5h0m2 .5h0m2 1h0m3-3.5h0m13.5 2.5h0m14.5-2.5h0m11 .5h0m8.5-2h0m1.5 4h0m-62.5 7h0m6 0h0m4-2.5h0m33 2h0m10 0h0m1.5-2.5h0m4 2h0m4 0h0m1.5-2h0m15-1.5h0m1 0h0m-104 12h0m23.5-3.5h0m.5-2h0m4.5 4.5h0m6 1h0m1-5h0m10.5 1.5h0m9 3h0m3-2h0m15-1h0m2.5 2h0m20 1h0m16 .5h0m-122 2h0m28 3.5h0m5.5 1h0m1 1h0m1-4h0m5.5 0h0m7.5 2.5h0m18-.5h0m10-1h0m8.5-1.5h0m1.5 2.5h0m5.5-.5h0m2 0h0m1.5-.5h0m7.5 0h0m3.5-2.5h0m0 4.5h0m3.5 1h0m6-2.5h0m3.5-3.5h0m-142.5 11h0m14 2.5h0m15.5-6h0m2 5.5h0m7 0h0m17-1.5h0m3.5.5h0m1.5-5h0m.5.5h0m14 6h0m2.5-5h0m10.5 1.5h0m16.5-2.5h0m3.5 3h0m22.5 0h0m6.5.5h0m6.5-.5h0m3-2h0m1.5 2h0m-152 4h0m6-.5h0m3.5 2h0m13-1.5h0m8-.5h0m14.5 4h0m3.5-1h0m2.5 2h0m13 1.5h0m1-2.5h0m5.5 2.5h0m29-.5h0m5 0h0m.5-4.5h0m.5.5h0m9.5 3.5h0m1.5-4h0m1.5 0h0m15.5 0h0m3-1h0m3.5 4.5h0m.5-3.5h0m0 2.5h0m7.5-1.5h0m0 3.5h0m-125.5 7.5h0m1-.5h0m5-1h0m16 .5h0m8-6h0m6 4h0m6-4h0m6 2.5h0m10.5 3.5h0m4-3h0m10 2h0m5-5h0m12.5 4h0m5-.5h0m1 2h0m7-3h0m10-.5h0m4 4.5h0m2.5-.5h0m3.5-3.5h0m4.5.5h0m1-2.5h0m-118 11.5h0m16-2.5h0m.5 1.5h0m26-2.5h0m2.5 3.5h0m6-2h0m11.5-2h0m3 4.5h0m3-5h0m16 5h0m7.5-2h0m2.5 1h0m9.5 0h0m21-4h0m-135 11h0m3.5-.5h0m21.5 1.5h0m23.5-1.5h0m3 2.5h0m2-4.5h0m4.5 1.5h0m3 1h0m1.5-2.5h0m2.5 1.5h0m9 0h0m3 2h0m.5-2h0m4.5 1h0m17-3.5h0m4 1.5h0m5-1h0m2-1h0m2.5 1.5h0m.5 3h0m1.5-3h0m10 1h0m2 0h0m-121.5 7h0m9.5-2h0m1.5 2h0m5.5 3h0m10 0h0m3.5-5h0m1 3.5h0m8.5-1h0m.5 1h0m5-2h0m5.5-1h0m1-1h0m10.5 2h0m2-.5h0m.5 5h0m3-2h0m1-1.5h0m6.5 1h0m17.5-2.5h0m1.5 1.5h0m3.5-3.5h0m.5 1.5h0m5 5h0m5.5 0h0m5.5-6h0m-123.5 13.5h0m8-.5h0m11.5-2.5h0m2.5 1.5h0m3 0h0m7-4.5h0m9.5 5.5h0m2-4.5h0m1 3h0m11-3h0m7.5 2h0m6 2h0m1.5-1h0m2 1.5h0m3.5-.5h0m8 0h0m2-5.5h0m4.5.5h0m4.5 5.5h0m16-3h0m3.5-3h0m7 3h0m6 2.5h0m14-6h0m-136.5 11.5h0m1.5-4.5h0m17 2.5h0m5.5-1.5h0m3.5 5.5h0m1.5 0h0m3.5-5.5h0m8.5 5.5h0m.5-1h0m13 1h0m2-2h0m12-2.5h0m16.5.5h0m7.5 2.5h0m2 1.5h0m9-5h0m4 3h0m13.5-.5h0m4 1h0m-120.5 5h0m9 3.5h0m25-3.5h0m13 .5h0m3.5-.5h0m25-1.5h0m15.5 5h0m6 0h0m-84 1.5h0m74.5 3h0m33-3h0m-6 12.5h0m17.5-5.5h0m1.5 9h0m6 1h0m-18 14h0m14.5 14h0m7.5 1.5h0m-.5 5.5h0m5-4h0m-13 16h0m-14.5 14h0m5.5 8.5h0m10.5-2h0m-10.5 10.5h0m5.5 7.5h0m-35.5 38h0m20.5 10.5h0m-7 7h0m-17 4h0m11 15h0m7.5 4.5h0" stroke="#b6ce27"/><path d="M987.5 623.5h0m-59.5 9h0m42.5-2.5h0m18 1h0m-86.5 16.5h0m42.5-3.5h0m3-1.5h0m13.5 1h0m2.5-2.5h0m4.5 4.5h0m10 0h0m1-1.5h0m5.5 3.5h0m-51 3.5h0m.5 1h0m36-2.5h0m18.5 3h0m-90 3.5h0m23.5 2h0m65-1h0m-115.5 7h0m3 2.5h0m100.5-.5h0m-83 9.5h0m32-7h0m44 3h0m21.5 2.5h0m1 1.5h0m-94.5 2h0m9 2h0m28.5-.5h0m72.5 1h0m-99.5 5h0m43.5 2h0m6-.5h0m56-4h0m-99 10.5h0m21 2.5h0m17.5-3h0m31-2.5h0m14 0h0m-99 7h0m2 6h0m0-.5h0m9.5 0h0m48.5-4.5h0m5.5-.5h0m20 2h0m11.5-2h0m-73.5 9.5h0m32.5-3.5h0m22 5h0m9-4.5h0m9 .5h0m24 0h0m-24 155.5h0m11 .5h0m5.5 0h0m3 2.5h0m.5-3h0m1.5 2.5h0m-34.5 5h0m0 2h0m6.5 0h0m4-.5h0m9-4h0m3 2h0m7-1h0m2.5-1h0m4.5 6h0m-35.5 1h0m1 0h0m6 1h0m5 0h0m5 .5h0m1.5 2.5h0m14-3h0m-23.5 10h0m2.5-3.5h0m2.5 1h0m10.5-1h0m-25 12.5h0m2 0h0m5-4h0m5 1.5h0m2 0h0m7.5.5h0m-19.5 5h0m2 2.5h0m1 1.5h0m7.5 3.5h0m5-1.5h0m0 2.5h0" stroke="#d0d124"/><path d="M1002.5 860h0m14 11h0m-37.5 3h0m17 2.5h0m1 3h0m-15.5 6.5h0m3.5-.5h0m15.5 1.5h0m-6.5 12.5h0m6-3h0" stroke="#e9d522"/></g><path d="M621.7 909.4V966.4H679.2" stroke="#000" stroke-width="3.5" fill="none" stroke-linejoin="miter"/><path d="M621.7 879.4Q624.9 903.4 634.9 922.1Q627.7 915.4 621.7 913.1Q615.7 915.4 608.5 922.1Q618.5 903.4 621.7 879.4Z"/><path d="M709.2 966.4Q685.2 969.6 666.5 979.6Q673.2 972.4 675.5 966.4Q673.2 960.4 666.5 953.2Q685.2 963.2 709.2 966.4Z"/><text x="612.6" y="1018.7" font-size="33.9">UMAP 1</text><text x="591.7" y="970.5" font-size="33.9" transform="rotate(-90 591.7 970.5)">UMAP 2</text><text x="1063.5" y="598" font-size="29.3" text-anchor="middle">Pseudotime</text><defs><linearGradient id="gvir" x1="0" x2="0" y1="1" y2="0"><stop offset="0.000" stop-color="#440154"/><stop offset="0.111" stop-color="#482878"/><stop offset="0.222" stop-color="#3e4a89"/><stop offset="0.333" stop-color="#31688e"/><stop offset="0.444" stop-color="#26828e"/><stop offset="0.556" stop-color="#1f9e89"/><stop offset="0.667" stop-color="#35b779"/><stop offset="0.778" stop-color="#6dcd59"/><stop offset="0.889" stop-color="#b4de2c"/><stop offset="1.000" stop-color="#fde725"/></linearGradient></defs><rect x="1042.2" y="616.8" width="25" height="125" fill="url(#gvir)" stroke="#555" stroke-width="0.9"/><text x="1102" y="662.7" font-size="25.8" text-anchor="end">20</text><text x="1102" y="705.5" font-size="25.8" text-anchor="end">10</text><text x="1102" y="748.2" font-size="25.8" text-anchor="end">0</text><path d="M1042.5 653.5h5M1067 653.5h-5M1042.5 696.3h5M1067 696.3h-5M1042.5 739h5M1067 739h-5" stroke="#444" stroke-width="0.7" fill="none"/></g>
<g id="pf"><text transform="translate(-0.4 1088.6) scale(1 1)" font-size="48.5" font-weight="bold">f</text><rect x="137.3" y="1112.7" width="198.8" height="28.3" fill="#f2f2f2" stroke="#333" stroke-width="0.8"/><rect x="341.3" y="1112.7" width="198.8" height="28.3" fill="#f2f2f2" stroke="#333" stroke-width="0.8"/><text x="236.7" y="1137" font-size="29.3" text-anchor="middle" fill="#1a1a1a">Non−Restored</text><text x="440.7" y="1137" font-size="29.3" text-anchor="middle" fill="#1a1a1a">Restored</text><path d="M134 1141.5V1581.5" stroke="#000" stroke-width="3" fill="none"/><path d="M137 1580.6H336M341 1580.6H540" stroke="#000" stroke-width="2.8" fill="none"/><text x="113" y="1564.3" font-size="29.2" text-anchor="end">0.00</text><text x="113" y="1466" font-size="29.2" text-anchor="end">0.25</text><text x="113" y="1367.7" font-size="29.2" text-anchor="end">0.50</text><text x="113" y="1269.4" font-size="29.2" text-anchor="end">0.75</text><text x="113" y="1171.1" font-size="29.2" text-anchor="end">1.00</text><path d="M121.5 1554.0H132.5M121.5 1455.7H132.5M121.5 1357.4H132.5M121.5 1259.1H132.5M121.5 1160.8H132.5" stroke="#000" stroke-width="2.6" fill="none"/><text x="40" y="1342" font-size="36.8" text-anchor="middle" transform="rotate(-90 40 1342)">Cluster Fraction</text><rect x="147.2" y="1160.8" width="56" height="15.9" fill="#f9b8b5" stroke="#000" stroke-width="1.7"/><rect x="147.2" y="1176.7" width="56" height="238.3" fill="#cfd29a" stroke="#000" stroke-width="1.7"/><rect x="147.2" y="1415.0" width="56" height="87.4" fill="#96dbbd" stroke="#000" stroke-width="1.7"/><rect x="147.2" y="1502.4" width="56" height="39.7" fill="#a4d3ea" stroke="#000" stroke-width="1.7"/><rect x="147.2" y="1542.1" width="56" height="11.9" fill="#dfb8dd" stroke="#000" stroke-width="1.7"/><rect x="209.2" y="1160.8" width="56" height="23.6" fill="#f9b8b5" stroke="#000" stroke-width="1.7"/><rect x="209.2" y="1184.4" width="56" height="204.5" fill="#cfd29a" stroke="#000" stroke-width="1.7"/><rect x="209.2" y="1388.9" width="56" height="121.9" fill="#96dbbd" stroke="#000" stroke-width="1.7"/><rect x="209.2" y="1510.7" width="56" height="39.3" fill="#a4d3ea" stroke="#000" stroke-width="1.7"/><rect x="209.2" y="1550.1" width="56" height="3.9" fill="#dfb8dd" stroke="#000" stroke-width="1.7"/><rect x="271.2" y="1160.8" width="56" height="43.3" fill="#f9b8b5" stroke="#000" stroke-width="1.7"/><rect x="271.2" y="1204.1" width="56" height="216.3" fill="#cfd29a" stroke="#000" stroke-width="1.7"/><rect x="271.2" y="1420.3" width="56" height="74.7" fill="#96dbbd" stroke="#000" stroke-width="1.7"/><rect x="271.2" y="1495.0" width="56" height="47.2" fill="#a4d3ea" stroke="#000" stroke-width="1.7"/><rect x="271.2" y="1542.2" width="56" height="11.8" fill="#dfb8dd" stroke="#000" stroke-width="1.7"/><rect x="350.4" y="1160.8" width="56" height="275.2" fill="#f9b8b5" stroke="#000" stroke-width="1.7"/><rect x="350.4" y="1436.0" width="56" height="23.6" fill="#cfd29a" stroke="#000" stroke-width="1.7"/><rect x="350.4" y="1459.6" width="56" height="70.8" fill="#96dbbd" stroke="#000" stroke-width="1.7"/><rect x="350.4" y="1530.4" width="56" height="23.6" fill="#a4d3ea" stroke="#000" stroke-width="1.7"/><rect x="412.6" y="1160.8" width="56" height="304.6" fill="#f9b8b5" stroke="#000" stroke-width="1.7"/><rect x="412.6" y="1465.4" width="56" height="39.6" fill="#cfd29a" stroke="#000" stroke-width="1.7"/><rect x="412.6" y="1504.9" width="56" height="39.6" fill="#96dbbd" stroke="#000" stroke-width="1.7"/><rect x="412.6" y="1544.5" width="56" height="7.9" fill="#a4d3ea" stroke="#000" stroke-width="1.7"/><rect x="412.6" y="1552.4" width="56" height="1.6" fill="#dfb8dd" stroke="#000" stroke-width="1.7"/><rect x="474.8" y="1160.8" width="56" height="283.1" fill="#f9b8b5" stroke="#000" stroke-width="1.7"/><rect x="474.8" y="1443.9" width="56" height="23.6" fill="#cfd29a" stroke="#000" stroke-width="1.7"/><rect x="474.8" y="1467.5" width="56" height="35.4" fill="#96dbbd" stroke="#000" stroke-width="1.7"/><rect x="474.8" y="1502.9" width="56" height="47.2" fill="#a4d3ea" stroke="#000" stroke-width="1.7"/><rect x="474.8" y="1550.1" width="56" height="3.9" fill="#dfb8dd" stroke="#000" stroke-width="1.7"/><text x="174.5" y="1178" font-size="22.3" text-anchor="middle" fill="#111">4%</text><text x="174.5" y="1306" font-size="22.3" text-anchor="middle" fill="#111">60%</text><text x="174.5" y="1467" font-size="22.3" text-anchor="middle" fill="#111">22%</text><text x="174.5" y="1530" font-size="22.3" text-anchor="middle" fill="#111">10%</text><text x="174.5" y="1575.5" font-size="22.3" text-anchor="middle" fill="#111">3%</text><text x="236.5" y="1181" font-size="22.3" text-anchor="middle" fill="#111">6%</text><text x="236.5" y="1295" font-size="22.3" text-anchor="middle" fill="#111">52%</text><text x="236.5" y="1458" font-size="22.3" text-anchor="middle" fill="#111">31%</text><text x="236.5" y="1539" font-size="22.3" text-anchor="middle" fill="#111">10%</text><text x="236.5" y="1575.5" font-size="22.3" text-anchor="middle" fill="#111">1%</text><text x="298.5" y="1191" font-size="22.3" text-anchor="middle" fill="#111">11%</text><text x="298.5" y="1320" font-size="22.3" text-anchor="middle" fill="#111">55%</text><text x="298.5" y="1466" font-size="22.3" text-anchor="middle" fill="#111">19%</text><text x="298.5" y="1528.5" font-size="22.3" text-anchor="middle" fill="#111">12%</text><text x="298.5" y="1575.5" font-size="22.3" text-anchor="middle" fill="#111">3%</text><text x="378" y="1304" font-size="22.3" text-anchor="middle" fill="#111">70%</text><text x="378" y="1456" font-size="22.3" text-anchor="middle" fill="#111">6%</text><text x="378" y="1504.5" font-size="22.3" text-anchor="middle" fill="#111">18%</text><text x="378" y="1551" font-size="22.3" text-anchor="middle" fill="#111">6%</text><text x="378" y="1575.5" font-size="22.3" text-anchor="middle" fill="#111">0%</text><text x="440" y="1317" font-size="22.3" text-anchor="middle" fill="#111">77%</text><text x="440" y="1492.5" font-size="22.3" text-anchor="middle" fill="#111">10%</text><text x="440" y="1533" font-size="22.3" text-anchor="middle" fill="#111">10%</text><text x="418" y="1575.5" font-size="22.3" text-anchor="middle" fill="#111">2%</text><text x="455" y="1575.5" font-size="22.3" text-anchor="middle" fill="#111">0%</text><text x="502" y="1307.5" font-size="22.3" text-anchor="middle" fill="#111">72%</text><text x="502" y="1464" font-size="22.3" text-anchor="middle" fill="#111">6%</text><text x="502" y="1494.5" font-size="22.3" text-anchor="middle" fill="#111">9%</text><text x="502" y="1536" font-size="22.3" text-anchor="middle" fill="#111">12%</text><text x="502" y="1575.5" font-size="22.3" text-anchor="middle" fill="#111">1%</text><path d="M415.5 1553.5L426.5 1548" stroke="#000" stroke-width="1.4"/><text x="620.7" y="1175.8" font-size="29.6" text-anchor="middle" font-weight="bold">Sorted</text><text x="620.7" y="1211.6" font-size="29.6" text-anchor="middle" font-weight="bold">Neoplastic</text><text x="620.7" y="1247.4" font-size="29.6" text-anchor="middle" font-weight="bold">Cluster</text><rect x="552" y="1270.9" width="32.6" height="32.4" fill="#f9b8b5" stroke="#000" stroke-width="1.9"/><text x="596.3" y="1297.3" font-size="26.2" fill="#111" textLength="143.6" lengthAdjust="spacingAndGlyphs">1 (ATII-Like)</text><rect x="552" y="1329.3" width="32.6" height="32.4" fill="#cfd29a" stroke="#000" stroke-width="1.9"/><text x="596.3" y="1355.7" font-size="26.2" fill="#111" textLength="198.4" lengthAdjust="spacingAndGlyphs">2 (Indeterminate)</text><rect x="552" y="1387.7" width="32.6" height="32.4" fill="#96dbbd" stroke="#000" stroke-width="1.9"/><text x="596.3" y="1414.1" font-size="26.2" fill="#111" textLength="136" lengthAdjust="spacingAndGlyphs">3 (ATI-Like)</text><rect x="552" y="1446.1" width="32.6" height="32.4" fill="#a4d3ea" stroke="#000" stroke-width="1.9"/><text x="596.3" y="1472.5" font-size="26.2" fill="#111" textLength="173.8" lengthAdjust="spacingAndGlyphs">4 (Transitional)</text><rect x="552" y="1504.5" width="32.6" height="32.4" fill="#dfb8dd" stroke="#000" stroke-width="1.9"/><text x="596.3" y="1530.9" font-size="26.2" fill="#111" textLength="178.3" lengthAdjust="spacingAndGlyphs">5 (Proliferating)</text></g>
<g id="pg"><text transform="translate(817.2 1089.6) scale(1 1)" font-size="49.5" font-weight="bold">g</text><text x="1252" y="1053.5" font-size="29.5" text-anchor="middle" fill="#111">Gene sets higher in</text><text x="1252" y="1084" font-size="29.5" text-anchor="middle" fill="#111">Indeterminate population</text><rect x="1221.3" y="1102.6" width="128.20000000000005" height="468.10000000000014" fill="#fff" stroke="#333" stroke-width="0.9"/><path d="M1227 1102.6V1570.7M1266 1102.6V1570.7M1304.9 1102.6V1570.7M1343.9 1102.6V1570.7M1221.3 1119.3H1349.5M1221.3 1146.5H1349.5M1221.3 1173.7H1349.5M1221.3 1200.9H1349.5M1221.3 1228.1H1349.5M1221.3 1255.2H1349.5M1221.3 1282.4H1349.5M1221.3 1309.6H1349.5M1221.3 1336.8H1349.5M1221.3 1364.0H1349.5M1221.3 1391.2H1349.5M1221.3 1418.4H1349.5M1221.3 1445.6H1349.5M1221.3 1472.8H1349.5M1221.3 1500.0H1349.5M1221.3 1527.2H1349.5M1221.3 1554.3H1349.5" stroke="#ebebeb" stroke-width="0.9" fill="none"/><path d="M1246.5 1102.6V1570.7M1285.5 1102.6V1570.7M1324.4 1102.6V1570.7" stroke="#f2f2f2" stroke-width="0.6" fill="none"/><path d="M1221.3 1102.1V1572.2M1219.8 1570.7H1350.0" stroke="#000" stroke-width="3.3" fill="none"/><text x="1204.4" y="1127.9" font-size="26" text-anchor="end" fill="#222">Epithelial-mesenchymal transition</text><text x="1204.4" y="1155.09" font-size="26" text-anchor="end" fill="#222">Coagulation</text><text x="1204.4" y="1182.28" font-size="26" text-anchor="end" fill="#222">Hypoxia</text><text x="1204.4" y="1209.47" font-size="26" text-anchor="end" fill="#222">Angiogenesis</text><text x="1204.4" y="1236.66" font-size="26" text-anchor="end" fill="#222">KRAS signaling up</text><text x="1204.4" y="1263.85" font-size="26" text-anchor="end" fill="#222">Inflammatory response</text><text x="1204.4" y="1291.04" font-size="26" text-anchor="end" fill="#222">Estrogen response late</text><text x="1204.4" y="1318.23" font-size="26" text-anchor="end" fill="#222">Hedgehog signaling</text><text x="1204.4" y="1345.42" font-size="26" text-anchor="end" fill="#222">Estrogen response early</text><text x="1204.4" y="1372.61" font-size="26" text-anchor="end" fill="#222">IL2-STAT5 signaling</text><text x="1204.4" y="1399.8" font-size="26" text-anchor="end" fill="#222">Apical junction</text><text x="1204.4" y="1426.99" font-size="26" text-anchor="end" fill="#222">Complement</text><text x="1204.4" y="1454.18" font-size="26" text-anchor="end" fill="#222">MYC targets v2</text><text x="1204.4" y="1481.37" font-size="26" text-anchor="end" fill="#222">TNFa signaling via NF-kB</text><text x="1204.4" y="1508.56" font-size="26" text-anchor="end" fill="#222">Myogenesis</text><text x="1204.4" y="1535.75" font-size="26" text-anchor="end" fill="#222">Apical surface</text><text x="1204.4" y="1562.94" font-size="26" text-anchor="end" fill="#222">Mitotic spindle</text><path d="M1208.8 1119.3H1220.3M1208.8 1146.5H1220.3M1208.8 1173.7H1220.3M1208.8 1200.9H1220.3M1208.8 1228.1H1220.3M1208.8 1255.2H1220.3M1208.8 1282.4H1220.3M1208.8 1309.6H1220.3M1208.8 1336.8H1220.3M1208.8 1364.0H1220.3M1208.8 1391.2H1220.3M1208.8 1418.4H1220.3M1208.8 1445.6H1220.3M1208.8 1472.8H1220.3M1208.8 1500.0H1220.3M1208.8 1527.2H1220.3M1208.8 1554.3H1220.3M1227 1571.7V1583.2M1266 1571.7V1583.2M1304.9 1571.7V1583.2M1339.6 1571.7V1583.2" stroke="#2a2a2a" stroke-width="2.8" fill="none"/><text x="1227" y="1610.8" font-size="29.3" text-anchor="middle" fill="#222">0</text><text x="1266" y="1610.8" font-size="29.3" text-anchor="middle" fill="#222">1</text><text x="1304.9" y="1610.8" font-size="29.3" text-anchor="middle" fill="#222">2</text><text x="1339.6" y="1610.8" font-size="29.3" text-anchor="middle" fill="#222">3</text><text x="1284.5" y="1637.5" font-size="37.2" text-anchor="middle">Normalized</text><text x="1284.5" y="1668.3" font-size="37" text-anchor="middle">Enrichment Score</text><circle cx="1316.3" cy="1119.3" r="10.5" fill="#de2d26" stroke="#000" stroke-width="1.2"/><circle cx="1306.5" cy="1146.5" r="7.4" fill="#de2d26" stroke="#000" stroke-width="1.2"/><circle cx="1298.8" cy="1173.7" r="9.3" fill="#df3027" stroke="#000" stroke-width="1.2"/><circle cx="1296.8" cy="1200.9" r="2.6" fill="#df3128" stroke="#000" stroke-width="1.2"/><circle cx="1300" cy="1228.1" r="7.8" fill="#e0342a" stroke="#000" stroke-width="1.2"/><circle cx="1296.4" cy="1255.2" r="7.0" fill="#e0362a" stroke="#000" stroke-width="1.2"/><circle cx="1293.7" cy="1282.4" r="8.6" fill="#e33f2f" stroke="#000" stroke-width="1.2"/><circle cx="1293" cy="1309.6" r="4.3" fill="#e23c2d" stroke="#000" stroke-width="1.2"/><circle cx="1293" cy="1336.8" r="9.3" fill="#e44230" stroke="#000" stroke-width="1.2"/><circle cx="1292" cy="1364.0" r="9.3" fill="#e44532" stroke="#000" stroke-width="1.2"/><circle cx="1291" cy="1391.2" r="10" fill="#e64b34" stroke="#000" stroke-width="1.2"/><circle cx="1289.8" cy="1418.4" r="7.8" fill="#e85238" stroke="#000" stroke-width="1.2"/><circle cx="1286.3" cy="1445.6" r="8.2" fill="#f49777" stroke="#000" stroke-width="1.2"/><circle cx="1286.3" cy="1472.8" r="9.3" fill="#f49777" stroke="#000" stroke-width="1.2"/><circle cx="1286" cy="1500.0" r="6.6" fill="#f49777" stroke="#000" stroke-width="1.2"/><circle cx="1286" cy="1527.2" r="3.9" fill="#f49777" stroke="#000" stroke-width="1.2"/><circle cx="1285" cy="1554.3" r="12" fill="#f6a585" stroke="#000" stroke-width="1.2"/><text x="1405" y="1174.6" font-size="29.4" text-anchor="middle" font-weight="bold">FDR</text><defs><linearGradient id="gfdr" x1="0" x2="0" y1="0" y2="1"><stop offset="0" stop-color="#de2d26"/><stop offset="0.25" stop-color="#e85238"/><stop offset="0.5" stop-color="#f07d5a"/><stop offset="0.75" stop-color="#f9b496"/><stop offset="1" stop-color="#fff5e6"/></linearGradient></defs><rect x="1384.5" y="1199.5" width="28" height="137.5" fill="url(#gfdr)" stroke="#000" stroke-width="2.1"/><text x="1416.5" y="1210.1" font-size="25.8" fill="#111">0.00</text><text x="1416.5" y="1237.4" font-size="25.8" fill="#111">0.01</text><text x="1416.5" y="1264.7" font-size="25.8" fill="#111">0.02</text><text x="1416.5" y="1292" font-size="25.8" fill="#111">0.03</text><text x="1416.5" y="1319.3" font-size="25.8" fill="#111">0.04</text><text x="1416.5" y="1346.6" font-size="25.8" fill="#111">0.05</text><path d="M1385.5 1227.8h5M1411.5 1227.8h-5M1385.5 1255.1h5M1411.5 1255.1h-5M1385.5 1282.4h5M1411.5 1282.4h-5M1385.5 1309.7h5M1411.5 1309.7h-5" stroke="#000" stroke-width="0.9" fill="none"/><text x="1437" y="1411.5" font-size="29.4" text-anchor="middle" font-weight="bold">Core</text><text x="1437" y="1438.8" font-size="29.4" text-anchor="middle" font-weight="bold">Enrichment</text><circle cx="1417.5" cy="1463.9" r="6.2" fill="#fff" stroke="#000" stroke-width="1.3"/><text x="1435" y="1473.2" font-size="25.8" fill="#111">20</text><circle cx="1417.5" cy="1491.6" r="9" fill="#fff" stroke="#000" stroke-width="1.3"/><text x="1435" y="1500.9" font-size="25.8" fill="#111">40</text><circle cx="1417.5" cy="1519.3" r="10.9" fill="#fff" stroke="#000" stroke-width="1.3"/><text x="1435" y="1528.6" font-size="25.8" fill="#111">60</text><circle cx="1417.5" cy="1547.0" r="12.5" fill="#fff" stroke="#000" stroke-width="1.3"/><text x="1435" y="1556.3" font-size="25.8" fill="#111">80</text></g>
<g id="ph"><text transform="translate(1566.3 1089.4) scale(1 1)" font-size="48" font-weight="bold">h</text><text x="1795.5" y="1101.8" font-size="36.3" text-anchor="middle" font-style="italic" fill="#111">Sox9</text><path d="M1749.5 1117.3V1606.7" stroke="#000" stroke-width="3.4" fill="none"/><text x="1728.7" y="1183" font-size="25.9" text-anchor="end" fill="#111">Proliferating</text><circle cx="1781" cy="1174.2" r="13.6" fill="#de2a2d" stroke="#000" stroke-width="1.2"/><text x="1728.7" y="1277.1" font-size="25.9" text-anchor="end" fill="#111">Transitional</text><circle cx="1781" cy="1268.3" r="14" fill="#dc292c" stroke="#000" stroke-width="1.2"/><text x="1728.7" y="1371.4" font-size="25.9" text-anchor="end" fill="#111">ATI-Like</text><circle cx="1781" cy="1362.6" r="3.2" fill="#000" stroke="#000" stroke-width="1.2"/><text x="1728.7" y="1465.2" font-size="25.9" text-anchor="end" fill="#111">Indeterminate</text><circle cx="1781" cy="1456.4" r="12.8" fill="#dc292c" stroke="#000" stroke-width="1.2"/><text x="1728.7" y="1559.1" font-size="25.9" text-anchor="end" fill="#111">ATII-Like</text><circle cx="1781" cy="1550.3" r="6.3" fill="#1a0d0a" stroke="#000" stroke-width="1.2"/><path d="M1736.5 1174.2H1748M1736.5 1268.3H1748M1736.5 1362.6H1748M1736.5 1456.4H1748M1736.5 1550.3H1748" stroke="#000" stroke-width="3.1" fill="none"/><text x="1906.7" y="1198.2" font-size="29.4" text-anchor="middle" font-weight="bold">Percent</text><text x="1906.7" y="1224.4" font-size="29.4" text-anchor="middle" font-weight="bold">Expressing</text><circle cx="1874" cy="1257.5" r="8.5" fill="#fff" stroke="#000" stroke-width="1.3"/><text x="1892.3" y="1266.8" font-size="25.8" fill="#111">10</text><circle cx="1874" cy="1286.7" r="11.3" fill="#fff" stroke="#000" stroke-width="1.3"/><text x="1892.3" y="1296" font-size="25.8" fill="#111">15</text><circle cx="1874" cy="1316.7" r="13.2" fill="#fff" stroke="#000" stroke-width="1.3"/><text x="1892.3" y="1326" font-size="25.8" fill="#111">20</text><text x="1898.5" y="1396.7" font-size="29.4" text-anchor="middle" font-weight="bold">Scaled</text><text x="1898.5" y="1423" font-size="29.4" text-anchor="middle" font-weight="bold">Average</text><text x="1898.5" y="1449.3" font-size="29.4" text-anchor="middle" font-weight="bold">Expression</text><defs><linearGradient id="gsox" x1="0" x2="0" y1="0" y2="1"><stop offset="0" stop-color="#e2252b"/><stop offset="0.25" stop-color="#c32126"/><stop offset="0.5" stop-color="#8a1c1c"/><stop offset="0.75" stop-color="#4a1712"/><stop offset="1" stop-color="#0c0504"/></linearGradient></defs><rect x="1860.6" y="1467.2" width="25.8" height="125" fill="url(#gsox)" stroke="#000" stroke-width="1.8"/><text x="1901" y="1496.5" font-size="25.8" fill="#111">0.5</text><text x="1901" y="1530.4" font-size="25.8" fill="#111">0.0</text><text x="1901" y="1564.5" font-size="25.8" fill="#111">-0.5</text><text x="1901" y="1598.4" font-size="25.8" fill="#111">-1.0</text><path d="M1861.5 1487.3h4.5M1885.5 1487.3h-4.5M1861.5 1521.2h4.5M1885.5 1521.2h-4.5M1861.5 1555.3h4.5M1885.5 1555.3h-4.5M1861.5 1589.2h4.5M1885.5 1589.2h-4.5" stroke="#fff" stroke-width="0.8" stroke-opacity="0.8" fill="none"/></g>
</svg>
</body></html>
